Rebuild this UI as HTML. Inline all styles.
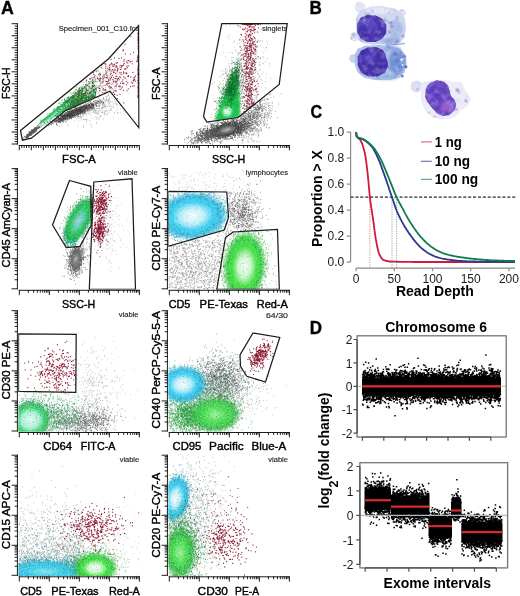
<!DOCTYPE html>
<html lang="en"><head><meta charset="utf-8"><title>Figure</title>
<style>
html,body{margin:0;padding:0;background:#fff;}
body{width:520px;height:596px;overflow:hidden;}
svg{display:block;}
text{font-family:"Liberation Sans",sans-serif;}
.fl text{stroke:#000;stroke-width:0.4px;}
.pl text{stroke:#000;stroke-width:0.35px;}
.an text{stroke:#262626;stroke-width:0.15px;}
.d path{fill:none;stroke-linecap:round;}
</style></head><body>
<svg width="520" height="596" viewBox="0 0 520 596">
<rect width="520" height="596" fill="#fff"/>
<defs><radialGradient id="gG"><stop offset="0" stop-color="#f6fef6" stop-opacity="1"/><stop offset="0.3" stop-color="#c9f7c9" stop-opacity="1"/><stop offset="0.56" stop-color="#3fe03f" stop-opacity="1"/><stop offset="0.8" stop-color="#2acd36" stop-opacity="0.85"/><stop offset="1" stop-color="#2acd36" stop-opacity="0"/></radialGradient><radialGradient id="gC"><stop offset="0" stop-color="#f4fdff" stop-opacity="1"/><stop offset="0.32" stop-color="#c0f0fa" stop-opacity="1"/><stop offset="0.58" stop-color="#36cdf2" stop-opacity="1"/><stop offset="0.8" stop-color="#27bbe2" stop-opacity="0.85"/><stop offset="1" stop-color="#27bbe2" stop-opacity="0"/></radialGradient><radialGradient id="gT"><stop offset="0" stop-color="#a5cfe4" stop-opacity="1"/><stop offset="0.28" stop-color="#62cdb4" stop-opacity="1"/><stop offset="0.58" stop-color="#22c257" stop-opacity="1"/><stop offset="0.82" stop-color="#1cb648" stop-opacity="0.85"/><stop offset="1" stop-color="#1cb648" stop-opacity="0"/></radialGradient><radialGradient id="gK"><stop offset="0" stop-color="#b3b3b3" stop-opacity="1"/><stop offset="0.4" stop-color="#8a8a8a" stop-opacity="0.9"/><stop offset="0.8" stop-color="#6c6c6c" stop-opacity="0.6"/><stop offset="1" stop-color="#6c6c6c" stop-opacity="0"/></radialGradient><radialGradient id="gM"><stop offset="0" stop-color="#e0f9f2" stop-opacity="1"/><stop offset="0.42" stop-color="#a8efd2" stop-opacity="1"/><stop offset="0.63" stop-color="#3fd374" stop-opacity="1"/><stop offset="0.82" stop-color="#25ba54" stop-opacity="0.75"/><stop offset="1" stop-color="#25ba54" stop-opacity="0"/></radialGradient><radialGradient id="gD"><stop offset="0" stop-color="#9af29a" stop-opacity="1"/><stop offset="0.4" stop-color="#4ade50" stop-opacity="1"/><stop offset="0.75" stop-color="#2cc03c" stop-opacity="0.8"/><stop offset="1" stop-color="#2cc03c" stop-opacity="0"/></radialGradient><radialGradient id="gD2"><stop offset="0" stop-color="#2fbf55" stop-opacity="1"/><stop offset="0.6" stop-color="#25ad48" stop-opacity="0.9"/><stop offset="1" stop-color="#25ad48" stop-opacity="0"/></radialGradient><radialGradient id="gG2"><stop offset="0" stop-color="#e2fbe6" stop-opacity="1"/><stop offset="0.22" stop-color="#a9f0b9" stop-opacity="1"/><stop offset="0.5" stop-color="#3fd762" stop-opacity="1"/><stop offset="0.78" stop-color="#27bf4c" stop-opacity="0.85"/><stop offset="1" stop-color="#27bf4c" stop-opacity="0"/></radialGradient><radialGradient id="gP"><stop offset="0" stop-color="#effdf1" stop-opacity="1"/><stop offset="0.45" stop-color="#c4f5cf" stop-opacity="0.95"/><stop offset="1" stop-color="#6fe08f" stop-opacity="0"/></radialGradient><radialGradient id="gC2"><stop offset="0" stop-color="#7fe0f0" stop-opacity="1"/><stop offset="0.5" stop-color="#33c8e6" stop-opacity="1"/><stop offset="0.8" stop-color="#2bc0de" stop-opacity="0.75"/><stop offset="1" stop-color="#2bc0de" stop-opacity="0"/></radialGradient><clipPath id="k1"><polygon points="20.5,130.6 108.6,58.7 138.6,25.5 138.9,127.8 110.0,91.2 65.0,111.0 31.4,138.2 22.4,140.2"/></clipPath><linearGradient id="gW" gradientUnits="userSpaceOnUse" x1="62" y1="100" x2="69.5" y2="109.2"><stop offset="0" stop-color="#148a3e"/><stop offset="0.3" stop-color="#1fb653"/><stop offset="0.55" stop-color="#8fe6b0"/><stop offset="0.8" stop-color="#25b95a"/><stop offset="1" stop-color="#1d9a48"/></linearGradient><clipPath id="c00"><rect x="18.3" y="22.2" width="121.5" height="122.6"/></clipPath><clipPath id="k2"><polygon points="221.8,23.6 287.2,23.6 279.2,84.5 238.0,117.5 206.8,122.0 203.5,116.3"/></clipPath><clipPath id="c10"><rect x="168.3" y="22.2" width="121.5" height="122.6"/></clipPath><clipPath id="k3"><polygon points="69.5,180.5 90.8,186.3 91.3,225.0 80.0,246.3 66.3,247.5 52.5,225.0"/></clipPath><clipPath id="c01"><rect x="18.3" y="167.1" width="121.5" height="122.5"/></clipPath><clipPath id="k4a"><polygon points="168.0,191.3 226.8,192.0 228.5,217.5 224.3,230.0 168.0,246.3"/></clipPath><clipPath id="k4b"><polygon points="225.5,237.5 233.0,232.0 277.5,229.5 279.3,289.3 216.8,289.3"/></clipPath><clipPath id="c11"><rect x="168.3" y="167.1" width="121.5" height="122.5"/></clipPath><clipPath id="c02"><rect x="18.3" y="309.2" width="121.5" height="122.6"/></clipPath><clipPath id="c12"><rect x="168.3" y="309.2" width="121.5" height="122.6"/></clipPath><clipPath id="c03"><rect x="18.3" y="453.7" width="121.5" height="122.4"/></clipPath><clipPath id="c13"><rect x="168.3" y="453.7" width="121.5" height="122.4"/></clipPath><filter id="b1" x="-30%" y="-30%" width="160%" height="160%"><feGaussianBlur stdDeviation="0.75"/></filter><filter id="b2" x="-30%" y="-30%" width="160%" height="160%"><feGaussianBlur stdDeviation="0.65"/></filter><filter id="b3" x="-30%" y="-30%" width="160%" height="160%"><feGaussianBlur stdDeviation="1.6"/></filter><filter id="mot" x="0" y="0" width="100%" height="100%" color-interpolation-filters="sRGB"><feTurbulence type="fractalNoise" baseFrequency="0.16" numOctaves="2" seed="7" result="n"/><feColorMatrix in="n" type="matrix" values="0 0 0 0 0.85  0 0 0 0 0.85  0 0 0 0 1  0.9 0 0 0 -0.38" result="w"/><feComposite in="w" in2="SourceGraphic" operator="in" result="wm"/><feColorMatrix in="n" type="matrix" values="0 0 0 0 0.15  0 0 0 0 0.1  0 0 0 0 0.5  0 -1.3 0 0 0.55" result="k"/><feComposite in="k" in2="SourceGraphic" operator="in" result="km"/><feMerge><feMergeNode in="SourceGraphic"/><feMergeNode in="wm"/><feMergeNode in="km"/></feMerge></filter><filter id="grain" x="0" y="0" width="100%" height="100%" color-interpolation-filters="sRGB"><feTurbulence type="fractalNoise" baseFrequency="0.85" numOctaves="1" seed="3" result="n"/><feColorMatrix in="n" type="matrix" values="0 0 0 0 1  0 0 0 0 1  0 0 0 0 1  1.8 0 0 0 -0.92" result="w"/><feComposite in="w" in2="SourceGraphic" operator="in" result="wm"/><feColorMatrix in="n" type="matrix" values="0 0 0 0 0  0 0 0 0 0.3  0 0 0 0 0.35  0 -2.2 0 0 0.82" result="k"/><feComposite in="k" in2="SourceGraphic" operator="in" result="km"/><feMerge><feMergeNode in="SourceGraphic"/><feMergeNode in="wm"/><feMergeNode in="km"/></feMerge></filter><filter id="tear" x="-20%" y="-20%" width="140%" height="140%"><feGaussianBlur stdDeviation="1.1"/></filter><filter id="wed" x="-10%" y="-10%" width="120%" height="120%"><feGaussianBlur stdDeviation="0.7"/></filter><filter id="soft" x="-5%" y="-5%" width="110%" height="110%"><feGaussianBlur stdDeviation="0.35"/></filter></defs>
<g clip-path="url(#c00)"><g filter="url(#soft)" class="d"><path d="M43.6 128.6h0m2.6-1.8h0m2.7-1.2h0m1-1.1h0m1.3 .2h0m.4-.8h0m.3-1.1h0m.2 .6h0m.3-.4h0m.3-1.7h0m.2 1.6h0m.2-2.3h0m1-.7h0m0 1.5h0m0 1.6h0m.1-1.1h0m.2-1.9h0m.2 .2h0m0 .9h0m.4 0h0m.3-1.5h0m.1 .7h0m0 1.1h0m.3 .4h0m.1-.5h0m0 .4h0m.6-3.3h0m0 1h0m0 5.3h0m.1-4.1h0m0 .5h0m0 2.8h0m.1-.5h0m.1-2.8h0m.1 .8h0m0 .3h0m.4-1.2h0m.2 4.8h0m.1-5.3h0m.1-.1h0m.3-1h0m0 1.7h0m0 1.9h0m.1-4.9h0m0 1.6h0m0 2.3h0m.1-2.8h0m.1 .5h0m0 2h0m.1-3.3h0m0 3.3h0m.1-3h0m0 .3h0m.3-.9h0m0 1h0m0 .2h0m0 2.8h0m0 .3h0m.1-4.5h0m0 2.4h0m0 2.1h0m.1-3.4h0m0 .7h0m.1-.1h0m0 .3h0m0 0h0m0 1.7h0m.1 0h0m0 .4h0m.1-2.6h0m0 .4h0m0 .1h0m0 .8h0m0 1.5h0m0 .2h0m.2-3h0m0 1.2h0m.3-.8h0m0 .3h0m0 1.4h0m.1-2.2h0m0 .2h0m0 3.6h0m.1-4.8h0m0 1.1h0m.1 .5h0m.1 .1h0m0 1.4h0m.1-3.1h0m0 2.8h0m.1-5h0m.1 4.3h0m.1-2.5h0m0 .6h0m.1-2.4h0m0 3.1h0m0 3.6h0m.1-4.9h0m0 1.7h0m0 .4h0m0 .9h0m0 1.2h0m.1-2.4h0m0 .6h0m0 1.1h0m.2-5h0m0 2.6h0m0 1h0m0 .2h0m.1-3.9h0m0 3h0m0 2.9h0m.1-6.2h0m0 .1h0m0 .7h0m0 0h0m.2 2.1h0m.1-2.2h0m0 3.3h0m0 .3h0m.1-3.3h0m0 .2h0m0 3h0m0 .3h0m.1-1.5h0m0 .4h0m0 1.9h0m.2-4.5h0m.1 .2h0m0 1.5h0m0 1.2h0m.1-2.8h0m0 1.6h0m0 2.9h0m.1-3.6h0m0 1.2h0m.1-.7h0m.1-3h0m0 2.1h0m.1-2h0m0 .9h0m0 .5h0m0 1.2h0m0 0h0m0 2.3h0m0 .8h0m.1-4.2h0m0 1.5h0m0 2.2h0m0 .2h0m0 .7h0m.1-2.7h0m0 2.3h0m.1-6.5h0m0 5.1h0m.1-2.7h0m0 .8h0m0 4.9h0m.1-4h0m0 1.7h0m.1-4.9h0m0 .4h0m0 0h0m0 .6h0m0 3.6h0m.1-2h0m0 2.4h0m.1-3.8h0m.1 3.2h0m0 .8h0m.1-3.1h0m0 4.8h0m.1-5.9h0m0 .5h0m0 2.1h0m.1-2.8h0m0 2.3h0m.1 .6h0m0 .9h0m.1-2.9h0m0 1.1h0m0 .4h0m0 .4h0m0 .4h0m0 1h0m.1-4.8h0m0 2.5h0m.1-4.5h0m0 2.1h0m0 .6h0m0 1.1h0m0 1.3h0m.1-3.8h0m0 1.6h0m.1-.5h0m0 .7h0m0 1.1h0m0 2.7h0m.1-4.9h0m0 1.5h0m0 .4h0m0 .4h0m0 .5h0m.1-3h0m.1 .3h0m.1-1.3h0m0 .7h0m0 .1h0m0 1.8h0m0 .8h0m.1-2.2h0m0 1h0m0 .4h0m0 2.2h0m0 .9h0m.1-4h0m0 2.7h0m.1-2.6h0m0 .8h0m0 1.9h0m0 .8h0m.1-3.5h0m.1 1.9h0m0 1.5h0m.1-6.5h0m0 3.7h0m0 .6h0m0 1.3h0m0 1.2h0m.1-6.3h0m0 .9h0m0 2.2h0m.1 1.7h0m0 .6h0m0 2.7h0m.1-7.2h0m0 .9h0m0 1.6h0m.1-.9h0m.1 .4h0m0 .7h0m.1-1.6h0m0 .6h0m0 2.9h0m.1-2.6h0m0 .6h0m0 1.2h0m0 .6h0m0 .7h0m0 2.8h0m.1-7.8h0m.1 3.4h0m.1-3.1h0m0 1.7h0m0 0h0m0 .1h0m0 0h0m.1-1.5h0m0 .5h0m0 .9h0m0 0h0m0 .7h0m0 2h0m.1-3.8h0m0 1h0m0 .9h0m.1-4.7h0m0 1h0m0 2.5h0m0 .1h0m.1 .3h0m0 .2h0m.1-3.9h0m0 4.5h0m.1-1.5h0m0 1h0m.1-1.9h0m0 .3h0m0 4.4h0m.1-4.8h0m0 1.6h0m0 .3h0m0 3.7h0m.1-6h0m0 2.1h0m0 .8h0m.1-2.7h0m0 1.2h0m0 .9h0m.1-2.8h0m0 .6h0m0 .4h0m0 .3h0m0 1.2h0m0 .1h0m0 .4h0m.1-1.4h0m0 .6h0m0 .2h0m0 .5h0m.1-4.8h0m0 3h0m0 2.5h0m0 1.1h0m0 1h0m.1-6.7h0m0 3.3h0m0 .1h0m0 .3h0m0 .8h0m.1-3.5h0m0 1.9h0m0 1.5h0m0 1.5h0m.1-7h0m0 2.6h0m0 .4h0m.1-2.9h0m0 3.1h0m0 .1h0m0 .7h0m0 2.6h0m.1-4h0m0 1.9h0m0 .2h0m.1-1.4h0m0 .4h0m0 .1h0m0 .6h0m0 .2h0m0 0h0m.1-1.5h0m0 1.8h0m.1-4.2h0m0 3.2h0m.1-3.1h0m0 .7h0m0 .9h0m0 1.8h0m.1-1.6h0m0 1h0m.2-1h0m0 1h0m0 3.6h0m0 .5h0m.1-7h0m0 3h0m0 .1h0m0 .6h0m0 .6h0m0 1.5h0m.1-6.4h0m0 1.3h0m0 .8h0m.1-2.7h0m0 1.3h0m0 2.6h0m0 3.2h0m.1-8.6h0m0 3.2h0m0 2.2h0m0 1.7h0m.1-.9h0m0 .7h0m0 1.7h0m.1-2.7h0m0 .9h0m0 1.4h0m.1-5h0m0 3.4h0m0 1.1h0m.1-6.1h0m0 2.3h0m0 .5h0m0 .6h0m0 1.8h0m.1-4.9h0m0 3.2h0m0 2.9h0m.1-5.3h0m0 .9h0m0 .8h0m0 2h0m0 .4h0m0 2h0m.1-4.4h0m0 0h0m0 1.6h0m0 .3h0m0 1.6h0m.1-5.4h0m0 3.3h0m0 .2h0m0 .6h0m.1-1.8h0m0 .1h0m0 .1h0m0 .7h0m0 .2h0m0 1.3h0m0 1.9h0m.1-5.2h0m0 .7h0m0 .5h0m0 .3h0m0 .2h0m0 1.4h0m.1-2h0m0 1.1h0m0 1.9h0m.1-5.7h0m0 4.4h0m.1-2.1h0m0 .7h0m0 .4h0m0 .3h0m0 .2h0m0 1.8h0m.1-3.4h0m.1-1.4h0m0 .5h0m0 1.4h0m0 .4h0m0 .4h0m0 .9h0m0 .5h0m.1-5.7h0m0 0h0m0 .8h0m0 1.2h0m0 .2h0m0 1.3h0m0 .4h0m0 .4h0m0 .6h0m0 .4h0m.1-6.9h0m0 1.1h0m0 1.2h0m0 1.5h0m0 .2h0m0 2h0m.1-1.6h0m0 1h0m0 .2h0m.1-4.2h0m0 1.6h0m0 1.1h0m0 2h0m0 .1h0m0 .8h0m0 .3h0m.1-7.5h0m0 2.9h0m0 1.6h0m0 1.6h0m.1-1.8h0m0 1.5h0m0 .4h0m.1-3.7h0m0 1.3h0m0 2.5h0m0 1.6h0m.1-4.1h0m0 1.3h0m0 3.9h0m.1-6.2h0m0 2h0m0 1h0m0 .8h0m0 1.4h0m0 1.4h0m.1-7.2h0m0 .4h0m0 1.8h0m0 1.1h0m0 .3h0m.1-3.3h0m0 1.4h0m0 .5h0m0 0h0m0 .6h0m0 .2h0m0 .7h0m0 .8h0m.1-2.8h0m0 1h0m0 .2h0m0 .4h0m0 0h0m0 2.7h0m.1-6.4h0m0 3.1h0m0 .3h0m0 .6h0m0 1h0m.1-5.1h0m0 5.1h0m.1-3.9h0m0 2h0m0 .1h0m0 .1h0m0 1.3h0m0 .8h0m.1-6.1h0m0 1.6h0m0 1.3h0m0 0h0m0 1.2h0m.1-3.6h0m0 .5h0m0 .3h0m0 .9h0m0 .4h0m0 .1h0m0 1.2h0m0 .1h0m0 .6h0m0 1h0m.1-3.9h0m0 .5h0m0 .3h0m0 .1h0m0 2.8h0m0 .4h0m.1-5.5h0m0 3.6h0m.1-.2h0m0 .2h0m0 1.1h0m0 0h0m.1-5.3h0m0 .9h0m0 1.5h0m0 1.2h0m.1-2h0m0 2.4h0m0 .4h0m0 .2h0m0 .3h0m0 .3h0m0 1.8h0m.1-6.9h0m0 .1h0m0 1.7h0m0 .1h0m0 .9h0m0 .2h0m0 .7h0m0 .1h0m0 .5h0m.1-2h0m0 .1h0m0 2.3h0m0 .4h0m0 .6h0m.1-5.9h0m0 .3h0m0 1.2h0m0 .6h0m0 .3h0m0 .8h0m0 .8h0m0 .4h0m.1-2h0m0 2.5h0m0 2.8h0m.1-4.5h0m0 1.2h0m0 1.7h0m.1-3.7h0m0 .3h0m0 .8h0m.1-3.1h0m0 1.2h0m0 1.1h0m0 1.7h0m0 .4h0m.1-3.4h0m0 2.2h0m0 1.1h0m0 1.9h0m.1-3.1h0m0 1h0m0 .4h0m.1-5.1h0m0 2.2h0m0 .2h0m0 2.2h0m0 1h0m.1-5.1h0m0 3.5h0m0 .3h0m0 .8h0m.1-1.4h0m0 .4h0m0 0h0m0 .6h0m0 .6h0m.1-4h0m0 .8h0m0 .6h0m0 1.1h0m0 0h0m.1-5.2h0m0 4.6h0m0 2.4h0m0 .4h0m.2-6.1h0m0 1h0m0 1.9h0m0 .1h0m0 .2h0m0 1h0m0 .3h0m0 .9h0m0 0h0m0 1.5h0m.1-4.2h0m0 0h0m0 .3h0m0 .7h0m0 .6h0m.1-1.7h0m.1-1.4h0m0 4.7h0m.1-3h0m0 .6h0m.1-2.2h0m0 2.4h0m0 .9h0m.1-4.7h0m0 1.1h0m0 4.9h0m.1-8h0m0 1.4h0m0 2.3h0m0 1h0m0 .2h0m0 1.6h0m0 .5h0m.1-3.2h0m0 .7h0m0 .6h0m0 .9h0m0 1.3h0m0 .6h0m.1-1.8h0m.1-2.7h0m0 .8h0m0 .9h0m0 1.8h0m0 .7h0m0 2h0m.1-7.5h0m0 .7h0m0 .9h0m0 2.2h0m0 .8h0m0 .7h0m.2-7.4h0m0 1.6h0m0 .3h0m0 .5h0m0 .4h0m0 1h0m0 .1h0m0 .4h0m0 .1h0m0 .1h0m.1-2.2h0m0 1.9h0m0 .3h0m0 .5h0m0 0h0m0 .6h0m0 .7h0m0 .1h0m.1-5.4h0m0 0h0m0 1h0m0 3.2h0m0 1.3h0m.1-3.6h0m0 .6h0m0 1.5h0m0 .1h0m.1-4.3h0m0 .3h0m0 4h0m0 .3h0m.1-3.3h0m0 .3h0m0 2.1h0m0 .5h0m0 0h0m0 .7h0m0 .7h0m0 0h0m0 .7h0m.1-6.3h0m0 .4h0m0 2.1h0m0 1.2h0m.1-3.4h0m0 2.3h0m0 1.4h0m0 .1h0m0 1h0m.2-3h0m0 .3h0m0 2h0m0 .6h0m0 .5h0m.1-3.7h0m0 1.7h0m0 .2h0m0 0h0m0 .4h0m0 2.4h0m.1-5.1h0m0 .6h0m0 .6h0m0 .3h0m0 .4h0m0 0h0m0 1h0m0 3.2h0m.1-6.8h0m0 1.9h0m0 2.3h0m0 1h0m0 1.1h0m.1-4.5h0m0 1.5h0m0 0h0m0 1.8h0m.1-7.4h0m0 4.2h0m0 0h0m0 .1h0m0 .1h0m0 .1h0m0 .3h0m0 1h0m0 1h0m0 .6h0m.1-4.8h0m0 1.5h0m0 .1h0m0 1h0m.1-1.1h0m0 .6h0m0 .2h0m.1-2.2h0m0 1.6h0m.1-1.9h0m0 1.9h0m0 1h0m.1-1.8h0m0 .3h0m0 .8h0m0 .8h0m0 0h0m0 .7h0m0 .7h0m.1-5.7h0m0 2.5h0m0 1.1h0m0 .4h0m0 .2h0m0 1.5h0m0 .1h0m0 2.4h0m.1-8.3h0m0 1.2h0m0 .1h0m0 .3h0m0 .6h0m0 1.8h0m0 1.8h0m.1-4h0m0 2h0m0 .3h0m0 1.1h0m.1 .4h0m0 1.7h0m.1-5.9h0m0 1.6h0m0 .3h0m0 1.4h0m0 .7h0m0 .5h0m0 .3h0m.1-3h0m0 .2h0m0 2.1h0m0 .2h0m.1-3.8h0m0 .3h0m0 .9h0m0 0h0m0 .4h0m0 .1h0m0 .2h0m0 .3h0m0 1.6h0m0 2.8h0m.1-6.8h0m0 .5h0m0 .9h0m0 0h0m0 .6h0m0 0h0m0 .7h0m0 .9h0m0 .1h0m0 .1h0m.1-4h0m0 1.2h0m0 .2h0m0 .6h0m0 2.7h0m0 .5h0m.1-5.9h0m0 .2h0m0 .9h0m0 1.6h0m0 2.9h0m0 .2h0m.1-6.9h0m0 1.2h0m0 1.1h0m0 .1h0m0 .3h0m.1-1.7h0m0 1.9h0m0 .7h0m0 .3h0m0 .1h0m0 .5h0m0 .1h0m0 .6h0m0 .2h0m0 3.7h0m.1-7.1h0m0 2.6h0m0 .2h0m.1-2.3h0m0 .6h0m0 .5h0m0 .1h0m0 .5h0m0 .1h0m0 .4h0m0 1.5h0m.1-3.9h0m0 .8h0m0 .1h0m0 .2h0m.1-1.2h0m0 .7h0m0 .4h0m0 .7h0m0 .8h0m0 1h0m.1-6.3h0m0 4.5h0m0 .1h0m0 .2h0m.1-3h0m0 .9h0m0 0h0m0 .3h0m0 1.8h0m0 1.4h0m0 .1h0m0 .3h0m.1-5.8h0m0 .2h0m0 5.2h0m.1-5.4h0m0 1.9h0m0 .3h0m0 2.8h0m.1-5.4h0m0 .1h0m0 1.1h0m0 .9h0m0 .6h0m0 .1h0m0 .1h0m0 .2h0m0 .7h0m0 .7h0m0 1.2h0m.1-2.8h0m0 .1h0m0 .2h0m0 .7h0m.1-3.5h0m0 .3h0m0 2.5h0m0 2.2h0m0 .2h0m0 .6h0m.1-4.6h0m0 1.9h0m0 1.1h0m.1-4.6h0m0 1.9h0m0 1.4h0m0 5.4h0m.1-8h0m0 2.1h0m0 .1h0m0 1h0m0 .4h0m0 .6h0m.1-2.7h0m0 .1h0m0 .2h0m0 .4h0m0 1.2h0m0 .4h0m0 1h0m0 .3h0m0 1.5h0m.1-8.5h0m0 1h0m0 1.4h0m0 .7h0m0 .7h0m0 .4h0m0 .2h0m0 .3h0m0 .1h0m0 1.1h0m0 .3h0m.1-4.7h0m0 .3h0m0 .2h0m0 1.6h0m0 .1h0m0 .2h0m0 2.3h0m.1-3.9h0m0 .4h0m0 .4h0m0 .1h0m0 2.4h0m0 .8h0m.1-3.1h0m0 .2h0m.1-1.5h0m0 1.6h0m0 .5h0m0 1.5h0m.1-3.6h0m0 .2h0m0 .9h0m0 .6h0m0 1.5h0m0 .2h0m.1-2.4h0m0 .3h0m0 3.9h0m.1-5.3h0m0 .5h0m0 .5h0m0 1.5h0m0 0h0m.1-3.1h0m0 1.5h0m0 .7h0m0 .1h0m0 1.2h0m0 .8h0m.1-2.6h0m0 0h0m0 .9h0m.1-3.4h0m0 3.5h0m0 .3h0m0 .3h0m0 .1h0m0 1h0m.1-5.7h0m0 .6h0m0 4.7h0m0 1.3h0m.1-3.5h0m0 2.6h0m.1-3.6h0m0 2.7h0m0 5.8h0m.1-9.6h0m0 3.2h0m0 .2h0m0 .2h0m0 1h0m.1-3.9h0m0 2.1h0m0 .5h0m0 2h0m.1-5.9h0m0 2.7h0m.1 .7h0m0 .5h0m0 4.1h0m.1-8.1h0m0 .7h0m0 1.3h0m0 .6h0m0 1.7h0m0 1.2h0m.1-4.3h0m0 .9h0m0 .3h0m0 .6h0m0 3.7h0m.1-4.7h0m0 .3h0m0 1.3h0m0 1.4h0m.1-4.5h0m0 1h0m0 1.9h0m0 .1h0m0 2.2h0m.1-5.9h0m0 2.3h0m0 1h0m0 .7h0m0 .6h0m0 1.8h0m.1-4.9h0m0 0h0m0 3.7h0m.1-3.2h0m0 .7h0m0 2.5h0m.1-3.5h0m0 .2h0m0 1.1h0m0 1.7h0m.1-3.5h0m0 .5h0m0 .5h0m0 .3h0m0 1.1h0m0 .2h0m0 .1h0m0 3.6h0m.1-7.3h0m0 .5h0m0 4.8h0m.1-5.1h0m0 .9h0m0 2.7h0m.1-4.4h0m0 3.5h0m0 .4h0m0 .2h0m0 0h0m.1-3.7h0m0 2.8h0m0 1.1h0m.1-2.3h0m0 .7h0m0 .5h0m.1-3.5h0m0 2.1h0m0 .9h0m0 1.9h0m0 1.6h0m.1-5.6h0m0 1.6h0m0 .5h0m.1-.7h0m0 1.2h0m0 .3h0m0 1.9h0m.1-5.2h0m0 1.4h0m0 .2h0m0 .3h0m0 1h0m0 2.2h0m.1-4.3h0m.1-1.7h0m0 0h0m0 .9h0m0 .9h0m0 1h0m.1 .1h0m0 .1h0m0 .7h0m0 .5h0m0 1.6h0m0 1.2h0m0 .4h0m0 .9h0m.1-7h0m0 1.2h0m0 2.1h0m0 .8h0m0 2.2h0m.1-7h0m.1-.3h0m0 1.8h0m0 .5h0m.1 1.7h0m0 .5h0m0 .5h0m.2-1.9h0m0 1.7h0m0 .3h0m0 1.1h0m0 .7h0m.1-4.3h0m0 .5h0m0 .2h0m0 .3h0m.1-1.6h0m0 .2h0m0 3h0m0 3.1h0m.1-5.2h0m.1-2.7h0m0 2.5h0m.1-1.4h0m0 1.6h0m0 .2h0m.1 .8h0m0 .3h0m0 1h0m.1-4.2h0m0 1.5h0m.1-3.2h0m0 .5h0m0 1.5h0m0 .6h0m0 .2h0m.1-.6h0m0 0h0m0 .3h0m0 1.3h0m0 2.5h0m.1-7.4h0m0 3.8h0m0 .4h0m0 2.5h0m0 1.4h0m.1-6.3h0m0 1.3h0m0 1.1h0m.1-2.9h0m0 2.5h0m0 .3h0m.1-.9h0m.1 .2h0m.1-2.3h0m0 3.6h0m.1-3.1h0m.2 .9h0m0 .6h0m0 1h0m0 3h0m.1-6.1h0m0 .5h0m0 1.1h0m0 .9h0m0 .4h0m0 .2h0m.1-1.4h0m0 2.1h0m.1-3.3h0m0 .7h0m0 .5h0m0 2.9h0m0 .6h0m.1-3.9h0m0 1.5h0m.1-1.1h0m0 1.3h0m.1-.2h0m.1 1.7h0m.1-2.7h0m.1-.4h0m0 1.3h0m0 .6h0m0 1.2h0m0 0h0m.1-5.3h0m0 2.3h0m.1 .2h0m0 .3h0m0 1.7h0m.1-1.7h0m0 3.7h0m0 .2h0m.1-7.4h0m0 2.3h0m0 .9h0m0 3.3h0m.1-2.9h0m0 1.3h0m0 .3h0m.1-2.7h0m.2-.9h0m0 1.8h0m.1 .7h0m.1-2.4h0m0 2.1h0m.1-2.7h0m0 4.1h0m0 .9h0m.1-3.4h0m0 .5h0m.1 .2h0m0 1.1h0m.1-6.5h0m0 1.2h0m0 1.8h0m.1 3.2h0m.1-2.3h0m0 1.9h0m0 1.5h0m.1-4.4h0m0 .3h0m0 .1h0m0 .5h0m0 4.8h0m.1-5.2h0m0 1.2h0m0 1.6h0m.1-1.6h0m0 .2h0m0 1.3h0m0 .7h0m.1-.2h0m0 1.9h0m.2-3.6h0m0 .7h0m0 .2h0m.1 .1h0m.1 1.4h0m.1-2.6h0m.1 1.6h0m.1-6.2h0m.1 6.7h0m.1-4.6h0m0 2.4h0m.1 .6h0m.1 .9h0m0 0h0m.1 3.4h0m.1-8.3h0m0 1.7h0m0 2.7h0m.1 1.4h0m.1-4.3h0m0 3.6h0m0 .5h0m0 1.4h0m.1-4h0m0 2.4h0m0 .5h0m.1-8.3h0m0 4.6h0m.1 1.5h0m.1-3.1h0m0 .9h0m0 1.3h0m.1-.9h0m.1 3.6h0m.1-4h0m0 2.1h0m0 1.3h0m.2-1.7h0m0 .4h0m0 1.7h0m.1-3.4h0m.1-1.2h0m0 3.4h0m0 .4h0m0 .2h0m.3-3.9h0m0 1.4h0m.1-.7h0m.1 4h0m.1-2.8h0m0 0h0m.1-.9h0m0 3.8h0m0 1.4h0m.1-4.7h0m.1-.7h0m0 1.2h0m0 .1h0m.1 0h0m.1 2.9h0m.1-6.7h0m0 2.9h0m0 .3h0m0 2.4h0m.1-3.3h0m0 2.1h0m.1-1.5h0m0 .3h0m0 1.7h0m.1 .1h0m.1-5.5h0m.1 4.5h0m.1-.3h0m.9 2.5h0m.1-5.6h0m0 .7h0m.1 1h0m.1-3.4h0m.1 3.9h0m.5-.6h0m.1 .9h0m.3-2.3h0m.1 1.4h0m0 2h0m0 .5h0m.1-.9h0m.3-2.1h0m.2-2.7h0m0 2.3h0m.1-1.3h0m.3 .2h0m.1 1.3h0m.4-2.2h0m.3 5.3h0m.3-3.1h0m.4-1.9h0m0 .3h0m.1 .4h0m.4 3.9h0m.3-5.8h0m.2 2.3h0m.3 1.2h0m.6-3.5h0m0 .8h0m.2 .9h0m0 .2h0m.2 .1h0m.6 .4h0m.3-1.3h0m.5 2.8h0m.8-6.1h0m0 4.4h0m.1 .4h0m.3 .6h0m.1-.4h0m.2-3.7h0m1.5 1.7h0m.7-4h0m.3 2.3h0m2-4.2h0m.4 4.9h0" stroke="#444" stroke-width="1.00" opacity="0.85"/><path d="M58.2 118h0m1.1 8.6h0m1.7-2.3h0m4.5-11.4h0m1.5 12.2h0m.6-6.4h0m.1 1.5h0m.5 5h0m1.8-12.4h0m3.8 1.9h0m.2 0h0m.1 5.9h0m.8-7.6h0m.1 .6h0m.7-1.6h0m.1 2.1h0m.6-.2h0m.6 4.7h0m.4-1h0m.4 8.7h0m.5-14.2h0m.2 8.8h0m.2-8.7h0m.4 0h0m.5 6.2h0m.3-4.7h0m.4 4.1h0m.3 .4h0m1.1 1.6h0m.2-3.3h0m.6-8.2h0m.2 1.9h0m.6 8.8h0m0 6.6h0m0 1.1h0m.1-11.1h0m0 3.9h0m.1 7.9h0m.2-13.4h0m.1-5.6h0m0 7.7h0m.4-8.2h0m.1 11.6h0m.4-11.3h0m.5-3.9h0m0 6.6h0m.2-.3h0m.1 8.8h0m.1-8.6h0m0 .9h0m.2-9.8h0m.2 17.3h0m.2-14.2h0m.2 15.1h0m0 1.5h0m.1-5.9h0m.2-1.9h0m.1-10.5h0m.5 16.3h0m.2-13.3h0m.1 1.8h0m.3 3.7h0m.2 .1h0m0 1.6h0m.1-6.1h0m.1 2h0m0 .2h0m.3-1.3h0m.2-4.2h0m0 2.8h0m0 4.4h0m.4 1.6h0m.4-3.5h0m.1 11.4h0m.2-12.5h0m0 5.1h0m.2-6.3h0m.3 17.1h0m.5-9.9h0m.2 11.1h0m.1-7.3h0m.1-7.7h0m.3-1.4h0m.1 18.6h0m.1-21h0m.4-2.9h0m.2 5.8h0m.1-1.4h0m.1 4.3h0m.4-3.3h0m.2-5.5h0m.1 7.5h0m.2 1.2h0m.1-.6h0m.3 6.9h0m.1-9.1h0m.2-3.7h0m0 3.4h0m.1-5.1h0m0 6.1h0m0 3.5h0m.1-3.5h0m.2-8.3h0m0 6.1h0m.1-.7h0m.2 2h0m.1-3.9h0m0 5.3h0m0 1.9h0m.1-2.4h0m0 6.1h0m.1-13.9h0m0 2.4h0m.1-3.2h0m.2 10.1h0m.3 .2h0m0 .3h0m.1-7.8h0m0 5.6h0m0 3.6h0m.2-9.4h0m.1-.4h0m0 14.1h0m.2-4.8h0m.1-2.4h0m.1-2.4h0m0 15.3h0m.1-1.3h0m.1-3.1h0m.1-10.2h0m0 4.5h0m.1 4.3h0m.3-20.5h0m.1 5h0m0 6.2h0m0 7.2h0m.1-2.4h0m.1-12.5h0m0 5h0m.5 6.7h0m.1-1.6h0m0 2.7h0m0 5.4h0m.1-21.7h0m.1 1h0m.1 1.8h0m0 4.4h0m0 4.1h0m.5 2.7h0m.1-3.1h0m.1 3.1h0m.1 6.1h0m.1-15.3h0m0 4.8h0m.1 .8h0m0 1.5h0m.1 5.2h0m0 4.7h0m.4-14.5h0m0 .9h0m.3-2.1h0m.3 12.5h0m0 .4h0m.4-11.1h0m0 5.3h0m0 5.9h0m.1-4h0m.2-12.7h0m.1 12.8h0m.2-4.7h0m0 1.2h0m.4-.6h0m.1-.2h0m.2-5.6h0m.2-1.8h0m0 3.2h0m0 3.4h0m0 .8h0m0 4.2h0m.2-.3h0m.1-1.3h0m.2-9.2h0m0 4h0m0 .1h0m0 2.3h0m.1-5.1h0m.1-3.9h0m0 5.8h0m0 1.8h0m.1 12.7h0m.1-20.9h0m.3 9.1h0m.3-3.3h0m.1 8.1h0m0 1.5h0m.1-12.1h0m.1 4.9h0m.1-1.3h0m0 9.1h0m.2-2.4h0m.1 1.2h0m.1-19.2h0m0 13.3h0m.1 3.8h0m.1-5h0m.1-1.4h0m0 1.8h0m.1 7.6h0m.1-8h0m.2 .4h0m.1-2.6h0m.2 7.4h0m.1-3h0m.7-7.7h0m.1 9.9h0m0 .3h0m.2-4.1h0m0 3.8h0m.1-9.1h0m0 12.8h0m.1-14.9h0m.1 7.6h0m.2 5.4h0m.2-16.1h0m0 18.7h0m.2-14.3h0m.1 5.2h0m.3-4h0m.1 1.3h0m.1-2.2h0m.5-2.1h0m0 5.5h0m.1-4.6h0m.1 2.8h0m.2-1.1h0m.2-4.1h0m.1 .5h0m0 8.9h0m0 5.9h0m.1-6.9h0m0 4.6h0m.1-6.8h0m.2-11.3h0m.1 17.7h0m.2-5.1h0m.1-2.8h0m.1 7.4h0m.2-16.5h0m0 17.5h0m.1-3.7h0m.8 2.7h0m.1-2.6h0m.1 1.8h0m.1-6.8h0m.3 4.6h0m1-3.1h0m.1-7.2h0m0 11.5h0m.1 9.7h0m.2-12.6h0m.4 1.9h0m0 6.2h0m.1-11.3h0m.4-2h0m.2 13.8h0m.4-9.6h0m.7-1.9h0m.3-.8h0m0 2.1h0m.2 1.4h0m.1-.2h0m.4-.5h0m.3 6.4h0m.1 3.7h0m.3-8.5h0m.1 3.4h0m0 3.8h0m.5 .1h0m2.1-7.4h0m.1 7.6h0m.3-4.1h0m2.9 2.2h0" stroke="#8c8c8c" stroke-width="1.00" opacity="0.60"/><path d="M22.6 138.7h0m.5-.5h0m.4 1.7h0m.4-1.9h0m.5 1.7h0m.2-3.3h0m.4 .4h0m.3 .7h0m.5-.5h0m0 .8h0m.3-1.7h0m.1 .6h0m0 .5h0m.3-.7h0m.1-2.1h0m0 1.1h0m.1 .6h0m.1 .2h0m0 1h0m.1-.6h0m0 .5h0m0 .3h0m0 .4h0m0 .1h0m.1-1.7h0m.1 .2h0m0 .2h0m.1 1h0m.2-1.7h0m.1 1.4h0m.1-2.5h0m0 1.1h0m.1-1.6h0m0 1.8h0m0 1h0m.1-1.2h0m.1-1.5h0m0 1.1h0m0 .6h0m.1-.9h0m0 .7h0m.1-1h0m0 .9h0m.1-1.5h0m0 0h0m0 1.3h0m.1 1.1h0m.1-2.4h0m0 .1h0m0 .2h0m0 1.4h0m0 .1h0m0 1.3h0m.1-3.2h0m0 2.3h0m.1-3.1h0m0 2.2h0m.1-1.4h0m0 .4h0m0 .3h0m0 .1h0m0 .2h0m.1-3.6h0m.2 2.6h0m0 .6h0m.1-.9h0m.1-1h0m.1-.9h0m.1 0h0m0 1.3h0m.1-.3h0m0 .8h0m0 .5h0m.1-1.1h0m0 .5h0m0 1.1h0m0 .5h0m.1-3.4h0m0 1.9h0m0 1.1h0m.1-.9h0m0 .6h0m.1-1.1h0m0 .9h0m0 1.3h0m.1-1.6h0m0 .9h0m.1-1.3h0m0 .9h0m0 .3h0m.1-2.2h0m0 0h0m0 .3h0m.1-1.1h0m0 1.2h0m0 .7h0m.1-1h0m0 .7h0m0 .8h0m.1-1.2h0m0 0h0m0 1.8h0m0 .3h0m.1-3.3h0m0 .7h0m0 2h0m0 .4h0m.1-3.3h0m0 1.3h0m0 .1h0m.1-.4h0m0 2.5h0m.1-3.8h0m0 2h0m0 .6h0m.1-1.2h0m0 .6h0m0 .2h0m0 1.2h0m0 .2h0m.1-5.5h0m0 2.1h0m0 1.5h0m0 .5h0m.1-1.8h0m0 .7h0m0 1.5h0m0 .2h0m0 .8h0m.2-4.5h0m0 1.8h0m0 1.4h0m0 .6h0m.1-.9h0m.1-.8h0m0 .3h0m0 .6h0m0 .6h0m.1-1.9h0m0 .4h0m0 1.6h0m.1-2.5h0m0 2h0m.1-2.1h0m0 .5h0m0 1h0m.1-3h0m0 1.5h0m0 .3h0m0 1.2h0m0 1.2h0m.1-3.9h0m0 0h0m0 .3h0m0 1.7h0m.1-2.3h0m0 .9h0m.1 0h0m0 .5h0m.2 .3h0m0 .4h0m0 .7h0m0 .5h0m.1-3.7h0m.1 .9h0m0 .3h0m0 .6h0m.1 .3h0m.1-1.1h0m0 .6h0m0 .5h0m0 .6h0m.1-2.2h0m0 1.5h0m.1-2.5h0m0 2.2h0m0 1.8h0m.1-2.6h0m0 1.6h0m.1-2.2h0m0 1h0m.1-1.3h0m0 1h0m0 .4h0m0 1.1h0m.1-.6h0m.1-1.9h0m0 .3h0m0 .7h0m0 .8h0m0 .6h0m0 1.1h0m.1-3.3h0m0 .8h0m0 .8h0m.1-.3h0m0 1.2h0m.1-2.5h0m.1-.4h0m.1 1h0m.1-1.8h0m0 2.2h0m.1-1.4h0m0 .4h0m0 2.5h0m.1-3.1h0m0 1.9h0m.1-2.7h0m0 2.4h0m.1-1.1h0m0 .9h0m0 .9h0m.1-2.4h0m0 1.9h0m0 .5h0m.1-3.7h0m0 2.1h0m0 1h0m0 0h0m0 .4h0m0 .7h0m.1-3.8h0m0 1.2h0m.1-1.5h0m0 .9h0m0 .6h0m0 .1h0m0 .1h0m0 .4h0m0 1h0m.1-1h0m0 .1h0m0 .2h0m0 1.4h0m0 .3h0m.1-4h0m0 1.5h0m.2-1.8h0m0 .4h0m0 .9h0m0 .9h0m.1-.1h0m.1-2.3h0m0 .5h0m0 .3h0m0 1.6h0m.2-2.2h0m0 .7h0m.1 2.4h0m.1-2.3h0m0 .1h0m0 .2h0m0 1.9h0m.1-.8h0m.1-2h0m0 .6h0m0 .3h0m0 .8h0m.1-.7h0m0 1.3h0m0 .2h0m.2-1.2h0m.1-1.9h0m0 1.4h0m.1 2.2h0m.2-3.6h0m0 1.2h0m.1-.3h0m.2-1.5h0m0 1h0m.3 .3h0m.1-2.7h0m0 2.3h0m.1 .3h0m.1-2.6h0m0 2.9h0m0 .7h0m.3-2.3h0m.1-.1h0m0 .4h0m.1 .4h0m.1 .5h0m0 .1h0m.2-.6h0m.4-.7h0m.3 .9h0m.1-.6h0m0 .3h0m.2-1h0m.5 1.1h0m.9-3.3h0m.1 1.1h0m.1 1.2h0m2.7-4.1h0m.6 .2h0" stroke="#5a5a5a" stroke-width="1.00" opacity="0.85"/><path d="M35.4 130.5h0m4-2.7h0m.5-1.6h0m.7-6.2h0m.3 .9h0m1.8 4.3h0m.1-5.2h0m.3 1.8h0m.7-2.3h0m.1 4.3h0m.4 1.1h0m.6-4.1h0m0 2.9h0m.4-.1h0m.1-3.1h0m.5-.7h0m.2 2.3h0m.4-2.8h0m.1 5.5h0m.2-2.9h0m.2 2.3h0m.1-10.1h0m.2 5.8h0m.1 2h0m.2 .1h0m.1-2.5h0m.2-3.6h0m.5 7.2h0m.1-1.1h0m.4-5.6h0m.1 3.4h0m.1-6.5h0m.2 5h0m.1 2.9h0m.6-4.4h0m.2 3.4h0m.2-1.3h0m.3 2.6h0m.1-2.3h0m.1 2.6h0m.1-7.2h0m.1-.7h0m0 .4h0m.1 3.2h0m0 1.1h0m.1 3h0m.3-7.3h0m0 1.8h0m.5 .6h0m.1 .6h0m0 1.4h0m.1-6.1h0m0 .3h0m.2-.8h0m0 4h0m0 4.1h0m.2-6.1h0m0 .3h0m0 1.6h0m.1-1.8h0m.2 2.9h0m.1-.7h0m.1-.5h0m.2-1h0m.1-4.9h0m.2 1.2h0m.1 3.6h0m0 1.8h0m.1-6.3h0m.1-1.3h0m.1 5.8h0m0 1h0m.1 .3h0m0 2.2h0m.1-8.7h0m.1 4.4h0m.2 1.5h0m.2-.8h0m.2-.4h0m0 .5h0m.3-1.7h0m0 1.7h0m.1-2.4h0m.2 .1h0m0 .1h0m.3-2.5h0m0 6.2h0m0 .5h0m.2-2.8h0m.2-5.9h0m0 8.6h0m.1-7.2h0m.1 3.7h0m0 3.1h0m.1-7.7h0m0 1.4h0m0 5.2h0m.1 1.9h0m.1-1.3h0m.1-4.6h0m0 .4h0m.1-.2h0m0 2h0m0 .8h0m.3-6.6h0m0 3h0m0 4h0m0 1.3h0m.1-8.1h0m0 5.4h0m.1-1.8h0m.1-3.8h0m0 .9h0m0 5.4h0m.2 1.9h0m.1-5.3h0m.1 1.4h0m0 .9h0m0 .6h0m0 .1h0m.1-4.5h0m0 2.7h0m.1 1.4h0m0 .3h0m0 1.5h0m0 .6h0m0 .6h0m.1-3.8h0m0 2h0m.1-3.2h0m0 2.2h0m0 1.8h0m.1-7.3h0m.1-1.3h0m0 4.2h0m0 1.1h0m0 1.6h0m.1-1h0m0 1h0m0 .9h0m0 .9h0m.3-11.9h0m0 .1h0m0 9.2h0m.2-6h0m0 4h0m.1-1.1h0m0 1.6h0m.2-4.2h0m0 6h0m.3-2.7h0m.1-2.2h0m0 2.5h0m0 .5h0m.1-8h0m0 3.6h0m0 8h0m.1-2.9h0m0 0h0m0 1.9h0m.1-3.7h0m0 .9h0m0 2.7h0m.2-1h0m.1-.7h0m0 .5h0m0 .8h0m.1-5.9h0m0 7.3h0m.1-5.2h0m0 2h0m0 2.1h0m.1-8.5h0m0 4h0m.1-3.8h0m0 1.2h0m0 3.7h0m.1-4.9h0m0 5.8h0m0 0h0m.1-3.6h0m0 .2h0m.1 2.7h0m.1-3.9h0m0 1.8h0m0 1.7h0m.1-5h0m0 3.1h0m0 5.4h0m.1-2.2h0m.1-10.7h0m0 2.3h0m0 3.6h0m0 2.8h0m0 .4h0m0 .9h0m.1-4.5h0m.1 1.8h0m0 .7h0m0 2.6h0m.1-5.1h0m0 3.4h0m.1-1.2h0m0 2.6h0m.1-3.8h0m.1-.2h0m0 2h0m0 .7h0m0 1.4h0m0 .2h0m.1-11h0m0 4.5h0m.1 1.3h0m0 4.5h0m.1-5.2h0m0 1.9h0m0 4h0m.2-5.5h0m0 5.4h0m0 .7h0m.2-6.2h0m.1 2.4h0m.1 1.5h0m.1-6.2h0m0 .2h0m0 5.8h0m.1-2.1h0m0 .4h0m.1-5.1h0m0 6.5h0m.2-3.7h0m0 3.3h0m0 1.9h0m.1-6.2h0m0 2.9h0m.1-1.2h0m0 5.1h0m.1-3.7h0m0 .2h0m.1-2.6h0m.1 2.7h0m.1-.2h0m0 3.2h0m.1-3.4h0m0 2h0m.1-2.8h0m0 1.8h0m0 1.5h0m0 .1h0m.1-8.8h0m0 8.9h0m0 .5h0m.1-11.6h0m.1 4.2h0m0 .2h0m0 2.9h0m.1-4.6h0m0 3.7h0m0 1.9h0m0 .3h0m0 3h0m.1-6.9h0m0 2.6h0m.1-3.5h0m.1-.8h0m0 4.9h0m0 .4h0m0 1.8h0m0 1.3h0m.1-1.9h0m.1 1.6h0m.1-6.5h0m0 5.3h0m0 .8h0m.2-8.6h0m0 9h0m.2-8.4h0m.1-.7h0m0 5.5h0m0 1.6h0m.1 .9h0m0 1.6h0m.1-6.2h0m.1 4.4h0m0 0h0m.1-3.7h0m.1-3.7h0m.1-.8h0m0 7.4h0m.1-5.4h0m0 3.7h0m.1-6.4h0m0 1.9h0m0 1.5h0m0 .3h0m0 .1h0m0 5.2h0m.1-3.4h0m0 4.7h0m.2-2.3h0m.1-8.5h0m0 2.8h0m0 2.6h0m0 4.2h0m.1-5.1h0m0 3.4h0m0 2.2h0m.1-5.8h0m.1 4.8h0m.1-4.6h0m.1-2.2h0m0 7.8h0m0 .2h0m.1-6.3h0m.1-4.2h0m0 3.4h0m.1 1.3h0m0 4.7h0m.1-2.8h0m0 .7h0m.1-3.3h0m0 .1h0m0 3.7h0m0 2.2h0m.1-1.8h0m.1-5.4h0m0 .2h0m0 .5h0m0 .4h0m0 .6h0m0 2.1h0m0 .6h0m.1-2.7h0m.1-3h0m0 2h0m0 .3h0m.1-5.2h0m0 8.5h0m0 1.3h0m0 1.5h0m.1-9.5h0m0 5.8h0m0 .2h0m.1-5h0m0 .3h0m0 5.3h0m.2-5.5h0m0 1.2h0m0 .2h0m.1-1.7h0m.1 4.5h0m.1 1.2h0m0 1.6h0m.1-6.5h0m0 1.7h0m0 .1h0m0 1.1h0m0 .4h0m0 2.3h0m0 .3h0m.1-.7h0m.1-4.3h0m0 1.2h0m0 2.5h0m.1 .3h0m0 .1h0m.1-3.3h0m0 2.2h0m.1-7h0m0 1.5h0m0 3h0m0 2.8h0m.1-7.2h0m0 3.8h0m0 3.2h0m0 1.4h0m.1-3.6h0m0 3.5h0m0 1.3h0m.1-3.5h0m.2 0h0m0 2.8h0m.1-7.2h0m0 1.1h0m0 .3h0m0 .3h0m0 2.2h0m0 2.1h0m0 1.9h0m0 0h0m.1-8.5h0m0 .3h0m0 .7h0m0 1.4h0m0 .6h0m0 1.2h0m.1 0h0m.1-1.6h0m.1-8.6h0m0 14.4h0m.1-8.5h0m0 1.1h0m0 3h0m0 .4h0m0 1.8h0m0 1.7h0m.1-6.4h0m0 .3h0m0 4.4h0m.1-6.7h0m0 6.8h0m0 2.5h0m.1-6.2h0m0 .8h0m0 2h0m0 .7h0m0 .7h0m.1-8.3h0m0 .2h0m0 .8h0m0 4.5h0m0 3.5h0m.1-2.1h0m0 3h0m.1-13.3h0m0 6.7h0m0 .4h0m.1-2.1h0m0 3.2h0m0 1.1h0m.1-6.7h0m0 3.9h0m0 .4h0m0 .9h0m0 2.5h0m0 1.8h0m.1-9h0m0 7.4h0m0 3.1h0m.1-11.2h0m0 2.6h0m0 4.2h0m.1-.1h0m.1 .7h0m.1-6.4h0m0 2.3h0m0 5.4h0m.1-7.8h0m0 5.2h0m0 .7h0m.1-6.2h0m0 2h0m0 1.2h0m0 3.9h0m.1-1h0m0 1.2h0m.1-11.3h0m0 5.1h0m0 1.9h0m0 1.6h0m.1-1.6h0m0 2.5h0m.1-5.4h0m0 .5h0m0 .8h0m0 .9h0m0 .6h0m0 1.5h0m.1-5.3h0m0 5.4h0m0 1.6h0m.1-6.6h0m0 4.8h0m.1 .1h0m.1 1.1h0m.1-4.3h0m.2 .1h0m0 1.2h0m.1-1.8h0m0 2.9h0m0 .2h0m0 3.6h0m.1-6.2h0m0 .7h0m0 1.9h0m0 2.1h0m.1-3.2h0m0 .1h0m0 3.4h0m.1-5.1h0m0 3.2h0m.1-4.3h0m0 5.6h0m0 3.5h0m.1-7.7h0m0 0h0m0 .8h0m0 3.8h0m.1-6.7h0m0 2.1h0m.1-.3h0m0 1.7h0m.1-2.7h0m0 4.7h0m0 .3h0m.3-3.7h0m0 2.2h0m.1-2h0m0 1.5h0m0 .7h0m.1-3.1h0m0 1.2h0m0 1.1h0m0 .3h0m.1-4.6h0m0 5.5h0m0 1.6h0m.1 0h0m.1-4.2h0m0 .3h0m0 .1h0m.1-.7h0m.1-2.7h0m0 2.7h0m0 3h0m.1-8h0m0 2.9h0m0 .7h0m0 0h0m0 1h0m0 1.1h0m0 .8h0m.1-5.1h0m.1 3.9h0m0 2.3h0m0 .1h0m.1 .2h0m0 .1h0m.1-3.9h0m0 .5h0m0 2.2h0m.1-10.9h0m0 9.2h0m0 .2h0m0 1.2h0m0 .8h0m0 1.5h0m.1-1.3h0m0 1.5h0m.1-9.1h0m0 5.7h0m.1-2.7h0m0 2.2h0m0 1.6h0m.1-3.2h0m0 1.4h0m0 3h0m0 4.5h0m.1-11.4h0m0 4.4h0m0 2h0m.1-5.4h0m0 1.6h0m.1-3.6h0m0 3.5h0m0 .4h0m0 1h0m.1-5.5h0m0 5.2h0m.1-4.3h0m0 .9h0m0 2.3h0m0 1.7h0m.1-5.7h0m0 1.6h0m0 .9h0m.1-2.8h0m0 4.4h0m0 1.1h0m0 .2h0m.1 .1h0m0 .4h0m.1-7.4h0m0 .5h0m0 2.9h0m.1 6h0m.1-2.2h0m.1-1h0m0 3.7h0m0 .6h0m0 .1h0m.1-11.7h0m0 1.1h0m0 .5h0m0 3.9h0m.1 1.3h0m.1-5.7h0m0 3.6h0m.1-.3h0m0 5.9h0m.1-8.4h0m0 1.8h0m0 1.7h0m.1-1.3h0m0 3.6h0m0 .3h0m0 3.4h0m0 2.3h0m.1-10.1h0m0 1.8h0m.1-3.6h0m0 3.2h0m0 .7h0m.2-5.1h0m0 2.2h0m0 3.8h0m0 7.5h0m.1-7.8h0m.1-2h0m0 1.7h0m0 .4h0m.1-1.4h0m0 8.5h0m.1-8.1h0m0 0h0m0 3h0m.1-8.2h0m0 1.3h0m0 2.6h0m0 .4h0m.3-2h0m0 3.7h0m0 1.3h0m0 .4h0m0 2.6h0m.1-6.8h0m0 .9h0m0 4.5h0m0 .1h0m.1-5h0m0 .9h0m0 5.2h0m.1-13h0m0 7.3h0m0 1.7h0m0 .9h0m.1-6.6h0m0 4.4h0m0 2.5h0m0 4.2h0m.1-3.6h0m0 .6h0m.1-8.5h0m0 4.1h0m.1 .3h0m0 2.4h0m0 2h0m.1-5.6h0m.1 .2h0m0 1.3h0m.1-3.9h0m0 4.5h0m0 .6h0m0 1.7h0m.2-6.9h0m0 .7h0m0 .5h0m.1-3.4h0m0 6.9h0m0 .9h0m.1-1.7h0m.1-3.6h0m0 .4h0m0 2.2h0m0 1h0m0 .8h0m0 5.7h0m.1-5.5h0m.1-4.6h0m0 6.9h0m.1-8h0m0 1.1h0m0 6.7h0m.1-5.4h0m0 4.9h0m.1-5h0m0 2.4h0m.1-4.7h0m0 .1h0m0 .8h0m.2-2.4h0m0 7.5h0m0 .8h0m.1-11.1h0m0 5.7h0m0 3.8h0m0 1.5h0m.1-7.5h0m0 3h0m0 .7h0m.2-2.6h0m.1-1h0m0 .5h0m0 6.5h0m.1-4.5h0m.1-2.5h0m0 .4h0m0 1.1h0m.1 1.4h0m0 3h0m0 2h0m.1-8h0m0 .1h0m0 5.8h0m.1-1.1h0m0 3.8h0m.1-5.1h0m.1-4.4h0m0 5.2h0m.1-5.8h0m0 .7h0m0 3.5h0m.1-2.8h0m0 4.1h0m0 1.8h0m.1-13.1h0m0 9.6h0m0 .1h0m0 3.1h0m.1-4.8h0m0 2h0m0 7.1h0m.2-8.4h0m0 .7h0m.1-.6h0m0 7.1h0m.2-3.7h0m.2-2.1h0m0 .8h0m0 1.6h0m0 1.5h0m.1-3.8h0m.1 3.3h0m.1-5.6h0m0 3.1h0m0 .2h0m.1-2.8h0m.1 4h0m.1-6.2h0m0 4.9h0m.1-7h0m0 3h0m.1 .7h0m0 4.3h0m.3-4.6h0m0 5.3h0m.1-4.4h0m0 1h0m.2-1.6h0m.1-3.2h0m0 2.1h0m.1 6.5h0m.3-7.7h0m0 1.8h0m.1 2.7h0m.2-4.9h0m0 .4h0m.1-3.4h0m.1 3.9h0m0 .3h0m0 3.5h0m0 .3h0m.1-4.1h0m0 2.7h0m.1 .3h0m.2-8.6h0m.2 12.6h0m.3 2.7h0m.1-12.6h0m0 1.6h0m0 1.1h0m.1-.9h0m0 0h0m.1 1.5h0m.2 .6h0m.4-2.6h0m0 4.4h0m0 1.8h0m.2-3.2h0m0 2.2h0m.1-1.5h0m0 .8h0m.1 .3h0m0 3.7h0m.1-8.5h0m0 3.1h0m.1-5h0m.1 9.5h0m.3-4h0m.1-5.2h0m.2-2.2h0m0 8.1h0m.2-3.5h0m0 .2h0m.2-.2h0m.1-1.2h0m.1-2.6h0m0 3.5h0m0 .7h0m0 .5h0m0 2.1h0m.1-5.6h0m.1 .8h0m0 5.4h0m.1-3.5h0m.1 3.6h0m.5-1.7h0m.1-3.1h0m.2 1.7h0m0 1.8h0m.1-6.9h0m.1 3h0m0 2h0m.1-4.7h0m0 1.6h0m.2-3.6h0m.3-.9h0m0 .9h0m.3 10.4h0m.3-4.6h0m.1-2.2h0m.3 1.6h0m0 1.1h0m.1-3.7h0m.1-1.5h0m.4-2.2h0m.1 2.6h0m.3 1.1h0m.1 7.4h0m.5-8.8h0m.2-5.3h0m.4 8.5h0m.1-5.9h0m.1 1.7h0m.1-2.6h0m.2-3.4h0m0 5.3h0m.8 1h0m.4-4.9h0m2.1-.2h0m1.4 8.7h0m1.6-8h0m.3-1.3h0m.2 1.2h0m.2 3.9h0m.4-5.6h0m4-4.5h0m1.1-2.3h0" stroke="#1f9f4a" stroke-width="1.00" opacity="0.80"/><g clip-path="url(#k1)"><polygon points="37.5,125.5 41,121 92,80 97,88 95.5,97.3 66,110.3" fill="url(#gW)" filter="url(#wed)"/></g><path d="M45.4 119.6h0m2 2.3h0m2.7-5.8h0m0 5h0m4.7-12.8h0m.5 7h0m.6 .3h0m1.2-2h0m.4-3.4h0m0 1.3h0m.2-5h0m.1 2.6h0m1.3 2h0m.4-1.7h0m.3 .1h0m1.3 2.1h0m1.5 .3h0m0 .2h0m.3-2.4h0m.1-7.2h0m.1 3h0m0 .5h0m0 .7h0m.1 .9h0m.1 1.4h0m.5-4.9h0m.4 4.2h0m.1-2.7h0m.2-1.4h0m.2 .9h0m0 .5h0m.2-3.3h0m.3 1.8h0m.1-3.6h0m.2 5h0m0 1.2h0m0 .1h0m.1-3.6h0m0 6.4h0m.4-1.8h0m.3-6.5h0m.1 6.6h0m.2-6.6h0m.2 .5h0m0 .5h0m.2-4.2h0m.1 3.9h0m.1 3.1h0m.1-7.8h0m0 3.6h0m.4 .6h0m.1 2.3h0m.2-6.1h0m0 0h0m.2 5.8h0m.2-4.9h0m0 1.6h0m0 .5h0m0 .7h0m0 3.3h0m.1 4.1h0m.1-11.7h0m0 5h0m.1 2.8h0m0 .7h0m.1-5h0m.2-3.5h0m.1-4.8h0m0 6.8h0m.3 1.7h0m.1-1.1h0m.3 2.1h0m.1-2.4h0m0 3.4h0m.4-6.4h0m.1 2.1h0m0 6.4h0m.2-7h0m0 8.4h0m.1-6.9h0m.3 4.9h0m.2-2.7h0m.1-2.8h0m0 1.7h0m.1-.2h0m0 7.1h0m.2-10h0m.1 .1h0m0 5.2h0m.1-5.6h0m.1-.3h0m0 1.5h0m0 3.5h0m0 1h0m.1 1.5h0m.1-3.2h0m.2-5.6h0m0 3h0m.1-.9h0m0 3.5h0m.2 4.5h0m.1-8.8h0m0 3.8h0m0 1.8h0m.1-3.9h0m0 1.2h0m.1-4.1h0m.1 1.9h0m.1 1.4h0m0 2.4h0m0 1.6h0m0 .3h0m.2-2.7h0m0 6.2h0m.1-13h0m0 4.4h0m0 5h0m.1-3.7h0m0 1.7h0m.3 1.5h0m.1-9.7h0m0 6.6h0m0 2.2h0m.2-5.3h0m0 1.1h0m0 8.5h0m.1-14.3h0m0 2.3h0m.3 5.6h0m0 .6h0m0 2.3h0m0 1.5h0m0 1.5h0m.2-8.9h0m.1-.4h0m0 0h0m0 1.4h0m.3-3.6h0m0 2.1h0m.1 5.7h0m.5-11.2h0m0 7.4h0m0 .4h0m.4 .9h0m.1 .1h0m.1-.3h0m0 1.4h0m.2-11h0m0 11.3h0m.2-1.4h0m0 .4h0m.2-12.5h0m0 6.7h0m0 4.6h0m.2 5.7h0m.6-8.3h0m0 1.2h0m0 1.8h0m0 4.6h0m.1-3.8h0m.3-5.6h0m.1-4.9h0m0 3.5h0m0 3.7h0m0 4.1h0m.1-6.8h0m0 5.3h0m.2-6.8h0m0 .4h0m0 4.8h0m.1-7h0m0 2h0m0 1.2h0m.1-.6h0m0 2.8h0m.1-.4h0m.1-3.6h0m.2 3.2h0m.1-3.7h0m.2-3.3h0m0 12.6h0m.4-5.1h0m.1-8.2h0m.1 2.2h0m0 5.3h0m.2-2.9h0m0 1.2h0m.3-5.8h0m0 11.5h0m.1-8.9h0m.2 .3h0m.2-2.7h0m0 8h0m0 .4h0m.2-3.7h0m0 5.1h0m.1-4.7h0m.1 .8h0m.1-4.8h0m.3 2.3h0m0 7.4h0m.1-7.2h0m.1-9.9h0m0 5.5h0m0 8.1h0m.1-.8h0m.1 .4h0m.1-3.3h0m0 6.3h0m.3-4.9h0m.1-3.1h0m.1 4.2h0m.1-5.2h0m.1 1.2h0m0 1.6h0m0 .8h0m.1 .2h0m0 .1h0m.2-5.7h0m0 8.6h0m.2-2h0m.1-8.3h0m0 8.7h0m.2 3.9h0m.1-9.3h0m.6-.8h0m0 3.9h0m.4 5.4h0m.2-9.3h0m0 7.7h0m.3-1.5h0m.1-6.7h0m.3 5.6h0m.4-1.6h0m.7-5.8h0m.1 6.9h0m.6-.5h0m.3-1.5h0m.4-2.2h0m.2-4.5h0m.1 7.9h0m0 5h0m1.2-10h0m.4-2.1h0m.1-5.8h0m.5 13.9h0m.2 .2h0m1-14.3h0m.3 1.4h0m.3 2.4h0m.9 5.8h0m.9-6.7h0m1.1 2.6h0m1.3 1.2h0" stroke="#137a33" stroke-width="1.00" opacity="0.70"/><path d="M58.2 107h0m.3 4.9h0m1.8-2.5h0m2-2.7h0m1.5 4.5h0m.8-11.6h0m.4 7.2h0m1.1 3.2h0m.1-7.6h0m.4-1.2h0m.5 8h0m.5-6.7h0m.3 3.8h0m1 2h0m.2-1.5h0m.3-4.7h0m.4-.4h0m.7 2.6h0m.3 2.1h0m.1-6.1h0m.6 2h0m.3-1.2h0m.3 .6h0m.1 2.8h0m.3-8.7h0m.3 8.9h0m.2-4.2h0m.2-4.4h0m0 2.1h0m.1-1.1h0m.1 5.3h0m.7-3.9h0m0 2h0m0 6.4h0m.1-1h0m.2-1.1h0m.1-1.6h0m.2-2.9h0m.5 2.7h0m.1 3.4h0m.2-6.9h0m.4-4.1h0m.6 4.3h0m.1 2.1h0m.2-4.9h0m.6 3.3h0m.2-3.8h0m.1 6.7h0m.1-6.7h0m.1 .8h0m0 .3h0m0 4.9h0m.1 1.8h0m.2-2.9h0m0 .3h0m.3-6.4h0m0 5.3h0m.1-10.4h0m.1 10.6h0m.2-7h0m0 .6h0m.1 1.9h0m.2-3.3h0m.1-4.1h0m0 8.7h0m.1-2h0m0 7.8h0m.1-11.6h0m.1 1.8h0m0 2h0m.1-.9h0m.9 4.7h0m0 .2h0m.2-8.9h0m.1 11.8h0m.2-14.9h0m0 5.9h0m.1 5.1h0m.3-3.6h0m.1 1.6h0m.1-2.8h0m0 5.1h0m0 1.3h0m.2-8.1h0m0 8.3h0m.1-3.8h0m.2-6.3h0m.2 7h0m.3-9.2h0m0 9.9h0m.1 1.9h0m.7 .4h0m.1-6.6h0m0 .5h0m.1-1.2h0m.2 2.9h0m.2 .6h0m.3-5.9h0m.2 1.1h0m0 1.8h0m.4 2.4h0m.1-3.7h0m.2-.3h0m.1 7.9h0m.1-6h0m.1-1.3h0m0 3.6h0m0 .2h0m.1-6.6h0m.4 8h0m.4-9.1h0m0 5.9h0m0 5.4h0m.1-9.5h0m.1 10h0m.1-1.9h0m.2-6.2h0m.2-1.6h0m.1 4h0m.2-1.4h0m.5-5.8h0m.3 3.1h0m.1-1.5h0m.1-.5h0m0 3.1h0m.1 5.6h0m.1-9.2h0m0 9.9h0m.3-5.7h0m.6 1.5h0m.6-7.1h0m0 4.6h0m.1 1.6h0m.1-6h0m.3 2.8h0m.3 2.6h0m1.4-8.2h0m.1 4.2h0m.2-4.9h0m.3 3.2h0m.4-3.6h0m.1 6.8h0m0 .4h0m.3-.5h0m.9-3.9h0m.3 3.9h0m2.5-2.5h0m5.8 1.4h0" stroke="#6b3a20" stroke-width="1.10" opacity="0.85"/><path d="M78 85.1h0m.3-.8h0m.7 2.4h0m1.6-4.5h0m0 1.5h0m.3 3.7h0m.1 2.2h0m.7-6.2h0m.8-1.7h0m0 3h0m.6 7.4h0m.1 .4h0m.1-11.6h0m.2 5.6h0m0 12.9h0m.4-12h0m.1 2.4h0m0 2.6h0m.3-1.7h0m.1-.9h0m.3-5.6h0m0 7.3h0m.1-9.8h0m.3 14.8h0m.2-8.8h0m.1-2.4h0m.1 4.5h0m.2-1.7h0m.8 6.2h0m.2-13.6h0m0 13h0m.3-2.3h0m.1 2.8h0m.1-10.1h0m0 .9h0m.1 13.5h0m.1-13.6h0m.1 2.7h0m.1-4.4h0m0 5.9h0m0 6.5h0m.1-9h0m0 .4h0m0 2.3h0m0 2.5h0m.2-10.7h0m0 11.3h0m.2-14.2h0m0 10.5h0m.1-.8h0m.1-2.7h0m.1 1h0m.1 6.8h0m.1-9h0m0 2.7h0m0 1.2h0m.1-2.1h0m.1 4.3h0m0 1.5h0m.2-4.9h0m0 4.7h0m.1-11.4h0m0 15.1h0m.1-2.4h0m.1 3h0m.1-10.5h0m0 5.9h0m.1-2.7h0m.2-3.2h0m0 6.7h0m.1-11.1h0m0 9h0m.3-7.3h0m0 .6h0m0 3.2h0m0 .1h0m.1 1.4h0m.1 1.4h0m0 1.4h0m.1 3.9h0m.1-10.1h0m0 1.9h0m0 .6h0m.1-1.1h0m0 3.8h0m.1-7.2h0m.1 4h0m.1 2.9h0m.2-.8h0m0 6.1h0m0 .2h0m.2-15h0m0 1h0m.1 2.2h0m0 10.8h0m.3 4h0m.1-14.4h0m0 2h0m0 1.6h0m0 .2h0m.1 1.5h0m.2-1.9h0m0 2.5h0m.1-5.1h0m0 7h0m0 1.2h0m.2-7.1h0m.1-3.6h0m.2 8.9h0m.1 6.4h0m.2-13.3h0m0 9.8h0m.2-5h0m.1-13.6h0m0 5.4h0m0 8.1h0m.1-6.3h0m.1-.5h0m0 3h0m.4 2.8h0m.1-2.7h0m.2 1.1h0m0 6h0m.1-7.6h0m0 9.4h0m0 1h0m.1-10.3h0m.1-1.3h0m0 2.9h0m0 2.1h0m.1-3.3h0m.2-2.5h0m.1 3.3h0m.2 4.6h0m.2-2.8h0m0 3.1h0m.1-14.4h0m.1 7.6h0m0 .6h0m.2-.2h0m0 2.7h0m.2-1h0m.2-1.5h0m.9 2.9h0m.7-4.3h0m.1 5.8h0m.4-3.8h0m.1 1.8h0m.4 5.6h0m.2-2.2h0m.1 .1h0m.7-6.9h0m.2 4.2h0m1-4.8h0m2.4 5.6h0" stroke="#fff" stroke-width="1.10" opacity="0.80"/><path d="M87.7 92.2h0m6-13.7h0m0 2.5h0m.2-10.3h0m0 8.5h0m.2 6.7h0m.6-7.3h0m.7 1.1h0m.8 9.7h0m.3 6.7h0m.3-23.3h0m.1 13.5h0m.2-15.3h0m.2-.1h0m.1 22.8h0m.2-11.8h0m.6-3.6h0m.2-8.2h0m.2 10.7h0m0 11.8h0m.2-21h0m0 6.9h0m.3 2.6h0m.1 4.6h0m.1-11.5h0m.3 3.5h0m.6-.4h0m.1 2.1h0m.2-1.4h0m.6 9.6h0m.1-5.2h0m.2-3.5h0m0 4h0m.1 4.1h0m.8 .1h0m.2-4.5h0m0 3.1h0m.2-2.4h0m.1-11.2h0m0 14.6h0m0 .3h0m.1-18.7h0m.2 5.5h0m0 2.6h0m.3 5.9h0m0 3.2h0m0 7.1h0m.2-16.2h0m.6-.8h0m.1 .9h0m.1-1.9h0m.2 3.1h0m.4 2.8h0m.5 7.2h0m.2-9.6h0m.2 3.6h0m.1-12.6h0m.3 6.9h0m0 15.5h0m.1-16.3h0m.1-4.3h0m0 19.2h0m.2-17.9h0m.2 20.3h0m.1-20.5h0m.3 .7h0m.1-2.6h0m.1 5.8h0m.3 15.6h0m.3-24.8h0m0 8.9h0m.2 4h0m.1 6.8h0m0 .2h0m.4-6.4h0m.1-.7h0m.3-8.2h0m0 7.5h0m.1-3.5h0m0 10.6h0m.2-14.9h0m.1 14h0m.1-8.7h0m.1 1.1h0m0 13.2h0m.1-10h0m.5 .1h0m.1-8.4h0m.5 6.6h0m.2-2.2h0m0 1.7h0m.3 9h0m.1-2.7h0m.3-9.1h0m0 7.2h0m0 1.4h0m.2-17.2h0m0 4.8h0m.1-1.9h0m.2 13.2h0m.2 .8h0m.1-4.4h0m.1 2.4h0m0 10.7h0m.4-9.7h0m.2-2h0m.2-7.5h0m.1-7.1h0m0 24.1h0m.2-.2h0m.1-6.7h0m0 10.1h0m.2-12.3h0m.1-.6h0m.1-16.8h0m.1 24.1h0m.1-16.9h0m.3 19.6h0m.1-18.3h0m.6 7.7h0m.1-12.7h0m0 22.9h0m.1-14h0m0 9.7h0m.1 2.2h0m.1-12.1h0m0 .3h0m.3 14.3h0m.4-18h0m.1 2h0m.4 1.7h0m.1 6.8h0m.2-11.3h0m.5 1h0m.1 4.2h0m.2-8h0m1 18.6h0m.6-13.9h0m1.7-4.5h0m1.1 5.6h0m4.2 4.9h0m2.2 13.1h0" stroke="#888" stroke-width="1.00" opacity="0.60"/><path d="M70.7 103.1h0m4.7-10.7h0m1.7 1.9h0m2.1-5.8h0m.3 2.3h0m2.8-.7h0m2.4-2.8h0m.9-2.8h0m.1 4.6h0m.3-8h0m.7-1h0m.1 10.2h0m.8-5.1h0m1.3-3.5h0m0 4.7h0m.6 6.1h0m.2-13.6h0m.1 9.1h0m.5-9h0m.9 15.7h0m.1-6.2h0m.6-11.4h0m.2 20.4h0m.3-17.5h0m0 6.9h0m.1-4.2h0m.1 3h0m.1 11.2h0m.2-13.2h0m.1 7.2h0m.1-18.4h0m.2-.2h0m0 13.9h0m.4-12h0m.1 7.5h0m.2-4.4h0m.1 19.9h0m.3-11.9h0m.2-9.2h0m.2-.3h0m.3 17.2h0m.5 4h0m.6-25.8h0m1.2 7h0m0 .5h0m1.3-4.2h0m0 4.5h0m0 8.9h0m.5-2h0m0 2.4h0m.3-8.1h0m0 14.6h0m.2-3.9h0m.1-17.5h0m0 15h0m.1 1.7h0m.1-8.6h0m0 8.8h0m.1-11.8h0m.1-3.4h0m0 .1h0m0 5h0m.2-5.9h0m.3 9.5h0m.2-5.2h0m.2-13.1h0m.1 2h0m.7-2.8h0m.3 17.4h0m0 10.2h0m.8-13.1h0m.1 10.9h0m.1-9h0m0 7.8h0m.4-10.9h0m.5-14.3h0m0 10.9h0m.4 15.4h0m.2-13.1h0m.1 16.4h0m.1-.5h0m.3-7.6h0m.1 4.2h0m.2-25.5h0m.2 4.1h0m.1 2.8h0m0 20h0m.1-26.7h0m0 2.1h0m0 7.7h0m.1-1h0m0 8.4h0m.4-3.7h0m0 .2h0m.2 3.8h0m0 2.3h0m.3-8.8h0m.2 2.9h0m.2 7h0m.2-16.9h0m0 13.7h0m.2-4.8h0m.1 4.5h0m.1 1.8h0m.7-2.6h0m.1 2.8h0m.1-3.6h0m.1-10.3h0m.3 18.2h0m.2-22.8h0m.2 2.7h0m.2 1.3h0m0 .9h0m0 16.5h0m.1-20.6h0m0 17.1h0m.3-4.8h0m0 1h0m.2-4.8h0m0 13.7h0m.4-23.7h0m.3-4.8h0m0 14h0m.1-2.4h0m.1 16.3h0m.1-24.3h0m.1 14.4h0m.5-13.8h0m.1 25.1h0m.1-19.1h0m.1 5.6h0m.5-10.5h0m.2 1.6h0m0 3.5h0m0 9.8h0m.4-7.7h0m0 5.3h0m0 15h0m.2-10.9h0m.4-8.9h0m.1-6.7h0m.3-1.3h0m.1-6.6h0m.1 36.6h0m.3-25.4h0m0 9.2h0m.1 12.7h0m.1-20.5h0m0 15.7h0m.3-12.6h0m0 8.1h0m.5 1h0m.2-17.1h0m0 .4h0m0 .8h0m0 11.7h0m0 3.4h0m0 9.1h0m.1-27.8h0m0 18.5h0m.3-5.4h0m0 9.6h0m.5-1.7h0m.1-17.3h0m.1 12.4h0m0 15.8h0m.1-24.2h0m0 9.8h0m.1-18h0m0 36h0m.1-28.3h0m.1-.4h0m0 9.1h0m.3-10.4h0m.4 9.8h0m.4 7.8h0m.2-8.2h0m.1-19.5h0m.1 21.2h0m.7-3.2h0m0 9.1h0m.1-12.9h0m.1-5.7h0m0 27.2h0m.1-7.6h0m0 2.7h0m.1-24.1h0m.2 4.4h0m.1 13.5h0m.3-5.4h0m.3-3.2h0m.1-1.8h0m.1-4.9h0m0 20.2h0m.2-30.1h0m.1 8h0m.1 .4h0m.4 14.9h0m.4 5.7h0m.1-3.7h0m.1-17.6h0m.2 14.1h0m.3-30.1h0m0 15.6h0m.1-14.3h0m.1 39.2h0m.1-18.4h0m.1-7.7h0m0 9.4h0m.1 10.2h0m.1-22.5h0m0 11.3h0m0 10.7h0m0 19.7h0m.1-25.9h0m.3-17.3h0m.2 9.2h0m.1-5.6h0m.6-19h0m0 33.7h0m.1 .2h0m.1-24.3h0m.4 19.1h0m.1-4.5h0m0 .9h0m.5 11.9h0m.2-19.4h0m.1 10.9h0m0 12.1h0m.1-11.3h0m.2-7.4h0m.1 24.6h0m.3-23.1h0m.4-4.7h0m0 13.3h0m0 6.5h0m.3-22.1h0m.2-.1h0m.1 16h0m0 12.3h0m.1-23.1h0m.2 9.9h0m.4-15.2h0m1.2 1.6h0m.3-.6h0m.1 25.2h0m.1-32.7h0m.1-17.4h0m0 40.3h0m.4 5.1h0m.7-20.9h0m.4 2.7h0m.2 19.5h0m.3-.5h0m0 3.4h0m.1-13.8h0m.3 8.2h0m.3-28.3h0m.2 28.2h0m.3-2.4h0m.1-.4h0m0 1.7h0m.2 6.4h0m.4-8.5h0m.2 2.6h0m.3 1.4h0m.3-5.4h0m1.2-14.5h0m.9-1.4h0m.3 22.9h0m.1-22.1h0m.1 9.4h0m.2-8.9h0m.4 13.4h0" stroke="#860e28" stroke-width="1.25" opacity="0.90"/><path d="M137.6 57.2h0m0 40.6h0m.1-57.5h0m0 55.4h0m.1-65.4h0m0 18.1h0m0 9h0m0 2.2h0m0 15.2h0m0 5.3h0m0 7h0m.1-54.1h0m0 10.2h0m0 16.8h0m0 6.7h0m0 1.7h0m0 2.4h0m0 6.9h0m0 9.3h0m0 1.3h0m.1-54.6h0m0 .8h0m0 2.8h0m0 2.4h0m0 2.5h0m0 3.2h0m0 10.2h0m0 .9h0m0 .7h0m0 .4h0m0 .8h0m0 11.5h0m0 3.5h0m0 1.2h0m0 3.3h0m0 2.3h0m0 .3h0m0 1.5h0m0 3.3h0m0 2h0m0 6.3h0m0 2.5h0m0 .2h0m.1-59.7h0m0 .2h0m0 .7h0m0 1.6h0m0 7h0m0 1.1h0m0 4.5h0m0 3.3h0m0 10.5h0m0 3.1h0m0 .6h0m0 4.5h0m0 1.2h0m0 0h0m0 14h0m0 1h0m0 .4h0m0 1h0m0 .3h0m0 1.2h0m0 3.8h0m.1-66h0m0 2.2h0m0 1.3h0m0 .7h0m0 3.4h0m0 .6h0m0 16.3h0m0 .4h0m0 1.9h0m0 .7h0m0 .7h0m0 2.2h0m0 1.1h0m0 1.8h0m0 3.5h0m0 2.3h0m0 1.6h0m0 1.5h0m0 7.4h0m0 2.7h0m0 .4h0m0 1.8h0m0 9.5h0m.1-59.3h0m0 2.4h0m0 2.2h0m0 .5h0m0 .4h0m0 3h0m0 3.9h0m0 1.4h0m0 1.2h0m0 12.4h0m0 .2h0m0 3.5h0m0 .4h0m0 2.8h0m0 2.6h0m0 .5h0m0 .6h0m0 3.8h0m0 10.7h0m0 .3h0m.1-53.3h0m0 .4h0m0 .1h0m0 .4h0m0 1.3h0m0 1.2h0m0 7.1h0m0 19.6h0m0 2.4h0m0 2.2h0m0 .3h0m0 8.9h0m0 .6h0m0 2.5h0m0 .3h0m0 7.1h0m0 3.8h0m0 2h0m0 1.2h0m.1-65.4h0m0 2.9h0m0 3.1h0m0 2.5h0m0 5.4h0m0 .2h0m0 .1h0m0 16.9h0m0 1.2h0m0 5.6h0m0 3.8h0m0 .3h0m0 14.7h0m0 1.8h0m0 .6h0m0 1.7h0m0 6.1h0m.1-54.4h0m0 23h0m0 10.1h0m.1-44.7h0m0 25h0m0 38.9h0m.1-11.7h0" stroke="#860e28" stroke-width="1.00" opacity="0.75"/></g><polygon points="20.5,130.6 108.6,58.7 138.6,25.5 138.9,127.8 110.0,91.2 65.0,111.0 31.4,138.2 22.4,140.2" fill="none" stroke="#1c1c1c" stroke-width="1.25"/></g>
<path d="M17.40 23.20V144.50M17.80 144.00h-6.20M17.80 141.59h-3.20M17.80 139.19h-3.20M17.80 136.78h-3.20M17.80 134.38h-3.20M17.80 131.97h-6.20M17.80 129.56h-3.20M17.80 127.16h-3.20M17.80 124.75h-3.20M17.80 122.35h-3.20M17.80 119.94h-6.20M17.80 117.53h-3.20M17.80 115.13h-3.20M17.80 112.72h-3.20M17.80 110.32h-3.20M17.80 107.91h-6.20M17.80 105.50h-3.20M17.80 103.10h-3.20M17.80 100.69h-3.20M17.80 98.29h-3.20M17.80 95.88h-6.20M17.80 93.47h-3.20M17.80 91.07h-3.20M17.80 88.66h-3.20M17.80 86.26h-3.20M17.80 83.85h-6.20M17.80 81.44h-3.20M17.80 79.04h-3.20M17.80 76.63h-3.20M17.80 74.23h-3.20M17.80 71.82h-6.20M17.80 69.41h-3.20M17.80 67.01h-3.20M17.80 64.60h-3.20M17.80 62.20h-3.20M17.80 59.79h-6.20M17.80 57.38h-3.20M17.80 54.98h-3.20M17.80 52.57h-3.20M17.80 50.17h-3.20M17.80 47.76h-6.20M17.80 45.35h-3.20M17.80 42.95h-3.20M17.80 40.54h-3.20M17.80 38.14h-3.20M17.80 35.73h-6.20M17.80 33.32h-3.20M17.80 30.92h-3.20M17.80 28.51h-3.20M17.80 26.11h-3.20M17.80 23.70h-6.20M18.80 145.50H139.90M19.30 145.10v5.20M21.70 145.10v2.80M24.10 145.10v2.80M26.51 145.10v2.80M28.91 145.10v2.80M31.31 145.10v5.20M33.71 145.10v2.80M36.11 145.10v2.80M38.52 145.10v2.80M40.92 145.10v2.80M43.32 145.10v5.20M45.72 145.10v2.80M48.12 145.10v2.80M50.53 145.10v2.80M52.93 145.10v2.80M55.33 145.10v5.20M57.73 145.10v2.80M60.13 145.10v2.80M62.54 145.10v2.80M64.94 145.10v2.80M67.34 145.10v5.20M69.74 145.10v2.80M72.14 145.10v2.80M74.55 145.10v2.80M76.95 145.10v2.80M79.35 145.10v5.20M81.75 145.10v2.80M84.15 145.10v2.80M86.56 145.10v2.80M88.96 145.10v2.80M91.36 145.10v5.20M93.76 145.10v2.80M96.16 145.10v2.80M98.57 145.10v2.80M100.97 145.10v2.80M103.37 145.10v5.20M105.77 145.10v2.80M108.17 145.10v2.80M110.58 145.10v2.80M112.98 145.10v2.80M115.38 145.10v5.20M117.78 145.10v2.80M120.18 145.10v2.80M122.59 145.10v2.80M124.99 145.10v2.80M127.39 145.10v5.20M129.79 145.10v2.80M132.19 145.10v2.80M134.60 145.10v2.80M137.00 145.10v2.80M139.40 145.10v5.20" stroke="#111" stroke-width="0.95" fill="none"/>
<g clip-path="url(#c10)"><g filter="url(#soft)" class="d"><path d="M191.1 132.2h0m.4 2h0m.5-3.2h0m.1 .1h0m.2 2.8h0m.7 9.5h0m.3-.3h0m.1-9.8h0m2.6 7.6h0m.3-6.9h0m0 2.7h0m.2-2.8h0m.1-1.5h0m.2 2.8h0m.1-2.8h0m0 1.2h0m.6-1.4h0m.1 1.7h0m0 1.1h0m.2 .7h0m0 3h0m.3-.9h0m.3-.3h0m.1-3.2h0m.2 2.6h0m.1-1h0m.2-6.2h0m0 8.8h0m.1-9.2h0m0 6h0m.2-2.5h0m0 2.6h0m.2 3.8h0m.2-7.3h0m.1-2.2h0m.2 10.7h0m.3-8.5h0m.1 7.7h0m.2-8.6h0m0 3.2h0m0 .6h0m.1-1.3h0m.1-4.3h0m.1 2.4h0m.1-3.2h0m0 2.1h0m0 5.4h0m.1 5.3h0m.2-5.7h0m.1-3.8h0m0 5h0m0 2.2h0m0 1.8h0m.1-4.4h0m0 6.6h0m.2-6.8h0m0 6.4h0m.1-9.1h0m0 2.2h0m.2 1h0m.1-3.6h0m0 6.4h0m.2-7.4h0m.1 2.9h0m0 7h0m.1-10.8h0m0 2.3h0m0 4.8h0m.2-5.8h0m0 1.4h0m.2-.8h0m0 .6h0m.1-1.2h0m0 .5h0m.1-2.8h0m.2-.3h0m0 3.8h0m0 1.6h0m.1-.2h0m.1-1.3h0m.1-4.8h0m.2 1.7h0m0 2.4h0m0 5.2h0m.1 2.6h0m.1-10.6h0m.2-1.7h0m0 .2h0m.1-2.5h0m0 12.3h0m.1-4.6h0m0 4.9h0m.1-4.5h0m.3-.1h0m0 1.1h0m0 4.3h0m.1-9h0m0 4.8h0m.3-4.2h0m.1 5h0m0 4h0m.1 2.4h0m.1-13.6h0m.1 4.7h0m.2-7.3h0m0 6.5h0m.1 1.2h0m0 1h0m0 2.1h0m.2-5.7h0m0 2.5h0m.1-.9h0m.1-2.5h0m0 .9h0m0 .3h0m0 2.4h0m0 .4h0m0 .5h0m0 2h0m.1-5h0m0 3.4h0m.1 2.7h0m0 4.8h0m.1-9.6h0m0 3.4h0m.1-6.3h0m0 6h0m.1-3.1h0m0 2.6h0m0 4.8h0m.2-8.7h0m.1-2.4h0m0 1.9h0m0 .9h0m0 .4h0m0 1.1h0m0 3.6h0m.1-9.8h0m0 10.7h0m0 4.1h0m.1-14.3h0m0 .2h0m.1 .7h0m0 1.3h0m0 .1h0m0 2.2h0m0 0h0m0 2.7h0m0 1.4h0m.1-11h0m0 2.7h0m0 3.5h0m0 1.6h0m0 .3h0m.1 1.3h0m0 1h0m.1-3.1h0m0 1.1h0m.1 6.7h0m.1-10.2h0m.1 .5h0m0 6.8h0m0 .4h0m0 1.1h0m0 .3h0m.1-4h0m.1-2h0m0 4.1h0m.1-4.6h0m0 8h0m.1-2.6h0m.1-15.8h0m0 14h0m.1-4.7h0m0 .9h0m0 5.2h0m.2-1.7h0m.2-7.8h0m.1 .6h0m0 1.4h0m0 1h0m0 .2h0m0 .1h0m0 3.1h0m0 .7h0m0 6.3h0m.1-11.3h0m0 5.8h0m.1-6.4h0m0 6.2h0m0 0h0m.1-6.9h0m0 3h0m0 3.3h0m0 3.6h0m.1-.6h0m.1-9h0m.2 1.4h0m0 .8h0m.1 3h0m0 1.7h0m.1-11h0m0 4.7h0m0 13h0m.1-20.4h0m0 7.9h0m0 4.1h0m.1-1.4h0m.1-2.5h0m0 1.4h0m.1-3h0m0 1.6h0m0 1h0m0 1.2h0m0 3.5h0m0 .1h0m.1-7.1h0m0 .3h0m.1 13.1h0m.1-16.3h0m0 4.4h0m0 1.8h0m0 .5h0m0 .5h0m0 .6h0m0 1.6h0m0 .1h0m.1 2.1h0m.1-5.1h0m0 .1h0m.1-.6h0m0 4.2h0m.1-13h0m0 .4h0m0 8.2h0m0 .9h0m0 2.5h0m0 2.4h0m.1-12.7h0m0 1.6h0m0 7.1h0m0 .4h0m.1-6.9h0m0 6.8h0m0 .7h0m.1-5.8h0m0 3.5h0m0 3.1h0m0 .9h0m0 2.1h0m0 .9h0m.1-11.7h0m0 4.6h0m.1-3.4h0m0 2.7h0m0 2.1h0m.1-10.4h0m0 1.8h0m0 .8h0m0 3.4h0m0 1.2h0m0 5.2h0m0 1.3h0m.1-13.3h0m0 8.4h0m.1-2.6h0m0 .6h0m.1-3.9h0m0 2.9h0m0 1.2h0m0 .8h0m0 8h0m.1-12.9h0m0 3h0m0 2.5h0m0 0h0m0 .1h0m0 .6h0m0 5.1h0m.1-13.1h0m0 3h0m0 3.3h0m0 2.6h0m.1-4.9h0m0 4.4h0m0 .6h0m0 1.2h0m0 8.8h0m.1-16.4h0m0 2.1h0m0 2.1h0m0 .2h0m0 2.3h0m0 2.8h0m.1-12.7h0m0 5.6h0m0 .1h0m0 .9h0m.1-.6h0m0 1.9h0m0 1.6h0m0 1.6h0m.1-11.9h0m0 6h0m0 1.3h0m0 1.3h0m0 1.1h0m0 1.1h0m0 .2h0m0 1.6h0m0 4.3h0m0 2h0m.1-15.8h0m0 7.2h0m0 1.1h0m.1-4.6h0m0 2.3h0m0 .2h0m0 1h0m.1-3.1h0m0 .1h0m0 .7h0m0 3.2h0m0 2.2h0m.1-4.5h0m0 .6h0m0 .8h0m0 .9h0m0 .9h0m.1-10.6h0m0 4.7h0m0 .5h0m0 2.3h0m0 .7h0m0 .1h0m0 1.2h0m0 1.4h0m0 1.6h0m.1-12.2h0m0 2.3h0m0 3.5h0m0 2.7h0m0 2.2h0m.1-7.8h0m0 4.6h0m.1-6.6h0m0 6.9h0m0 1.5h0m0 .4h0m.1-2.6h0m.1-9h0m0 1.5h0m0 3.6h0m0 0h0m0 3.7h0m0 .8h0m.1-3.9h0m0 1.8h0m0 .8h0m0 5.3h0m.1-8.2h0m0 .4h0m0 3.8h0m0 .1h0m0 .1h0m0 3.8h0m.1-11.1h0m0 2.4h0m0 1.1h0m0 .1h0m0 .9h0m0 2.4h0m0 5.8h0m.1-8.9h0m0 3.5h0m.1-4.9h0m0 1.1h0m0 5.4h0m.1-3.8h0m0 0h0m0 1.1h0m0 1.1h0m0 .2h0m0 .9h0m0 .6h0m0 .4h0m0 0h0m0 5.1h0m.1-13.5h0m0 2.7h0m0 .8h0m0 3.7h0m0 7.2h0m.1-13.2h0m0 2.1h0m0 3.3h0m0 .3h0m.1-6.4h0m0 .1h0m0 2.5h0m0 3.7h0m0 .6h0m0 1.4h0m0 .1h0m.1-5.2h0m0 1h0m0 1.3h0m0 1.9h0m0 3.8h0m.1-13.7h0m0 9.7h0m.1-11.9h0m0 4h0m0 7.6h0m0 0h0m0 .4h0m0 1.3h0m.1-4.9h0m0 3.5h0m.1 1.6h0m.1-11.6h0m0 6.2h0m0 .5h0m0 .2h0m0 6.1h0m.1-11.8h0m0 2.8h0m0 1.5h0m0 1h0m0 3.1h0m0 .5h0m0 .9h0m0 4.5h0m.1-11h0m0 0h0m0 1.8h0m0 .9h0m0 1.6h0m0 4.5h0m.1-6.3h0m0 2.3h0m0 .5h0m0 .3h0m.1-6.2h0m0 1.9h0m0 2.2h0m0 .3h0m0 1.8h0m0 2.9h0m.1-9.9h0m0 .2h0m0 1.7h0m0 4.2h0m0 0h0m0 2.5h0m.1-7.7h0m0 2.4h0m0 4.6h0m.1-10.1h0m0 1.8h0m0 2.6h0m0 1.5h0m0 1.2h0m0 .5h0m0 .6h0m.1-1.2h0m0 3.2h0m0 .7h0m.1-14.6h0m0 6.3h0m0 5.6h0m0 .4h0m0 4h0m.1-8.3h0m0 .9h0m0 2.3h0m0 5.4h0m0 1.2h0m.1-14.3h0m0 2.2h0m0 2.6h0m0 1.2h0m0 2h0m.1-4.7h0m0 2.5h0m0 .1h0m0 .9h0m0 .9h0m.1-7.6h0m0 2.3h0m0 2h0m0 2.6h0m0 .7h0m0 .2h0m0 1.9h0m0 .7h0m0 0h0m0 3.3h0m.1-13.1h0m0 6.4h0m0 1.2h0m.1-2.9h0m.1-5.4h0m0 2.6h0m0 .7h0m0 1.1h0m0 .6h0m0 .1h0m0 1.5h0m.1-5.7h0m0 .8h0m0 3h0m0 1.1h0m0 .1h0m0 3.5h0m0 .1h0m.1-10.5h0m0 2.7h0m0 .4h0m0 4h0m0 5.2h0m.1-8.9h0m0 .8h0m0 2h0m0 1.4h0m0 .1h0m0 8.5h0m.1-18.1h0m0 2h0m0 .9h0m0 4.6h0m0 1.4h0m0 .7h0m0 7h0m.1-13h0m0 1.8h0m0 .1h0m0 1h0m0 .1h0m0 .3h0m0 .5h0m0 .9h0m0 2.2h0m0 1.8h0m0 .3h0m0 .8h0m0 .5h0m.1-10.3h0m0 .7h0m0 1.9h0m.1-4h0m0 2.5h0m0 .9h0m0 .5h0m0 .9h0m0 2.4h0m0 2.4h0m0 .7h0m0 .6h0m0 .2h0m0 1.7h0m.1-9.6h0m0 2.3h0m0 1h0m0 .2h0m0 2.7h0m0 .9h0m0 .3h0m0 .1h0m0 .5h0m0 .5h0m.1-8.9h0m0 .6h0m0 .1h0m0 2.7h0m0 1.3h0m0 .4h0m0 3.7h0m.1-11.1h0m0 1.1h0m0 .7h0m0 .3h0m0 1.7h0m0 .6h0m0 .1h0m0 5.7h0m0 5.8h0m.1-19.9h0m0 5.6h0m0 .3h0m0 1.4h0m0 1.5h0m0 4h0m0 .5h0m0 1.3h0m.1-13.1h0m0 3.6h0m0 .5h0m0 2.9h0m0 1.5h0m0 .2h0m0 3.3h0m.1-13.9h0m0 9.1h0m0 8.3h0m.1-13.9h0m0 3.4h0m0 2.9h0m0 4.9h0m0 2.7h0m.1-9.8h0m0 .7h0m0 1.4h0m0 .1h0m0 3.6h0m0 1h0m0 1.1h0m.1-13.4h0m0 4.4h0m0 2.1h0m0 .9h0m0 1.6h0m0 .9h0m0 1.3h0m0 .5h0m0 2.4h0m.1-8.8h0m0 1.1h0m0 5.2h0m.1-9h0m0 3h0m0 3.4h0m0 .8h0m0 1.5h0m0 2.1h0m0 2.3h0m.1-11.3h0m0 .7h0m0 .5h0m0 1.1h0m0 2.5h0m0 1.6h0m0 .9h0m.1-6.4h0m0 .8h0m.1-2.2h0m0 1.5h0m0 .8h0m0 1h0m0 .5h0m0 .2h0m0 .7h0m0 .5h0m0 5.2h0m.1-10.6h0m0 .7h0m0 5.5h0m0 4.2h0m.1-9.9h0m0 1.2h0m0 .3h0m0 1.7h0m0 .8h0m0 0h0m0 .2h0m0 .3h0m0 4.9h0m.1-10.4h0m0 2.7h0m0 .8h0m.1 0h0m0 .8h0m0 .6h0m0 .4h0m0 1.7h0m0 .2h0m0 1.4h0m0 1.2h0m.1-9.1h0m0 .6h0m0 1h0m0 2.8h0m0 2h0m0 4h0m0 1h0m.1-7.4h0m0 2.8h0m0 .1h0m0 .4h0m0 .7h0m0 3.1h0m.1-6.8h0m0 1.4h0m0 1h0m0 .7h0m.1-9.1h0m0 .6h0m0 3.2h0m0 3.3h0m0 .3h0m0 1.1h0m0 1.6h0m.1-13.4h0m0 8h0m0 .9h0m0 .2h0m0 5.5h0m.1-8.7h0m0 1.4h0m0 1.1h0m0 .6h0m0 .2h0m0 .5h0m0 1.5h0m0 2h0m0 .6h0m.1-8.8h0m0 1.9h0m0 3.4h0m0 2.5h0m0 .7h0m0 .2h0m.1-9.6h0m0 .9h0m0 5.6h0m0 2.3h0m0 1.4h0m0 5.2h0m.1-14.1h0m0 .7h0m0 .9h0m0 .7h0m0 .6h0m0 2.2h0m0 .4h0m0 1.4h0m0 7.2h0m.1-16.1h0m0 .8h0m0 .2h0m0 1.7h0m0 .8h0m0 .4h0m0 .3h0m0 .3h0m0 .9h0m0 .6h0m0 .1h0m0 2.6h0m0 .9h0m.1-8.7h0m0 2.3h0m0 3.7h0m0 .1h0m0 .2h0m0 0h0m0 1.3h0m0 1.9h0m0 2.1h0m0 1.1h0m.1-12.2h0m0 2.9h0m0 .8h0m0 .5h0m0 0h0m0 1h0m0 .2h0m0 .3h0m0 1.8h0m.1-8.9h0m0 2.1h0m0 3.6h0m0 2.8h0m0 4.4h0m0 4.6h0m.1-17.8h0m0 3h0m0 1.4h0m0 .5h0m0 .9h0m0 1.7h0m0 3.8h0m0 1.4h0m.1-15.8h0m0 7.2h0m0 .5h0m0 3.5h0m0 3.3h0m0 .7h0m.1-12.4h0m0 1.9h0m0 2h0m0 .9h0m0 0h0m0 .1h0m0 .5h0m0 .8h0m.1-3.4h0m0 .7h0m0 .5h0m0 2.3h0m0 .5h0m0 .2h0m.1-6.3h0m0 1.2h0m0 2h0m0 .5h0m0 .9h0m0 .6h0m0 4.4h0m0 .2h0m.1-8.5h0m0 1.7h0m0 5.2h0m.1-7h0m0 7.2h0m0 8.5h0m.1-16h0m0 .1h0m0 1.8h0m0 3.1h0m0 1.1h0m0 2.6h0m.1-11.5h0m0 5.1h0m0 .9h0m0 1.3h0m0 .5h0m0 .7h0m0 3h0m.1-12.5h0m0 2.6h0m0 .2h0m0 2.6h0m0 .2h0m0 .9h0m0 0h0m0 .8h0m0 .7h0m0 .2h0m0 .4h0m0 1.1h0m0 .5h0m0 1.4h0m0 .4h0m.1-11.8h0m0 .3h0m0 2h0m0 12.3h0m.1-10.6h0m0 3.4h0m0 2.5h0m0 1.1h0m.1-6.9h0m0 1.2h0m0 3.1h0m0 .8h0m0 2.9h0m0 1.3h0m0 4.5h0m.1-18h0m0 3.1h0m0 .3h0m0 .4h0m0 .4h0m0 .5h0m0 2.2h0m0 1.2h0m0 .4h0m0 .8h0m0 .4h0m0 .3h0m0 1.2h0m0 3.4h0m.1-14.6h0m0 2.6h0m0 2.5h0m0 1.2h0m0 3.3h0m0 1.6h0m0 2.4h0m0 1.1h0m.1-14.7h0m0 3.8h0m0 1.6h0m0 2.4h0m0 4.5h0m0 .4h0m0 0h0m0 5.2h0m.1-14h0m0 2.4h0m0 2h0m0 1.7h0m0 .3h0m0 1.3h0m.1-8h0m0 .1h0m0 3.2h0m0 3.5h0m.1-9.1h0m0 1.6h0m0 1.6h0m0 3.7h0m0 .1h0m0 .3h0m0 1.6h0m0 .1h0m0 .3h0m.1-11.2h0m0 .1h0m0 1.7h0m0 1.5h0m0 .6h0m0 .1h0m0 1.1h0m0 .5h0m0 3.8h0m0 2.7h0m0 1.2h0m.1-10.4h0m0 2.5h0m0 .5h0m0 1.9h0m0 1.3h0m0 5.5h0m0 .2h0m.1-9.2h0m0 .6h0m0 1h0m0 .7h0m0 2.1h0m0 .1h0m0 .9h0m0 1.3h0m0 2.1h0m0 .6h0m.1-9.7h0m0 .5h0m0 .9h0m0 .2h0m0 .8h0m0 .4h0m0 2.3h0m.1-7.8h0m0 4.6h0m0 .1h0m0 .2h0m0 1.7h0m0 .1h0m0 1.5h0m0 3.5h0m0 1.3h0m0 .8h0m.1-9.9h0m0 2h0m0 .3h0m0 1.7h0m0 .2h0m0 .9h0m.1-14h0m0 6.9h0m0 .5h0m0 .3h0m0 1.8h0m0 5.9h0m.1-15.3h0m0 8.1h0m0 1.4h0m0 5.5h0m.1-11.8h0m0 4.7h0m0 .5h0m0 2.2h0m0 1.5h0m0 .4h0m0 1.3h0m0 .2h0m0 2.4h0m.1-15.4h0m0 2.5h0m0 4.9h0m.1-4h0m0 .7h0m0 1.5h0m0 2.1h0m0 .6h0m0 .1h0m0 1.4h0m0 2.1h0m0 1.7h0m.1-10.3h0m0 .3h0m0 1h0m0 4.4h0m0 1.9h0m0 1.2h0m0 1h0m0 1.5h0m0 .4h0m.1-14.3h0m0 6.8h0m0 4.8h0m0 3.5h0m0 .1h0m.1-11.5h0m0 .6h0m0 1h0m0 1.2h0m0 2h0m0 .6h0m0 1.1h0m0 .4h0m0 .4h0m0 3.1h0m.1-10.4h0m0 1.6h0m0 .7h0m0 .7h0m0 4.2h0m0 .2h0m0 .8h0m0 0h0m0 1.5h0m0 3.7h0m.1-12.7h0m0 1.9h0m0 .1h0m0 1.9h0m0 .4h0m0 1.7h0m0 1.7h0m0 .8h0m.1-10.9h0m0 1.2h0m0 3.8h0m0 .2h0m0 1.4h0m0 .3h0m0 1.2h0m0 .7h0m0 .7h0m.1-7.1h0m0 3.1h0m0 2.5h0m0 .6h0m0 2h0m0 1.4h0m0 2.2h0m0 .1h0m.1-16.6h0m0 1.3h0m0 4.8h0m0 .7h0m0 2.5h0m0 .2h0m0 .3h0m0 2.8h0m.1-8.8h0m0 .7h0m0 2.2h0m0 0h0m0 8h0m.1-10.7h0m0 3.9h0m0 .2h0m0 .5h0m0 1.5h0m0 1.5h0m0 .4h0m.1-9.2h0m0 2.6h0m0 .1h0m0 0h0m0 1.2h0m0 .5h0m0 .3h0m0 6.2h0m.1-11.8h0m0 0h0m0 3.6h0m0 .6h0m0 1h0m0 .4h0m0 .7h0m0 1.7h0m0 3.2h0m0 .9h0m0 .4h0m.1-10.1h0m0 .3h0m0 2.5h0m0 1.3h0m0 .6h0m0 2.1h0m0 1h0m0 .1h0m0 1.6h0m0 .1h0m.1-13.1h0m0 2.3h0m0 2.8h0m0 .2h0m0 .6h0m0 3.7h0m0 2.5h0m0 2.2h0m.1-13h0m0 3.8h0m0 2.5h0m0 1h0m0 .8h0m0 1.3h0m0 1h0m0 2.6h0m0 2.6h0m.1-11.3h0m0 2.3h0m0 .5h0m0 .2h0m0 1.6h0m0 .9h0m0 .2h0m0 4.4h0m.1-11.6h0m0 .7h0m0 .4h0m0 0h0m0 1.5h0m0 1.3h0m0 1.5h0m0 .5h0m0 .3h0m0 .7h0m0 .1h0m.1-10h0m0 .1h0m0 1.5h0m0 .5h0m0 2.6h0m0 .1h0m0 3.3h0m0 1.4h0m0 .3h0m0 .2h0m0 .2h0m0 2.8h0m0 0h0m0 .3h0m.1-10.9h0m0 1.7h0m0 1.2h0m0 2.4h0m0 1.5h0m0 .7h0m.1-12.2h0m0 1.7h0m0 .3h0m0 5.9h0m0 .5h0m0 2h0m0 1.1h0m0 1.1h0m0 .9h0m0 2.7h0m.1-14.7h0m0 4.6h0m0 .1h0m0 1.9h0m0 2.8h0m0 1.6h0m0 1.4h0m0 1.8h0m.1-9.1h0m0 .7h0m0 .3h0m0 5.3h0m0 .1h0m0 0h0m.1-11.1h0m0 1.8h0m0 2.2h0m0 3.9h0m0 7.8h0m.1-15.1h0m0 4.1h0m0 1h0m0 1h0m0 .8h0m0 1.7h0m0 2.5h0m0 1h0m0 0h0m0 .1h0m.1-10.2h0m0 2.2h0m0 .8h0m0 1.8h0m0 .1h0m0 .7h0m0 .9h0m0 .6h0m0 .6h0m0 .6h0m0 .3h0m0 1h0m0 1.1h0m.1-11.9h0m0 1.3h0m0 1.1h0m0 1.7h0m0 1.7h0m0 .3h0m0 .9h0m0 3.7h0m0 0h0m0 .2h0m.1-12.8h0m0 2.6h0m0 4.7h0m0 .4h0m0 1.4h0m0 .2h0m0 1.6h0m0 2.3h0m.1-10.5h0m0 .8h0m0 3h0m0 2.4h0m0 0h0m.1-8.6h0m0 4.2h0m0 .4h0m0 .2h0m0 2.7h0m0 .5h0m0 .3h0m0 .2h0m0 .7h0m0 2.2h0m0 5h0m.1-15.2h0m0 0h0m0 3.9h0m0 .9h0m0 .5h0m0 .1h0m0 1h0m0 .5h0m0 2.6h0m0 1.1h0m.1-10.6h0m0 .1h0m0 .3h0m0 1.4h0m0 1.2h0m0 .4h0m0 .4h0m0 1h0m0 2.1h0m0 .4h0m0 .8h0m0 1.9h0m0 3.6h0m.1-15h0m0 1.3h0m0 3.9h0m0 2.3h0m0 .1h0m0 .6h0m0 .5h0m0 .4h0m0 3.5h0m.1-15.7h0m0 6.7h0m0 2.1h0m0 1.1h0m0 .6h0m0 3.7h0m0 1.1h0m0 .3h0m0 .2h0m.1-10.2h0m0 1.7h0m0 4.5h0m0 3h0m0 3.4h0m.1-11.8h0m0 1h0m0 1.9h0m0 .4h0m0 .5h0m0 4.6h0m.1-8.9h0m0 1.2h0m0 .8h0m0 3.6h0m0 .1h0m0 .5h0m0 2.7h0m0 4.6h0m.1-12.9h0m0 3.7h0m0 1.4h0m0 1.5h0m0 .5h0m0 1.7h0m0 .1h0m0 .4h0m0 .3h0m.1-13.7h0m0 4.2h0m0 .2h0m0 3.1h0m0 .1h0m0 2.3h0m0 .1h0m0 1h0m0 .1h0m0 .1h0m.1-7.4h0m0 1.1h0m0 .7h0m0 .7h0m0 .8h0m0 5.2h0m.1-6.9h0m0 .6h0m0 3.1h0m0 2.1h0m.1-11.9h0m0 2.6h0m0 2.7h0m0 .1h0m0 .3h0m0 .4h0m0 .4h0m0 .2h0m0 1.4h0m0 3h0m0 1.7h0m0 2.3h0m0 .1h0m.1-12.5h0m0 0h0m0 1h0m0 1h0m0 3.1h0m0 2.5h0m0 .1h0m0 .4h0m0 .2h0m0 .8h0m0 .3h0m0 1.3h0m0 .3h0m.1-13.9h0m0 3.1h0m0 2.9h0m0 2.2h0m0 1h0m0 .2h0m0 1.1h0m0 .2h0m0 2.8h0m0 .7h0m0 .9h0m0 3.8h0m.1-10.6h0m0 4.6h0m.1-9.5h0m0 .4h0m0 .4h0m0 2.5h0m0 .5h0m0 .8h0m0 .5h0m0 2.2h0m0 1.1h0m0 0h0m.1-10.7h0m0 1.5h0m0 2.4h0m0 1.2h0m0 .2h0m0 .8h0m0 .6h0m0 3h0m0 1.7h0m0 .4h0m0 .3h0m.1-12.2h0m0 1h0m0 1.3h0m0 .3h0m0 .9h0m0 1.4h0m0 .4h0m0 1.2h0m0 1.3h0m0 2.5h0m0 2.1h0m0 1.3h0m0 .1h0m0 .4h0m.1-8.2h0m0 1h0m0 4.6h0m0 .3h0m0 .6h0m0 .1h0m0 .8h0m.1-9.1h0m0 1.2h0m0 .8h0m0 1.3h0m0 .2h0m0 .6h0m0 .7h0m0 1.6h0m0 .4h0m.1-9.6h0m0 .8h0m0 1.3h0m0 1.9h0m0 1h0m0 .6h0m0 1h0m0 3.2h0m0 1.2h0m.1-9.5h0m0 1.5h0m0 1.5h0m0 1h0m0 1.2h0m0 1.4h0m0 4.1h0m.1-16.7h0m0 4.6h0m0 3.7h0m0 3.2h0m0 .8h0m0 2.1h0m0 1.2h0m0 1.9h0m.1-10.4h0m0 .8h0m0 1.3h0m0 5.1h0m0 .7h0m0 1.3h0m0 3.1h0m.1-14.1h0m0 .8h0m0 1.6h0m0 .1h0m0 .2h0m0 .3h0m0 .8h0m0 .1h0m0 3.2h0m0 1.1h0m.1-8.2h0m0 .6h0m0 .4h0m0 .6h0m0 .1h0m0 .3h0m0 2.1h0m0 1.4h0m0 .6h0m0 .2h0m0 8.8h0m.1-16.7h0m0 1.1h0m0 2.3h0m0 2.7h0m0 0h0m0 5.9h0m0 .2h0m0 1h0m.1-12.8h0m0 3.3h0m0 .6h0m0 1.9h0m0 0h0m0 .6h0m0 .1h0m0 .3h0m0 1.3h0m0 0h0m0 1.5h0m0 1.7h0m.1-8.4h0m0 .1h0m0 2.2h0m0 .7h0m0 1h0m0 4.6h0m0 .5h0m.1-10.1h0m.1-2.1h0m0 .1h0m0 4.2h0m0 3.3h0m0 2.3h0m0 .4h0m0 1h0m.1-10h0m0 1.2h0m0 2h0m0 1.1h0m0 1.3h0m0 .1h0m0 1.1h0m0 3.3h0m0 .8h0m.1-12.7h0m0 .7h0m0 1h0m0 1.3h0m0 .8h0m0 4.4h0m0 2.4h0m.1-8.4h0m0 .7h0m0 2.7h0m0 .6h0m0 3.5h0m0 2h0m0 .2h0m0 1h0m.1-8.7h0m0 .1h0m0 1h0m0 0h0m0 3.8h0m0 .1h0m0 1.6h0m.1-11.6h0m0 1.1h0m0 1.1h0m0 4.8h0m0 .4h0m0 3.7h0m0 1.2h0m.1-10.7h0m0 4.9h0m0 0h0m0 .6h0m0 .6h0m0 .7h0m0 .9h0m0 1.1h0m0 .1h0m0 .1h0m0 .1h0m0 1h0m0 .9h0m0 2.2h0m.1-17.8h0m0 3.8h0m0 4.5h0m0 3.3h0m0 .4h0m0 .5h0m.1-8.9h0m0 4h0m0 3.4h0m0 1.2h0m0 7.5h0m.1-11.5h0m0 .5h0m0 3.6h0m0 1.3h0m.1-7.6h0m0 4.6h0m0 0h0m0 1.7h0m0 .7h0m0 1.4h0m0 3.9h0m.1-13.7h0m0 .4h0m0 3.9h0m0 .8h0m0 .6h0m0 .8h0m0 3.9h0m0 .8h0m.1-6.6h0m0 1.6h0m0 .8h0m0 0h0m0 .3h0m0 3.6h0m.1-12.3h0m0 3.3h0m0 .7h0m0 3.9h0m0 1.5h0m0 1.6h0m.1-12.2h0m0 3.8h0m0 2.4h0m0 .4h0m0 2.4h0m0 .6h0m0 2h0m0 1h0m0 5.4h0m.1-12.4h0m0 2h0m0 3.3h0m0 2.7h0m.1-8.9h0m0 1.2h0m0 .4h0m0 1.6h0m0 3.6h0m0 0h0m0 .4h0m0 4.7h0m.1-17.3h0m0 6h0m0 1h0m0 3h0m0 .9h0m0 .3h0m.1-6.7h0m0 1.3h0m0 .6h0m0 2.4h0m0 1.1h0m0 2.3h0m0 6.4h0m.1-19.6h0m0 3.9h0m0 5.6h0m0 .4h0m0 .3h0m0 2.1h0m0 2.2h0m0 2.8h0m.1-9.7h0m0 1.2h0m0 0h0m0 .7h0m0 1.2h0m0 2.2h0m0 1.2h0m.1-10.2h0m0 5h0m0 .5h0m0 .5h0m0 0h0m0 1.4h0m0 1.6h0m0 3.1h0m.1-8.2h0m0 1.3h0m0 2.3h0m0 3.7h0m.1-10.9h0m0 2.7h0m0 .9h0m0 .1h0m0 .6h0m0 1.2h0m0 .8h0m0 .7h0m0 4.1h0m.1-12.5h0m0 3.5h0m0 .5h0m0 2.6h0m0 .2h0m0 1.7h0m0 .1h0m0 2.6h0m.1-7.8h0m0 1.9h0m0 1.6h0m0 1.8h0m0 .6h0m0 2.9h0m0 4.6h0m.1-17.4h0m0 0h0m0 8h0m0 2.7h0m0 .3h0m0 .6h0m.1-7.9h0m0 2.2h0m0 .3h0m0 .2h0m0 .8h0m0 .8h0m0 .4h0m0 1.3h0m0 6.8h0m.1-14.4h0m0 1.3h0m0 3h0m0 .1h0m0 1.3h0m0 1h0m0 2.5h0m.1-12.9h0m0 5.2h0m0 1.9h0m0 1.7h0m0 2.3h0m0 .2h0m0 .4h0m0 .1h0m0 2.5h0m.1-9.7h0m0 .1h0m0 2.4h0m0 .6h0m0 0h0m0 .1h0m0 2.1h0m0 2.3h0m0 2.8h0m0 2.4h0m.1-14.6h0m0 .5h0m0 5.1h0m0 1.9h0m0 2.4h0m0 6.6h0m.1-16.5h0m0 3.5h0m0 4.9h0m0 .5h0m0 .3h0m0 .2h0m.1-8.3h0m0 .6h0m0 2.3h0m0 1.7h0m0 0h0m0 .5h0m0 2.9h0m0 1.1h0m0 .5h0m0 2h0m.1-14h0m0 4.8h0m0 1.1h0m0 1h0m0 .1h0m0 1.3h0m0 5.1h0m.1-10.3h0m0 1.1h0m0 .9h0m0 .5h0m0 .1h0m0 .1h0m0 .2h0m0 1.3h0m0 1.1h0m0 .7h0m0 .2h0m0 3.7h0m.1-13.9h0m0 .2h0m0 5.9h0m0 3.2h0m0 3.7h0m0 6.7h0m.1-18.8h0m0 4.3h0m0 1.9h0m0 2.2h0m0 1.9h0m0 2.4h0m.1-12.9h0m0 2h0m0 3.1h0m0 1.7h0m0 2.6h0m0 3.5h0m0 1.3h0m0 .2h0m0 .1h0m.1-15.4h0m0 5.9h0m0 .5h0m0 .7h0m0 2.1h0m0 1h0m.1-9.5h0m0 3.8h0m0 2.3h0m0 3.5h0m0 1.3h0m0 .6h0m0 .6h0m.1-11.4h0m0 7.2h0m0 2.2h0m.1-11.3h0m0 7.5h0m0 .5h0m0 .2h0m0 4.4h0m0 .2h0m0 .3h0m.1-10.2h0m0 4.5h0m0 1.4h0m0 2.2h0m0 .4h0m0 .2h0m0 3.2h0m0 .7h0m.1-9h0m0 1.8h0m0 .6h0m0 .8h0m0 3h0m0 .6h0m0 2h0m.1-11.5h0m0 3.5h0m.1-4.5h0m0 5.9h0m0 2h0m0 3.6h0m.1-11.2h0m0 1.1h0m0 .4h0m0 .9h0m0 .4h0m0 5.5h0m0 2.4h0m.1-9.8h0m0 .4h0m0 .8h0m0 1.4h0m0 3.3h0m0 1.1h0m.1-7.1h0m0 .9h0m0 3.7h0m0 1.2h0m0 2.2h0m0 .8h0m0 5.3h0m.1-18.2h0m0 2h0m0 3.8h0m0 .6h0m0 3.5h0m0 .7h0m.1-6h0m0 1.7h0m0 3.9h0m0 1.6h0m0 1.8h0m0 .2h0m.1-10.7h0m0 .5h0m0 2.9h0m0 2.6h0m0 .8h0m0 2.8h0m0 3.3h0m.1-13.4h0m0 .8h0m0 2.3h0m0 1.9h0m0 2.2h0m0 3.3h0m0 .4h0m0 2.7h0m0 1.1h0m.1-11.4h0m0 1h0m0 .1h0m0 .4h0m0 .7h0m0 3.9h0m0 0h0m0 1.3h0m0 2.8h0m.1-8.9h0m0 .4h0m0 .5h0m0 5.7h0m.1-9.2h0m0 3.4h0m0 4.5h0m.1-7.7h0m0 4.1h0m.1-4.2h0m0 2.2h0m0 0h0m0 1.4h0m0 1.2h0m0 1h0m0 5.6h0m0 5h0m.1-17.1h0m0 1.9h0m0 3.4h0m0 .9h0m.1-11h0m0 3.6h0m0 .6h0m0 1.9h0m0 2.3h0m0 .8h0m0 1.1h0m0 6.1h0m.1-10h0m0 .3h0m0 .3h0m0 1.6h0m0 .6h0m0 .5h0m0 2.3h0m.1-6.7h0m.1 .3h0m0 .2h0m0 7.2h0m0 .3h0m.1-8.3h0m0 .2h0m0 .7h0m0 1.8h0m0 3.5h0m0 2.6h0m.1-12.4h0m0 1.5h0m0 4.3h0m0 .8h0m0 1.3h0m0 1.5h0m.1-7.4h0m0 3.2h0m0 0h0m0 1.1h0m0 .6h0m0 4.2h0m.1-4.5h0m0 1.6h0m0 1.1h0m0 2h0m.1-5h0m0 .4h0m0 1.9h0m0 4h0m0 .9h0m.1-8.4h0m0 1h0m0 .5h0m0 .1h0m0 4.7h0m0 .7h0m.1-9.8h0m0 1.2h0m0 .1h0m0 2h0m0 1.2h0m0 1h0m0 1h0m.1-7.6h0m0 .8h0m0 6.5h0m0 .9h0m.1-8.5h0m0 4.8h0m0 2.2h0m.1-3.6h0m0 3.3h0m0 6h0m.1-7.7h0m0 2.6h0m0 0h0m0 .6h0m0 3.2h0m0 1.8h0m.1-6.8h0m0 .6h0m0 .2h0m0 .2h0m0 3.1h0m0 .8h0m.1-6.8h0m0 3.9h0m0 5.9h0m.1-9.7h0m0 4h0m0 1h0m0 .3h0m0 1.4h0m0 1.4h0m0 4.6h0m.1-19.2h0m0 5.5h0m0 .8h0m0 2.7h0m0 1.8h0m0 1.3h0m.1-10.1h0m0 1.6h0m0 .2h0m0 .5h0m0 6.1h0m0 .8h0m0 2.7h0m.1-4.4h0m0 1.7h0m0 .8h0m0 .6h0m0 3h0m.1-8.1h0m0 .7h0m0 1.6h0m0 2.7h0m.1-10.9h0m0 1.6h0m0 1.7h0m.1 4.5h0m0 4.3h0m.1-7.6h0m0 1h0m0 1.1h0m.1 3.7h0m0 1h0m.1-8.2h0m0 .2h0m0 .1h0m0 1.8h0m0 .9h0m0 2.7h0m0 .5h0m0 .2h0m0 .3h0m0 5.3h0m.1-9.9h0m0 .7h0m0 .2h0m0 1.5h0m0 1.2h0m0 2.6h0m0 1.3h0m0 .1h0m.1-9.9h0m0 5.4h0m0 .3h0m0 .5h0m0 2.7h0m.1-8.6h0m0 1.7h0m0 .3h0m0 .6h0m0 .7h0m0 .6h0m0 1h0m0 .7h0m0 1.1h0m.1-6.5h0m0 4.3h0m0 1.3h0m0 2h0m0 .3h0m.1-2.9h0m.1-5.5h0m0 8.1h0m.1-11.1h0m0 3h0m0 3.7h0m0 .7h0m0 0h0m0 4.8h0m.1-12.3h0m0 9.8h0m0 .1h0m.1-6.2h0m0 .5h0m0 1.2h0m0 1.3h0m0 .2h0m0 .5h0m0 2.7h0m0 2h0m.1 .5h0m0 4.7h0m.1-10.5h0m0 .1h0m0 1.2h0m0 .3h0m0 5.8h0m.1-13.1h0m0 11.7h0m0 .7h0m.1-11.6h0m0 7.4h0m.1-2h0m0 2.1h0m0 6.2h0m.1-3.9h0m.1-9.3h0m0 .7h0m0 0h0m0 1.9h0m0 6.3h0m.1-8.1h0m0 1.7h0m0 3h0m0 2.2h0m0 2.1h0m0 2h0m.1-7h0m0 6.8h0m.1-11.6h0m0 2.3h0m0 0h0m0 3.3h0m0 1.6h0m0 .4h0m.1-9.9h0m0 2.6h0m0 1.8h0m0 4.5h0m0 .7h0m.1-10.8h0m0 3.3h0m0 7.7h0m0 .4h0m0 1.9h0m.1-8.6h0m0 7h0m0 .7h0m.1-6.7h0m0 .6h0m0 2.3h0m0 .2h0m0 3.4h0m0 2.5h0m.1-17h0m0 5.6h0m0 .6h0m0 3.2h0m0 .7h0m0 .3h0m0 1.2h0m0 .2h0m0 3.6h0m.1-9.5h0m0 3.8h0m0 .2h0m0 1h0m0 .1h0m0 3.2h0m.1-6.2h0m.1-6.5h0m0 4.5h0m0 2.3h0m0 .5h0m0 3.6h0m0 4h0m.1-10.8h0m0 7.6h0m0 2.6h0m0 .8h0m.1-11.9h0m0 13.6h0m.1-11.4h0m0 .7h0m0 3.7h0m0 4.5h0m.1-13.4h0m0 4.7h0m0 2.1h0m0 3.6h0m.1-1.5h0m0 3.9h0m.1-8.8h0m0 5.2h0m0 5.3h0m.1-8.5h0m0 .7h0m0 .8h0m0 .2h0m0 4.1h0m0 4.3h0m.1-13.6h0m0 5.6h0m0 3.1h0m.1-4.2h0m0 3.3h0m0 8h0m.1-8h0m0 .4h0m.1-7.7h0m0 4.5h0m0 .9h0m0 2.8h0m0 0h0m.1-8.8h0m0 1.5h0m.1-1.1h0m0 10.7h0m.1-6.8h0m0 4.2h0m0 .2h0m.1-6.2h0m0 1.6h0m0 1.6h0m0 6.8h0m.2-9.7h0m0 4.6h0m0 3.2h0m.1-7.9h0m0 3.6h0m.1-8.7h0m0 6.2h0m0 2.6h0m0 1.1h0m.1-8.6h0m0 .4h0m0 3.4h0m.1 1.2h0m0 .9h0m0 .7h0m.1-8.2h0m0 4.1h0m0 2.1h0m0 6.4h0m.1-9.3h0m0 7.6h0m.1 .5h0m.1-5.7h0m0 1.1h0m0 2.1h0m.1-3.3h0m0 4.6h0m.1 6.8h0m.1-15.9h0m0 2h0m0 5.6h0m0 3.1h0m0 1.2h0m.1-11.9h0m.1 1.2h0m0 .5h0m0 4.4h0m0 1.2h0m0 2.3h0m.2-11.7h0m0 1.9h0m0 1.4h0m0 3.6h0m0 1.1h0m.1 2.2h0m.1-4.8h0m.1-4.1h0m0 5.1h0m.1-4.7h0m0 1.2h0m0 4.6h0m.1-4.8h0m0 7.4h0m0 1.7h0m0 2.2h0m.1-8.5h0m0 5h0m.1 .1h0m.1-6.8h0m0 1.9h0m0 .5h0m0 5.3h0m0 .5h0m.1-6.9h0m0 4.4h0m.1-.8h0m.1-6.8h0m0 6.5h0m0 .6h0m.1 .2h0m.1-5.8h0m0 5h0m0 6.9h0m.1-10.6h0m.1-.7h0m0 2.2h0m0 .2h0m0 2.6h0m0 4.1h0m.2-6.3h0m.1-3.4h0m.1 3.8h0m0 1.4h0m0 5.8h0m.1-14h0m0 5.5h0m0 4.5h0m.1-10.4h0m0 2.6h0m0 1.7h0m0 .4h0m0 2.1h0m0 5.1h0m.1 3.2h0m0 .9h0m.2-8.7h0m0 3.6h0m.1 3.6h0m.1-4.1h0m.1-3.6h0m0 2.2h0m0 2.3h0m0 2.1h0m.1-4.8h0m.1-1.3h0m.3 1h0m0 2h0m.2-7.2h0m0 2.8h0m0 2.4h0m.1-4.9h0m.1-3.2h0m0 5.7h0m.1 3.4h0m0 6.2h0m.1-11.4h0m0 5h0m.1-4.2h0m.1 7.3h0m.2-3.1h0m0 7.3h0m.2-18h0m0 5.1h0m0 2.1h0m.3 3.2h0m.2-2.8h0m.1 4h0m.3-2.5h0m0 .3h0m.1-5.6h0m0 5.7h0m0 4.4h0m.1-7.7h0m.1-2.1h0m0 5.1h0m.2-8.9h0m.1 6.9h0m.1 3h0m.3 1.5h0m.1-4.7h0m.1-2.8h0m0 5h0m.1 5.7h0m.2-8.5h0m.9 .3h0m0 2.2h0m.1 3.2h0m.2-9.1h0m0 15.4h0m.2-9.8h0m.3-2.1h0m0 8.2h0m.1-11.8h0m.3 5.4h0m.1 3.7h0m.2-6.1h0m.3 5.7h0m.5-5.2h0m.8 1h0m.3-1.5h0m.7 2.1h0m.2-8.5h0m.4 8.9h0m.3-8.1h0m.3 5.3h0m.6 3.6h0m1.4 4.4h0m2.8-10h0m1.9 2.1h0m.7 2.9h0" stroke="#484848" stroke-width="1.00" opacity="0.85"/><path d="M184.4 139.1h0m.1 .8h0m.5 2.4h0m1.3-4.4h0m1 .1h0m.3 6h0m.3-5.5h0m.4 4.1h0m.3-5.1h0m.2-1.1h0m1.1 5h0m.6-3.9h0m0 2.8h0m.3 .7h0m0 3.7h0m.3-5.6h0m0 5.9h0m.1-1.8h0m.2-5.1h0m.1 3.8h0m.1-2.2h0m.1 1.3h0m.3 1.6h0m0 .2h0m.4-2.7h0m.4-.9h0m.1-1.2h0m.6 5.4h0m.1 .9h0m.2-2.3h0m.2-4h0m0 4.6h0m.1-4.9h0m.3 3.6h0m.1-5.7h0m.3 3h0m0 1.9h0m.2-3.6h0m.1 2.1h0m0 4.8h0m.1-5.2h0m.1-1h0m0 2.5h0m.1 .7h0m.3-3.2h0m0 4.5h0m.5-5.4h0m0 .4h0m.3-3.4h0m0 7h0m.3 2.4h0m.1-3h0m0 .5h0m.1-2.1h0m.1 1.8h0m.1 2.5h0m.1-6.7h0m0 3.6h0m0 2.6h0m.1-6.5h0m0 2h0m.2 2h0m.1 1h0m0 .8h0m.2-5.8h0m0 .2h0m0 6.8h0m.2-5.8h0m.1 1.2h0m.1 1.8h0m.1-1.3h0m.1-.2h0m.1 1.4h0m0 1.4h0m0 .5h0m.1-.1h0m.2-2.5h0m0 .1h0m0 .4h0m.1-1.8h0m0 .6h0m.1 1.9h0m.1-.2h0m.1-5.8h0m.3 3h0m.1 .8h0m.1 1.4h0m.1-.9h0m0 .6h0m0 1.4h0m.1-1.4h0m.1 1.5h0m.2-5.7h0m0 1.1h0m0 2.9h0m.3-4.6h0m0 4h0m0 2.5h0m.1-6h0m0 1.7h0m0 2.6h0m0 .7h0m0 1.2h0m.1-6.4h0m.1 .2h0m.2 .7h0m.1-3.1h0m0 3.2h0m0 2.5h0m.1 2.7h0m0 1.4h0m.1-5.4h0m.1 .5h0m.2 2.2h0m.2-1.5h0m.1-1.3h0m.1 6h0m.1-3.4h0m.1-3.1h0m0 1.3h0m0 1.6h0m.1-2.5h0m0 4.6h0m.1-4.1h0m.1-1.8h0m.1 .9h0m.1-.5h0m0 1.5h0m0 .6h0m0 1.5h0m.1-1.8h0m0 .2h0m0 1.7h0m.1-.9h0m.5 1h0m.3-.7h0m0 1.5h0m.2 .8h0m.1-4.1h0m0 .2h0m.1 .6h0m0 2.6h0m.2-7.7h0m0 1.5h0m0 .5h0m0 .1h0m0 0h0m0 2.9h0m.1-5.7h0m0 3.9h0m0 2.2h0m.2-.1h0m.1-3.9h0m.1 5.2h0m0 1.1h0m.1-4.3h0m0 1h0m0 1.1h0m0 1.9h0m.1-3.5h0m0 2.5h0m.1-7.2h0m0 .5h0m0 5h0m.1-3.4h0m0 5.5h0m0 1.4h0m.1-4.9h0m0 .6h0m.1 .2h0m0 .1h0m.1-1.7h0m.1-3.7h0m0 8.4h0m.1-3.3h0m0 1.2h0m.1 1.1h0m.1-4.3h0m0 .3h0m0 2h0m0 1.3h0m.1-3.2h0m0 2.6h0m.2-5.8h0m.1 .8h0m0 5h0m.1-2.2h0m0 .5h0m0 4.7h0m.1-.8h0m.1-1.2h0m.1-2.6h0m.1-4.4h0m.1 1.2h0m0 5.1h0m0 .5h0m0 .9h0m.1-1.6h0m0 .3h0m.1-4.2h0m0 3.8h0m0 1.6h0m.1-5.6h0m0 .9h0m0 5.1h0m.1-6.1h0m0 3.3h0m0 .4h0m.1-.5h0m0 1.8h0m.1-4.4h0m0 2.4h0m.1-2.3h0m.1 7h0m.1-9.3h0m0 3.3h0m0 2.7h0m.1-5h0m.2-.2h0m0 5.2h0m0 2.3h0m.1-5.6h0m0 .5h0m0 3.6h0m0 .2h0m.1 .9h0m.2-4.9h0m0 .5h0m0 1.1h0m0 .4h0m.1 2.4h0m.1-5.4h0m0 .5h0m0 1h0m0 1h0m0 .2h0m.1 2.8h0m.1-2.1h0m.1-1.6h0m.2 1.7h0m.1-2.8h0m0 7.3h0m.2-8.5h0m0 3.6h0m.2-2.4h0m0 1h0m0 .8h0m.1-1.2h0m0 2.6h0m0 2.2h0m.1-6.8h0m0 3.9h0m.3-3.5h0m.1 1.8h0m.1-.5h0m.1-1.5h0m.1 2.1h0m.5-1.7h0m.1 4.3h0m0 .4h0m0 .2h0m.1-5.6h0m0 2.1h0m0 1.5h0m.1-1.9h0m.1-3.4h0m0 7.4h0m.1-8.5h0m.1 3.2h0m.1 .7h0m.4-.9h0m.2 1.4h0m.3-2.8h0m0 .3h0m0 5.3h0m.2-3.1h0m.1-.5h0m.1-2.4h0m0 2.9h0m.3 2.1h0m.1-4.8h0m.1 3.4h0m.1-3.4h0m.1 1.7h0m.1-1.5h0m0 3h0m.1 1h0m.1-5.2h0m0 2.2h0m0 2.1h0m.2-5.8h0m0 4h0m0 1.2h0m.1-1.2h0m0 .1h0m.4-1h0m0 4.2h0m0 .4h0m.1 .8h0m.3-1.6h0m.1 0h0m.1-3.6h0m.2-2.5h0m0 1.6h0m.1 2.4h0m0 3.7h0m.1-2.4h0m.1-2.5h0m.1 .3h0m.1 .9h0m0 .2h0m.1-1.8h0m0 3.1h0m.1-2.8h0m.7-3.9h0m.4 2h0m0 1.3h0m.1-1.5h0m.1 4.4h0m.3-2.5h0m0 1.2h0m.5-.2h0m.1-.8h0m.1-.7h0m.1 .8h0m.4-1.8h0m.2 2.8h0m.7-1.4h0m.1 2.1h0m.1-4.9h0m.1 1.7h0m.4-3.1h0m.5 6.3h0m.6-5.7h0m.5 5h0m.8-3.5h0m.7 .2h0m.7 2.2h0m.5-5.8h0m.1 4h0m1.3-3.9h0m.6 5.2h0m.8-3.8h0m.2 1.1h0m.4 1.6h0m1.7-1.9h0" stroke="#606060" stroke-width="1.00" opacity="0.70"/><path d="M225.8 134.3h0m1.9-13.6h0m3.2-2.2h0m1.3 9.2h0m1.1 6.8h0m1.2-11.9h0m.2-1.7h0m.4-2.7h0m0 7.5h0m.1 8.4h0m0 2.6h0m.1-15.1h0m0 15.5h0m.6-17.7h0m.6 .7h0m.2 8.6h0m.1-.2h0m.7-9.6h0m.1 5.6h0m.4 7.1h0m.2 12.7h0m.1-8.9h0m.2-10.4h0m.1 11.4h0m.1-19.3h0m.5-.4h0m.3 6.1h0m.4-3.2h0m.1 3h0m.3-1.4h0m0 1.9h0m.4-.2h0m0 2h0m0 2h0m.1-10.5h0m0 .6h0m0 11.1h0m.1-3.4h0m.1 3.1h0m.2-9.4h0m.1 6.2h0m.3-9.1h0m0 2.1h0m0 1.1h0m0 2h0m.2-3.9h0m0 18.2h0m.3-18.9h0m0 5.7h0m.1-3.2h0m0 21h0m.1-23.4h0m0 24.3h0m0 .1h0m.1-26.2h0m0 12.6h0m.1-7.2h0m.1-.7h0m0 24.1h0m.2-26.3h0m.2 23.9h0m.1-26.9h0m0 22.8h0m.1-22.1h0m0 17.5h0m.1-17.9h0m0 .9h0m0 7.8h0m.1-9.7h0m0 5.4h0m0 20.2h0m.2-23.6h0m0 3.8h0m.1-3.1h0m0 2.4h0m0 2.6h0m.1-5h0m0 .1h0m.1 6.6h0m.1-2.3h0m0 3.3h0m.1-4.3h0m0 5.5h0m.1-9.2h0m0 11.3h0m.1-2.6h0m0 2.2h0m.1 10.9h0m.1-23.9h0m0 3.5h0m0 9.4h0m0 4.1h0m.2-17.9h0m.1 .3h0m0 3.8h0m0 4.3h0m0 8.1h0m0 6.3h0m.1-16.1h0m.1-7.3h0m0 .3h0m0 6.1h0m.1-6.3h0m0 8.8h0m.1-7.2h0m0 3.4h0m0 4.4h0m0 5.2h0m.1-10.8h0m0 8.7h0m0 3.8h0m.1 3h0m.1-14h0m0 2.1h0m0 10.9h0m.2-18.8h0m0 3.3h0m0 3.2h0m.1 .1h0m0 5.3h0m.1-10h0m0 .2h0m0 15.3h0m.1-10.3h0m0 19.1h0m.1-23.9h0m.1 1.5h0m.2-4.4h0m0 .6h0m.1 7.7h0m0 2.9h0m0 2h0m.2-10.5h0m0 4.9h0m0 4.7h0m0 13.2h0m.1-21.3h0m.1 1.9h0m0 8.4h0m.1-8.9h0m0 6.4h0m.1-11.8h0m0 8.1h0m0 .3h0m.1-5.6h0m.1-.2h0m0 13.9h0m.1-4.6h0m0 .4h0m0 1.1h0m.1 6.6h0m.1-7.3h0m.1 4.7h0m0 3.9h0m.1-8.8h0m0 2.6h0m0 .5h0m0 0h0m0 15.1h0m.1-26.9h0m0 .8h0m0 14.3h0m.1-13.2h0m0 2.1h0m0 20.1h0m.2-26.4h0m0 9.3h0m.1-10h0m0 15.6h0m.1-15.1h0m0 5.4h0m0 5.2h0m.1-9h0m0 6.5h0m0 1.9h0m0 .3h0m.1-9.9h0m0 1.4h0m0 .9h0m0 1.1h0m0 .6h0m0 6.4h0m0 2.6h0m.1-14.4h0m0 10.8h0m0 2.6h0m0 .5h0m0 11.5h0m.1-26.9h0m0 5.6h0m0 9.8h0m0 4.2h0m.1-9.9h0m0 22.1h0m.1-23.9h0m0 5.2h0m0 5h0m.1-14.4h0m0 3.5h0m0 9.4h0m.1-7.4h0m.1-2.2h0m0 13.9h0m.2-17.7h0m0 .3h0m0 10.5h0m.1 1.1h0m0 .3h0m0 .2h0m0 9.7h0m.1-20h0m0 12.6h0m.1-11.9h0m0 .5h0m0 .4h0m0 17h0m.1-23.3h0m0 4.5h0m.1-6.9h0m0 .2h0m0 .4h0m0 9.3h0m0 1.1h0m0 .5h0m0 12.3h0m.1-21.4h0m0 2.2h0m0 4.2h0m0 1.6h0m0 4.9h0m0 5.5h0m0 9.7h0m.1-25h0m0 3.9h0m0 .4h0m0 .8h0m0 10.1h0m.1-21.1h0m0 7.6h0m.1-7h0m0 6.4h0m0 .6h0m0 1h0m0 14.9h0m.1-17.2h0m0 11.3h0m0 2.9h0m.1-10.4h0m0 2.5h0m.1-6h0m.1 4h0m0 1.2h0m0 4h0m0 .1h0m0 4h0m.1-15.4h0m0 9.3h0m0 2.6h0m0 7.4h0m.1-12.1h0m.1-10.9h0m0 11.9h0m.1-2.6h0m.1 9h0m0 .8h0m.1-15h0m0 1.8h0m0 11.1h0m0 5.3h0m0 3.8h0m.1-23.5h0m0 .5h0m0 18.5h0m0 9.8h0m.1-27.8h0m0 7.1h0m0 2.3h0m0 2.6h0m.1-7.9h0m.1-5h0m0 1.2h0m0 7.7h0m0 8.8h0m0 8.6h0m.1-13.2h0m.1-13.8h0m0 2.2h0m0 2.1h0m0 1.9h0m0 7.7h0m0 4.6h0m.1-7.1h0m.1-4.3h0m.1 4.6h0m0 7.1h0m.1-13.9h0m0 4.7h0m0 19.8h0m.1-23.5h0m0 4.9h0m0 8.3h0m.1-16.7h0m0 4.2h0m0 4.9h0m.1 3.6h0m.1-9.6h0m0 .1h0m.1-4.8h0m0 6.3h0m0 1h0m0 16.1h0m.1-27.9h0m0 6.9h0m0 8.1h0m0 2.5h0m.1-5.5h0m0 11.4h0m.1-19.2h0m0 3.2h0m0 3.7h0m.1-.6h0m0 17.3h0m0 7h0m.1-28.8h0m0 20.4h0m.1-17.6h0m0 .4h0m.1-5.8h0m0 4.9h0m0 3.1h0m0 10.4h0m.1-21h0m0 5.6h0m0 1h0m0 .6h0m0 0h0m0 1.3h0m0 8.4h0m.1-15.7h0m0 19.9h0m.1-.5h0m.1-12.1h0m0 4.9h0m.1 10.4h0m.1-24.4h0m0 10.7h0m0 2.9h0m0 6h0m.1-17.3h0m0 4.3h0m0 4.8h0m0 2.4h0m0 6.1h0m0 6.1h0m.1-16.6h0m0 1.1h0m0 10.6h0m.1-11.6h0m0 4.4h0m0 20h0m.1-35.8h0m0 2.1h0m0 7.3h0m0 3.9h0m.1-7.6h0m0 1.2h0m0 3.2h0m.1-2.8h0m0 14.2h0m.1-22h0m0 7.5h0m0 1.5h0m0 .2h0m.1-.1h0m0 15.9h0m.1-20.4h0m0 4.3h0m0 2.3h0m0 6.3h0m0 6.6h0m.1-21.2h0m0 4h0m.1-7.7h0m0 13.7h0m0 9.4h0m.1-22h0m0 7.9h0m0 7.3h0m0 7.1h0m.1-19.2h0m0 .4h0m0 .9h0m0 7.8h0m0 .7h0m0 3.2h0m.1-17.1h0m0 9.9h0m0 9.3h0m.1-15.1h0m0 1.3h0m0 .8h0m0 20.3h0m.1-8.4h0m.2-14.7h0m0 12.5h0m0 2.4h0m0 11.8h0m.1-27.9h0m0 3.6h0m0 2.8h0m0 18.3h0m.1-10.8h0m0 2.9h0m.2-18.1h0m0 4.4h0m0 12.7h0m.1-7.3h0m0 3.6h0m.1-1.7h0m0 2.2h0m.1-9.4h0m0 1.7h0m0 7.9h0m0 10.3h0m0 12.1h0m.1-32.9h0m0 4.2h0m0 3.2h0m0 .8h0m.1-6.7h0m0 2.4h0m0 2.1h0m0 14h0m0 2.2h0m.2-22.9h0m0 15.7h0m.1-17.9h0m0 1.9h0m0 2.5h0m0 2.6h0m0 .8h0m0 3h0m0 1h0m0 .4h0m0 5h0m0 8.2h0m.1-24.3h0m0 2.3h0m0 1.1h0m0 2.1h0m0 10.9h0m.1-18h0m0 14.4h0m0 9.2h0m.1-23.3h0m0 9.8h0m.1-5.2h0m0 .1h0m0 6.2h0m0 8.3h0m.1-6.6h0m0 7.5h0m.1-18.8h0m0 8h0m0 18h0m.1-11.8h0m.1-8.2h0m0 6.5h0m.1-7.5h0m0 1.2h0m0 1.7h0m0 1.5h0m.1-8.9h0m0 10.4h0m0 7h0m0 7.8h0m0 4.6h0m.1-21.2h0m0 14.5h0m.1-22.1h0m0 5.4h0m.1-7.6h0m0 .7h0m0 2.2h0m.1-1.6h0m0 14.2h0m0 14.1h0m.1-26.6h0m0 .9h0m0 .7h0m0 3.7h0m0 2.8h0m0 1.6h0m0 7.8h0m0 7.6h0m0 1.1h0m.2-27.3h0m0 1.2h0m0 3.5h0m0 11.7h0m0 6.7h0m.1-21.4h0m0 14.6h0m.1-20.1h0m0 5h0m0 32.4h0m.1-34.4h0m.1 1.5h0m0 .7h0m.1-6.7h0m0 4.8h0m0 1.5h0m0 7.3h0m0 8.8h0m.1-13.1h0m.1-3.1h0m0 7.3h0m.1-14.5h0m0 .7h0m0 18.3h0m.1-20.2h0m0 3.9h0m0 8.7h0m0 2.5h0m.1-12.1h0m0 8.9h0m.1-10.8h0m0 13.4h0m.1-6.1h0m0 12.9h0m.1-16.9h0m0 3.2h0m0 6.8h0m0 5.2h0m.1-18.6h0m0 4.1h0m0 1.6h0m0 .1h0m0 9.1h0m0 4.8h0m.1-6h0m0 7h0m0 5.7h0m.2-25.3h0m0 4.5h0m0 1h0m0 7.8h0m.1-11.8h0m0 19.1h0m.1-18.7h0m0 .8h0m0 .8h0m0 12.2h0m0 5.4h0m.1-23.7h0m0 31.2h0m.1-16.6h0m.1-13.5h0m0 29.6h0m.1-17h0m0 8.9h0m0 6.6h0m0 .2h0m.1-20.5h0m.1 7h0m.1-15.5h0m0 6.6h0m0 10.4h0m.1-9.1h0m0 9.9h0m.1-11.4h0m0 3.5h0m0 .9h0m.1-.2h0m.1-4h0m.3-2.6h0m.1 4h0m.1-2.2h0m0 11.4h0m.1-17.3h0m0 5.5h0m0 4.2h0m0 .1h0m0 5.4h0m.1-6.1h0m.1 2.1h0m.1 .4h0m.1 1.7h0m.3-3.4h0m0 11.1h0m.2-12.5h0m.2-1.7h0m0 18.5h0m.2-2h0m.1-20h0m0 14h0m0 .6h0m.1-17.5h0m.1-1.4h0m.1 7.5h0m0 9.8h0m0 3.8h0m.1-21.2h0m0 15.7h0m.1 2h0m.1-20.1h0m0 16.7h0m0 2.6h0m.1-7h0m0 10.8h0m.1-12.2h0m.1 10.2h0m0 7.1h0m.1-19.2h0m0 17.5h0m.1-19.5h0m.1 10.5h0m0 2.9h0m.4-7.5h0m0 2.6h0m0 2.1h0m.1-13.3h0m.2 6.4h0m0 7.5h0m0 7.1h0m.4-17.8h0m0 22.5h0m.1-16.3h0m.1-2.5h0m.2-8.7h0m.1 25.1h0m0 3.3h0m.1-12.5h0m.1-12.3h0m0 14h0m.1 1.7h0m.2-5.9h0m.3 1.6h0m0 6.2h0m.2-21h0m.1-.1h0m0 14.1h0m0 10.7h0m.1-7.4h0m.1-17.8h0m0 6.7h0m.3 2.9h0m.3-2.3h0m0 9.1h0m.1-11.4h0m.1 10.7h0m.1-19.7h0m0 15.9h0m.1-7.8h0m0 12.2h0m0 2.7h0m0 10.2h0m.2-22.4h0m0 6.6h0m.1 15.4h0m.1-18.1h0m.4 3.8h0m.2-18.6h0m.1 17.3h0m.1-1.3h0m.2 7.3h0m.1-10.5h0m.3-13.6h0m.1 11.6h0m.1-7.8h0m.5 16h0m0 2.7h0m.4-5.8h0m.1-1.8h0m.1-6.5h0m.1 .9h0m.5 2.9h0m1.1-9.2h0m1.5 14.4h0m2.3 6.1h0m1.2-13.5h0m2.2-9.8h0" stroke="#5c5c5c" stroke-width="1.00" opacity="0.65"/><ellipse cx="227.0" cy="129.8" rx="10.0" ry="4.5" transform="rotate(-14 227.0 129.8)" fill="url(#gK)" filter="url(#grain)"/><path d="M218.3 86.7h0m1.1-9.8h0m1.3-22h0m.5 22.3h0m0 14.4h0m0 2.9h0m.6 5h0m.1-24.6h0m.1 18.6h0m.6-4.6h0m.5-43.4h0m.1 28.7h0m.1 12.4h0m.1 1.5h0m.1 6h0m.2-41.2h0m.8 25.5h0m.7-21.5h0m.1 28h0m.1 17.9h0m.1-21h0m.2-56.2h0m.5 50.8h0m.1 16.2h0m.4-10.7h0m1-21.9h0m.1-23.2h0m.1 15.9h0m0 35.7h0m.2-4.9h0m0 3.2h0m.3-6.3h0m.2 8.6h0m.2-13.1h0m.5-37.1h0m.1 33.1h0m.3-.4h0m.1-46.6h0m0 10.1h0m.2 42.4h0m.4-.3h0m.3 11.2h0m.4-35.8h0m0 43.2h0m0 14.5h0m.2-1h0m0 3.8h0m.5-3.9h0m.1-44.4h0m.5 19.1h0m.2-14.1h0m0 19.5h0m.1-19.2h0m0 7.4h0m0 3.1h0m.1-8h0m.1 26h0m.1-28.8h0m.2 30.8h0m.2-18.4h0m.1 11.4h0m.1-18.2h0m0 1.1h0m.6-6.3h0m.2-22.9h0m.2-6.2h0m.1 43.5h0m.1-3.3h0m.1 10h0m.3-27.6h0m0 20.7h0m.1 25.6h0m.3-8.8h0m0 8.5h0m.3-24.2h0m.1-18h0m.1-9h0m.1 22.2h0m.2 24.5h0m.2-36.6h0m.1 14.1h0m.1-16.5h0m.1 13.8h0m.1-12.4h0m.1 11.9h0m.1 5.4h0m.2-.6h0m.3-40.7h0m.1 15.8h0m.1 47.7h0m0 7.8h0m.1-56.8h0m.2 22.1h0m0 23.1h0m.1-49.4h0m.1 18.3h0m.1-8.6h0m.2-2.9h0m0 22.8h0m.1 2.5h0m.2 22.4h0m.1-18.6h0m0 2.4h0m.1-30.5h0m.1 13h0m0 29.5h0m.1-4.2h0m.1-30.8h0m0 41.1h0m.1-47.7h0m0 2.2h0m.1-21.4h0m.1 14.9h0m.1 32.3h0m0 16.5h0m.1-53.7h0m0 62.3h0m.1-63.4h0m0 .6h0m.1-.4h0m0 13.4h0m.2 3.8h0m.1-.4h0m.1-31.5h0m0 29.6h0m.1 10.5h0m.1-30.2h0m.2 40.3h0m.1-6.2h0m.1-21.9h0m0 13.4h0m.2-24.7h0m0 6.4h0m.2-.2h0m.1-5.6h0m0 22.7h0m.1-8.9h0m.4 30.9h0m.3-19.2h0m.2-37.9h0m0 16.6h0m0 17.3h0m.1 15.3h0m0 1.4h0m.2-31.6h0m.1-5.7h0m.2 29.3h0m.2-12.7h0m.2 8.6h0m.1-14.6h0m.1 12.3h0m.1 2.3h0m.1 30.5h0m.3-33.4h0m.1-22.8h0m.1 8.7h0m.2 13.4h0m.3-15h0m.1 44.4h0m0 5.2h0m.1-76.4h0m.1 65.5h0m.1-14.8h0m.1-34h0m.4 21.6h0m0 9.7h0m.1-3.2h0m.2 8.6h0m0 10.5h0m.2-47h0m0 47.7h0m.1 14h0m.9-65.5h0m.2 19.1h0m0 11.2h0m.5-2.2h0m.1 14.5h0m.3-7.3h0m.1 .8h0m0 4.1h0m.1-26.9h0m0 20.1h0m0 5.6h0m0 7h0m.2-11.2h0m.1 17.9h0m.1-3.4h0m0 15.2h0m.1-58.3h0m.1 22.9h0m.2-3.5h0m.2 25.3h0m.1 12.6h0m.2-70.8h0m.1 23.1h0m.1-16.8h0m0 38.1h0m.1-22.7h0m.1 19h0m0 22.9h0m.3 5.3h0m.1-7.9h0m.1 8h0m.5-10.9h0m.1 5.6h0m.2-38.8h0m.2 3.6h0m.3-30h0m.1 18.3h0m0 42.2h0m.1-22.1h0m0 1.3h0m.3 23.7h0m.7-49.1h0m.2 23.4h0m.2 1h0m.5-11.6h0m.3-1.3h0m.1 4.1h0m0 16.8h0m.3-28h0m0 37.7h0m0 5.4h0m0 2.1h0m.1-48.4h0m0 9.6h0m.1-12.3h0m.6-15.2h0m.2 15.6h0m.2 50.4h0m.2-4.7h0m.2-45.5h0m0 4.1h0m0 35.8h0m.1-7.2h0m.3-27.5h0m.4 21.8h0m.1 5.7h0m0 15.9h0m.2 5.1h0m.1-22.3h0m0 2.3h0m.2-22.1h0m.4 34.8h0m.3-16.3h0m.3 9.2h0m.4-16.2h0m.5-29.4h0m0 27.8h0m.2-23.2h0m.1 24.2h0m.2-40.4h0m.7 44.4h0m.3 13h0m.1-57.7h0m1 61.7h0m.2-34.4h0m.2 15.6h0m.1-19.8h0m2.5-1.5h0m.4 36.9h0m.3-40.3h0m0 30.4h0m.1-3.5h0m.4-32.9h0m.7 2.3h0m1.9 19.3h0m.1 29.1h0m.3-27.2h0m.4 14.9h0m1-2.3h0" stroke="#858585" stroke-width="1.00" opacity="0.55"/><path d="M211.2 117.2h0m.5-3.1h0m.8-29.7h0m1.1 15h0m.5-16.9h0m0 37.6h0m.9-3.4h0m.3-15.4h0m.5 7.8h0m.3-8.6h0m.3 11.5h0m.6-3.1h0m.2-.7h0m.4-22h0m.3 11.7h0m0 17.7h0m.2-13.9h0m.2 9.3h0m.3-8.2h0m.3 7.2h0m.2-4h0m.3-6.9h0m.1-13.9h0m0 2.8h0m.1 .7h0m.1-7h0m0 18.6h0m.2 3.4h0m.1-10.8h0m.2 10.2h0m.2 2.7h0m.1-21.9h0m.4 14.9h0m.1-28.1h0m.1 17.2h0m0 14h0m.1-8.2h0m0 5.4h0m.1 16.7h0m.1-8.7h0m.2 5.6h0m0 3.1h0m.2-31.7h0m0 24.9h0m0 8.7h0m.2-2.6h0m.2-18.4h0m0 7.2h0m.2-13.8h0m0 1.4h0m0 17h0m.1-14.5h0m0 16.7h0m.3-13.9h0m0 15.7h0m.1-14.7h0m.2-17.1h0m0 29.8h0m.1-35.9h0m0 29.6h0m0 1.4h0m0 1.5h0m0 5.1h0m0 3.9h0m.2-32.6h0m0 5.3h0m0 21.8h0m.1-6h0m.1-10.2h0m.1 18.8h0m.1-15.1h0m0 6.3h0m.1-33.1h0m0 27.2h0m0 9.4h0m.1-6.4h0m.1-23.2h0m0 26.4h0m.2-15.6h0m0 12.6h0m0 .7h0m.1-12.2h0m0 7.2h0m.1-4.5h0m.1 1.7h0m0 13.3h0m.3-12.5h0m0 13.7h0m.1-18.8h0m.1-17.3h0m0 16.1h0m.2 27.7h0m.1-22.8h0m0 10.6h0m.1-35.8h0m0 .3h0m0 25.3h0m.1-9.7h0m0 4.6h0m0 3.4h0m0 6.8h0m0 13.4h0m0 4.3h0m.1-4.3h0m0 3.8h0m.1-13.8h0m.1-7.5h0m0 3.8h0m0 5.1h0m.1-32.4h0m0 12.6h0m0 5.9h0m0 16.1h0m0 .2h0m0 3.3h0m.1-37.9h0m.1 21.6h0m.1 1.4h0m.1-11.8h0m0 11.5h0m.1 3.5h0m.1 11.8h0m.1-17.9h0m0 .8h0m0 18.5h0m.1-11.8h0m.1-24.4h0m0 2.9h0m.1-4.4h0m.2 4.4h0m0 2h0m0 24.4h0m.1-34.5h0m0 21h0m0 .3h0m0 10.4h0m0 7.8h0m.1-19.8h0m0 .5h0m0 6.8h0m0 15.6h0m.1-32.9h0m0 3.5h0m.1-7.8h0m0 .2h0m.1 .6h0m0 6.2h0m0 21.3h0m.1-27h0m0 14.3h0m0 11.9h0m0 .3h0m0 12.3h0m.1-17.3h0m0 11.6h0m.1-27.8h0m0 17.3h0m.1 .8h0m.1-12.4h0m0 2h0m0 4.9h0m0 6.1h0m.1-23.4h0m0 4.4h0m0 2.5h0m0 8.2h0m.1-13.3h0m.1-.1h0m0 3.9h0m0 8.6h0m0 9.4h0m0 .5h0m.1-37.6h0m0 27.6h0m0 1.7h0m.1 24.3h0m.1-19.2h0m0 5.8h0m0 13.3h0m.1-38h0m0 7.4h0m0 2.3h0m0 4.1h0m0 5.9h0m.1-22.4h0m0 15.3h0m.1-4.6h0m0 1.5h0m0 .2h0m0 26.3h0m.1-26.7h0m0 25.8h0m0 3.8h0m.1-34.6h0m0 10.5h0m0 2.5h0m0 4.6h0m.1-22.7h0m0 4.1h0m0 17.6h0m0 4.8h0m0 2.8h0m.1-5.9h0m.1-33.1h0m0 1.8h0m0 22.6h0m0 2.6h0m0 15.1h0m.1-22.7h0m0 .5h0m0 3.9h0m0 10.3h0m.1-21.9h0m0 5h0m0 19.4h0m.1-22h0m0 9.6h0m0 2.1h0m0 6.5h0m.1-14.2h0m0 21.8h0m.1-7h0m.1-12.4h0m.1-19.5h0m0 7.3h0m0 13.3h0m0 1.7h0m.1-13h0m0 7.8h0m0 6.4h0m0 2.1h0m0 1.8h0m0 1.2h0m0 .1h0m.1-6.9h0m0 8.2h0m0 7.7h0m0 4.8h0m.1-17.7h0m0 1.6h0m0 19.1h0m.1-43.7h0m.1-2.7h0m0 12h0m0 14.9h0m0 7.2h0m.1-6.5h0m0 3.9h0m0 .4h0m0 1.9h0m.1-9.5h0m0 3.2h0m.1-33.8h0m0 19.6h0m0 15.8h0m.1-15h0m.1-12.4h0m0 4.1h0m0 11.5h0m0 8.7h0m0 19h0m.1-28.9h0m0 4.1h0m.1 4.9h0m.1-25.3h0m0 2.6h0m0 1.8h0m0 10.9h0m0 .3h0m0 1.9h0m0 5.6h0m0 9.8h0m.1-21h0m0 11.7h0m0 2.7h0m0 13.2h0m.1-13.2h0m.1-37.8h0m0 20.8h0m0 10.2h0m0 7.9h0m0 2.1h0m0 2.1h0m0 .5h0m.1-20.2h0m0 9.2h0m0 1.7h0m0 3.4h0m0 18.7h0m.1-30h0m0 9.1h0m0 1.6h0m0 2.6h0m.1-18.4h0m0 5.4h0m0 3h0m0 6h0m0 10.3h0m.1-13h0m0 3.6h0m0 .1h0m.1-32.7h0m0 13.8h0m0 10.4h0m0 2.1h0m0 8.6h0m0 1.2h0m.1-27.1h0m0 19.9h0m0 1.2h0m0 .7h0m0 14.5h0m0 3.2h0m.1-21.1h0m.1 1.4h0m0 8.6h0m.1-16.2h0m0 .1h0m.1-8.5h0m0 10.3h0m0 14.5h0m0 1.3h0m0 1.3h0m.1-23.7h0m0 16h0m0 4.6h0m0 9.9h0m.1-24.3h0m.1-27h0m0 25.2h0m0 2.5h0m0 7.1h0m.1-.1h0m0 5.7h0m0 5h0m.1-16.3h0m.1-8.9h0m0 23.7h0m.1-21.9h0m.1-10.5h0m0 8.1h0m0 28.2h0m0 5.2h0m.1-38.3h0m0 17.6h0m.1 10h0m.1-27.5h0m0 2.9h0m0 9h0m0 3.8h0m.1-12.5h0m0 5.9h0m0 13.2h0m0 7.3h0m0 6.8h0m.1-40.7h0m0 5.9h0m0 8h0m0 6h0m.1 3.2h0m0 21.3h0m.1-25.3h0m0 19.5h0m.1-37.9h0m0 15.9h0m0 .3h0m0 5h0m0 3.8h0m0 6.2h0m.1-19.8h0m0 .7h0m0 9.5h0m0 1.5h0m0 .6h0m0 1.5h0m0 5.6h0m0 5.7h0m.1-26.7h0m0 5.6h0m0 12.8h0m.1-15h0m0 18h0m0 7.3h0m.1-28.1h0m0 23.8h0m.1-26.7h0m0 7.2h0m0 14.1h0m0 14.5h0m.1-29.7h0m.3-2.1h0m0 3.9h0m0 15.1h0m0 5.7h0m.1-13.6h0m0 1.5h0m.1-9h0m0 1.3h0m0 1.7h0m0 2h0m.1-8.9h0m0 9.7h0m.1-27.2h0m0 7.5h0m0 21.3h0m0 2.3h0m.1-5.6h0m0 5.5h0m.1-19.3h0m0 2h0m0 6.5h0m0 13.5h0m0 1.7h0m0 1.4h0m.1-38.5h0m0 24.8h0m0 8.6h0m0 7.6h0m0 12.3h0m.1-45.9h0m0 9.9h0m0 1.4h0m0 1.7h0m.1-7.2h0m0 15.6h0m0 7.7h0m.1-16.5h0m0 3.9h0m0 15.3h0m0 5h0m.1 1h0m.1-46.9h0m0 11h0m0 14.1h0m0 18h0m.1-23.7h0m0 1.9h0m0 16.5h0m0 4h0m.1-11.5h0m0 15.8h0m.1-20.3h0m0 1.3h0m0 3.2h0m.1 5.4h0m.1-19.6h0m0 6.4h0m0 4.4h0m0 8.3h0m.1-14.9h0m0 37h0m.1-39.8h0m0 9.4h0m.1-24.8h0m0 19.8h0m0 1.9h0m.1 4.5h0m0 4.1h0m0 1.7h0m0 1.5h0m0 9.3h0m0 1.7h0m.1-42.2h0m0 19.8h0m0 .9h0m0 2.2h0m0 19h0m.1-25.3h0m0 13h0m.1-9.4h0m0 1.8h0m0 3.9h0m0 12.3h0m.1-46.6h0m0 30.5h0m0 1.8h0m0 5.8h0m.1-15.7h0m0 9.4h0m0 4.9h0m0 1.3h0m.1-21.9h0m.1 37.2h0m.2-7.1h0m.1-20h0m0 13.3h0m.1-22.1h0m0 11.8h0m0 7.4h0m.1-11.8h0m0 1.7h0m0 5.1h0m0 12.2h0m.1-26h0m0 30.6h0m.1-32.3h0m0 .3h0m0 6.9h0m.1-11h0m0 20.9h0m.1-23.4h0m0 25.8h0m.1-23.1h0m.1 25.6h0m.1-10.8h0m0 1.4h0m0 9.1h0m0 .9h0m.1-22.3h0m0 15h0m0 9.1h0m.1-28.7h0m0 37.5h0m.1-20.6h0m0 0h0m0 11.5h0m.2-10.7h0m.2-20h0m0 22.9h0m.1-4.5h0m.1 8.7h0m.1-3.5h0m.1 11.9h0m0 1.4h0m.3-38.5h0m0 31.5h0m.2 4.2h0m.2-16.1h0m.1-7.4h0m0 4.6h0m0 5.9h0m0 .8h0m.1-28.1h0m0 10.5h0m0 7.6h0m.1-10.8h0m0 10.3h0m0 17h0m.1-16.7h0m0 17.1h0m.1-18.5h0m0 10.7h0m0 10.8h0m.1 4.6h0m.2-31.8h0m0 .8h0m0 7.4h0m.1 6.9h0m.1-34.3h0m0 30.1h0m0 11.1h0m.1-8.5h0m.2 .2h0m.1-12.3h0m.3-2.4h0m0 20.3h0m.4-28.7h0m.1 17.7h0m.1-.9h0m0 2.9h0m.1-6.8h0m0 10.7h0m.5 17.7h0m.2-19.1h0m0 1.7h0m.2 7.1h0m.3-17.2h0m.4-11.3h0m.2 13.3h0m.9 26.9h0m.5-20.8h0m1.1 7.5h0m0 15.5h0m.2-40.2h0m.2 8.1h0m1.4 1.1h0m.6 7.6h0m.2-6.5h0m1.1 9.7h0m4.3-15.9h0" stroke="#555" stroke-width="1.00" opacity="0.55"/><path d="M209.5 121.3h0m4.8-11.9h0m.2-7.9h0m.7 14.1h0m.3-2.1h0m.1-12.2h0m.5 16.8h0m.3-15.3h0m.1 6h0m.1 9.1h0m.2-11.5h0m.1 5.5h0m.2-7.7h0m.3 9.8h0m.4-3.6h0m.1-7.3h0m.2-2h0m0 13.3h0m0 2.4h0m.2 1h0m.1-28.6h0m0 21h0m.1-22.7h0m.1 12.9h0m.2 4.9h0m0 11.6h0m0 3h0m.2-13.5h0m.1 13.3h0m.1-21.9h0m0 9h0m.2-9.5h0m0 4.1h0m0 1.1h0m0 3.2h0m0 .7h0m0 12.1h0m.1-6.9h0m0 .1h0m0 8.2h0m.1-10.4h0m0 2.2h0m0 7.7h0m.1-18.4h0m0 4.2h0m0 .4h0m0 .2h0m.1 .7h0m.1-1.4h0m0 2.9h0m0 3.8h0m0 .4h0m.1-14.1h0m0 9.6h0m.1-16.5h0m0 14.6h0m0 6.9h0m.1-12.1h0m0 3h0m0 13.5h0m.1-10.4h0m.1 7.6h0m.1-8h0m0 2h0m0 5.7h0m.1-23h0m0 11.6h0m0 16.9h0m.1-12.1h0m.1 .6h0m0 10h0m.1-8.7h0m0 4.6h0m.1-12h0m0 2.8h0m0 1.1h0m.1-7.1h0m0 .1h0m0 2.5h0m0 4h0m0 8.2h0m0 5.5h0m0 .2h0m.1-22.1h0m0 9.6h0m0 7.3h0m.1-6.2h0m0 3.6h0m0 2.2h0m.1-9.6h0m0 2h0m0 .2h0m0 4.6h0m.1-13.5h0m0 3.6h0m0 1.3h0m0 3.6h0m.1-13.6h0m0 6.8h0m0 7.8h0m0 4.3h0m0 3.7h0m0 1.3h0m.1-18.2h0m0 .5h0m0 5.9h0m0 7.6h0m0 1.4h0m0 3h0m.1-11.5h0m0 1.4h0m0 6.3h0m0 5.1h0m.1-19.7h0m0 7.9h0m.1-18.4h0m0 22.6h0m.1-7.1h0m0 16.5h0m.1-17.6h0m0 .1h0m0 .9h0m0 8.4h0m0 1.5h0m0 2.4h0m0 2h0m.1-20.5h0m0 11.1h0m0 4.8h0m.1-6.5h0m0 12.3h0m.1-21.3h0m0 9.2h0m0 4.2h0m0 4.3h0m.1-25.7h0m0 5.3h0m0 8.7h0m0 .6h0m0 5.2h0m0 7.8h0m.1-21.8h0m0 5.3h0m0 .8h0m0 3.2h0m0 5.5h0m.1-11.4h0m0 6h0m0 4.9h0m0 8h0m0 2.1h0m.1-25.7h0m0 5h0m0 2.4h0m0 1.7h0m0 3.6h0m0 7.8h0m0 3.9h0m.1-22.8h0m0 8.6h0m0 4.5h0m0 .2h0m0 .3h0m.1-11.4h0m0 3.2h0m0 .2h0m0 1h0m0 4.6h0m0 2.6h0m0 1.3h0m0 1.8h0m.1-20h0m0 11.2h0m0 .7h0m0 2.6h0m0 9.1h0m0 .8h0m0 1.5h0m0 0h0m0 .2h0m0 .6h0m.1-29.2h0m0 23h0m.1-6.6h0m0 6.1h0m.1-18.6h0m0 7.3h0m0 8h0m0 .9h0m0 5.8h0m.1-27.2h0m0 10h0m0 9h0m0 1.1h0m0 1.2h0m0 .9h0m.1-24.5h0m0 6.4h0m0 5.4h0m0 1.6h0m0 4.3h0m0 4.8h0m0 2h0m0 5.6h0m.1-21.3h0m0 8.3h0m0 .9h0m0 2h0m0 4.7h0m0 .4h0m0 4h0m.1-22.5h0m0 22.7h0m.1-16.6h0m0 4.5h0m0 2.3h0m0 3.5h0m0 1.9h0m0 2h0m0 2.8h0m.1-18.4h0m0 1.3h0m0 4.1h0m0 6.3h0m0 .1h0m0 1.9h0m0 1.4h0m.1-16.1h0m0 10.3h0m0 2.4h0m0 6.6h0m.1-22.9h0m0 6.7h0m0 1.4h0m0 1.9h0m0 .9h0m0 .7h0m0 4.2h0m0 4.7h0m0 .4h0m0 4.9h0m.1-26.7h0m0 2.2h0m0 9.3h0m0 1.3h0m0 2.9h0m0 .3h0m0 6.7h0m0 .8h0m0 3h0m0 .2h0m.1-25.9h0m0 4.7h0m0 2.9h0m0 1.1h0m0 2.8h0m0 2h0m0 3.1h0m0 .2h0m0 7.4h0m0 .2h0m.1-23.7h0m0 3h0m0 10.1h0m0 3h0m0 4.1h0m.1-17.3h0m0 8.9h0m0 .4h0m0 1.4h0m0 4.7h0m0 1.1h0m.1-23.2h0m0 3.5h0m0 11.7h0m0 1.8h0m0 .4h0m0 2h0m0 1.3h0m.1-9.4h0m0 .7h0m0 2.5h0m0 1.1h0m0 1.7h0m0 .6h0m0 .5h0m0 0h0m0 .5h0m0 2.8h0m0 7.2h0m.1-22.2h0m0 3.5h0m0 1.6h0m0 .6h0m0 .4h0m0 1.6h0m0 2.8h0m0 10.4h0m.1-30.9h0m0 8.2h0m0 .3h0m0 6.8h0m0 1.1h0m0 8.4h0m0 2.9h0m0 .5h0m0 1.5h0m0 .8h0m0 2.3h0m.1-16.1h0m0 3.1h0m0 0h0m0 .6h0m0 1.8h0m0 6.5h0m0 1.4h0m.1-17.2h0m0 .6h0m0 6.9h0m0 .2h0m0 2.8h0m0 1.3h0m.1-21h0m0 .1h0m0 7h0m0 6.2h0m0 .5h0m0 .1h0m0 2.8h0m0 1h0m0 1.2h0m0 4.4h0m0 1.2h0m.1-27.7h0m0 18h0m0 3.9h0m0 .2h0m0 3.3h0m0 .4h0m0 .4h0m0 1.5h0m.1-16.6h0m0 3.8h0m0 2.5h0m0 .1h0m0 .3h0m0 6.4h0m0 1h0m0 .8h0m.1-22.9h0m0 11.4h0m0 .6h0m0 5.2h0m.1-14h0m0 5.4h0m0 .7h0m0 2.1h0m0 .1h0m0 5.5h0m0 4.7h0m0 .8h0m0 .2h0m.1-20.8h0m0 8.3h0m0 1h0m0 3.1h0m0 3.9h0m0 6.9h0m0 1.3h0m.1-24.2h0m0 4.9h0m0 4.2h0m0 12.4h0m.1-24.1h0m0 1.8h0m0 4.3h0m0 2.6h0m0 1.5h0m0 .4h0m0 1.9h0m0 1.2h0m0 .5h0m0 .1h0m0 .4h0m0 .2h0m0 1.1h0m0 6.9h0m.1-16.6h0m0 10.3h0m0 .8h0m0 2h0m0 1.3h0m0 1.5h0m0 .5h0m.1-30.4h0m0 13.6h0m0 .6h0m0 2.9h0m0 5h0m0 3.1h0m0 .2h0m0 1.2h0m0 .2h0m0 3.8h0m.1-18.8h0m0 10h0m0 2h0m0 .2h0m0 1.5h0m0 1.4h0m0 1.6h0m0 .5h0m0 1.1h0m.1-14.4h0m0 2.1h0m0 1.8h0m0 9.9h0m0 1.4h0m0 .1h0m0 2.3h0m0 1.8h0m.1-21.3h0m0 .6h0m0 .3h0m0 6.2h0m0 1.9h0m0 .6h0m0 3.5h0m0 2.4h0m0 2.5h0m0 4.6h0m.1-31.4h0m0 9.8h0m0 5.3h0m0 2.8h0m0 .9h0m0 4.9h0m0 1.4h0m0 6h0m0 1.4h0m.1-19.3h0m0 5.7h0m.1-15.9h0m0 5h0m0 6.5h0m0 4.6h0m0 1.7h0m0 .1h0m0 1.8h0m0 7.8h0m.1-23.7h0m0 6.7h0m0 6.1h0m0 1.8h0m0 2.9h0m0 7.9h0m.1-39.2h0m0 4.8h0m0 6.4h0m0 11.2h0m0 1.5h0m0 .7h0m0 .5h0m.1-11.3h0m0 8.3h0m0 1.2h0m0 1h0m0 1.7h0m0 2.3h0m.1-24.6h0m0 13.7h0m0 4h0m0 0h0m0 .1h0m0 .7h0m0 2.2h0m0 1.6h0m0 2.5h0m0 .1h0m0 4.7h0m.1-32h0m0 19.2h0m0 2.2h0m0 1.2h0m0 1.9h0m0 1.4h0m0 5.1h0m0 .8h0m0 2.8h0m.1-22.8h0m0 7.8h0m0 5.7h0m0 .7h0m0 .9h0m0 2.8h0m0 0h0m0 1.1h0m.1-23h0m0 2.9h0m0 .3h0m0 10.2h0m0 2.8h0m0 .5h0m0 2.5h0m0 2h0m.1-25.6h0m0 5.7h0m0 1.9h0m0 7.5h0m0 3.1h0m0 1h0m0 1.2h0m0 .7h0m0 1.8h0m0 .5h0m.1-21.2h0m0 4h0m0 4.5h0m0 1.6h0m0 .4h0m0 1.4h0m0 14.2h0m0 3.5h0m0 2.7h0m.1-33h0m0 6.4h0m0 5.6h0m0 5.2h0m0 2.4h0m.1-16.2h0m0 9.9h0m0 .9h0m0 .1h0m0 3.4h0m0 1.3h0m0 .8h0m0 4.6h0m0 .1h0m0 .6h0m.1-17.9h0m0 .6h0m0 5.9h0m0 1.2h0m0 2.2h0m0 1.9h0m0 4.1h0m0 1.5h0m0 .8h0m.1-16.5h0m0 .5h0m0 1.3h0m0 5.5h0m0 4h0m0 1.4h0m0 .4h0m0 8.3h0m.1-14.9h0m0 4.5h0m0 1.5h0m0 .2h0m0 .4h0m0 6.1h0m0 .4h0m0 3.2h0m.1-21.6h0m0 1.7h0m0 2.3h0m0 9h0m.1-19h0m0 3h0m0 2.7h0m0 5.7h0m0 3.4h0m0 9.3h0m0 2.2h0m0 0h0m.1-29.6h0m0 6.8h0m0 1.1h0m0 .4h0m0 3.3h0m0 .4h0m0 2.8h0m0 .8h0m0 .4h0m0 .2h0m0 .7h0m0 1.4h0m0 3.6h0m0 4.4h0m0 1.7h0m.1-34.3h0m0 6.9h0m0 3.9h0m0 .3h0m0 .4h0m0 1.2h0m0 5.5h0m0 .9h0m0 1.2h0m0 .5h0m0 1.7h0m0 5.9h0m0 5.9h0m.1-24.6h0m0 6.8h0m0 3.6h0m0 1.9h0m0 .3h0m0 1.9h0m0 .8h0m0 .7h0m0 .1h0m0 12.3h0m.1-23.6h0m0 6.1h0m0 4.9h0m0 5.5h0m.1-21.6h0m0 1h0m0 5.5h0m0 .9h0m0 8.9h0m0 .9h0m0 .3h0m0 .6h0m.1-25h0m0 9.1h0m0 11.1h0m0 2.1h0m0 2.3h0m0 .9h0m0 8.7h0m.1-33.1h0m0 .9h0m0 5.4h0m0 2.7h0m0 1.5h0m0 .2h0m0 1.3h0m0 1.9h0m0 1.3h0m0 4.1h0m0 1h0m0 .1h0m0 1.9h0m.1-13.3h0m0 9.9h0m0 .1h0m0 1.7h0m0 .1h0m0 0h0m0 3.5h0m0 1.1h0m.1-26.8h0m0 .7h0m0 4.7h0m0 7.3h0m0 0h0m0 2.5h0m0 .5h0m0 1h0m0 2.6h0m0 .3h0m0 1.1h0m0 .1h0m0 2.4h0m0 .4h0m0 1.8h0m0 7.8h0m.1-27.5h0m0 8.2h0m0 3.9h0m0 1.5h0m0 3.4h0m0 .2h0m0 3.5h0m0 3.8h0m.1-24.6h0m0 2h0m0 9h0m0 2.9h0m0 .8h0m0 4.2h0m0 .5h0m0 2.2h0m0 5.6h0m.1-24.6h0m0 6.3h0m0 1.8h0m0 .4h0m0 5h0m0 5h0m.1-27.8h0m0 5.9h0m0 14.9h0m0 1.8h0m0 .3h0m0 1.4h0m0 1.2h0m0 .3h0m0 .4h0m0 .5h0m0 4.9h0m.1-19h0m0 3.9h0m0 3.5h0m0 .5h0m0 .6h0m0 11.9h0m0 .4h0m.1-16h0m0 9.2h0m0 6.1h0m.1-17.8h0m0 .7h0m0 .3h0m0 1.9h0m0 2.7h0m0 2.9h0m0 .2h0m0 .5h0m0 .1h0m0 .3h0m0 2.6h0m0 5.9h0m.1-26.1h0m0 7.3h0m0 5.6h0m0 0h0m0 2.3h0m0 2.6h0m0 5.1h0m0 0h0m0 2.2h0m0 2.6h0m.1-30.2h0m0 16.2h0m0 .8h0m0 2.2h0m0 1.2h0m0 .4h0m0 .2h0m0 .1h0m0 2.6h0m0 4.2h0m.1-18h0m0 5.5h0m0 6.5h0m.1-22.8h0m0 3h0m0 1.2h0m0 9.6h0m0 3.4h0m0 1.3h0m0 7.2h0m0 .4h0m0 6.2h0m.1-36.2h0m0 16.3h0m0 .5h0m0 1.2h0m0 1.7h0m0 1.5h0m0 .5h0m0 3.6h0m.1-21.1h0m0 3.6h0m0 8.4h0m0 5.6h0m0 .7h0m0 .3h0m0 3.5h0m0 .9h0m0 .5h0m0 1.6h0m.1-21.8h0m0 6.2h0m0 .9h0m0 1.7h0m0 .6h0m0 .2h0m0 .7h0m0 5.3h0m0 .6h0m0 3.9h0m.1-24.9h0m0 19h0m0 .5h0m0 1.9h0m0 1.6h0m0 1.7h0m.1-24.1h0m0 .4h0m0 2.2h0m0 3h0m0 2.2h0m0 .3h0m0 7.2h0m0 7.4h0m0 2.7h0m0 6.3h0m.1-26.9h0m0 1.7h0m0 1.2h0m0 3.4h0m0 1.2h0m0 .4h0m0 3.4h0m0 7.1h0m.1-15.9h0m0 4.8h0m0 9.7h0m0 2.1h0m.1-18h0m0 6.5h0m0 3.5h0m0 .1h0m0 1.2h0m0 3.8h0m.1-19.5h0m0 11.9h0m0 2.2h0m0 2h0m0 .8h0m0 5.9h0m0 4h0m.1-29.6h0m0 8.9h0m0 3.9h0m0 3.2h0m0 2h0m0 0h0m0 4.6h0m0 2.7h0m0 .4h0m0 .8h0m0 2.9h0m.1-27.4h0m0 3.8h0m0 2h0m0 5.3h0m0 1.9h0m0 .2h0m0 2.3h0m0 2.5h0m.1-26.4h0m0 13.8h0m0 1.6h0m0 5.2h0m0 1.5h0m0 1.9h0m0 .3h0m0 .4h0m0 .8h0m0 .9h0m0 1.8h0m0 .1h0m0 .1h0m0 2.2h0m0 2h0m0 .1h0m0 4.9h0m.1-33.2h0m0 1.3h0m0 9.6h0m0 2h0m0 6.9h0m0 .5h0m0 4.5h0m0 1.7h0m0 5.6h0m.1-27.9h0m0 1.4h0m0 1.9h0m0 12.5h0m0 1.9h0m0 .1h0m0 .6h0m0 1.6h0m0 6h0m.1-22.5h0m0 1.7h0m0 7.4h0m0 .3h0m0 0h0m0 .4h0m0 4.2h0m0 2.8h0m0 .4h0m0 7.2h0m0 .5h0m.1-32.3h0m0 6.2h0m0 5h0m0 3.7h0m0 10.8h0m0 7h0m.1-30.7h0m0 7.4h0m0 2.8h0m0 10.6h0m0 .5h0m0 .1h0m0 1.1h0m0 .1h0m0 .3h0m0 2.7h0m0 1.5h0m0 5.5h0m.1-34.8h0m0 17.6h0m0 4.7h0m0 .4h0m0 2.5h0m0 .6h0m0 3.7h0m.1-35.6h0m0 12.2h0m0 4.4h0m0 1.4h0m0 3.2h0m0 2.4h0m0 1.7h0m0 5.2h0m0 .9h0m0 .3h0m0 2.9h0m0 4.6h0m.1-29h0m0 2.5h0m0 11.5h0m0 2.7h0m0 1.4h0m0 12h0m.1-34.2h0m0 10.6h0m0 .6h0m0 .1h0m0 3.6h0m0 2h0m0 6.5h0m0 12.4h0m.1-28h0m0 2.1h0m0 5.6h0m0 2.7h0m0 0h0m0 1.3h0m0 1.6h0m0 5.8h0m0 2.9h0m.1-19.7h0m0 3.2h0m0 .2h0m0 .2h0m0 4.5h0m0 .7h0m0 5.3h0m.1-18.7h0m0 4.3h0m0 8.2h0m0 3.4h0m0 1.3h0m0 .4h0m.1-22.7h0m0 3.8h0m0 4.3h0m0 .3h0m0 .9h0m0 3.4h0m0 2.6h0m0 2.8h0m0 2.6h0m0 1.5h0m0 4.4h0m.1-19h0m0 1h0m0 1h0m0 .5h0m0 1.4h0m0 6.7h0m0 .1h0m0 5.8h0m0 6.4h0m.1-30.4h0m0 8.4h0m0 1.3h0m0 1.5h0m0 2.5h0m0 .9h0m0 1.2h0m0 1.8h0m0 3.8h0m.1-12h0m0 3.7h0m0 3.9h0m0 2h0m0 10.9h0m.1-22.7h0m0 2h0m0 2.9h0m0 0h0m0 1.6h0m0 5.3h0m0 3.7h0m.1-15.5h0m0 .5h0m0 12.5h0m.1-8.8h0m0 5.8h0m0 8.9h0m.1-12.5h0m0 1.5h0m0 5.4h0m0 4.4h0m0 3.9h0m0 .5h0m0 2.7h0m.1-24.8h0m0 8h0m0 .4h0m0 .9h0m0 7.5h0m.1-23.1h0m0 8.5h0m0 2.7h0m0 .1h0m0 6.3h0m0 12.1h0m.1-20.7h0m0 7.9h0m0 7.6h0m0 1.3h0m.1-19.9h0m0 3.7h0m0 1.1h0m0 2.6h0m0 1.9h0m0 .8h0m0 1.6h0m0 9.3h0m0 4h0m.1-36.8h0m0 19.3h0m0 5.2h0m0 1.9h0m0 2.3h0m.1-15.8h0m0 9.4h0m0 1.2h0m0 1.5h0m0 1h0m0 4.7h0m0 .5h0m0 2.3h0m.1-20.8h0m0 0h0m0 1.1h0m0 3h0m0 1.9h0m0 2h0m.1 0h0m0 5.6h0m0 .9h0m.1-11.2h0m0 2.8h0m0 3.8h0m0 1.5h0m0 1h0m0 .4h0m.1-20.8h0m0 6.6h0m0 3.9h0m0 1.9h0m0 6.5h0m0 1.5h0m0 6.8h0m.1-10.2h0m0 7.1h0m.1-18.8h0m0 4.4h0m0 20.1h0m.1-24h0m0 6.6h0m0 2.9h0m0 13.3h0m0 3.1h0m.2-27.3h0m.1-2.2h0m0 3.8h0m0 2h0m0 6.3h0m0 10.6h0m0 3.9h0m.1-23.9h0m0 3.8h0m0 5.6h0m0 4.1h0m0 2h0m0 .3h0m.1-10.2h0m0 2.8h0m0 9.4h0m0 6.9h0m0 1.2h0m.1-14.9h0m0 9.8h0m0 2.3h0m.1-13.5h0m0 8.2h0m0 1.5h0m.1-19.5h0m0 8.9h0m0 10.6h0m.1-22.4h0m0 2h0m0 4.4h0m0 1.4h0m0 1.8h0m0 4.7h0m0 5.7h0m0 8.3h0m.1-23h0m0 2.7h0m0 4h0m0 4.7h0m.2-11.5h0m0 9.8h0m0 .6h0m0 2.7h0m.1-16.1h0m0 2.7h0m0 .3h0m0 28.2h0m.1-33.4h0m0 14.3h0m0 4.3h0m0 8h0m.1-13.7h0m0 9.9h0m0 8.8h0m.1-29.5h0m0 7.2h0m0 24.9h0m.1-54.4h0m0 18.7h0m0 4.7h0m0 6.8h0m0 2.3h0m0 3h0m0 2.6h0m0 2.4h0m0 3.5h0m.1-22.3h0m0 3.4h0m0 .5h0m.1 24.3h0m.1-13.5h0m0 1h0m0 1.4h0m0 6.9h0m.1-21.1h0m.1-12.2h0m0 12.2h0m0 17.6h0m.1-28h0m.1 8.8h0m0 2.8h0m.1 12.9h0m.1-12.7h0m.1 1.2h0m0 10.6h0m0 1.2h0m0 4.4h0m.1-14.4h0m.1 7.5h0m0 2.3h0m.1-11.2h0m.1-2.8h0m0 4.6h0m.1 7h0m0 5.9h0m.1-14h0m.1 11.7h0m.1-17.6h0m0 8.3h0m.1-16.8h0m0 5.8h0m0 6.8h0m0 3.7h0m0 17.8h0m.1-27.3h0m0 13.9h0m0 .2h0m.2-25.5h0m.1 21h0m.1-8.9h0m0 12.8h0m.1-3.8h0m.2 3h0m0 16.6h0m.1-48.3h0m0 28.9h0m0 .8h0m0 17.3h0m.1-8.8h0m.1-14.4h0m0 18.1h0m.5-26.1h0m.1 23.3h0m.1-9.3h0m0 3.4h0m.3 14.1h0m.1-30.9h0m0 10h0m.2 12.8h0m.7-36.6h0m.3 10.3h0m.2 13.4h0m0 6.7h0m.1-12.5h0m0 13.4h0m.4-9.1h0m.1 7.4h0m.2-9.5h0m.7 10.6h0m.7 8.2h0m2.6-18.6h0" stroke="#1f9f4a" stroke-width="1.00" opacity="0.85"/><path d="M222.7 101.5h0m.2-11.6h0m.7-1.4h0m.4 12.6h0m.1-3.4h0m.3 .4h0m.2-10.6h0m.3 15.3h0m.1 .2h0m.1-2h0m.1-2.5h0m.1-8.1h0m.1 9.1h0m.1 3.6h0m.3-29h0m0 17h0m0 .3h0m.1 5.1h0m0 .3h0m.1-11.5h0m0 6.7h0m0 .5h0m0 16.7h0m.1-17.3h0m0 .2h0m.1-8.2h0m0 9h0m0 9.4h0m0 1.1h0m.1-17.2h0m0 9.7h0m.2-7.8h0m0 2.4h0m.2-5.2h0m0 3.8h0m.1-.4h0m0 10.9h0m0 1.8h0m.1-6.3h0m0 2.1h0m.1-5.5h0m.1-1h0m0 2.2h0m0 1h0m0 2.7h0m0 .8h0m0 2h0m0 2.4h0m.1-11.7h0m0 6h0m0 7.4h0m.2-16.1h0m0 5.3h0m0 4.7h0m0 1.2h0m0 4.7h0m.1-11h0m0 2.7h0m0 .6h0m.1-8.1h0m0 3.5h0m0 10.4h0m.1-11.6h0m0 2.3h0m0 8.3h0m0 5h0m.1-17.7h0m0 1.8h0m0 .8h0m0 11h0m0 9.9h0m.1-25.3h0m0 9.1h0m0 2.1h0m0 9.6h0m.1-13.3h0m0 .6h0m0 1h0m0 9.1h0m0 8.6h0m.1-23.4h0m0 16.1h0m.1-20h0m0 .1h0m0 5.8h0m0 4.8h0m0 .5h0m0 1.6h0m.1-14.3h0m0 2.7h0m0 .3h0m0 3.1h0m0 .4h0m0 5.6h0m0 .5h0m.1-17.1h0m0 8.4h0m0 7.3h0m0 .5h0m.1-13.9h0m0 1.9h0m0 8.2h0m0 2.1h0m0 2h0m0 1h0m0 6.3h0m.1-17.8h0m0 0h0m.1 7.1h0m0 1.8h0m.1-20.3h0m0 12.7h0m0 .3h0m0 1.8h0m0 8.8h0m0 7.9h0m.1-31.2h0m0 9.1h0m0 4.6h0m0 3.2h0m0 8.3h0m.1-19.5h0m0 8.5h0m0 3.4h0m0 7.3h0m0 .1h0m0 6.2h0m.1-15.5h0m0 3.9h0m0 .2h0m0 .1h0m0 3.7h0m0 4.9h0m0 .6h0m.1-21.3h0m0 .6h0m0 7.8h0m0 .7h0m0 .5h0m0 .5h0m0 2.4h0m0 5.4h0m0 .2h0m.1-24h0m0 13.9h0m0 9.3h0m.1-15.7h0m0 5.7h0m0 10h0m0 1.3h0m0 4.6h0m.1-38.5h0m0 19.9h0m0 3.6h0m0 2.4h0m0 1.1h0m0 3.5h0m0 1.9h0m0 4.4h0m0 1.1h0m.1-26.4h0m0 6h0m0 4.3h0m0 1.8h0m0 1.5h0m0 .7h0m0 3.1h0m0 3.4h0m0 .3h0m0 .5h0m0 4.8h0m.1-20.9h0m0 2.6h0m0 .3h0m0 1.3h0m0 12.4h0m0 2.7h0m0 .3h0m0 2.7h0m.1-29.7h0m0 2.1h0m0 3.1h0m0 1.4h0m0 2.1h0m0 .6h0m0 .2h0m0 3h0m0 .5h0m0 2.8h0m0 .5h0m0 3h0m0 .3h0m0 2.5h0m0 2h0m0 1.4h0m.1-23.8h0m0 8.1h0m0 1.2h0m0 3.8h0m0 4h0m0 1.9h0m0 4.7h0m.1-17.8h0m0 1.8h0m0 1.5h0m0 2.8h0m0 1.4h0m0 .3h0m0 .8h0m0 1h0m.1-18.4h0m0 2.6h0m0 1.5h0m0 .4h0m0 7.2h0m0 .7h0m0 1.3h0m0 .1h0m0 2.9h0m0 .4h0m0 3.3h0m0 3.8h0m0 7.8h0m.1-23h0m0 1.5h0m0 3.4h0m0 5.7h0m0 3.3h0m0 .6h0m0 10.3h0m.1-25.5h0m0 12h0m0 1.6h0m.1-19.4h0m0 1.1h0m0 3.9h0m0 3.1h0m0 3h0m0 .9h0m0 2.3h0m0 1.8h0m0 2.8h0m.1-19.5h0m0 .7h0m0 6.8h0m0 .1h0m0 1.2h0m0 4.1h0m0 1h0m0 2.1h0m0 1.1h0m0 6.5h0m.1-25.3h0m0 9.2h0m0 .2h0m0 .6h0m0 .1h0m0 2.2h0m0 2.9h0m0 1.4h0m0 2.3h0m0 10h0m.1-29.9h0m0 7.2h0m0 1.8h0m0 .3h0m0 2.6h0m0 .1h0m0 3.6h0m0 .6h0m0 5.1h0m0 1.7h0m0 1.1h0m.1-20.3h0m0 7.9h0m0 1.3h0m0 2.2h0m0 .1h0m0 5.4h0m0 2.2h0m.1-19h0m0 1.8h0m0 10.8h0m0 .8h0m0 0h0m0 .4h0m0 5.9h0m0 7.4h0m.1-30.3h0m0 2.8h0m0 4.8h0m0 .4h0m0 5.2h0m0 .3h0m0 .4h0m0 .1h0m0 1.7h0m0 2.4h0m0 6.2h0m.1-23.8h0m0 8.8h0m0 2h0m0 2h0m0 2.2h0m0 1.9h0m0 2h0m0 4h0m0 3.2h0m0 1.1h0m.1-27.8h0m0 3.7h0m0 .7h0m0 5.7h0m0 4h0m0 1.9h0m0 .5h0m0 .6h0m0 .8h0m0 .7h0m0 .7h0m0 5.5h0m0 .2h0m.1-23.1h0m0 .9h0m0 4.9h0m0 9.3h0m0 1.1h0m0 .6h0m0 4.1h0m.1-10.7h0m0 .8h0m0 .3h0m0 1.4h0m0 6.7h0m.1-25.7h0m0 4.5h0m0 6.6h0m0 2.3h0m0 2.4h0m0 6.2h0m0 3.7h0m.1-9.4h0m0 1.9h0m0 1.7h0m0 1.1h0m0 .1h0m0 .8h0m0 1.2h0m0 5h0m.1-24.5h0m0 5.7h0m0 2.7h0m0 6.8h0m0 1h0m0 1h0m0 1.1h0m0 .3h0m0 1.2h0m0 .5h0m0 .4h0m0 1.4h0m0 2.4h0m0 1.2h0m0 .1h0m.1-24.5h0m0 3.9h0m0 2.6h0m0 3.4h0m0 .4h0m0 .4h0m0 1.1h0m0 4.9h0m0 11.7h0m0 8.2h0m.1-34.2h0m0 1.2h0m0 .4h0m0 2.9h0m0 0h0m0 1.4h0m0 .4h0m0 2.8h0m0 1.7h0m0 2.6h0m0 2.2h0m0 7.3h0m0 1.1h0m.1-41.7h0m0 3.2h0m0 8.7h0m0 9.1h0m0 3.2h0m0 1.6h0m0 .4h0m0 2h0m0 1.4h0m0 1.5h0m0 2.2h0m0 .4h0m0 3.3h0m0 2.4h0m0 .5h0m.1-28.5h0m0 2.6h0m0 1.7h0m0 2.8h0m0 3.2h0m0 .6h0m0 .8h0m0 1.1h0m0 .1h0m0 .1h0m0 2.1h0m0 .9h0m0 1.6h0m0 .8h0m0 .8h0m0 4.1h0m0 0h0m0 .1h0m0 .1h0m.1-27.1h0m0 10.6h0m0 3.1h0m0 .8h0m0 4h0m0 4h0m0 .8h0m0 .5h0m0 .1h0m0 .6h0m0 .6h0m0 3.9h0m0 .7h0m0 1.6h0m0 5.9h0m.1-33.6h0m0 8h0m0 .7h0m0 .9h0m0 3.5h0m0 .1h0m0 .3h0m0 .6h0m0 1.3h0m0 .5h0m0 .7h0m0 .7h0m0 2.9h0m0 .3h0m0 3.9h0m.1-21.7h0m0 5.4h0m0 1.9h0m0 1.8h0m0 .1h0m0 5.3h0m0 1.9h0m0 1.8h0m0 .5h0m0 .9h0m0 .1h0m0 .6h0m0 2.1h0m.1-20.1h0m0 1.4h0m0 4.1h0m0 .8h0m0 1.3h0m0 3.3h0m0 1.5h0m0 .1h0m0 3.4h0m0 .8h0m0 3.7h0m0 .5h0m.1-29.8h0m0 1.9h0m0 9.8h0m0 1.3h0m0 .3h0m0 5.4h0m0 3.8h0m0 1.2h0m0 4.1h0m0 1.4h0m0 .3h0m0 1.2h0m0 1.8h0m.1-24.3h0m0 1h0m0 4.4h0m0 1h0m0 5.6h0m0 0h0m0 3h0m0 3.2h0m0 .9h0m0 3.1h0m.1-21.6h0m0 .7h0m0 3.5h0m0 3h0m0 .7h0m0 .3h0m0 5.2h0m0 0h0m0 1.3h0m0 1.9h0m0 2.4h0m.1-20.6h0m0 4.4h0m0 3.9h0m0 2.4h0m0 .1h0m0 .5h0m0 .5h0m0 .3h0m0 5.6h0m0 2.3h0m0 .3h0m0 2.1h0m.1-21.2h0m0 2.5h0m0 .4h0m0 1.5h0m0 1.4h0m0 1.7h0m0 4.5h0m0 .1h0m0 2.3h0m0 1.8h0m0 1.9h0m0 .9h0m.1-23.1h0m0 1.9h0m0 2.3h0m0 2.9h0m0 .6h0m0 3h0m0 3.2h0m0 9.3h0m0 3.1h0m.1-25.7h0m0 5.5h0m0 .9h0m0 1.9h0m0 .4h0m0 1h0m0 1.9h0m0 .9h0m.1-8.1h0m0 4.3h0m0 1.2h0m0 2.3h0m0 4.9h0m0 .2h0m0 .3h0m0 1.1h0m0 3.3h0m0 .6h0m.1-19.8h0m0 4.7h0m0 2.7h0m0 .4h0m0 .4h0m0 .2h0m0 1.8h0m0 1.2h0m0 1.4h0m0 .9h0m0 3.5h0m0 3.9h0m0 1.8h0m.1-24.6h0m0 6.2h0m0 1.9h0m0 2.4h0m0 .8h0m0 3.5h0m0 .1h0m0 .2h0m0 1h0m0 5.7h0m.1-27h0m0 6.4h0m0 2.2h0m0 8.5h0m.1-9.7h0m0 2.7h0m0 .3h0m0 2.6h0m0 3.6h0m0 .7h0m0 .7h0m0 2.1h0m0 2.6h0m0 1.1h0m0 .7h0m.1-30.6h0m0 16.1h0m0 2.7h0m0 .3h0m0 3.6h0m0 .3h0m0 .2h0m0 3.6h0m.1-26.7h0m0 11.2h0m0 3h0m0 4h0m0 5.2h0m0 2.2h0m0 1.5h0m0 1.6h0m.1-13.6h0m0 2.9h0m0 .1h0m0 4.7h0m0 .3h0m0 1.2h0m0 .2h0m0 5.1h0m0 4.7h0m.1-24.2h0m0 4.4h0m0 .8h0m0 1.4h0m0 3.3h0m0 .8h0m0 1h0m0 .7h0m.1-5.3h0m0 2h0m0 .5h0m0 .3h0m0 1.4h0m0 5.1h0m0 6.6h0m0 4.7h0m.1-27.7h0m0 4.5h0m0 .4h0m0 1.9h0m0 2.6h0m0 2.1h0m0 1.1h0m0 .3h0m0 .3h0m0 5.2h0m0 2.6h0m0 1.3h0m.1-22.5h0m0 6.2h0m0 0h0m0 3h0m0 3h0m0 .8h0m0 1.4h0m0 .9h0m0 3.7h0m.1-23.4h0m0 2.2h0m.1 8.1h0m0 6.6h0m0 3.2h0m0 8.3h0m0 2.3h0m0 1.3h0m.1-35.3h0m0 3.3h0m0 3.6h0m0 1.6h0m0 6.8h0m0 .5h0m0 1.5h0m0 4.9h0m0 .3h0m0 .1h0m.1-9.6h0m0 1.9h0m0 3.2h0m0 .4h0m0 1.1h0m0 .5h0m.1-7.6h0m0 7.3h0m0 3.4h0m0 1.5h0m0 5.4h0m.1-23.1h0m0 3.1h0m0 5.6h0m0 .6h0m0 2h0m0 .7h0m.1-16.3h0m0 5.1h0m0 1.4h0m0 2.2h0m0 1.3h0m0 .7h0m0 .7h0m0 3.9h0m0 5.3h0m.1-10.3h0m0 1.7h0m0 11.8h0m.1-20.6h0m0 1.6h0m0 5.3h0m0 .3h0m0 4.6h0m.1-16.2h0m0 10.2h0m0 1.7h0m0 2.7h0m0 2h0m0 .5h0m0 .1h0m0 6.1h0m.1-18.7h0m0 4.9h0m0 1.2h0m0 1.1h0m0 5.8h0m0 .3h0m0 4.5h0m0 5.8h0m.1-20.5h0m0 3.6h0m0 2.4h0m0 2h0m0 1.1h0m0 .2h0m0 .4h0m.1-1.9h0m0 5.7h0m0 .2h0m0 16.1h0m.1-36.5h0m0 1h0m0 4.9h0m0 0h0m0 4.4h0m0 2.2h0m0 3.5h0m0 1.3h0m0 1.2h0m0 1.5h0m.1-23h0m0 9.2h0m0 2h0m0 .2h0m0 4.1h0m0 .1h0m0 .7h0m0 1.4h0m0 3.8h0m0 1h0m0 1.6h0m0 1.3h0m0 .8h0m.1-20h0m0 .3h0m0 .3h0m0 2.2h0m0 3.1h0m0 .8h0m0 1.9h0m0 .6h0m0 18.4h0m.1-28.1h0m0 3.1h0m0 .5h0m0 .7h0m0 4.7h0m0 1.8h0m0 1.4h0m0 1.6h0m0 1h0m.1-15.1h0m0 8.8h0m0 .3h0m0 2.5h0m0 1.6h0m0 1.2h0m0 1.7h0m0 9.6h0m.1-27.9h0m0 5.5h0m0 0h0m0 5.4h0m0 3.2h0m0 1.9h0m0 1.4h0m0 1.4h0m.1-24h0m0 11.4h0m0 2.6h0m0 1.7h0m0 2.6h0m0 .6h0m.1-10.9h0m0 1.1h0m0 12.7h0m0 1h0m0 .7h0m0 1.2h0m.1-22.3h0m0 3.4h0m0 4.9h0m0 1.4h0m0 1.5h0m0 3h0m0 4.1h0m0 1.7h0m0 .2h0m0 3.1h0m.1-13h0m0 .3h0m0 5.1h0m0 6.4h0m0 4.3h0m0 .3h0m0 2.4h0m.1-24.3h0m0 2.5h0m0 4.1h0m0 2.4h0m0 5.8h0m.1-14.1h0m0 5.9h0m0 1.2h0m0 2.3h0m0 4h0m0 4.1h0m.1-11h0m0 4.4h0m.1-10.4h0m0 1.1h0m0 4.7h0m0 4.1h0m0 4.2h0m.1-16h0m0 7.8h0m0 0h0m0 5.4h0m0 11.6h0m.1-26.7h0m0 4.5h0m0 1.7h0m.1-8.7h0m0 17.4h0m0 1.8h0m0 3.1h0m.1-20.9h0m0 1.9h0m0 5.1h0m0 3.2h0m.1-7.2h0m0 25.4h0m.1-17h0m0 1.3h0m0 1.8h0m.1-8.6h0m0 9.2h0m.1-17.4h0m0 12.6h0m0 3.7h0m0 2.8h0m.2-12.1h0m0 .1h0m0 2h0m0 1.9h0m0 3.6h0m0 2.4h0m0 .3h0m.1-11.6h0m.1 6.9h0m0 1h0m0 1.2h0m.1-19.2h0m0 9.9h0m0 8.6h0m.3 .1h0m.1 4.7h0m.1-.3h0m.1-12.4h0m0 6.5h0m.1-12.2h0m0 12.2h0m.2-5.6h0m.3-2.9h0m.3 10.2h0m.1-11.3h0m0 19.1h0m.1-25.1h0m0 19.8h0m1-16.3h0" stroke="#137a33" stroke-width="1.00" opacity="0.85"/><g clip-path="url(#k2)"><polygon points="214.5,121 239.6,117.6 240.2,106 238.8,93 236.8,82 235,73 232.3,81 228,92 222,104 216.5,115" fill="#1fc450" filter="url(#tear)"/></g><g clip-path="url(#k2)"><ellipse cx="227.3" cy="111.3" rx="6.5" ry="7.5" transform="rotate(20 227.3 111.3)" fill="url(#gP)" filter="url(#grain)"/></g><path d="M223.3 90.7h0m1.1 7.6h0m.6 3h0m.2 1.7h0m.1-7.7h0m.1-6.6h0m0 16.3h0m.1 3.1h0m.2-13.7h0m0 .1h0m.2 4.9h0m.1-5.3h0m.1 10.4h0m0 .8h0m.1-22.5h0m.2 14.6h0m.1-10.1h0m0 2.2h0m0 2.7h0m0 22.4h0m.1-24.6h0m0 5.1h0m0 .4h0m0 12.9h0m.1-22.8h0m.2 9h0m0 12.6h0m.1-19h0m0 3.6h0m.1 15.2h0m.1-27.3h0m0 13.8h0m0 10.5h0m.3-12.9h0m.1-9.4h0m0 6.6h0m0 14.2h0m0 3.5h0m.1-10h0m.1 6.1h0m0 3.3h0m.1-1h0m.1-8.5h0m0 1.5h0m0 2.2h0m.1-11.7h0m0 11h0m.1-18.7h0m0 12.2h0m0 1.9h0m.1-2.6h0m0 .4h0m0 3.4h0m0 4.1h0m.1-5.2h0m0 4h0m0 3.2h0m.1-20.3h0m0 3.4h0m0 10.6h0m.1-7.6h0m0 1.9h0m0 2.5h0m0 8.8h0m.1-10.7h0m0 3h0m.1-4.2h0m0 4.7h0m0 7.7h0m.1-10.4h0m0 4.9h0m.1-10.7h0m0 4.3h0m0 5h0m0 4h0m0 7.2h0m.1-22.9h0m0 4.8h0m0 .2h0m0 4.1h0m0 .3h0m.1-9.6h0m.1 5h0m0 2.5h0m0 .1h0m0 2.5h0m0 8.7h0m.1-17.9h0m0 5.9h0m0 4h0m0 2h0m0 6.6h0m.1-22.6h0m0 2.2h0m0 8.2h0m0 .9h0m0 .7h0m0 18.7h0m.1-23.1h0m0 3.1h0m0 2.5h0m0 2.5h0m.1-3.3h0m0 8.2h0m0 .4h0m.1-17.8h0m0 2h0m0 6.1h0m0 8.2h0m0 6.3h0m.1-25.4h0m0 2.8h0m0 .8h0m0 4.8h0m0 1.7h0m0 .6h0m0 5.5h0m0 6.4h0m.1-8.7h0m0 5.8h0m.1-12.7h0m0 2.4h0m0 1.5h0m0 1h0m0 3.4h0m0 11.9h0m.1-19.6h0m.1 4.3h0m0 2.4h0m.1-13.6h0m0 12.9h0m0 2.1h0m0 4h0m.1-8.5h0m0 .2h0m.1 2.3h0m0 2.9h0m.1-10.7h0m0 3.3h0m0 .6h0m0 1.1h0m0 .1h0m0 .3h0m0 2.3h0m0 .1h0m0 .3h0m0 12.2h0m0 1.3h0m.1-23.1h0m0 3.3h0m0 .5h0m0 .3h0m0 0h0m0 1.1h0m0 1.4h0m0 6.8h0m0 1.3h0m.1-19.8h0m0 20.5h0m.1-24.7h0m0 10.8h0m0 5.3h0m0 1.6h0m0 1.3h0m0 6h0m0 1.2h0m0 .8h0m.1-15.4h0m0 .4h0m0 .4h0m0 .5h0m0 1.9h0m0 1.1h0m0 1.9h0m0 11.2h0m0 2.1h0m.1-20.5h0m0 2.7h0m0 2h0m0 .6h0m0 .4h0m0 .8h0m.1-.4h0m0 .1h0m0 .9h0m0 1.1h0m0 5h0m0 2.3h0m0 3.8h0m.1-27.1h0m0 9.4h0m0 .3h0m0 7.1h0m0 2.9h0m0 .4h0m.1-17.9h0m0 4.9h0m0 3.8h0m0 .7h0m0 .3h0m0 .7h0m0 4.9h0m0 .5h0m0 3.3h0m0 0h0m0 3.2h0m0 1.4h0m.1-13h0m0 4.8h0m0 4.6h0m0 .1h0m0 7.4h0m.1-27.8h0m0 4.7h0m0 .4h0m0 .5h0m0 2.7h0m0 1.3h0m0 .6h0m0 .7h0m0 2.4h0m0 1.6h0m0 4.6h0m.1-14.3h0m0 4.3h0m0 0h0m.1-1.8h0m0 .2h0m0 .1h0m0 .1h0m0 3.2h0m0 .5h0m0 .3h0m0 1.1h0m.1-19.7h0m0 3.1h0m0 8.9h0m0 1.7h0m0 1h0m0 8.7h0m.1-15h0m0 2.9h0m0 .7h0m0 2.8h0m0 2.4h0m0 4.7h0m.1-17.2h0m0 4.5h0m0 3.9h0m0 3.9h0m0 7.8h0m.1-24.3h0m0 2.2h0m0 13.7h0m0 5h0m0 4.9h0m.1-17.5h0m0 1.5h0m0 0h0m0 12.6h0m.1-20h0m0 13.7h0m0 2.2h0m0 11.5h0m.1-30.6h0m0 4.4h0m0 .5h0m0 2.2h0m0 3.7h0m0 .6h0m0 5h0m0 .5h0m0 10.6h0m.1-20.9h0m0 5.7h0m0 3.5h0m.1-3.6h0m0 1.7h0m0 5.7h0m0 3.8h0m.1-14.4h0m0 1.4h0m0 1.7h0m0 .6h0m0 8.7h0m0 .5h0m0 .3h0m.1-15.3h0m0 4.8h0m0 4.2h0m0 4.9h0m0 1.2h0m0 4.1h0m.1-18.1h0m0 .6h0m0 5.1h0m0 1.2h0m0 .8h0m0 .6h0m.1-11.3h0m0 1.6h0m0 16.3h0m.1-11.4h0m0 4.3h0m0 7.7h0m0 2.1h0m.1-18.6h0m0 20.6h0m.1-23.3h0m0 17.2h0m.1-16.8h0m0 4h0m0 .6h0m0 .4h0m0 .2h0m0 .5h0m0 5.6h0m0 1.2h0m0 3.4h0m0 1.5h0m0 2.7h0m.1-20.9h0m0 9.5h0m0 9.2h0m.1-14.4h0m0 8.6h0m0 6.8h0m0 .5h0m0 .5h0m.1-19.2h0m0 8h0m0 .7h0m0 4.3h0m0 7.1h0m.1-11.8h0m0 .7h0m.1-13.8h0m0 4.1h0m0 1.6h0m0 4.8h0m0 4.5h0m0 .7h0m0 3.9h0m0 11.2h0m.1-18.1h0m0 3.5h0m0 3.2h0m.1-6.6h0m0 .1h0m0 6.1h0m.1-18.6h0m0 6.6h0m0 1.7h0m0 2.9h0m0 .4h0m0 2.2h0m0 5.5h0m0 0h0m.1-30.2h0m0 22.7h0m0 2.9h0m0 2.7h0m.1-16.1h0m0 3.5h0m0 .9h0m0 2h0m0 .1h0m0 .8h0m0 3.6h0m0 5.2h0m0 .9h0m0 .8h0m0 2h0m.1-17.6h0m0 3.5h0m0 4.2h0m0 .3h0m0 .3h0m0 6.6h0m0 .3h0m0 2.5h0m.1-8.2h0m.1-3.2h0m0 2.3h0m0 1.9h0m.1-9.2h0m0 4.9h0m0 6h0m0 1.3h0m0 4.9h0m0 6.6h0m.1-16.6h0m0 4h0m0 2.2h0m.1-22.3h0m0 8.8h0m0 16.4h0m.1-23.6h0m0 4.6h0m0 13.9h0m.1 2.5h0m0 2.1h0m.1-17.3h0m0 8.3h0m0 3.6h0m0 1.4h0m.1-14.2h0m0 5.8h0m0 4.6h0m.1-9h0m0 10.6h0m0 3.4h0m.1-11.2h0m0 1.1h0m.1-.8h0m0 7.1h0m0 5.9h0m.1-12h0m0 6.3h0m.1-5.9h0m0 3.2h0m0 .2h0m0 5.8h0m.1-12.2h0m0 .5h0m0 .6h0m0 3.9h0m0 1h0m0 12.2h0m.2-25.7h0m0 3.4h0m0 6.1h0m0 7.5h0m0 2.4h0m0 15h0m.1-28.5h0m0 3.6h0m.1-4.5h0m0 1.7h0m0 4h0m.1-8.7h0m0 11.4h0m0 10.6h0m.1-24.6h0m0 .2h0m0 12.7h0m0 9.1h0m.1-16.1h0m0 1.8h0m0 4.3h0m.1-8.4h0m0 5.9h0m.1 2.3h0m0 12.8h0m.1-17.8h0m0 11h0m.1-13.4h0m0 3.8h0m0 14.6h0m.1-21.2h0m.1 6.3h0m0 1.5h0m0 1.7h0m0 7h0m.1-21.9h0m0 19.2h0m.1-23.8h0m0 21.2h0m0 1.2h0m0 .5h0m.1-24.8h0m0 19.6h0m0 .5h0m0 7.5h0m.1-24.3h0m0 11.4h0m.1 10.4h0m.1-8.4h0m0 7.6h0m0 2.9h0m.2-13.3h0m0 9h0m.2-8h0m0 5.4h0m0 2.9h0m.1-5.5h0m.1-12.3h0m.1-4.7h0m.1 8.1h0m0 .6h0m.1 2.7h0m.3 8.8h0m.2-13.8h0m0 7h0m0 11h0m.1-10.5h0m.5 7h0m1.4-11.3h0m.8-1.2h0m.2 1.8h0" stroke="#126a2c" stroke-width="1.00" opacity="0.70"/><path d="M238.1 25.7h0m.9 47.4h0m.7-33.3h0m.4 6.7h0m0 .3h0m.1-19.9h0m.3 46.2h0m.3-38.8h0m.1 16h0m.2 8.8h0m.3-24.2h0m.5 20.5h0m.2-15.6h0m0 30.4h0m.4 31.1h0m.1-26.5h0m.2-45.7h0m0 53.3h0m0 25.8h0m.2-79.3h0m.1 51.9h0m.1-51h0m0 24.6h0m0 3.8h0m.1 38.6h0m.1-39.7h0m0 35.9h0m.1-51.5h0m.1 30.4h0m.1-12.5h0m.1-19.4h0m0 45.4h0m0 20.1h0m.1-60.3h0m.1 24.3h0m0 16.9h0m0 10.3h0m0 14.8h0m.2-61.7h0m0 53.2h0m.1-37.7h0m0 .9h0m.1 31.3h0m.1 6.8h0m.1-74.9h0m0 79.8h0m.1-19.6h0m.1-33.2h0m0 10h0m.1-13h0m0 20.1h0m.1-28.1h0m0 3.2h0m0 11.7h0m0 3.2h0m0 19.6h0m.1-46.2h0m.1 5.8h0m.1-9.2h0m0 35.4h0m.1-29.7h0m0 14.7h0m0 32.1h0m.1-38.8h0m0 4.1h0m0 2h0m.1-25.4h0m0 46.1h0m0 13.1h0m.1-9.2h0m.1-24.6h0m0 21h0m0 7.2h0m0 9.4h0m0 4.5h0m.1-58.1h0m0 14.3h0m0 4.4h0m0 7.2h0m.1 12.9h0m.1-44.3h0m0 32.9h0m0 23.3h0m0 13.4h0m0 4.4h0m0 2.8h0m.1-57.3h0m0 3.4h0m0 16.6h0m0 1.3h0m0 6.7h0m0 7.7h0m0 1.3h0m0 20.7h0m0 0h0m.1-73.8h0m0 14.9h0m0 1.5h0m0 8.6h0m.1 4.8h0m0 3.8h0m0 38.2h0m.1-58.3h0m0 19h0m0 38h0m.1-60.4h0m0 14.2h0m.1-20.7h0m0 22.7h0m0 2.1h0m0 2.7h0m0 23.2h0m0 2.1h0m0 3.8h0m0 5.3h0m.1-60.3h0m0 7.5h0m0 18.7h0m0 6.6h0m0 3.6h0m0 13h0m0 13.6h0m.1-68.6h0m0 18.4h0m0 9.1h0m0 5.5h0m0 16.7h0m0 21.1h0m0 1.2h0m.1-49.1h0m0 11.8h0m0 10.2h0m.1-54h0m0 36.1h0m0 7h0m0 12.7h0m0 5h0m0 .3h0m.1-39.1h0m0 3.3h0m0 16.6h0m.1-36.8h0m0 42.4h0m0 23h0m.1-67.4h0m0 14.8h0m0 6.2h0m0 51.3h0m0 1h0m.1-70.4h0m0 18.4h0m0 6.9h0m.1-6.7h0m0 1.7h0m0 14.5h0m0 21.5h0m0 1.5h0m0 .5h0m0 19.2h0m.1-66.7h0m0 3.3h0m0 11.1h0m0 11h0m0 22.4h0m0 5.5h0m0 2.7h0m0 8.6h0m.1-63.6h0m0 13h0m0 2h0m0 9.8h0m0 3.7h0m0 16.6h0m0 10.1h0m.1-56.8h0m0 6.7h0m0 50.5h0m.1-38h0m0 25.1h0m0 2h0m0 .3h0m0 11.1h0m0 3.6h0m.1-66.9h0m0 18.1h0m0 19.3h0m0 2.8h0m0 7.1h0m0 25h0m.1-13.4h0m0 8.7h0m.1-78.9h0m0 11.9h0m0 13.9h0m0 5.3h0m0 3.8h0m0 18.1h0m0 8h0m.1-20.5h0m0 2.9h0m0 28.1h0m0 6.6h0m.1-67.7h0m0 49.2h0m0 1.2h0m0 14.1h0m.1-64.8h0m0 1.6h0m0 37.9h0m0 19.1h0m.1-40.2h0m0 1.4h0m.1-24.7h0m0 10.8h0m0 5.2h0m0 11.7h0m0 9.9h0m0 39.7h0m.1-12.1h0m0 0h0m0 1.5h0m.1-40.5h0m0 26.6h0m0 8.9h0m0 .1h0m.1-65.8h0m0 1.1h0m0 7.9h0m0 4.5h0m0 1.2h0m0 19.2h0m0 16.4h0m0 13.2h0m0 4.8h0m.1-44h0m0 12.3h0m0 13h0m0 12.2h0m0 3.2h0m0 10h0m.1-25.5h0m0 .8h0m0 28.1h0m.1-42h0m0 26.9h0m0 1.2h0m0 5h0m.1-61.5h0m0 9.6h0m0 27.2h0m0 18.5h0m0 10.8h0m.1-75.9h0m0 22.4h0m0 12.6h0m0 14.7h0m0 15.5h0m0 14.2h0m.1-58.7h0m0 27h0m0 6.1h0m0 25.9h0m.1-58.3h0m0 4.4h0m0 20.3h0m0 27.2h0m.1-52h0m0 35.3h0m0 5.2h0m0 13.8h0m0 5.9h0m.1-79.2h0m0 2.9h0m0 9.3h0m0 8.7h0m0 1.2h0m0 29.4h0m0 10.3h0m0 18.1h0m.1-52.6h0m0 26.9h0m.1-49.4h0m0 5.7h0m0 3.1h0m0 17.7h0m0 13.5h0m0 12.5h0m.1-41h0m0 9.5h0m0 3.6h0m0 .7h0m0 12.6h0m0 22.3h0m0 7h0m.1-73.7h0m0 6.1h0m0 4h0m.1 10.2h0m0 7.8h0m0 5.3h0m0 1.7h0m0 8.7h0m0 20.7h0m.1-65.3h0m0 5.4h0m0 7.6h0m0 5.8h0m0 24.7h0m0 27.6h0m0 11.6h0m.1-60.4h0m0 25.5h0m0 6h0m0 17.1h0m.1-54.3h0m0 13.5h0m0 8.7h0m0 14.4h0m0 1.1h0m0 6.1h0m.1-58.4h0m0 6.6h0m0 40.6h0m0 17h0m.1-36.8h0m0 11.9h0m0 13.5h0m0 16.9h0m0 2.9h0m.1-63.9h0m0 9.4h0m0 3.4h0m0 9.8h0m0 29.9h0m0 1.1h0m0 5.2h0m0 3.2h0m.1-58.5h0m0 1.9h0m0 10.1h0m0 4.9h0m0 0h0m0 7.8h0m0 21.7h0m0 14.2h0m0 3.9h0m.1-53.8h0m0 22.7h0m0 12.1h0m0 .5h0m0 7.5h0m0 5.1h0m0 3.9h0m0 2.6h0m.1-73.7h0m0 15.6h0m0 5.9h0m0 17.1h0m0 9.2h0m.1-24.6h0m0 16.2h0m0 21.1h0m0 1.6h0m.1-42h0m0 1.5h0m0 22.9h0m0 19.6h0m0 7.4h0m.1-54.5h0m0 34.1h0m0 13.8h0m.1-64.5h0m0 31.3h0m0 3h0m0 .6h0m0 36.6h0m.1-73.9h0m0 11.4h0m0 26.5h0m0 6.4h0m0 2.2h0m.1-30.8h0m0 26h0m0 9.8h0m0 22.9h0m0 3.2h0m0 .6h0m.1-75.1h0m0 37.6h0m0 19.2h0m.1-60.7h0m0 37.9h0m0 5.2h0m.1-.4h0m.1-6h0m0 2.6h0m0 15.3h0m0 1.1h0m0 1.4h0m0 .1h0m.1-50.7h0m0 61.1h0m0 9.9h0m.1-62.7h0m0 .7h0m0 56.9h0m0 3.9h0m.1-64.2h0m0 3.8h0m0 8.3h0m.1 8.7h0m0 39.7h0m.1-60.8h0m0 14.9h0m0 4.8h0m0 23.8h0m.1-15.8h0m0 22.6h0m.1-45.4h0m0 14.7h0m0 15.3h0m.1-30.2h0m0 18.6h0m.1 1.6h0m0 26.3h0m0 14.8h0m.1-60h0m0 2.9h0m0 5.9h0m0 48.9h0m.1-71.9h0m0 11.4h0m0 61.7h0m.1-72.9h0m0 5.8h0m.2-7.4h0m0 19.3h0m.1-20.9h0m0 25.3h0m0 7.4h0m0 16.5h0m0 3.1h0m.1-53.3h0m0 76.4h0m.2-42.9h0m0 1.3h0m0 8.5h0m0 10.2h0m.1 1.2h0m0 19.9h0m.1-51.5h0m.2-19.7h0m0 2.8h0m0 4.9h0m0 4h0m0 3.3h0m.1 6h0m0 35.5h0m.1-57.5h0m0 33.6h0m0 2.7h0m.2-26.7h0m0 15.7h0m0 7.7h0m0 2.2h0m0 6h0m0 19.5h0m.2-27.3h0m.2-17.7h0m0 4.7h0m0 1.4h0m0 16.8h0m.1-42h0m0 3.9h0m.2 40h0m0 16.1h0m.1 4.2h0m.1-31.5h0m0 30.3h0m.1-42h0m.2 34.9h0m.5 7.3h0m.3 2.6h0m.2-49.8h0m.1 .6h0m.4-10.1h0m0 62.5h0m.3-37.8h0m0 26.9h0m.5-55.9h0m1.8-3.2h0m0 33.5h0" stroke="#860e28" stroke-width="1.20" opacity="0.90"/><path d="M232.7 53.1h0m.8-10.9h0m1.6 55.4h0m.7-47.4h0m.2 14h0m.4-12.4h0m1.5 44.6h0m.2-31.1h0m.1 39.2h0m.1-51.4h0m.4 .5h0m.2 38.8h0m0 9.2h0m.1 4.8h0m.3-22.1h0m.4-20.9h0m.2 16.4h0m.2-20.6h0m.3-3.1h0m.2 29.7h0m.5-20.3h0m.1-2.6h0m.2 26.8h0m.2-23.3h0m0 17.4h0m.1 20.8h0m.1 8.7h0m.1-53.1h0m.4 43.3h0m.2-13.7h0m.1-.8h0m.2-9.7h0m.5-12.9h0m.2-6.8h0m0 3.7h0m0 43.8h0m.1-29h0m0 30.3h0m.2-55.2h0m.1-9.9h0m.6 12.5h0m0 20.3h0m.1-28.4h0m0 27.8h0m0 17.5h0m.1 1.3h0m.4-42.4h0m.1 31.3h0m.2-13h0m.1-27.5h0m0 13.2h0m.1 9.3h0m.1-2.3h0m0 34.1h0m0 3.5h0m.1-27.7h0m0 26.6h0m.1-27.4h0m.1-15.6h0m.1 13h0m0 4h0m.1-7h0m0 28.2h0m.1-38.9h0m.1 25.1h0m.1-31.8h0m0 2.2h0m.2-3.8h0m0 4h0m0 37h0m0 4.8h0m.1-44.6h0m0 43.4h0m.1-44.3h0m0 45.8h0m.1-20.7h0m0 10.8h0m.1 5.5h0m0 20.9h0m.2-29.9h0m0 16.7h0m.1-10.1h0m.1 12h0m0 8.9h0m.1-17h0m.1-43.3h0m.3 3.5h0m0 6.9h0m0 23h0m.1-8h0m0 15.6h0m.1 18.3h0m0 1.3h0m.1-43.5h0m0 20.2h0m.1-22.5h0m0 1h0m0 9.1h0m.1 36.1h0m.1-32.3h0m.3-11.7h0m0 9.6h0m.2 9h0m0 7.2h0m.2 2.6h0m.1-52.4h0m.2 29.9h0m0 37.2h0m.1-9.7h0m0 9.8h0m.1-27h0m.1-20.9h0m0 38.8h0m.1-15.5h0m0 4.4h0m.2-7h0m.1-39.4h0m0 15.4h0m0 4h0m0 4.3h0m0 4.2h0m0 22.7h0m.1 4.3h0m0 10.7h0m.1-19.9h0m0 11.4h0m.2-7.6h0m.1-17h0m0 19.1h0m.1-43.1h0m0 7.5h0m.2-1.4h0m.1 4.1h0m0 18h0m.1-14.8h0m0 3.5h0m0 36.6h0m.1-58.1h0m.1 22.5h0m.1-11.1h0m.2-15.8h0m0 40.8h0m.1 23.1h0m.1-11.7h0m0 1.9h0m.2-54.4h0m0 4.9h0m0 43.5h0m.1-25.8h0m0 8.2h0m0 5.2h0m0 8.9h0m.1-32.2h0m0 23.7h0m0 24.4h0m.2-41.9h0m0 0h0m.3-13.2h0m.1-5.5h0m0 26.5h0m.1-7.9h0m0 8h0m.1-18h0m0 41.1h0m.1-18.4h0m.1-30h0m.2 10.8h0m0 38.6h0m.1-12.2h0m0 12.6h0m.1-38.3h0m0 7.5h0m0 9.1h0m.1-20.9h0m0 24.4h0m.1-6.7h0m0 27.8h0m0 1.2h0m.2-35.1h0m0 18.2h0m0 2.4h0m.1-.2h0m.1-13h0m.1-3.3h0m.3-3.7h0m.3-19.4h0m.1 4.9h0m0 56.8h0m.1-57.2h0m0 7.1h0m.1-6.1h0m.1 25.3h0m.1-32.1h0m.1 8.6h0m0 7.8h0m0 21.2h0m0 11.4h0m.1-16.4h0m.2 22.9h0m.1-3h0m.1-33.7h0m0 39.3h0m.1-43.3h0m0 34.6h0m.3-43.5h0m0 50.2h0m.1-34h0m.1-11.9h0m.2 21h0m.2 28.7h0m.1-18.9h0m.1-34.8h0m0 26.8h0m.3-26.1h0m.4 9.7h0m0 29.9h0m.3-12.4h0m.3-33.8h0m.1 51.5h0m0 2.5h0m.4-28.9h0m.2 11.2h0m.3-14.4h0m0 13.7h0m.2-35h0m.1 23.5h0m.2 14.5h0m1.3 1h0m.9-39h0m0 42.1h0m.7-19.7h0m.7-5.3h0m1.8 23.6h0m.1-19.9h0m.5-13.9h0m1.5 10.8h0" stroke="#666" stroke-width="1.00" opacity="0.60"/><path d="M242.1 23.9h0m0 .1h0m.4 0h0m.1-.1h0m.1 .7h0m.8-.5h0m.4 .1h0m.1-.2h0m.2 0h0m.1 .6h0m.1-.9h0m0 .8h0m.2-.2h0m.3-.8h0m0 .5h0m.1 .4h0m.3-.6h0m.1 0h0m0 .2h0m0 .5h0m0 0h0m.4 .1h0m.1-.4h0m.1-.7h0m0 .4h0m0 .2h0m0 .3h0m.1-.6h0m.4-.2h0m.1 .7h0m.3-.6h0m.1 .5h0m.1-.3h0m0 .5h0m.1-.4h0m.1 .1h0m0 .4h0m.1 .2h0m.1 0h0m.4-.4h0m.2-.5h0m.1 .2h0m.3 .2h0m.1 0h0m0 .2h0m.4-.6h0m.1 .3h0m.3 .3h0m.4-.5h0m0 .2h0m.3-.4h0m.6 .6h0m.2-.2h0m.1-.2h0m0 .7h0m.2-.6h0m.1-.1h0m0 .5h0m.2-.2h0m.4 .6h0m.2-.7h0m.3-.1h0m.1 .5h0m.6-.2h0m.5-.4h0m.7 .3h0m.3-.2h0m.5 .4h0m0 .6h0m.8-.9h0m1.2 .1h0m.6-.2h0m0 .4h0m.1 .1h0m.1-.2h0m.1 .1h0m.1-.2h0m.1 .7h0m.3-1.5h0m.2 .9h0" stroke="#860e28" stroke-width="1.00" opacity="0.80"/></g><polygon points="221.8,23.6 287.2,23.6 279.2,84.5 238.0,117.5 206.8,122.0 203.5,116.3" fill="none" stroke="#1c1c1c" stroke-width="1.25"/></g>
<path d="M167.40 23.20V144.50M167.80 144.00h-6.20M167.80 141.59h-3.20M167.80 139.19h-3.20M167.80 136.78h-3.20M167.80 134.38h-3.20M167.80 131.97h-6.20M167.80 129.56h-3.20M167.80 127.16h-3.20M167.80 124.75h-3.20M167.80 122.35h-3.20M167.80 119.94h-6.20M167.80 117.53h-3.20M167.80 115.13h-3.20M167.80 112.72h-3.20M167.80 110.32h-3.20M167.80 107.91h-6.20M167.80 105.50h-3.20M167.80 103.10h-3.20M167.80 100.69h-3.20M167.80 98.29h-3.20M167.80 95.88h-6.20M167.80 93.47h-3.20M167.80 91.07h-3.20M167.80 88.66h-3.20M167.80 86.26h-3.20M167.80 83.85h-6.20M167.80 81.44h-3.20M167.80 79.04h-3.20M167.80 76.63h-3.20M167.80 74.23h-3.20M167.80 71.82h-6.20M167.80 69.41h-3.20M167.80 67.01h-3.20M167.80 64.60h-3.20M167.80 62.20h-3.20M167.80 59.79h-6.20M167.80 57.38h-3.20M167.80 54.98h-3.20M167.80 52.57h-3.20M167.80 50.17h-3.20M167.80 47.76h-6.20M167.80 45.35h-3.20M167.80 42.95h-3.20M167.80 40.54h-3.20M167.80 38.14h-3.20M167.80 35.73h-6.20M167.80 33.32h-3.20M167.80 30.92h-3.20M167.80 28.51h-3.20M167.80 26.11h-3.20M167.80 23.70h-6.20M168.80 145.50H289.90M169.30 145.10v5.20M178.34 145.10v2.80M183.63 145.10v2.80M187.38 145.10v2.80M190.29 145.10v2.80M192.66 145.10v2.80M194.67 145.10v2.80M196.42 145.10v2.80M197.95 145.10v2.80M199.32 145.10v5.20M208.36 145.10v2.80M213.65 145.10v2.80M217.40 145.10v2.80M220.31 145.10v2.80M222.69 145.10v2.80M224.70 145.10v2.80M226.44 145.10v2.80M227.98 145.10v2.80M229.35 145.10v5.20M238.39 145.10v2.80M243.68 145.10v2.80M247.43 145.10v2.80M250.34 145.10v2.80M252.71 145.10v2.80M254.72 145.10v2.80M256.47 145.10v2.80M258.00 145.10v2.80M259.38 145.10v5.20M268.41 145.10v2.80M273.70 145.10v2.80M277.45 145.10v2.80M280.36 145.10v2.80M282.74 145.10v2.80M284.75 145.10v2.80M286.49 145.10v2.80M288.03 145.10v2.80M289.40 145.10v5.20" stroke="#111" stroke-width="0.95" fill="none"/>
<g clip-path="url(#c01)"><g filter="url(#soft)" class="d"><path d="M62.9 276.3h0m.9-20.5h0m.7 12.2h0m.1 8.1h0m.4-19.8h0m.2 9.6h0m.8-16h0m.2 18.1h0m.1-3.2h0m.2-12.5h0m.1 7.6h0m0 1h0m.2 2.3h0m.5-9.6h0m.2 15.8h0m.1-16.6h0m0 3.2h0m.1-1.7h0m0 7.1h0m.2-1.8h0m.2 6.1h0m0 8.1h0m.1-10h0m0 5h0m0 3.8h0m.2-6.7h0m0 1.3h0m.2-11.3h0m0 .9h0m0 5.8h0m.2-2h0m.1 5.6h0m0 3.4h0m.1-10h0m.1-2.9h0m0 2.9h0m0 2.5h0m0 1h0m.1-6.8h0m0 9.9h0m.1-14.2h0m0 4.7h0m0 4.3h0m.1 4.1h0m.1-5.8h0m0 1.8h0m.1-2.8h0m.1-.9h0m.1-10.1h0m0 16.4h0m0 .1h0m0 14.9h0m.1-21.2h0m0 7.1h0m0 5.9h0m0 4.6h0m.1-13.9h0m0 4.1h0m.1-9.9h0m0 11.6h0m0 2.4h0m.1-20h0m0 1.7h0m0 7.9h0m0 4.5h0m.1-10.7h0m0 1.8h0m0 1.3h0m0 1h0m0 .1h0m0 11.9h0m0 10.2h0m.1-19.3h0m0 3.2h0m0 2.2h0m0 1.4h0m.1-10.7h0m0 7.6h0m0 .2h0m.1-13.6h0m0 6.5h0m0 4.9h0m0 1h0m.1-6.5h0m0 0h0m0 .7h0m0 5.6h0m0 .4h0m0 4.4h0m0 .4h0m0 3.3h0m.1-.9h0m0 .8h0m.1-17.8h0m0 14.8h0m0 6.9h0m.1-21.6h0m0 .1h0m0 2.7h0m.1-2.6h0m0 2.4h0m0 3.2h0m0 1.4h0m0 3h0m0 1.9h0m0 3.9h0m.1-13.7h0m0 3.3h0m0 .7h0m0 3.8h0m.1-11.6h0m0 3.9h0m0 6.9h0m0 11.2h0m.1-22.1h0m0 5.6h0m0 1.8h0m0 3.4h0m0 2.1h0m0 .3h0m0 8.5h0m.1-21.7h0m0 3.5h0m0 1.7h0m0 2.2h0m0 .7h0m0 4.9h0m0 .1h0m0 .8h0m.1-6.8h0m0 .3h0m0 2.1h0m0 0h0m0 3.7h0m0 7.3h0m.1-15.1h0m0 .2h0m0 1.4h0m0 1.3h0m0 10.3h0m0 9.4h0m.1-28.1h0m0 7.5h0m0 2.1h0m0 .2h0m0 1h0m0 2.5h0m0 .7h0m.1-9.8h0m0 .5h0m0 .2h0m0 3.2h0m0 .1h0m0 .7h0m0 11.7h0m0 .3h0m.1-21.5h0m0 19.3h0m.1-17.3h0m0 2.8h0m0 .9h0m0 .3h0m0 3.5h0m0 .1h0m0 .8h0m0 4.7h0m0 .4h0m0 .5h0m.1-9h0m0 .2h0m0 .7h0m0 .6h0m0 1.4h0m0 .9h0m0 14.5h0m.1-15.8h0m0 .6h0m0 .2h0m0 .1h0m0 2.1h0m0 2.1h0m0 .4h0m0 1.5h0m0 1.1h0m.1-8.7h0m0 3.1h0m0 1.8h0m0 1.6h0m0 .7h0m0 2h0m0 1.3h0m.1-20.4h0m0 3h0m0 1.8h0m0 7.4h0m0 3.9h0m0 1.4h0m.1-7h0m0 1h0m0 5.2h0m.1-17.2h0m0 3.4h0m0 2.1h0m0 8.2h0m0 3.3h0m0 1.9h0m.1-14.8h0m0 2.5h0m0 .2h0m0 1.1h0m0 .7h0m0 0h0m0 .8h0m.1-8.6h0m0 1.3h0m0 1.1h0m0 2.6h0m0 2.6h0m0 1.6h0m0 3.3h0m0 3.9h0m.1-15h0m0 4.9h0m0 1.3h0m0 4.8h0m0 .2h0m0 1.5h0m0 9.6h0m.1-25.1h0m0 8.5h0m0 2.1h0m0 4.9h0m0 4.7h0m.1-17.5h0m0 1.7h0m0 .6h0m0 .4h0m0 1h0m0 3.1h0m0 2.4h0m0 2.3h0m0 2h0m0 .3h0m0 10.5h0m.1-20.1h0m0 1.1h0m0 1.7h0m0 3.9h0m0 1.1h0m0 2.7h0m.1-15.6h0m0 1.6h0m0 1.8h0m0 3.1h0m0 1h0m0 .1h0m0 2.2h0m0 2.4h0m0 2.8h0m0 .4h0m0 4.6h0m.1-18.3h0m0 3.6h0m0 1.1h0m0 .3h0m0 .3h0m0 1.8h0m0 2.2h0m0 6.9h0m.1-21.3h0m0 11.8h0m0 .7h0m0 1.2h0m0 2.6h0m0 3.4h0m0 3.4h0m0 .9h0m.1-16.2h0m0 .1h0m0 3h0m0 1.3h0m0 3.6h0m0 .2h0m0 3.1h0m0 .3h0m0 .8h0m0 2h0m0 .1h0m0 3.4h0m0 .8h0m0 4.2h0m.1-23.7h0m0 3h0m0 .2h0m0 3.3h0m0 1h0m0 2.9h0m0 1.9h0m0 5.8h0m.1-19.2h0m0 3.1h0m0 2.4h0m0 1h0m0 .6h0m0 .8h0m0 4.7h0m0 1.3h0m0 5.6h0m.1-25.1h0m0 2.7h0m0 1.5h0m0 6.8h0m0 1.5h0m0 .2h0m0 2h0m0 .7h0m0 .7h0m0 .6h0m0 .3h0m0 1.5h0m0 .6h0m0 .3h0m0 .3h0m.1-15h0m0 1.8h0m0 5h0m0 2.8h0m0 6.8h0m0 .7h0m0 1h0m.1-22.8h0m0 5.6h0m0 .4h0m0 4.4h0m0 1.6h0m0 4h0m0 .4h0m0 1.1h0m0 1.2h0m0 1.9h0m0 2.5h0m0 10.2h0m.1-22.4h0m0 1.4h0m0 4.3h0m0 .3h0m0 2.1h0m0 1.9h0m0 1.1h0m0 .4h0m.1-20.1h0m0 .9h0m0 5.2h0m0 2.4h0m0 1h0m0 3h0m0 .2h0m0 .3h0m0 1.3h0m0 .3h0m0 1.9h0m0 3.7h0m.1-16.3h0m0 .2h0m0 3.5h0m0 .8h0m0 .2h0m0 .4h0m0 2.3h0m0 .1h0m0 .7h0m0 1.8h0m0 .8h0m0 2.1h0m0 .7h0m0 .4h0m.1-18.3h0m0 3.4h0m0 .8h0m0 1.4h0m0 1.2h0m0 1.8h0m0 .3h0m0 .7h0m0 1.1h0m0 2.9h0m0 2.6h0m0 .7h0m0 2.2h0m0 1.1h0m0 .4h0m.1-21.2h0m0 4.1h0m0 4.3h0m0 1.4h0m0 0h0m0 .1h0m0 .1h0m0 1.8h0m0 2.7h0m0 2.2h0m0 1.6h0m.1-19.6h0m0 .4h0m0 5.4h0m0 2.1h0m0 1.5h0m0 .8h0m0 1.1h0m0 .7h0m0 .2h0m0 1.4h0m0 8.4h0m.1-19.4h0m0 .6h0m0 1h0m0 .5h0m0 0h0m0 2.2h0m0 2h0m0 1.9h0m0 .5h0m0 1.3h0m0 4.3h0m0 .6h0m0 2.5h0m0 2.1h0m0 2.7h0m.1-23.7h0m0 3.1h0m0 .9h0m0 .5h0m0 4.5h0m0 .4h0m0 3.2h0m0 3.6h0m0 .8h0m0 .8h0m0 10.4h0m.1-23.6h0m0 1.3h0m0 .5h0m0 2.3h0m0 .7h0m0 1.8h0m0 .6h0m0 .2h0m0 .7h0m0 .1h0m0 1.4h0m0 .5h0m0 3.2h0m0 4.5h0m0 .9h0m.1-23.5h0m0 .8h0m0 1.5h0m0 5.4h0m0 1.9h0m0 .6h0m0 .8h0m0 2.3h0m0 .4h0m0 1.1h0m0 1.3h0m0 .6h0m.1-15.2h0m0 1.2h0m0 4.2h0m0 1.2h0m0 .8h0m0 3.8h0m0 .7h0m0 .4h0m0 4.5h0m0 1.1h0m0 3.6h0m.1-19.3h0m0 4.1h0m0 .6h0m0 .5h0m0 2.1h0m0 .9h0m0 2.4h0m0 .3h0m0 .9h0m0 1.6h0m0 2.5h0m0 2h0m0 3.1h0m.1-24.5h0m0 4.4h0m0 .1h0m0 0h0m0 3.1h0m0 7.8h0m0 1.4h0m0 .3h0m0 1.8h0m0 .8h0m0 1.3h0m0 3.9h0m0 2h0m.1-24.7h0m0 4.2h0m0 2h0m0 .3h0m0 1.1h0m0 1h0m0 1h0m0 .3h0m0 2.6h0m0 3h0m0 .2h0m0 7.2h0m.1-25.2h0m0 7.9h0m0 2.1h0m0 0h0m0 .5h0m0 .4h0m0 .2h0m0 .8h0m0 .1h0m0 1.3h0m0 1.1h0m0 1.6h0m0 4.1h0m0 5.7h0m0 10h0m.1-31.6h0m0 2.7h0m0 .5h0m0 1.7h0m0 2.5h0m0 5.8h0m0 .6h0m0 2h0m0 3.1h0m.1-23.5h0m0 2.1h0m0 4h0m0 0h0m0 2.2h0m0 2.4h0m0 1.5h0m0 .3h0m0 .4h0m0 0h0m0 1.3h0m0 1.4h0m0 .3h0m0 1.4h0m0 4.9h0m.1-19.1h0m0 .2h0m0 .8h0m0 .3h0m0 2.1h0m0 .3h0m0 .2h0m0 2.8h0m0 1.2h0m0 3.9h0m0 1.1h0m0 4.9h0m.1-17h0m0 3.4h0m0 1.5h0m0 .3h0m0 1.2h0m0 .7h0m0 1.7h0m0 4.6h0m0 6.6h0m.1-21.9h0m0 1.9h0m0 3.2h0m0 .6h0m0 2.5h0m0 .1h0m0 .2h0m0 5.7h0m0 3.8h0m0 3.4h0m.1-21.7h0m0 3.2h0m0 1.5h0m0 1.3h0m0 .2h0m0 .2h0m0 .2h0m0 0h0m0 .6h0m0 1h0m0 3h0m0 1.8h0m0 3.3h0m0 .9h0m0 .6h0m0 .1h0m0 7.4h0m.1-27.8h0m0 4.3h0m0 1.7h0m0 1.5h0m0 1.7h0m0 .1h0m0 .6h0m0 .8h0m0 .1h0m0 .3h0m0 .2h0m0 1.2h0m0 .6h0m0 .7h0m0 1.3h0m0 3.5h0m0 2.2h0m0 .2h0m0 2.6h0m0 5.2h0m.1-29h0m0 3.6h0m0 .8h0m0 1.7h0m0 4h0m0 1h0m0 1.5h0m0 2.4h0m0 .6h0m0 6.6h0m.1-19.5h0m0 .7h0m0 .6h0m0 1.3h0m0 .5h0m0 2.3h0m0 .9h0m0 1.5h0m0 .3h0m0 .7h0m0 .9h0m0 1.3h0m0 1.1h0m0 .6h0m0 2.2h0m0 .8h0m0 1h0m0 1.9h0m.1-21.2h0m0 1.2h0m0 3.6h0m0 3h0m0 1.1h0m0 .1h0m0 2.2h0m0 1h0m0 1h0m0 .6h0m0 .4h0m0 1.6h0m0 2.1h0m0 1h0m0 5.4h0m.1-23.5h0m0 4.7h0m0 2.6h0m0 .8h0m0 5h0m0 .5h0m0 .1h0m0 2.4h0m0 .8h0m0 1h0m0 .9h0m0 .2h0m.1-16.5h0m0 3.8h0m0 .9h0m0 1.7h0m0 .4h0m0 1.3h0m0 4.1h0m0 2h0m0 3.7h0m.1-17.9h0m0 3.6h0m0 5.3h0m0 1.6h0m0 15.7h0m.1-23.7h0m0 3.2h0m0 .8h0m0 2.2h0m0 3h0m0 1.4h0m0 1.4h0m0 2.2h0m0 6.7h0m.1-23.2h0m0 1.4h0m0 3.9h0m0 1.2h0m0 2.4h0m0 1.7h0m0 8.7h0m0 5.1h0m.1-27h0m0 1.6h0m0 2.2h0m0 1h0m0 1.9h0m0 0h0m0 .6h0m0 .7h0m0 3.1h0m0 4.6h0m0 0h0m0 0h0m0 2h0m0 5.3h0m0 3.4h0m.1-24.3h0m0 2.7h0m0 0h0m0 2.8h0m0 .5h0m0 .7h0m0 4.9h0m0 .3h0m0 1.7h0m0 2.6h0m0 4.7h0m.1-23.4h0m0 5.2h0m0 2.9h0m0 1.3h0m0 8.6h0m0 1.9h0m0 2.2h0m.1-20.7h0m0 4.6h0m0 1.6h0m0 5.3h0m0 1.5h0m0 2.7h0m0 .2h0m0 .1h0m0 3.2h0m.1-14.8h0m0 3.1h0m0 .9h0m0 2.1h0m0 .1h0m0 7.1h0m0 1.3h0m.1-17.3h0m0 .2h0m0 .6h0m0 4h0m0 1.1h0m0 6.8h0m0 2.9h0m0 1h0m.1-11.1h0m0 2.6h0m0 .5h0m0 2.3h0m0 3.7h0m0 3.7h0m0 8.7h0m.1-29.5h0m0 4.1h0m0 3.9h0m0 .3h0m0 .1h0m0 1.1h0m0 .5h0m0 2.6h0m0 .9h0m.1-12h0m0 0h0m0 2.6h0m0 1h0m0 .8h0m0 .4h0m0 4.5h0m0 4.2h0m0 1.8h0m0 3.8h0m.1-15.7h0m0 3.4h0m0 .2h0m0 .7h0m0 .3h0m0 2.5h0m0 4.2h0m.1-11h0m0 .6h0m0 8.5h0m0 1.1h0m0 10.4h0m.1-22.1h0m0 1.5h0m0 1.6h0m0 2.1h0m0 1.7h0m0 8h0m.1-18.9h0m0 .6h0m0 4.1h0m0 3.5h0m0 1h0m0 1.8h0m0 2.6h0m0 .9h0m0 2.4h0m0 .5h0m0 .3h0m0 1.6h0m0 1.1h0m0 2.4h0m.1-22.1h0m0 4h0m0 1.7h0m0 1.6h0m0 2.6h0m0 1.5h0m0 .4h0m0 .2h0m0 7h0m0 2.4h0m.1-19.4h0m0 1h0m0 .3h0m0 .6h0m0 2.9h0m0 0h0m0 .9h0m0 .7h0m0 2.2h0m0 .9h0m0 1.3h0m0 .1h0m0 .2h0m0 1h0m.1-14.8h0m0 10.2h0m0 .9h0m0 1h0m0 8.5h0m.1-19.2h0m0 1.5h0m0 .9h0m0 .5h0m0 2.4h0m0 .7h0m0 1.3h0m0 .1h0m0 2.1h0m0 2.9h0m0 2.4h0m.1-10.9h0m0 4h0m0 1.2h0m0 .8h0m0 10.2h0m0 2.8h0m.1-24.3h0m0 1.2h0m0 1.7h0m0 1h0m0 5h0m0 2.9h0m0 7h0m0 2.6h0m0 .9h0m.1-13.9h0m0 .1h0m0 1.7h0m0 1.1h0m0 .2h0m0 2.4h0m0 1.9h0m0 2.8h0m0 7.9h0m.1-20.3h0m0 1.1h0m0 6.9h0m0 1.8h0m.1-15.1h0m0 1.8h0m0 1.6h0m0 3.9h0m0 3.4h0m0 1.9h0m0 3h0m0 1.7h0m0 .6h0m.1-16.9h0m0 4.2h0m0 6.4h0m0 1.1h0m0 2.5h0m0 4.1h0m.1-17.5h0m0 2.8h0m0 .7h0m0 1.3h0m0 .1h0m0 .3h0m0 .3h0m0 8.3h0m0 1.7h0m0 1.5h0m.1-9.8h0m0 0h0m0 7.7h0m0 4.2h0m0 2.3h0m0 1.9h0m.1-14.2h0m0 9h0m.1-21.9h0m0 4.7h0m0 1.8h0m0 .4h0m0 2.8h0m0 .8h0m0 .3h0m0 2.7h0m0 3h0m0 4.9h0m0 4h0m.1-14.8h0m0 2.7h0m0 5.2h0m.1-7.5h0m0 .4h0m0 1.2h0m0 .1h0m0 3.1h0m0 1.5h0m0 .8h0m0 .5h0m.1-12.1h0m0 8.4h0m0 3.7h0m.1-15.3h0m0 1.8h0m0 4.1h0m0 5.3h0m0 .4h0m.1-10.5h0m0 1h0m0 1.7h0m0 1.3h0m0 5.2h0m.1-6.5h0m0 3.8h0m0 .9h0m0 .3h0m0 .4h0m0 4.1h0m.1-16.2h0m0 8.9h0m0 .4h0m0 3h0m.1-5.8h0m0 5.4h0m0 1.3h0m0 .2h0m0 .6h0m0 4h0m.1-4.9h0m0 3.5h0m0 .4h0m.1-16.3h0m0 2.5h0m0 1.1h0m0 7.8h0m0 5.6h0m0 .6h0m.1-13.2h0m0 13.5h0m.1-15.8h0m0 5.9h0m0 1.6h0m0 .6h0m0 .9h0m0 .7h0m0 .4h0m0 4.6h0m0 .3h0m0 5.6h0m.1-16.9h0m0 .3h0m0 2.6h0m0 1.2h0m0 1.3h0m0 8.6h0m.1-12.2h0m0 5.2h0m.1-16.2h0m0 6.5h0m0 8.5h0m0 2.4h0m0 .5h0m0 2.6h0m.1-9.7h0m0 5.8h0m.1-8.6h0m0 4.9h0m0 1.8h0m.1-1.2h0m0 4.5h0m.1-13.9h0m0 10.9h0m0 3.4h0m.1-11.7h0m0 3.4h0m0 1h0m0 4.6h0m0 .7h0m0 2.5h0m.1-14.7h0m0 21.2h0m.1-20.6h0m0 4.6h0m.1-3.8h0m0 1.6h0m0 6.5h0m0 13.6h0m.2-28h0m.1 7.2h0m0 1.1h0m0 5.7h0m0 14.7h0m.2-23.4h0m0 5.4h0m0 4.6h0m.1-6.2h0m.1-.7h0m.1-6.4h0m0 11.3h0m0 2.7h0m.1-10h0m0 6.4h0m.1-10h0m0 13.5h0m.2-8.5h0m0 12.7h0m.1-21.7h0m0 16.3h0m0 1.8h0m.1-2.5h0m.1-.5h0m0 2.3h0m.1-10.8h0m0 7.5h0m.1 1.6h0m0 9.6h0m.1-14h0m.1-4.5h0m.1 3.4h0m0 5.2h0m.5-6.5h0m.6 5.7h0m.2 .5h0m0 11.9h0m.3-19.7h0m1.9 6.3h0m2-.1h0" stroke="#606060" stroke-width="1.00" opacity="0.85"/><ellipse cx="75.8" cy="259.5" rx="5.0" ry="9.0" transform="rotate(8 75.8 259.5)" fill="url(#gK)" filter="url(#grain)"/><path d="M59.3 238.9h0m8.5 10.4h0m.1 22h0m1.9-5.1h0m.1-13.3h0m0 1.1h0m2.4 20.4h0m.2-11.6h0m.3-5.1h0m.2 .5h0m1.8 5.7h0m0 4.7h0m.4-6.1h0m1.3-7.3h0m.4-1.2h0m.3 7.3h0m.2-10.8h0m.4 3.9h0m.1 12.3h0m.5-17.7h0m.2 12.3h0m.6-6.5h0m.1 23.2h0m.1-19.5h0m.2-11.2h0m.2 .7h0m0 20.6h0m.2-14h0m.1 15.1h0m.4-6.1h0m.4-2.2h0m.4-10.8h0m.2 21.4h0m.1 1.8h0m.2-26.3h0m0 3.2h0m0 14.1h0m.2-9.9h0m.8 2.7h0m.2-16.9h0m.1 2.3h0m.1 10.6h0m.1 5.1h0m.1-3.9h0m.3-7.7h0m.1 16.3h0m0 .3h0m1.1-6.5h0m.3-12.5h0m.1 7.4h0m.3-15.6h0m0 30.7h0m.4-7.8h0m.2-21.2h0m0 3.9h0m0 15.3h0m.1-7.5h0m.1-11.4h0m.3 5.3h0m.1 4.4h0m.1-12.6h0m0 34.5h0m.1-30.4h0m.1 29.6h0m.2-19.5h0m.1 5.3h0m.1-15.6h0m.1 19.9h0m.1-16.9h0m0 13.6h0m.1-18.5h0m0 24.4h0m.5-15.6h0m.3-14.5h0m.1 23.9h0m.2-21.9h0m0 29.3h0m.1-6h0m.2-18.6h0m.1 5.5h0m.1 20.7h0m.3-21.3h0m0 3h0m0 1.2h0m.1 1.2h0m.1 5.8h0m.2-5.8h0m.2-20.9h0m.2 20.5h0m.1 8.4h0m.5-25.9h0m.2-2.9h0m0 10.3h0m.1-6.4h0" stroke="#777" stroke-width="1.00" opacity="0.60"/><path d="M88.6 210.2h0m.4-7h0m.1 3.3h0m.1-4.9h0m0 1h0m0 11h0m.1-8.8h0m0 1.6h0m.7-9.9h0m0 4.6h0m0 11.2h0m.1-9h0m0 1h0m.1-7.2h0m0 5.4h0m.1 2.4h0m0 1.2h0m0 2.1h0m.1-7.7h0m0 2.7h0m0 3h0m0 9.7h0m.1-16.7h0m0 0h0m0 7.2h0m0 1.5h0m0 2.1h0m0 1.2h0m0 .7h0m.1-9h0m0 5.7h0m0 4.7h0m.1-4.4h0m0 2.2h0m.1-15.9h0m0 7.1h0m0 .2h0m0 .7h0m0 1.2h0m0 .2h0m0 2.8h0m0 2.5h0m0 .9h0m.1-10.3h0m0 3.4h0m0 .7h0m0 .5h0m0 .3h0m0 1.9h0m0 7.2h0m.1-8.7h0m0 1.4h0m0 .7h0m0 3.4h0m.1-16h0m0 4.5h0m0 .2h0m0 4.3h0m0 0h0m.1-1.2h0m0 7.9h0m.1-10.7h0m0 6.8h0m.1-6.5h0m0 2.9h0m.1-5.3h0m0 4.2h0m0 8.5h0m.1-7.6h0m0 2.3h0m0 2h0m.1-10.6h0m0 4.7h0m0 1.5h0m0 1.2h0m0 0h0m0 1.5h0m0 6.7h0m.1-11.5h0m0 .3h0m0 1h0m.1-7.6h0m0 9h0m0 3.2h0m.1-9.2h0m0 3.5h0m0 1h0m0 .7h0m0 4.4h0m.1-13.3h0m0 3.6h0m0 1.1h0m.1 4.3h0m0 .2h0m0 3.9h0m0 .7h0m.1-2.6h0m.1-4.2h0m0 4.2h0m0 .2h0m.1-6.6h0m0 6.4h0m0 .4h0m.1-3.7h0m0 1.9h0m0 3.6h0m0 2.4h0m.2-10.6h0m0 7.4h0m.2-6.4h0" stroke="#2a3a30" stroke-width="1.00" opacity="0.80"/><path d="M59.6 228.6h0m.7-.9h0m1.6-4.3h0m1.2 6.6h0m.3 2h0m.1 4.5h0m.2-7.3h0m.1-8.5h0m.2 18h0m.1-8.3h0m.1 5.3h0m0 4.6h0m.1-.4h0m.1-22.7h0m.4 10.7h0m.1 4.7h0m0 3.8h0m.2 8.3h0m.1-26.7h0m.4 8h0m0 3.1h0m.1-7h0m0 15.7h0m0 6.4h0m.6-5.1h0m.1-20.3h0m.1 9.8h0m.1 2h0m.2-12.4h0m0 10.3h0m.1-5.8h0m0 9.7h0m.1-12.1h0m.1 6h0m0 11.9h0m.1-17.3h0m0 5h0m0 10.6h0m.1 6.3h0m.2-15.6h0m0 18.1h0m.1-33.4h0m0 13h0m0 4.4h0m0 1.7h0m0 9.4h0m.1-9.2h0m.1-23.4h0m0 25h0m.1-14.9h0m0 8.2h0m0 10.5h0m0 1.5h0m.3-7.6h0m.2 7.5h0m.2-21.1h0m0 20.4h0m0 2.6h0m.1-6.1h0m0 .8h0m0 7.8h0m.2-3.6h0m.2-24.4h0m0 17.7h0m0 2.3h0m.1-12.4h0m0 10.9h0m0 4.6h0m0 2.4h0m.1-7.9h0m.1-.2h0m0 3.2h0m.1-17.1h0m0 .6h0m0 8.3h0m0 2.8h0m0 1.8h0m0 1.9h0m.2-24h0m0 13.3h0m0 2.6h0m.1 11.4h0m.1-25.5h0m.2 17.4h0m.1-7.4h0m0 11.1h0m.1-4h0m0 2.6h0m0 6.5h0m.1-28h0m0 15.7h0m0 7h0m0 5.6h0m0 7.3h0m.1-37.4h0m0 10.2h0m0 14.4h0m0 2h0m0 .7h0m.1-1.5h0m.1-27.1h0m0 5.7h0m0 1.7h0m0 7.8h0m.1-7.6h0m0 14.6h0m0 6.4h0m.1-18.2h0m0 .4h0m0 10.8h0m0 15.3h0m.1-22h0m0 16.6h0m0 1.8h0m.1-6.7h0m0 1.5h0m0 1.9h0m.1-17.3h0m0 2.7h0m0 2.4h0m0 8.9h0m0 4h0m.1-24h0m0 14.6h0m0 3.8h0m0 3.1h0m0 5.4h0m.1-25.4h0m0 9.1h0m0 .9h0m0 3.2h0m.1 2.4h0m0 6.7h0m0 1h0m.1-19.9h0m0 12.2h0m.1 3.1h0m.1-7.7h0m0 3.2h0m0 3.1h0m0 1.6h0m.1-16h0m0 15.7h0m.1-13.8h0m0 2.8h0m0 5.5h0m.1-12.8h0m0 7.5h0m0 1.4h0m0 1h0m0 7.7h0m.1-9.4h0m0 5h0m0 3.1h0m.1-9.4h0m0 2.2h0m0 2.6h0m0 3.5h0m.1-9h0m0 4h0m0 2.2h0m0 17.7h0m.1-17.8h0m0 10.8h0m.1 1.4h0m.1-16.1h0m0 5.2h0m0 1.7h0m0 10.6h0m.1-23.3h0m0 11.4h0m0 4h0m0 2.4h0m.1-20.4h0m0 7.1h0m0 2.6h0m0 .8h0m0 .1h0m0 10.5h0m.1-19h0m0 5.6h0m0 6.2h0m.1-12.8h0m0 2.7h0m0 .2h0m0 1h0m.1-14.1h0m0 11.3h0m0 14.1h0m.1-21.8h0m0 .9h0m.1 7.2h0m.1-5.5h0m0 13.3h0m.1 4.2h0m0 1.8h0m0 1.2h0m0 4.1h0m.1-20.8h0m0 5.9h0m0 5.4h0m0 7.1h0m0 10.9h0m.1-32.5h0m0 15.8h0m0 13.6h0m0 .1h0m.1-23.1h0m0 .2h0m0 7.3h0m0 2.2h0m0 6.4h0m.1-18.2h0m0 12h0m0 3.4h0m0 3.4h0m.1-27.6h0m0 10.1h0m0 8.4h0m.1-5.5h0m0 9h0m0 1.4h0m0 7.2h0m0 2.2h0m.1-19.4h0m0 8.3h0m0 12.2h0m.1-25.2h0m0 5.3h0m0 .5h0m0 2.1h0m0 4.9h0m.1-26.1h0m0 8.9h0m0 4.4h0m0 10.3h0m0 1.8h0m0 .2h0m0 .7h0m0 4.1h0m0 2.4h0m0 4.5h0m.1-19.2h0m0 11.7h0m.1-12.1h0m0 1.1h0m0 24h0m.1-32.7h0m0 1.9h0m0 3.7h0m0 4.5h0m0 8.8h0m0 5.4h0m.1-32.5h0m0 6.9h0m.1-3h0m0 20.3h0m0 2.1h0m.1-10.5h0m0 9.8h0m.1-20.6h0m0 4.7h0m0 .3h0m0 1h0m0 6.8h0m0 16.3h0m.1-20.8h0m0 1.9h0m.1 3.1h0m0 5.5h0m0 14.5h0m0 1h0m.1-19.2h0m.1-14.3h0m0 3.8h0m0 6.6h0m0 8.8h0m0 6.7h0m0 7.2h0m.1-22.2h0m0 .5h0m0 3.9h0m.1-13.1h0m0 4.5h0m0 5.9h0m0 4.1h0m0 6.5h0m0 2.8h0m.1-31.5h0m0 11.2h0m0 3.3h0m0 1.6h0m0 3.8h0m0 4.3h0m0 1.3h0m0 5.5h0m.1-22.7h0m0 14.9h0m.1-17.4h0m0 .3h0m0 3.1h0m0 2.9h0m0 4.7h0m0 6.5h0m0 7.1h0m.1-33.9h0m0 5.3h0m0 3.4h0m0 1.7h0m0 6.4h0m0 .1h0m0 6.7h0m0 3h0m.1-9.3h0m0 2h0m0 3.5h0m0 2.5h0m0 0h0m0 3.6h0m0 2.7h0m0 4h0m.1-17.7h0m0 1.8h0m0 1h0m0 .3h0m0 7h0m0 .8h0m0 3.6h0m0 .8h0m0 4.6h0m.1-22.4h0m0 7.1h0m0 .3h0m0 4.7h0m0 5.7h0m0 2.4h0m.1-36.3h0m0 23.3h0m0 3.9h0m0 10.6h0m0 1.9h0m.1-38.4h0m0 12.4h0m0 7.9h0m0 .1h0m0 1h0m.1-5h0m0 .8h0m0 1.4h0m0 2.6h0m0 .7h0m0 5.5h0m.1-35.7h0m0 12.1h0m0 9.2h0m0 2.6h0m0 1.9h0m0 4.6h0m0 2.9h0m0 5.2h0m0 4.2h0m0 3.1h0m.1-24h0m0 3.5h0m0 12.3h0m0 .3h0m0 6.6h0m.1-27.6h0m0 10.5h0m0 0h0m0 5.7h0m0 .1h0m0 5.9h0m.1-22.2h0m0 1h0m0 3.5h0m0 2.1h0m0 2.5h0m0 3.5h0m0 7.4h0m0 .8h0m0 .7h0m0 1.1h0m.1-22.2h0m0 4.7h0m0 3.7h0m0 6.1h0m0 2.5h0m.1-7.9h0m0 5.1h0m0 .3h0m.1 4.4h0m0 1.1h0m0 2.8h0m.1-20.3h0m0 .8h0m0 1.8h0m0 9.9h0m.1-19.1h0m0 11h0m0 .9h0m0 .6h0m0 4.9h0m0 .5h0m.1-10.3h0m0 7.9h0m0 10.1h0m.1-15.8h0m0 .5h0m0 .4h0m0 3.5h0m0 .1h0m0 1.6h0m0 3.8h0m0 5.5h0m.1-15.9h0m0 6.2h0m0 .6h0m0 3.1h0m0 7.5h0m0 1.7h0m.1-20.3h0m0 8.1h0m0 1.4h0m0 7.1h0m.1-15.7h0m0 1h0m0 2.5h0m0 .6h0m0 1.7h0m0 4.3h0m0 3h0m0 1.1h0m0 .3h0m.1-15.2h0m0 .2h0m0 4.6h0m0 14h0m.1-17.5h0m0 .9h0m0 8.1h0m0 4.2h0m.1-30.8h0m0 12.6h0m0 8.6h0m0 .5h0m0 .7h0m0 .6h0m0 9.7h0m.1-17.2h0m0 3h0m0 15.7h0m0 5.3h0m0 3h0m.1-36.9h0m0 12.2h0m0 .7h0m.1-14.7h0m0 11.5h0m0 1.3h0m0 8.5h0m0 3.3h0m.1-8.2h0m0 .5h0m0 8.2h0m0 .6h0m.1-5h0m0 .1h0m0 1.2h0m0 4.5h0m0 .1h0m.1-17h0m0 .2h0m0 4h0m0 5.3h0m.1-20.2h0m0 19.9h0m0 9.5h0m0 .2h0m.1-16.5h0m0 5.8h0m0 .3h0m0 4h0m0 7h0m.1-11.6h0m.1-1.2h0m0 3.4h0m.1-15.1h0m0 5h0m0 .3h0m0 9.1h0m0 1.4h0m0 2.8h0m0 4.9h0m0 1.6h0m.1-30.4h0m0 7.6h0m0 5.1h0m0 .1h0m0 19.3h0m.1-28.9h0m0 3.4h0m0 2.3h0m0 1.8h0m0 3.6h0m0 .5h0m0 .8h0m0 1.8h0m0 1.7h0m0 6.6h0m0 17.6h0m.1-35.2h0m0 2.5h0m0 2.3h0m0 2.5h0m0 4h0m0 .7h0m0 2.6h0m0 1.1h0m0 .9h0m.1 2.1h0m.1-20.7h0m0 2h0m0 .9h0m0 5.5h0m0 9.5h0m0 .8h0m0 3.8h0m.1-23.1h0m0 8.3h0m0 1.9h0m0 5.2h0m0 2.6h0m0 1.7h0m0 3.9h0m.1-27.6h0m0 1.3h0m0 12.9h0m0 5.8h0m0 2.5h0m.1-27.6h0m0 2.1h0m0 14.4h0m0 7h0m0 2.4h0m.1-8.9h0m0 4.7h0m0 .7h0m.1-21.2h0m0 10.6h0m0 5.8h0m0 9.1h0m.1-30.1h0m0 9.9h0m0 12.4h0m.1-12.8h0m0 4.4h0m0 .8h0m0 2h0m0 5.1h0m0 1.3h0m.1-8.1h0m0 3.3h0m0 5.8h0m0 3.7h0m0 .7h0m0 .7h0m0 2.1h0m0 3.8h0m.1-42.5h0m0 1.1h0m0 10.3h0m0 10.3h0m0 13.5h0m0 3.4h0m.1-7.8h0m0 3.1h0m.1-18.7h0m0 6.4h0m0 1.5h0m0 2.9h0m0 1.9h0m0 2h0m0 .3h0m0 1.5h0m0 4.3h0m0 .5h0m0 .8h0m.1-22.7h0m0 2h0m0 4.5h0m0 .4h0m0 5.3h0m0 3.1h0m0 1h0m0 11.4h0m.1-13.4h0m0 4h0m0 .1h0m0 10h0m.1-26.6h0m0 5.9h0m0 8.4h0m0 .6h0m0 1.2h0m0 0h0m0 1.3h0m.1-3h0m0 .5h0m0 6.5h0m.1-17.9h0m0 1.7h0m0 2h0m0 2h0m0 6.8h0m0 .2h0m0 1h0m0 12.2h0m.1-32.5h0m0 3.7h0m0 6.5h0m0 2h0m0 4.4h0m0 .2h0m0 2.1h0m0 1.3h0m0 2.6h0m0 12.4h0m.1-25.6h0m0 4.7h0m0 2.5h0m0 1.7h0m0 2.5h0m0 2.8h0m.1-16.1h0m0 .9h0m0 5.7h0m0 .9h0m0 1.1h0m0 13.7h0m0 .3h0m.1-23.8h0m0 5.1h0m0 .5h0m0 5.8h0m0 3.1h0m0 .2h0m0 1h0m0 .1h0m.1-19.3h0m0 8h0m0 7.5h0m0 3.2h0m0 3.6h0m.1-2.5h0m.1-22.4h0m0 5.2h0m0 2.9h0m0 .3h0m0 3.7h0m0 10.1h0m0 9.8h0m.1-16.8h0m0 8.9h0m0 3.1h0m0 .6h0m.1-24.5h0m0 11.8h0m.1-2.7h0m0 6.1h0m0 2.9h0m0 2.3h0m.1-29.3h0m0 8.7h0m0 14.1h0m0 4.4h0m.1-16.6h0m0 1.4h0m0 10.5h0m0 3.3h0m0 1.9h0m0 3.9h0m0 2.2h0m.1-34.3h0m0 8.9h0m0 10.5h0m.1-14.2h0m0 3.8h0m0 5.7h0m0 3.4h0m0 .5h0m0 12.8h0m0 .6h0m.1-13.7h0m.1-22.5h0m0 17.9h0m0 9.1h0m0 4.3h0m0 1.3h0m.1-22.1h0m0 15.4h0m0 4.6h0m0 2.4h0m0 5.5h0m.1-23h0m0 .8h0m0 .1h0m0 1.6h0m0 2.1h0m0 7.3h0m0 2.4h0m0 1.4h0m.1-11.8h0m0 7.6h0m0 1.7h0m0 1.8h0m.1-6h0m.1-13.2h0m0 11.6h0m0 .6h0m0 7.6h0m0 1.5h0m0 9.7h0m.1-4.7h0m0 1.7h0m.1-21.5h0m0 3.2h0m0 1.7h0m0 1.3h0m0 8.8h0m0 1.9h0m.1-6h0m.1-12.1h0m0 4.6h0m0 6.7h0m0 3.9h0m0 1.3h0m.1-23.2h0m0 12.3h0m0 8.4h0m.1-3.9h0m0 2.8h0m0 6.2h0m0 6.4h0m.2-25.6h0m0 10.4h0m.1-11.1h0m0 .5h0m0 3.2h0m0 .3h0m0 9.9h0m0 7.4h0m.1-23h0m0 .2h0m0 1.3h0m.1 4.7h0m0 2.7h0m0 7.1h0m0 .3h0m.1-.3h0m0 8.9h0m.1-29.9h0m0 13.9h0m0 3h0m0 4.4h0m.1-7.8h0m0 14.8h0m.1-15.7h0m0 4.1h0m0 2.8h0m.3 1.6h0m0 4.2h0m0 1h0m.1-19.1h0m0 .4h0m0 3.9h0m0 2h0m0 1.2h0m0 3.2h0m0 .8h0m0 5h0m.1-27.3h0m0 7.7h0m0 14.9h0m0 .4h0m0 11.3h0m.1-34.7h0m0 0h0m0 5.3h0m0 .2h0m0 15.1h0m0 10.9h0m.1-19.3h0m0 7.6h0m0 1.1h0m.1-15.6h0m0 1.5h0m0 3.6h0m0 1.3h0m0 1.2h0m0 8.9h0m0 1.4h0m.1-30.8h0m0 12.5h0m0 9.5h0m0 1.4h0m0 1.6h0m0 .1h0m0 1.2h0m0 5.2h0m0 1.7h0m0 9.4h0m.1-27.3h0m0 9.3h0m0 19.9h0m.1-25h0m0 4.1h0m0 3.7h0m0 0h0m0 2.3h0m.1-13.6h0m0 2h0m0 5.5h0m0 3.1h0m0 .4h0m.1-3.4h0m0 4.4h0m.1-12.9h0m0 2h0m.1-14.2h0m0 14.6h0m0 15.1h0m.2-19.4h0m0 9.5h0m.1-10.3h0m0 7h0m0 2.6h0m0 .3h0m0 7h0m.1-18.1h0m0 14.8h0m.2-13.6h0m0 12.5h0m0 4.3h0m0 1.9h0m.1-14.5h0m0 1.8h0m0 6h0m0 9.8h0m.1-26.1h0m0 20.1h0m0 1.2h0m.1-12.3h0m.1 4.3h0m0 1.7h0m.1-9.1h0m0 14.8h0m0 1.2h0m.1-8h0m.1 6h0m0 9.6h0m0 1.2h0m.1-22.5h0m0 5.8h0m.1-5.3h0m0 9.4h0m0 4.3h0m.1-12.8h0m0 8.9h0m.1-1.5h0m0 5.4h0m.2-9.3h0m0 5.3h0m.1-3.5h0m.1-10.5h0m0 16.1h0m.1-7.8h0m0 3h0m0 1.2h0m0 5.2h0m0 9h0m.1-37.2h0m0 17.2h0m0 .5h0m0 1.6h0m0 1.2h0m0 .7h0m.1 2.5h0m0 1.9h0m0 1.8h0m0 2h0m.1-18.3h0m0 7.3h0m.1-10.6h0m0 4.4h0m0 1h0m0 3.6h0m0 13.1h0m.1-21h0m0 1.1h0m.1 3.8h0m0 3.7h0m0 7.7h0m.1-23.3h0m0 22.9h0m.1-5.1h0m.1-1.2h0m0 2.9h0m0 2.5h0m.1-4.8h0m0 1.8h0m.2 3.1h0m0 8h0m.2-22.7h0m0 9.7h0m.1-8.5h0m0 9.3h0m0 12.3h0m.1-33.1h0m0 16.3h0m0 14h0m.1-5.3h0m.1-17.8h0m.1 6.7h0m0 10.1h0m.1-2.2h0" stroke="#1f9f4a" stroke-width="1.00" opacity="0.80"/><path d="M62.5 233.3h0m.9 .6h0m.1 3.4h0m.2 2.5h0m.3-3h0m.3-5h0m0 .4h0m0 6.1h0m.3-.7h0m.1-3.2h0m.1 9.3h0m.2-9.9h0m0 6.4h0m.3-6.7h0m.1-4.4h0m0 2.8h0m.2 8.2h0m.2-5.2h0m.1-4.2h0m0 11.4h0m.1-1h0m.1-6.5h0m0 8.8h0m.1-1.5h0m.2-6.2h0m0 7.1h0m.1-10.3h0m.1-2.9h0m.2 11.6h0m.1-7.8h0m0 .7h0m.1 .8h0m0 8.7h0m.1-14h0m0 7h0m.2 4.7h0m0 1.1h0m.1 .2h0m.1-7.9h0m0 2.3h0m0 5.3h0m.1-3.8h0m.1 1.5h0m0 1.8h0m0 2.3h0m.1-12.9h0m0 12.9h0m0 2.3h0m.1-18.2h0m.1 12.7h0m.1-6.9h0m0 7.9h0m0 1.1h0m.1-13.3h0m0 3.4h0m0 4.6h0m0 7.7h0m.1-14.7h0m.1-1.5h0m0 2.5h0m0 3.4h0m0 2.8h0m.1 .9h0m0 3.9h0m.1-15.2h0m0 2.6h0m0 1.8h0m0 7.4h0m.1-1.4h0m0 3.3h0m.2-9.3h0m0 5.6h0m.1 3h0m.1-7.1h0m0 3.9h0m0 2.9h0m0 1.4h0m.1-7.3h0m0 .6h0m.1-.4h0m0 7.7h0m.1-10.5h0m0 9h0m.1-9.1h0m0 9.9h0m.1-13.2h0m0 8h0m0 1.1h0m0 .2h0m0 1.3h0m.1-7.3h0m0 4.2h0m0 .3h0m.1-4h0m0 3.8h0m0 2.9h0m.1-5.1h0m0 .5h0m0 4.1h0m0 1.3h0m.1-4.8h0m0 1.6h0m0 3.3h0m0 .1h0m.1-.4h0m.1-7h0m0 9.4h0m0 .7h0m.1-11.3h0m0 1h0m0 3.6h0m0 4.8h0m.1-6.7h0m0 .1h0m0 3h0m0 6.5h0m.1-11.9h0m0 3.4h0m0 1h0m.1-3.9h0m0 0h0m0 3.8h0m0 3h0m.1-7.5h0m0 3.1h0m.1-2.3h0m0 1.5h0m.1-7.7h0m0 5.9h0m0 14.5h0m.1-10.9h0m0 3.7h0m0 .1h0m.1-8h0m0 2h0m.1-4.4h0m0 10.6h0m0 .8h0m0 1.8h0m.1-4.5h0m0 2h0m0 3h0m.1 2.9h0m.1-14.1h0m0 4.6h0m0 3.9h0m.1-7.6h0m0 4.9h0m0 .6h0m.2-8.4h0m0 12.8h0m.1-13h0m0 8.9h0m0 .4h0m0 .4h0m0 1.7h0m.1-10.6h0m0 6.3h0m0 .6h0m.1-.7h0m0 2h0m.1-11.6h0m0 8.1h0m0 2.8h0m0 7.9h0m.1-14h0m0 2.4h0m0 .9h0m0 3.1h0m.1-2.3h0m0 5.2h0m.1-9.9h0m0 .7h0m0 1.7h0m0 0h0m.1 5h0m0 4.9h0m.1-11.3h0m0 5.9h0m.1 0h0m0 3.8h0m0 3.8h0m.1-14.3h0m.1-4.2h0m0 1.6h0m0 5.3h0m0 8h0m0 2.1h0m.1-14.3h0m0 6.4h0m0 5.4h0m.1-7.7h0m0 1.4h0m.1 .8h0m0 2.5h0m.1-1.5h0m.1-9.6h0m0 6.8h0m0 .7h0m0 .9h0m0 5.3h0m.1-11.9h0m0 4.3h0m0 1.5h0m0 .2h0m0 .7h0m0 1.1h0m0 .2h0m.1-4.9h0m0 6h0m.1-8.8h0m0 9.3h0m0 1.9h0m.1-9.3h0m0 1.5h0m0 1h0m0 12.4h0m.1-3.1h0m.1-11.7h0m0 7.4h0m.1-4.2h0m.1 .2h0m0 10.7h0m.1-14.9h0m0 5.3h0m0 1.5h0m0 1h0m0 2.4h0m0 2.6h0m.1-8h0m0 1.1h0m0 .5h0m0 .1h0m.1-20.3h0m0 20.8h0m0 4.9h0m.1-4.3h0m.1-9.6h0m0 1.5h0m0 7h0m0 .5h0m0 4.7h0m.1-3.4h0m0 1.8h0m.1-8h0m0 6.7h0m.1-12.8h0m0 1.6h0m0 3.5h0m0 .9h0m.1 8.4h0m.1-11.6h0m0 .2h0m0 1.4h0m0 4.6h0m0 5.8h0m.1-12.6h0m0 9.2h0m0 .6h0m0 5.2h0m0 2.1h0m.1-22.2h0m0 5.7h0m0 12.1h0m0 3.2h0m.1-17h0m0 7.4h0m0 3.1h0m0 7.1h0m.1-15.3h0m0 1h0m0 2.7h0m.1-6.1h0m0 7.4h0m.1-7h0m0 10.4h0m0 1h0m0 1.2h0m.1-6.4h0m.1-.2h0m.2-4.1h0m0 8.9h0m.1-8.4h0m.1-5.9h0m0 7.2h0m0 .2h0m0 5.7h0m.1-3.3h0m0 3.8h0m0 .3h0m0 3.8h0m.1-11.1h0m.1-5.2h0m0 8.3h0m0 3.9h0m0 .2h0m0 2.8h0m.1-7.4h0m0 2.1h0m.1-4.7h0m0 5.2h0m.1-.8h0m.1-6.7h0m.1 4h0m0 4.2h0m.1 4.2h0m.1-16h0m0 9.4h0m0 1.2h0m.1-5.6h0m0 8.8h0m.1-8.7h0m.1 14.5h0m.1-14.4h0m0 .7h0m.1-2.4h0m0 10.3h0m.1-2.9h0m.1-3.2h0m.1 5.6h0m.3-4.4h0m.5-11h0m0 13.7h0m.2-9.8h0m.1 2.9h0m.2 6.7h0m.1-2.4h0m0 1.3h0m.1-3.4h0m0 4.4h0m.1-4.7h0m.5-1.1h0m.3 0h0m.1-3.9h0m.4 2.7h0m.1 2.5h0m.1-.3h0m.1-8.1h0m.1 2h0m0 16.5h0m1.2-21.3h0m.4 14.8h0" stroke="#16a3ad" stroke-width="1.00" opacity="0.80"/><g clip-path="url(#k3)"><ellipse cx="78.8" cy="220.8" rx="11.5" ry="26.0" transform="rotate(27 78.8 220.8)" fill="url(#gT)" filter="url(#grain)"/></g><path d="M62.1 233.2h0m.5 2.8h0m.3 2.4h0m.4-10.8h0m.2 4.4h0m.2 4.1h0m.1-10.1h0m.3 12.4h0m.1-9h0m.2 8.9h0m.1-3.6h0m.2-3.7h0m0 3.1h0m0 1.1h0m.2 8.7h0m.1-16.6h0m.1 15.3h0m.1-14.6h0m0 12.3h0m0 .1h0m.1-16.3h0m0 15h0m0 6.5h0m.1-13.8h0m.3-12h0m.3 6h0m0 5.4h0m.1 10.8h0m.1 2.9h0m.4-2.4h0m0 1.2h0m.1-16.7h0m0 5.4h0m0 3.1h0m.1-13.1h0m0 15.5h0m0 8.4h0m.2-21.3h0m0 11.2h0m.2-2.1h0m0 .2h0m.1-18.5h0m0 6.4h0m0 13.7h0m0 .2h0m.3-10h0m.1-3.2h0m0 4.2h0m0 9.5h0m0 1.4h0m0 .7h0m.1-22.3h0m0 .5h0m0 18.9h0m0 2.6h0m0 8.5h0m.1-21.6h0m0 6.8h0m0 6.1h0m0 7.5h0m.1 .7h0m.1-25.2h0m.4-7.8h0m.2 32.8h0m.1-11.1h0m.1-18.1h0m.1 20.8h0m.6-17.5h0m.7-8h0m.1 2.7h0m.1 27.9h0m0 2.9h0m.1-3h0m.1-1.1h0m.2 2.8h0m.3-1.4h0m.2-26.1h0m.7 26.3h0m.2-4.9h0m.3-32.1h0m0 33.5h0m.1-32.4h0m0 1.6h0m.2 2.2h0m.1-1.3h0m.1-3.3h0m0 37.6h0m0 .2h0m0 .4h0m.4-35.6h0m.2 1.3h0m0 31.4h0m.2-36.7h0m.1 33.7h0m0 5.2h0m.2-3.3h0m.1-2h0m.6 4.5h0m.5-37.5h0m.1 31.6h0m.3 3.6h0m.4-35.9h0m.2-.3h0m0 2.3h0m0 36.9h0m1.1-39.3h0m.3 32.9h0m0 1.1h0m.1-33.7h0m0 1.7h0m.1-1.3h0m.2-2.7h0m.1 1.3h0m0 1.3h0m.4-3.6h0m.3-2.1h0m0 3.1h0m.9 36h0m.4-5.8h0m.4-33.4h0m.1-1.5h0m.1 37.5h0m.2-2.7h0m.6 3.6h0m0 1.5h0m.2-37.8h0m.1 5h0m.1-7h0m0 1h0m0 33.7h0m.1-27.8h0m0 27.4h0m.2 1.5h0m0 3.2h0m.2-36.4h0m0 36.6h0m.4-2.6h0m.1-32.9h0m.1-3.5h0m.1 2h0m0 35h0m.3 1.7h0m.2-32.7h0m.1 28.7h0m.2-2.8h0m.1 3.4h0m.4-.6h0m.4-33h0m.4 27.3h0m.2-.6h0m.1-23.9h0m.1-3.8h0m.3 3.5h0m.5 21.2h0m.2-26.4h0m0 25.9h0m.4-27.2h0m.1 30.5h0m0 4.5h0m.1-32.5h0m0 25.2h0m0 4.2h0m.1 1.5h0m.1-30.5h0m0 26.1h0m.1-.9h0m.1-27.4h0m.2 24.3h0m.1-16.4h0m.1-8.4h0m.2 8.5h0m.1-5.1h0m0 29.7h0m.2-30.6h0m0 2.8h0m.1 22.5h0m.1-.5h0m.1-2.6h0m.1 7.4h0m.2-6.2h0m.4-22.5h0m.1 22.6h0m.1-14.7h0m0 18h0m.3-8.9h0m.1-5.7h0m.2 5.5h0m.3-17.5h0m.2 16.6h0m.1 9h0" stroke="#178a4a" stroke-width="1.00" opacity="0.50"/><path d="M92.8 205.9h0m.2 1.3h0m0 0h0m.5-9.7h0m.4 14.9h0m.1-8.6h0m.4-4.3h0m0 6.1h0m.2-5.1h0m0 1.2h0m0 8.2h0m.2-8.4h0m.6 2h0m.1 5.2h0m.1-6.8h0m.3-5.7h0m0 9.7h0m.1-4.4h0m.1-.1h0m0 12.6h0m.1-5.2h0m.1-19.2h0m0 22.5h0m.2-15.7h0m0 11.4h0m.1-7.1h0m0 10.4h0m.1-6h0m0 2.2h0m0 .5h0m0 5h0m.1-20.3h0m0 10.3h0m.2-6.9h0m0 10h0m0 5.8h0m.1-20.1h0m0 11.5h0m.2-3.9h0m0 .4h0m.1-1h0m0 3.6h0m.2-10.9h0m0 10.5h0m0 7.8h0m0 1h0m.1 3.2h0m.2-4.7h0m0 1.6h0m.1-4.6h0m0 2.8h0m0 1h0m0 1.7h0m.1-2.3h0m.1-.5h0m.1-19h0m0 3.8h0m.1 7.3h0m0 1.4h0m0 6.1h0m.1-10.9h0m0 3.2h0m.1 .9h0m0 1.9h0m0 5.1h0m0 2.2h0m0 3.5h0m.1-10h0m.2 9.7h0m.1-14.9h0m0 7.7h0m.2-8.3h0m0 1.1h0m0 8.2h0m.1-8.6h0m0 5.3h0m0 2.1h0m0 6.9h0m.1-13.6h0m0 1.6h0m0 3.6h0m.1-6.2h0m0 2.4h0m0 .4h0m.1-5.6h0m0 16.7h0m.1-13.6h0m0 8.2h0m0 2.5h0m0 4.1h0m.1-21.4h0m0 15.5h0m0 10.7h0m.1-20.6h0m.1 1.6h0m0 6.7h0m0 4.3h0m.1-13.1h0m0 9.8h0m.1-12.9h0m0 12.9h0m.1-11.8h0m0 4.2h0m0 7.2h0m.2-4.5h0m0 5.1h0m0 5.1h0m0 .3h0m0 2.3h0m.1-16h0m0 .3h0m0 7h0m.1-14.2h0m0 11h0m0 3.5h0m0 2.9h0m.1-8.6h0m0 8.2h0m0 .5h0m.1-24.3h0m.1 13.9h0m0 1h0m0 5.3h0m.1 .5h0m0 8.5h0m.1-17h0m0 1.4h0m0 2.8h0m0 .6h0m0 4.8h0m.1-17.6h0m0 9.2h0m0 2.8h0m.1 2.5h0m.1-9.6h0m0 23h0m.1-18.1h0m.1-2.3h0m0 .4h0m0 5.1h0m.1-1.8h0m.1 .4h0m0 .1h0m0 3h0m0 1.2h0m0 3.7h0m.1-7.6h0m.1-8.5h0m0 13.6h0m0 2.4h0m.1-4.9h0m0 2.8h0m.1-14.2h0m.1 2.3h0m0 13.2h0m0 .2h0m0 9h0m.1-.7h0m.1-18.7h0m0 .9h0m0 3.5h0m.2-7h0m0 1.4h0m0 6.4h0m0 4.5h0m.1-7.6h0m0 .3h0m0 16.4h0m.1-23.9h0m0 1.8h0m.1-2.8h0m0 8.1h0m0 8.4h0m.1-11.3h0m0 3.8h0m0 8.4h0m0 1.7h0m.2-11.4h0m0 .6h0m.1 13.1h0m.1-8.8h0m0 .6h0m.1-13.9h0m0 3.2h0m0 9.9h0m.1-1.3h0m0 5.3h0m.1-8.4h0m0 2.3h0m.1-.5h0m0 1.4h0m0 6h0m.1-7.9h0m0 1.3h0m0 .7h0m0 1h0m0 4.5h0m.1 .7h0m.1-1.2h0m.1-9.1h0m0 1.9h0m0 1.7h0m0 4.6h0m.1-14.3h0m0 2.5h0m0 4.6h0m0 .5h0m0 12.2h0m.1-6.4h0m.5-6.1h0m0 9.3h0m.1-8.9h0m.1-8.8h0m.1 12.2h0m.3-7.5h0m0 8h0m0 6.8h0m.1-12h0m0 4h0m.1-8.8h0m0 8.2h0m0 5.5h0m.1-10.8h0m0 5h0m.1-2.6h0m.1-1.3h0m0 6.2h0m.2-12.6h0m0 14h0m0 2.6h0m.2-17.1h0m0 14.2h0m.3-3.7h0m0 4h0m0 3.1h0m.6-3.2h0m.3-7.7h0m.4 5.8h0m.2-10.4h0m.2 1.6h0m0 1.6h0m.7 3h0m.1-14.5h0m.5 7.7h0m.3 18.1h0m.8-11.1h0m.5-4.2h0" stroke="#860e28" stroke-width="1.20" opacity="0.95"/><path d="M92.3 237.4h0m.4-4h0m.3 1.1h0m.3 1.6h0m.3-1.6h0m.1-1.3h0m.1 2.2h0m0 1.4h0m.2-6.4h0m.1 .6h0m0 .7h0m0 7.7h0m.3-14h0m0 6.2h0m0 10h0m.1-12.3h0m.1 11.6h0m.1-17.9h0m0 12.5h0m.1-7.5h0m0 4.1h0m.2-10.1h0m0 2.7h0m.2 .9h0m.1 7.5h0m.1-4.5h0m0 7.7h0m.1-10.3h0m.1-1.6h0m.1 12.4h0m.1-3.2h0m.1-5.7h0m0 .1h0m.2 3.2h0m0 5h0m.2 .5h0m.2-1.5h0m.1-7.3h0m.1 1.2h0m0 2h0m.1 4.1h0m.1-2.6h0m0 6h0m.1-3.4h0m.2-4.6h0m0 6.4h0m.1-12.2h0m.2 6.1h0m.1-1.6h0m0 2.6h0m.1 0h0m0 1.6h0m.1-5.4h0m0 10.1h0m.1-11.6h0m0 4.5h0m0 .1h0m0 .8h0m0 6.1h0m0 2.1h0m.1-13.1h0m0 1.1h0m0 8.6h0m.1-14.9h0m.1 2h0m0 1h0m0 .2h0m0 2.1h0m.1-3.2h0m0 3.8h0m0 1.9h0m0 2h0m0 2.3h0m.1-4.3h0m0 .9h0m0 7.6h0m.1-16.8h0m0 5.9h0m0 5.1h0m.1-3.8h0m0 12.6h0m.1-15.8h0m0 4.5h0m.1 3.8h0m0 2.4h0m0 3.1h0m.1-12.2h0m.1 1h0m0 1.3h0m0 2.7h0m0 1h0m.1-14.8h0m0 12.5h0m0 4.5h0m0 1.3h0m.1-15.5h0m0 6.7h0m0 2.4h0m0 2.2h0m.1 2.9h0m0 1h0m.1-7.6h0m0 2.7h0m0 4.4h0m.1-15.4h0m0 6.4h0m0 9.6h0m.1-17.7h0m0 13.5h0m0 3.1h0m0 1.8h0m.1-9.5h0m0 2h0m0 .1h0m0 5.4h0m0 2.9h0m.1-9.5h0m0 3.5h0m.1-3h0m0 4.8h0m0 4.5h0m0 .2h0m.1-5.7h0m0 0h0m.1-9.2h0m0 4.8h0m0 .7h0m.1-7.3h0m0 6.2h0m0 1.2h0m0 5h0m0 0h0m0 13.3h0m.1-22.3h0m0 .7h0m0 3h0m0 10.5h0m.1-18.1h0m0 7.3h0m0 15.7h0m0 2h0m.1-23.3h0m0 3.3h0m0 1.7h0m0 4.3h0m0 11.8h0m.1-23.3h0m0 8.5h0m0 .9h0m.1-5.9h0m0 5.5h0m0 .3h0m0 2.3h0m.1-3.9h0m.1-.4h0m0 3.1h0m0 2.5h0m.1-14.7h0m0 9.1h0m0 7h0m.1-10.6h0m0 8.7h0m.1-5.9h0m0 12h0m.1-18.6h0m0 1.7h0m0 9.4h0m0 .2h0m0 7.4h0m.2-17h0m.1 5.8h0m0 1.6h0m0 1.8h0m.1-4.5h0m0 5.1h0m.1-6.7h0m0 3.2h0m0 3.5h0m.2-.6h0m0 1h0m0 3.7h0m.1-9.7h0m0 .8h0m0 1.7h0m.1 1.1h0m.1-6.9h0m0 9.7h0m0 1.7h0m0 1h0m0 6.4h0m.1-6.1h0m0 .7h0m0 3.4h0m0 .6h0m.1-16.5h0m0 9.7h0m0 2.2h0m.1 .8h0m0 3.7h0m.1-13.5h0m.1 8h0m.2-14.9h0m0 3.8h0m0 9.8h0m0 .6h0m.2-2.6h0m0 .8h0m0 4.8h0m0 1h0m.1-13.7h0m0 9.5h0m.2-9.9h0m0 8.7h0m0 .7h0m.1 3.3h0m.1-14.9h0m0 5.6h0m0 .3h0m0 .3h0m0 3h0m.1-4.4h0m0 1.9h0m.1-15.9h0m0 16.5h0m.2-1.7h0m.1-7.5h0m0 15.9h0m.4-7.5h0m.1 1.1h0m0 1.3h0m.1-9.9h0m.1 13h0m.2-2.8h0m.1-7.1h0m.2-.1h0m.3 2.7h0m0 .7h0m.3-.5h0m.2 4.1h0m1.2 1.3h0m.4-.7h0m.2-8.3h0m.1 5.7h0m0 .7h0m0 11.6h0m.6-10.7h0" stroke="#860e28" stroke-width="1.20" opacity="0.95"/><path d="M92.9 219.1h0m1 20.5h0m.1-4.8h0m.1-5.4h0m.4-19.1h0m.1 .8h0m.2 24.5h0m.1-9.8h0m0 14h0m.4-50.2h0m0 28.1h0m0 9.9h0m.2-5h0m.3 .5h0m0 .6h0m.6 5.3h0m.2-12.5h0m0 15.7h0m.1-33.3h0m0 4.9h0m0 48.9h0m.2-20.6h0m.3-19.6h0m.1-.5h0m.1 10.1h0m.3 28.1h0m.1-30h0m0 .3h0m0 2.4h0m.2-12.4h0m0 19.6h0m.1-23.3h0m0 21.6h0m0 2.4h0m.1 .7h0m0 7.2h0m.1-36.1h0m0 2.5h0m.1-1.1h0m0 22.2h0m.2-20.1h0m0 18.5h0m.1 .5h0m0 3.7h0m.1 11.1h0m.1-31.1h0m0 9.9h0m0 8h0m0 10.7h0m.1-18.2h0m0 5.7h0m.1-16h0m.3 15.3h0m0 17.5h0m.4-19.8h0m0 34.9h0m.1-47.3h0m.1 33.5h0m.1-3.7h0m.2-20.2h0m0 17.9h0m0 4.1h0m.1-32.8h0m.2-12.7h0m0 9.4h0m.1 16.2h0m.1-5.1h0m0 6.4h0m.1 8.9h0m0 9.4h0m0 2.7h0m.1-41.7h0m0 8.8h0m.3 32.2h0m.2-24h0m.2 10.4h0m.2 21.3h0m.1-32.9h0m.2 10.2h0m.1-15.5h0m0 1.1h0m0 3.6h0m.4 14.7h0m.2 .1h0m.3-18.8h0m0 4.1h0m0 8.9h0m.2-28.4h0m.1-3.3h0m0 34.2h0m.1-2.5h0m.2-13h0m0 11.6h0m.1-17.5h0m.1 11.4h0m.7-22.6h0m0 21.4h0m0 18.8h0m.1-12.4h0m.2-29.9h0m0 15.5h0m.1-9.6h0m.1-8.4h0m0 14.3h0m0 20.8h0m.1-23.2h0m.1 7.4h0m.4-26.3h0m.1 7.5h0m.2 23.5h0m0 2.8h0m.3 21.8h0m.1-36h0m.3 8.6h0m.5-4.5h0m.1 17.7h0m.9-14.1h0m2.2 6.1h0" stroke="#860e28" stroke-width="1.10" opacity="0.80"/><path d="M93.4 218.8h0m.2-8.4h0m.3 26.3h0m.7 12.8h0m.5-3.1h0m0 17.2h0m.1-58.1h0m.6 13.6h0m0 2.1h0m.4-5.6h0m.2-2.8h0m.4 7.7h0m.2 14.6h0m0 17h0m0 .8h0m.5-53.3h0m.3 36.1h0m.2 .2h0m.4-13.9h0m.1-4.8h0m0 26.8h0m.1-.9h0m0 .2h0m0 2.3h0m.1-33.6h0m.2 4.5h0m0 15.1h0m0 14.2h0m.3-28.5h0m0 .6h0m.2 31.3h0m.1-41.2h0m0 24.5h0m.3-29.8h0m.1 49.7h0m.1-44.2h0m.1-2.4h0m0 17.7h0m0 15.1h0m.3-41.1h0m.3-1.5h0m.3 58.1h0m.1-40.1h0m.2 32.6h0m.2-55.3h0m0 13.9h0m.1 21.5h0m0 12h0m.1 6.8h0m.1-46.4h0m.3 18.5h0m0 8.4h0m.3-36.5h0m0 42.3h0m.1-37.5h0m0 44.3h0m.1 9.8h0m.3-37.5h0m.3 29.5h0m.3-8.9h0m0 9.9h0m.1-58.8h0m.2 25.3h0m0 10.7h0m0 19.5h0m.1-21.7h0m.1 16.9h0m.1-2.7h0m.2-48.7h0m.2 54.2h0m.1-31.2h0m0 24.6h0m.1-42.4h0m.1 28.8h0m.1-6.3h0m.1 2.8h0m0 3.9h0m.1 15.7h0m.2 15.8h0m.2-35.4h0m0 26.5h0m.1 1.4h0m.4 16.7h0m.2-24.4h0m0 1.9h0m.2-26.2h0m.1 1.2h0m.1 4.1h0m.1 19.6h0m0 2h0m0 14.1h0m0 9.2h0m.1-26h0m.1 12.8h0m.1-.7h0m.2-33.7h0m0 34.3h0m.1-1.9h0m.1-3.1h0m0 1.7h0m.1-28.3h0m.2 21.1h0m0 .4h0m.1 13.8h0m.1-18.8h0m.1-14.3h0m0 19.5h0m.1-10.8h0m.1-37.2h0m.1 26.1h0m0 6.4h0m0 42.6h0m.1-45.2h0m.1 24.4h0m.3 1h0m.1-30.7h0m.1-10h0m.2 22.2h0m.2-6.1h0m0 42h0m.1-45.1h0m0 19.6h0m.1-8.3h0m0 1.1h0m.1 33.4h0m.3-28.6h0m0 11h0m0 5.5h0m.1-46.8h0m0 67.5h0m.1-38.2h0m0 7.9h0m.1-30.7h0m0 38.5h0m.2-20.8h0m.1-36.9h0m0 2.8h0m.1 46.8h0m0 24.2h0m.1-65.1h0m0 33.2h0m.2-25.3h0m0 18.7h0m.1-20.7h0m0 62.7h0m0 5.1h0m.3-17.5h0m.1-25.7h0m0 6h0m.1 28.5h0m.1-29.2h0m.1-9.6h0m.1 1.2h0m.1 25.7h0m.1-11.7h0m.2-29h0m.1 25.8h0m0 9.8h0m.3 4.8h0m.1-30.7h0m.1-8.5h0m0 37h0m.1-33.8h0m.2 1.4h0m.3-18.2h0m0 43.2h0m.3-7.9h0m.1 7.6h0m.2-29.3h0m0 15.1h0m.5 14.5h0m.1-9.5h0m.4-9.2h0m.2 19.5h0m0 8.6h0m.7-41.8h0m.1 4.8h0m.3-15.3h0m0 8.3h0m.3 48h0m.6-37.7h0m.5 17.8h0m.3-29.1h0m.2 18.9h0m.3-40h0m0 31.5h0m.7 3.6h0m.1-4.3h0m0 52.5h0m.2-30.7h0m.1-9.8h0m.9 12.3h0m.3 1.5h0m0 6.6h0m.4-42.8h0m1.2 21.6h0m1 17.9h0m.3-13.9h0m2.5 17.4h0m1.5-28.1h0m.3 11.5h0m4.1-1.7h0" stroke="#999" stroke-width="1.00" opacity="0.50"/></g><polygon points="69.5,180.5 90.8,186.3 91.3,225.0 80.0,246.3 66.3,247.5 52.5,225.0" fill="none" stroke="#1c1c1c" stroke-width="1.25"/><polygon points="93.8,182.0 132.0,178.8 135.5,289.3 89.3,289.3" fill="none" stroke="#1c1c1c" stroke-width="1.25"/></g>
<path d="M17.40 168.10V289.30M17.80 288.80h-6.20M17.80 279.75h-3.20M17.80 274.46h-3.20M17.80 270.71h-3.20M17.80 267.80h-3.20M17.80 265.42h-3.20M17.80 263.40h-3.20M17.80 261.66h-3.20M17.80 260.13h-3.20M17.80 258.75h-6.20M17.80 249.70h-3.20M17.80 244.41h-3.20M17.80 240.66h-3.20M17.80 237.75h-3.20M17.80 235.37h-3.20M17.80 233.35h-3.20M17.80 231.61h-3.20M17.80 230.08h-3.20M17.80 228.70h-6.20M17.80 219.65h-3.20M17.80 214.36h-3.20M17.80 210.61h-3.20M17.80 207.70h-3.20M17.80 205.32h-3.20M17.80 203.30h-3.20M17.80 201.56h-3.20M17.80 200.03h-3.20M17.80 198.65h-6.20M17.80 189.60h-3.20M17.80 184.31h-3.20M17.80 180.56h-3.20M17.80 177.65h-3.20M17.80 175.27h-3.20M17.80 173.25h-3.20M17.80 171.51h-3.20M17.80 169.98h-3.20M17.80 168.60h-6.20M18.80 290.30H139.90M19.30 289.90v5.20M28.34 289.90v2.80M33.63 289.90v2.80M37.38 289.90v2.80M40.29 289.90v2.80M42.66 289.90v2.80M44.67 289.90v2.80M46.42 289.90v2.80M47.95 289.90v2.80M49.33 289.90v5.20M58.36 289.90v2.80M63.65 289.90v2.80M67.40 289.90v2.80M70.31 289.90v2.80M72.69 289.90v2.80M74.70 289.90v2.80M76.44 289.90v2.80M77.98 289.90v2.80M79.35 289.90v5.20M88.39 289.90v2.80M93.68 289.90v2.80M97.43 289.90v2.80M100.34 289.90v2.80M102.71 289.90v2.80M104.72 289.90v2.80M106.47 289.90v2.80M108.00 289.90v2.80M109.38 289.90v5.20M118.41 289.90v2.80M123.70 289.90v2.80M127.45 289.90v2.80M130.36 289.90v2.80M132.74 289.90v2.80M134.75 289.90v2.80M136.49 289.90v2.80M138.03 289.90v2.80M139.40 289.90v5.20" stroke="#111" stroke-width="0.95" fill="none"/>
<g clip-path="url(#c11)"><g filter="url(#soft)" class="d"><path d="M168.5 248h0m0 30h0m0 9.4h0m.1-38h0m.1 17.9h0m.1 11h0m.1 2.9h0m.2-11.5h0m0 14.2h0m.2-30.2h0m.2 33.8h0m.1-36.7h0m0 9.2h0m0 .1h0m0 5.2h0m0 11.4h0m0 3.3h0m.1-31h0m0 9.1h0m.1 26.4h0m0 .5h0m.1-8.4h0m0 .4h0m0 9.8h0m.1-23h0m0 7.3h0m.1-24.7h0m0 23.7h0m0 .3h0m0 1.5h0m0 1.6h0m.2-22.3h0m.1-1.4h0m.1 4.4h0m0 15h0m0 13.9h0m.1-31.8h0m.3 9.1h0m0 26.3h0m.1-18.2h0m.2-15h0m0 13.5h0m.1-19.7h0m0 38.6h0m.1-35.7h0m0 13.7h0m0 8.6h0m.1-20.6h0m.1 20.7h0m.1-15.6h0m0 26.4h0m.1-36.8h0m0 2.7h0m0 19.5h0m0 12.9h0m.1-13h0m0 10.3h0m.1-10.6h0m0 8.2h0m0 .9h0m.1-16h0m0 22.4h0m.1-26h0m0 18.8h0m0 .5h0m.1-3h0m.1-1.3h0m.2-3.6h0m.1 7.7h0m0 10.4h0m.1-41.6h0m0 11.5h0m.1-3.1h0m0 4h0m0 28.6h0m.2-14.7h0m0 3.2h0m.1-18h0m0 9.5h0m0 6.4h0m.2-26.7h0m0 2h0m0 3.7h0m0 9.8h0m0 9.1h0m.1-23.5h0m.1 3h0m0 20.6h0m0 6.3h0m.2-22.5h0m0 27.9h0m.1-9.9h0m.1-21.2h0m0 2h0m0 12.7h0m0 9.9h0m0 1.5h0m0 11.5h0m.1-32.3h0m.1 4h0m0 3.1h0m.2-17.8h0m0 12.9h0m.2-6.7h0m0 .8h0m0 5.6h0m0 11.4h0m0 17.2h0m.1-18.3h0m0 6.7h0m.1-23h0m.2-3.7h0m0 12.1h0m0 .9h0m0 3.9h0m0 14.7h0m0 6.9h0m.2-31h0m0 27.1h0m.2-11.3h0m0 12.5h0m0 2.3h0m.1-41.9h0m0 30h0m.1-18.5h0m0 11h0m0 5.5h0m.1-8.7h0m.1-9.7h0m0 22.1h0m.1-23.8h0m0 14.3h0m0 13.4h0m0 8.3h0m.2-36.4h0m0 6.3h0m0 1h0m0 .8h0m0 26.9h0m.1-31.6h0m0 9.3h0m0 21.8h0m.1-35.6h0m0 5h0m0 .9h0m0 13.7h0m.1-4.6h0m0 3.7h0m.2-22.8h0m0 8.7h0m0 21.9h0m0 6.1h0m0 1.7h0m.1-6.9h0m.1-1.5h0m.1-9.2h0m0 11.3h0m.1-33.2h0m0 1.3h0m0 .9h0m.1 21.4h0m0 12.3h0m.2-33.7h0m0 2.8h0m.1 9h0m0 22.4h0m.1-6.6h0m.1-22.8h0m0 4.5h0m0 19.7h0m.1-25.9h0m0 .3h0m0 16.6h0m0 4.2h0m.1 8.3h0m.1-34.6h0m0 20.4h0m0 .7h0m0 5.4h0m0 8.8h0m.1-28.4h0m0 30.8h0m.1-26.9h0m0 3.8h0m0 2h0m0 15.9h0m0 3.6h0m.2-16.8h0m0 22.3h0m.1-26.4h0m.2-1.5h0m.2 17.8h0m.2-16.5h0m0 .8h0m0 25.9h0m.1-36.2h0m0 20.1h0m.1-22.4h0m0 26.8h0m0 6.3h0m.1-37.1h0m0 18.3h0m0 18.5h0m.1-22.2h0m.2-15.2h0m.1 14.5h0m0 8.6h0m0 20.5h0m.1-42.5h0m0 2.3h0m0 13.3h0m0 10.6h0m0 5.5h0m0 3.3h0m0 6.3h0m.1-1.7h0m.1-31h0m0 4.2h0m.1 14.3h0m0 4.3h0m.1-8.7h0m.1 19.1h0m.1-22.3h0m.4 16h0m0 4.4h0m.1-29h0m0 4.8h0m0 12h0m0 7.8h0m0 2.4h0m.1-41.6h0m0 20.7h0m0 1.1h0m0 16.1h0m.1-24.3h0m0 30.8h0m.1-27.9h0m0 18.4h0m0 4.9h0m.1-38.7h0m0 20.5h0m.1-20.2h0m.1 25.8h0m.1-26.9h0m0 38.1h0m0 5.9h0m.1-24.7h0m0 1.5h0m0 1.5h0m.1-19.6h0m0 10.5h0m0 6.8h0m0 1h0m0 8.1h0m0 15.8h0m.1-14.6h0m.1-26.1h0m0 17.2h0m0 .9h0m.1-23h0m0 45.5h0m.2-21h0m.1-11.8h0m0 17.7h0m.1-9.3h0m0 11.8h0m0 3.9h0m.1-24.2h0m0 29.2h0m.1-38.7h0m0 12h0m0 4h0m0 13.5h0m.1-1.7h0m0 3.7h0m0 12h0m.1-40h0m0 1h0m0 4.8h0m0 12.4h0m0 6.5h0m.2-19h0m0 21.1h0m.1-27.3h0m0 20.6h0m0 3.9h0m.1-18.4h0m0 20.1h0m0 12.7h0m.1-38.9h0m.1 26.8h0m.1-27.8h0m0 41.8h0m.1-38.9h0m0 16h0m.1-8.2h0m0 10.7h0m.1-12.2h0m0 20.2h0m.1-32.3h0m0 8.6h0m0 25.8h0m.2-22.3h0m.1-4.8h0m0 31.4h0m0 5.1h0m.1-40.4h0m0 20h0m.1-19.9h0m0 3.3h0m0 8.7h0m0 7.8h0m0 17.9h0m.1-19.8h0m0 10.3h0m.1-32.7h0m0 .6h0m.1 29.8h0m.1-32.3h0m.1 8.1h0m.1 .7h0m0 23.3h0m0 6.2h0m.1-25.6h0m0 25.7h0m.1-.6h0m0 4.5h0m.1-39.7h0m0 8.3h0m.1-4.2h0m0 3.3h0m0 18.7h0m.1-10.1h0m.1-16.9h0m0 13h0m0 15.3h0m.1-19.3h0m0 10.6h0m0 21.1h0m0 5.6h0m.1-29.7h0m0 18h0m0 8.5h0m.1-30.7h0m.1-11.6h0m0 12.6h0m0 11.8h0m0 3.9h0m0 14h0m.2-16.4h0m0 4.3h0m0 8.9h0m.1-29.9h0m0 .8h0m0 7.5h0m0 14.2h0m0 2.6h0m0 3.1h0m.1-36.8h0m0 44.7h0m.1-30.4h0m0 2.8h0m0 2.7h0m.1-19.2h0m0 14h0m.2-10.1h0m0 8.6h0m0 1.3h0m0 3.1h0m0 11.6h0m0 .6h0m.1-30h0m0 13.5h0m0 5.9h0m0 4.6h0m0 3.7h0m0 2.8h0m0 4.8h0m0 .3h0m0 5.6h0m.1-29.4h0m0 6.7h0m0 12.7h0m.2-26.8h0m.2 17.3h0m0 16.6h0m.1-29.7h0m0 6.6h0m0 2.4h0m0 2.7h0m.1 1.5h0m.1-18.5h0m0 13.9h0m.1 5.8h0m0 4h0m.2-6.7h0m0 13.2h0m0 9.6h0m0 2.2h0m.1-23.1h0m.1-25h0m0 5.8h0m0 39.1h0m.1-15.3h0m.1-19.3h0m.1 9h0m.1 5.9h0m0 9.9h0m.1-6h0m0 6.7h0m.1-21.1h0m0 20.3h0m.1-27.7h0m0 7.7h0m0 20.9h0m.1 4.6h0m.2-15.9h0m0 2.2h0m0 5.1h0m0 16.1h0m.1-24.5h0m.1-1.8h0m0 12h0m.1-32h0m0 2.2h0m0 15.2h0m.2-16.1h0m0 2.5h0m0 4.1h0m0 15.4h0m0 16.2h0m0 .6h0m.1-18.2h0m0 14.9h0m0 .9h0m.1-36.7h0m0 3.6h0m0 26.8h0m0 10.8h0m.1-18.4h0m0 3.9h0m.1 15h0m.1-45.3h0m0 17.7h0m0 13h0m0 .5h0m0 15.7h0m.1-41.6h0m0 21.9h0m.1 4.2h0m.2-9.8h0m0 1.2h0m0 14.1h0m0 2.3h0m0 4.7h0m.1-11.1h0m.1-18.8h0m.1 17.6h0m.2-14h0m0 6.2h0m0 6.6h0m0 6h0m.1-9.8h0m.1-23.1h0m.1 8.3h0m0 16.1h0m0 3.7h0m0 8h0m.1-19h0m0 21.3h0m.1-42.6h0m0 10h0m0 16.9h0m0 2h0m0 1.2h0m.1-20.3h0m0 1.3h0m0 28.2h0m0 8h0m.1-41.3h0m0 11.2h0m0 14.5h0m.1 2.6h0m0 14.6h0m.1-48.6h0m0 18.6h0m.1-14h0m0 17.9h0m0 13.3h0m.1-31.7h0m0 32.1h0m.1 1.7h0m.1-36.8h0m0 33.6h0m0 1.2h0m0 4.6h0m0 3.7h0m.1-26.9h0m0 7.3h0m.1-11.2h0m0 15.6h0m.1-23.7h0m0 6.3h0m0 19.6h0m.1-15.5h0m.1-10.1h0m0 7.4h0m0 1.6h0m0 1.6h0m0 18.8h0m.1-7.3h0m0 4.2h0m0 3.2h0m.2-9h0m.1-2h0m0 8.3h0m0 10.6h0m0 5.2h0m.1-49.1h0m0 3.5h0m0 13.6h0m.1-10.2h0m0 26.3h0m0 15h0m.1-42.3h0m0 28.2h0m.1-33.9h0m0 14.3h0m0 4.5h0m.1-17.4h0m0 36.8h0m0 .1h0m0 9.3h0m.1-8.3h0m.1-.9h0m.1 2.3h0m.1-5.6h0m.1 14.2h0m.1-37.4h0m0 11.9h0m0 15.9h0m0 3.7h0m.1-32.7h0m0 31.4h0m0 1.9h0m0 2.6h0m.1-35.2h0m.2 2.5h0m0 18.6h0m0 3.1h0m.2-33.4h0m0 .7h0m0 24.2h0m0 3.2h0m0 3h0m.1-31.6h0m0 1.2h0m0 20.1h0m0 4.1h0m.1-26.4h0m0 33.5h0m0 11.9h0m.1-45.5h0m0 5.6h0m0 9.6h0m0 1.9h0m.1 3.3h0m0 11.2h0m.1 .5h0m.1-12.9h0m.1-1.3h0m0 9.3h0m0 3.7h0m0 2.2h0m.1-22.7h0m0 16.9h0m.1-14h0m0 3.9h0m.2-1.8h0m0 25.6h0m.1-41.5h0m0 40.1h0m0 3h0m.1-22.3h0m0 11.3h0m.1-3.5h0m.1-23.5h0m0 14h0m0 23.4h0m.2-15.1h0m0 10.8h0m.1-30h0m0 12.8h0m0 3.5h0m.3-7.5h0m0 7h0m.1-23.4h0m0 8.4h0m0 20.1h0m0 6.7h0m0 2.6h0m.1-16.4h0m.1-21.7h0m.1 5.6h0m0 19.4h0m0 3.9h0m0 18.5h0m.1-8.6h0m0 7.6h0m.1-40.4h0m0 .9h0m0 2.2h0m0 22.2h0m.1-9.6h0m0 1.4h0m0 12.5h0m.1-34.6h0m0 1.5h0m0 39.5h0m.1-40.9h0m0 .7h0m0 23.8h0m.1-9.6h0m.1-3.8h0m0 37.4h0m.1-2.1h0m.1-33.5h0m0 11h0m0 11.6h0m.1-30.1h0m0 11.6h0m0 3.2h0m0 4.4h0m.1-7.5h0m0 1.5h0m0 14.7h0m0 7.9h0m.1-31.2h0m0 38.2h0m.1-45h0m0 19.9h0m0 3.3h0m0 1.4h0m0 4.8h0m0 5.4h0m.1-23.2h0m0 1.4h0m0 8.7h0m.1-14.9h0m0 19.9h0m0 1.6h0m0 1h0m0 13.8h0m.1-23.3h0m0 2.9h0m0 13.5h0m.1-40.5h0m0 4.1h0m0 .1h0m0 11.8h0m0 18.1h0m.1-33.7h0m.1 17h0m0 5.2h0m.2-17.5h0m0 4.5h0m0 39.8h0m.1-14.6h0m0 2.2h0m.1-27.5h0m0 9.2h0m0 5.1h0m.1-14.2h0m0 4.8h0m0 14.9h0m0 18.4h0m.1-24.3h0m0 1.2h0m0 22h0m.1-17.2h0m.1-17.1h0m0 2h0m0 9h0m.1-9.9h0m0 10.4h0m.2-15h0m0 12h0m.2-4.8h0m0 16.7h0m0 7.8h0m.1-12.3h0m0 4.1h0m0 8.4h0m.1-36.9h0m.1 14.6h0m0 10.1h0m.1 7.2h0m0 2.7h0m0 2.5h0m0 5.8h0m.1-43.2h0m.1 29.8h0m0 13.3h0m.1-33.8h0m0 10.3h0m0 14.3h0m0 4.8h0m.1-28.2h0m0 13.1h0m0 6.2h0m.1 13.9h0m.1-32.1h0m0 7.5h0m.1-1.1h0m0 3.3h0m0 1.5h0m0 .7h0m.1 3.3h0m.1-23.9h0m0 23.4h0m.2-.2h0m.1-4.3h0m0 5.4h0m.1-32.4h0m0 20.6h0m0 23.5h0m.1-32h0m.1-13.7h0m0 30.9h0m.1 8.9h0m.1-2h0m.2 5.8h0m.1-21.7h0m0 5h0m0 17.2h0m0 7.7h0m.1-35h0m.1-12.7h0m0 6.2h0m0 4.1h0m0 10.8h0m0 10h0m.1 11.7h0m.2-37.2h0m.1 34.3h0m0 4.2h0m.1-23.5h0m.1 .9h0m.1-8.1h0m.1 28h0m.1-16.6h0m0 14.5h0m0 5.7h0m.1-31.4h0m0 4.5h0m0 18.4h0m0 3.8h0m0 7.3h0m.2-25.4h0m.1-22.4h0m0 13.4h0m.1 1.9h0m0 3.5h0m0 12.4h0m0 13.9h0m0 3.2h0m.1-25.4h0m0 8h0m0 1.6h0m.1-23.6h0m0 21.4h0m0 4.8h0m0 5.5h0m0 1.8h0m.1-19.1h0m.1 7.4h0m.1-14.2h0m0 7.8h0m0 10.8h0m0 7.9h0m.1-41.5h0m0 31.5h0m0 6.1h0m.1-17.9h0m.1-10.5h0m0 6.6h0m0 .2h0m0 13.2h0m.1-23.3h0m0 39.4h0m.1-45h0m0 16.6h0m0 7.2h0m.1-19.2h0m.1-6.6h0m0 24.3h0m0 11.6h0m0 12.7h0m.1-46.9h0m0 3.6h0m0 22.5h0m0 1.6h0m.2-22.5h0m0 14.2h0m0 0h0m.1 13.5h0m.1-33.1h0m0 29.5h0m0 2.7h0m.1-1.7h0m0 8h0m.2-13.3h0m0 2.2h0m.1-24.7h0m0 22.7h0m.2-1.6h0m.1-7.7h0m0 18.9h0m0 11.5h0m.1-8.8h0m.1 8.7h0m.1-35.6h0m.1-7h0m0 25.6h0m0 3.7h0m0 1h0m0 13.6h0m.1-47.6h0m0 26h0m0 16.5h0m0 3.8h0m.1-31h0m0 25.4h0m.1-41.6h0m0 10.2h0m0 20.2h0m0 7.7h0m.1-16h0m0 6.9h0m.1-.1h0m0 6.8h0m.1-39.7h0m0 18.3h0m0 24.3h0m.1-32.5h0m0 19h0m0 15.4h0m.1-13.8h0m.1-8.9h0m.1-8.3h0m.1-5.2h0m.1 42.4h0m.1-24.5h0m0 10.6h0m0 10.1h0m0 3.4h0m.1-18.8h0m0 11.3h0m0 4.5h0m.1-20h0m.1-23h0m0 31.2h0m.1 12.4h0m.1-38.1h0m0 35h0m.1-35.1h0m0 8.5h0m0 5.7h0m0 26.6h0m.1-1.8h0m.1-42.7h0m0 11.5h0m0 10.9h0m0 1.3h0m.1-10.2h0m0 8h0m0 8.1h0m0 1.2h0m0 8.7h0m0 .1h0m.1-34.9h0m0 12.8h0m0 17.5h0m.2-5.7h0m.1 9.4h0m.2-18.9h0m0 9.9h0m0 6.7h0m.1-41.8h0m.1 39.9h0m.2-32.3h0m0 29.4h0m.1-28.8h0m.1 33.5h0m0 8.3h0m.1-20.8h0m0 6.2h0m0 7.9h0m0 .3h0m.1-27.8h0m0 2.5h0m0 12.2h0m.1-2.7h0m0 10.5h0m.1-19.7h0m.1 5.9h0m.1-19.7h0m0 7h0m0 6.7h0m0 15.3h0m.1-17.6h0m.1 18.8h0m.1 8.3h0m.1-32.7h0m0 27.8h0m0 1.7h0m.1-12.7h0m0 4.7h0m0 6.6h0m.1-26.4h0m0 14.6h0m.1-23.7h0m0 1.3h0m0 .9h0m0 14h0m.1-13.8h0m0 15.9h0m0 28.1h0m.1-39.7h0m.1-.2h0m0 8.5h0m0 16.2h0m0 3.3h0m.1-7.3h0m.1-25.2h0m0 1.2h0m0 11.1h0m0 14.8h0m0 18.7h0m.1-40.7h0m0 22.3h0m.1-11.1h0m.2-4.5h0m0 27.8h0m.1-39.8h0m0 8.6h0m0 31.1h0m.1-42.1h0m0 22h0m0 6.7h0m0 16.1h0m0 1.8h0m0 .9h0m.1-23.2h0m0 14.9h0m.1-34.1h0m.2 35.4h0m.1-11.5h0m.1-22.1h0m0 22.6h0m.1-1.1h0m0 11.2h0m.1-6h0m0 5.8h0m0 6h0m.1-18.5h0m.1-26.5h0m0 27.4h0m0 8h0m.1-30.2h0m0 1.7h0m.1 13.1h0m0 1h0m0 1.3h0m0 14.9h0m0 4.4h0m.1-40h0m0 2.9h0m0 33.2h0m.2-13.5h0m.1-7.1h0m0 7.6h0m0 3.3h0m.1-11.7h0m0 18.3h0m0 5h0m.1-41.3h0m0 21.3h0m0 .2h0m0 8.8h0m.2-17.7h0m0 29.7h0m0 3.5h0m.1-33.6h0m0 22.1h0m.1-6.1h0m.1-20.2h0m0 9.3h0m.2 3h0m0 11.9h0m.2-3.2h0m0 9.2h0m.1-25.4h0m0 25.3h0m.1-14.4h0m0 19.7h0m.1-18.1h0m0 4h0m.1 20.2h0m.1-14.3h0m.3-24.3h0m0 38.8h0m.1-46.5h0m0 4.1h0m0 16.6h0m0 .6h0m0 7.1h0m0 4.6h0m0 4.6h0m.1-44.1h0m0 5.2h0m.1 15.9h0m0 21.4h0m.1 11.1h0m.2-8.9h0m.1 2.8h0m.2-37h0m0 14.3h0m0 22.7h0m.1-21.4h0m0 4.2h0m0 .1h0m.2-29.1h0m0 5.3h0m0 27.8h0m.2-25.6h0m0 18h0m.1-22.6h0m0 19.7h0m0 6.7h0m.1-25.9h0m0 13.8h0m.1-20.5h0m0 27.3h0m0 13.9h0m.1-24.3h0m0 39h0m.2-46.2h0m0 8.3h0m0 4.8h0m.1-6.1h0m.1-6.4h0m0 12.4h0m.1-11.9h0m.2 2.6h0m0 15.4h0m.1-.9h0m0 .7h0m.1-9.9h0m.1 9.1h0m.1-19h0m.1 10.3h0m0 4.9h0m0 5.4h0m.2-14.9h0m.1 1.8h0m0 13.9h0m.1-22.5h0m0 2.9h0m.1 13.1h0m.3-8.9h0m0 5.5h0m0 7.5h0m.1-13.5h0m.1-7.6h0m0 10.6h0m0 6.9h0m.2-22.3h0m0 14.5h0m0 8.5h0m.1-3.8h0m.1 2h0m.3-2.4h0m.1-8.4h0m0 12.9h0m.3-4h0m.1-1.7h0m.1 3.7h0m.3-3.7h0m.2-7.1h0m.1 3h0m.2-12.5h0m0 11.1h0m.2-1.5h0m.3-2.7h0m1.7-9.3h0" stroke="#707070" stroke-width="1.00" opacity="0.60"/><path d="M217.9 235.8h0m1.8-3.1h0m.7 12.6h0m1.8-1.9h0m1.4-11.3h0m.5-40.1h0m1.3 36.1h0m.3-38.2h0m.1 43.4h0m.2-1.2h0m.2-6.9h0m0 8.8h0m0 1.1h0m.5-3.5h0m.1-8.2h0m.4 .2h0m.3 5.6h0m.2 1.5h0m.1-32h0m.1 7.2h0m.1-1.5h0m.2 6.9h0m.1-6.7h0m0 .8h0m0 7.4h0m0 15h0m.1-29.4h0m0 15.5h0m.1 18.2h0m0 1.4h0m.3-40.2h0m.1 31.5h0m.1 .5h0m.3-16.5h0m.1-9.2h0m.1-6.5h0m0 2.6h0m0 15h0m0 11h0m.1-19.1h0m.1 3.6h0m0 2.3h0m0 1.5h0m.1-5h0m0 2.9h0m.1 4.5h0m.1-4h0m0 8.6h0m.1-13h0m.1 16.4h0m.1-24.5h0m0 11.1h0m.1-14.7h0m0 18.9h0m0 13.9h0m0 5.6h0m.1-19.3h0m0 2.4h0m0 2.9h0m0 3.3h0m0 1.6h0m.1-9.6h0m0 7.5h0m.2 3h0m.1-16.3h0m.1 8.6h0m.1-21h0m0 8.7h0m0 11h0m0 8.4h0m0 8.2h0m.1-37.3h0m0 15.7h0m0 6.1h0m.2-11.1h0m0 8.6h0m0 6.9h0m.1 2.2h0m.2-18.6h0m0 6.8h0m.1-15.7h0m0 10.5h0m0 11.5h0m.1-1.8h0m.1 2.1h0m.1 15.5h0m.1-25.5h0m0 7h0m0 .7h0m0 9.2h0m.1-17.7h0m0 14.3h0m0 5h0m.1-16.2h0m0 14.8h0m.1-20.6h0m0 2h0m.2-5.7h0m0 2.7h0m0 6.6h0m0 3.3h0m0 4.5h0m.1-7.3h0m0 7.6h0m0 6.7h0m.1-20h0m0 7h0m0 13.4h0m.1-13.2h0m0 5.4h0m.1-6.3h0m0 10.1h0m.1-18.1h0m.1 12.7h0m0 7.3h0m.1 3.5h0m.1-21h0m0 4.3h0m0 2.9h0m.2 3.7h0m0 1.8h0m.1-35.7h0m0 28.7h0m0 10.2h0m0 6.9h0m.1-27h0m0 2h0m0 6.8h0m0 8.3h0m0 15.1h0m.1-39.6h0m.2 16.6h0m0 2.6h0m0 1.8h0m0 2.4h0m0 5.4h0m0 1.3h0m.1-13.7h0m0 .7h0m0 2.3h0m0 5.9h0m0 2.2h0m0 2.3h0m0 2.9h0m.1-27.8h0m0 14.2h0m0 8.3h0m.1-11h0m.1-7.5h0m0 10.9h0m0 7h0m0 4.6h0m.1-25.2h0m.1 29.4h0m.1-26.7h0m0 4.4h0m0 1h0m0 3.5h0m.1-11.9h0m0 13.1h0m.1-10.4h0m0 10.5h0m0 2.6h0m0 4.7h0m.1-16.6h0m0 8.3h0m0 17.4h0m.1-11.3h0m0 2.3h0m.1-22.5h0m0 8.4h0m.1 .8h0m.1-11.5h0m0 12.7h0m0 13.4h0m0 3.5h0m.1-28.1h0m0 0h0m0 28.2h0m.1-17.7h0m.1-10.8h0m.2 10.9h0m0 9.3h0m0 10.8h0m.1-16.1h0m.1-5.8h0m0 8.7h0m0 6.7h0m.3-1.8h0m0 9h0m.1-47.7h0m.1 23.6h0m0 23.2h0m0 2.4h0m.1-24.2h0m0 17.3h0m.1-8h0m0 4.2h0m0 1.3h0m0 3.2h0m.1-15.6h0m0 .8h0m.1-4.4h0m0 4.5h0m0 14.7h0m.1-18.5h0m0 7h0m0 6.7h0m.1-14.5h0m0 8.7h0m0 16.1h0m.1-18.6h0m0 12.5h0m0 7.9h0m.1-36.5h0m0 23.5h0m.1-22.4h0m0 11.7h0m.1-2.2h0m0 2.1h0m.1 7.2h0m0 8.6h0m.1-21.7h0m0 11.9h0m0 .7h0m0 13.5h0m.1-28.5h0m0 8.6h0m0 19.6h0m.1-25.3h0m0 3.3h0m0 9.1h0m0 5.5h0m0 1.8h0m0 4.2h0m.1-11.7h0m0 1.2h0m0 .8h0m0 5.4h0m0 7.4h0m.1-17.4h0m0 2.7h0m0 6.1h0m0 7.1h0m0 .4h0m0 5.4h0m.1-29.9h0m0 13.4h0m0 8.7h0m.1-24.4h0m0 27.9h0m0 .1h0m.1-20.4h0m0 5.7h0m0 .2h0m0 1.5h0m0 12.1h0m.1 .7h0m.1-19.8h0m0 1.8h0m0 2.1h0m0 4.6h0m.1-11.4h0m0 12.1h0m0 7.3h0m.1-10.1h0m0 3.9h0m0 10.4h0m.1-32.6h0m0 5.2h0m0 16.7h0m0 6.3h0m.1-9.4h0m0 6.4h0m.1-24.7h0m0 11.1h0m0 18.6h0m.1-47.3h0m0 21.8h0m0 13.6h0m.1-26.3h0m0 8.9h0m0 22.9h0m.1-14.8h0m0 3.7h0m.1-6.1h0m0 2.6h0m0 1.4h0m0 11.4h0m.1-23.7h0m0 7h0m0 16.8h0m0 .5h0m0 .7h0m.1-18.4h0m.1 0h0m0 8.8h0m0 6.9h0m0 .9h0m0 3.5h0m0 .1h0m.1-9.9h0m0 4.6h0m0 5.2h0m.1-27.5h0m0 20.7h0m0 1.7h0m0 .5h0m.1-22.5h0m0 18.8h0m0 6.2h0m.1-11h0m0 6.8h0m0 .6h0m.2 9.9h0m0 6h0m.1-15.3h0m.1-21.9h0m0 4.3h0m0 7.9h0m0 4.7h0m.1 14.6h0m0 5.1h0m.1-7.9h0m.1-20.7h0m0 10.9h0m0 4.5h0m0 9.8h0m.1-9.2h0m0 10.5h0m.1-28.3h0m0 15.5h0m.1-5.5h0m0 1.5h0m0 11.1h0m.1-5.9h0m0 9h0m0 5.8h0m.1-19.3h0m0 .2h0m0 1.6h0m0 2.5h0m0 1.1h0m.1-1.7h0m0 2.6h0m.1-27h0m.1 10.8h0m0 2.7h0m0 16h0m0 5.8h0m.1-18.8h0m0 8.6h0m0 1.9h0m0 6.3h0m.1-24.9h0m0 12.9h0m0 1.5h0m0 5.9h0m.1-23h0m0 9.4h0m0 9.8h0m.1-8.5h0m0 2.8h0m0 2.5h0m0 2h0m0 2.5h0m.1-9.3h0m0 6.8h0m0 4.9h0m0 3.9h0m.1-15.3h0m0 3.4h0m0 2.7h0m0 .4h0m0 7.4h0m0 3.3h0m.1-36.2h0m0 26.3h0m0 3.8h0m.1-14.6h0m0 4.4h0m0 .8h0m0 4.4h0m0 3.2h0m0 6.9h0m.1-30h0m0 8.5h0m0 2.4h0m0 7.9h0m0 4.5h0m0 9.5h0m.1-23.5h0m0 4h0m0 4.4h0m0 8.2h0m0 6.5h0m.1-26.5h0m0 6.1h0m0 4.9h0m0 .3h0m0 .4h0m.1-41h0m0 48.6h0m0 .6h0m0 4.7h0m.1-30.3h0m0 6.7h0m0 7.5h0m.1-15.6h0m0 14.3h0m0 6.9h0m0 .8h0m.1-5.6h0m0 15.1h0m.1-18.7h0m0 10h0m0 .1h0m0 1.7h0m.1-12.7h0m0 4.8h0m0 19.6h0m.1-30.6h0m0 17.5h0m0 7.5h0m.1-30.6h0m0 8.8h0m0 7.1h0m0 3.5h0m0 2.3h0m0 5.5h0m0 4.5h0m.1-8.4h0m0 1.7h0m0 3.9h0m.1-22.6h0m0 26h0m0 5.1h0m0 .4h0m.1-26.7h0m.1 3.7h0m0 .7h0m0 6.8h0m0 12.5h0m.1-28.5h0m0 9.6h0m0 .5h0m.1-12.4h0m0 5.4h0m0 8.5h0m0 .8h0m0 3.1h0m.1-23.6h0m0 9.4h0m0 6.5h0m0 0h0m0 .7h0m0 6.9h0m0 6.1h0m.2-23.2h0m0 18.9h0m0 3.9h0m.2-17.4h0m0 7.9h0m0 1.4h0m0 .2h0m0 2.2h0m0 3.4h0m0 .5h0m0 .2h0m.1-17.9h0m0 3.9h0m0 2.2h0m.1-10.8h0m0 2.9h0m0 19.7h0m.1-17.8h0m0 13.3h0m0 15h0m0 .2h0m0 .2h0m.1-21.2h0m0 .2h0m0 1.1h0m0 15.2h0m0 1.2h0m0 3.9h0m.1-25h0m0 13.7h0m.1-3.9h0m0 6.2h0m0 4.6h0m.1-20.4h0m0 2.7h0m0 1.2h0m0 4.2h0m.1-.9h0m.1-11.9h0m0 6.3h0m0 16.2h0m.1-19.1h0m0 4.6h0m0 20.2h0m.1-35.1h0m0 10.6h0m0 16.3h0m.1-9.8h0m0 1.7h0m.1-18.3h0m0 9.4h0m0 5.6h0m0 13.9h0m.1-21.2h0m0 9.5h0m0 3.5h0m.1-7.2h0m0 13.2h0m0 2.3h0m0 3.4h0m.1-29.9h0m0 5.6h0m0 9.2h0m.1-7.4h0m0 16.8h0m0 5.9h0m.1-29.4h0m0 20h0m0 6.4h0m.1-26.4h0m0 3h0m0 6.3h0m0 2.6h0m0 9.2h0m.1-25.4h0m0 .8h0m0 13.2h0m.1-3.3h0m0 19.7h0m.1-34h0m0 14.1h0m.1-1.3h0m0 13.5h0m0 4h0m0 10.3h0m.1-46.1h0m0 31.9h0m0 6.4h0m0 .9h0m0 3.8h0m.1-12.9h0m0 16.2h0m.1-29.6h0m0 16.2h0m.1 2.4h0m.1 4.1h0m0 1.5h0m.1-12.8h0m0 2.8h0m.1-5.8h0m0 15.8h0m.1-30.7h0m0 15.7h0m0 6h0m.1-24.4h0m0 14.6h0m0 19.5h0m0 1.6h0m.1-20h0m0 6.6h0m0 6.6h0m.1-10.7h0m0 11.4h0m.1-35.6h0m0 11.1h0m0 10h0m0 2.8h0m0 5.2h0m0 1.9h0m.1-6.2h0m0 1.8h0m.1-8.7h0m0 10.3h0m.1-3.6h0m0 9.5h0m.1-23.5h0m0 2.2h0m0 28.2h0m0 2.6h0m.1-30.1h0m0 12.9h0m0 6.4h0m.1-25.5h0m0 25.5h0m.1-30h0m0 18.3h0m0 1.2h0m0 10.1h0m0 8.1h0m.1-16.1h0m0 6.2h0m0 11.4h0m.1-22.5h0m0 10h0m.1-23.8h0m0 7.1h0m0 11.3h0m0 4.7h0m.1-12.8h0m0 22.6h0m0 1.8h0m.1-33.1h0m0 1.6h0m0 22.7h0m0 11.6h0m.1-45h0m0 19.1h0m0 17.6h0m0 4.9h0m.1-26.1h0m0 21.8h0m.1-2.8h0m.2-4.7h0m0 1.6h0m0 9.2h0m.1-27h0m0 1.7h0m0 14.7h0m0 11.9h0m.1-10.8h0m.1-1.3h0m0 5.4h0m0 .4h0m0 6.7h0m.4-16.6h0m0 7.4h0m0 2.8h0m.1-9.5h0m0 4.1h0m0 8h0m0 1.1h0m.2-13.3h0m.1-8.4h0m0 5.1h0m.1 2.9h0m.1-17.7h0m0 20.8h0m.1-22.1h0m0 11h0m0 22.8h0m.1-11.5h0m0 12.2h0m.1-29.6h0m.1-2.5h0m0 26h0m0 8.1h0m0 2h0m.1-34.5h0m0 21.3h0m0 .2h0m0 3.2h0m0 7.1h0m0 3.5h0m.1-23.6h0m0 4.9h0m.1 7.1h0m.1 1.2h0m0 1.7h0m.1-7.3h0m.1 10.1h0m.1-9.1h0m0 4h0m.1-7.3h0m0 11.9h0m.1-20.8h0m0 5.9h0m0 4.5h0m0 1.4h0m.1-13.6h0m0 15h0m.1-16.5h0m0 17.7h0m0 1.9h0m.1-1.7h0m.2-18.3h0m0 3.4h0m0 17.4h0m.1 1.9h0m.2-21.8h0m.1 19.6h0m0 1.2h0m.1-27.1h0m0 31.1h0m.2-11.6h0m.1 15.1h0m.2-32.3h0m0 4.1h0m.1 2.8h0m.2-1.3h0m.1 11.1h0m0 4.1h0m.2-12.2h0m0 17.2h0m.1-9.9h0m0 17.4h0m.2-16.2h0m0 17.2h0m.1-26.6h0m.2-1.6h0m0 8.6h0m0 1.8h0m.1 9.3h0m.1-24.4h0m.1 19.8h0m.2 9.9h0m.2-11.2h0m.1 .6h0m.1-32.4h0m0 33.8h0m.1-19.4h0m0 13h0m0 9.8h0m.2-12.1h0m.1-7.1h0m.3 5.2h0m.2 3.4h0m.1-26.6h0m0 38.2h0m0 5.5h0m.3-30.2h0m0 14h0m0 4.1h0m.2-2.5h0m.1-15.7h0m0 15.3h0m.3 9.1h0m.2-12.4h0m.1-.6h0m.1 18h0m.1-27.2h0m0 3.1h0m.1 4.1h0m0 20.7h0m.4-16.4h0m.5-4.5h0m.4-25.9h0m.2 43.1h0m.1-21.2h0m.1-10.6h0m.3 19.5h0m.1-12.3h0m0 18.9h0m.2 9.5h0m.6-18.2h0m.1 16.4h0m.5-8.5h0m.3-1.5h0m.5-7.4h0m3.1 6.7h0m2 4h0m1.7-10.8h0" stroke="#5c5c5c" stroke-width="1.00" opacity="0.70"/><path d="M168.8 174.2h0m.3 .1h0m.1-1.6h0m2.7 3.3h0m.5 .9h0m.9 10.9h0m.4-5.3h0m.9-6h0m1 7.6h0m2.7 5h0m.6-.4h0m.1-8.3h0m0 2.1h0m.2 5.5h0m.2-.3h0m0 3.3h0m.4-9.1h0m.2 .9h0m1.5-8.2h0m.4 16.1h0m.1-12.5h0m.2 8.8h0m.7 .8h0m.2-8.1h0m.1 10.2h0m.3-14h0m.8 2h0m.6 9h0m0 3.4h0m.1-15.5h0m.6 15.9h0m.3-9.7h0m.2-5.5h0m.3 8.9h0m.3 3h0m.2 2.1h0m.3-1.8h0m.1-4.5h0m0 6h0m.5-2.1h0m1.7-1.7h0m.2-8.8h0m.4 10.7h0m.2-5h0m.3-2h0m1-4.4h0m.2 12.3h0m.3-.9h0m.4 4.1h0m0 .2h0m.7-11.8h0m.4 9h0m.2-8.1h0m0 8.4h0m.1-16.2h0m.5 8.6h0m.6-2.8h0m.4 5.5h0m.2 .8h0m1.8-12.7h0m.8 8.1h0m.2 4.5h0m1.2-10.1h0m.3 14.8h0m.6-17h0m1.7 2.5h0m0 13.7h0m1.1-6.7h0m0 9.2h0m.1-13.2h0m.4-3.9h0m.5 9.6h0m.9 2.3h0m.2 2.8h0m.4-14.3h0m.1 10.1h0m.2-11.9h0m0 1.6h0m.2 6.9h0m.7 4.1h0m.1 3.4h0m1.2-1.8h0m1-10.8h0m.2-3.4h0m0 11.7h0m.2 2h0m1.1-5.6h0m0 7.2h0m2.8-19.1h0m0 18.6h0m.4-4.1h0m.2-6.6h0m.8 1.7h0m.2 11.6h0m.1-7.2h0m.2-8.6h0m.3 14.6h0m.7-3h0m1.2-2.4h0m2.7 6.1h0m2-13.1h0m.4 10.1h0m.2 .4h0m.6-11.5h0m.1 .9h0m.3 14.2h0m.4-7.2h0m.2 3.1h0m1.3-6h0m.6-6.7h0m.7 .6h0m.6 18.1h0m1.2-16.5h0m.5 15.8h0m.1-14.9h0m.2 20.5h0m.2-14h0m.3 9.9h0m.4 .3h0m.8-15.8h0m1.2 11.1h0m0 4.8h0m.2 5h0m.2-21.2h0m0 21.3h0m.7-12.8h0m1.3 13h0m1.5-9.1h0m.9 3.8h0m1.6 .6h0m1.3-14.7h0m.1 13.4h0m2.5-14h0m.4 2.5h0m.2 19.3h0m2-9.8h0m.1-5.1h0m.4 9h0m1.5-4.9h0m.7 1.4h0m.4-7.2h0m1.6-1.2h0m2.1 19.1h0m2.1-10.8h0m.5 3.8h0m.9-14.4h0" stroke="#999" stroke-width="1.00" opacity="0.50"/><path d="M168.4 228.9h0m.3-15.6h0m0 1.4h0m0 15.3h0m.1-17.7h0m0 12.6h0m0 7.7h0m.1-21.6h0m.2 3.6h0m0 4.1h0m.1-5.8h0m.2 14.1h0m0 2.8h0m0 5.9h0m.1-33.6h0m0 33.3h0m.2-21h0m0 11.1h0m.1-.6h0m.2-29.9h0m0 22.5h0m0 11.3h0m.2-27.9h0m0 10.8h0m0 2.9h0m0 14.8h0m.2-34.3h0m0 37.4h0m.1-15.2h0m.1-3.1h0m.1 16.6h0m.2-26h0m0 7.3h0m0 18.6h0m.1-23.8h0m0 3.9h0m.1 2h0m0 7.4h0m0 9.1h0m.1-6.8h0m0 6.7h0m.1 2.2h0m.1-19.3h0m0 3.8h0m.1-12.5h0m0 2.5h0m0 29.3h0m.1-4.6h0m.1-22.6h0m.2 .2h0m0 19.6h0m.1-24h0m0 5.4h0m0 29.1h0m.1-13.3h0m0 9.7h0m.1-28.5h0m0 32.2h0m.2-28.4h0m0 13.1h0m.1-7.4h0m.1-9.8h0m0 10.8h0m0 13.5h0m.1-28.5h0m0 1h0m0 41.6h0m.2-43.3h0m.1 3.9h0m0 3.6h0m0 18.9h0m.1-22.9h0m0 1.8h0m0 22.2h0m.1-12.8h0m.2 9.6h0m.1-29.5h0m0 12.9h0m0 12.9h0m.1-24.3h0m0 28.4h0m.1-30.4h0m0 8.1h0m.1-6.3h0m0 18.6h0m0 4.6h0m0 1.5h0m0 3.2h0m0 .5h0m.2-22h0m0 3.4h0m0 3.9h0m0 15.6h0m.1-22.9h0m0 3.5h0m0 19.3h0m.1-20.6h0m0 16.3h0m.1-20.6h0m0 20.4h0m.1-9.5h0m0 17.5h0m.1-38h0m.1 26.6h0m0 .1h0m0 2.2h0m0 8.7h0m.1-5.5h0m.1-26.1h0m0 6.6h0m0 8.5h0m0 7.2h0m.1-15h0m0 16.6h0m0 1.3h0m.1 14.3h0m.1-30.9h0m0 5.8h0m0 13.2h0m.1-15.1h0m.1-9.6h0m0 20.2h0m0 6.8h0m.1-29.2h0m0 7.5h0m0 3.1h0m0 1.7h0m0 29.7h0m.1-27.4h0m.1 8.1h0m.1-13.6h0m0 17.5h0m.1-13.7h0m.1-12.3h0m.1 5.7h0m0 15h0m0 .2h0m0 4.6h0m0 12.7h0m.1-31.6h0m0 31.6h0m.1-34.4h0m.1-.1h0m.1 23.6h0m0 10.5h0m.1-35.3h0m0 9.8h0m.1-4.2h0m0 17.4h0m.1-4.4h0m.1-14.6h0m0 12.3h0m0 13.5h0m0 5.4h0m.1-29.6h0m0 6.8h0m.3 1.7h0m0 5.5h0m.1-12.3h0m0 1.1h0m.2-6.6h0m0 23.7h0m0 3.7h0m.1-30.1h0m0 7.3h0m0 32.6h0m.1-18.1h0m0 10h0m0 4.1h0m.1-32.5h0m.1 10.6h0m0 2.6h0m0 .5h0m0 .5h0m0 21.3h0m.1-46.3h0m0 12.7h0m0 3.2h0m.1 .6h0m0 11.1h0m.1-9.4h0m0 3.1h0m0 .2h0m0 11.3h0m.1-16.2h0m0 22.5h0m.1-22.4h0m0 .7h0m0 7.9h0m.1 9.7h0m.1-32.7h0m0 22.1h0m.1-9h0m0 20.9h0m.1-23.5h0m0 7.1h0m0 13.3h0m0 1.8h0m.1-2.5h0m0 6.7h0m.1-26.4h0m0 .5h0m.1 8.5h0m0 4h0m.1-.6h0m0 4.8h0m0 18.2h0m.1-29.4h0m.1-16.9h0m0 5.3h0m0 10.3h0m0 12.8h0m0 11.1h0m0 2.4h0m.1-38.6h0m0 9.1h0m.1 14.7h0m0 .5h0m.3-15.5h0m0 1.6h0m0 19.6h0m.1-26.8h0m0 8.7h0m0 2.5h0m0 18.9h0m.1-31.5h0m0 5.7h0m0 7.8h0m.1-13.1h0m0 10.8h0m0 8.7h0m0 5.1h0m0 7.1h0m0 3.9h0m.1-18h0m0 4.4h0m.1-3h0m.1-20.7h0m0 3.3h0m0 26h0m.1-25h0m0 6.8h0m.1-1.3h0m0 1.3h0m.1-12.9h0m0 22.8h0m.1-7.9h0m0 9.7h0m0 2h0m0 3.2h0m.1-20.5h0m0 18.5h0m0 1.5h0m.1-19.6h0m0 6.3h0m0 7.5h0m.1 3.7h0m.1-27.9h0m0 17.7h0m.1-14.2h0m.1 6.2h0m0 9.5h0m.2-6.1h0m0 16.6h0m0 4.2h0m0 10.9h0m.1-44h0m0 9.8h0m.1-6.5h0m.1-.3h0m0 40.9h0m.2-33.1h0m.1-2.2h0m0 4.9h0m0 9.9h0m0 2.5h0m0 3.2h0m0 5.2h0m.1-17.4h0m0 4.7h0m0 .7h0m0 5h0m.1-13.3h0m.1 3.9h0m0 1.7h0m0 2.1h0m0 4.2h0m0 1.3h0m.1-10.7h0m.2-9.3h0m0 7.2h0m0 8h0m0 13.8h0m.1-35.5h0m0 28.9h0m.1-22.3h0m0 9.9h0m0 5.9h0m0 15.1h0m.1-28.1h0m0 7.4h0m0 2h0m.1 3.2h0m.1-18.4h0m0 1.2h0m.1-3.9h0m0 18.7h0m.1-21.2h0m0 3h0m0 15.1h0m0 4.2h0m.1-23.9h0m0 13h0m0 20.4h0m0 2.6h0m.2-10h0m0 12.6h0m.1-18.5h0m0 6.6h0m0 8.6h0m.2 .9h0m0 .9h0m.2-30.5h0m0 15.7h0m0 .7h0m.2 11.3h0m0 3.6h0m.1-34.3h0m0 8.3h0m0 5.4h0m.1-17.4h0m0 17h0m0 14.3h0m0 3.4h0m0 3.1h0m.1-14.4h0m0 3.4h0m0 2h0m0 13.4h0m.1-34.3h0m.1 10.9h0m.1-10.9h0m0 5.6h0m0 6.2h0m0 4h0m.3-21.8h0m0 23.7h0m0 .6h0m0 9.9h0m0 1.9h0m.1-25.7h0m0 4.5h0m.1 9.4h0m.1-12.6h0m0 0h0m0 6.4h0m.1-5.5h0m0 3.1h0m0 7.7h0m0 1.5h0m.1 15.7h0m.1-14.9h0m0 15.4h0m.1-30.1h0m.1 15.3h0m0 11.9h0m.1-18.1h0m.1 9.4h0m0 7.6h0m.1-2.1h0m0 2.4h0m.1-38.2h0m0 20.7h0m0 10.5h0m.1-13.5h0m0 3.5h0m0 2.1h0m.1-.5h0m0 .3h0m0 .3h0m0 3h0m0 1.2h0m.1-17.7h0m0 17.3h0m0 .5h0m0 5.3h0m0 3.2h0m.1-26.3h0m0 8.4h0m0 8.3h0m0 5.5h0m0 2h0m0 9.9h0m.1-23.5h0m.2-16.9h0m0 25.7h0m.1 13.5h0m.1-37h0m0 1.1h0m.1-8.3h0m0 4.7h0m0 31.3h0m.1-22.8h0m.1 6.9h0m0 5.8h0m0 2.4h0m0 6.6h0m.1-2.5h0m.1-14.2h0m0 3.6h0m.1-8.5h0m0 5.5h0m0 8h0m.1-28.3h0m0 22h0m0 3.6h0m0 14.4h0m0 3.8h0m.1-42.4h0m0 26.2h0m0 5.6h0m0 8.2h0m.1-22.2h0m.1-6.6h0m0 7.7h0m0 7.1h0m0 3.5h0m.1-32h0m0 30.9h0m.1-9.1h0m.1 10.5h0m0 4.4h0m0 .1h0m0 4.9h0m.1-38.6h0m0 9.4h0m0 19.9h0m.2-.2h0m0 8.8h0m.1-23.8h0m0 6.5h0m0 2h0m0 19.6h0m.1-22.9h0m0 18.9h0m0 .5h0m.1-28.3h0m0 .7h0m0 1.7h0m0 24.9h0m.1-31.6h0m.1 10.3h0m0 2.3h0m0 3.9h0m0 16.5h0m.1-40h0m0 7.7h0m0 16h0m0 3.5h0m0 8.5h0m.1-11.1h0m0 12.2h0m.1-9.4h0m0 12.3h0m.1-19.9h0m0 3.8h0m.1-17.8h0m0 7.1h0m0 24.2h0m.1-10.2h0m.1-4.7h0m0 19.1h0m.1-32.4h0m0 15.1h0m.1-10.2h0m0 15.9h0m.1-16.5h0m0 32.5h0m.1-20.1h0m.1-15.3h0m0 14.5h0m0 .5h0m0 6.9h0m.1-23.1h0m0 10.1h0m.1-7.6h0m0 3.8h0m0 20.3h0m0 7.9h0m.1-19.3h0m0 14.4h0m.1-23.3h0m.1 6h0m0 1.5h0m.1-9.2h0m0 .4h0m0 .9h0m0 21.1h0m.1-30.8h0m0 33.9h0m.1-23.9h0m0 7h0m.1-21.2h0m0 14.1h0m0 4.9h0m0 2h0m0 6.7h0m.1 .6h0m.2-23.3h0m.1 22.7h0m.1-29.2h0m0 4.9h0m0 3.2h0m0 30.3h0m.1-27.4h0m0 11.1h0m0 10.8h0m0 6h0m.1-35.1h0m0 22.2h0m0 1.4h0m0 14.3h0m.2-14.3h0m0 8.6h0m.1-31.4h0m0 1.1h0m0 9.1h0m0 28.8h0m.1-34.2h0m0 12.5h0m0 5.1h0m.1-20.9h0m0 4.8h0m0 11.5h0m.1-7.3h0m0 4.1h0m0 12h0m.1-20.8h0m0 15.7h0m.1-21.2h0m0 7h0m0 5.6h0m.1-8.1h0m0 3.2h0m0 14.6h0m.1-7.7h0m0 20.7h0m.1-29.2h0m0 24.3h0m0 2.1h0m.2-38h0m0 23h0m0 4.6h0m0 3h0m.1-7.8h0m0 12.4h0m0 5.1h0m0 .8h0m.1-12.6h0m0 1.7h0m0 2.3h0m.1-27.9h0m0 30.3h0m0 3.7h0m.1-26h0m0 2.9h0m0 8.7h0m0 4.6h0m0 11.7h0m0 1.4h0m.1-24.9h0m0 6.1h0m0 9.2h0m.1-18.5h0m0 12.5h0m.2-8.4h0m0 .3h0m0 8.3h0m0 .2h0m.1-18.7h0m0 13h0m0 7.2h0m0 5.7h0m.1-23.5h0m0 6.9h0m0 4.6h0m.1-7.4h0m0 13.5h0m0 6.2h0m0 3.7h0m0 5.6h0m.1-26.1h0m.1-9.6h0m.1 24.9h0m0 1.5h0m0 4.1h0m0 1.2h0m.1-40.2h0m0 10.2h0m0 26.3h0m.1-12.7h0m0 9.1h0m0 1.6h0m0 5.2h0m0 2.7h0m.1-14.2h0m.1-14h0m0 3.4h0m0 12.2h0m0 12.2h0m.1-37h0m0 1.7h0m0 1.3h0m.1 17.3h0m0 1.3h0m0 8.6h0m0 .2h0m0 10.3h0m.2-24.7h0m0 14h0m.1-5.7h0m.1-17.9h0m0 11.8h0m0 21.4h0m.1-12.5h0m0 4.4h0m.1-33.4h0m0 18.5h0m0 2.4h0m0 5.6h0m0 9.8h0m.1-21h0m0 2.5h0m.1 5.7h0m0 5.6h0m0 10.1h0m.1-33.4h0m0 .2h0m0 1.4h0m0 26.5h0m.1-27.6h0m0 5.7h0m0 17.9h0m.1-10.6h0m0 7.1h0m.1-14h0m0 4.7h0m0 5.3h0m.1-12.8h0m0 4h0m0 27.4h0m.2-39.7h0m.1 15.4h0m0 3.5h0m0 6h0m.1-15.1h0m0 2.1h0m.1 1.8h0m0 6h0m0 13.8h0m.1-8.2h0m0 4.7h0m.1-20.9h0m.1-9.7h0m0 6.1h0m0 24.3h0m0 6.2h0m0 1.7h0m0 2.2h0m.1-34.4h0m0 13.9h0m.1-14.7h0m0 3.7h0m0 25.5h0m.1-21.4h0m0 9.7h0m.1-4.2h0m0 14.3h0m.1-13.4h0m0 5.5h0m0 3.4h0m.1-20.7h0m0 19.8h0m0 5.3h0m0 0h0m0 1.8h0m.2-27.4h0m0 12.7h0m0 .5h0m.1-11.6h0m0 25.1h0m.2-18.5h0m0 4.6h0m0 2.4h0m.1-13.6h0m.3 15.6h0m0 7.2h0m.1-6.3h0m.1-21.6h0m0 4.7h0m0 .3h0m0 4.1h0m0 .4h0m0 6.5h0m.1-10.2h0m0 4.9h0m.1-3h0m.1-9.5h0m0 18.6h0m0 15.3h0m.1-8.9h0m0 13.1h0m.1-41.5h0m0 36.9h0m.1-14.8h0m0 16.5h0m.1-2.1h0m.1-26.9h0m0 12.8h0m.1-18.8h0m.1 8.4h0m0 1.1h0m0 8.4h0m0 3.9h0m.3 5.8h0m.1-13.9h0m0 8.1h0m.1-26.8h0m0 31h0m0 1.9h0m.1-21.4h0m0 7.6h0m.1-10.2h0m0 4.4h0m0 3h0m0 16.2h0m.1-31.2h0m0 10.6h0m0 10.2h0m0 5.3h0m0 2.1h0m0 .9h0m.1-10.8h0m0 2.3h0m.1-20.7h0m0 5.8h0m0 10.5h0m.2-13.8h0m0 1.6h0m0 7.1h0m0 1.6h0m0 .9h0m0 13.7h0m0 .1h0m0 .4h0m.1 6h0m.1-7.8h0m0 9.4h0m.3-21.5h0m0 11.6h0m.1-16h0m.1-1h0m.1-3.6h0m0 16.6h0m0 .4h0m0 2.1h0m0 1.7h0m.1-15.1h0m0 17.1h0m0 4.5h0m0 2h0m.1-34.8h0m.1 7.1h0m0 1.4h0m0 4.7h0m.1 11.5h0m0 1.1h0m0 3.5h0m0 8.3h0m.1-21.6h0m0 1.2h0m0 1.1h0m.1-11.6h0m0 10.3h0m0 6h0m0 1.6h0m0 10.2h0m0 2.4h0m.1-19.2h0m0 5.4h0m.1-19.5h0m.1-3.2h0m0 19.6h0m.2-3.8h0m0 2.9h0m0 10.2h0m0 .4h0m0 2.8h0m0 7.2h0m.1-26.5h0m0 6.2h0m0 7.6h0m0 1.8h0m.1-22h0m0 32.9h0m.1-12.5h0m.1-3.1h0m.1-.5h0m.1-5.5h0m0 2.2h0m0 1.1h0m.1-1.6h0m.1-.2h0m.1-17.7h0m0 15.9h0m0 6.1h0m.3-9.3h0m0 2.7h0m0 6.9h0m0 8.5h0m.1-28h0m0 13h0m.1-6.5h0m0 21.8h0m0 5.7h0m.1-12.1h0m0 .5h0m.1-24.1h0m0 10.6h0m0 14.4h0m.1-20.5h0m0 12.2h0m0 12.3h0m.1-20.5h0m0 15.1h0m.1 2.5h0m.1-13.5h0m0 6.6h0m0 17.2h0m.2-33.4h0m0 28.1h0m.1-20.4h0m.1-1.9h0m0 4.9h0m0 15.3h0m.1-25.3h0m.1 4.5h0m.1-2.7h0m.1 .1h0m0 10.1h0m0 4.9h0m.1 5.2h0m.1-9h0m.1 10.4h0m.1-28.5h0m.2 18.6h0m0 2.6h0m0 4.6h0m0 .8h0m0 9.9h0m.1-24.6h0m0 4.3h0m.1 7.3h0m0 8.4h0m.1-5.6h0m0 4.5h0m.1-10.6h0m.1-20.6h0m0 .1h0m0 .2h0m0 11.7h0m0 2.7h0m0 5.9h0m.1-6.4h0m.1 8.3h0m.1-9.3h0m0 16.1h0m.1-23.8h0m0 22.7h0m0 .6h0m.1-3.9h0m.1-15.6h0m.2-.8h0m.1-3.2h0m0 17.4h0m0 7.7h0m.1 7.9h0m.1-27.6h0m0 6.4h0m0 2.5h0m.1-12.6h0m.1 11.1h0m0 3.9h0m.1-20.4h0m0 6.6h0m.1 6.1h0m.1-1.4h0m0 3.9h0m0 14.9h0m.2-33.7h0m0 24.1h0m.2-12.7h0m0 14.1h0m.1-21h0m0 29.2h0m.1-34.9h0m.1 23.3h0m.1 13h0m.2-6.5h0m0 11h0m.1-20.9h0m0 3.2h0m0 13h0m.4-20.4h0m.1-13.9h0m0 21h0m.1-18.3h0m0 27.4h0m0 5.6h0m.1-23.9h0m0 5.8h0m0 9.2h0m0 9.1h0m.1-34.8h0m0 38.1h0m.1-19.2h0m.1-5.7h0m.1-9.8h0m0 20h0m.1-10.4h0m0 15.3h0m.1-25.8h0m0 8.5h0m0 16.9h0m.1-16.4h0m0 9.8h0m0 2.4h0m0 6.2h0m0 .9h0m.2-29.4h0m.1 14.6h0m.1-2.7h0m0 7.6h0m0 5h0m.1-18.7h0m0 8.9h0m.2-9.1h0m0 1.8h0m0 4.1h0m.2 7.7h0m.2-10.7h0m0 2.5h0m0 16.1h0m.1 1.2h0m.3-6.4h0m0 11.7h0m.1-8h0m0 2.9h0m0 3.2h0m.1-32.3h0m0 24.7h0m.1-5.8h0m.1 6.3h0m.1-14.6h0m0 8.2h0m0 .9h0m0 9.4h0m.1-28.6h0m.2-4.1h0m0 9.7h0m0 12.6h0m0 10h0m.1-2.3h0m.3-29h0m0 17.5h0m.1-3.4h0m0 24.7h0m.1-35.7h0m0 11h0m0 11.9h0m0 9.4h0m.1-26.2h0m0 3.1h0m0 20h0m.1-21.1h0m.2-9.8h0m.1 25h0m0 12.9h0m.1-28.6h0m.1 4.2h0m0 5.6h0m0 8.3h0m.1-8.5h0m0 1.9h0m.1-10.9h0m0 .5h0m.3-10h0m0 8.4h0m.1 11.3h0m0 1h0m0 3.3h0m.4 9.1h0m.3-14h0m.4-3.6h0m0 7.1h0m0 2h0m0 1.1h0m0 4.8h0m.4-22.2h0m0 4.6h0m.2 14.3h0m.2-.7h0m.2-3.7h0m.1-19.5h0m0 31.6h0m.1-26.2h0m0 .4h0m0 22.4h0m0 1.8h0m.1-17.2h0m0 0h0m.2 .8h0m0 8.4h0m.1-19.8h0m.1 6.7h0m0 2.4h0m0 4.7h0m0 8.8h0m.1-16.1h0m0 22.6h0m.1-29.3h0m0 8.1h0m.1 15.8h0m.2-3.1h0m.1-14.3h0m0 6.5h0m0 10.4h0m.2-12.7h0m.1-1.1h0m0 7.1h0m0 1.9h0m.1 3.5h0m.1-10.9h0m0 8.3h0m0 4.2h0m.3 1.1h0m0 .8h0m.1-13.8h0m.1-8.4h0m0 3.9h0m0 11.7h0m0 7.4h0m.1-8.3h0m0 2.8h0m.1-24.4h0m0 14h0m.1-3.5h0m0 6h0m.1-10.3h0m0 27.2h0m.1-9.3h0m.3-26.2h0m0 4.6h0m0 28.9h0m.2-11.1h0m.1-12.5h0m0 23.3h0m.4-22.6h0m.2 6.5h0m0 9.6h0m.3-10.8h0m.2 .7h0m.1-15.5h0m.1 19.3h0m.2-6.1h0m0 13.8h0m.1-9.1h0m.3-6.5h0m0 3.7h0m0 10.3h0m.1-15h0m.1-6.7h0m0 8.8h0m0 11.2h0m.2-11h0m.1-1.4h0m0 7.9h0m0 5.3h0m.1-10.2h0m.1-6.5h0m.1 2.4h0m.1-9h0m.1 23.2h0m.1-17.9h0m0 8.7h0m.3 9.6h0m.1-14.7h0m.1 .3h0m.7 13h0m.2-6.3h0m.2-.5h0m.4-11.6h0m.4-2.1h0m0 3.3h0m0 .6h0m0 7.5h0m.2 5.7h0m.2 .4h0m.3-1.2h0" stroke="#1f9fc0" stroke-width="1.00" opacity="0.65"/><g clip-path="url(#k4a)"><ellipse cx="192.5" cy="216.0" rx="36.0" ry="24.5" transform="rotate(-5 192.5 216.0)" fill="url(#gC)" filter="url(#grain)"/></g><path d="M168.4 197.2h0m.1 16.3h0m.2-11.4h0m0 5.4h0m.1 21.3h0m0 .3h0m.3-30.7h0m0 33.8h0m.1-24.8h0m0 22.6h0m.3 3h0m.2-8.8h0m.2-14h0m.2-10.7h0m.6 2.5h0m.2 34.1h0m.1-40.8h0m0 .6h0m.6 39.1h0m.2-36.6h0m0 28.3h0m0 6.5h0m.3-32.5h0m.4 6.3h0m0 .1h0m.2 27.3h0m.2-30.1h0m.1-7.6h0m.3-2.2h0m0 9.7h0m0 32.4h0m.2-6.6h0m.1-28.9h0m.1 33.6h0m.2-35.7h0m.2 3.4h0m0 32.1h0m0 4.7h0m.1 .3h0m.1-5.7h0m.1-29.5h0m.2 33h0m0 .8h0m.1-1.1h0m.1-38.2h0m.3 34.5h0m.1 7.2h0m.2-11.6h0m.4-32h0m0 43.4h0m.5-37.5h0m.1 33.6h0m.1-2.4h0m.2 1h0m.2-1.9h0m.1-31.2h0m0 34.6h0m.6 4.6h0m.3-39h0m.1-8.3h0m0 40.3h0m.1-40.6h0m.5 9.2h0m.1 33.7h0m.1-38.8h0m0 2.5h0m0 .3h0m0 36h0m.2-38.7h0m.2-3h0m.5 36.3h0m.3 2.6h0m.1-32.5h0m.1 37.8h0m.1 2.5h0m.2-7.6h0m.1 .4h0m.4 6.8h0m.3-6.3h0m0 1.5h0m.5-37.1h0m.2-3.3h0m0 4.6h0m.3-6.7h0m0 41h0m.8-.3h0m0 5.1h0m.3-41h0m.2 .7h0m.3 35.2h0m.4-39.8h0m.2-.7h0m.3-.7h0m.4-.3h0m.1 5.9h0m0 37.6h0m.1-41.8h0m.3 1.8h0m.3-3.6h0m.5 4h0m.1 42.5h0m.2-47.4h0m0 2.2h0m0 2.4h0m.1 38.8h0m.2-42.1h0m0 3.1h0m0 41.6h0m.2 .1h0m.1-3.9h0m.3-.4h0m0 1.5h0m.4-40.6h0m0 39.3h0m.6-37.5h0m.1 .2h0m.1-.3h0m.9 1.7h0m.2-5.6h0m.2-.6h0m.1 45.9h0m.2-42.1h0m.1 2.3h0m.4 37.2h0m.8 1.6h0m.2 .5h0m.7-42.4h0m.7 .2h0m0 43.8h0m.1-46.7h0m0 44.9h0m.1-40.6h0m.3 39.7h0m.7-38.7h0m.3-3h0m.4 41.3h0m.4-39.4h0m.3-.5h0m0 2.8h0m0 38.2h0m.3-44.9h0m0 44.7h0m1-2h0m.5-38.6h0m.1 40.4h0m.2-.1h0m.5-39.7h0m.1 37.7h0m.2-35.9h0m.2 34.2h0m.6-35.3h0m.1-5.6h0m.1 4.8h0m0 .9h0m.3 2.1h0m.2-5.5h0m.3 37.9h0m.1-35.7h0m.1-1.7h0m.1-1.9h0m.5 .9h0m.1 2.4h0m0 37.6h0m.2-36.3h0m.2-1h0m.2 .3h0m.1-2.5h0m.1 37h0m.2-37h0m.6 37.6h0m.2 4.3h0m.1-41.9h0m0 4.2h0m.2-3.5h0m0 39.7h0m.3-40.6h0m.1 2.9h0m.1 36.2h0m.1 2h0m.1-1.2h0m.1-.5h0m.3-36.6h0m.4 2.8h0m.1-.2h0m.2-4.7h0m0 1.4h0m.3-4.1h0m.4 7.9h0m.2-7.7h0m.1 38.7h0m.1-31h0m0 30h0m.1-34.1h0m.3-.4h0m.3 3.3h0m.5 30.7h0m.3-35.1h0m0 5.8h0m.1 30.3h0m.1-35.1h0m.1 7h0m.1-7.9h0m0 36.2h0m.1-38.6h0m.3 2.7h0m0 2.7h0m.2-1.6h0m.1 36.9h0m.3-5.1h0m.2-32.9h0m0 32.8h0m.5-29.1h0m0 4.5h0m.7-9.7h0m0 40h0m.1-40.5h0m.1 35.4h0m.1 5.2h0m.2-40.9h0m.3 33.5h0m.9-25.2h0m.1-8.2h0m.3 11.2h0m0 28.3h0m0 .6h0m.1-39.5h0m0 32h0m.2-23.5h0m.1-7.6h0m0 31.2h0m.1-27.8h0m0 6.6h0m.2-9.7h0m.1 7.3h0m0 22.1h0m.1 1h0m.1-24.3h0m.3-4.8h0m.3 29.7h0m0 2.8h0m.4-30.7h0m.1 2.3h0m.4 5.1h0m.2 26.8h0m.3-37.1h0m0 29.1h0m.1 4.9h0m0 3.1h0m.1-32.6h0m.1-1.5h0m.2 11.8h0m0 21.2h0m.1-26.4h0m.1 .7h0m.1 18.8h0m.1 5.8h0m.2-1.5h0m.1-29.2h0m0 14.6h0m0 18.3h0m.1-35.7h0m0 18.6h0m.2 16.6h0m.1-33h0m0 8.3h0m0 7.9h0m.1-5.6h0m0 .3h0m.3 1.2h0m0 7.2h0m.1-12.8h0m0 8.8h0m.1-4.4h0m.2-13.8h0m0 16.6h0m0 17.2h0m.3-14.2h0m.2 16.4h0m.1-34.3h0m.1 30.2h0m.1-23h0m.1-7h0m.1 31.1h0m.3-23.7h0m.1 24.5h0m.1-30.4h0m0 4.1h0m0 1.3h0m.3 1.3h0m0 1.4h0m.1 4.9h0m0 5.2h0m0 10.4h0m.2-29.1h0m0 24.5h0m.1-15.1h0m0 11h0m0 3.4h0m.2-5.3h0m.1-.9h0m.2 7.5h0m.1-20.5h0m0 .1h0m0 3.9h0m.1-2.4h0m.1-.3h0m0 22.3h0m0 4.1h0m.2-13.1h0m.1 2.2h0m.1-8.2h0m0 10.4h0m0 .4h0m0 4.8h0m.2-23.4h0m.2 .2h0m.1-1.6h0m.3-2.2h0m.1 10.1h0m.1 7.2h0m.3 12.6h0m.3-20.4h0m.1 5.1h0m.2-14.6h0m0 11h0m.2 3.9h0m0 12.6h0m.2-25.3h0m.1 6.8h0m0 20.8h0m.1-2.9h0m.1-16h0m.1 8.2h0m.1-6.1h0m.1-6.6h0m.2 16.7h0m.1-22.3h0m.4 25.8h0m.1-22.8h0m.1 15.5h0m.3 5.2h0m.1-23.3h0m0 16.6h0m.1-11.6h0m.2 5h0m.3 1.8h0m.1 .4h0m.1-.8h0m.2 .8h0m.1-9.6h0m.4 1.1h0m0 .9h0m.3 11.2h0m.2-5.3h0m0 5.2h0m0 .3h0" stroke="#17809c" stroke-width="1.00" opacity="0.50"/><path d="M219 285.1h0m1.6-15.8h0m.4 2.2h0m.4 8.9h0m.5-4.7h0m.3-17h0m0 11.9h0m.3 8.5h0m.4-21.2h0m.2 9h0m.2 5.2h0m.1 5.6h0m0 3.4h0m0 4.4h0m.1-23.2h0m0 11.2h0m.1-16.5h0m.1 8.4h0m.1 1.2h0m.1-7.6h0m.1-10.9h0m0 14.2h0m.1 21.2h0m.1 3.2h0m0 1.4h0m.1-16.3h0m.3-5.2h0m0 9.2h0m.2-29.9h0m0 5.9h0m.1-1.4h0m0 14.8h0m.1-22.6h0m0 38.9h0m0 .8h0m.1-7.5h0m.1-21.5h0m.1 10.2h0m.1 5.4h0m0 11h0m.1-14.9h0m.1 1.2h0m0 8.9h0m.1 1.4h0m.2-20.7h0m.1 8.9h0m.1-14.1h0m0 3.1h0m.1-10.2h0m0 11.1h0m0 24.6h0m.1-8.5h0m.2-13.5h0m0 2.7h0m.2-21.6h0m0 24.6h0m.3-5.9h0m.1 4.7h0m.1 8.3h0m.2 3.7h0m0 15.1h0m.1-13h0m.1-30.5h0m.1 31h0m0 1.9h0m.1-31.8h0m.1-1.8h0m.2 16.2h0m0 4.1h0m.1 1.6h0m.2 7.3h0m.1-24.6h0m.1 6.4h0m.1 1.8h0m0 4.9h0m0 3.2h0m0 18.2h0m.3-19.6h0m0 13.1h0m.2-12.4h0m.1-2.5h0m0 6.1h0m.1 .5h0m.1 2.1h0m.1-9.6h0m.2-2.7h0m0 18.9h0m.1-4h0m.1-31.3h0m.1 13.3h0m0 29.6h0m0 2.6h0m.1-3.3h0m.1-20.9h0m0 1h0m0 5.1h0m0 13.9h0m.1-33h0m0 2.4h0m0 20.3h0m0 5.1h0m.1-18h0m0 11.1h0m0 15.3h0m.3-24.2h0m0 .1h0m0 15h0m.2-18.6h0m0 6.2h0m0 6h0m0 12.2h0m.1-23.8h0m.1 14.8h0m.1 12.6h0m.1-31.1h0m.1 8.8h0m.1 2.4h0m0 .8h0m0 2.3h0m0 3.4h0m.1-22.7h0m0 .3h0m0 34h0m.1-26h0m0 15.1h0m.1-29.6h0m0 18.9h0m.1-6.4h0m0 17.6h0m0 8.9h0m.1-15h0m0 0h0m0 12.3h0m0 1.9h0m.1-42.3h0m0 12.7h0m0 11.1h0m0 8.8h0m.2-24.4h0m.1-7.1h0m0 39.6h0m0 5.3h0m.1-16h0m0 .5h0m0 2.4h0m0 1.7h0m.1-29.9h0m0 13h0m0 7.7h0m0 17.5h0m.1-35.2h0m0 23.7h0m0 3.8h0m0 9.8h0m.1-44.9h0m0 6.3h0m0 5.2h0m0 8h0m0 3.5h0m0 18.1h0m.1-3.2h0m.1-20.7h0m0 .2h0m0 17.3h0m0 8.6h0m.1-43.2h0m0 8.4h0m0 12.6h0m0 22h0m.1-49.1h0m0 10.2h0m0 12.2h0m0 24.8h0m.1-45.4h0m0 14.1h0m0 2.2h0m0 16.9h0m.1-18.3h0m0 7.2h0m.1 5.4h0m0 9.7h0m.1-.9h0m.1-25.9h0m0 9.8h0m0 12.2h0m.2-21.1h0m0 12.3h0m0 5.6h0m0 .4h0m0 14.8h0m.1-30.1h0m.1 7h0m0 14.8h0m0 1.5h0m0 8.5h0m.1-25.5h0m0 9.2h0m0 6.5h0m.1-18.9h0m0 18.9h0m.1-3.7h0m0 6.8h0m.1-22.5h0m0 28h0m.1-35.2h0m0 33.6h0m.1-16.8h0m0 3.6h0m.1-12.4h0m0 10.1h0m0 2.4h0m0 20.9h0m.1-52.9h0m.1-.1h0m0 26.3h0m.1-21.1h0m0 1.7h0m0 12.3h0m0 7.1h0m0 10.1h0m.1-33.2h0m0 36.6h0m0 5.4h0m.1-22.9h0m.1-9h0m0 13.2h0m0 1.8h0m0 9.6h0m.1-35.3h0m0 2.3h0m0 1.7h0m0 2.5h0m.1 3.1h0m0 17.4h0m0 6.4h0m0 8.7h0m.1-19.9h0m0 11.9h0m0 4.3h0m.1-26.1h0m0 4.6h0m0 20.6h0m.1 .7h0m0 6.2h0m.1-34.7h0m0 12.7h0m0 .3h0m0 3.7h0m0 .5h0m.1-20.7h0m0 5.7h0m.1 27.9h0m.1-37.4h0m0 5.3h0m0 13.4h0m0 2.1h0m.1-10.2h0m0 2.8h0m0 9.2h0m0 .5h0m0 6.4h0m.1-32.4h0m0 30.8h0m0 16.8h0m.1-39h0m0 2.9h0m0 1.9h0m0 11.3h0m.1-13.3h0m0 16.2h0m0 3.9h0m.1-35.9h0m0 9.6h0m0 39.4h0m.1-33.7h0m0 10.9h0m0 4h0m.1-18.2h0m0 5.7h0m0 1.7h0m.1-14.6h0m0 24.4h0m0 5.5h0m0 13.2h0m.1-15.7h0m.1 1.3h0m.1-16.6h0m0 9.9h0m0 15.5h0m.2-2.8h0m0 1.9h0m0 1.2h0m0 12.2h0m.1-42.8h0m0 9.4h0m0 1.3h0m0 5.4h0m0 13.8h0m0 9.8h0m.1-10.5h0m0 2.7h0m.1-35.8h0m0 .3h0m0 15.1h0m.1 18.3h0m0 9h0m.1-21.2h0m0 2.4h0m0 8.6h0m.1-13.3h0m0 5.7h0m0 1.3h0m0 1h0m0 1.2h0m0 8.6h0m.1-27h0m0 15.7h0m0 .9h0m0 2.1h0m.1-33.6h0m0 4.9h0m0 9.9h0m0 7.4h0m0 2.8h0m0 2.1h0m0 4.3h0m0 18.8h0m.1-53.4h0m0 2.4h0m0 23.4h0m0 8h0m0 8.2h0m.1-25.7h0m0 17.6h0m0 1.9h0m0 2h0m0 .8h0m.1-14.4h0m0 12.7h0m0 2.6h0m0 8.6h0m0 1.6h0m.1-39h0m0 .9h0m0 6.6h0m0 3h0m0 18.8h0m.1-30.9h0m0 14.6h0m.1-11h0m0 8.5h0m.1-3.1h0m0 26.1h0m.1-19.6h0m0 4.8h0m0 10.4h0m0 4.2h0m0 3.2h0m.1-31.5h0m0 0h0m0 30.2h0m.1-41.9h0m0 6.9h0m0 2.7h0m0 14.7h0m0 6.6h0m0 6.4h0m0 4.3h0m0 2h0m0 1.1h0m.1-42.4h0m0 .4h0m0 12.3h0m0 22.7h0m.1-29.2h0m0 14.6h0m0 14.2h0m0 2h0m.1-27.2h0m0 .5h0m0 13.2h0m0 14.5h0m0 .4h0m.2-34.8h0m0 19.2h0m0 .9h0m.1-25.7h0m0 24.1h0m0 13.2h0m0 .4h0m.1-42.2h0m0 13.7h0m.1 23.6h0m0 3.4h0m0 3.6h0m0 4.3h0m.1-40.3h0m0 6.9h0m0 8.3h0m0 19.8h0m0 9.8h0m.1-43.3h0m0 32.5h0m0 1.9h0m0 7.9h0m.1-26.5h0m0 10.6h0m0 1.4h0m0 9.5h0m.1-31.2h0m0 2h0m0 6.4h0m0 31.8h0m.1-37.9h0m0 20.7h0m0 .1h0m0 1.6h0m0 2.9h0m.1-18.2h0m0 20.4h0m0 7.6h0m.1-43.7h0m0 31.2h0m0 14.3h0m.1-9.7h0m0 4.5h0m.1-37.1h0m0 25.1h0m0 9.1h0m.1-14.8h0m0 .1h0m0 2.7h0m0 8.3h0m.1-39.4h0m0 16.2h0m0 5.1h0m0 1.8h0m0 4.8h0m0 6.2h0m0 1.7h0m0 4.6h0m0 1.7h0m.1-36.4h0m0 11h0m0 12.3h0m0 7.3h0m.1-9.4h0m0 11.5h0m0 1.4h0m0 4.3h0m0 4.5h0m.1-22.6h0m0 1.9h0m0 6.4h0m0 2h0m0 5.4h0m.1-22h0m0 14.8h0m0 8.4h0m.1-29h0m0 22.1h0m.1-25.6h0m0 32h0m0 6.9h0m.1-47.9h0m0 .8h0m0 4.7h0m0 8.5h0m0 12.8h0m.1-14.3h0m0 5.7h0m0 3.3h0m0 2.8h0m.1-24.2h0m0 22.9h0m0 9.5h0m0 11.1h0m.1-32.3h0m0 19.7h0m.1-11.7h0m0 2.4h0m0 4.8h0m0 4.8h0m0 2.2h0m0 9.9h0m0 .4h0m.1-18.6h0m0 1.7h0m0 17.3h0m.1-24.9h0m0 1.3h0m0 2.3h0m0 1.5h0m0 3.4h0m.1-7.2h0m0 1h0m0 12.7h0m.1-23.1h0m.1-12.1h0m0 20.2h0m0 13.3h0m0 4.3h0m0 2.2h0m.1-34.1h0m0 2.9h0m0 16h0m0 4.2h0m.1-17.7h0m0 6.1h0m0 3.9h0m0 14.2h0m0 3.1h0m.1-24.4h0m0 1.2h0m0 8.7h0m0 14.7h0m0 1.6h0m0 3.2h0m.1-32.1h0m0 2.6h0m0 14.6h0m.1-12.5h0m.1 8.9h0m0 .2h0m.1 2.6h0m.1 9.6h0m0 14.1h0m0 0h0m.1-48.2h0m0 4.2h0m0 2.2h0m0 29.3h0m0 13.6h0m.1-56.5h0m0 22.7h0m0 7.1h0m0 7.4h0m0 2.8h0m.1-21.2h0m0 12.2h0m0 14.9h0m.1-44.5h0m0 16.6h0m0 10.1h0m0 8.1h0m0 1.7h0m0 .3h0m0 .8h0m0 1.8h0m.1-38h0m.2 27h0m0 24h0m.1-32.6h0m0 10.1h0m0 6.2h0m0 7.6h0m0 9h0m.1-34.6h0m0 1.3h0m0 2.6h0m0 .7h0m0 2.7h0m0 2.3h0m0 14.8h0m0 8.5h0m.1-43.1h0m0 1.9h0m.1 14.6h0m0 9.5h0m.1-11.7h0m0 1h0m0 4.8h0m0 1.3h0m0 4.6h0m0 12.9h0m0 1.8h0m.1-46.8h0m0 42.1h0m0 7.7h0m.1-32.9h0m0 36.2h0m.1-26.4h0m0 7.6h0m0 3.3h0m.1-19.8h0m0 1.6h0m0 2.3h0m0 19.8h0m0 1.2h0m0 7.7h0m0 .8h0m.1-41.4h0m0 3.2h0m0 23.9h0m.1-40.6h0m0 44.2h0m.1-28.5h0m0 16h0m0 5.7h0m0 7.9h0m0 9.8h0m.1-37.4h0m0 7.2h0m0 13.1h0m.1-26.5h0m0 12h0m0 23h0m.1-32.6h0m0 9.3h0m0 3.6h0m0 6.1h0m0 12.4h0m.1-9.1h0m0 7.2h0m.1-28.3h0m0 7.4h0m0 5h0m0 7.2h0m.1-18.9h0m.1-.2h0m.1-1.2h0m0 12.4h0m0 25h0m.1-25.2h0m0 2.5h0m0 3.2h0m.1-15.3h0m.1 3.4h0m0 23.6h0m0 6.7h0m.1-36.4h0m0 7.3h0m0 4.7h0m0 9.7h0m0 10.4h0m.1-21.5h0m0 .5h0m0 14.1h0m0 6.4h0m.1-31.8h0m.1-3.1h0m0 19.2h0m0 3.2h0m0 5.1h0m.1-28.1h0m0 36.7h0m.1-32.5h0m0 .7h0m0 28.8h0m.1-26h0m0 18.7h0m.1 17.4h0m.1-29h0m0 2.4h0m0 2.5h0m0 3.4h0m0 16.8h0m.1-33.1h0m0 13.7h0m0 2.9h0m0 10.2h0m0 .1h0m0 2.5h0m.1-25.6h0m0 2.7h0m0 1.3h0m0 11h0m.1-20.8h0m0 16.2h0m0 11.2h0m0 1.1h0m.1-25.9h0m0 20.6h0m0 .5h0m0 5.5h0m.1-12.3h0m0 2.4h0m0 5.8h0m.1-32.7h0m0 7.6h0m0 5.1h0m0 14.1h0m0 .7h0m0 18.7h0m0 0h0m.1-52.6h0m.1 8.4h0m0 11.8h0m0 2.1h0m0 4.6h0m0 9.3h0m.1-24h0m0 6.5h0m0 11.6h0m0 22.1h0m.1-48.3h0m0 18.5h0m0 3.8h0m0 7.9h0m0 .2h0m0 1.5h0m0 5h0m0 4.9h0m0 4.4h0m.1-23.6h0m0 3.1h0m.1-21.8h0m.1 11h0m0 12.5h0m0 8.6h0m0 1.1h0m0 6.9h0m.1-38.6h0m0 35.8h0m0 3.1h0m.1-47.9h0m0 21.5h0m0 4.5h0m0 5h0m0 3.4h0m0 5.3h0m.1-20.9h0m.1-15.8h0m0 9.9h0m0 9.6h0m0 .8h0m0 4.1h0m0 8.7h0m0 .8h0m0 12.9h0m.1-48.2h0m0 33.7h0m0 7.4h0m.1-30.8h0m0 24.5h0m0 5.7h0m.1-42.1h0m0 33.2h0m0 9.8h0m0 .2h0m0 .4h0m0 .9h0m.1-17.8h0m0 10.8h0m0 12.3h0m.1-35h0m0 1.2h0m0 7.3h0m0 6.4h0m.1-6.8h0m0 1.2h0m0 5.1h0m0 3.1h0m.1-17.7h0m0 8.1h0m0 7.6h0m0 13.1h0m0 7.2h0m.1-29.5h0m.1-10.7h0m0 3.4h0m.1 10h0m0 11.8h0m0 15.2h0m.1-37.3h0m.1 4.9h0m0 20.4h0m0 11.9h0m.1-47.8h0m0 10.6h0m0 11.3h0m.1-18.8h0m0 32.5h0m.1-34.1h0m0 3h0m0 4.1h0m0 5h0m0 .1h0m0 9.4h0m0 8h0m.1-24.5h0m0 34.9h0m.1-17.8h0m0 13.7h0m0 1.6h0m.1-29.8h0m0 2.4h0m0 19.7h0m0 6.5h0m0 9.9h0m.1-36.4h0m0 2.1h0m0 16.3h0m0 19.7h0m.1-40h0m0 2.6h0m0 18h0m0 14.2h0m.1-7.3h0m0 8.2h0m0 2.9h0m.1-2.2h0m0 2.7h0m0 .4h0m.1-40h0m0 7.2h0m0 18.8h0m0 .5h0m.1-31.4h0m0 14.1h0m0 3.4h0m0 8.2h0m.1-14.9h0m0 2.5h0m.1-7h0m0 2.5h0m0 9.3h0m0 16.4h0m0 2.7h0m.1-26.8h0m0 16.8h0m.1-23.2h0m0 23h0m0 3.9h0m0 3.1h0m.1-20.1h0m0 15.1h0m0 16.8h0m.1-26.2h0m0 2.8h0m.1-23.8h0m0 .4h0m0 4.7h0m.1 .3h0m0 9.8h0m0 10.4h0m0 5.2h0m0 4.2h0m0 10.1h0m.1-18.4h0m0 11.8h0m0 2.9h0m.1-21h0m0 3.6h0m0 1h0m.1-7.6h0m0 15.5h0m.1-22.5h0m0 12.1h0m0 16.5h0m0 .8h0m.1-23.9h0m.3 .5h0m0 4.2h0m0 7.6h0m.1-11h0m.1-9h0m0 4.8h0m0 26.4h0m0 5.1h0m0 1h0m.1-11h0m0 6.5h0m.1-3.7h0m.1-29.7h0m0 10.1h0m.1 14.9h0m0 5.7h0m0 .6h0m0 .8h0m0 4.8h0m.1-38.1h0m0 1.6h0m0 10.4h0m0 6.5h0m0 19.3h0m.1-48.7h0m0 17.8h0m0 2.6h0m0 6.4h0m0 16.3h0m0 6.1h0m0 2.8h0m.1-53.7h0m0 19.1h0m0 26.9h0m0 6.6h0m0 1.9h0m.1-26.6h0m0 9.1h0m.1 3.6h0m0 2.4h0m0 4.3h0m0 4.5h0m.1-43.9h0m0 9.1h0m.1-14.9h0m0 7.7h0m0 26.8h0m.1-4.7h0m.1-11.7h0m0 11.6h0m.1-4.2h0m0 7.6h0m0 .1h0m.1-5.5h0m.2-15.2h0m0 13.3h0m0 7.4h0m.1-20.9h0m0 9.6h0m0 13.6h0m0 3h0m0 10.4h0m.1-48.3h0m0 9.5h0m0 4.8h0m0 11.1h0m0 1.2h0m0 2.3h0m0 7.2h0m.1-17h0m0 12.2h0m0 10.9h0m.1-32.7h0m0 6.1h0m0 30.4h0m.1-34.1h0m.1 20.5h0m0 .9h0m.1-20.8h0m0 20.7h0m.1-7.5h0m0 19.9h0m.1-50.6h0m0 20.5h0m0 3.7h0m0 29.2h0m.1-29h0m0 8.7h0m.1-22.4h0m0 2.9h0m0 9.4h0m0 11.4h0m0 0h0m0 11.9h0m.1-21.6h0m.1 9.4h0m0 8.1h0m.1-8h0m0 7.9h0m.1-37.6h0m0 8.6h0m0 4.1h0m.1 38.2h0m.1-34.1h0m0 21.4h0m0 .7h0m.2-30.8h0m0 30.3h0m.1-36.5h0m0 15.9h0m0 18.9h0m0 13.6h0m.1-22.8h0m0 5.5h0m.1-21.2h0m0 10.2h0m0 17.4h0m.1-23.6h0m0 3.8h0m0 8.4h0m.1-1.9h0m0 11.3h0m.1 1.6h0m0 2.7h0m.1-20.8h0m0 2.6h0m.1-14.5h0m0 20.6h0m0 16.6h0m.1-21.9h0m.1 .7h0m0 27.1h0m.1-53.8h0m0 12.2h0m0 19.6h0m.2-10.6h0m0 .3h0m.1-8.2h0m0 6h0m0 16.1h0m.1-5.6h0m0 6.4h0m0 1.7h0m.1-38.2h0m0 1.3h0m0 38h0m0 5.8h0m.1-45.4h0m0 6.1h0m0 14.3h0m0 2.3h0m0 2.5h0m0 4.2h0m0 7.5h0m0 2.1h0m.1-17h0m.1-20.6h0m0 7.5h0m0 44.6h0m.1-37.1h0m.2 17.6h0m.1-20.4h0m0 8.3h0m0 24.3h0m.1-17.4h0m.1 2.4h0m.1 21.3h0m.1-46.8h0m0 14.2h0m0 22.4h0m0 4.9h0m.2-9.2h0m.1 1h0m.1-3.9h0m.1-21.2h0m0 15.7h0m0 15.9h0m.2-5.4h0m.1-35.5h0m0 20.4h0m0 2.8h0m.2-10.4h0m0 13.9h0m0 5.8h0m0 13.1h0m.1-28.4h0m0 23.3h0m.1-14h0m.1-19.6h0m0 1.8h0m.1 2h0m.1-16.4h0m0 17.3h0m0 15.4h0m0 20.6h0m.1-19.6h0m.1 1.7h0m0 5.3h0m.1 15.2h0m.1-44.8h0m0 20.4h0m0 2.6h0m.1 5.5h0m0 13.4h0m.1-26.6h0m.1-3.2h0m.2-20.2h0m.3 1.3h0m0 37.6h0m.1 10.5h0m0 3h0m.1-51.9h0m0 8.3h0m.1 10h0m.1-3.6h0m0 2.5h0m0 22.7h0m.2-20.5h0m0 17.8h0m.1-11h0m0 5.2h0m0 6.7h0m.1-9.7h0m0 5.9h0m.3-20.4h0m0 2h0m.1 3.2h0m.5-13.4h0m.4 22.1h0m.4-3.3h0m.1 8.8h0m.1-18.4h0m.1 13.1h0m0 12.4h0m.1-11.3h0m0 9.9h0m.1-9.7h0m.2 19.6h0m.3 1.1h0m.3-19.8h0m.1-18h0m.1 20.3h0m.3-6.3h0m.1-30.3h0m0 32.7h0m.1 23.2h0m.3-26.7h0m.1-16.4h0m.6-12.6h0m.4 17.9h0m0 5.7h0m.2-9.2h0m.1 27.3h0m.3-20.5h0m0 30.8h0m1.7-49.2h0m.1 10.4h0m.7 9.5h0m.2-2h0m.1 28h0m.5-41.5h0m.3 30h0m.5 4.4h0m.4 1.3h0m.7-9h0m1.4 10.1h0m.1 5.7h0m.3-15.4h0m.2 18.3h0m.3 4.5h0" stroke="#22b02a" stroke-width="1.00" opacity="0.65"/><g clip-path="url(#k4b)"><ellipse cx="244.5" cy="266.5" rx="21.5" ry="36.0" transform="rotate(4 244.5 266.5)" fill="url(#gG)" filter="url(#grain)"/></g><path d="M220.7 272.6h0m.2-5.3h0m.2 5.9h0m.1-8.2h0m.2 1.3h0m0 5.3h0m.1-4.8h0m.1 1.9h0m.2 7.7h0m.1 0h0m.1-12.1h0m0 8h0m.3 7.8h0m0 3.1h0m.1-5h0m.1-21.3h0m0 19.1h0m.2-14.8h0m.1-4.9h0m.3 27.6h0m.1 1.9h0m.1-20.2h0m.1 2h0m0 6.6h0m.1-10.4h0m0 2.8h0m.1-.7h0m.3-5.6h0m0 5.6h0m.2 10h0m.1-16.8h0m0 18.3h0m.1-14.7h0m0 3.9h0m0 2.2h0m.1-8.7h0m0 10.2h0m0 8.6h0m.1-22.7h0m0 10.9h0m.1-17.1h0m.2 24.8h0m0 1.5h0m.1-11.4h0m0 16.2h0m0 1.3h0m.1 6.5h0m.4-32.6h0m.1-7h0m0 1.1h0m0 16.3h0m.1 19.2h0m.1-28.4h0m.1 7.9h0m0 16.3h0m.2-1.1h0m.2-18.5h0m0 15.6h0m.1-15.8h0m.2 21.1h0m.1 6.1h0m.1-15.6h0m.1-5.2h0m.1-23.6h0m.1-1.1h0m0 5.7h0m0 29.4h0m.1-27.7h0m0 22.3h0m.1-24h0m0 25.1h0m.1 10.6h0m.2-41h0m0 4.8h0m.1 37.6h0m.2-29.7h0m.1 7.1h0m.1-17.3h0m0 33.3h0m.1-25.6h0m0 1.2h0m0 21.1h0m0 6.8h0m0 2.8h0m0 .1h0m0 1.5h0m.1-25.3h0m.1-19.9h0m0 45.5h0m.1-37h0m0 22.8h0m.1-26h0m0 8.7h0m.1-9.9h0m.4 14.3h0m0 2.2h0m0 15.6h0m0 4.2h0m.1-11h0m.1-26.4h0m0 24.7h0m.2 3.5h0m.1-21.4h0m0 8.7h0m.1-2h0m.1-19.6h0m.1 20.5h0m.1-.5h0m.1-5.6h0m.2 4.4h0m.1 20.9h0m.1-32.4h0m.2 7.1h0m.1-5.9h0m0 8.3h0m.2-18h0m0 .9h0m0 5.1h0m.2 7.7h0m.1 .2h0m.2-8.8h0m0 1.3h0m.2-10.1h0m0 14.8h0m.1-3.5h0m.1-2.8h0m.2-1.1h0m0 1.6h0m.3 43.5h0m.1-45h0m.2 42.2h0m.1 2.4h0m.1-.1h0m.1-50.4h0m.2-2.4h0m0 52.9h0m.2-48.5h0m.1-3.7h0m.3 6.1h0m.1-8.4h0m.3 7.4h0m.1-4.2h0m1.1-1.5h0m0 8.2h0m.2-8.4h0m.5 4.8h0m.5 1.5h0m.2 .5h0m.2 .3h0m.2-5.8h0m.4 1.1h0m.1 6.6h0m.2-5.6h0m.3 3.9h0m.2-7.1h0m.4 2.1h0m.1-4h0m.1 1.1h0m.5 9h0m.9-4.6h0m.6 1.5h0m.5-1.8h0m.1 1.7h0m.8-1.7h0m0 1.4h0m.1-1.5h0m.3-4.1h0m0 3.4h0m0 2.8h0m.1-6.6h0m.4 2.7h0m.3 5.1h0m1.2-2.3h0m.5-1.2h0m0 4h0m1.7-1.3h0m.4-6.2h0m.5 3.3h0m.4-.9h0m.2-3.8h0m0 .5h0m0 8.6h0m.6-1.3h0m.4 1.6h0m.6-7.1h0m1 2.8h0m.2-3.3h0m0 55.4h0m.5-54.6h0m.7 6.6h0m.2-1.1h0m.2 48.6h0m.3-54.9h0m.5-.6h0m.1 7.4h0m.3-8.7h0m0 12.7h0m.1 40.8h0m.3 3h0m.1-46.6h0m0 47.6h0m.1-44.6h0m0 .8h0m.1-9.4h0m0 7.5h0m.2-5.9h0m.1-6.8h0m0 10.5h0m.4-8.5h0m0 14.3h0m0 40.9h0m.2-48.3h0m.1 8.1h0m.2 35.1h0m.2-36.8h0m.2 35.9h0m.1-.4h0m0 3h0m.1-46.5h0m.2 9.4h0m.1 35.6h0m0 1.6h0m.1-42.8h0m0 1.6h0m.1-6.6h0m.1 44h0m.6 8.2h0m.1-46.7h0m.4-4.9h0m.1 .8h0m0 41.9h0m.1-30.4h0m.2-17.6h0m0 8.1h0m0 11.2h0m.2-19.2h0m.1 11.4h0m0 35h0m0 9.4h0m.3-37.2h0m0 34.3h0m.1-31.1h0m.1-16.4h0m.1 34.2h0m.1-11.8h0m0 28.1h0m.2-34.6h0m.2-12.3h0m0 9.4h0m0 21.7h0m0 5h0m.3-28.1h0m0 22.5h0m.1 13.6h0m.1-43.3h0m0 27.9h0m0 11.7h0m.2-30.4h0m0 7.2h0m0 6.1h0m.1-14.5h0m0 7.3h0m.2-18.4h0m0 10.5h0m0 22.1h0m.2-25h0m.1-10.3h0m0 2.4h0m0 25.4h0m0 6.5h0m0 6.8h0m0 7.6h0m.2 1.9h0m.1-26.4h0m.1 26.9h0m.1-13.1h0m.2 5.9h0m.3-36.1h0m0 41.7h0m.1-46.7h0m0 29.3h0m0 16h0m.2-31.1h0m0 35.8h0m.1-18.4h0m0 4.1h0m.1-35h0m.1 24.9h0m0 8.9h0m.4-11.4h0m.1-3.4h0m.1 3.7h0m.1-20.3h0m0 2.8h0m.1 16.3h0m.1 18.8h0m.1-20.4h0m.1-17.3h0m0 25h0m.2 6.7h0m.1-2.9h0m0 .7h0m.1-30.7h0m0 14.1h0m.1 9.6h0m0 8.7h0m0 2.5h0m.2-17.4h0m0 22.4h0m.1 1.9h0m.2-24.4h0m.1 12.7h0m.1-26.8h0m0 31.5h0m.1-32.3h0m0 3.9h0m0 14.7h0m.1-5h0m.1 20.3h0m.1-13.3h0m.1-9.6h0m0 26.1h0m.1-28.2h0m0 22.3h0m0 1.5h0m.1-7.1h0m0 3.1h0m.1-19.7h0m.1 1.6h0m.1-5h0m0 13.9h0m.2 13.8h0m.2-8.2h0m.2-8.6h0m0 2.6h0m0 4.9h0m0 3.5h0m.1-11.1h0m.2 4.2h0m.2-11h0m.2 3h0m0 1.9h0m.1-5.7h0m0 3.1h0m0 15.1h0m.1-2.1h0m.1-7.8h0m.3 5.8h0m.1 1.6h0m.4-4.3h0" stroke="#1c8a26" stroke-width="1.00" opacity="0.50"/></g><polygon points="168.0,191.3 226.8,192.0 228.5,217.5 224.3,230.0 168.0,246.3" fill="none" stroke="#1c1c1c" stroke-width="1.25"/><polygon points="225.5,237.5 233.0,232.0 277.5,229.5 279.3,289.3 216.8,289.3" fill="none" stroke="#1c1c1c" stroke-width="1.25"/></g>
<path d="M167.40 168.10V289.30M167.80 288.80h-6.20M167.80 279.75h-3.20M167.80 274.46h-3.20M167.80 270.71h-3.20M167.80 267.80h-3.20M167.80 265.42h-3.20M167.80 263.40h-3.20M167.80 261.66h-3.20M167.80 260.13h-3.20M167.80 258.75h-6.20M167.80 249.70h-3.20M167.80 244.41h-3.20M167.80 240.66h-3.20M167.80 237.75h-3.20M167.80 235.37h-3.20M167.80 233.35h-3.20M167.80 231.61h-3.20M167.80 230.08h-3.20M167.80 228.70h-6.20M167.80 219.65h-3.20M167.80 214.36h-3.20M167.80 210.61h-3.20M167.80 207.70h-3.20M167.80 205.32h-3.20M167.80 203.30h-3.20M167.80 201.56h-3.20M167.80 200.03h-3.20M167.80 198.65h-6.20M167.80 189.60h-3.20M167.80 184.31h-3.20M167.80 180.56h-3.20M167.80 177.65h-3.20M167.80 175.27h-3.20M167.80 173.25h-3.20M167.80 171.51h-3.20M167.80 169.98h-3.20M167.80 168.60h-6.20M168.80 290.30H289.90M169.30 289.90v5.20M178.34 289.90v2.80M183.63 289.90v2.80M187.38 289.90v2.80M190.29 289.90v2.80M192.66 289.90v2.80M194.67 289.90v2.80M196.42 289.90v2.80M197.95 289.90v2.80M199.32 289.90v5.20M208.36 289.90v2.80M213.65 289.90v2.80M217.40 289.90v2.80M220.31 289.90v2.80M222.69 289.90v2.80M224.70 289.90v2.80M226.44 289.90v2.80M227.98 289.90v2.80M229.35 289.90v5.20M238.39 289.90v2.80M243.68 289.90v2.80M247.43 289.90v2.80M250.34 289.90v2.80M252.71 289.90v2.80M254.72 289.90v2.80M256.47 289.90v2.80M258.00 289.90v2.80M259.38 289.90v5.20M268.41 289.90v2.80M273.70 289.90v2.80M277.45 289.90v2.80M280.36 289.90v2.80M282.74 289.90v2.80M284.75 289.90v2.80M286.49 289.90v2.80M288.03 289.90v2.80M289.40 289.90v5.20" stroke="#111" stroke-width="0.95" fill="none"/>
<g clip-path="url(#c02)"><g filter="url(#soft)" class="d"><path d="M54.5 420.4h0m1.4 2.7h0m.3 3.2h0m.3-13.8h0m.3 15.6h0m.2-1.3h0m.4-6h0m1.5 .7h0m.3-10.2h0m0 9.6h0m.1 7.4h0m.1-8.5h0m1.2-6.3h0m0 10.8h0m.1-7.3h0m.1 10.2h0m0 .7h0m.3-5.4h0m.4-9.2h0m.3 16.2h0m.3-19.3h0m0 18.7h0m.2-10.4h0m.1 4.9h0m.1 1.5h0m.3 5h0m.3-11.7h0m.2 4.9h0m.1 5.3h0m.4-10.1h0m.3-2.4h0m.4 12.7h0m.2-9.1h0m0 1.8h0m.2 2.7h0m.3-3.3h0m.5-9.7h0m.1 4.9h0m.3 12.4h0m.3-16.8h0m0 8.9h0m0 5.4h0m0 2.1h0m.3-5h0m0 6.7h0m.1-14.2h0m0 12.4h0m.1-3.7h0m.1 5h0m.1-7.3h0m.1-8.2h0m.2-5.3h0m0 20.2h0m.1-3h0m.2-10.3h0m0 8.5h0m.2-5h0m.2-4.2h0m.5 6h0m0 2.7h0m.5-8.4h0m0 3.6h0m.2 2.7h0m0 4.6h0m0 3.6h0m.1-18.2h0m0 4.2h0m0 3.4h0m.2 4.4h0m.2 3.9h0m.3 3.3h0m.1-8.3h0m.1 1.4h0m0 2.5h0m.2-7.3h0m.3 3.2h0m.4-.7h0m0 5.8h0m0 3.2h0m.1-9.8h0m0 1h0m.1-2h0m.1-3.9h0m.1 7.1h0m.1-4.2h0m.1 9.3h0m.1-2.3h0m.1-4.7h0m0 .3h0m0 6.1h0m.1-8.2h0m0 7.6h0m.1-5.9h0m.2 3h0m.1-1.5h0m.1-2.8h0m.2-12.7h0m0 7.2h0m0 8.8h0m0 2.2h0m0 4.9h0m.2-4.2h0m.1-4.2h0m0 2h0m.1-8.5h0m0 2.9h0m.2 8.7h0m.1-6.2h0m.3-1.5h0m.1-7.3h0m.1 11h0m.2-13.7h0m0 1.8h0m0 .5h0m0 7.3h0m.1 4.2h0m.1-.1h0m0 3.1h0m.2-5.4h0m0 3.4h0m0 7.4h0m.1-21.3h0m.1 7.9h0m0 2.4h0m.2 1.2h0m0 3.5h0m0 .3h0m.1-9.3h0m0 3.1h0m0 2.9h0m.1-7.2h0m0 14.6h0m.1-6h0m.1-11.7h0m0 11.7h0m.2 0h0m0 4.2h0m0 4.5h0m.1-3.6h0m0 2.5h0m.1-.4h0m.2-6.8h0m0 2.6h0m.1-19.3h0m0 9.5h0m0 2.8h0m.1-8.6h0m.1 8.3h0m0 1.2h0m.2-3h0m0 1.1h0m0 .9h0m.1 12.3h0m.1-7.8h0m.1-14.2h0m.1 11.6h0m0 2h0m.1-15h0m0 16.4h0m0 5.1h0m.1 1h0m.2-12.9h0m0 5.5h0m0 9h0m.1-18.9h0m.1-1.8h0m0 12.1h0m0 2.5h0m.1-1.5h0m0 .4h0m0 4.1h0m.2 2.1h0m.1-17.6h0m0 14.9h0m0 .1h0m.2-5.1h0m.1-3.3h0m0 .2h0m0 6.3h0m.1 3.1h0m.2-8.6h0m0 .5h0m0 2.5h0m.1-8.3h0m.1 9.7h0m.1-.4h0m.1-11.3h0m0 5h0m0 3.2h0m0 1.5h0m0 .5h0m.1-7.1h0m0 13.7h0m.2-11.1h0m0 6.3h0m0 .2h0m0 3.3h0m0 1.6h0m.1-11.8h0m0 9.1h0m.2-17.4h0m.1 7.2h0m.1 .9h0m0 8.7h0m0 3.2h0m.2-17.4h0m0 11.4h0m.1-7.7h0m0 4.1h0m0 2.9h0m.1-5.7h0m0 2.9h0m.2-7.5h0m0 12.4h0m.1-4.3h0m.1 .1h0m.1-5.8h0m0 6.3h0m0 2h0m0 4.5h0m.1-.3h0m.1-11.9h0m0 6.1h0m0 .4h0m.1-1.9h0m0 4.7h0m0 2.9h0m0 1.2h0m.1-10.5h0m.1-3.9h0m0 .7h0m0 .5h0m0 11.9h0m.1-16.5h0m.1 1.4h0m.2 3.3h0m0 4.7h0m0 5.5h0m0 .8h0m.1-19.1h0m0 17.2h0m0 1.4h0m.1-11.4h0m0 1.1h0m.1-3.7h0m0 4.8h0m.1-7h0m0 14.3h0m.3-2.7h0m0 1.6h0m.1-.4h0m0 1.4h0m.1-14.6h0m0 3.2h0m0 6.5h0m0 8.7h0m.3-14.2h0m0 .3h0m0 5.8h0m0 1.5h0m0 5.4h0m.1-18.9h0m.1-1.4h0m0 22.3h0m0 .6h0m.1-11.8h0m.1-7.3h0m0 11.4h0m.1-14.6h0m0 9.5h0m.1-4.3h0m0 14.7h0m.2-9.7h0m0 5.3h0m.1-19.1h0m0 15.9h0m0 7h0m.1-18.1h0m0 10.2h0m0 1.2h0m.1-3.6h0m.1 14.4h0m.1-3.7h0m.1-13.8h0m0 0h0m0 11.8h0m0 1.3h0m.1-5.7h0m.1-6.2h0m0 5.4h0m0 2.7h0m0 .3h0m.1-6.4h0m0 .5h0m.1 1.6h0m0 2h0m.1-5.4h0m0 5.1h0m0 1h0m.1-21.5h0m0 24.1h0m0 4.1h0m.1-25.7h0m0 16.5h0m0 3.3h0m0 2.4h0m.1-8.1h0m.1-2.9h0m0 .3h0m0 8h0m0 .5h0m0 2.6h0m.1-19h0m0 6.2h0m0 6.8h0m0 5.4h0m.1-8.2h0m0 .8h0m0 13.5h0m.1-13.4h0m0 3.2h0m0 .6h0m0 1h0m0 2.3h0m0 3.3h0m0 3.6h0m.1-32.6h0m0 16.8h0m0 6.9h0m.2-1.1h0m0 2.4h0m0 2.1h0m.1-4h0m0 5.9h0m0 3.6h0m.1-11.6h0m0 10.7h0m.1-14.5h0m.1-2.3h0m0 5.8h0m0 10.7h0m.1-14.2h0m0 7h0m0 6.7h0m.1-6.8h0m0 1.4h0m0 1.4h0m.1-7.5h0m0 3.3h0m.1-3.4h0m0 4.7h0m0 2.6h0m0 1.9h0m.1-30.6h0m0 24.2h0m0 6.7h0m0 3.9h0m.1-22.8h0m0 10.5h0m.1 10.5h0m.1-13.6h0m0 7.9h0m0 6.8h0m.1-7.9h0m0 .4h0m0 5.3h0m.2-7.4h0m0 4h0m.1 .8h0m.2-5.3h0m0 3.7h0m.2-13.2h0m0 5.7h0m0 5.9h0m.2-18.6h0m.1 9.4h0m0 7h0m.1 8.4h0m.1-21h0m0 6.9h0m0 4.8h0m.1-3.3h0m0 5.3h0m.2-17.7h0m0 8.2h0m0 12.7h0m.1-15.4h0m0 13.9h0m.1-4.5h0m0 1h0m0 3.6h0m0 1.5h0m0 .3h0m.1-15.7h0m.1 9.7h0m.1-13.1h0m0 4.7h0m0 10.4h0m.1-7.5h0m0 6.4h0m.1-5.4h0m0 1.5h0m.1 4.3h0m.1-14.2h0m0 6.4h0m0 12.4h0m.1-3h0m0 2h0m.1-16.9h0m0 18h0m.1-10.2h0m0 13.5h0m.1-15.1h0m.2 2.9h0m.1 4.2h0m.1-2h0m0 6.7h0m.1-10.7h0m0 6.1h0m0 9.7h0m.1-17.9h0m0 7.3h0m0 2.8h0m0 7.4h0m.1-13h0m0 2.3h0m.1 8h0m0 .5h0m.1-8.3h0m0 .9h0m.1 2.7h0m.1-9.5h0m.1 11.7h0m0 1.9h0m0 1.4h0m.1-21.9h0m0 12.2h0m0 8.5h0m.1 2.9h0m.2-19.6h0m.1 20.5h0m.1-15.2h0m0 4.4h0m0 2.5h0m0 7.1h0m.1-26.3h0m0 14.3h0m0 2.9h0m.2-4.6h0m.1 5.6h0m.1-7.1h0m0 7.3h0m.1-5.5h0m.1-12.3h0m0 18h0m.1-8.5h0m0 8.8h0m.1-8h0m0 1.2h0m0 3.8h0m0 .1h0m.1-.9h0m0 7h0m0 .7h0m.1-11.3h0m.1-3h0m0 8.2h0m0 6.5h0m.1-8.7h0m.1-2.5h0m0 15.8h0m.1-18.9h0m0 4.5h0m.1 .8h0m.1-12.1h0m0 13h0m0 2.4h0m.2-4.6h0m0 2.3h0m0 .3h0m0 1.9h0m.1-5.6h0m0 1.8h0m0 7.1h0m.1-4.7h0m0 2.9h0m.1-7.8h0m0 8.8h0m0 1.6h0m.1-1.7h0m.1-9.3h0m0 1.1h0m.2 12h0m0 .1h0m.2-17.1h0m0 5.8h0m0 .1h0m.1-.5h0m0 0h0m0 7.3h0m.1-5h0m0 1.5h0m.1-1.3h0m.1-4.3h0m0 7.7h0m.1-.6h0m0 5.9h0m0 4.2h0m.1-18.4h0m0 3h0m0 6.4h0m0 .3h0m.2-14.6h0m0 16h0m.1-4.2h0m.1 6h0m.1-7.6h0m0 1h0m0 5.5h0m.1 .1h0m.1-23.8h0m0 11.3h0m0 5.5h0m0 1.9h0m.1-2h0m0 8.2h0m0 2.7h0m.1-7.9h0m0 3.9h0m.1-7.6h0m0 8.9h0m0 2.1h0m.1-11.9h0m.1-11.5h0m0 9.6h0m0 1.8h0m0 2.6h0m.1 1.3h0m.1-20.1h0m0 19.9h0m0 9.4h0m.1-.4h0m.1-18.6h0m0 9.3h0m0 3.4h0m.1-1.4h0m.1-5.5h0m0 0h0m0 1h0m0 2.8h0m.1-12h0m0 13.2h0m0 5.5h0m.1-3.7h0m.1 1.2h0m.1-4h0m0 5.6h0m.1-4.2h0m0 9.1h0m.2-11.3h0m0 6.3h0m.1-10.8h0m0 6.6h0m0 3h0m0 0h0m0 2.4h0m.1-24.7h0m0 13.4h0m0 2.8h0m.1-9h0m0 10.5h0m0 3.4h0m0 6.9h0m.1-21.8h0m.1 13.7h0m0 3.9h0m0 2h0m.3-19.7h0m0 8.6h0m0 8.4h0m.2-6h0m.1 .4h0m0 2.8h0m0 .3h0m.1-4.3h0m.1 5.9h0m.3-4.2h0m.1-8.7h0m.2 1.3h0m0 5.5h0m0 6.6h0m0 3.1h0m.1-14.9h0m0 3.6h0m0 3.9h0m.2-7h0m0 3.2h0m0 1.4h0m0 5.7h0m.3-8.3h0m.1 3.1h0m.1 10.3h0m.1-11.1h0m0 8.6h0m.1-16.8h0m.1 7.6h0m.1 .3h0m0 5.5h0m0 1.5h0m.2-.7h0m0 5.6h0m.1-5.3h0m.2-5.9h0m.1 4.4h0m.2 .5h0m.1-16.4h0m0 17.9h0m0 3.5h0m0 .6h0m.1-9.3h0m0 .7h0m0 10.5h0m.1-13.9h0m.1-2.8h0m.1-.7h0m0 6.6h0m.1-10.8h0m0 11.9h0m0 3.9h0m.1-6.7h0m0 3.3h0m.3 1.9h0m0 7.1h0m.2-17.7h0m0 5.9h0m0 5.4h0m.1-9.5h0m0 12.9h0m.2-17.1h0m0 .5h0m.1 7.2h0m.1 4.3h0m.1-7.1h0m0 5.2h0m0 4.9h0m.1 2.9h0m.1-9.7h0m0 2.8h0m0 1.4h0m0 .4h0m0 .9h0m0 1.8h0m.1-7.5h0m.1-6.7h0m0 3.2h0m.1 2h0m0 4.6h0m0 3.9h0m.2-12h0m.1 1.9h0m0 10.4h0m.1-14.3h0m.1 13.7h0m.1-10.5h0m0 3.9h0m0 0h0m.1-8.9h0m0 8.5h0m.2-10h0m0 12.8h0m.3 6.8h0m0 3.3h0m.1-21.5h0m.2 9h0m0 11.7h0m.2-1.8h0m.1-8.8h0m.1-6.5h0m0 6.3h0m0 10h0m.2-13.8h0m0 1.4h0m.1-.2h0m.1-1h0m.1 2.4h0m0 13.8h0m.3-14.9h0m0 5.3h0m.1 5.2h0m0 2h0m.1-9.6h0m0 10.3h0m.1-20h0m0 8.6h0m0 5.5h0m.3-3.7h0m.2-6.8h0m.2 11.2h0m.1-14.5h0m0 21h0m.1-10.7h0m0 3.7h0m.1 4.6h0m.4-8h0m0 2.9h0m0 .3h0m.1-16.3h0m.1 11.2h0m.4-.6h0m0 2h0m.2-.2h0m.1-3.5h0m0 .3h0m.1 1h0m0 2.2h0m0 3h0m.4 3.4h0m.4-11.5h0m.4-21.9h0m0 23h0m.2-.9h0m.1 9.5h0m1-12.8h0m.1 8.5h0m.1-1.3h0m.1-6.4h0m.7 6.8h0m.2-10.8h0m.6 12.4h0m.1 7.6h0m.7-8h0m.1 1.5h0m.2-4.7h0m0 1.7h0m.2-2.3h0m.3-1.4h0m.1 10.4h0m.7 3.7h0m1-8.9h0m.3-5.4h0m.3-2.7h0m.4-8.1h0m2.7 11.4h0m1.3 .2h0m.5-7.4h0m.6 11.4h0m2.3-9.6h0m.3 6.7h0" stroke="#5c5c5c" stroke-width="1.00" opacity="0.70"/><path d="M53.5 397h0m13.8 9.9h0m5.4-3.8h0m.1-5.3h0m.4-1.9h0m.7 8.2h0m.2-2.6h0m0 1.4h0m.1-7.9h0m.6 16.3h0m1.5-26h0m.1-3.1h0m.2 25.8h0m0 9.6h0m.6-42.3h0m0 4.4h0m.1 3.1h0m0 31.7h0m.3-17.4h0m.3-3.9h0m.2-29.4h0m.1 26.2h0m0 18.5h0m.1-32.5h0m.3 39.9h0m.2-15.4h0m.2-36.4h0m.4 42.5h0m0 5.5h0m.1-30.6h0m.6 3.6h0m0 2.8h0m0 27.2h0m.3-49.7h0m.2-8.5h0m.4 21h0m.6-13.7h0m.2 58.8h0m.2-41.6h0m0 18h0m.4-7.9h0m.1 14.9h0m.2-61.1h0m0 31.8h0m.4 18.9h0m.1-11.5h0m.2 8.6h0m.2-10.1h0m.3-10.3h0m.2 46.8h0m.1-38.2h0m.3 10.4h0m.1-31.4h0m.1 18.7h0m0 16.4h0m.1-30.9h0m0 35.9h0m.2-57.6h0m0 45.2h0m.1 11.3h0m0 17.2h0m.3-36h0m.1 20.8h0m.3 3.2h0m0 24.4h0m.3-47h0m0 11.6h0m0 2.8h0m.1-5.7h0m.1 .5h0m0 17.1h0m.2-38.5h0m.1 2.5h0m.1 58.3h0m.3-66.3h0m0 3.3h0m0 16h0m.1-25.3h0m.1 29.1h0m.1-13.3h0m0 6.8h0m.1-29.6h0m0 60.3h0m.3-36.1h0m.3 3.1h0m.1 42.6h0m.1-40.4h0m0 4.3h0m.2 44h0m.1-62.1h0m0 4.5h0m0 10.3h0m.2 29.9h0m.3-45.8h0m0 26h0m0 2.7h0m.1-14.8h0m.1-15h0m0 34.4h0m.1-20.8h0m0 29.2h0m.2-42.2h0m0 18.2h0m0 6.9h0m.3-11.1h0m0 13h0m0 11h0m.1 1.8h0m.1-52.4h0m.1 30.5h0m.2-3.3h0m.1-10.2h0m0 12.5h0m0 35.6h0m.3-69h0m0 25.8h0m0 2.2h0m0 49h0m.1-35.8h0m.1 10.9h0m.4-47.9h0m.1 28.9h0m.1-1.5h0m.1 4.6h0m.1-7.6h0m0 13.3h0m0 2.5h0m.2-7.2h0m.1-14h0m.1-25h0m.2 2.7h0m0 54.3h0m.1-12.8h0m.1-39.5h0m0 26.7h0m0 7.1h0m.1-1.8h0m0 14.1h0m.2-15.4h0m0 13.5h0m.1-23.2h0m0 10.7h0m0 22.3h0m.1 1.9h0m.1-23.3h0m.1-2.1h0m.2-4.9h0m.1 2.9h0m.1 21.7h0m.1-15.8h0m.1 19.1h0m.1-14.1h0m0 23.4h0m.2-62.8h0m0 26.8h0m0 25.4h0m.1-50.3h0m0 10.8h0m.2 48.3h0m.1-14.3h0m0 5.3h0m.1-18.3h0m.1-3.1h0m.1 36.2h0m.1 2.8h0m.2-83.6h0m0 28.6h0m0 36.4h0m.4-3.2h0m.2-26h0m.2 8.5h0m.2 3.9h0m.1-34.5h0m.1 43.2h0m0 4.4h0m0 20.1h0m.1-12.2h0m.2-47.9h0m0 20.5h0m0 23.3h0m.1 1.6h0m.1-26.9h0m.1-19.7h0m0 39.1h0m.2 14.1h0m.1-11.5h0m.1 7.2h0m.1-40h0m.1 1.3h0m0 22.5h0m0 3.8h0m0 25.8h0m.3-24.9h0m.1 27.4h0m.3-37.1h0m.1-28.5h0m0 29.3h0m.2-23.9h0m.1 22.1h0m0 13.8h0m.1-24.4h0m0 8.5h0m.1-.9h0m.1 24.3h0m.2-42.4h0m0 43.6h0m.1-24.9h0m0 16.2h0m0 4.1h0m.1 10.4h0m.2-13.7h0m.2-23.9h0m0 22.6h0m.1-15.4h0m0 9.6h0m.2 2.5h0m.1-23.3h0m.2 22.6h0m.2-15h0m.1-2.7h0m0 24.5h0m.1 3.2h0m.1 5.3h0m.2-32.9h0m.3-5.9h0m0 9.8h0m0 50h0m.1-36.1h0m.2-11.7h0m0 33.5h0m.1-39.8h0m0 1.7h0m.1-31.9h0m.2 13.8h0m.1 23.8h0m.1 28.5h0m.3-34.7h0m.1 5.2h0m.1 21.6h0m.4-15.8h0m0 19.6h0m0 17.2h0m.1-38.7h0m.1 26.6h0m.1-62.6h0m.3 57.5h0m.1-20.5h0m.1 22.4h0m.4-34h0m0 9.9h0m0 12h0m.1-41.9h0m.1 .6h0m.1 63.1h0m.1-72h0m.1 28.7h0m0 45.4h0m.2-34.8h0m.1 5.9h0m.1 5.1h0m.1 .1h0m.2-18.5h0m.3 16.9h0m.6-17.7h0m.1-9.1h0m0 16.1h0m.2 .6h0m.2-15.8h0m.1 27.6h0m0 2.7h0m.1-3.3h0m0 3.1h0m0 18.6h0m.2-60.1h0m0 43.9h0m.2-16.5h0m0 20h0m.2 1.1h0m.1-1.1h0m.3 12.1h0m.5 4.1h0m.2-16.3h0m0 19.4h0m1-23.9h0m.3 10.4h0m.6-29.7h0m.4 12.5h0m.3-31.9h0m0 17.4h0m.4-26.9h0m.3 39h0m.1-11.1h0m.1 6.9h0m.1-7.3h0m1.6-39.8h0m.1 49.5h0m.2-20.1h0m.2 11.5h0m.2-11.5h0m.2 6.4h0m.2-16.9h0m.2 21.1h0m.2-34.1h0m.1 46.4h0m1.1 4.3h0m.4-21.8h0m0 2.1h0m0 17.4h0m.2-18.4h0m.4 14.9h0m0 6.7h0m.2-41.8h0m.2 47.8h0m.1-11.7h0m.8 17.4h0m.4-31.9h0m.3 2h0m.7 28.5h0m.1 4.8h0m.1-26.6h0m1.2-9h0m.7 6.6h0m.7 5.1h0m1.4-19.4h0m.9 23.4h0m5.2 .8h0m3.1-24.8h0m1.3 48.3h0m2.2-27.4h0" stroke="#9a9a9a" stroke-width="1.00" opacity="0.60"/><path d="M40.7 417.2h0m.6-6.8h0m1.4 11.3h0m1.2 2.5h0m1.3 2.1h0m.4-6.2h0m.1 3.1h0m.6-11.3h0m0 1.8h0m.9 9.4h0m.5-14.5h0m.1 4.5h0m.3 1.8h0m.4-2.4h0m.8-9.8h0m.1 16.2h0m0 1.9h0m.6 5.5h0m.1-9.1h0m.2 10.7h0m.1-12h0m.2-4.1h0m.1 2.6h0m.2-2.5h0m.4 10h0m.5-7.9h0m.1 3.4h0m.2-5.2h0m.3 6.3h0m0 5.6h0m.3-16.4h0m.1 9.3h0m.1-1.8h0m.1-.7h0m.2-6.9h0m0 2.8h0m0 12.7h0m.2-14h0m0 12.1h0m0 6h0m0 2.4h0m.1-13.5h0m0 6.2h0m.1-7.2h0m.1 7.9h0m.1-4.5h0m0 7h0m.1-12.5h0m0 11.8h0m.2-14.2h0m0 5.8h0m0 9.5h0m.2-13.8h0m.2 5.8h0m0 8.8h0m.1-14.4h0m0 .8h0m0 8.3h0m0 .5h0m.1 .6h0m.1-2.1h0m.1-5.5h0m.3 5.8h0m.1-11.4h0m.3 1.8h0m0 10.2h0m.1-9.5h0m0 2.4h0m0 4.6h0m.1 9.1h0m.1-6.1h0m.3-.4h0m.1-1.3h0m.1-11.1h0m0 4.4h0m.1-2h0m0 12h0m.2-6.4h0m.1 .1h0m.1 3.2h0m0 6.2h0m.1-10.2h0m0 1.9h0m.1-3.5h0m0 2.6h0m0 10.7h0m.1-10.4h0m.2 9.6h0m.1-9.8h0m.1-2.9h0m0 4.3h0m.1-17.3h0m0 21.3h0m0 1.2h0m.2-11.6h0m.1 2.5h0m0 7.2h0m0 1.4h0m.1-8.4h0m.1-7.8h0m0 17h0m0 6.8h0m.1-16.7h0m.3-5.9h0m0 9.4h0m0 .8h0m0 2.5h0m.1-6.9h0m0 6.7h0m0 2.7h0m0 .9h0m0 1.3h0m.1-4.5h0m0 6.2h0m.1-19.6h0m0 .9h0m0 13.6h0m.1-6.1h0m0 6.6h0m0 1.2h0m.2-10.5h0m0 7.7h0m.1-.9h0m0 1.9h0m.1 6.8h0m.1-12.4h0m0 3.4h0m.1 0h0m.3-14.9h0m0 14.8h0m.1-6.6h0m0 9.4h0m.1-13.1h0m0 .9h0m.1 9h0m0 4.6h0m.1-3.3h0m.1 7.8h0m.1-19h0m0 2.2h0m0 5.2h0m0 6.3h0m.1 2.5h0m.2-7.8h0m0 4.1h0m.2-11.4h0m0 14.7h0m.2-10.6h0m0 7.4h0m0 1.3h0m.1-11.6h0m.1 1.9h0m0 4.9h0m.1-6.1h0m0 5.4h0m0 3.2h0m.1-14.3h0m0 17h0m.1-2.8h0m.1-3.5h0m0 3.1h0m.1-12.9h0m0 3.6h0m0 10.9h0m.1-12.5h0m0 7.3h0m.2 1.3h0m0 5.6h0m.1-19.4h0m0 1.7h0m.1 14.2h0m.1 1.5h0m.1-7.5h0m0 4.7h0m.1 4.7h0m.1-.5h0m.1-19.7h0m0 12.6h0m0 1.8h0m0 5.2h0m.1-5.9h0m.2 1.7h0m.1 11.4h0m.1-15.3h0m0 3.9h0m0 1.9h0m0 .5h0m.1-8.3h0m.2 11h0m0 7.3h0m.1-13.7h0m.2-6.8h0m0 5.5h0m.1-3.7h0m0 10.5h0m.1-.8h0m.1-21.6h0m0 23.9h0m.1-14.3h0m0 8.4h0m.1 2.4h0m.1 .3h0m.2-12.2h0m0 11h0m.1-1.6h0m0 8h0m.1-12.6h0m0 5.2h0m.1-7.9h0m.1 3.9h0m0 4.3h0m.2-7.8h0m0 10.6h0m.1-1.5h0m0 1.1h0m.1 2.3h0m.1-7.1h0m0 2.9h0m.1-.2h0m0 3.6h0m.1-2.3h0m0 2.1h0m0 1.6h0m.3-7h0m0 3.3h0m.3-7.4h0m0 14.9h0m.1-16.4h0m0 4.7h0m.1 .2h0m0 5.5h0m.1-1.1h0m0 3.5h0m0 .3h0m0 .7h0m.2-11.2h0m0 3.8h0m0 8.6h0m0 .9h0m.1-8.1h0m0 1.7h0m0 5.1h0m.1-18.7h0m0 16.4h0m.1-15h0m.1-4.4h0m0 6.6h0m.3 6.8h0m0 2.7h0m.1-7h0m0 3.7h0m0 4.3h0m.1-2.7h0m0 6h0m.2-8.6h0m0 2.5h0m.1-14.3h0m0 17.9h0m.1 1h0m.1-14.2h0m.1 .3h0m.1 7.8h0m0 3.7h0m.1-4h0m.1-.3h0m0 9.1h0m.2-7.5h0m.2-1.7h0m0 2.9h0m.1-6.3h0m0 9.5h0m.2-6.9h0m0 5.6h0m.1 .8h0m0 1.1h0m.1-12.9h0m0 4.2h0m0 5.8h0m0 5.6h0m.1-25.7h0m.1 23.1h0m.2 2.9h0m.3-10.5h0m.1 6.2h0m0 .4h0m.1 .4h0m.2 3.4h0m.1-16.9h0m.2 9h0m.4-12.6h0m.1 11h0m.1 0h0m0 .4h0m.3 4h0m.3-8.9h0m0 8.2h0m.1 3.2h0m.2-12h0m0 18.6h0m.4-20.9h0m.1 .7h0m0 10.7h0m.2-9.6h0m0 18h0m.2-18.7h0m0 13.5h0m.1-8.9h0m.2 .4h0m.1 .2h0m0 5.9h0m.3 5.8h0m.1 2h0m.1-15.4h0m0 1.1h0m0 9.2h0m.3-4.7h0m.1-16.6h0m.2 23.5h0m.1-12.1h0m.1 1.6h0m.3-6.2h0m0 3.4h0m.2 .1h0m.1 8.2h0m.1-11.1h0m.2-.8h0m.2 4.9h0m.3-3.7h0m.3 1.3h0m.8 9.7h0m.4-13.4h0m.2 7.1h0m.1-4h0m.1 10h0m.5-2.6h0m.5-7.3h0m.6 5.6h0m.6-5.8h0m0 15h0m.4-7h0" stroke="#4f7f62" stroke-width="1.00" opacity="0.65"/><path d="M18.4 421.3h0m.2-5.1h0m0 3.3h0m.1-14.9h0m0 16.3h0m0 1.3h0m.1-1.9h0m.2-13.9h0m0 8.3h0m0 6.4h0m0 4.4h0m.1-19.2h0m.1 2.5h0m.2-13.6h0m.1 34.7h0m.1-3.9h0m.1-24.2h0m.1 20.3h0m.1-3.3h0m.2-4.3h0m0 15.2h0m.1-18.9h0m.1 .6h0m0 2.8h0m0 .5h0m.1-2.3h0m.2 10.1h0m.1-12.8h0m0 13.1h0m0 1.3h0m.2-14h0m.5-11.3h0m0 32.1h0m.1-18.7h0m.1-10.6h0m.1 3.1h0m.1-3.5h0m0 3.5h0m0 25.3h0m.3-20.5h0m0 3.2h0m0 4.1h0m.1-6.5h0m0 6.1h0m0 4.5h0m.1-6h0m0 1h0m.1-8.8h0m.2-8.5h0m0 5h0m0 19.9h0m0 2.3h0m.1 0h0m.1-1.2h0m.1 4.2h0m.1-24.5h0m.1-3.4h0m0 5.2h0m.1 4.2h0m.1-6.1h0m0 15.2h0m.1-11.9h0m0 8.4h0m0 4.9h0m0 2.1h0m.1-5.1h0m.1 7.9h0m0 3.6h0m.2-20.9h0m.1-7.5h0m.1-2.5h0m0 18.6h0m.1-8.6h0m0 10.6h0m0 12h0m.2-35.9h0m.2 14.7h0m0 3.2h0m0 6h0m.1-16.7h0m.1-9.6h0m0 15.4h0m0 22.3h0m.1-22.2h0m0 15.6h0m.1-13.3h0m0 19.5h0m.1-20.1h0m0 20.2h0m.1-17.1h0m.2-9.6h0m0 2.5h0m.1 18.1h0m.2-13.9h0m0 4.2h0m.1-6.7h0m0 2.8h0m.1-14.1h0m0 13.7h0m0 .3h0m.1-6.6h0m0 21.7h0m0 .2h0m.1-30.2h0m0 20h0m.2-14.9h0m.1 6.7h0m.3 14.7h0m0 .4h0m.1-9.1h0m.3-11.7h0m.1 29.1h0m.1-8.2h0m.2-12h0m0 3h0m0 4.4h0m0 3.6h0m.1-2.1h0m0 1.7h0m.1-11.3h0m0 15.3h0m.1-23.4h0m0 2.3h0m0 .4h0m0 2.4h0m0 6.5h0m0 7.6h0m.1-19.4h0m.1-2.8h0m0 12.8h0m0 13.6h0m.1-32.5h0m.1 19.9h0m0 13.1h0m0 2.9h0m.1-26.6h0m0 1.6h0m0 6.5h0m0 2h0m.1-4.4h0m.2-1.9h0m0 15.2h0m.2-11.5h0m0 .1h0m0 1.1h0m0 6.1h0m0 5.3h0m.1 2.1h0m0 1.3h0m.1-18.6h0m0 4.9h0m0 .8h0m0 1.8h0m0 3.3h0m.2-4.8h0m.1 6h0m.1-13.1h0m0 10.4h0m0 1.7h0m.1-14.6h0m0 7.4h0m.2 16.2h0m.1-15.6h0m0 11.3h0m.1-17.4h0m0 5.8h0m.1-1.4h0m0 7.5h0m.1-18.8h0m0 .4h0m0 25.4h0m.1-21.8h0m0 .2h0m0 1.8h0m0 7.6h0m0 1.8h0m0 .7h0m0 3.2h0m0 7.2h0m.1 5.6h0m.2-30.2h0m0 12h0m0 7.3h0m0 3.3h0m.1-9h0m0 1.1h0m.2-13.1h0m0 19.7h0m0 10.3h0m.1-27.1h0m0 9.7h0m.1 5.4h0m.2-13.9h0m0 8.1h0m.1 .8h0m.1-11.7h0m0 .8h0m.1 4.7h0m.1 0h0m.1 11.5h0m.1-21.5h0m.1 20h0m.1-11h0m0 10.3h0m0 6.4h0m.1-13.8h0m.1-13.9h0m0 14.7h0m0 6.2h0m0 3.4h0m.1-18h0m0 17.3h0m.1-19.9h0m0 12h0m.1-.8h0m.1-7h0m0 3.8h0m.1 1.1h0m0 18h0m.1-30.8h0m0 4.2h0m0 1.2h0m0 9h0m0 3.1h0m0 3.3h0m0 1.8h0m.1-15.5h0m0 2.2h0m.1 16h0m0 3.2h0m.1-22.9h0m0 .5h0m0 24.3h0m.1-13.4h0m0 .4h0m.1-11.7h0m0 5.6h0m0 4.4h0m0 .6h0m0 4.7h0m.1-17.8h0m0 2.2h0m0 5.5h0m.1 10h0m0 9.9h0m.1-26.1h0m0 7.7h0m0 2.6h0m0 10.6h0m.1-23.1h0m0 18.1h0m0 1.7h0m0 .1h0m.1-25.5h0m0 10.9h0m0 4.1h0m0 5.7h0m0 6.3h0m.2-26h0m0 20.3h0m.1-18.6h0m0 6h0m0 2.5h0m.1-6.1h0m0 .8h0m0 4.3h0m0 5h0m0 12.1h0m.1-5.5h0m0 14.7h0m.1-14h0m.1-10.5h0m0 10.2h0m0 3.1h0m0 .5h0m.1-12.2h0m0 10.2h0m.1-4.5h0m0 2h0m0 8.6h0m.1-9.8h0m0 6.9h0m0 3.7h0m.1-11.6h0m0 12.9h0m0 0h0m.1-17.5h0m0 5.8h0m0 12h0m0 2.4h0m.1-14h0m.1-6.8h0m0 15.6h0m0 3.4h0m.1-27.1h0m0 10h0m0 11.7h0m0 4.2h0m.2-28.8h0m0 19.4h0m.2 3.1h0m0 3.5h0m0 8.2h0m.1-29.4h0m0 8.6h0m.2-3.2h0m0 8.4h0m0 8.4h0m0 5.8h0m.1-22.2h0m0 .4h0m0 11.8h0m.1-6.8h0m.1-18.5h0m0 32.1h0m.1-13.5h0m.1-5.1h0m0 .3h0m0 8.1h0m.1 7.7h0m.1-10.5h0m.1-10.6h0m.1-3.1h0m0 13.1h0m0 .5h0m0 6h0m.1-11.9h0m.1-.5h0m0 6.6h0m0 13.5h0m.1-10.8h0m0 5.7h0m.1-7.9h0m0 16.4h0m.1-21.6h0m0 2.6h0m0 2.2h0m0 8.3h0m.1-17.3h0m0 3.6h0m0 5.3h0m.1-7.8h0m0 .4h0m0 15.8h0m.1-18.4h0m0 18.8h0m0 4.1h0m0 2.9h0m0 1h0m.1-20.7h0m0 3.7h0m0 2.4h0m0 7.4h0m.2 .3h0m.1-19.6h0m.1 21.3h0m0 3.4h0m.1-16.8h0m0 3.8h0m0 6.7h0m.1-24.8h0m0 1.6h0m.1 17.6h0m0 0h0m0 6.2h0m.1-26h0m0 19.5h0m0 4.9h0m0 6.3h0m.1-35h0m0 12.8h0m0 11.1h0m0 1.6h0m0 5.8h0m.2 7.2h0m0 1.4h0m.1-28.4h0m0 16.4h0m0 4.5h0m.1-22.5h0m0 2.2h0m0 2.7h0m0 5.6h0m0 4.6h0m0 3.7h0m.1-4.1h0m0 4.1h0m.2-17h0m.1 17.2h0m0 .6h0m.1-13.9h0m0 14.7h0m.1-21.5h0m0 .3h0m.1 3h0m0 3.1h0m.1-14h0m.2 8.7h0m0 4.5h0m0 6.1h0m0 3.7h0m.1-24.1h0m0 19.9h0m.1-6.4h0m0 3.5h0m0 1.9h0m0 15.5h0m.2-22.3h0m0 11.2h0m.1-18.1h0m0 19.1h0m0 11.5h0m.1-24.2h0m0 6.1h0m0 8.5h0m0 8.7h0m.1-20h0m0 4.1h0m.1-12h0m.1 3.5h0m0 6.5h0m0 10.9h0m.1-11.6h0m0 5.6h0m0 2h0m.1-5h0m.1 4.1h0m0 10.5h0m.1-17.9h0m0 5.2h0m.1-18.9h0m0 4.8h0m0 18.5h0m0 8.9h0m.1-23.6h0m0 8h0m0 6.6h0m.1-20.9h0m0 8.4h0m0 .4h0m0 18.4h0m0 3.2h0m0 3.3h0m.2-27.3h0m0 3.4h0m0 15.9h0m0 4.7h0m.1 1.1h0m.1-35.7h0m.1 15.8h0m0 7.9h0m0 15.4h0m.1-20.6h0m.1-1.9h0m0 11.7h0m.1-9.8h0m.1-9.6h0m0 5.1h0m.2-5.7h0m0 1.3h0m0 5.5h0m0 .4h0m0 1.7h0m0 .2h0m0 2.5h0m0 6.8h0m.2-10.6h0m0 21.3h0m.1-20h0m0 3h0m0 3.9h0m.1-7h0m0 18.8h0m.1-6.2h0m.2-26.6h0m0 7.9h0m0 19.6h0m.1-15.8h0m0 15.2h0m.1-15.7h0m0 6.9h0m.1 3.1h0m.1-5.9h0m0 5.9h0m0 7.9h0m.1-25.5h0m.1-3.8h0m0 23h0m.1-19h0m0 4.9h0m0 21.3h0m0 5.4h0m.1-12.4h0m.1-.9h0m.1 3h0m0 3h0m.1 2.1h0m.1-24.9h0m0 10.3h0m.1-5.8h0m0 10h0m0 14h0m.1-24.5h0m0 5.1h0m0 9.1h0m0 2h0m.1-25h0m0 10h0m.1 24.4h0m.1-17.9h0m.1 1h0m0 .3h0m0 2.5h0m0 1.8h0m.1-20.9h0m0 8.5h0m0 7.3h0m.2-6.5h0m0 7.7h0m0 1.8h0m.2-21.1h0m0 20.1h0m0 1.2h0m0 .5h0m0 3.3h0m0 1.1h0m.1-8.6h0m.2-1.6h0m.1-15.5h0m0 .5h0m0 10.4h0m0 10.2h0m.1-4.3h0m.1-.6h0m0 19.8h0m.1-27.2h0m0 1.3h0m0 21.1h0m.1-30.5h0m0 19.5h0m.1-8.7h0m0 9.2h0m.1-11.1h0m0 6h0m.1 .4h0m0 .9h0m0 .1h0m0 2.4h0m0 1.1h0m0 3.1h0m0 .3h0m0 5.5h0m.1-7.5h0m0 11.4h0m.1-13.4h0m0 6.9h0m.1-6.7h0m0 .4h0m.1-2.5h0m0 11.5h0m.1 2.7h0m.1-12.1h0m.1-9.2h0m0 3h0m0 .7h0m0 2.6h0m0 3.5h0m0 4.5h0m.1 4.8h0m.1-19.6h0m0 4.6h0m0 1.2h0m.1-9.5h0m0 6.4h0m0 3.2h0m0 19.7h0m.1-30.5h0m0 10.7h0m.1 14.2h0m.1-19.4h0m0 3.1h0m.1-9.6h0m0 24.4h0m0 6.7h0m.3-.7h0m.1-29.7h0m0 11.2h0m0 5.8h0m.2-19.4h0m0 15.5h0m0 1.6h0m0 3.4h0m.1-5.7h0m0 1.7h0m0 3.4h0m0 .4h0m.1-19.6h0m0 10.8h0m0 4.9h0m.1-15.1h0m0 8h0m0 1.8h0m0 9.4h0m.1-8.4h0m0 15.1h0m.1-.6h0m.1-6.2h0m0 1.7h0m.1-13.2h0m.1 9.7h0m0 7.9h0m.1-20.2h0m0 1.7h0m0 5.2h0m0 11.4h0m.1-23.5h0m0 7.1h0m0 23.8h0m.1-22.5h0m0 10.5h0m.1-23.8h0m0 17.5h0m0 1.8h0m.1-8.1h0m0 .3h0m0 10.8h0m.1-8.9h0m0 2h0m0 13h0m.1-5.8h0m0 1.2h0m.1-23.1h0m.2 1.2h0m.1 0h0m0 27.2h0m.1-11.2h0m0 13.6h0m0 .7h0m.1-32.2h0m0 15.8h0m0 19.2h0m.1-16.9h0m0 2.7h0m0 9.6h0m0 3.9h0m.1-26.5h0m0 7.1h0m0 7.9h0m.1-14.5h0m0 16.1h0m.1-5.9h0m0 .7h0m0 5.5h0m0 8.8h0m.2-17.4h0m0 .4h0m0 1.8h0m0 8.7h0m0 2.9h0m.1-19.9h0m0 6.2h0m0 1.2h0m.1-3.6h0m0 3.2h0m.1 4.3h0m0 5.5h0m.1-27.8h0m0 14.6h0m.1-2.7h0m0 15h0m0 8.1h0m.1-6.3h0m.1-14.2h0m0 9.3h0m0 13.4h0m.1-16.5h0m0 13.3h0m.1-20.3h0m0 8.5h0m.1 10h0m.1-27h0m0 7.3h0m0 10h0m.1-10.1h0m.1 21h0m.1-14.9h0m.2-6.3h0m0 9.4h0m0 17.2h0m.1-35.4h0m0 3.3h0m0 5.5h0m0 2.1h0m0 4.4h0m.1 1.7h0m0 2.8h0m.1-6.9h0m.1-11.1h0m0 18.2h0m0 6.9h0m.1-30.5h0m0 18.4h0m0 12.4h0m.1 3.6h0m.1-19.3h0m0 1h0m0 3.7h0m0 12.9h0m0 .3h0m.1-18.5h0m0 4.6h0m0 13.1h0m0 3.7h0m.1-12.5h0m0 .8h0m.1-2.7h0m0 13.8h0m.1-7.5h0m.1-16.3h0m0 4.5h0m0 8.8h0m.1-16.2h0m0 3.7h0m.1 10.8h0m0 1.4h0m0 5.6h0m.1-16.8h0m0 11.2h0m0 6.1h0m.1-16.3h0m0 6.4h0m.1-9.7h0m.1 1.5h0m.1 21.9h0m.2 1.5h0m.1-19.3h0m0 12.5h0m.1-17.5h0m0 8h0m0 .3h0m.2 4.1h0m.1 10.8h0m.1-6.5h0m.1 4h0m.1-.1h0m.1-11.6h0m0 9.2h0m0 .9h0m0 3.6h0m.1-15.4h0m0 3h0m.1-1.6h0m0 8.6h0m0 2.5h0m.1-20.1h0m0 7h0m0 2.2h0m0 11h0m.1-21.1h0m0 5.6h0m0 12.4h0m0 2.1h0m0 7.1h0m.1-5.2h0m.1-19.6h0m.2 18.2h0m.2-27.1h0m0 10.1h0m0 .7h0m0 3.1h0m0 4h0m0 12.3h0m.1-16.6h0m.1-10.5h0m0 15.8h0m0 .3h0m.1 2.8h0m.1-10.6h0m0 18.7h0m.1-31.4h0m0 7.9h0m.1 7.5h0m0 .3h0m0 17.1h0m.1-28.9h0m0 15.5h0m0 .9h0m.1-8h0m0 13.8h0m.1-9.8h0m0 .2h0m0 3.3h0m0 1.8h0m.1 2.4h0m.1-21h0m0 18h0m.1 11h0m.1-5.7h0m0 1.1h0m.1-11.4h0m0 15.4h0m0 4.3h0m.1-23.6h0m0 7.6h0m.2-16.1h0m0 5h0m0 12h0m0 6.7h0m.1-18.7h0m0 5.4h0m0 .7h0m.1-18h0m0 18.4h0m.1-5.6h0m.1-6.1h0m0 15.7h0m.1-18h0m0 27.9h0m.1-12h0m0 7.8h0m0 2.9h0m.1-.9h0m.1-17h0m0 11.4h0m.2-2h0m.1 4.7h0m.1-21.2h0m0 22.7h0m.1-1h0m0 10.6h0m.1-30.3h0m.2 21.3h0m.1-16.2h0m.3-5.4h0m.1 15.6h0m.1-5.3h0m0 1.7h0m.1-1.4h0m0 8.4h0m.1-11h0m.1 3.3h0m0 12.3h0m.2-24.6h0m0 3.6h0m0 9.6h0m0 8.4h0m.1-22.5h0m0 4.3h0m0 13.6h0m.1-6.7h0m.1-16.4h0m.1 35.3h0m.1-14.5h0m.1-3.5h0m0 2.3h0m.1-12h0m0 13.5h0m.1-3h0m.1-5.7h0m0 9.4h0m.1-9h0m.2-4.1h0m.3 15h0m.2-4.1h0m.1 10.6h0m.2-17.9h0m0 20.5h0m.1-25.4h0m0 17.3h0m.1-4.2h0m0 10.9h0m.1 1.7h0m.2-3.3h0m.1-14h0m0 12.3h0m0 .1h0m0 6.2h0m.1-34.1h0m0 15.2h0m.1 0h0m.1-2.7h0m0 1.6h0m0 9.7h0m0 9h0m.4-6.5h0m.1-11.5h0m0 8.4h0m.2 6.9h0m0 3.1h0m.2-4.4h0m0 3.8h0m.1-26.4h0m0 12.1h0m.2-18.1h0m.1 26.3h0m.1-15.6h0m0 6.3h0m0 17.7h0m.1-18.4h0m.1 7.2h0m0 4.7h0m.2-3.2h0m0 12.1h0m.1-36.4h0m0 22.2h0m.2-11.6h0m.2-4.5h0m0 2.8h0m0 11.5h0m.1-3.5h0m0 .9h0m.3 11.5h0m.1-20.3h0m0 4h0m.2 4.4h0m.1-6.4h0m0 4.8h0m0 9.5h0m.1-12.4h0m.1-2.5h0m0 8.5h0m.2-6.8h0m.4-11.3h0m.1 12.7h0m.1 12.8h0m.3-27.8h0m0 29.5h0m.2-29.3h0m.1 10.9h0m0 2.3h0m0 21.9h0m.2-25.6h0m0 5.9h0m.1 1.2h0m0 5.9h0m0 4h0m.6-7.5h0m.1 12h0m0 .2h0m0 4.8h0m.1-20.2h0m.6 9.1h0m0 4.1h0m.1-23.2h0m0 8.4h0m0 7.9h0m.1 4h0m.1-5.4h0m.2-1.9h0m.2 9.1h0m0 5h0m.1-23.9h0m.1 16h0m0 13.1h0m.2-21.2h0m.4-5.7h0m.1 10.6h0m0 4.7h0m.1-6h0m.1-5.7h0m0 2.3h0m.1-3h0m.4 8.5h0m.1-6.4h0m.1 .2h0m0 8.5h0m.3 4.8h0m.1-18.8h0m.1 11.5h0m.1-7.1h0m.2-4.3h0m0 10.6h0m.1-.5h0m0 3.4h0m.4-13.4h0m0 10.9h0m0 2.8h0m.1-20h0m.1 6.3h0m0 10.9h0m.5-15.4h0m0 17.1h0m.2 4h0m.3-3.5h0m.1-1h0m0 3.7h0m.1-19.4h0m.1 27.5h0m.2-14.4h0m.2-2.2h0m0 1.4h0m.2-9.4h0m.5 16.8h0m.1-25.1h0m0 24.2h0m.1-3.9h0m0 6h0m.1-1.7h0m0 8.4h0m.1-16h0m0 .7h0m0 11.6h0m.1-5.8h0m0 .2h0m.6-18.5h0m0 22h0m.1 1.9h0m.2-16.3h0m.1-11.4h0m.1 1h0m.4 26.6h0m.4 6.4h0m.1-17.1h0m.1-4.1h0m.2-4.3h0m0 14.7h0m.4-2.1h0m.3-5.5h0m.8-.7h0m.3-4.4h0m.1-8h0m0 2.9h0m.4 25.6h0m.1-.7h0m.6-8.9h0m.3-11.8h0m.3 19.9h0m.6 2.5h0m.3-15.5h0m.5-1.7h0m.1-15.3h0m0 18.7h0m1.1-15.7h0m.8 24.6h0m.5-20.8h0m.3-6.7h0m0 24.4h0m1.3-19.4h0m1.7 5.7h0m1.1-11.7h0m.6 22.8h0m.8-2.7h0m1.9-1.6h0m1.2-6.1h0m.5 5.8h0m.4-2.9h0m.3-7.4h0m2.8 14.1h0m2.1-16.3h0" stroke="#279a54" stroke-width="1.00" opacity="0.65"/><ellipse cx="30.5" cy="420.0" rx="21.0" ry="19.5" transform="rotate(0 30.5 420.0)" fill="url(#gM)" filter="url(#grain)"/><path d="M18.5 405.6h0m.5 2.2h0m.3-5.5h0m.1 5.7h0m.3-5.5h0m.2 4.8h0m.5-2.2h0m.1 2.8h0m.2-8.1h0m.6 7.8h0m.2 24h0m.1-26.2h0m.5 2.7h0m.2-3h0m.2-4.1h0m.2 5.1h0m.5-7.1h0m.1 4.2h0m.2-3.3h0m.2 6h0m.9-3h0m.2 1.2h0m.4-.4h0m.1-1.5h0m.2 3.5h0m.4-5.5h0m0 3.3h0m.1-1.3h0m.1-3.8h0m0 4.5h0m.5-2.1h0m.3 .8h0m.1 .2h0m.5-2.7h0m.5 2.5h0m0 1h0m.3-2.4h0m.4 1.2h0m.7-.1h0m.2 1.5h0m.3 .9h0m.4-4h0m0 1.7h0m.6 1.8h0m.5-3.2h0m.4 2.8h0m.6-.8h0m1-1.4h0m0 3.6h0m.3-3.2h0m.2 4.3h0m.6-6.4h0m.3 2.6h0m1 3.7h0m.4-5.1h0m.4 7.3h0m.3-4.1h0m.1 1.4h0m.1 .6h0m.3-4.8h0m.6 .8h0m.2 3.5h0m.5-4.9h0m.8 4.5h0m0 2.2h0m.3-.8h0m2.1-1.3h0m.4-1.1h0m.5 2.6h0m.1 3.4h0m.1-8h0m.3 6.3h0m0 22.9h0m.5 .3h0m.3-18.9h0m.3 17.5h0m.1-15.8h0m.2-9.1h0m.9-.6h0m0 19.1h0m0 2.3h0m.3 2.6h0m.1-22.5h0m0 24.2h0m0 1.2h0m.1-12.9h0m0 8.3h0m.1-21.6h0m0 22.3h0m.2-1.8h0m.2-5.4h0m0 1.5h0m.2-15.8h0m0 2.8h0m.2-.2h0m.1 8.9h0m.1-12.4h0m0 2.8h0m.2 15.5h0m0 5.3h0m.1-8.7h0m.1-14.2h0m0 9.4h0m.1 7.4h0m.1 9.8h0m.4-22.7h0m.4 10.6h0m.5 12.2h0m.4-21.8h0m.1 19.7h0m0 .8h0m.2-1.2h0m.4 .9h0m.4-22.7h0m.1 7.5h0m.2 9h0m.1-.9h0m.1-10.5h0m.2-2.1h0m.1 5.2h0m.1 1.1h0m0 13.1h0m.1-17.4h0m0 18.5h0m.1-19.6h0m0 5.6h0m0 4.1h0m.4 6.3h0m.1-4.8h0m0 6.9h0m.1 0h0m.1-3.2h0m.1-.1h0m1.1-14.3h0m0 5.7h0m.3-1h0m.2 6h0m.1-3.2h0m.8-.1h0" stroke="#1b7f42" stroke-width="1.00" opacity="0.55"/><path d="M24.7 363h0m.5 6.8h0m2.6 17.9h0m.2-8.9h0m.6-16.9h0m2.2 13.3h0m.1-5.4h0m1.8-7h0m1.7 25.2h0m.3-20.9h0m1 9h0m0 14.7h0m1.4-24.4h0m.7 6.5h0m.7-11h0m.4 13.2h0m.6 4.5h0m.4-7.8h0m.2 3h0m.1-10.3h0m0 8.3h0m.4 4.2h0m.1-20.1h0m.1 17.1h0m.2-11.1h0m0 20.7h0m.3-10.4h0m.2-1.5h0m.1 1h0m.1-7.7h0m.4 9.1h0m.2 12h0m.1-19.1h0m.1 8.6h0m.2-4.4h0m0 4h0m1.5-19.7h0m.1 32.3h0m.3-13.2h0m.1-1.2h0m.1 9.9h0m.2-32.6h0m0 29.3h0m.2-10.8h0m.2 7.3h0m0 .5h0m.1-5.7h0m.6-6.2h0m.2-6h0m.1 10.9h0m0 17.2h0m.1-25.2h0m0 19.8h0m.2-11.6h0m.1-8.8h0m.1 7.7h0m.1 18.2h0m.2-11.5h0m0 6.2h0m0 .4h0m.1-24.3h0m.2 11.5h0m.1-1.5h0m0 5.8h0m.2-13h0m0 7h0m.2-19h0m0 25.4h0m.1-26.5h0m0 34.7h0m.4-28.1h0m0 19h0m.1-12.5h0m.2 10h0m.1 7.3h0m.1-12.8h0m0 15.4h0m.1-10.8h0m0 11.4h0m.1-23.8h0m.1 3.8h0m0 2.1h0m0 .9h0m0 5.5h0m0 20.1h0m.2-35.8h0m0 2.3h0m0 6.1h0m0 9.9h0m.2 14.6h0m.2-12.9h0m0 9.3h0m.3-27.3h0m0 13.8h0m.3-6.3h0m.2-7.3h0m.1 13.5h0m.1 5.4h0m.1-21.8h0m.2 13.2h0m.3-1.7h0m0 1.6h0m.1 .2h0m.2 3.5h0m.1-15.2h0m.3 22.6h0m.2-26.9h0m0 20.6h0m.1-11.5h0m0 6.1h0m.1-11.3h0m0 9.4h0m0 7.2h0m.2-6h0m.2-8.3h0m0 7.7h0m0 9.9h0m0 7.8h0m.1-9h0m.2-9h0m.1 6.3h0m.1-9h0m.1-.6h0m.1 24.1h0m.2-33.3h0m0 15.8h0m.1 .4h0m.3-.7h0m0 8.8h0m.2-3.1h0m0 14.2h0m.1-14.9h0m.2 6.3h0m.1-.6h0m0 6.6h0m.2-12.4h0m0 15.6h0m.1-9h0m.5 4.8h0m.3-8h0m.2-16.3h0m0 9.2h0m0 1.6h0m.1-15.8h0m0 12.3h0m0 13.8h0m.1-10.7h0m0 8.5h0m0 1h0m0 6.8h0m.1-8.9h0m0 3h0m0 7.7h0m.3 2.1h0m.5-7.9h0m0 5.9h0m.2-43.3h0m0 22h0m.1-6.7h0m.1 15.4h0m.1-16.3h0m.1 8.6h0m.1-.8h0m0 5.9h0m.2 11.5h0m.1-24h0m.1 17.4h0m0 4.2h0m.1 5.6h0m.2-14.7h0m0 17h0m.1-19.1h0m0 14.6h0m.1-3.6h0m.1-7h0m.1-1.6h0m0 3.6h0m.1-8h0m.1-10.3h0m.1 26.7h0m.1-16.2h0m0 5.2h0m.1-8.6h0m0 8.5h0m.1-14.9h0m.1-9.5h0m0 18h0m.2-2.5h0m0 10.1h0m0 3.4h0m0 5.8h0m.3-17.3h0m.2 11.6h0m.1-7.6h0m.1-1h0m.2 13.8h0m.2-10.4h0m0 5.9h0m.1-24.1h0m0 36h0m.1-27.3h0m0 1.3h0m0 5h0m.3-3.7h0m.1-10.5h0m.1 17.3h0m.1 8.1h0m.1-24.2h0m.2 11h0m.1-14.8h0m0 10.5h0m.3-13.2h0m0 13.7h0m0 21.2h0m.1-18.5h0m.1 4.9h0m0 2.6h0m.1-11.2h0m.2-4.8h0m.1 12.4h0m0 .1h0m.1-21.2h0m0 3.4h0m0 13h0m0 10.5h0m.2 14.5h0m.5-27.5h0m0 11.5h0m.1 0h0m.1-9.6h0m.3-8.9h0m0 7.8h0m.1 8.3h0m.2-12.4h0m.1 5.9h0m.1 22.9h0m.2-46.9h0m0 47.7h0m.3-23.5h0m0 16h0m.2-8h0m.1 8.8h0m.3-24.1h0m.1 13.2h0m.1-5.7h0m.2-10.6h0m.1 16.9h0m.2-32.1h0m.1 32.7h0m0 2h0m.1-7h0m.1-16.1h0m.1 15.4h0m.1-1h0m.1 11.9h0m.1 3.7h0m0 5.1h0m.2-27.5h0m.2 1h0m.1 22.9h0m.1-31.4h0m.2 4.6h0m0 27.9h0m.1-21.8h0m.1 2.5h0m.1 10.6h0m.6-4.9h0m0 4.1h0m.2 .4h0m.6-16.1h0m.1 25.2h0m.2-28.6h0m0 16.7h0m.4-2.1h0m.4 6.8h0m.2-10.6h0m.2-6.1h0m0 11.4h0m.2 .8h0m.1-9.1h0m.2 10.1h0m1-14.2h0m.1 .5h0m.1 7.3h0m.1 2.4h0m.2-5.2h0m.1 7.6h0m.1 6.8h0m.4-14.7h0m.2 5.6h0m0 5h0m.2-1.4h0m.5 10.3h0m.1-9.8h0m.2-15.4h0m0 8.2h0m.5 10.4h0" stroke="#860e28" stroke-width="1.25" opacity="0.95"/></g><polygon points="18.5,333.8 76.2,334.4 75.8,392.4 18.5,391.3" fill="none" stroke="#1c1c1c" stroke-width="1.25"/></g>
<path d="M17.40 310.20V431.50M17.80 431.00h-6.20M17.80 421.95h-3.20M17.80 416.65h-3.20M17.80 412.89h-3.20M17.80 409.98h-3.20M17.80 407.60h-3.20M17.80 405.58h-3.20M17.80 403.84h-3.20M17.80 402.30h-3.20M17.80 400.93h-6.20M17.80 391.87h-3.20M17.80 386.58h-3.20M17.80 382.82h-3.20M17.80 379.90h-3.20M17.80 377.52h-3.20M17.80 375.51h-3.20M17.80 373.76h-3.20M17.80 372.23h-3.20M17.80 370.85h-6.20M17.80 361.80h-3.20M17.80 356.50h-3.20M17.80 352.74h-3.20M17.80 349.83h-3.20M17.80 347.45h-3.20M17.80 345.43h-3.20M17.80 343.69h-3.20M17.80 342.15h-3.20M17.80 340.77h-6.20M17.80 331.72h-3.20M17.80 326.43h-3.20M17.80 322.67h-3.20M17.80 319.75h-3.20M17.80 317.37h-3.20M17.80 315.36h-3.20M17.80 313.61h-3.20M17.80 312.08h-3.20M17.80 310.70h-6.20M18.80 432.50H139.90M19.30 432.10v5.20M28.34 432.10v2.80M33.63 432.10v2.80M37.38 432.10v2.80M40.29 432.10v2.80M42.66 432.10v2.80M44.67 432.10v2.80M46.42 432.10v2.80M47.95 432.10v2.80M49.33 432.10v5.20M58.36 432.10v2.80M63.65 432.10v2.80M67.40 432.10v2.80M70.31 432.10v2.80M72.69 432.10v2.80M74.70 432.10v2.80M76.44 432.10v2.80M77.98 432.10v2.80M79.35 432.10v5.20M88.39 432.10v2.80M93.68 432.10v2.80M97.43 432.10v2.80M100.34 432.10v2.80M102.71 432.10v2.80M104.72 432.10v2.80M106.47 432.10v2.80M108.00 432.10v2.80M109.38 432.10v5.20M118.41 432.10v2.80M123.70 432.10v2.80M127.45 432.10v2.80M130.36 432.10v2.80M132.74 432.10v2.80M134.75 432.10v2.80M136.49 432.10v2.80M138.03 432.10v2.80M139.40 432.10v5.20" stroke="#111" stroke-width="0.95" fill="none"/>
<g clip-path="url(#c12)"><g filter="url(#soft)" class="d"><path d="M172.4 395.3h0m6.2-2.6h0m4.2-18.8h0m1.6-9.2h0m.1 22.9h0m.8-4.7h0m0 1.9h0m0 2.4h0m.1-5h0m.5-4.9h0m.4-1h0m.2-5.6h0m.3 6.5h0m.5 .8h0m.5 1.4h0m.9 36.3h0m.1-37.5h0m.2 32.1h0m.6-20.2h0m0 3.1h0m.1-33h0m.1-2.2h0m0 25.1h0m.4 5.6h0m.4-22h0m.5 6.8h0m.1 7.3h0m.2 5.2h0m0 .6h0m.2-7.3h0m.2 20.1h0m.1-15.8h0m.2-16.1h0m.1 29.7h0m.3-36.3h0m.1 15.1h0m.3 11.9h0m.1-.9h0m.2-6.3h0m.2 7.6h0m.2-12.8h0m.2-5h0m0 27.8h0m.1 7h0m.5-13.6h0m.2-20h0m0 8.5h0m.1-2h0m0 27.6h0m.2-27.2h0m.2-10h0m.1-.5h0m0 18.2h0m.4-12.4h0m0 .3h0m0 19.5h0m.1 4.8h0m.1-11h0m.1 11h0m.4-13.3h0m.1-8h0m.2-1.7h0m0 20h0m.2-21.5h0m.1-.6h0m.4-13.7h0m0 2.2h0m0 39.4h0m.1-21.1h0m.1-18.6h0m.1 3.3h0m0 32.2h0m.1-21.6h0m.1-1.6h0m0 10.8h0m0 4.4h0m0 5.4h0m0 .6h0m.1-9.9h0m.2-17.5h0m.1-6.7h0m0 8.5h0m0 3.6h0m.1 .4h0m.2 14.9h0m0 2.2h0m.2-16h0m.3 19.8h0m.1-15.3h0m.2 .4h0m0 .9h0m0 14.5h0m.1-30.3h0m0 32.6h0m.1-33.8h0m0 10.3h0m.2 18.2h0m.1-.6h0m.1-33.7h0m0 19h0m.1-7.8h0m0 10.8h0m.2-1.6h0m0 4.7h0m.2 4.2h0m.1-21.4h0m0 7h0m0 9.1h0m0 8.1h0m.1-23h0m.1 2.5h0m0 27.6h0m.1-18.9h0m0 4.4h0m.1 6.1h0m.1-21.7h0m.1-2.5h0m0 1.4h0m0 15.8h0m0 16.4h0m.1-20.3h0m0 11.2h0m.1-29.7h0m0 22.9h0m.1-8.2h0m.2-5.3h0m.1 7.3h0m0 .9h0m.1 7.4h0m0 .1h0m.2-7.5h0m.1-8.8h0m.1-1.4h0m.1-7.7h0m0 11.5h0m0 22.2h0m.1-19.7h0m0 9.4h0m.1-10.3h0m.1 5.6h0m0 13.8h0m.2-30.3h0m0 20.2h0m0 18.2h0m.1-16.4h0m0 8.1h0m0 15.9h0m.1-37.1h0m.2 16.3h0m.1-26.5h0m.1 .7h0m0 10.9h0m0 .1h0m.1 8.1h0m0 7.7h0m.1-29.3h0m0 16.9h0m0 16.7h0m.1-12.2h0m.1-14.3h0m0 7.4h0m0 .4h0m0 15.3h0m.1-8.8h0m.1-16.2h0m0 32.7h0m.1-20.3h0m0 .8h0m0 9.5h0m.1-5.6h0m0 .1h0m0 12.1h0m.1-8.1h0m0 16.4h0m.1-27.8h0m0 26.9h0m.1-15.1h0m0 0h0m.1-37.9h0m.1 29.4h0m0 2h0m.1 3.1h0m.1-18.8h0m0 5.2h0m0 5.3h0m0 6.1h0m0 6.4h0m0 7.4h0m.1-27.1h0m0 1.1h0m0 18.7h0m0 5.2h0m.1-9.8h0m.2-9.3h0m0 17.1h0m.1-21.1h0m0 15.2h0m0 2h0m.1-18h0m.1 5.1h0m0 11.7h0m.1-38.6h0m0 38.4h0m0 5.1h0m.1 4.6h0m.1-12.7h0m0 3.3h0m0 7.2h0m0 1.7h0m0 4.8h0m.1-30.2h0m.1 20.2h0m0 6.2h0m.1-25.4h0m0 7.1h0m0 5.1h0m.1-15.3h0m.1 8.7h0m0 14.4h0m0 .9h0m0 11.5h0m.1-34.8h0m0 28.6h0m.1-20.5h0m0 11h0m0 4.6h0m0 2.5h0m.1-44h0m0 7.6h0m0 8.2h0m0 3.3h0m0 8.7h0m0 8.7h0m.1-15.2h0m0 7.4h0m0 12.3h0m.1-19.1h0m0 7.9h0m0 7.7h0m0 3.6h0m0 12h0m0 17.2h0m.1-54.5h0m0 3.1h0m0 25.4h0m.1-17h0m0 1.2h0m0 9.4h0m0 15.6h0m.1-37h0m0 21.5h0m0 5.1h0m.1-27.5h0m0 27.4h0m.1-33.5h0m0 4h0m0 18.1h0m0 3.6h0m0 18.3h0m.1-26.5h0m0 17.8h0m.1-19.6h0m0 5.5h0m0 5.8h0m0 5.7h0m.1-31.8h0m0 4.1h0m0 7.5h0m0 13.7h0m.1-19.4h0m0 7.2h0m0 7h0m0 .5h0m0 9h0m.1-2.7h0m0 29.9h0m.1-17.2h0m.1-28.5h0m0 9.9h0m0 .9h0m0 .3h0m0 .9h0m0 7.6h0m0 2.3h0m0 5.7h0m.1-40.4h0m0 2.3h0m0 8.6h0m0 5.7h0m0 3.6h0m.1-12.3h0m0 9.6h0m0 2.1h0m.1-7.2h0m0 5.5h0m0 8.8h0m.2-18.7h0m0 2.5h0m0 33.6h0m.1-39h0m0 13.8h0m0 .7h0m0 1h0m0 3.9h0m0 6.8h0m0 2.4h0m.1-8.4h0m0 .3h0m0 1.2h0m0 6h0m0 4.3h0m0 3.4h0m.1-35.9h0m0 14.6h0m0 9.5h0m.1-4h0m0 9.1h0m.1-27.9h0m0 1h0m0 32.6h0m.1-38.9h0m0 18.5h0m0 8.2h0m0 .1h0m0 4.7h0m.1-15.2h0m.2 1.5h0m.1-23.1h0m0 9.8h0m0 14.8h0m0 2.8h0m0 1.5h0m0 11.6h0m.2-16h0m0 6.5h0m0 9.1h0m.1-25.1h0m0 3.1h0m.1 8.5h0m0 .2h0m0 10.2h0m0 2.6h0m0 1.3h0m.1-28.9h0m0 2.9h0m0 14.2h0m0 .4h0m0 6.2h0m.1-13.9h0m.1-1.6h0m0 9.9h0m.1 .7h0m0 6.3h0m0 8.8h0m.1-34.4h0m0 21.9h0m0 4.4h0m0 2.2h0m0 1.6h0m.1-17.5h0m0 8.7h0m.1-12.6h0m0 .9h0m0 .9h0m0 .1h0m0 .3h0m0 5.4h0m0 8.6h0m0 13.8h0m.1-29.4h0m0 1.2h0m0 21.6h0m.1-14.9h0m0 3.1h0m0 2.8h0m.1-14.9h0m0 1.3h0m0 7.3h0m0 7.2h0m0 2.1h0m.1-27.4h0m0 9.7h0m0 2h0m0 3.3h0m.1-8.3h0m0 1.4h0m0 14.6h0m.1-25.1h0m0 37.1h0m.1-21.1h0m.1 5.5h0m0 1.1h0m0 21h0m.1-52.5h0m0 24.4h0m0 1.7h0m0 3.8h0m0 11.5h0m.1-30.2h0m0 14.6h0m0 .7h0m0 2.3h0m0 11.7h0m.1-21.8h0m0 .6h0m0 7.2h0m0 6.2h0m0 5.3h0m0 13.3h0m.1-43.3h0m0 4.2h0m0 5.2h0m0 3.2h0m0 5.1h0m.2-13.1h0m0 9.6h0m0 5h0m0 3h0m0 .7h0m0 2.6h0m0 16.8h0m.1-39h0m0 12.8h0m0 5.1h0m0 3.4h0m0 7.4h0m.1-13.6h0m0 1h0m0 16.8h0m0 .6h0m.1-30.3h0m0 4.1h0m0 11h0m0 3.2h0m0 2.2h0m0 13.6h0m.1-50.7h0m0 16.9h0m0 6h0m0 3.8h0m0 4.1h0m.1-23.4h0m0 4.2h0m0 13.3h0m.1 3.1h0m0 1.3h0m0 18.3h0m0 1.8h0m.1-25.3h0m0 7.7h0m0 7.7h0m0 11.9h0m.1-46.8h0m0 18.5h0m0 9.9h0m0 1.2h0m0 4.6h0m.1-9.6h0m0 .5h0m.1 16.6h0m.1-35.8h0m0 8.4h0m0 20h0m0 1.6h0m.1-23.5h0m0 7.3h0m0 1.1h0m0 2.6h0m.1 9.3h0m0 3.2h0m0 3.8h0m.1-40.1h0m0 7.2h0m0 15.2h0m0 1.4h0m0 11.2h0m.1-22.5h0m0 11.3h0m0 5.8h0m0 2.4h0m.1-18.6h0m0 3.5h0m0 9.9h0m0 1.2h0m0 6.9h0m0 1.6h0m0 3.1h0m0 9.7h0m.1-36.6h0m0 9h0m0 .6h0m0 2.6h0m0 16.2h0m.1-21.6h0m0 16.7h0m0 .6h0m0 29.1h0m.1-43.1h0m0 .5h0m0 10.3h0m0 5.4h0m.1-15.8h0m0 5.2h0m0 14.9h0m0 5.6h0m.1-25.5h0m0 25.6h0m.1-45.1h0m0 3.3h0m0 8.2h0m0 6.2h0m0 4.8h0m.1-3.2h0m0 14.2h0m.1-28.5h0m0 8.8h0m0 18h0m0 .2h0m0 16.2h0m.1-28.2h0m0 11.1h0m0 2.4h0m0 .1h0m0 5h0m0 10.9h0m.1-50.1h0m0 19.4h0m0 2.1h0m0 .7h0m.1-11.2h0m0 6.3h0m0 2.9h0m0 3.4h0m0 9.4h0m0 8.5h0m.1-35h0m0 12.5h0m0 .7h0m0 3h0m0 5.9h0m0 6h0m0 7.6h0m.1-35.8h0m0 .4h0m0 2.5h0m0 16.9h0m0 10.1h0m.1-26.8h0m0 5.3h0m0 4.7h0m0 10h0m.1-9.3h0m0 1h0m0 1.8h0m0 5.6h0m0 4.6h0m0 3.2h0m.1-37.4h0m0 10.9h0m0 5.8h0m0 3.8h0m0 2.4h0m0 1.8h0m.1-8.4h0m0 8.3h0m0 9.6h0m0 5.2h0m.1-45h0m0 19.7h0m0 .7h0m0 9.9h0m0 4.8h0m.1-12.6h0m0 11h0m0 1.5h0m0 8.8h0m.1-38.1h0m0 21.4h0m0 1.9h0m0 11.6h0m.1-15.8h0m.1-17.7h0m0 31h0m0 1.3h0m0 .8h0m.1-11.9h0m0 2h0m0 3.6h0m.1-14.3h0m0 5.3h0m0 2h0m0 4.9h0m0 .7h0m.1-39.8h0m0 8.9h0m0 13.4h0m0 5.6h0m0 1.3h0m0 4.2h0m0 1.2h0m0 3.8h0m0 3h0m0 2.3h0m0 6.8h0m.1-14.3h0m.1-7.9h0m0 2.3h0m0 4.3h0m0 4.4h0m.1-16.9h0m0 2.7h0m0 11.5h0m0 .2h0m0 3.4h0m0 .9h0m0 19.1h0m.1-68.5h0m0 33.5h0m0 7.1h0m0 11.6h0m0 4h0m0 3.7h0m0 10.4h0m.1-13.7h0m0 11.6h0m.1-39.4h0m0 8.5h0m0 1.7h0m0 .4h0m0 4.6h0m.1-27.5h0m.1 17.5h0m0 19.4h0m.1-22.7h0m0 13.2h0m.1-3.1h0m0 .4h0m0 3.8h0m0 1.1h0m0 7h0m0 1.6h0m0 13.2h0m0 12.4h0m.1-34.9h0m0 10.8h0m0 2.9h0m.1-23h0m0 .4h0m0 6.3h0m.1-11.1h0m0 11.5h0m0 .8h0m0 1.1h0m0 6.1h0m0 23.2h0m.1-39h0m0 19.3h0m0 8.8h0m.1-29.6h0m0 1.8h0m0 1.9h0m0 12.5h0m0 22.6h0m.1-41.6h0m0 7.2h0m0 21.8h0m.1-6.5h0m.1 2.7h0m0 11.9h0m.1-55.7h0m0 17.3h0m0 4.9h0m0 2.1h0m.1-4.3h0m0 0h0m0 2.7h0m0 .5h0m0 15.7h0m.1-22.1h0m0 15.3h0m0 5h0m0 3.4h0m0 5h0m0 3.1h0m.1-31.5h0m0 4.1h0m0 15.4h0m0 8.5h0m0 8.4h0m0 9.3h0m.1-52.1h0m0 12.4h0m0 .9h0m0 6.2h0m0 4.7h0m0 9.4h0m0 5.9h0m.1-19h0m0 2h0m0 3.6h0m0 .8h0m0 .3h0m0 6.8h0m0 5.4h0m.1-6.8h0m.1-22.6h0m0 1.4h0m0 15.8h0m0 8.9h0m0 4.9h0m0 .1h0m.1-28.8h0m0 .4h0m0 8.6h0m0 3.7h0m.1-14.2h0m0 18.6h0m0 1.2h0m.1-23h0m0 5.1h0m0 3.3h0m0 14h0m.1-.8h0m0 5.7h0m0 4h0m.1-31.9h0m0 2.7h0m0 .6h0m0 9.6h0m0 .8h0m0 .2h0m0 6.1h0m.1-8.3h0m0 3.4h0m.2-23.9h0m0 8h0m0 4.4h0m0 1.7h0m0 .3h0m0 7h0m0 1h0m0 4.3h0m0 3.1h0m0 7.3h0m0 11.7h0m.1-37.9h0m0 3h0m0 25.8h0m0 3h0m0 11.4h0m.1-37.8h0m0 2.1h0m0 .9h0m0 12.5h0m0 7.8h0m0 .2h0m.1-43.2h0m0 3.3h0m0 17.5h0m0 1.2h0m0 2.4h0m0 .2h0m0 6.5h0m0 8.5h0m0 8.1h0m.1-40.9h0m0 22.6h0m0 11.4h0m0 2.2h0m.1-44.2h0m0 16.5h0m0 5.6h0m0 .5h0m0 2.2h0m0 10.4h0m0 2.4h0m0 1.8h0m0 9.2h0m.1-18.5h0m0 4h0m0 10h0m0 2.6h0m.1-37.5h0m0 12h0m0 4.3h0m0 .2h0m0 3.9h0m0 6.6h0m0 .1h0m0 3.6h0m0 .6h0m0 3.5h0m0 8.2h0m.1-33h0m0 .3h0m0 5.7h0m0 7.7h0m0 5.6h0m0 8h0m.1-33.9h0m0 11.1h0m0 5h0m0 2.4h0m0 17.5h0m.1-33.8h0m0 1.7h0m0 23.8h0m0 3.6h0m.1-35.8h0m0 3.1h0m0 4.4h0m0 6.2h0m0 5.9h0m0 3.8h0m0 6.5h0m.1-15.5h0m0 9.3h0m0 .3h0m0 13h0m.1-45h0m0 14.2h0m0 10.9h0m0 .1h0m0 4.3h0m0 12.6h0m0 4.3h0m.1-16.6h0m0 12.3h0m0 1h0m.1-35.1h0m0 23.7h0m0 1.9h0m0 2.4h0m.1-22.6h0m0 22.9h0m0 4.4h0m.1-27.2h0m0 2.4h0m0 2.7h0m0 14.8h0m0 14.1h0m.1-40.6h0m0 14.2h0m0 .3h0m0 6.2h0m0 3.2h0m0 3.9h0m0 .3h0m0 .6h0m0 2.1h0m0 3.1h0m0 1.8h0m.1-33.5h0m0 16.1h0m.1-5.8h0m0 6.5h0m0 1.2h0m0 1.2h0m0 2.3h0m.1-18.6h0m0 7.6h0m0 .1h0m0 3.1h0m0 .5h0m0 19.4h0m0 1h0m0 8.4h0m.1-58.1h0m0 27h0m0 3.8h0m0 1.1h0m0 4.1h0m0 5.1h0m.1-27.3h0m0 43.1h0m.1-25.5h0m0 4.9h0m0 9.5h0m.1-21.3h0m0 7h0m.1-16h0m0 2.6h0m0 19.2h0m.1-5.2h0m0 18.8h0m.1-34.5h0m0 8.7h0m0 22.4h0m0 5.3h0m.1-45.4h0m0 13.3h0m0 16.6h0m0 2.3h0m0 4.2h0m0 10.9h0m.1-27.7h0m0 10.4h0m0 4h0m0 40.1h0m.1-59.7h0m0 16.4h0m0 7.6h0m.1-21.7h0m0 1.9h0m0 13.9h0m0 12.1h0m.1-20.1h0m0 17.3h0m0 7.7h0m.1-38.9h0m0 1.7h0m0 3.4h0m0 .2h0m0 1.2h0m0 .7h0m0 5.1h0m0 .1h0m0 14.2h0m.1-20.5h0m0 .5h0m0 2.1h0m0 7.7h0m0 9.7h0m.1-28.6h0m0 12.8h0m.1 2.6h0m0 6.6h0m0 4.1h0m0 9.9h0m0 5h0m.1-38.5h0m0 7.1h0m0 5.6h0m0 16h0m.1-34.2h0m0 1.4h0m0 9.3h0m0 14h0m0 8.2h0m0 2.4h0m.1-32.4h0m0 10h0m0 4.9h0m0 3.3h0m0 .4h0m0 7.7h0m.1-11.9h0m0 1.2h0m0 16.4h0m0 8.9h0m.1-30.7h0m0 7.7h0m0 2.9h0m0 6.9h0m0 2.6h0m0 2.2h0m.1-17.6h0m0 12.3h0m0 .2h0m0 15.4h0m.2-34.7h0m0 2.1h0m0 10.8h0m0 15h0m.1-36.7h0m0 2.8h0m0 6.8h0m0 4.2h0m0 4.5h0m0 14.4h0m.1-28h0m0 9.7h0m0 3.2h0m0 1.8h0m.1-13h0m0 12.7h0m0 .5h0m0 11.7h0m0 .4h0m0 .1h0m0 6.3h0m.1-15.8h0m0 13.7h0m.1-25.2h0m0 3.7h0m0 5h0m0 1.6h0m0 7.9h0m.1-22.5h0m0 7.7h0m0 4.7h0m0 .5h0m0 3.6h0m0 13.6h0m.1-34.2h0m0 3.6h0m0 11.4h0m0 7.7h0m0 .9h0m0 11.4h0m.1-49.3h0m0 9.5h0m0 32h0m0 1h0m0 16.7h0m.1-41.3h0m0 2.8h0m0 .4h0m0 15.3h0m0 6h0m0 9.5h0m0 5h0m0 3.7h0m.1-45.4h0m0 7.3h0m0 4.6h0m0 8.2h0m0 2.4h0m0 6h0m.1-26.9h0m0 13.7h0m.1-7.5h0m0 5.2h0m0 11.1h0m0 4.3h0m0 10.2h0m.1-20.2h0m0 18.3h0m.1-18.7h0m0 7.4h0m.1-23h0m0 9.7h0m0 3.1h0m0 .8h0m0 2.3h0m0 2.2h0m0 0h0m0 2h0m0 3.2h0m0 1h0m0 8.9h0m.1-26.6h0m0 3.1h0m0 3.2h0m0 .9h0m0 5.4h0m0 .6h0m.1-9.1h0m0 15.1h0m.1-14.7h0m0 12.5h0m.1-27.4h0m0 11.7h0m0 10h0m0 19.4h0m.1-32h0m0 2.9h0m0 1.1h0m0 1.3h0m.1-4.5h0m0 3.4h0m0 .2h0m0 1.1h0m0 4.8h0m0 2.4h0m0 3.6h0m0 9.7h0m.1-11.8h0m0 5.2h0m0 2.2h0m.1-26h0m0 9.4h0m.1-24.8h0m0 44h0m0 5.4h0m.1-28.8h0m0 4.3h0m0 7.1h0m0 4.9h0m0 .7h0m.1-18.7h0m0 10.3h0m0 3.1h0m0 13.4h0m0 .1h0m.1-18.1h0m0 .7h0m.1-17.7h0m.1 16.9h0m0 1.1h0m0 2.5h0m0 5.9h0m.1-8.9h0m0 3.5h0m0 6.5h0m.1-14.1h0m0 2.7h0m0 2h0m0 .9h0m0 6.8h0m0 9.8h0m.1-10.3h0m0 8.7h0m.1-33.7h0m0 5.8h0m0 8.5h0m0 7h0m.1-18.2h0m0 16.3h0m0 7.5h0m0 1.1h0m0 14h0m.1-29.4h0m0 2.8h0m0 4.7h0m.1 4.9h0m0 2.3h0m.1-15.2h0m0 8.6h0m0 8.2h0m.1-34.1h0m0 14.3h0m0 10.4h0m0 1.4h0m0 1h0m0 2.8h0m0 4.2h0m0 .5h0m0 2.7h0m0 .2h0m.1-19.6h0m0 1.5h0m0 1.6h0m0 6.4h0m0 11.9h0m0 2.9h0m.1-13.5h0m0 0h0m0 16h0m.1-23.2h0m0 4.4h0m.1-18.6h0m0 7.6h0m0 4.5h0m0 10.5h0m0 2.7h0m.1-8.7h0m0 3.7h0m0 7.8h0m.1-24.3h0m0 .7h0m0 8.5h0m0 .4h0m0 14.7h0m0 17.7h0m.1-21.9h0m.1-21.3h0m0 7.4h0m0 2.5h0m.1 .4h0m0 3.9h0m.1-14.3h0m0 1.1h0m0 9.6h0m0 9.9h0m.1-22.2h0m0 20.2h0m0 .5h0m0 .2h0m0 8.5h0m0 2.2h0m.1-26.3h0m0 7.3h0m0 14.3h0m0 14.6h0m.1-48.4h0m0 5.5h0m0 3.7h0m0 1.1h0m0 2.7h0m0 .2h0m0 2.6h0m.1-.3h0m0 35.8h0m.1-27.9h0m0 8.7h0m.1-16.9h0m0 1.9h0m0 6.1h0m0 .1h0m0 10.1h0m.1-20.2h0m0 .9h0m0 2.1h0m0 17h0m.1-9.7h0m0 .6h0m0 2.9h0m.1 8.3h0m.1-19h0m0 1.1h0m0 7.4h0m0 1.1h0m0 1.7h0m0 4h0m0 20.6h0m.1-47.9h0m0 15.8h0m0 3.4h0m0 3h0m.1-21.1h0m0 10.3h0m0 1.1h0m.1-16.6h0m0 10.8h0m0 9.5h0m0 32.5h0m.1-48.8h0m0 1h0m0 15.3h0m.1-6.3h0m0 22.6h0m.1-32.1h0m0 13.8h0m0 16.9h0m.1-37.5h0m0 23.3h0m0 13.8h0m0 1.6h0m0 2h0m.1-34.7h0m0 8.2h0m0 3.8h0m0 9.7h0m.1-16.6h0m0 9.5h0m0 35h0m.1-44.1h0m0 7.4h0m0 13.4h0m0 .8h0m.1-19.9h0m0 14.2h0m0 1.8h0m0 14.3h0m.1-29.7h0m0 4.1h0m0 16.2h0m0 13.8h0m.1-47.4h0m0 5.9h0m0 4.2h0m0 .5h0m0 29.2h0m0 6.7h0m.1-29.7h0m0 3.6h0m0 6.2h0m0 1.4h0m.1-5.7h0m0 1.7h0m0 .3h0m0 6.8h0m0 3.1h0m.1-23.3h0m0 16.7h0m0 11.7h0m.1-25.5h0m0 2.4h0m0 8.5h0m0 4h0m.1-18.6h0m.1 35.5h0m0 .8h0m.1-33.3h0m0 7.8h0m.1-11.7h0m0 4.7h0m0 8.3h0m.1-26.1h0m0 9.8h0m0 30.7h0m.1-34.2h0m0 20.6h0m0 2.8h0m0 2.8h0m0 .3h0m0 1.5h0m0 2.2h0m0 17.4h0m.1-29.1h0m0 13.4h0m.1-30.1h0m0 3.8h0m0 33.6h0m.1-38.3h0m0 .2h0m0 11.8h0m0 8.1h0m0 11.4h0m.1-15.3h0m0 5.1h0m0 14.8h0m.1-11.9h0m0 8.7h0m.1-20.9h0m0 .5h0m0 .1h0m0 6.6h0m0 2.3h0m0 5.9h0m0 7.9h0m0 13.1h0m.1-44.7h0m0 18.4h0m0 4.2h0m0 3.7h0m.1-15.3h0m0 7h0m0 4.3h0m0 7.2h0m.1-12.5h0m0 .2h0m.1-20h0m0 21.7h0m0 1.1h0m.1-11.6h0m0 4.8h0m0 .1h0m0 5.4h0m0 4h0m.1-17.8h0m0 29.1h0m.1-39.2h0m0 5.6h0m0 6.3h0m0 4.9h0m0 1.2h0m0 8.4h0m0 20.3h0m.1-36.1h0m0 11h0m0 .2h0m.1-10.5h0m.1 6.5h0m0 1h0m0 14.1h0m.1-35.8h0m.1 42.3h0m.1-34.5h0m0 3.7h0m0 29h0m.1-31.6h0m0 1.9h0m0 13.8h0m0 13.9h0m.1-15.5h0m0 6.2h0m.1-11.3h0m0 6.3h0m0 4.9h0m.1-22.2h0m0 6.6h0m0 7h0m0 5.1h0m0 2.6h0m0 18.2h0m.1-15.4h0m.1-6.3h0m0 .5h0m0 12.3h0m.1-19.7h0m.1 17.5h0m0 10.1h0m.1-38.9h0m0 6.9h0m0 7.8h0m0 1.1h0m0 3.2h0m0 2.8h0m.1-.5h0m0 5.2h0m.1-13.7h0m0 17.1h0m.1-8.4h0m0 16.9h0m.2-25.3h0m0 5.4h0m0 4.8h0m.1-14.7h0m0 6.9h0m0 9.8h0m0 7h0m.1-28.4h0m0 13h0m0 15h0m.1-39.3h0m0 26.8h0m0 1.8h0m0 18.3h0m0 5.1h0m0 1.1h0m.1-43.9h0m0 6.5h0m.1 0h0m0 15.7h0m0 3.1h0m0 .8h0m.1-4.2h0m0 .1h0m0 4.8h0m.1-8h0m0 .2h0m0 .7h0m0 9.6h0m.1-18.1h0m0 15.9h0m.2-7.7h0m0 6.4h0m.1 3.4h0m.1-23.6h0m.1-4.6h0m0 1h0m0 24.6h0m.1-29.6h0m0 18.2h0m0 7.8h0m.1-11.5h0m.1-17.6h0m0 22.3h0m0 8.7h0m.1-16.9h0m0 11.6h0m0 2.8h0m0 4.7h0m.1-29h0m0 7.3h0m0 .7h0m0 17.3h0m.1-6.5h0m.1-9.6h0m0 .5h0m0 14h0m.1-30.8h0m.1 15.2h0m0 14h0m.1-14h0m0 17.9h0m.1-14.3h0m0 3.4h0m0 2.3h0m.1-5.6h0m.1 25.3h0m.1-27.7h0m0 15.8h0m.1-9.5h0m0 26.2h0m.1-28.9h0m0 6.2h0m.1-9.7h0m0 13.2h0m.1-7.7h0m0 6.1h0m0 2.8h0m0 5.8h0m.1-30.5h0m0 3.1h0m.1 7.5h0m0 21.3h0m.1-26.4h0m0 3h0m.1 .5h0m0 22.2h0m.1-5.3h0m0 18.3h0m.2-29.8h0m0 6h0m0 4.1h0m.2-17.4h0m0 3.8h0m0 10h0m0 5.6h0m.1-22.8h0m0 29.2h0m.1-25.7h0m.1 .4h0m0 22h0m0 15.7h0m.1-48.9h0m0 16.2h0m0 4.1h0m0 13.1h0m0 12.3h0m.1-18.1h0m.1-9h0m0 3.1h0m.2 1.6h0m.1-6h0m.2 12.2h0m0 12h0m.3-27.9h0m0 3.1h0m.1 16h0m.1-19.2h0m.1-2.1h0m0 12h0m0 9h0m.3-11.1h0m.1 11.2h0m0 7.7h0m.1-18.1h0m0 12.5h0m.1-9.8h0m0 17h0m.2-23.2h0m0 2.1h0m.1 10.7h0m.1-11.4h0m0 11.2h0m.2-12.7h0m.1 10.1h0m.1 13.3h0m.1-.3h0m.1-12.6h0m.1-4.2h0m.1 7.8h0m.1-2.8h0m0 9.4h0m.1-10.5h0m0 15.6h0m.3-24.1h0m.1-1.4h0m0 11.8h0m.2-8.5h0m0 1h0m.1 22.5h0m.4-28.2h0m.1 7.7h0m.1-1.7h0m.1 7.7h0m.4-7.2h0m.2 12.4h0m.2-3.5h0m.3-8.4h0m.3 5.6h0m.1 .3h0m.2 6.9h0m.5-15.6h0m.2 10.5h0m.3-8.4h0m0 14.7h0m.1-7.9h0m0 3.3h0m.1-2.9h0m0 15.4h0m.2-20.9h0m.3-5.9h0m.1 5.6h0m.5 .8h0m.3-1.8h0m.3 1.5h0m.3 4.2h0m.2-.1h0m.4 7.4h0m1.5-9.1h0m.8 1.6h0m1.3-5.5h0m4.5 16.1h0m.5-9h0m.5 12.1h0m4.4-17h0m.2 2.9h0m2.7 2.8h0m2.6-13.2h0" stroke="#445252" stroke-width="1.00" opacity="0.60"/><path d="M168.4 403.9h0m.6-29.2h0m0 13.2h0m1-.2h0m0 3.7h0m.4 12.7h0m.8-31.8h0m.4 26.5h0m1-8.5h0m.8 8.1h0m.2-6.8h0m.3 3.1h0m.2 8.1h0m.1-17.6h0m.5 17.7h0m0 17.7h0m.4-41.2h0m.2 25.5h0m.1-30.9h0m0 16.6h0m0 3.8h0m.2-23.2h0m.1 40.2h0m.3-20.6h0m.3 9.9h0m0 1.6h0m.2-21.3h0m0 26.4h0m.1-16.6h0m.4-7.8h0m.1 30.9h0m.1-31.5h0m.3 18.4h0m.1-1h0m.2-1.2h0m.1-7.8h0m.1-14.3h0m0 17.5h0m0 15.5h0m.5-22.5h0m.1 22h0m.1-3.1h0m.3 3.3h0m.1-29.2h0m0 13.7h0m.2 6.2h0m.4-14.5h0m.1 16.5h0m.1-10.8h0m0 15.5h0m.1-21.9h0m.2 9.3h0m0 7.5h0m.2-17.9h0m.1 1.6h0m.5 15.9h0m.1-4h0m.1-4h0m.1-22h0m0 3h0m0 10.5h0m.1 10.2h0m.2-11h0m0 19.3h0m0 28.1h0m.1-44.4h0m0 15.2h0m.1-10.3h0m0 13.3h0m0 3.9h0m.1-8.5h0m.3-18.4h0m0 1.9h0m.2 19.5h0m.5-16.5h0m.1 24.7h0m.2-21.5h0m0 .6h0m.4-22.4h0m.1 21.8h0m0 1.4h0m.1 6h0m.2-5.2h0m0 13.7h0m.1-3.8h0m.1-8.2h0m.3 9.5h0m0 11.8h0m.1-34.4h0m.2-2.7h0m0 10.3h0m.3 16.8h0m.2-8.8h0m0 2.1h0m0 .2h0m0 3.8h0m.3-16.9h0m0 14.7h0m.1-15.6h0m0 10.8h0m0 2.9h0m.1-5.8h0m.1-10.2h0m0 2.3h0m.2-8.6h0m0 29.5h0m.1-26.9h0m0 13h0m0 4.2h0m.2 12.2h0m.1-17.8h0m.1 .4h0m.1 15.7h0m.1-29.1h0m0 12h0m.1 8.9h0m0 7.7h0m.1-.1h0m0 3.8h0m.1-33.5h0m0 8.7h0m.1 27h0m.1-37.4h0m.1 25.6h0m.1-16.8h0m0 13.9h0m.1-17.8h0m.2 18.8h0m0 13h0m.1-16.9h0m.1-2.1h0m0 6.5h0m0 15.2h0m.1-28.2h0m0 3.4h0m0 22h0m.1-27.6h0m0 13.6h0m0 1h0m.3-17.9h0m0 22.5h0m.3-9.5h0m.1-11.1h0m0 11.5h0m.1-1.3h0m.1 6.5h0m0 3.2h0m0 2h0m.1-.5h0m.1-18h0m0 .6h0m0 4.7h0m0 3.4h0m0 3.2h0m.1-15.7h0m0 20.6h0m.1-28h0m0 10.2h0m.2 23.8h0m.1-25.1h0m0 9.1h0m0 7.4h0m.2-3.6h0m.1-17.9h0m0 16.7h0m0 16h0m.1-9.5h0m.1-7h0m0 6.4h0m.1-19.9h0m0 28.2h0m.1-31h0m0 9.8h0m0 6h0m.1 10.1h0m.3-23.3h0m0 18.3h0m.1-10.6h0m.1 3.6h0m.1-9.5h0m.2 3.6h0m0 13.1h0m.2 15.4h0m.2-9.6h0m.1 1.2h0m.1-18.4h0m.2 3.8h0m.2-7h0m0 6.5h0m.3-1.7h0m0 9.1h0m.1-9.2h0m0 1.5h0m0 8.9h0m.1 2.5h0m0 10.9h0m.1-38.9h0m0 22.4h0m.1-17.2h0m0 2.7h0m0 1.7h0m.2-7.6h0m0 12.3h0m0 1.8h0m.3 4.8h0m0 2.8h0m0 6.7h0m0 6.5h0m.1-29.5h0m.1 4.2h0m.2-2.6h0m0 2.9h0m0 5.9h0m0 1.6h0m.1-1.1h0m.1-8.3h0m0 11.2h0m0 2.8h0m0 7.2h0m0 7h0m.1-9.1h0m0 5.1h0m.1-30.3h0m.1 18.1h0m.1 .5h0m0 8.4h0m.3-14.9h0m0 14.4h0m.3-11.8h0m0 4.3h0m0 0h0m.1-1.3h0m.1-8.2h0m.2-1.4h0m0 3.8h0m.1-8.7h0m0 33.7h0m.1-28.7h0m.1 16.3h0m.1-4.9h0m.1-23.4h0m0 34.2h0m.1-29.2h0m.1-7.2h0m0 4.1h0m0 3.1h0m0 9.6h0m.1 16.1h0m.1-22.9h0m.2 29.2h0m0 15.7h0m.1-25.3h0m.1-17.1h0m0 11.9h0m.1-22.6h0m0 1h0m.1 7.9h0m.2-1h0m0 10.1h0m0 1.6h0m.1-6.6h0m.1-.2h0m0 6.4h0m.1-5.8h0m0 13.2h0m.1-16.4h0m0 23h0m.2-.4h0m.1-29.5h0m0 21.6h0m.3 8.6h0m0 9h0m.1-15.3h0m0 13.2h0m.2-28.7h0m0 4.6h0m.1 18.6h0m.2-18.9h0m.1 9.1h0m0 4.1h0m0 4.5h0m.1-20h0m0 11.7h0m.1-17.7h0m.1-10h0m.1 29.4h0m.2-17h0m0 6.5h0m.2-13.7h0m0 21.1h0m.1-7.9h0m0 4.7h0m0 3.8h0m0 1.6h0m.2-11.6h0m.1-1.9h0m.1 4.7h0m0 18.3h0m.1-10.9h0m0 9.9h0m.1-7.8h0m0 3.9h0m.1-15.1h0m0 1.9h0m0 1.6h0m0 11.3h0m.1-7.7h0m0 9.4h0m.1-33.3h0m0 27.3h0m0 4.1h0m.2-10h0m.1-15.7h0m0 8.7h0m0 1.6h0m.2 .2h0m.1-28.1h0m0 41.8h0m0 1.2h0m.2-28.2h0m0 3.2h0m.2 10.5h0m0 .1h0m0 .9h0m0 1.5h0m0 1.2h0m.1 5.7h0m0 19.4h0m.2-28.6h0m0 5.8h0m.1-17.3h0m0 4.7h0m.2 22.4h0m.1-13.1h0m0 13.1h0m.2-31.6h0m0 16.7h0m0 3.6h0m.1 8h0m0 7.1h0m.1-15.4h0m.1-15h0m0 21.9h0m0 7.7h0m.1-14.5h0m0 1.9h0m.1-12.7h0m0 6.6h0m0 12.6h0m.1 8.7h0m.3-22.9h0m0 14.7h0m.1-15h0m0 5.6h0m.1 10h0m.1-14h0m.1-12.6h0m0 14.8h0m0 2h0m.1 13.5h0m.1-20.7h0m0 13.3h0m0 11.9h0m.2-17.5h0m0 18.2h0m0 1.4h0m.1 8.5h0m.2-43.5h0m.2 2.7h0m0 6.6h0m0 17.2h0m.3-8.5h0m0 6.7h0m0 5.6h0m.1-13.5h0m.2-7.6h0m.2 10.3h0m.1-17.6h0m0 3.3h0m.2 6.2h0m0 6.6h0m0 8h0m.1-11h0m.2 6.6h0m.3 4.3h0m0 .2h0m.1-12.6h0m0 8h0m.1-18.3h0m0 13.9h0m.3-6.1h0m0 15.1h0m0 3.8h0m.1-13.9h0m0 5.7h0m.1-18.7h0m0 10.8h0m.2-3.7h0m.1 21.1h0m.1-25.8h0m.1 7.6h0m0 20.4h0m.1-34.6h0m.1 17.7h0m0 2.4h0m0 19h0m.1-24.6h0m0 15h0m.2-1.7h0m.1-11.5h0m.1 5.8h0m.2-5.9h0m.1-6h0m.3 16.9h0m.1-17.1h0m0 15.3h0m.1-4.9h0m0 2.5h0m0 3.9h0m0 19.3h0m.1-35.9h0m0 15h0m0 2.3h0m.1-12.2h0m0 11.9h0m.2-26.1h0m.2 3h0m0 8.8h0m.1-.5h0m0 4.1h0m0 1.8h0m.1-5.9h0m0 3h0m0 12.8h0m.1-19.1h0m.1 23h0m.1-24.3h0m0 6.7h0m.1 10.5h0m.1-28.4h0m0 15.2h0m.1 1.5h0m0 13.4h0m.2-10.2h0m0 11.5h0m.1-16.9h0m.1 19.7h0m.1-24.2h0m0 15.2h0m0 15.1h0m.1-23.9h0m0 17.7h0m.2-20.8h0m0 8.1h0m0 11.5h0m0 9.6h0m.1-32.4h0m0 1h0m.1 .1h0m0 9.8h0m.1-9.8h0m0 3.1h0m0 6.6h0m0 1h0m0 13.1h0m.2-41.4h0m.1 21.5h0m0 21.8h0m0 .3h0m.2-8.3h0m.1-21.6h0m0 .7h0m.1-1.2h0m0 1.2h0m0 1.4h0m0 1.7h0m.1 8.5h0m.1 5.9h0m.1-4.4h0m0 .5h0m.1-9.7h0m.2 6.7h0m0 21.1h0m.1-24.4h0m0 3.2h0m.1 3.3h0m.1-12.1h0m0 .8h0m0 8.3h0m.1-10.9h0m0 6.5h0m.1 3.7h0m0 .9h0m.1-11.1h0m0 1.8h0m.1 4.3h0m.1 3.6h0m.2-11.5h0m0 19.8h0m.1-1h0m.1-3.5h0m.2 28.9h0m.1-34.8h0m0 14.2h0m.1 2.2h0m.1-7.6h0m.1-10.1h0m.1 .1h0m0 25.4h0m.3-23.8h0m.1 12.4h0m.2-32.2h0m.1 46.1h0m.1-12.3h0m.1-17.3h0m.1-1h0m.1 22.7h0m.1-18h0m0 15h0m.2-18.3h0m0 2.1h0m0 11.6h0m.1-3.4h0m.2 4.3h0m.1-30.3h0m0 8.7h0m.1 1.1h0m0 4.2h0m0 8.6h0m.1-12.4h0m0 16.8h0m.3-21.5h0m0 11.1h0m0 13.1h0m.2-4.9h0m.1-4.5h0m.1-7.5h0m0 3.7h0m0 5.4h0m0 3.3h0m.2-.5h0m0 11.9h0m.2-9.7h0m.1-11.3h0m0 10.3h0m0 4.8h0m.1-11.3h0m0 2.9h0m.1-24.9h0m.1 26.6h0m.1-18.3h0m0 21.5h0m.2 3.5h0m.2-21.6h0m.1-15.7h0m0 30.5h0m.1-10.3h0m0 2.3h0m0 7h0m0 10h0m0 4h0m.1-21.8h0m0 .2h0m.1-15.9h0m0 23.6h0m.1-5.4h0m0 8.2h0m.1 9.9h0m0 3.9h0m.3-11.5h0m.2-5.9h0m0 1.7h0m0 .6h0m0 1.2h0m.1 9.1h0m0 1.8h0m.1-28.7h0m0 21.3h0m.1 .4h0m0 .8h0m0 8h0m0 2.7h0m.1-22.2h0m.1 25.3h0m.2-38.6h0m0 1.3h0m.1 30.4h0m.1-1.9h0m.1-.5h0m.1-22.8h0m.1-2.1h0m0 .9h0m.1-4.5h0m0 19.4h0m0 15.4h0m.1-23.3h0m.1 4.6h0m0 2.5h0m.2 1.5h0m.1-13.7h0m.4 11.5h0m.1 3.7h0m.5-21.9h0m0 13.4h0m0 12.9h0m.1-20.4h0m0 7.4h0m0 23.1h0m.3-34.1h0m0 1.2h0m0 4.9h0m.2 14.3h0m.1 4h0m.1-21.7h0m.2 8.3h0m0 .6h0m.1-15.9h0m0 18.7h0m.1-8.7h0m.1 2.9h0m.1 15.3h0m.1-5.2h0m.2-16.2h0m.2-5.3h0m.1 20h0m.1 10.6h0m.1-20.8h0m0 12h0m.2 2.8h0m.1-18.7h0m.1 5.6h0m0 5.5h0m0 8.1h0m0 4.4h0m.1-14.9h0m.1-18h0m0 6.2h0m0 5.4h0m0 11.9h0m0 11.1h0m.1-11.3h0m.1 2.1h0m.1-19.5h0m0 37.7h0m.1-25h0m.1-14.1h0m.1 40.3h0m.1-31h0m0 8.5h0m.2-10.5h0m.1 8.7h0m0 4.1h0m.1-12.5h0m0 10.9h0m.1-7h0m0 .8h0m0 14h0m.1-15.5h0m.1-1.5h0m.1-11.7h0m0 2.2h0m.1 15.2h0m0 6h0m.2-17.7h0m0 0h0m0 3.3h0m0 13.6h0m.1 .1h0m.1 3.3h0m.1-.2h0m0 11.8h0m.3-32.6h0m.1 19.4h0m.2 15.6h0m.2-26.4h0m.1 2.6h0m.1 2.8h0m.4-15h0m.1-7.1h0m.1 16h0m0 5h0m.1 19h0m.1-31.3h0m.1 7.3h0m0 4.3h0m0 1.1h0m.1-22.2h0m.1 24.5h0m0 5.9h0m.2-28.8h0m0 21.3h0m.3 10.9h0m.1-12.6h0m.1-1.5h0m.1 10.9h0m.2 1.5h0m.2-28.9h0m0 21.1h0m0 2.2h0m.1-1.2h0m.1 1.3h0m.1-5.1h0m.3 10.9h0m.3-14h0m0 14.3h0m.4-13h0m.2 3.3h0m0 5.9h0m.3 4.7h0m.1-35.2h0m.2 16.8h0m.1 11.1h0m.2 2.2h0m.1-19.2h0m0 32.9h0m.3-9.1h0m.1-25.2h0m0 8.7h0m.2 7.8h0m0 6.4h0m.1 2.3h0m.2-3.9h0m.6 1.4h0m.2-10.8h0m.2-4.3h0m.4 14.3h0m.1-13h0m.3-8.9h0m.6 17.6h0m.1-1.5h0m.1 8.7h0m.1-6.5h0m0 9.2h0m.2-13.7h0m.1-3.6h0m.1 11.9h0m.3 4.8h0m.1-5.2h0m.1-17.8h0m0 18.4h0m.3-10.3h0m.1 5.5h0m.2-1.4h0m.1 21.6h0m.4-18.7h0m.2-1.8h0m.2-.5h0m.3-13.4h0m0 22.5h0m.2-27h0m0 36.7h0m.2-39h0m0 28.3h0m.3-3.4h0m.4-29.9h0m1.1 18.2h0m.7 12.2h0m.7-3.1h0m.8 9.9h0m.4-12.6h0m.7-13.2h0m.1-.4h0m1.4 7.6h0m.5-2.9h0m.4 14.4h0m.2 6.2h0m.3-3.4h0m.1-19.6h0m1.4 3h0m.1 17.3h0m1 19.7h0m.3-25h0m.3-18.6h0m2.2 2.6h0m2.2 4.3h0m.8 13.9h0m.4-16.4h0m2.4 17.6h0m8.1-9.6h0" stroke="#3f8a62" stroke-width="1.00" opacity="0.60"/><path d="M185.7 386.8h0m1.1 41.9h0m1.6-17.6h0m3.1-12.1h0m3.1 30.9h0m1-28.8h0m1.9 5.1h0m.4-11.7h0m.3 6.2h0m1.2-25.3h0m1.2 24.7h0m2.2 7.1h0m.3-19.2h0m.2 29.6h0m.1-17.3h0m.3 11.5h0m.3-4.2h0m2 4.4h0m.4 3.4h0m.1-41.3h0m0 21.8h0m.5-.2h0m.4 34h0m.2-33.6h0m.4-1.1h0m.7-10.3h0m.6 1.7h0m0 3.8h0m.6 7.1h0m.3 24.1h0m.2-54.8h0m.2 31.4h0m.3-28h0m.1-3h0m0 7.8h0m.1-3.8h0m.1 27h0m0 31.5h0m.7-22.7h0m.5-3.9h0m.4 2.5h0m.1-21.9h0m0 4.8h0m.4 3.7h0m.8 .8h0m.7 5.3h0m.3-19.3h0m.6 44.2h0m.1-73.5h0m.6 61.4h0m.1-19.6h0m.2-3.4h0m.1-7.2h0m.2 15.3h0m.3-13.7h0m.4 17.7h0m.4-12.9h0m.1 18.7h0m.1-20h0m.5 11.7h0m.4 .8h0m.2-17.9h0m.2-19.8h0m.1 39.4h0m.2 26.1h0m.2-40.3h0m.1 23.1h0m.5-23.4h0m.3 .3h0m.1 39.1h0m.1-17h0m.2-10h0m.2-9.9h0m.1 1.8h0m.1 6.5h0m.6 3.4h0m.6-34.6h0m.7 11.8h0m.2-3h0m0 10.1h0m0 3.3h0m.1 4.7h0m.1-17.3h0m.1 25.2h0m.3 11.1h0m.1-17.8h0m0 2.3h0m.5 5.6h0m0 6.2h0m.4-11.5h0m.5-3.2h0m.1 3.1h0m.1 8.7h0m.2-6h0m.1 24.3h0m.2-39.3h0m.4-6h0m.1-2.5h0m0 12.4h0m0 26.6h0m.2-61.7h0m.2 36.5h0m.1 20.9h0m.1-31.8h0m.1 23.9h0m.2 8h0m.1-7.7h0m.3-9.8h0m.2 24h0m.1-20.7h0m.1 3.4h0m.2 8.7h0m.3-23.2h0m.1 6h0m.1-28.2h0m.1 47.8h0m.1-3h0m0 10h0m.2-52.4h0m0 59.9h0m.7-45.1h0m0 36.1h0m.2-28.9h0m0 43.7h0m.2-41.9h0m0 20.3h0m1-4.7h0m.1 .3h0m.1-15.7h0m.1 41.4h0m.1-35.1h0m0 12.3h0m.2 11.7h0m.1-25.4h0m.3-26.2h0m0 30.6h0m.1 20h0m.1-14.2h0m.2 11.1h0m.2 12.7h0m.2-49.6h0m0 2.9h0m0 23.5h0m.1-21.9h0m.1 12.2h0m.1-9.6h0m.1 3.9h0m.1-35.6h0m.2-13.6h0m0 38.2h0m0 21.7h0m.1-14.6h0m.3-9.8h0m.1 42.5h0m.1-38.3h0m.2 23.1h0m.4 17.4h0m.2-56h0m0 30.5h0m.1-14.5h0m.2 18.2h0m.1 10.2h0m.1-24.6h0m.3 13.9h0m.1 5.3h0m0 8h0m.1-25.4h0m.1 2.7h0m.2-3.6h0m.3 8.3h0m.2 25h0m0 1.4h0m.1-25.5h0m.1-6.2h0m.2 .6h0m0 24.8h0m.3-23.3h0m.2 14.2h0m.1-10.6h0m.1-37.6h0m.5 39h0m.1 8.5h0m0 4.1h0m.4-34.8h0m0 16.6h0m0 12.2h0m.2-38h0m.7 22.3h0m0 4.1h0m0 10.7h0m.1 3.6h0m.2-15.1h0m.2-5.6h0m.1 19.8h0m.1-4.5h0m.1-22.5h0m0 34.5h0m.3 7.2h0m.2-.3h0m.1-30.4h0m.7 7.4h0m.1-.7h0m.2 9.2h0m0 9.2h0m.1-12h0m.4-19.3h0m.4-5h0m.1 9.9h0m.3 21.3h0m.2-19.1h0m.1 28.1h0m.5-33.9h0m.7 20.3h0m.1 4.6h0m.6-28h0m.1 15.1h0m.2-2.1h0m.1-3h0m0 11.1h0m.7-7.1h0m.1 .9h0m.5-15.5h0m.2-1.6h0m.2 2.1h0m1.1 20h0m0 12.8h0m.1-2.8h0m.3-16.4h0m.1 27.9h0m1.3-16.5h0m0 .7h0m.1 23.3h0m.3-28.1h0m.1-9h0m.2 17.2h0m.1 14.1h0m.1-36.5h0m0 25.3h0m.2-10.1h0m.7-18.5h0m.7 7.1h0m1.1 14.1h0m.7-16.7h0m.1 9.5h0m0 5.3h0m0 7.3h0m.4-9.6h0m.6 9.9h0m.5-3.7h0m.7-2.5h0m1.6-16.5h0m.2 2.2h0m.4 2.8h0m.6 14.5h0m.3-18.3h0m1.2 23.5h0m.8-22.1h0m.2 11.4h0m1.2-18.4h0m.7 1.4h0m.2 1.7h0m.4 22.7h0m.2-7.6h0m0 9.2h0m.9-21.5h0m.3 19.6h0m.5-22.3h0m1.8 8.6h0m1.6-5.9h0m1 27h0m1.6-19.9h0m0 12.5h0m2.4-.1h0m9.8-21.9h0" stroke="#7a8a8a" stroke-width="1.00" opacity="0.50"/><path d="M168.5 410.4h0m0 12.3h0m0 .1h0m.1-10.3h0m0 13.1h0m.1-8.3h0m.1-12h0m0 2.3h0m0 12.9h0m.1-17.5h0m0 21.1h0m.1-18.6h0m0 12.1h0m.1-10.9h0m0 6.3h0m0 6.3h0m.1-6.6h0m0 2.7h0m.1 1.9h0m0 4.3h0m0 .2h0m.2-21.9h0m0 10.8h0m0 10.6h0m.1-8.3h0m0 5.3h0m.3-6.9h0m0 6.2h0m.1-12.7h0m0 9.6h0m0 1.2h0m0 5.8h0m0 4.2h0m.1-11.1h0m0 7.9h0m.1-14.8h0m0 2.6h0m0 7.5h0m0 4.9h0m0 2.5h0m.1-11.9h0m0 13h0m.1 2.1h0m.3-27.1h0m0 25.5h0m.1-21.9h0m0 3.8h0m0 20.3h0m.1-20.3h0m0 3.5h0m0 10.9h0m.1-16.9h0m0 8h0m.1-13.4h0m0 3.6h0m.1-7.5h0m0 12.3h0m0 7.9h0m0 1.4h0m0 4.8h0m.1-11.2h0m0 9h0m0 2.9h0m0 .8h0m.1-20.9h0m0 6.9h0m0 2.7h0m.1 13.8h0m.1-10.2h0m0 9.1h0m.1-4.6h0m.1 3.9h0m.1-25.6h0m0 4.7h0m0 6.2h0m0 3.1h0m0 8.1h0m0 3.3h0m.1-12h0m0 .1h0m0 1.1h0m0 5.6h0m.1-16.6h0m0 5.8h0m0 .7h0m.1-4.2h0m0 5.1h0m.1-7.1h0m0 14.5h0m.2 2.8h0m.1-5h0m0 12.4h0m.1-13.5h0m.1-17.7h0m0 23.1h0m.1-18.8h0m0 6.8h0m0 4.9h0m0 4h0m0 2.9h0m0 9.4h0m.1 .4h0m0 1.4h0m0 .2h0m.1-14.8h0m0 9.6h0m.1-13.2h0m0 5.8h0m0 5.7h0m.1-11h0m.1-2.7h0m0 2.6h0m0 5.8h0m0 2.5h0m0 1.6h0m0 4.9h0m.1-4.7h0m.1-21.5h0m0 16.1h0m0 2.3h0m.1-20.4h0m0 12.8h0m0 1.5h0m.1-11.5h0m.1-10.7h0m0 27.3h0m.1 5h0m.2-1.8h0m0 7.7h0m.1-11.5h0m0 12.2h0m.1-20.8h0m0 3.3h0m0 6.4h0m.1 10.1h0m.1-20.8h0m0 7.8h0m.1-12.9h0m0 15.4h0m0 2.1h0m.1-1.1h0m0 3.4h0m.1-9.3h0m0 2.2h0m0 .1h0m.1-28.5h0m0 18.1h0m0 6.5h0m0 9.8h0m.1-5h0m.1-10h0m0 10.7h0m.2-9.6h0m0 14.5h0m.1-4.4h0m.1-8.8h0m0 4.3h0m0 .3h0m0 8.3h0m.1-7.9h0m0 5.9h0m.1-17.7h0m0 15h0m0 3.8h0m0 4h0m.1-12.9h0m0 3.7h0m0 3h0m0 2.5h0m0 3h0m.1-28.6h0m0 1.5h0m0 7.5h0m0 22.3h0m.1-14h0m0 1.9h0m0 .6h0m0 1.3h0m0 6.2h0m0 .9h0m.1-14.2h0m0 .1h0m0 4.9h0m0 .7h0m0 14h0m.1-5.9h0m0 3.5h0m.2-26.4h0m0 2.4h0m0 12.8h0m0 3.6h0m.1-24.3h0m0 8.8h0m0 7.8h0m0 4.5h0m.1-20.9h0m0 23h0m.1 6.3h0m0 2.8h0m.1-27.9h0m0 18.8h0m0 5.5h0m.1-8.3h0m0 1.1h0m0 1.8h0m.1-23.5h0m0 20.7h0m0 7h0m.1-11.8h0m0 1.1h0m0 2.3h0m0 9.6h0m.1-13h0m0 7.5h0m.1-14h0m0 .9h0m0 2.5h0m0 .9h0m0 4.8h0m0 3h0m.1-9.2h0m0 2.5h0m0 1.5h0m0 4.9h0m.1-22h0m0 4.1h0m0 .4h0m0 7.4h0m0 2.4h0m0 11.6h0m.1-22.8h0m0 7.3h0m0 12.3h0m0 1.5h0m0 2.7h0m0 4.4h0m.1-5.7h0m.1-7.2h0m0 2.7h0m0 5.6h0m0 5.8h0m.1-18.6h0m0 2.1h0m0 4.2h0m0 8.8h0m.1-15.1h0m0 9.2h0m.1-10.3h0m0 1h0m0 3.1h0m0 2.9h0m0 2.2h0m.1-11h0m0 2.8h0m0 5.6h0m0 8h0m.1-13.7h0m0 1.4h0m0 .6h0m0 7.9h0m0 2h0m0 1.4h0m.1-15.5h0m0 2.6h0m.1 4.6h0m0 .8h0m0 .4h0m0 .8h0m0 4.1h0m0 5.7h0m.2-15.1h0m0 2.9h0m0 .8h0m0 .3h0m0 1.7h0m.1 7.2h0m.1-20.2h0m0 15.1h0m0 9.9h0m.1-22.9h0m0 2.4h0m0 14.3h0m0 8.5h0m.1-24.8h0m0 1h0m0 6.4h0m0 4h0m0 7.5h0m.1-21.1h0m0 .8h0m0 6.1h0m0 6.7h0m0 5.7h0m0 4.5h0m.1-28.3h0m0 9.4h0m0 11.7h0m0 6.4h0m.1-19.7h0m0 19.1h0m.1-20.3h0m0 6.4h0m0 5.2h0m0 3.5h0m0 .3h0m.1-7h0m0 6.4h0m0 5.2h0m.2-27.7h0m0 14.1h0m0 4.8h0m0 9h0m0 .6h0m.1-20.7h0m0 3.4h0m0 11.6h0m.2-12.1h0m0 4.4h0m0 2.1h0m0 12.1h0m.1-21.9h0m0 3.9h0m0 .5h0m0 17h0m.1-15.7h0m0 2.1h0m0 .3h0m0 2.2h0m0 2.9h0m0 4.6h0m0 1.1h0m.1-15.8h0m0 7.3h0m.1-.2h0m0 6.9h0m0 8.1h0m.1-8.5h0m0 6.7h0m.1-27.9h0m0 2.8h0m0 .8h0m0 2.5h0m0 2.5h0m0 .9h0m0 .2h0m0 1.1h0m0 12.3h0m0 3.5h0m0 1.9h0m.1-25.4h0m0 .7h0m0 10.6h0m0 .9h0m0 6.8h0m0 .4h0m0 2.3h0m.1-29.3h0m0 10.6h0m0 6h0m0 12.9h0m.1-27.2h0m0 8.4h0m0 7.6h0m0 4.3h0m0 5.7h0m.1-19.9h0m0 .5h0m0 3h0m0 1h0m0 11.3h0m.1-6.3h0m0 1.8h0m0 3.4h0m0 1.6h0m0 1.4h0m.1-8.7h0m0 2.9h0m0 5.3h0m.1-15.2h0m0 2.1h0m0 2.1h0m0 5.2h0m0 5.9h0m0 2.1h0m0 1.3h0m0 .3h0m0 1.8h0m0 .7h0m.1-21.2h0m0 6.2h0m.1-10.9h0m0 2.4h0m0 8.1h0m0 8.9h0m0 .4h0m.1-12.5h0m0 5.7h0m0 .2h0m0 4.5h0m.1-16.4h0m0 4h0m0 5.3h0m0 .3h0m0 .5h0m0 .8h0m0 1.6h0m0 6.5h0m.1-12.2h0m0 4.2h0m0 .7h0m0 1.4h0m.1-8.4h0m0 9.6h0m0 9.5h0m.1-16.2h0m0 .9h0m0 .6h0m0 3.2h0m0 3.3h0m.1-11h0m0 4.9h0m0 .4h0m0 .9h0m0 2.3h0m0 1.5h0m0 10.7h0m.1-18.7h0m0 .7h0m0 5.9h0m0 1.3h0m0 4.3h0m0 8.7h0m.1-27.5h0m0 5.2h0m0 9.4h0m0 6.2h0m0 6.1h0m.1-27.6h0m0 0h0m0 6.1h0m0 1h0m0 3.5h0m0 1.8h0m0 3.1h0m0 4.6h0m0 .8h0m.1-25.1h0m0 9h0m0 6.6h0m0 4.1h0m.1-15.1h0m0 6h0m0 12.1h0m0 9.6h0m.1-31.3h0m0 5.5h0m0 12.6h0m0 1.8h0m0 2.6h0m.1-15.1h0m0 2.3h0m0 .6h0m0 .7h0m0 6.1h0m0 .3h0m0 3.8h0m0 3.8h0m.1-28.2h0m0 13.3h0m0 7.2h0m0 1.8h0m0 9.8h0m.1-17.2h0m.1 3.1h0m0 2.9h0m0 8.7h0m.1-15.7h0m0 6.2h0m0 3.7h0m.1-11.4h0m0 .5h0m0 0h0m0 .5h0m0 6.7h0m0 12.9h0m.1-22.1h0m0 .4h0m0 2.2h0m0 0h0m0 4.3h0m0 13.1h0m.1-32.6h0m0 6.9h0m0 10.6h0m0 .9h0m0 .4h0m0 11.6h0m0 0h0m0 1.1h0m.1-32.1h0m0 11.3h0m0 .8h0m0 5h0m0 .3h0m0 8.9h0m0 1.3h0m0 .5h0m.1-16.3h0m.1 2.7h0m0 7.2h0m0 8.1h0m0 1.8h0m0 5.6h0m.1-30.5h0m0 11h0m0 4.4h0m0 2h0m0 .4h0m0 1.5h0m0 1.9h0m.1-29.6h0m0 17.9h0m0 1.1h0m0 1.5h0m0 5.6h0m0 .3h0m.1-16.2h0m0 7.5h0m0 5.1h0m0 7.5h0m0 3.8h0m0 .1h0m.1-15.9h0m0 .6h0m0 .8h0m0 3h0m0 .1h0m0 12.8h0m.1-27h0m0 2.8h0m0 2.4h0m0 .6h0m0 3h0m0 1.5h0m0 2.6h0m0 1.1h0m0 6.5h0m0 .9h0m0 .4h0m0 2h0m.1-14.1h0m0 3.3h0m0 2.1h0m0 8.2h0m0 2.1h0m.1-23.4h0m0 5.3h0m0 .9h0m0 4.9h0m0 2h0m0 9.5h0m0 3.4h0m.1-30.1h0m0 1.6h0m0 2.2h0m0 6.8h0m0 1.7h0m0 9.7h0m0 .2h0m0 2.9h0m0 5h0m.1-4.6h0m.1-17.3h0m0 12.3h0m0 7.2h0m.1-19.7h0m0 1.5h0m0 11.3h0m0 4.3h0m0 1.1h0m.1-26.6h0m0 2.4h0m0 9.3h0m0 7.8h0m.1-9.6h0m0 5.9h0m0 .8h0m0 7.3h0m.1-18.9h0m0 2.5h0m0 1.6h0m0 1.1h0m0 6.5h0m0 11.7h0m.1-19.3h0m0 1.4h0m0 1.5h0m0 .4h0m0 2.9h0m0 .6h0m0 3h0m0 .4h0m0 5.1h0m0 .7h0m.1-20.7h0m0 4.9h0m0 1.8h0m0 3.4h0m0 4.6h0m0 1.5h0m0 5.5h0m.1-5.7h0m0 .6h0m0 5h0m.1-20.9h0m0 .5h0m0 14h0m0 12.7h0m.1-33.2h0m0 8.9h0m0 .1h0m0 4.9h0m0 4.5h0m0 1.2h0m0 13.5h0m.1-46.4h0m0 16.5h0m0 7h0m0 5.3h0m0 5.1h0m.1-9h0m0 9.9h0m0 1.8h0m.1-12.6h0m0 .6h0m0 3.9h0m0 15.8h0m0 .6h0m0 .2h0m.1-17.5h0m0 .4h0m0 12.3h0m.1-15.9h0m0 1.2h0m0 4.9h0m0 3.7h0m0 .7h0m0 4.7h0m.1-22.8h0m0 7.9h0m0 .6h0m0 4.4h0m0 1.1h0m0 .3h0m0 0h0m0 1.5h0m0 2.7h0m0 9.2h0m.1-17.6h0m0 .9h0m0 6.9h0m.1-15.2h0m0 6.4h0m0 2.6h0m0 4.8h0m0 3.8h0m0 2h0m.1-9.1h0m0 4.3h0m0 4.4h0m0 .6h0m0 4.3h0m0 3.1h0m.1-23.2h0m0 3.6h0m0 7.5h0m0 2.5h0m0 .1h0m0 9.1h0m.1-33.4h0m0 7.3h0m0 10.5h0m0 3.9h0m0 5.4h0m0 .7h0m0 1.2h0m.1-26.9h0m0 18.6h0m0 2.2h0m0 1.9h0m.1-18h0m0 9.5h0m0 2.6h0m0 4.3h0m.1-16.6h0m0 5.9h0m0 8.9h0m0 2h0m.1-15.9h0m0 4.2h0m0 1.1h0m0 .4h0m0 14.7h0m.1-32.3h0m0 11.2h0m0 5.7h0m0 2.5h0m0 1h0m0 1.4h0m0 1.2h0m0 8.5h0m.1-23.2h0m0 7.2h0m0 6.1h0m0 3.4h0m0 .1h0m0 .8h0m0 3.2h0m0 .6h0m0 3.1h0m0 .3h0m.1-12.9h0m0 .5h0m0 2.2h0m0 .4h0m0 4.9h0m0 1.4h0m.1-16.3h0m0 1.5h0m0 6.1h0m0 1.4h0m0 2.4h0m0 3.5h0m0 2.4h0m0 1.3h0m0 1.3h0m.1-21.1h0m0 0h0m0 3.2h0m0 3.8h0m0 .1h0m0 9.3h0m0 1.4h0m0 .1h0m.1-14.7h0m0 .7h0m0 4.3h0m0 .2h0m0 .4h0m0 8.8h0m0 4h0m.1-5.8h0m0 .7h0m0 .3h0m0 4.2h0m.1-18.5h0m0 .4h0m0 8.4h0m.1-16.1h0m0 9.5h0m0 4.1h0m0 4.9h0m0 2.8h0m.1-16.1h0m0 11.2h0m0 1.3h0m.1-21h0m0 21h0m0 2h0m0 9.5h0m.1-36h0m0 12.7h0m0 13.4h0m.1-13.4h0m0 14.1h0m0 2.2h0m0 .3h0m.1-11.3h0m0 10h0m0 3.6h0m0 4.6h0m.1-19.6h0m0 5.3h0m0 9.1h0m0 .6h0m0 2.2h0m.1-28.2h0m0 16.2h0m0 3.2h0m0 4.9h0m.1-13.4h0m0 2.2h0m0 .7h0m0 12.6h0m0 4.6h0m.1-25.1h0m0 1.5h0m0 4.2h0m0 1.4h0m0 1.3h0m0 6.9h0m.1-16.3h0m0 7h0m0 4.4h0m0 3.5h0m0 3.1h0m0 8.8h0m.1-23.1h0m0 4.7h0m0 1.4h0m0 4.5h0m0 2.1h0m0 .8h0m.1-14h0m0 4.7h0m0 .4h0m0 .3h0m0 3.3h0m0 3.4h0m.1-6.1h0m0 1.2h0m0 .2h0m0 4.4h0m0 4.8h0m.1-10.2h0m.1-9.2h0m0 6.5h0m0 6.2h0m0 2.1h0m0 9.3h0m.1-35.1h0m0 13.3h0m0 5.1h0m0 .1h0m0 2.5h0m0 3.1h0m0 13.6h0m.1-21.1h0m0 2.3h0m0 6.6h0m0 3h0m0 1.8h0m0 .7h0m.1-17.7h0m0 2h0m0 5.8h0m0 3.6h0m0 13.3h0m.1-16.1h0m0 .2h0m0 3.5h0m.1-7.4h0m0 3.6h0m0 3.3h0m0 .3h0m0 .4h0m0 3.3h0m.1-15.9h0m0 2.5h0m0 9.1h0m0 1.8h0m0 2.8h0m0 1h0m0 .3h0m.1-13.4h0m0 4.9h0m0 1.4h0m0 8h0m0 3.1h0m.1-20.2h0m0 9.6h0m.1-15.5h0m0 9.6h0m0 1.8h0m0 1.8h0m0 .1h0m0 4.3h0m0 6h0m.1-22.8h0m0 4.7h0m0 4.3h0m0 4h0m0 3.3h0m.1-13.2h0m0 3.7h0m0 16.6h0m0 .2h0m0 3.3h0m.1-26.2h0m0 4.4h0m0 4.9h0m0 12h0m.1-25.6h0m0 7.9h0m0 3.1h0m0 1.8h0m0 1.1h0m0 8.1h0m0 .3h0m.1-11.5h0m0 1.4h0m0 4.9h0m0 3.8h0m0 4.3h0m.1-30.2h0m0 5.1h0m0 5h0m0 11.7h0m0 .4h0m0 0h0m0 .7h0m0 1.6h0m.1-11.1h0m0 2.2h0m0 2.6h0m0 6.4h0m0 3.2h0m0 2.7h0m.1-14h0m0 4.5h0m0 2h0m0 1.9h0m.1-10.6h0m0 9h0m0 5h0m0 2.6h0m0 4.7h0m.1-20.2h0m0 2.3h0m0 .5h0m0 .4h0m0 13h0m.1-20.3h0m0 4.7h0m0 4.2h0m0 16.9h0m.1-24.1h0m.1 13.3h0m0 2.8h0m0 3.4h0m.1-21.4h0m0 7.4h0m0 1.2h0m0 8.2h0m0 2.2h0m0 .1h0m.1-18.3h0m0 10.2h0m0 .5h0m.1-5.8h0m0 1.3h0m0 2.1h0m0 1h0m0 1.7h0m0 9.1h0m0 2.9h0m.1-21.2h0m0 .4h0m0 12.9h0m.1-9.9h0m0 4.3h0m0 .1h0m0 8.3h0m0 1.1h0m.1-9.5h0m0 .4h0m0 .1h0m0 3.9h0m0 1.7h0m0 .1h0m.1-9.2h0m0 .3h0m0 6.3h0m.1-9.2h0m0 2.9h0m0 4.7h0m0 10.1h0m.1-13.7h0m0 12.4h0m.1-10.8h0m0 3.6h0m0 3.8h0m0 5.8h0m.1-29h0m0 9.3h0m0 5.5h0m0 .2h0m0 3.4h0m0 1.7h0m.1-17h0m0 12h0m0 12.2h0m.1-21.1h0m0 4.2h0m0 6.4h0m.1-16.6h0m0 14.3h0m0 9.7h0m.1-16.5h0m0 4.7h0m0 4.7h0m0 .2h0m0 .4h0m0 .5h0m.1-12h0m0 4.4h0m0 10.2h0m0 7h0m.1-22.6h0m0 2.6h0m0 2.6h0m0 7h0m0 5.7h0m.1-22.1h0m0 14h0m0 1.6h0m0 2.2h0m0 2.4h0m0 .5h0m.1-17h0m0 5.5h0m0 .9h0m0 3h0m0 .2h0m0 3.6h0m0 8h0m.1-8.1h0m0 6.3h0m.1-20.1h0m0 2.6h0m0 .2h0m0 1.8h0m0 3.6h0m.1-10.8h0m0 14.9h0m.1-10.5h0m0 7.5h0m0 .1h0m0 1.6h0m0 .9h0m0 13.1h0m.1-14.6h0m0 .5h0m0 2.9h0m0 3.8h0m0 2.2h0m0 .7h0m.1-11.9h0m0 6.8h0m.1 8.2h0m.1-22.5h0m0 16.8h0m.1-7.3h0m0 2.4h0m0 3.9h0m.1-5h0m0 0h0m.1-20.9h0m0 21.1h0m0 9.4h0m.1-18.4h0m0 5.4h0m0 .7h0m0 4h0m0 10.7h0m.1-8.1h0m.1-7.1h0m0 .3h0m.1-16.5h0m0 .5h0m0 10.9h0m0 7.7h0m0 3.7h0m0 3.5h0m0 8.4h0m.1-16.3h0m0 .5h0m0 1.7h0m0 3.1h0m0 7.4h0m.1-6.3h0m0 3.1h0m0 .7h0m.1-18.1h0m0 5.9h0m0 9.9h0m0 7.8h0m.1-17.5h0m0 8.4h0m0 4.5h0m0 2.8h0m.1-24.5h0m0 11.9h0m0 3.1h0m0 2.8h0m0 2.9h0m.1-14.5h0m0 .8h0m.1-9.3h0m0 2.7h0m0 17.4h0m0 1.7h0m0 6.9h0m.1-20.5h0m0 5.2h0m0 5.4h0m0 3.9h0m.1-12.2h0m0 3.7h0m0 1.9h0m0 6.1h0m0 .8h0m.1-26.2h0m0 16.2h0m0 2.2h0m0 3.2h0m0 4.1h0m.1-20.1h0m0 8h0m0 16.5h0m.1-30.9h0m0 16.2h0m0 3.1h0m0 1.5h0m0 1h0m.1 9.9h0m.1-17.7h0m0 4.7h0m.1-8.3h0m0 5.6h0m0 .4h0m0 5.1h0m0 8.8h0m.1-13.6h0m0 6.1h0m0 10h0m.1-32.4h0m0 22.3h0m0 4.4h0m.1-31h0m0 23h0m0 .4h0m.1-2.8h0m.1-2.6h0m0 5.3h0m.2-9.3h0m0 8.7h0m0 .9h0m.1-15.4h0m0 2.6h0m.1 4.8h0m0 .2h0m.1-.6h0m0 2.9h0m0 4.9h0m0 4.1h0m0 2.9h0m.1-6.6h0m0 5.7h0m.1-17.6h0m.1-9.9h0m0 3.7h0m0 13.2h0m0 1.4h0m0 8.9h0m0 1h0m0 7.3h0m.1-19.5h0m0 2.6h0m.1-9.3h0m0 1.8h0m0 4.2h0m0 6h0m0 1.2h0m0 4.4h0m0 5.2h0m.1-25h0m.1 2.7h0m0 17.4h0m.1-5.6h0m0 9.5h0m.1-12.1h0m0 1.2h0m0 11.1h0m.1-13h0m.1 9.3h0m.1-27.3h0m0 12.8h0m0 10.7h0m0 6h0m.1-9h0m.1 8.2h0m.1-4.6h0m.1-2.6h0m0 6h0m0 2.2h0m0 2.8h0m.1-21.4h0m0 .3h0m0 4.1h0m.1 12.8h0m.1-25.3h0m0 16.9h0m0 .9h0m0 2.7h0m0 3.6h0m0 .5h0m0 2.1h0m.1-23.9h0m0 9.2h0m.1-5.2h0m0 23.8h0m0 1h0m.1-19.9h0m0 9.5h0m0 5.2h0m.2-10.3h0m.1-7.4h0m0 3.1h0m0 10.4h0m0 9h0m.1-10.1h0m.1-18.3h0m0 .9h0m0 1.4h0m0 6.6h0m.1 5.7h0m0 4.8h0m.1-12.5h0m0 1.6h0m0 3.9h0m0 4h0m.1 4.2h0m0 3.9h0m.1-24.6h0m0 14.9h0m.1-7.8h0m0 5.4h0m0 4.3h0m0 .3h0m0 2.9h0m.1-12.5h0m0 9.4h0m.1-3.6h0m0 .9h0m0 .9h0m.1 5.5h0m.1-21.1h0m0 21.6h0m.1-15.1h0m0 11.6h0m0 .5h0m.1-11.3h0m0 5.5h0m0 .9h0m0 3.4h0m.2-5.4h0m0 5.1h0m0 1h0m.1-5.1h0m0 15.4h0m.1-20.9h0m0 15.1h0m.1-14.7h0m0 2.9h0m.1 14.1h0m.1-24.3h0m0 5.9h0m0 17.5h0m0 4.7h0m.1-18.5h0m0 3.1h0m0 1.3h0m0 2.7h0m.1 8.4h0m0 2.6h0m.1-29.5h0m0 24.8h0m0 2.7h0m.1-14.3h0m.1-10.1h0m0 19.6h0m.1-1.9h0m0 6.6h0m0 2.1h0m.2-33h0m0 10.3h0m0 21.9h0m.3-5.8h0m.1-12.7h0m.2 2h0m.3-19.4h0m0 25.7h0m0 3.1h0m0 9.4h0m.2-14.8h0m.2-10.5h0m0 6.9h0m0 3.8h0m.1-3.1h0m.1 4.5h0m0 5.6h0m0 2.1h0m.1-12.3h0m0 8.7h0m0 4.8h0m.1-26.4h0m.1 2h0m.1 9.8h0m.1-5.4h0m.1 .4h0m.3 13.1h0m0 2.2h0m.1-12.4h0m0 14.4h0m0 .9h0m.1-8.5h0m.2-6.2h0m.4 13.9h0m.1 .1h0m.2-13h0m0 18.1h0m.2-16.5h0m0 11.3h0m.2-7.1h0m0 2.8h0m.2-5.6h0m.1-2.5h0m.1 3.9h0m0 7.2h0m0 4.6h0m.2-3.5h0m.1-14.4h0m0 9.8h0m.4-14.1h0m0 8h0m.2 9.6h0m.1-3.1h0m.3-16h0m0 6.2h0m.3-2h0m0 9h0m.1-.6h0m.2-9.7h0m0 14.4h0m.1-13.2h0m0 10.7h0m0 7.3h0m.5-16.5h0m.9-5.4h0m0 9.8h0m.4 5.5h0m.1-7.2h0m.6 17.6h0m0 2h0m.4-26.1h0m.1 21.9h0m1-18.3h0m.1 13.5h0m.6-10.2h0m2.7 8.2h0m.3-10.2h0m1.5 9.1h0m.9-4.5h0m1.8 12h0m9.2-20.3h0" stroke="#259a3c" stroke-width="1.00" opacity="0.70"/><path d="M176.3 422.9h0m1.2-13.5h0m.2 7.1h0m2.4-7.9h0m1.2-3.7h0m.1-4.1h0m2-1.4h0m.4 4.2h0m0 19.1h0m1.2-14.5h0m1 13.6h0m.4-2.7h0m0 1.5h0m.5-11.7h0m.2-1.5h0m.8 5h0m.8 10.4h0m.2 1.3h0m.3-2.8h0m.2 9.6h0m.7-22.7h0m.2-1.9h0m.1 9.1h0m.1-11.2h0m.1 2.5h0m.3 23.2h0m.4-6.9h0m.1-10.9h0m.2-7.4h0m.1 13.2h0m.4-17.2h0m0 1.4h0m.2 5.9h0m.1-4.2h0m0 16.6h0m.1 5h0m.3-12.4h0m.1-5.5h0m.4 4.3h0m0 9h0m.6 1.4h0m.2-19h0m0 9.2h0m.4-5.3h0m0 3.3h0m.1 6.4h0m.1-12.8h0m0 6.2h0m0 6.8h0m0 4.3h0m.1-9.5h0m.1-21h0m0 5.9h0m0 28.1h0m.2-10h0m0 4.5h0m.3-25.7h0m0 19.5h0m.2 4.5h0m0 6.6h0m.1-14.9h0m.2-11h0m0 4.2h0m.2 16.8h0m.2-15.1h0m0 9.8h0m.8-8.8h0m0 8h0m.1-13.4h0m0 15.3h0m.1-1.7h0m.1-1.2h0m.1-6.7h0m.1-.3h0m0 7.2h0m.1 8.6h0m0 8.9h0m.1-7.8h0m.1-13.8h0m.1 14.9h0m.1-6.5h0m.3 1.7h0m.1-5.7h0m.1 2h0m0 4.9h0m.1-15.3h0m.2 4h0m0 8.2h0m0 2.8h0m.1-19.4h0m0 13.9h0m0 3.3h0m0 6.6h0m.1 4.6h0m.1-19h0m.1 5.2h0m0 15.7h0m.1-31.9h0m.1 14.2h0m.1-8.6h0m0 16h0m.6-4.2h0m.2-1.8h0m0 .5h0m.1-9.5h0m0 9.3h0m.1 3.7h0m.1-7h0m0 6.7h0m.1-4.9h0m.1-9.1h0m0 4.3h0m.2 .4h0m0 9.5h0m.1-14.4h0m0 .9h0m0 2.3h0m0 6.9h0m0 15.5h0m.1-22.5h0m0 7.9h0m.1-5.8h0m.1-3.7h0m0 3.4h0m.1 8.2h0m0 2.3h0m.1-9.3h0m.2 1h0m.2 3.5h0m0 3.5h0m0 1.4h0m.1 4h0m.3-6.9h0m0 1.7h0m0 4.9h0m.1-23.6h0m0 19.1h0m.1-9.9h0m0 5.5h0m0 10.7h0m.1-12.8h0m0 7.5h0m.1-10.7h0m.2 4.1h0m0 9.9h0m.1-11.5h0m.1-13.7h0m0 21.8h0m.1-2.1h0m0 4.6h0m.1-10.5h0m0 7.1h0m0 1.1h0m.1 2.2h0m0 4.8h0m.1-17.3h0m0 11.8h0m0 .8h0m.1-12.9h0m.1 1.1h0m0 .2h0m.1-17.5h0m0 16.1h0m0 1.5h0m0 7.7h0m0 1.3h0m.1-9.5h0m0 10.5h0m.1-7.7h0m0 5.4h0m.1-8.2h0m0 8.5h0m0 10.4h0m.1-25.6h0m0 4.4h0m0 2.2h0m0 2.2h0m0 12.7h0m0 4.3h0m.1-6.6h0m.1-25.7h0m0 12.5h0m0 5.3h0m0 8.6h0m.1-12.2h0m0 8.7h0m0 .2h0m.1-15.6h0m0 5.9h0m.1-16.1h0m0 12.2h0m.1 17.7h0m0 2.9h0m.1-14.5h0m.1-16.8h0m0 12.1h0m.1 13.1h0m.2-13.7h0m0 11h0m0 .9h0m.1-14.6h0m0 7.5h0m.1 .5h0m0 2.5h0m.1-18.8h0m0 6.1h0m0 10h0m0 13.2h0m.1-16.3h0m0 4h0m.1-4.8h0m0 5h0m.1 7.6h0m.1-20.4h0m0 17.7h0m.1-3h0m.2-.8h0m0 3.2h0m.1-1.7h0m.1-3.4h0m0 1.5h0m0 1h0m0 10.8h0m.1-22.7h0m0 28.6h0m.1-34.4h0m0 17.9h0m0 4.1h0m.1-27.9h0m0 20.3h0m0 5h0m0 6.3h0m.1-3h0m.1-12.7h0m0 9.4h0m.1-2.3h0m0 2.4h0m0 .3h0m0 1.4h0m0 2.9h0m0 3.4h0m.1-2.5h0m.1-14h0m0 4.6h0m0 6.3h0m0 5.5h0m.1-18.8h0m0 6.8h0m0 .1h0m0 7.9h0m0 2.3h0m0 8.1h0m.1-12.6h0m.1-7.1h0m0 15.7h0m0 3.5h0m.1-29.1h0m0 14.9h0m0 5h0m0 2.9h0m0 .7h0m0 5.2h0m0 2.1h0m0 .1h0m.1-22.6h0m0 7.5h0m.1-21.5h0m0 11.9h0m0 8h0m.1-22h0m0 9.9h0m0 7.6h0m0 3h0m0 3.4h0m0 3.7h0m.1-11.6h0m0 3.9h0m0 3.1h0m.1-1.5h0m.1-7.5h0m0 3.2h0m0 .3h0m.1-.6h0m0 6.8h0m0 1h0m.1-12.8h0m0 7.9h0m.1 8h0m0 6.2h0m.1-19.7h0m0 10.1h0m.1-17.7h0m0 11.6h0m.1-14.4h0m0 18.2h0m.2-6.3h0m.1-5h0m0 4.1h0m.1-1.5h0m.1-6.4h0m0 3.4h0m0 2.6h0m0 8.5h0m0 .6h0m.1-9.2h0m0 11h0m0 7.7h0m.1-16.4h0m0 12.7h0m0 8h0m.1-24.9h0m0 1.6h0m.1 3.1h0m0 10.4h0m.1-9.2h0m0 3.3h0m0 2.2h0m0 .1h0m.1-15.5h0m0 12.8h0m0 3.6h0m0 2.3h0m0 4.5h0m0 8h0m.1-22.8h0m0 11.6h0m0 .3h0m.1-9.1h0m0 4.8h0m.1-7.4h0m0 1h0m0 8.6h0m.1-14.4h0m.1-3.9h0m0 4.3h0m0 2.7h0m0 7.6h0m0 12.8h0m.1-27h0m0 7.6h0m0 15h0m.1-.5h0m0 5.8h0m0 0h0m.1-8.1h0m.1-16.8h0m0 7.6h0m0 2h0m0 2.5h0m0 5.8h0m.1-24.5h0m0 3.7h0m.1 13.6h0m0 1.4h0m0 6.6h0m0 5.6h0m.1-23h0m0 2.5h0m0 21.7h0m.1-27.2h0m0 11h0m.1-1.5h0m0 2.1h0m0 3.3h0m0 3h0m.2 2.2h0m.1-19.2h0m0 7.3h0m.1-16.1h0m0 12.6h0m0 3.5h0m0 3.7h0m0 3.4h0m.1-3.7h0m0 3.9h0m0 6.1h0m.1-15.8h0m0 11h0m.1-9h0m0 2.9h0m0 11.6h0m.1-12h0m0 1.4h0m.1-1.8h0m0 1.1h0m.1-1h0m0 6.7h0m.1-24.7h0m0 12.5h0m0 10.2h0m.1 .5h0m0 5.1h0m0 6.2h0m.1-32.5h0m0 10h0m0 3.2h0m0 .3h0m0 5.6h0m0 3.4h0m.1-4h0m0 7.7h0m0 .2h0m0 1.2h0m.1-30.8h0m0 13.7h0m0 6.2h0m0 6.8h0m.1-16.7h0m0 14.6h0m0 4.2h0m0 1.9h0m.1-20h0m0 8.3h0m.1-5.7h0m0 7.9h0m0 .9h0m0 11.5h0m.1-13.2h0m.1-8.7h0m.1 12.1h0m.1 2.2h0m0 4.8h0m.1-23.6h0m0 14.4h0m0 15.1h0m.1-25.6h0m0 2.1h0m.1 0h0m0 15h0m0 1.4h0m.1-16.9h0m.1-1.1h0m0 3.8h0m0 21h0m.1-17.9h0m0 7.6h0m.1-11.3h0m0 1.1h0m0 9h0m.1-7.9h0m0 8h0m.1-10.4h0m.1 3.1h0m0 3.6h0m0 2.9h0m.1-9h0m0 5.9h0m0 3.7h0m0 10.7h0m.1-13.8h0m0 3.9h0m0 3.4h0m.1-9.8h0m0 9.7h0m.1-10.7h0m0 .6h0m0 8.9h0m0 11.3h0m.1-31h0m0 8.1h0m0 4h0m.1-7.6h0m0 6.2h0m0 19.9h0m.2-43.1h0m0 19.8h0m0 3.8h0m0 14.6h0m.1-28.1h0m0 16.5h0m0 13.5h0m.1-18.8h0m0 15.5h0m.1-11.5h0m0 10.4h0m.1-16.8h0m.2 2.2h0m0 3.1h0m0 8.3h0m0 2.8h0m0 .4h0m.1-26.5h0m0 3.5h0m0 5.8h0m0 1.8h0m0 12.3h0m.1-10.5h0m0 6.1h0m.1 4.4h0m.1-14.6h0m0 4.5h0m0 15.5h0m.1-19.1h0m0 6.5h0m0 7h0m0 1.5h0m.1-13.8h0m0 6.5h0m0 .4h0m0 5.3h0m0 5.1h0m.1-31.2h0m0 28.2h0m.1-2h0m.1-11.1h0m.1 .7h0m0 3.2h0m.1 1.2h0m0 4.6h0m.1-14.4h0m0 6.6h0m.2-5.4h0m0 8.3h0m.1-3.1h0m0 2.7h0m0 .1h0m0 .2h0m.1-2.1h0m0 2.6h0m0 11.5h0m.3-22h0m0 11.1h0m0 5.6h0m.1-10.8h0m0 17.7h0m.1-18.7h0m0 8.3h0m0 7.6h0m.1-13.1h0m0 1.5h0m0 .8h0m0 .1h0m0 7.2h0m0 1.5h0m.1-3.8h0m.1-6.9h0m.1-11.4h0m0 5.3h0m0 1.7h0m0 4.8h0m.1 .6h0m.1-9.9h0m0 6.6h0m0 .5h0m0 4h0m0 15.4h0m.1-33.4h0m.1 14.3h0m0 .7h0m0 .7h0m0 1.3h0m0 5.9h0m.2-16.5h0m0 7.8h0m0 .5h0m0 13.1h0m0 .1h0m0 2.9h0m.1-16h0m0 9.5h0m.1-16.4h0m0 1.9h0m0 4.8h0m0 15.7h0m0 0h0m.1-28.7h0m0 13.3h0m0 4.5h0m.1-1.1h0m0 14.8h0m.1-24.8h0m0 3.8h0m0 8.7h0m.1-1h0m.1-7.4h0m0 .3h0m0 .8h0m.1-2.9h0m0 10.4h0m0 5.2h0m.1-24.1h0m0 17.6h0m.1-14.5h0m.1-.1h0m.1 6.9h0m0 3.4h0m.1-8.5h0m0 13.9h0m0 4.4h0m.1-14.5h0m.1-10.1h0m0 16.7h0m0 3.1h0m0 0h0m.1-19.4h0m0 5.2h0m0 8.1h0m0 .5h0m0 5.5h0m0 1.5h0m.1-21.1h0m0 18.4h0m0 3.2h0m.1-11.3h0m0 5h0m0 1.9h0m0 4.1h0m0 3h0m0 3.3h0m0 1.8h0m.1-17.3h0m.1-6.4h0m0 11h0m0 5.2h0m.1-21h0m0 19.7h0m.1-1.5h0m0 .5h0m.1-3h0m0 .1h0m0 10.1h0m.1-.3h0m0 4.6h0m.1-38.4h0m0 23.5h0m.1-9.2h0m0 6.5h0m0 6.6h0m0 2.3h0m0 .4h0m0 6.3h0m.1-11.9h0m0 .7h0m.1 9.4h0m0 .8h0m.1-16.6h0m0 2h0m0 .6h0m0 3.2h0m0 0h0m0 1.1h0m.1-4.1h0m0 14.5h0m.1-17.7h0m0 5.5h0m0 10.3h0m.1 4.7h0m.1-23.9h0m.1 22h0m.1-16.5h0m0 4.5h0m.1-7h0m0 7.3h0m0 5.3h0m0 5.8h0m.2-13.9h0m0 1.7h0m.1 6.1h0m0 5.8h0m.1-16.9h0m0 2.2h0m.1-6.3h0m0 8.4h0m.1-12.1h0m0 4.8h0m0 8.4h0m.2-15.4h0m0 12.9h0m0 5.7h0m.1 2.3h0m0 0h0m.1 5.4h0m0 2.6h0m.1-11.6h0m0 .5h0m.1-15.4h0m0 8.2h0m0 11.4h0m.1-10.5h0m0 7.8h0m.1-22h0m0 4.2h0m0 18.3h0m0 .6h0m.1 1.8h0m0 3.2h0m0 1.9h0m.1-9.4h0m.1 6.1h0m0 1.1h0m.1-14.3h0m0 9.8h0m0 2.1h0m0 3.7h0m.1-25.5h0m0 12.4h0m0 .3h0m0 11.6h0m0 6.8h0m.1-20.2h0m0 1.1h0m0 8h0m.1-15.2h0m.2 2.9h0m0 .7h0m0 2.7h0m0 3.9h0m.1-7h0m0 15.6h0m.1-24.8h0m0 11.4h0m0 17.8h0m.1-18.3h0m.1-1h0m0 .9h0m.1 12.2h0m.1 1.2h0m.2-18.5h0m0 10.3h0m.1-10h0m0 6.4h0m0 2.1h0m0 .3h0m0 5.8h0m.1-14.9h0m0 10.9h0m0 10h0m.1-13.2h0m.1 9.3h0m0 6.4h0m.1-7.3h0m0 1h0m0 3.8h0m.1-28.7h0m0 4.5h0m0 12.9h0m0 9.1h0m.1 .4h0m0 1.9h0m.2-19.9h0m0 5.3h0m0 4.3h0m0 2.7h0m0 8.7h0m.1-15.5h0m0 13.7h0m.1-12.4h0m0 6.6h0m0 4.6h0m.1-15.9h0m0 1.8h0m0 3.1h0m0 11.7h0m.1-13.7h0m0 6.6h0m.1-1.6h0m0 .2h0m0 4.7h0m.1-1.8h0m0 3.2h0m.1-26.7h0m0 16.8h0m0 10.7h0m.1-10.5h0m0 11.5h0m.1-18.5h0m0 1.4h0m.1 4h0m0 .2h0m0 10.4h0m.1-9.5h0m0 9.8h0m0 5.8h0m.2-17.7h0m0 14.7h0m.1-6.3h0m0 13.7h0m.2-7.9h0m.1 .3h0m.1-8.2h0m.1 3h0m.1 4.1h0m.1-12h0m0 6.2h0m.1-1h0m.1-5.6h0m.1-1.9h0m.1 3.2h0m0 10h0m.2-15.9h0m.3-5.2h0m0 13.2h0m0 8.1h0m.1-17.5h0m.1 20.6h0m.1-11.9h0m.1-3.4h0m0 10.5h0m.1 6.3h0m.2-24.4h0m0 5.5h0m.4 7.3h0m0 15.3h0m.1-27.8h0m.3 4.4h0m0 4.1h0m0 6.7h0m0 8.5h0m.1-27.3h0m0 12.2h0m.1-1.1h0m.1-6.6h0m0 13.5h0m.2-11.1h0m0 14.7h0m.1 1.4h0m.1-.9h0m.1 2.9h0m0 .8h0m.2-19.4h0m0 14.8h0m0 4.1h0m.2-9.7h0m0 3.8h0m0 9.4h0m.2-35.9h0m0 4.8h0m0 29.2h0m.1-16.5h0m.1-1.4h0m0 7.9h0m.2-12.6h0m.2 1.1h0m.4 24.6h0m.1-25.2h0m0 .2h0m0 8.1h0m.2-16.4h0m.1 8.4h0m0 14.3h0m.1-14.3h0m0 6.9h0m.1 2.7h0m0 .3h0m.1-4.8h0m0 9.3h0m.2-12.2h0m0 2h0m0 .7h0m0 4.2h0m.2 .3h0m.2-7.1h0m0 16h0m.5-8.8h0m1.1-8.2h0m0 8.6h0m.2-13.9h0m.4 11.7h0m.1-.4h0m.2 1.8h0m.2-7.9h0m0 23.1h0m.2-15.6h0m.1 1.1h0m.2-10.7h0m.3 7.3h0m1.3 5.8h0m.4-7.5h0m0 1.8h0m.2-.8h0m.3 3.4h0m.5-7.4h0m.1 6.4h0m.3-8.1h0m.1 14.4h0m.4-10.3h0m0 21.6h0m.5-33.5h0m.8 14.8h0m2.4 7.9h0m2.4 8.4h0m.5-21.7h0m3.1 16.4h0m2.4-8.1h0" stroke="#22a838" stroke-width="1.00" opacity="0.70"/><ellipse cx="215.0" cy="414.5" rx="26.0" ry="18.5" transform="rotate(0 215.0 414.5)" fill="url(#gD)" filter="url(#grain)"/><path d="M168.4 386h0m.1 .3h0m.1-.1h0m.2-1.5h0m.1-14h0m0 18.4h0m.1-13h0m.1-7.2h0m0 20.1h0m.1-1.9h0m.1 2.4h0m.1-9.7h0m.1-18h0m.1 25h0m.1 4.2h0m0 10.3h0m.1-6.1h0m.1-15.6h0m.2 1.5h0m.1-6.8h0m0 5.1h0m0 14.4h0m.1-7.8h0m.1-14.5h0m0 9.5h0m0 5.3h0m0 1.7h0m.1 10h0m.2-7h0m0 13.2h0m.1-36h0m0 18.3h0m0 .7h0m.1-1h0m0 5.8h0m.1-15.8h0m.1 11.6h0m.1-4h0m0 17.6h0m.1-13.6h0m.2 7.4h0m.1-10.2h0m.1-14.1h0m0 7.6h0m0 8.4h0m.1 26h0m.1-14.6h0m.1-12.5h0m.1-16.3h0m.1 23.4h0m.1-15.4h0m0 10.4h0m.1 10.3h0m.2-7.6h0m.2-5.3h0m.1-2.6h0m.1 12.4h0m.1-14.6h0m0 12.3h0m.1-20.9h0m0 .5h0m0 2.8h0m0 12.5h0m0 .2h0m.1-19.7h0m0 11h0m0 10.9h0m0 2.9h0m.1-6.7h0m0 12.1h0m.2-23.4h0m.1 1.8h0m0 12.8h0m.1 5.6h0m.1-5.3h0m.1-14.9h0m0 6.8h0m.1-14.8h0m0 2.1h0m0 10.5h0m.1-2.5h0m0 1.3h0m.2 27.3h0m.1-20.7h0m0 3.7h0m.1-8.8h0m.1-12.9h0m0 20.3h0m.2-15.2h0m0 5.8h0m0 5.8h0m0 3.4h0m.1-26.5h0m0 12.2h0m0 10.4h0m0 7h0m.1-3h0m.1-1.7h0m0 4.8h0m.1-8.6h0m0 .2h0m.1-.7h0m0 6.9h0m0 .8h0m0 8.9h0m0 1.7h0m.1-25h0m0 9.1h0m0 8.5h0m.1-10.5h0m0 3.4h0m0 2.3h0m.1-6.3h0m.1-2h0m0 4.8h0m0 5h0m0 4.5h0m.1-6h0m0 .4h0m0 16.6h0m.1-13.9h0m0 2.5h0m.1-7.4h0m0 .5h0m0 6.8h0m.1-21.9h0m0 16.7h0m0 7.8h0m.1-19.4h0m.1 1.5h0m0 18.8h0m.1-5h0m.1-2.3h0m.1-16h0m0 .7h0m0 10.7h0m0 .4h0m.1-12.9h0m0 16.1h0m.1-1.3h0m0 4.2h0m.1-18.6h0m0 .9h0m0 15.3h0m0 2.1h0m0 5.4h0m.2-12.2h0m0 3.5h0m0 5.5h0m.1-2.7h0m0 10.5h0m0 .6h0m0 .7h0m.1-29.5h0m.1 5.8h0m0 10h0m0 .8h0m0 9h0m.1-1.3h0m.1-23.6h0m.1 21.3h0m0 6.4h0m.1-17.5h0m.1-2.6h0m0 5.6h0m0 2.1h0m0 2.1h0m.1-3.1h0m.1-5.3h0m0 8.4h0m.1-17.1h0m.1 9.2h0m0 4.9h0m.1-9.5h0m0 19.1h0m.1-22.9h0m0 3.6h0m0 10.8h0m0 7h0m.1-22.2h0m0 1.9h0m0 3.2h0m0 6.7h0m0 3.8h0m.1-3.7h0m0 5.7h0m0 .6h0m.1-26.6h0m0 21.9h0m.1-11.9h0m0 11.6h0m.1 5.6h0m.1-9.2h0m.1-3.3h0m0 9.1h0m0 4h0m.1-22.5h0m0 6.8h0m0 11.1h0m.1-9.8h0m0 3.2h0m0 11.8h0m0 2.5h0m.1-14h0m0 2.9h0m0 1.2h0m0 4.1h0m.1-23h0m0 14.9h0m.1 5.8h0m0 1.1h0m.1-7h0m0 3.1h0m0 .1h0m0 .9h0m.1-15.2h0m0 4h0m0 3.3h0m0 5.3h0m0 4h0m0 .6h0m.1-8.5h0m0 5.3h0m0 15h0m.1-27.5h0m0 1.6h0m0 9.7h0m0 9.9h0m.1-6.6h0m0 .2h0m0 3.7h0m.1-18.6h0m0 2.5h0m0 6.9h0m.1 15.4h0m.1-6.1h0m0 3.4h0m0 4.2h0m.1-14.7h0m0 2.1h0m0 2.1h0m0 2.6h0m0 3.9h0m0 7.2h0m.1-38.8h0m0 25.6h0m0 5.8h0m0 .3h0m0 2.9h0m0 .8h0m.1-28.6h0m.1 5.5h0m0 3.5h0m0 3.2h0m0 .9h0m0 9.8h0m.1-18.8h0m0 8.8h0m.1-9.8h0m0 23h0m.1-17.9h0m0 3.6h0m0 14.8h0m.1-21.2h0m0 5.8h0m0 9.3h0m0 4.6h0m0 6.5h0m.1 5.7h0m.1-41h0m0 23.4h0m.1-20h0m.1 13.5h0m0 9.2h0m.1-13h0m0 .9h0m0 2.8h0m.1-10.6h0m0 27.6h0m.1-29.5h0m0 9.8h0m0 8.5h0m0 .8h0m0 3.3h0m.1-12.2h0m0 14.4h0m0 2.6h0m.1-28.4h0m.1 8.8h0m0 .7h0m0 3.6h0m0 1.5h0m0 17.3h0m0 0h0m.1-34.2h0m0 13.7h0m0 18.5h0m0 4.8h0m.1-26.1h0m0 2.5h0m0 8.5h0m0 20h0m.1-24.9h0m.1 0h0m.1-2.2h0m0 1.1h0m0 20.9h0m.1-32h0m0 4.1h0m.1 8.4h0m.2-2h0m0 7.3h0m0 6.3h0m0 6.7h0m.1-16.8h0m.1 7.5h0m.1-19.6h0m0 .5h0m.1-1.8h0m0 8.3h0m0 7.5h0m0 14.5h0m.1-31.9h0m0 6.3h0m.1 7h0m.1-6.4h0m.1 4.5h0m.1-10.3h0m.1 5.1h0m0 8h0m0 .8h0m0 16.8h0m.1-29.8h0m0 7.8h0m0 1.8h0m0 12.8h0m0 .3h0m.1-3.2h0m.1-5.1h0m0 3.6h0m0 6.8h0m.1-28.1h0m0 7.1h0m0 7.3h0m0 .8h0m0 6.9h0m0 9.9h0m.2-23.8h0m0 2h0m0 1.6h0m0 13.5h0m.1-11h0m0 12.7h0m.1-14.3h0m.1-1.2h0m0 2.9h0m0 9.6h0m.1-17.9h0m0 6.4h0m0 6.1h0m0 3.8h0m.1-17.5h0m.1 7.6h0m0 16.5h0m.1-17.4h0m0 7.6h0m0 4.9h0m0 1.1h0m.2-26.9h0m0 13.5h0m0 3.6h0m0 4.1h0m.2-8.9h0m0 2.1h0m.1-10.1h0m0 14.3h0m0 4.7h0m.1-5.8h0m0 12.5h0m.1-25h0m0 5.1h0m0 5.5h0m.1-6h0m0 2.4h0m0 7.4h0m0 .1h0m0 6.1h0m.3-16.2h0m0 19.3h0m0 .4h0m.1-24.3h0m0 6.5h0m0 21.2h0m.1-14.5h0m0 1.9h0m.1-25.7h0m0 10.5h0m0 7.5h0m0 3.9h0m0 25.5h0m.1-36.8h0m0 3.7h0m0 3.1h0m0 8.3h0m0 .1h0m.1 4.5h0m0 1.4h0m.1-23.6h0m0 7h0m0 7.5h0m.1-15.9h0m0 14.2h0m0 16h0m.1-23.6h0m0 4.3h0m0 6.2h0m0 7.3h0m0 .2h0m0 .6h0m0 .7h0m.1-30h0m0 4.2h0m0 11.3h0m.1-12h0m0 3.2h0m0 9.7h0m.2-10.3h0m0 12.6h0m.1 .1h0m0 4.3h0m0 .6h0m0 2.1h0m.1-14.4h0m0 11.3h0m.1-9.4h0m0 15.6h0m0 3.2h0m.2-23.6h0m0 15.5h0m.1 1.4h0m0 1.1h0m0 1.7h0m.1-20h0m0 2.3h0m0 2.4h0m0 3.3h0m0 11.3h0m0 1.3h0m.1-15h0m.1 6.1h0m0 2.8h0m.1-12.6h0m.3 4.9h0m0 5.3h0m0 1.7h0m.3 5h0m.1-19.9h0m0 .3h0m.1 14.4h0m0 1h0m.2 1.8h0m.1 6.8h0m.1 .9h0m.2-13.4h0m0 5.1h0m.2-13.5h0m0 21.7h0m.2-24.8h0m0 8.7h0m.1 3.7h0m0 4.2h0m.2-12.5h0m0 4.7h0m0 5.1h0m0 1.1h0m0 6.2h0m0 4.3h0m.1-27.6h0m0 9h0m0 7.9h0m0 6.4h0m.4-24.4h0m0 13.2h0m.1 18.5h0m0 1.2h0m.2-16.3h0m0 10.3h0m0 2.4h0m.1-20h0m0 12.4h0m.1 5.8h0m.1-11h0m.1-.7h0m0 1.2h0m.3 2.9h0m0 1.9h0m0 .3h0m.1-11.8h0m.1 3.3h0m.1-4.6h0m0 2.7h0m.2 4.8h0m0 4.3h0m0 2.6h0m.1-7.3h0m0 4.4h0m.2 9.7h0m.1-21.2h0m.1 9.4h0m.3 19.2h0m.1-21.1h0m0 9.8h0m.3-15.9h0m0 3.9h0m.2 1.8h0m.1-7.1h0m0 3.4h0m.3-4.7h0m0 9.6h0m0 3.4h0m.1-11.6h0m.1-3.2h0m0 10.9h0m0 1.8h0m.1-11.3h0m.1 14.6h0m0 5.4h0m.1-10.5h0m.1 11.3h0m.1-26.1h0m.3 10.9h0m.4 1.4h0m.1 19.8h0m.3-15.6h0m.1-16.4h0m0 1.7h0m.2 14.5h0m.1 6.5h0m0 7.1h0m.2-32.9h0m0 22.6h0m.1-8.4h0m.2 14.3h0m.1-.1h0m.3-16.9h0m.2 12.7h0m.1 7.8h0m.1-27.7h0m0 9.1h0m0 12.8h0m.1-31.9h0m0 37.6h0m.4-24.4h0m.4 10.6h0m.1-11.7h0m.1 25.7h0m.2-15.2h0m.2-12.8h0m0 8.5h0m.3 4.6h0m0 8.8h0m.1-17.9h0m0 13h0m0 .4h0m.1 4.3h0m.1-32.1h0m.3 2.6h0m.2 17.6h0m.2 7h0m.4-2.7h0m.1 6.3h0m.2-3.5h0m.1 1.3h0m.2 .8h0m1.1 3.4h0m1.1-8.6h0m.1-1.4h0m.5 4.7h0m.1-1.5h0m.3-5.3h0m.5-6.3h0m.3-2.5h0m.6 3.8h0m.5 9.7h0m1.2 6.7h0m0 1.5h0m.8-19.9h0m2.4 15.1h0m.4-2.6h0m.7 3.3h0m1.1-2.5h0" stroke="#1f9fc0" stroke-width="1.00" opacity="0.60"/><ellipse cx="183.0" cy="384.5" rx="24.0" ry="19.0" transform="rotate(-5 183.0 384.5)" fill="url(#gC)" filter="url(#grain)"/><path d="M168.9 392.8h0m0 .1h0m.3 5.2h0m.1-30.9h0m0 .8h0m.2 5.8h0m.2 24.2h0m.1-29.4h0m0 5.2h0m.2 24.1h0m.1-27.4h0m0 30.1h0m.1-7.1h0m.1-24.7h0m.5 3.1h0m.1-1.1h0m.4 30h0m.4-32.6h0m.5 33.9h0m.3-35.1h0m.5 5.2h0m.4-4.7h0m0 32.8h0m.2 2.8h0m.1-37.7h0m.1 31.1h0m.6-30.6h0m0 .1h0m.2 1.8h0m0 30.3h0m.1 5.3h0m.4-5.4h0m.3-25.1h0m.1-3.2h0m.1-2.3h0m0 33.5h0m.2-35.6h0m.2 34.5h0m.1 1h0m.1 3h0m1.1-1.9h0m.2-2.4h0m.2-28.2h0m.4-.4h0m.5-2.5h0m0 30h0m.3 3h0m.1-2.8h0m.3 2.7h0m.2-2.1h0m.3 1h0m.1-33h0m.3-1.7h0m.1 36.9h0m.2-3.8h0m.2-30.9h0m.1 30.2h0m.5-29.8h0m0 29.6h0m.2-30.8h0m.1 37.6h0m.1-34.5h0m.8-1.3h0m.2-.7h0m1.2 29.7h0m0 3.9h0m.2 1.1h0m.2-37.8h0m0 1.5h0m.5 32.8h0m.1-32.5h0m0 30.6h0m1.6-26h0m.2 28.8h0m.1 4.7h0m.3-1.3h0m.2-37.2h0m.1 33.7h0m.1-32.1h0m0 33.8h0m.6-35.2h0m.1-1.9h0m.8 32.9h0m.7-28h0m0 31h0m.2-29h0m.8-3.7h0m.1 .3h0m0 3h0m.3-3.2h0m0 30.7h0m.5 4h0m.1-37h0m.4 31.3h0m.1-31.2h0m.4 5.6h0m.3-5.3h0m.1 5.1h0m.1 25.6h0m.3 5h0m.2-36.1h0m.3 3.9h0m.1 4.6h0m.2-5.8h0m.1 6.1h0m.1-5.3h0m.2 3h0m.1 .9h0m.2-4.9h0m.3 28.9h0m.1-26.2h0m.4 .6h0m.1-4.8h0m0 26.4h0m.1-24.4h0m.9 23.6h0m0 .5h0m.2 1.2h0m.8-25h0m0 5.7h0m0 16.4h0m.3-23.7h0m0 5h0m.1 .6h0m0 21h0m.1-22.5h0m.1 2.5h0m.2-4.4h0m0 .7h0m0 20.7h0m.4-21.4h0m0 4.2h0m0 22.3h0m.2-6.9h0m.1-1h0m.1 7.6h0m.1-19.4h0m0 1h0m0 2.6h0m.1 19.6h0m.1-22.6h0m0 10.8h0m.1-5h0m.2 5.9h0m0 5.4h0m.1-16.5h0m.1 10.9h0m.1-9.4h0m0 16.6h0m0 1.7h0m.1-1.6h0m.3-16.3h0m.1 .7h0m.1 19.2h0m.1-18.6h0m.1-5.8h0m.1 12.2h0m.1 11.9h0m.1-4.3h0m.1-4.3h0m.1-16.5h0m.2 5.7h0m.1-5.1h0m0 14.4h0m.2-5.1h0m.1 9.5h0m.1-12.2h0m0 1.5h0m0 5h0m.1-10.8h0m.1 21.2h0m.1-6.1h0m.1 .3h0m.1-.4h0m.1-9h0m.1 13h0m.4-22.9h0m.1 2.5h0m0 1.8h0m0 17.1h0m.1-21.8h0m.3 9h0m.2 10.7h0m.1-10.6h0m.2 2h0m0 1h0m.4 5h0m.4-14.8h0m0 7.6h0m.3 6.2h0m.1-10.5h0m.1 3.1h0m.1 8.2h0m.1-4.9h0m0 3.6h0m.4-7.9h0m.1 9.2h0m.1-.4h0m0 1.2h0m.3-16.5h0m0 20h0m.1-16.1h0m.4 2.3h0m.2 4.7h0m1.1-8h0m.5 8h0m.7 2h0m.1-5.2h0" stroke="#17809c" stroke-width="1.00" opacity="0.50"/><path d="M184.3 413.5h0m.1 2.7h0m.2-4.6h0m.6-3.3h0m.1-.2h0m.1 8.2h0m.8-6.3h0m.2 2.8h0m.7 1.5h0m.2 5.7h0m.1-14.4h0m.1 1.6h0m.1 9.8h0m.7-13.4h0m0 15.4h0m.1-11.1h0m0 13.5h0m.4-10.4h0m.1-3.4h0m0 3.9h0m.1 13.6h0m.1-17.5h0m.7-1.6h0m.1 16.8h0m.1-21h0m0 .6h0m.1 13.2h0m.1-8.1h0m.4 5.6h0m.1 6.6h0m.2-7.5h0m.1-3.6h0m0 12.6h0m.1 .8h0m0 5.2h0m.1-23.5h0m0 7h0m.4 8.3h0m.2 7.6h0m.1-19.6h0m.2-1.6h0m0 3.6h0m0 11.6h0m.7 1h0m0 4.3h0m.1 0h0m.2-5.8h0m.1-19.8h0m0 28.5h0m.4-16h0m.1-9.6h0m.1 12h0m.1-4.9h0m0 12.7h0m.3-18.9h0m.1-5h0m.2 5.2h0m.2 2.3h0m.1 21.4h0m.1-25.3h0m0 17.4h0m0 3.6h0m.4-2.4h0m0 6.5h0m.1-24.3h0m0 18.1h0m0 6.8h0m.2-22.2h0m.4-4.4h0m.1 21.2h0m.2-23.9h0m.1 6.4h0m0 21.5h0m.4-2.3h0m0 1.8h0m.3-1.1h0m.5-26.6h0m0 26.3h0m.5 5.7h0m.3-4.5h0m.3 3.5h0m.1-28.1h0m.1-4.6h0m0 8.2h0m.1-9.7h0m0 7.5h0m.1-7.3h0m0 5.1h0m.1 28.3h0m.3-26.8h0m0 21.2h0m0 3.6h0m0 1.6h0m.2-1.3h0m.1-31.9h0m0 2.6h0m0 3.4h0m.4 25.1h0m.3-23.8h0m0 22h0m.1-26.2h0m0 29.1h0m.4-1.8h0m.1-28.8h0m.1 2.6h0m0 29.4h0m.3-31.4h0m.1 31.1h0m.4-33.6h0m0 32.8h0m.2-29.6h0m.1-2.2h0m.2 32.9h0m.4-2.7h0m.8-28.5h0m.1 1.7h0m0 28.1h0m.3-28.6h0m.2 30.6h0m0 1.3h0m.1-32h0m.1-1h0m0 27.8h0m.4-26h0m.2-2.6h0m.7-2.7h0m.2-.7h0m0 33.1h0m.2-28.4h0m.1 1.7h0m.2-2.1h0m.2 28.7h0m.2 1.7h0m.5-33.1h0m.2 33.9h0m.4 1.8h0m.5-36.4h0m0 33.2h0m.1 2h0m.1-.7h0m.2-36.1h0m.2 35.9h0m.9-31.7h0m.2 31.4h0m.1-33.2h0m.1 35.2h0m.1-.2h0m.1-33.2h0m.2 1.5h0m.1 30.1h0m.2 .7h0m1.5-33.9h0m.7 1.5h0m0 2.4h0m.2-.1h0m.3-2.5h0m.5 32h0m0 .9h0m.5-31.8h0m.1-5.2h0m.2 6h0m.4-1.2h0m.2-4.4h0m.3 5.3h0m.2 32.8h0m.3-38h0m.2 34.6h0m.2-33.4h0m.3 2h0m.1 31h0m0 .1h0m0 3h0m.1-2.5h0m.1-.4h0m.4-31.5h0m.3 4.1h0m.4-2.7h0m0 33.8h0m.1-32.5h0m.4-5.4h0m.3 5h0m0 .7h0m.2 29.7h0m.1-32.3h0m.1 4h0m0 29.4h0m.2-35.3h0m.2 33.7h0m.1-33.2h0m.1 34.7h0m.4-33.3h0m0 34.3h0m.1 .6h0m.3-2.1h0m.1-36h0m.1 2h0m.1-.3h0m.2 1.3h0m.7 30.9h0m.1-33.2h0m.1 1.2h0m0 .4h0m0 4.3h0m.3-5.9h0m.5 1.4h0m.1 3.8h0m.1 1.2h0m.2 .4h0m.2-4.6h0m0 34.3h0m.4-31.6h0m.3-3.5h0m.2 6.5h0m0 26.6h0m.4-31.7h0m0 32.8h0m.3-2.5h0m.1 0h0m.3-25.3h0m.6 22.2h0m.2-28.5h0m.1 2.2h0m.2 .3h0m0 3.5h0m.1-3.5h0m.1 31.3h0m.4-33.5h0m0 29.6h0m.1-26.2h0m.1 2.2h0m0 .3h0m.2-3.2h0m0 25.4h0m0 6.6h0m.1-28.3h0m.1-4.9h0m0 1.2h0m.9-2h0m0 6.9h0m.2-.2h0m0 23h0m.2-20.8h0m.1 19.4h0m.1-26.2h0m.1 .3h0m.2 6.6h0m.4 .6h0m0 15.6h0m.2-21.3h0m.1 24.1h0m.3-21.7h0m.2 17.4h0m.3-16.9h0m0 .8h0m.1 2.6h0m0 18.5h0m.5-17.5h0m0 19.5h0m.2-4.9h0m.1 1.4h0m.1-5.3h0m0 3.2h0m.1-18.1h0m.1 6.8h0m.1-12.4h0m.1 8.2h0m0 21.4h0m.2-7.1h0m.1-13.5h0m.2-7.6h0m.2 11.1h0m.1-9.4h0m.1 10.3h0m.2-6.9h0m.4 12.9h0m0 6.5h0m.1-20.2h0m0 .7h0m.3 18.1h0m.1-18.5h0m.1 3.7h0m.1-3.2h0m.2 7.8h0m.1 2.4h0m0 9.9h0m.3-3.2h0m.1 5.9h0m.1-15.9h0m.1 1.6h0m.2 .2h0m0 5.7h0m.1-3.9h0m.2 7h0m.3-14.1h0m0 1.5h0m.3 8.9h0m.1-6.1h0m0 3h0m0 1.3h0m.1-6h0m0 6.4h0m.3-5.2h0m0 14.9h0m.6-20.8h0m0 13.6h0m0 .9h0m.3-7.4h0m.2-3h0m.7 10h0m0 5h0m.1-11.1h0m.2-3.6h0m.3-4.7h0m.1 6.7h0m0 6.2h0m.5-13.7h0m.8 8.2h0m.1 4.4h0m.2-3.7h0m.2 5h0m.3-7.7h0m.2-.4h0m.2-.9h0m.2 9.3h0" stroke="#1c7a2a" stroke-width="1.00" opacity="0.50"/><path d="M245.7 371.8h0m2.1-12.3h0m1-1.8h0m.1 0h0m.4 1.4h0m.3-9.3h0m.5 9.4h0m.1-1.6h0m.2 4.6h0m.1-10h0m0 8h0m0 10.7h0m.2-7h0m.4-11h0m0 7.7h0m.3 5.1h0m.1-4.2h0m.1 5h0m.1-4h0m0 .3h0m0 1.7h0m0 4.5h0m.1-7.7h0m.2-5.5h0m.2 7.4h0m.1-10.7h0m.2 11.1h0m0 .1h0m.1-.9h0m.2-6.9h0m0 8.2h0m.1-6.3h0m0 10.1h0m.3-11.4h0m.2 18h0m.2-12h0m0 0h0m.1-13.8h0m0 9.3h0m0 6.3h0m.3-4.1h0m.1-.8h0m0 1.4h0m.1 3.3h0m0 6.3h0m.3-15.2h0m0 5.2h0m0 2.3h0m.1-3.6h0m.2-1.5h0m0 8.1h0m.1-3.8h0m.1-3h0m.1-4.1h0m0 1h0m0 7.5h0m.1-2.5h0m0 4.3h0m.2-2h0m.2-6h0m.1-1.6h0m.1 7.7h0m.1-7.1h0m0 3.7h0m0 3.2h0m.1-9.3h0m0 17.4h0m.1-21.4h0m0 5h0m0 1h0m.1 .9h0m.1-7.7h0m0 5.1h0m0 2h0m.1 3h0m0 8.1h0m.1-19.3h0m0 7.2h0m0 4.1h0m.2-7.9h0m0 1.6h0m0 1.8h0m0 4.3h0m.1-7.5h0m0 9h0m0 2h0m.1-8.5h0m0 1h0m0 8.6h0m.1-8.5h0m0 2.1h0m0 6.8h0m.1-7h0m0 3.8h0m.1-5.5h0m0 .8h0m0 1.9h0m0 1.1h0m0 .4h0m0 5h0m.1-17.5h0m.1 10.9h0m.1 1.6h0m0 1.5h0m0 2.2h0m0 .2h0m0 2.6h0m.1-14.3h0m0 5.5h0m0 2.9h0m.1-3.1h0m0 .8h0m0 2.6h0m.1-3.9h0m.1 .8h0m0 .8h0m0 1.3h0m.2-8.7h0m0 4.2h0m0 8.2h0m.1-9.8h0m0 4h0m.1-5.9h0m0 9.4h0m.1-8.7h0m0 1.7h0m0 4.5h0m.1-7.7h0m0 4.7h0m.2-4.9h0m0 1.9h0m0 8.5h0m0 10.7h0m.1-16.1h0m0 4.6h0m.1-3.9h0m.1-5.7h0m.2 1.7h0m0 9.4h0m.1 4.5h0m.1-6.3h0m0 1h0m0 5.2h0m.1-6.7h0m.1-11.7h0m0 6.8h0m0 4.3h0m.1-8.9h0m0 3.6h0m.1-2.7h0m0 10h0m.2-7.9h0m0 7.5h0m.1 1.8h0m.1-6.8h0m.1-10.2h0m0 1.2h0m0 3.9h0m0 .8h0m0 3.8h0m0 .8h0m.1-2.7h0m0 .6h0m0 3.4h0m.1-1.8h0m0 .3h0m.1-3.3h0m0 3.9h0m.1 3.3h0m0 4.2h0m0 4.6h0m.1-20.9h0m0 16.8h0m.1-13.1h0m0 2h0m0 2.6h0m.1-6.2h0m0 1.9h0m0 5.5h0m.1 .5h0m.1-5.2h0m0 .5h0m0 .6h0m0 10h0m.2-4.4h0m.2-6.7h0m.3 2.9h0m.1 5.4h0m.1-9.4h0m0 .2h0m0 3h0m0 2h0m0 3.4h0m0 .2h0m0 4.1h0m.1-15.8h0m0 6.6h0m0 1.5h0m.1-4.3h0m0 8.6h0m0 .6h0m.1-4h0m0 2.7h0m0 0h0m0 1.1h0m0 6.7h0m0 1.7h0m.1-13.7h0m.1-4.9h0m0 1.3h0m0 5.3h0m.1-17.9h0m0 12.8h0m0 3.3h0m0 9.1h0m.1-9h0m.1 5h0m.1-6.9h0m.1-2.7h0m0 2.6h0m0 1.7h0m0 7.3h0m0 .5h0m.1-10.4h0m.1-6.8h0m0 6.4h0m.1 13.5h0m.1-19.7h0m.1 11.3h0m.2-13.5h0m0 2.7h0m0 11.9h0m0 1.2h0m0 7.3h0m.1-21.4h0m0 5.9h0m.2-12.1h0m0 12.1h0m0 .5h0m0 4.2h0m.1-.1h0m0 .4h0m.1-8.3h0m0 8.9h0m.2-12.2h0m0 3.4h0m.1-4.2h0m0 12.9h0m.1-11.4h0m.1 7.7h0m.1-1.6h0m0 1.8h0m0 .9h0m.1-6.4h0m0 3.9h0m.1-4.9h0m0 7.3h0m.2-6.3h0m.1 2.8h0m0 6.2h0m.1-6.3h0m0 1.2h0m0 4.1h0m.1-2h0m0 1h0m.2-4.6h0m.4 7.6h0m.3-6.2h0m0 1.6h0m.1-5.9h0m.1 8h0m.2-3h0m0 3.8h0m.2-15.3h0m.2 11.4h0m.2-7.3h0m0 9.5h0m.3-7.7h0m0 12.7h0m.1-13.6h0m0 3.1h0m0 1.8h0m.3-4.4h0m0 .8h0m.1-.4h0m0 3h0m.1-5.9h0m.1 .7h0m.3 .7h0m.3 4.8h0m.4-2.9h0m.3 1.4h0m.4-2.3h0m.1 5.7h0m.3-.5h0m.1 3.9h0m1.6-12.7h0m.2-1.5h0m.2 15.5h0m.2-3.2h0" stroke="#860e28" stroke-width="1.20" opacity="0.95"/></g><polygon points="253.0,333.0 279.8,337.5 265.5,382.0 246.8,376.3 240.5,366.3 240.0,355.0" fill="none" stroke="#1c1c1c" stroke-width="1.25"/></g>
<path d="M167.40 310.20V431.50M167.80 431.00h-6.20M167.80 421.95h-3.20M167.80 416.65h-3.20M167.80 412.89h-3.20M167.80 409.98h-3.20M167.80 407.60h-3.20M167.80 405.58h-3.20M167.80 403.84h-3.20M167.80 402.30h-3.20M167.80 400.93h-6.20M167.80 391.87h-3.20M167.80 386.58h-3.20M167.80 382.82h-3.20M167.80 379.90h-3.20M167.80 377.52h-3.20M167.80 375.51h-3.20M167.80 373.76h-3.20M167.80 372.23h-3.20M167.80 370.85h-6.20M167.80 361.80h-3.20M167.80 356.50h-3.20M167.80 352.74h-3.20M167.80 349.83h-3.20M167.80 347.45h-3.20M167.80 345.43h-3.20M167.80 343.69h-3.20M167.80 342.15h-3.20M167.80 340.77h-6.20M167.80 331.72h-3.20M167.80 326.43h-3.20M167.80 322.67h-3.20M167.80 319.75h-3.20M167.80 317.37h-3.20M167.80 315.36h-3.20M167.80 313.61h-3.20M167.80 312.08h-3.20M167.80 310.70h-6.20M168.80 432.50H289.90M169.30 432.10v5.20M178.34 432.10v2.80M183.63 432.10v2.80M187.38 432.10v2.80M190.29 432.10v2.80M192.66 432.10v2.80M194.67 432.10v2.80M196.42 432.10v2.80M197.95 432.10v2.80M199.32 432.10v5.20M208.36 432.10v2.80M213.65 432.10v2.80M217.40 432.10v2.80M220.31 432.10v2.80M222.69 432.10v2.80M224.70 432.10v2.80M226.44 432.10v2.80M227.98 432.10v2.80M229.35 432.10v5.20M238.39 432.10v2.80M243.68 432.10v2.80M247.43 432.10v2.80M250.34 432.10v2.80M252.71 432.10v2.80M254.72 432.10v2.80M256.47 432.10v2.80M258.00 432.10v2.80M259.38 432.10v5.20M268.41 432.10v2.80M273.70 432.10v2.80M277.45 432.10v2.80M280.36 432.10v2.80M282.74 432.10v2.80M284.75 432.10v2.80M286.49 432.10v2.80M288.03 432.10v2.80M289.40 432.10v5.20" stroke="#111" stroke-width="0.95" fill="none"/>
<g clip-path="url(#c03)"><g filter="url(#soft)" class="d"><path d="M19 551.1h0m0 24.1h0m.1-42.7h0m0 32.5h0m0 8.8h0m.1-49.7h0m0 15.6h0m0 10.2h0m0 1.6h0m0 13h0m.1-19.3h0m0 25.4h0m0 3.5h0m.1-20.5h0m0 9.7h0m0 1.7h0m.1-41h0m0 10.5h0m.2-9.5h0m0 45.7h0m.1-38.8h0m0 26.6h0m0 .6h0m0 11.4h0m.1-33.6h0m0 22.1h0m.1-13.2h0m0 17.3h0m0 4.9h0m0 2.3h0m.1-52h0m0 40.4h0m0 16.3h0m.1-66.4h0m0 13.3h0m0 20.5h0m.2-76.9h0m0 45.7h0m0 19.1h0m0 26h0m0 2.2h0m0 5.6h0m0 8.7h0m.2-55.2h0m0 29.7h0m0 18.4h0m0 1.8h0m.1 7.6h0m0 .7h0m.1-55.9h0m0 30.1h0m0 6.7h0m0 19.3h0m.1-73.3h0m0 25.6h0m0 42h0m.1-1.1h0m0 3.1h0m.1-21.2h0m.1 2.7h0m.1-23.9h0m.1 41h0m0 4.4h0m0 .5h0m.1-18h0m0 6.3h0m.1-56.4h0m0 27.9h0m0 15.6h0m0 1.1h0m0 2.1h0m.1-23.6h0m0 1.5h0m0 39.9h0m.2-44.8h0m0 19.4h0m0 8.7h0m0 6.4h0m0 4h0m0 5.2h0m.1 3.6h0m.1-24.6h0m.1-11.3h0m0 10.1h0m0 12.9h0m0 5.9h0m0 7.3h0m.1-32.9h0m0 2.8h0m0 14.9h0m.1 15.8h0m.1-32.9h0m0 10.9h0m0 17.5h0m.1-84.1h0m0 58.4h0m0 16.7h0m0 4.1h0m.1-21.6h0m0 22.1h0m.1-13.6h0m0 9.9h0m0 3h0m0 6.7h0m.1-47.4h0m.1-13.6h0m0 5.5h0m.1 22.4h0m0 17.5h0m0 4.6h0m0 2.4h0m.1-50.4h0m0 6.4h0m0 24.4h0m0 19.4h0m0 7.4h0m.1-19.9h0m.1 19h0m0 1.1h0m0 .5h0m.1-30.3h0m0 4.3h0m0 28h0m.1-48.1h0m.1 25.6h0m0 16.6h0m0 6.6h0m.2-14.5h0m.1-22.5h0m0 2.8h0m0 9.5h0m0 5.3h0m0 1.8h0m0 6.7h0m.1-18.3h0m0 1.6h0m0 9.8h0m0 3.5h0m0 1.1h0m0 2.5h0m0 9.5h0m.1-58.8h0m.1 27.6h0m0 22.2h0m0 3.6h0m.1-9.9h0m0 7.8h0m.1-19.7h0m.1-15.5h0m0 9.7h0m.1-4h0m0 16.9h0m0 3.5h0m0 .7h0m0 4.1h0m.1-52.3h0m0 24h0m0 34h0m.1-47.4h0m0 33.9h0m0 3.2h0m0 8.8h0m.1-21.1h0m0 15.8h0m0 12.6h0m.1-50.3h0m0 29.9h0m0 10.2h0m0 9.9h0m.1-27.5h0m0 23.5h0m.1-25.3h0m0 13.3h0m0 5h0m0 14h0m.1-20.3h0m0 4.8h0m0 4.9h0m0 4.4h0m.1-11.3h0m0 6.4h0m.1-37.4h0m0 2.5h0m0 35.5h0m0 3.3h0m0 3.9h0m.1-36.8h0m0 33.9h0m.1-71.4h0m0 22.3h0m0 9.6h0m.1 24.9h0m0 2.8h0m0 4.7h0m0 5.1h0m.1-30.2h0m0 31.7h0m0 3.4h0m.1-34.6h0m0 3.4h0m0 .6h0m0 23.1h0m0 8.4h0m.1-28.5h0m0 10.9h0m0 7.8h0m0 1.4h0m.1-36.7h0m0 22.9h0m0 15.9h0m0 2.3h0m.1-22h0m0 10.2h0m0 8.9h0m.1-42.8h0m0 43.6h0m0 .6h0m.1-29.8h0m0 9.4h0m0 11.5h0m0 12.1h0m.1-42.4h0m0 27.9h0m.1 12h0m.1-6.5h0m0 7.9h0m.1-73.1h0m0 27.3h0m0 1.6h0m0 20.2h0m0 4.1h0m0 17.1h0m0 7.6h0m.1-35.6h0m0 26.4h0m.2-32.7h0m0 28.4h0m0 9.9h0m.1-19.2h0m0 5.4h0m0 4.4h0m.1-8.1h0m.1-1.5h0m0 1.4h0m.1-43.8h0m0 30.4h0m0 9.3h0m0 1.8h0m0 8.7h0m0 2.6h0m0 .4h0m.1-14.1h0m0 9.1h0m0 2.5h0m.1 .9h0m0 2.1h0m.1-32.9h0m0 24.9h0m0 4.2h0m.1-32.1h0m0 33.4h0m0 12.3h0m.2-68.2h0m0 25.2h0m0 10.9h0m0 25.9h0m.1 6.2h0m.2-32.6h0m0 15.7h0m.1 3.9h0m.1-8.1h0m0 7.2h0m0 14.9h0m.1-76.5h0m0 37.7h0m0 .1h0m0 17.8h0m0 10.6h0m.1-29h0m0 .9h0m0 14.4h0m0 18h0m.2-39.5h0m0 19.6h0m0 1.1h0m0 4.6h0m0 18.4h0m.1-12.2h0m0 3.9h0m.1-23.4h0m0 19.1h0m.1 14.5h0m.1-20.6h0m0 21.4h0m.2-8.2h0m0 6.9h0m.1-17.2h0m0 12.3h0m.1-25.2h0m0 18.4h0m0 13.7h0m.1-63h0m0 7.2h0m0 32.5h0m0 10.1h0m0 .1h0m.1-72.1h0m0 64.7h0m0 7.8h0m.2-20.1h0m0 15.6h0m.1-27.8h0m0 31.2h0m0 6.1h0m0 1.1h0m.1-56.8h0m0 26.2h0m0 9.5h0m.1-52h0m0 56.7h0m0 6.6h0m.1-21.9h0m0 14.2h0m0 14.8h0m0 2h0m.1-58h0m0 15.1h0m0 29.7h0m0 2.1h0m0 .9h0m0 3.2h0m0 5.5h0m.1-7.9h0m0 .9h0m.2-47h0m0 9.4h0m0 47.2h0m0 .6h0m0 3.4h0m.1-45.8h0m0 16.1h0m0 30.4h0m0 .1h0m.1-40.1h0m0 19.6h0m.2 13.8h0m.1-14.9h0m0 14h0m.1-13.1h0m0 11.8h0m0 3.6h0m.1-21.1h0m0 1.9h0m0 11.7h0m0 9.3h0m.1-93.3h0m0 51.6h0m0 26.9h0m.1-7.7h0m0 .3h0m0 11.6h0m0 1.2h0m0 7.6h0m0 4.3h0m0 .4h0m0 .2h0m.1-61.6h0m0 15.6h0m0 14.9h0m0 11.3h0m.1-25.2h0m0 5.8h0m0 30h0m0 .4h0m0 3.6h0m.2-44.9h0m0 10.4h0m0 40h0m.1-35.4h0m0 16.7h0m.1-27.2h0m.1-33.8h0m0 63.3h0m0 1.4h0m.1-5.2h0m.1-6.3h0m0 15.1h0m0 4.6h0m0 2.5h0m.1-24.7h0m.1 12.7h0m0 12.6h0m0 .6h0m.1-24.6h0m.1-8.9h0m0 8.5h0m0 11.2h0m.1 10.1h0m.1-5.7h0m0 13.9h0m.1-73h0m0 38.7h0m0 10.2h0m0 6.7h0m0 15.1h0m.1-35.2h0m0 20.8h0m0 12.3h0m.1-36.9h0m0 25.5h0m0 10.3h0m.1-20h0m.1-36.8h0m0 27.3h0m0 2h0m0 18.1h0m0 6.5h0m.1-53.5h0m0 9.5h0m0 46.6h0m0 1.2h0m.1-18.9h0m0 4.1h0m0 6.6h0m0 3h0m.1-4.7h0m.1-74h0m0 45.3h0m0 19h0m0 3.9h0m0 3.7h0m.1-26.8h0m0 18h0m0 1.1h0m0 19.8h0m.2-54h0m0 49.8h0m0 .1h0m0 5.7h0m.1-15h0m0 2.6h0m0 14.8h0m.2-37.8h0m0 22.4h0m0 5.2h0m.1-10.6h0m0 .4h0m0 14.9h0m.1-15.8h0m0 2.9h0m0 13.8h0m0 4.7h0m.2-56h0m0 22.3h0m0 14.1h0m0 1h0m0 10.5h0m0 .9h0m.1-45.6h0m0 17.7h0m0 4.3h0m.1-9.5h0m.1 .1h0m0 32.2h0m.1-10.4h0m0 16h0m0 .3h0m0 1.5h0m.1-9.3h0m0 .3h0m0 10h0m.1-40.4h0m0 31h0m.1-43.4h0m0 7.4h0m0 13.9h0m.1-26.6h0m.1 40.3h0m0 2.1h0m.1 2.3h0m0 8.7h0m.1-75.1h0m0 39.9h0m0 1.1h0m0 7.2h0m0 2.4h0m.1-17.2h0m0 9.8h0m0 14.5h0m.1-61.8h0m0 48h0m0 2.8h0m0 1.4h0m0 .8h0m0 6.8h0m.1-12.8h0m0 .5h0m.1 13.2h0m.1-9h0m0 2.4h0m0 6.6h0m0 12h0m.1-31.7h0m0 3.4h0m.1 21.5h0m0 2.5h0m0 9.2h0m.1-11.8h0m.1-21.9h0m0 10.4h0m0 5h0m0 1.8h0m0 15.8h0m.1-58.2h0m0 34.6h0m0 23h0m.1-48h0m0 5.9h0m0 9.8h0m0 18.9h0m0 20.1h0m.1-42h0m0 31h0m.1-10.6h0m0 15.4h0m.1-15.9h0m0 4.4h0m.1 7.4h0m.1-20.2h0m0 12h0m.2-16.8h0m0 20.5h0m0 7.2h0m.1-8.2h0m0 8.7h0m0 6.9h0m.1-7.9h0m0 1h0m0 2.3h0m0 4h0m.1-48.6h0m0 26.2h0m0 6.1h0m.1-22.5h0m0 17.2h0m0 21h0m.1-31.8h0m0 23.7h0m.1-33h0m0 16.1h0m.1-11.3h0m0 18.6h0m0 12.7h0m0 4.2h0m0 .2h0m.1-24.7h0m0 5.2h0m0 10.1h0m.1-92.5h0m0 49.4h0m0 43.4h0m0 6.5h0m0 1.2h0m.1-9.9h0m0 2.2h0m0 4.8h0m.1-8.3h0m0 2.3h0m0 1.7h0m.3-30.7h0m0 18.2h0m0 7.7h0m0 6.9h0m.1-23.3h0m0 8.9h0m0 7.6h0m.1-38.2h0m0 6.8h0m0 31.1h0m0 14.4h0m.2-13.5h0m.1-18.6h0m0 30.1h0m.1-14.9h0m0 17.5h0m.1-22.3h0m0 16.3h0m.1-6.2h0m0 8.4h0m0 .6h0m.1-9.1h0m0 1.5h0m0 7h0m0 1.8h0m.1-18.1h0m0 13.3h0m0 .8h0m.1 2.9h0m.1-42.2h0m0 4.7h0m0 18.9h0m0 4.8h0m.1-61.4h0m0 60.8h0m0 2h0m.1 .5h0m0 3.1h0m.1-45.2h0m0 9.5h0m0 15.6h0m0 20.9h0m.1-30.3h0m0 14.4h0m0 6.7h0m0 4.4h0m0 13.4h0m.1-27.7h0m0 27.5h0m.1-59.8h0m0 50.7h0m.2-38.1h0m0 22.9h0m.1-4.6h0m0 2h0m0 25.5h0m.1-55.6h0m0 31.6h0m0 11.4h0m.1 12.5h0m0 3.6h0m.1-55.3h0m0 24.9h0m0 5.5h0m0 8.5h0m.1-10.2h0m.1-19.2h0m0 25.6h0m0 12.7h0m0 5.5h0m0 3.8h0m0 .1h0m.1-58.4h0m0 30.6h0m0 23.5h0m.1-69.3h0m0 50.9h0m.1-49h0m0 37.5h0m0 17.1h0m0 .6h0m0 5.7h0m.1-15.2h0m.1-20.3h0m0 22.2h0m.1 11.3h0m0 7.2h0m.1-.5h0m0 2.1h0m.1-51h0m0 28.4h0m0 4.4h0m0 12.7h0m0 7.4h0m.1-12.7h0m0 5.4h0m0 1.4h0m.1-25.1h0m0 6.5h0m0 13.5h0m0 8.8h0m.1-19h0m0 4.6h0m0 7.5h0m0 6.7h0m.1-59.6h0m.1 1.1h0m0 28.5h0m0 19.7h0m0 13.3h0m0 1.3h0m.1-5.6h0m.1-52.3h0m0 38.7h0m0 7.3h0m.1-15.8h0m.1-27.8h0m0 19.5h0m.1 7.4h0m0 13.2h0m.1-4.6h0m.1-35h0m0 19.3h0m0 5.6h0m0 28.5h0m.1-30.1h0m0 7.4h0m0 3.4h0m.1-15.6h0m0 7.5h0m0 10.9h0m0 9.9h0m.1-4.1h0m0 6.3h0m.1-22.9h0m0 5h0m0 1h0m0 3.7h0m.2-7.2h0m.1 14.5h0m0 8.6h0m.1-31.9h0m0 3h0m0 29.6h0m0 2.3h0m.1-62.5h0m.1 21.8h0m0 8.6h0m0 14.2h0m0 7.1h0m0 .8h0m0 8.1h0m.1-67.7h0m0 27.8h0m0 26.6h0m.1-13.6h0m0 15.4h0m0 .6h0m0 2.9h0m0 0h0m0 5.3h0m.1-15.6h0m0 5.8h0m0 .6h0m0 1.7h0m0 5.5h0m0 1.8h0m.1-42.4h0m0 9.8h0m0 29.3h0m.1-42.8h0m0 33h0m0 11.6h0m.2-29.5h0m0 4.7h0m0 1.1h0m0 .9h0m0 26.4h0m.1-6h0m0 5.9h0m.1-34.3h0m0 8.4h0m0 17.4h0m0 .2h0m0 6.2h0m0 5.6h0m.2-30.6h0m0 2.6h0m0 16.5h0m.1-31.5h0m0 26.5h0m0 11.5h0m.1-16.9h0m0 18h0m.1-33.2h0m0 19.4h0m0 .7h0m0 .5h0m0 16.3h0m.1-76.3h0m0 49.5h0m0 1h0m0 19.3h0m0 6h0m.1-24.8h0m.1-15.6h0m.2-25.5h0m0 8.4h0m.1 4.2h0m0 8.2h0m0 21.6h0m0 5.6h0m0 3.7h0m0 10.7h0m.1-50.8h0m0 31.5h0m0 11.8h0m0 .8h0m.1-69h0m0 32.1h0m0 37.2h0m0 .2h0m0 5.5h0m.1-3.8h0m.1-53.2h0m0 24.4h0m0 16.9h0m0 12.8h0m.2-20.8h0m0 7.6h0m0 12.8h0m.1-35.3h0m0 8.6h0m0 9.6h0m0 11.8h0m0 .8h0m0 0h0m0 11.9h0m.1-43.8h0m0 5.1h0m0 2.7h0m0 8.3h0m0 10.7h0m0 7.6h0m0 1h0m0 7.1h0m.1-6h0m.1-39h0m0 24.6h0m0 10.7h0m0 8.4h0m.1-37.9h0m0 32.1h0m.1-38.5h0m0 22.5h0m0 11.3h0m0 11.1h0m.1-19.4h0m0 10.1h0m.1-8.5h0m0 17.7h0m.1-61.7h0m0 19.2h0m0 40.5h0m.1-48.4h0m0 8.5h0m0 10.8h0m0 8.7h0m0 7h0m.1-38.1h0m0 30.1h0m0 11.1h0m0 6.3h0m0 .2h0m.1-27.1h0m.1-20.4h0m0 54.6h0m.1-42.6h0m0 4.6h0m0 20.7h0m.1-24.3h0m0 21.7h0m0 12h0m0 2.7h0m0 4.6h0m.1-40.3h0m0 21.5h0m0 16.5h0m0 2.8h0m.1-30.9h0m0 26.6h0m.1-41h0m0 13h0m0 22h0m0 5.8h0m0 1.5h0m0 1.8h0m.1-33.7h0m0 2.9h0m0 4.4h0m0 11.5h0m0 11.8h0m.1-57.9h0m0 14.3h0m0 34.2h0m0 5.8h0m0 5.2h0m0 3.2h0m.1-8.7h0m.1-13.4h0m0 1.6h0m.1-45.9h0m0 20.9h0m0 20.4h0m.1-12.9h0m.1 27.1h0m.1-57h0m0 24.1h0m0 22.5h0m0 7.1h0m0 15.4h0m.1-36.6h0m0 18.6h0m.1-28h0m0 26.5h0m0 8h0m.1-52.1h0m0 33.9h0m.1-6.6h0m0 16.1h0m0 2.8h0m0 2.8h0m0 11.8h0m.1-24.9h0m.1-51.1h0m0 40h0m0 14.5h0m0 18.3h0m0 .2h0m0 5.9h0m.1-95.7h0m0 20.4h0m0 19.6h0m0 18.5h0m0 13.4h0m0 11.7h0m0 .6h0m0 3.5h0m.1-8.9h0m.1-15.7h0m0 14.1h0m0 7.1h0m0 11h0m.2-24.7h0m0 5.5h0m.1-11.7h0m0 21.9h0m.1-29.7h0m.1 7.3h0m0 1.7h0m0 4h0m0 2.2h0m.1-20.4h0m0 39.5h0m.1-8h0m0 2.7h0m0 1.8h0m0 0h0m.1 3h0m0 1.6h0m0 1.8h0m.1-32.9h0m0 16.8h0m0 15.8h0m0 2.1h0m.1-39.9h0m0 33.1h0m0 2h0m0 4.7h0m.1-29.2h0m0 3.4h0m.1-26.1h0m0 7.4h0m0 17.5h0m0 13.4h0m0 4.2h0m0 1.3h0m0 5.5h0m.2-15.2h0m0 14.1h0m.1-33h0m0 19.8h0m0 3.4h0m0 2.1h0m.1-26.9h0m0 25.6h0m.1-14h0m0 13.5h0m0 13.1h0m.1-44h0m0 23.4h0m0 13.9h0m0 .2h0m0 5.6h0m.1-40.2h0m0 3.7h0m0 24.3h0m0 6.1h0m.1-41.5h0m0 3.6h0m0 9h0m0 22.5h0m0 9.9h0m0 3h0m.1-47.1h0m0 14.5h0m0 9.4h0m0 11.1h0m.1-24.7h0m0 11.5h0m.1 2.1h0m0 12.6h0m.1-36.3h0m0 2.3h0m0 8.3h0m0 6.7h0m0 3.7h0m.3-4.2h0m0 16.2h0m0 .9h0m0 2.1h0m0 1.6h0m.1-61.1h0m0 38.6h0m0 7.6h0m0 4.8h0m0 7.8h0m.1-38.7h0m0 24.4h0m0 14.9h0m0 .1h0m.1-7.1h0m0 16.5h0m.1-60.8h0m0 59.8h0m0 1.9h0m.1-4.8h0m.1-17.7h0m0 6.7h0m0 10h0m0 4.5h0m0 2.1h0m.1-17h0m0 12.9h0m0 4.6h0m.1-51.6h0m0 7.4h0m0 19.3h0m0 22.7h0m.1-22.1h0m0 .4h0m0 17.5h0m.1-39.1h0m0 8.6h0m.1-17.6h0m0 28.7h0m0 4h0m0 16.8h0m0 3.4h0m.1-3.2h0m.1-83.5h0m0 57.7h0m0 24.8h0m0 .5h0m0 4.3h0m0 .3h0m.1-59.4h0m0 1.9h0m0 3.2h0m0 17.7h0m0 3.8h0m0 25.6h0m.1-64.6h0m0 33.8h0m.1 17.2h0m0 3.5h0m0 6h0m0 8.2h0m.1-25.2h0m0 3.1h0m0 15h0m.1-.7h0m.1-59.9h0m0 6.5h0m0 36.7h0m0 17.8h0m.1-10.3h0m0 8.4h0m.1-39.7h0m0 33.5h0m0 7.5h0m.1-36.7h0m0 25.8h0m0 3.7h0m.1-15.8h0m0 9h0m0 1.4h0m0 4.7h0m0 2.2h0m0 7.3h0m0 .5h0m0 2.3h0m.1-25.8h0m0 2.3h0m0 25.8h0m.1-28.7h0m0 20h0m.1-42h0m.1 38.9h0m0 6.7h0m.1-2.2h0m.1-27.8h0m.1 7.9h0m0 2.8h0m0 15.4h0m0 12.3h0m.1-24.5h0m0 23h0m.1-22.7h0m0 .9h0m0 6.6h0m0 1.2h0m0 4.8h0m.1 5h0m0 2.5h0m0 4.1h0m.1-47.7h0m0 32.6h0m.1-49.2h0m0 41.3h0m0 .7h0m0 9.2h0m.2-12.4h0m0 12h0m.1-8.7h0m0 16.1h0m.1-27.6h0m0 1.8h0m0 27.3h0m.1-53h0m0 4.8h0m0 7.9h0m.1 8.6h0m0 15.1h0m0 18h0m.1-.9h0m.1-41.2h0m0 21.8h0m0 4.2h0m.2 1.2h0m0 6.2h0m.1 11.7h0m.1-40.6h0m.1-15.5h0m0 43.4h0m0 10.6h0m.1-8.7h0m0 10.1h0m.2-30.6h0m0 7.4h0m.1-7.1h0m0 23.4h0m.1-44.6h0m0 32.5h0m0 1.8h0m0 2.7h0m0 11.9h0m.1-33.9h0m0 12.3h0m0 14.3h0m0 7.7h0m.1-26.9h0m0 2.3h0m0 5.1h0m.1 17.9h0m.1-32.4h0m0 26.1h0m0 4.6h0m0 5.3h0m.1-61.9h0m0 12h0m0 45.4h0m.1-32.5h0m0 11.3h0m0 20.8h0m.1-11.8h0m0 3.5h0m0 2.5h0m.1-43.4h0m0 54.1h0m.1-.3h0m.1-41.2h0m0 29.8h0m0 7.3h0m.1-25.5h0m0 9h0m0 6h0m0 1.9h0m0 4h0m.1-18.3h0m0 15.8h0m0 4.2h0m0 7.9h0m.1-63.7h0m0 21.3h0m0 26.7h0m.1 5.4h0m.1-27h0m0 1.4h0m0 5h0m0 4.9h0m0 4.5h0m.1-3h0m0 15h0m0 4.6h0m.1-36.4h0m0 3.1h0m0 12.2h0m0 25.3h0m.1-8h0m0 7.2h0m.1-8.1h0m.1-5.6h0m.1-10.3h0m0 14.5h0m.1-37.3h0m0 42.5h0m.1-28.9h0m0 24h0m0 3.1h0m.1-47.8h0m0 25.1h0m0 16.4h0m0 5.1h0m.1-99.8h0m0 66.1h0m0 39h0m0 1.6h0m.1-29.8h0m0 .7h0m.1 6.1h0m0 16h0m.1-29.1h0m0 4.2h0m0 18.7h0m0 14.1h0m.1-68.4h0m0 27.9h0m0 37.9h0m.1-39.3h0m0 14.8h0m0 28.3h0m.1-14.8h0m0 11.4h0m.1-29h0m0 4.4h0m0 7.6h0m0 6.2h0m.1-24.3h0m0 6.9h0m0 3.1h0m0 18.5h0m0 3.6h0m.1-27.2h0m0 9.6h0m0 8.9h0m0 15.3h0m.1-42h0m0 29.6h0m0 2.3h0m.1-21h0m0 30.2h0m.1-5.4h0m.1-38h0m0 26.9h0m0 13.6h0m.1-34.7h0m0 9.2h0m0 .1h0m0 12.1h0m.1 6.5h0m.1-33.6h0m0 15.4h0m0 .9h0m0 1.4h0m.1-24.9h0m0 22.2h0m0 12.4h0m0 .2h0m0 14.6h0m.1-24.5h0m0 19.1h0m.1-.5h0m.1-57.5h0m0 60.9h0m0 1.4h0m.1-60.7h0m0 45.2h0m0 12.2h0m.1-37.4h0m.1-4h0m0 4.6h0m0 18.7h0m.1-58h0m0 53.9h0m0 4h0m0 14.7h0m0 5.5h0m.1-25.1h0m.1-28.8h0m0 27h0m0 12.2h0m0 4.3h0m0 8.5h0m0 1.9h0m.1-13.2h0m0 9h0m0 2.7h0m.1-32.1h0m0 2.2h0m0 10h0m0 19.2h0m.1 5.3h0m.1-71.7h0m0 35.8h0m0 1.5h0m0 12.5h0m.1-8.9h0m0 8h0m0 16.9h0m0 3.9h0m.1-36.3h0m0 13.2h0m.1-42.5h0m0 19.8h0m0 46.7h0m.1-36.8h0m0 32.6h0m0 2.1h0m.1-16.7h0m0 1h0m0 2.3h0m0 15.7h0m0 0h0m.1-63.9h0m0 22h0m0 13.5h0m0 1.1h0m0 25.9h0m.1-55.5h0m.1 50.5h0m0 7h0m.1-19.2h0m0 6h0m0 14.4h0m.1-17.8h0m0 7.2h0m0 6.3h0m0 3.8h0m.1-36.1h0m0 2.4h0m0 29.9h0m.1-76.1h0m0 51.5h0m0 14.8h0m0 .6h0m0 .5h0m0 11.4h0m0 2h0m.1-24.6h0m.1-54.3h0m0 50.4h0m0 8.5h0m0 1.2h0m0 3.3h0m0 8.1h0m.2-63.1h0m0 33.2h0m0 10.8h0m0 14.2h0m0 1.2h0m0 3.4h0m.1-15.6h0m0 17.2h0m.1-60h0m0 36.8h0m0 24.1h0m.1-36.7h0m0 8.4h0m0 23.2h0m.1-12.1h0m0 2.5h0m0 5.3h0m0 2.3h0m0 2.9h0m0 1.2h0m.1-19.7h0m0 12.2h0m.1-23.8h0m0 4.3h0m0 31.5h0m.1-21.6h0m0 5.6h0m0 5.1h0m0 8.5h0m.1-81.1h0m0 28h0m0 45.2h0m0 4.9h0m.1-24.5h0m0 11.5h0m0 3.9h0m.1-48.2h0m0 26.6h0m0 12.6h0m0 5.3h0m0 13.2h0m0 7.7h0m.1-25.7h0m0 8.2h0m0 2.6h0m.1-14.5h0m0 6.8h0m0 11.6h0m.1-22h0m0 10.9h0m0 13.8h0m0 .2h0m.1 1.7h0m.1-30.3h0m0 11.5h0m0 1.8h0m0 4.7h0m0 10.1h0m.1-3.1h0m0 6.1h0m0 1.6h0m0 2.2h0m.1-39.4h0m0 14.3h0m0 1.6h0m0 12.3h0m0 4.7h0m0 .2h0m.1-37.3h0m0 21.2h0m0 17.6h0m0 1h0m.1-4.5h0m.1-3.1h0m0 8.9h0m.1-41.7h0m0 6.1h0m.1-10h0m0 18.4h0m0 12.6h0m0 10.4h0m.1-28.8h0m.1-29.9h0m0 36.6h0m0 12.3h0m0 2.3h0m0 6.3h0m0 4.1h0m0 .2h0m.1-24.2h0m0 24.9h0m0 2h0m.2-26.2h0m0 17.2h0m0 9.4h0m.1-38h0m0 4.3h0m0 28.7h0m.1 2.8h0m.1-34.8h0m0 .5h0m0 19.5h0m0 9.8h0m.1-49.7h0m0 16.7h0m0 38.5h0m.1-45.1h0m0 12.3h0m0 9.2h0m0 5.1h0m0 4.1h0m0 16.9h0m.1-32h0m.1 2.9h0m0 2h0m0 11.8h0m.1-33.7h0m0 15.3h0m0 7.3h0m0 15.5h0m0 5.8h0m.1-.9h0m.1-21.6h0m0 5.4h0m.1-10.4h0m0 1.1h0m0 11.1h0m0 8.2h0m0 13.4h0m.1-.7h0m.1-46.5h0m0 8.6h0m0 9.5h0m0 9.1h0m0 1.2h0m0 18.9h0m.1-23.5h0m0 23.9h0m.1-33.6h0m0 23.5h0m0 10.8h0m.1-45.9h0m0 26.3h0m0 .2h0m0 .6h0m0 13.2h0m0 5.6h0m.1-13.9h0m0 14.2h0m.1-17h0m0 .3h0m0 0h0m0 12.3h0m0 .4h0m.1-39.4h0m0 24h0m0 2.8h0m0 11.8h0m.1-10.2h0m.1-29.5h0m0 8.8h0m0 8.3h0m0 1.8h0m0 3.8h0m0 7.3h0m0 1.7h0m.1-31.1h0m0 33.9h0m.1-28.8h0m0 22.8h0m.1-46.7h0m0 32.9h0m0 2.7h0m0 13.6h0m0 11.1h0m.1-46.3h0m0 28.3h0m0 6h0m.1-20.4h0m0 14.8h0m.1-30.5h0m0 46.9h0m.1-22.6h0m0 7.5h0m0 13.1h0m.1-42.1h0m0 22.6h0m0 15.6h0m0 9.7h0m.1-35.6h0m0 7.6h0m0 4h0m0 13.1h0m.1-3.8h0m0 6.4h0m.1-5.6h0m.1-17.1h0m0 4.5h0m0 13.3h0m0 8.9h0m.1-34.5h0m0 17.7h0m0 1.9h0m0 11.1h0m0 2.9h0m0 3.7h0m.1-37.8h0m0 3.4h0m.1-18.2h0m0 .2h0m0 35.3h0m.1-.4h0m0 5.7h0m.1-9.7h0m.1-28.1h0m0 41h0m0 7h0m.1-13.3h0m.1-5.5h0m0 .9h0m0 10.3h0m0 2.7h0m.1-22.2h0m0 .8h0m0 .9h0m0 10.6h0m0 4.4h0m0 4.7h0m.1-61.5h0m0 50.1h0m0 17.5h0m.1-60.6h0m0 .4h0m0 22.5h0m0 7.4h0m0 9.7h0m0 3.6h0m0 1.7h0m0 6.3h0m0 7.6h0m.1-23.1h0m0 3.5h0m0 14.7h0m0 7.7h0m.1-51.1h0m0 19.3h0m0 13.5h0m0 3.9h0m0 2.7h0m0 5.5h0m.1-34.8h0m0 13.8h0m0 2.7h0m0 11.4h0m.1-15.6h0m.1-3.8h0m0 3.3h0m0 13.1h0m0 6.3h0m.1-50.9h0m0 13.1h0m0 2.9h0m0 45.3h0m.1-50.2h0m0 12.4h0m0 16.5h0m.1-42.3h0m0 16.3h0m0 32.9h0m0 4.5h0m.1-28.7h0m0 13.7h0m0 5.7h0m0 .6h0m0 17.1h0m.1-23.7h0m.1 7.5h0m0 11.5h0m.1-49.7h0m0 12.7h0m0 25.2h0m.1 .7h0m0 8.6h0m.1-7.5h0m.1-12h0m0 13.3h0m0 13h0m0 .3h0m.1-25.9h0m0 9.7h0m0 6.8h0m0 9.6h0m.1-30h0m0 8h0m.1-34.3h0m0 18h0m0 28.1h0m0 11.3h0m0 .7h0m.1-19.5h0m0 10.4h0m0 1.4h0m.1-57.3h0m0 19.7h0m0 15.7h0m.1-4.4h0m0 .5h0m0 5.8h0m0 6.3h0m0 5.8h0m0 1.5h0m.1-15.2h0m0 3.7h0m0 2.5h0m0 11.1h0m0 9.9h0m.2-87.6h0m0 47.7h0m0 16.5h0m0 7.3h0m0 3.8h0m0 10.2h0m.1-49.8h0m.1 12.7h0m.1-8.9h0m0 12h0m0 .5h0m0 13.3h0m0 14.7h0m.1-10.5h0m0 14.1h0m.1-20.7h0m0 6.6h0m0 13.9h0m.1-63.8h0m0 54.7h0m0 6.2h0m.1-29.4h0m0 18.3h0m0 2.6h0m0 .3h0m0 9.5h0m0 5.7h0m.1-57.8h0m0 9.8h0m0 43.8h0m.1-16.4h0m0 9.3h0m0 1.1h0m0 4.7h0m.1-63.5h0m0 33.9h0m0 10.2h0m0 5.8h0m0 5.5h0m.1-24.7h0m0 28.7h0m.1-35.4h0m0 14.2h0m.1 20h0m0 1.7h0m0 1.1h0m.1-2.8h0m0 1.1h0m0 .8h0m0 5h0m0 3h0m.1-28.2h0m0 3.6h0m0 15.5h0m.1-36.6h0m.1 21.4h0m0 16.3h0m.1-50.6h0m0 5.8h0m0 20.7h0m0 4.4h0m0 10.9h0m0 17.8h0m.1-34.2h0m0 22.9h0m0 3.6h0m0 9.1h0m.1-30.9h0m0 7.8h0m0 7.5h0m0 11.6h0m.1-56.9h0m0 34.6h0m0 21.1h0m0 .2h0m.1-17.3h0m.1-27.6h0m0 19h0m.2-34.7h0m0 22.8h0m0 11.6h0m0 10.9h0m0 11h0m.1 .8h0m.1-23.3h0m0 16.7h0m0 4.5h0m0 9.6h0m.1-30h0m0 4.9h0m0 .7h0m0 10.7h0m0 4.9h0m0 2h0m0 3.4h0m.1-27.2h0m0 7.1h0m0 1.7h0m0 21.3h0m.1 1.2h0m.1-14.5h0m0 7.3h0m.1-4.8h0m0 8.5h0m.1-46.2h0m0 27.2h0m0 15.3h0m0 8.1h0m.1-23h0m0 1.5h0m0 5.9h0m0 .1h0m0 .2h0m.1-18.9h0m0 10.4h0m0 18.3h0m.1-55.1h0m0 35.2h0m0 24.8h0m.1-28.9h0m.1 2.3h0m0 6.2h0m0 1.4h0m0 8.4h0m0 2.7h0m.1-31.5h0m0 18.4h0m0 7h0m0 12.1h0m.1-2.9h0m0 .7h0m.1-18.9h0m0 9.5h0m.1-40h0m0 34.3h0m0 13.6h0m0 .7h0m.1-36.3h0m.1-12.5h0m.1-19.3h0m0 31.3h0m0 28h0m0 4.9h0m.1-33.9h0m0 6.6h0m0 19.7h0m0 4.6h0m0 2.5h0m0 9.3h0m.1-35h0m0 17.3h0m0 5.6h0m0 7.4h0m0 2.5h0m.1-51.2h0m0 39.6h0m.1-35.1h0m0 3.5h0m0 10.5h0m0 7.2h0m0 17.7h0m.1-29.8h0m0 21.5h0m0 2.9h0m0 15.4h0m.1-54.9h0m0 7.9h0m0 15.1h0m0 19.7h0m.2 5.4h0m0 3.9h0m.1-18h0m0 15.5h0m0 1.4h0m.1-59.5h0m0 19.5h0m0 28.1h0m.1-39.6h0m0 21.8h0m.1 26h0m.1-29.9h0m.1-3.9h0m.1-16.7h0m0 53.2h0m.1-57.8h0m0 44.4h0m0 11.3h0m0 1.1h0m.1 5.3h0m.1-8h0m.1 1.2h0m0 6.8h0m.1-51.8h0m0 31h0m0 13.8h0m.2-41.2h0m0 21.2h0m0 17.5h0m0 7.6h0m.1-27.3h0m0 29.6h0m.1-55.4h0m0 6.5h0m0 17.8h0m0 3.4h0m.1 6.4h0m0 1h0m0 2.9h0m0 14.4h0m.1-10.4h0m.1 5.7h0m0 6.6h0m.1-20.7h0m0 18.2h0m.1-5.4h0m.1-12.8h0m0 10.2h0m.1-15.3h0m0 .1h0m0 8.4h0m.1-29.3h0m0 44.5h0m0 2h0m.1-28h0m0 .6h0m0 23.5h0m.1-42.6h0m0 29.5h0m0 2.8h0" stroke="#587878" stroke-width="1.00" opacity="0.55"/><path d="M63.8 554.8h0m6.3-24.8h0m3.8-5.6h0m3.8 8.3h0m.5 6.4h0m1.9-31.2h0m0 25.4h0m.3 11.3h0m1.4 17.8h0m.9-34.1h0m.5 7.9h0m1.3-3.1h0m.1 10.1h0m.2-24.3h0m.5 22.8h0m.1-15.5h0m.6 22.2h0m0 3h0m.2-32.2h0m0 13.2h0m1.1 4.4h0m1 9.6h0m.2-17.1h0m.1-3.6h0m.4 7.4h0m.4 4.6h0m.1 31.6h0m.1-21h0m.3 4.7h0m.1-15.6h0m.2-10.8h0m.2-10.5h0m.1 7h0m0 53h0m.1-47.1h0m1.2 7.4h0m.7-21.5h0m.5 3.4h0m0 22.1h0m0 .3h0m1.9 1.4h0m.2 6.9h0m.1-.2h0m.2-22.5h0m.2-15.8h0m.6-7.7h0m.1 34.8h0m.1-8.3h0m.5 8.2h0m.2-23.5h0m0 20.7h0m.1 11.3h0m.1 8.3h0m.2-17.9h0m1.2 13.5h0m.2-40.5h0m.1 27.3h0m.7-.1h0m.1-12.9h0m1 25.1h0m.3-12.7h0m.3 12.1h0m0 13.5h0m.2-31.2h0m0 14.9h0m.2 16.1h0m.6-25.8h0m.1-7h0m.2 2.5h0m.5 16.5h0m.1 8.3h0m.1-23.2h0m0 5.6h0m.1-15h0m.5 13.1h0m.3 7.6h0m0 12.5h0m.2-47.6h0m.7 11.3h0m0 18.6h0m.1-31.2h0m.4 23.4h0m.3-28h0m0 20.4h0m0 19.7h0m.4-11.4h0m.3-3.7h0m.1 5.9h0m.1-9.2h0m.1 11.8h0m.3 21.8h0m.4-45.3h0m0 11.3h0m1.1 27.9h0m.1-11.1h0m0 2.4h0m0 14.1h0m.3-41.1h0m0 19.5h0m.1-21.7h0m.5 38.9h0m0 8.4h0m0 .4h0m.2-20.7h0m.3 .9h0m.1-8.1h0m1-4.8h0m.6-4.4h0m.1 11h0m.4 30.1h0m.4-34.4h0m.1 4.3h0m0 22h0m.2-53.1h0m0 36.6h0m.3 27.1h0m.2-16.4h0m.1 20.5h0m.3-39.7h0m.3 2.4h0m.2 .7h0m.1 21.8h0m0 2.4h0m.4-31.8h0m0 18.1h0m.1-24.8h0m0 39h0m.2-24.6h0m.3-8.9h0m.9-19.9h0m.1 53.9h0m.3-46.6h0m.2 38.7h0m.1-46.4h0m.1 18.6h0m.3 7.9h0m.2-3.4h0m.8-22.2h0m0 26.8h0m.2 2.4h0m.2-9.7h0m0 5.5h0m.1-1.7h0m.3-24h0m.2-.6h0m.3 53.2h0m.1-9.3h0m.4-12.2h0m.3-26.4h0m.3 42h0m.1 3.6h0m.4-23.7h0m0 30.2h0m.2-9.8h0m.2-29.6h0m0 30.5h0m.2-22.9h0m.1-15.5h0m0 49.9h0m.1-2.6h0m.7-27.6h0m.2 8.1h0m0 .5h0m.1 4.6h0m.2-15.6h0m.2 7.2h0m.7 20.9h0m.3-21.7h0m.3-33.4h0m.3 27.2h0m.2 .2h0m.4-7h0m.4 6.8h0m.3 26.8h0m.1-23.6h0m0 .4h0m0 14.2h0m.4 15.1h0m.3-7h0m.1-40.6h0m.1 5.9h0m.2 33.4h0m.1-20.2h0m.1-33.9h0m.8 61.8h0m.5-42h0m1.2 22h0m.4-21.2h0m.1-2.7h0m.7 24.2h0m1.1 6.7h0m1.1-6.5h0m.3-5.6h0m.4-27.3h0m0 29.9h0m.7-50.1h0m1.3 54.2h0m1.3 15.1h0m0 11.6h0m.3-37.6h0m.5 6.2h0m.4 9.4h0" stroke="#a5a5a5" stroke-width="1.00" opacity="0.50"/><path d="M18.5 563.9h0m.2 5.5h0m.1-.7h0m.2-7.6h0m0 3.3h0m.1-8.1h0m.3 7.6h0m0 1.9h0m.1 .6h0m0 6.5h0m.1-6.2h0m.4-6.5h0m.2 3.8h0m0 4.8h0m0 1.3h0m0 1.2h0m.3-11.6h0m.2 6.9h0m.1-2h0m.3 5.6h0m0 1.3h0m.1-4h0m0 2.5h0m.1-3.1h0m.3-.7h0m.1 2.4h0m.3-10.2h0m.2 13.9h0m.1-6.9h0m.1-4.6h0m.1 2h0m.4-2.5h0m0 7.1h0m.1 2.1h0m.1-4.2h0m.2 1.4h0m0 2.7h0m.1-6.3h0m.1-10.3h0m.2 17.4h0m.2-3h0m.1-5.8h0m0 3h0m.1-7.8h0m0 2.1h0m0 10.5h0m.1-7.1h0m.1 10.2h0m0 3.2h0m.2 .3h0m.1-10.3h0m0 1.4h0m.1 .7h0m.1-.1h0m.2-.9h0m0 2h0m.1 6.8h0m.2-3.9h0m.2-7.8h0m.1-3.1h0m0 5.7h0m.3-8.7h0m.1 6.4h0m.1-4.2h0m.2-2.9h0m.2 1.9h0m.3 5.7h0m.1 .7h0m0 3.5h0m.3-8.6h0m.1 1.1h0m.3 4.9h0m.1-14.5h0m0 11.5h0m0 1.2h0m0 8.4h0m.3-12.6h0m.1 5.1h0m.1-1h0m.1-4.7h0m0 2.4h0m.1-3.5h0m.1 4.1h0m0 2.6h0m.1-1.2h0m.4-4.3h0m0 6.7h0m0 .2h0m0 5h0m.2-14.4h0m0 5.7h0m.1 3.1h0m.2-8.3h0m0 6.4h0m0 1.6h0m0 .8h0m0 1.2h0m.1-7.3h0m0 5h0m0 1.1h0m0 2.5h0m0 4.2h0m.2-8.9h0m.1-2.7h0m0 1.9h0m0 5.2h0m.1-4.3h0m0 3.7h0m.2-8.2h0m0 5.7h0m.2-.2h0m0 .8h0m0 .4h0m.1 9.1h0m.3-9.3h0m.2 5.3h0m.1-7.2h0m.1 9.5h0m.3-10.5h0m.1-2.2h0m0 5h0m.1-6.2h0m0 5.2h0m0 3.2h0m.1 1.7h0m.2-14h0m0 .2h0m0 5.4h0m.2 7.4h0m.1-9h0m0 3.7h0m0 1.8h0m0 3.9h0m.2-3.2h0m0 1.7h0m.2-1.8h0m.1-10.6h0m.3 20.5h0m.1-13.6h0m.1-1.4h0m0 8.4h0m.1-6.7h0m.1-1h0m0 3.5h0m.5-6.4h0m0 1.6h0m0 1.5h0m0 6.7h0m.1-7.9h0m.1 2.3h0m.1-3.8h0m0 4.9h0m.1 2.6h0m0 2.4h0m.2-9.7h0m0 2.2h0m.1 .3h0m0 2.6h0m0 1.1h0m.1-4.4h0m.1-2.5h0m.3 11.1h0m0 3.3h0m.2-12.7h0m0 11.9h0m0 .3h0m.1-8.2h0m.1 1.5h0m0 3.1h0m0 2.5h0m.2-4.6h0m.1-5.2h0m0 2.3h0m.1 1.9h0m.1 1.4h0m0 1.8h0m.1-8.5h0m0 1.3h0m0 .7h0m0 2.8h0m.2-7.6h0m0 1.6h0m0 1.5h0m.1 8h0m0 .4h0m0 5.5h0m.2-19.3h0m0 5.6h0m.1-3.4h0m.1 9h0m.1-4.4h0m0 6.6h0m.1-15.7h0m0 4.2h0m0 9.1h0m0 2.2h0m0 .2h0m.2-1.3h0m.1-1h0m0 4.3h0m0 2.1h0m.1-10.1h0m0 1.4h0m0 1.8h0m0 .3h0m0 1.6h0m.1 2.4h0m.1 3.4h0m.1-4.8h0m0 2.4h0m.1-.5h0m.1-5.4h0m.1-5.7h0m0 11.5h0m.1-8.9h0m.1 .2h0m0 8.8h0m.1-8.3h0m0 9.7h0m0 2.5h0m.1-10.3h0m0 4.6h0m0 1.7h0m0 .1h0m0 3.7h0m.1-14.7h0m.1 9.1h0m.1-9.2h0m0 .5h0m0 .6h0m0 .5h0m0 9.8h0m.2-11.6h0m0 .3h0m0 5.4h0m0 6.9h0m.2-10.2h0m.1 4.4h0m0 .7h0m0 .5h0m.1-6.8h0m0 8.4h0m0 1.4h0m.1-9.6h0m.1 1.2h0m0 6.3h0m.1-15h0m0 11.5h0m0 2h0m.1-2.4h0m0 3.5h0m.1-5.7h0m0 .4h0m.1-1.2h0m0 2.7h0m0 2h0m0 4.4h0m.2-8.6h0m0 .6h0m0 1.9h0m0 6.5h0m.2-16.3h0m0 8.5h0m.3-4.5h0m0 14.3h0m.1-8.1h0m0 2.1h0m.1 2.7h0m0 1.8h0m.1-12.5h0m0 6.4h0m.1-.3h0m.1-.1h0m0 .3h0m.1 1.9h0m0 4.3h0m.1 1h0m.1-5.6h0m0 .5h0m.1-13.7h0m0 2.7h0m0 9.7h0m.1-6.9h0m0 8.4h0m.1-7.5h0m0 4h0m0 .3h0m0 3.5h0m0 1.6h0m0 .8h0m.1-6h0m0 3h0m.1 1.8h0m.2-1.4h0m0 2h0m.1-1.2h0m.1-3.7h0m0 .3h0m0 2.2h0m0 1.2h0m0 .3h0m.1-5.9h0m0 4.6h0m0 3.1h0m.2-7.4h0m.1-4.1h0m0 3.8h0m.1 7.6h0m.1-5.3h0m0 1.4h0m.1-4.6h0m.1-4.6h0m0 13.7h0m.2-7.3h0m.1 1.2h0m0 2h0m0 3.1h0m.1-.6h0m.1-15.3h0m0 14.7h0m.1-6.8h0m0 4h0m.1-7.4h0m0 12.2h0m.1 .5h0m.2 1.3h0m0 1.5h0m.1-5.1h0m.1 1.6h0m.1-10.7h0m0 7.7h0m0 2.2h0m.3-13.7h0m0 .5h0m.1 5.1h0m0 3.5h0m0 2.3h0m.1 2.9h0m.3-2.9h0m.2-2.6h0m0 3.9h0m.1-4.9h0m0 6.5h0m.1-9.4h0m.2 1.6h0m.1 6.7h0m.1-11.5h0m0 17.2h0m.1-16.8h0m.1-2.5h0m0 2.7h0m0 3.5h0m0 6.1h0m0 1.3h0m.2-.7h0m.1-3.5h0m.2-5.9h0m.1 4.8h0m0 2.1h0m.1-6.8h0m0 5.8h0m0 1h0m0 4.1h0m.1-5h0m0 3.3h0m.1-3.5h0m0 5.1h0m.1-4h0m0 2.2h0m.2 3.1h0m.1-10.8h0m0 1.8h0m0 6.9h0m0 1h0m.2-5.3h0m0 2.7h0m.1-9.4h0m0 4.2h0m0 3.6h0m0 .9h0m0 1.1h0m.1-12.3h0m0 3.7h0m0 .1h0m0 9h0m0 2.3h0m.1-11.6h0m.1 1.9h0m0 2.5h0m0 2.5h0m0 2.5h0m.1-6h0m.1-1.8h0m0 1.1h0m0 .2h0m0 4.4h0m0 4h0m0 1.3h0m.1-9.1h0m0 6.7h0m.1-.4h0m.1-12.2h0m.3 8.5h0m.1 2.8h0m.1 2h0m.1-2.2h0m0 .1h0m.1-5.7h0m0 6h0m.1-3.9h0m0 1.4h0m0 1h0m0 7.8h0m.1-18.6h0m0 3.9h0m0 1.6h0m0 1.5h0m0 6.5h0m.1-9.6h0m0 1.7h0m0 2.6h0m.1-7.9h0m0 15.5h0m.1-8.1h0m0 11.1h0m.1-8.2h0m0 7.7h0m.1 .7h0m.1-10.4h0m.1-4.7h0m0 3.6h0m0 1.3h0m0 3h0m.2-5h0m0 7.8h0m.1 .4h0m.2 1.9h0m.1-4h0m.1-4.9h0m.1 7.4h0m0 .7h0m.1-8.2h0m0 2.1h0m0 2h0m.1-3.7h0m0 5.7h0m0 1.9h0m.1-7.4h0m0 5.9h0m.2-1.1h0m0 1.2h0m.1-8.3h0m.2 1.8h0m0 .8h0m.1-4.6h0m0 1.9h0m0 1.2h0m.1 1h0m0 1.8h0m0 7.9h0m.1-11.7h0m.1 3.1h0m0 2.7h0m.1-3.7h0m0 3.3h0m.1-3.1h0m.1-1.8h0m0 8h0m0 .1h0m.2-10.4h0m0 3.4h0m0 1.2h0m.2 4.9h0m.1 4.4h0m.2-11.5h0m0 2.2h0m0 2.7h0m.1-9.1h0m0 6.1h0m0 .4h0m.2 1.8h0m.1-3.9h0m.2-4.7h0m0 7.1h0m0 3.9h0m.1-9.7h0m0 .9h0m.1-.5h0m0 .3h0m0 6.4h0m0 2.2h0m0 2.1h0m0 2.1h0m.1-7.7h0m.1-8.8h0m0 7.9h0m0 3.9h0m.1-3.1h0m.2-2.7h0m0 1.6h0m.2-1.5h0m0 3.8h0m.3-12h0m.2 13.8h0m0 .7h0m0 5.8h0m.3-2h0m.1-8.3h0m.2-.5h0m.2 2.9h0m0 2.7h0m0 .8h0m.1-4h0m.1 6.3h0m.1-18.3h0m0 10.1h0m0 2.6h0m.1-5.4h0m0 5.1h0m.1-5.8h0m0 5.9h0m.2-14.6h0m0 5.8h0m0 5.1h0m0 8.4h0m.2-11.9h0m0 5.6h0m.1-.3h0m.1-11h0m0 8h0m0 4.9h0m0 .1h0m.1-7.6h0m0 2.8h0m.1 3.1h0m0 8h0m.1-14.4h0m.2 3h0m.1 3.3h0m0 5h0m0 1.6h0m.3-5.1h0m0 2.3h0m.1-8.3h0m0 3.4h0m0 3.6h0m0 1.4h0m.1-4.8h0m.1-1.9h0m.1 .1h0m0 2h0m0 5h0m0 1.9h0m.1-5.5h0m0 1.1h0m.2-6.9h0m0 3.2h0m0 .7h0m0 3.5h0m.1-3.7h0m.1 2.9h0m0 .3h0m0 1.6h0m.1-10.9h0m0 7h0m0 4.1h0m0 .8h0m0 1.4h0m.3-12.1h0m0 7.2h0m.1 2.6h0m0 2.1h0m.1-.8h0m.1-2.9h0m.2-1.2h0m0 .7h0m0 8.1h0m.1-10h0m.1-1.8h0m.1 2.1h0m0 1.9h0m0 3.4h0m.1-8.9h0m.1-.7h0m.1 4.2h0m.1 3.1h0m0 .7h0m0 1.2h0m.2-9.8h0m0 3.1h0m.1 1.5h0m0 2.2h0m0 2.4h0m.1-7.5h0m0 1.3h0m.1 3.1h0m.1-9.7h0m0 5.6h0m0 10.8h0m.1-1.8h0m.1-10.1h0m0 7h0m.1 4.8h0m.1-9.6h0m.1-2.8h0m0 .8h0m0 14h0m.2-12.8h0m0 5.7h0m.2-7h0m.1 5.6h0m.1-1h0m0 1.4h0m.1-13.2h0m0 10.8h0m.1-6.2h0m.1 3.9h0m0 .5h0m.1-.2h0m0 4.6h0m0 2.2h0m.1-5.6h0m.1 6h0m.1-13.9h0m.2 7.3h0m0 11.4h0m.1-10.2h0m0 1.2h0m.1-.2h0m0 5.3h0m.3-6.8h0m0 .7h0m.3-.8h0m.1-4.2h0m0 8.4h0m.1 .3h0m.1-3.5h0m.1-6.4h0m0 5.5h0m0 8.9h0m.1-14h0m0 2.3h0m0 .4h0m0 2.8h0m.1-.2h0m0 7.3h0m.1-10.9h0m.2 9.7h0m0 2.1h0m.1-14.2h0m0 9.1h0m.1 .9h0m.1 4.6h0m.3-4.1h0m.2-9.6h0m0 9.5h0m.1-8.3h0m.1 12.5h0m.1-18.8h0m0 5.5h0m.1 3.1h0m0 4.5h0m.1-7h0m0 4h0m0 2.9h0m.1-4.7h0m.2 3.3h0m0 8.2h0m.2-14.1h0m0 6h0m.1-.5h0m.1 3.5h0m.1-11.5h0m0 10.2h0m.1-9.4h0m0 3.7h0m.2-4.3h0m.1 9.1h0m.1-1.9h0m.2-5.5h0m.1 11.7h0m.2-13.7h0m0 11.4h0m.1-10.4h0m0 3.7h0m.2 7.8h0m.1-7.4h0m0 8.5h0m.1-8.5h0m.1 1h0m.1 7.7h0m.1-10.9h0m.1-4h0m.3-.3h0m0 7h0m0 3.1h0m.1-2h0m.1 4.3h0m.1 3.8h0m.2-4.2h0m.1 1.2h0m.1-8h0m0 8.6h0m0 2.2h0m.1-12.1h0m.3-.8h0m.2 1.4h0m.2 3.3h0m0 3.3h0m.1-6.5h0m.1 3.5h0m.1 4.8h0m.2-13h0m0 12.7h0m.1-9.6h0m0 12.6h0m.1-1.3h0m.3 .5h0m0 2.4h0m.1-2.9h0m0 .7h0m.1-5.2h0m0 .1h0m.2-2.9h0m0 1.8h0m.1-.9h0m.1 5.9h0m.1-8.2h0m.4 5.3h0m0 6h0m.1-7.6h0m.1-2.4h0m.3 8.2h0m.1-7.7h0m.1 6.4h0m.2-3.6h0m0 4.8h0m0 4.1h0m.1-15.1h0m0 1.8h0m.3 4h0m.2-2.8h0m.1-7.1h0m.1 11.2h0m0 .7h0m.1-8.9h0m0 1.5h0m0 4.4h0m.1-4.4h0m.3 13.8h0m.1-8.2h0m.1-2.1h0m.1-4.6h0m.1 4.2h0m.1-1.9h0m.2-2h0m.2 8.7h0m.4-4.7h0m.1-4.2h0m.1 8.4h0m0 3.5h0m.2-13.3h0m0 12.1h0m.4-7.5h0m.1-.9h0m.1 3.5h0m.3-1.1h0m.5-5h0m.1-4h0m0 13.6h0m.2-5.5h0m.6 6.6h0m.2-2.1h0m.1-4.3h0m0 2.3h0m.2 8.8h0m.5-10.4h0m.3 4.7h0m.1-13.2h0m1.1 1.6h0m.3 11.8h0m.1-6.5h0m.1 4.3h0m.6 3.7h0m.7-10.3h0m.2-3.2h0m.2 10.1h0m.5-.2h0m1.1-4.8h0m.1-1.5h0m.2 4.5h0m.3 5h0m.1-10.2h0m.2-.2h0m.5 13.3h0m1.2-9.4h0m.1-6.2h0m2.2 7.5h0m1.8 .3h0m3.1-2.6h0m1.3 3.6h0m5.2-1.8h0m4.7-.4h0" stroke="#1f93b0" stroke-width="1.00" opacity="0.65"/><ellipse cx="45.0" cy="571.5" rx="40.0" ry="11.5" transform="rotate(0 45.0 571.5)" fill="url(#gC2)" filter="url(#grain)"/><path d="M18.7 566.4h0m.3-5h0m.3 14.1h0m.2-11.2h0m.2-.9h0m0 9.8h0m0 1.8h0m.4-9.2h0m.1-4.6h0m.4 3.9h0m.1-5h0m.3 15h0m.6-14.7h0m1.5-.9h0m.7 5h0m1.3-1.1h0m.3-2.9h0m.8 1.2h0m.6 .1h0m.7 0h0m1.4 .3h0m2.2-2h0m.9-1.1h0m0 1.7h0m.6-.6h0m0 2.4h0m.4-1.8h0m1.8-.9h0m.5-.5h0m1.6 1.1h0m.2 2h0m1.4-1.6h0m2.7 1.5h0m1.5-2.8h0m.9 2.4h0m1.7-2.5h0m.2 1.9h0m.7-1.4h0m0 1.3h0m.1-1.8h0m.1-.9h0m.6 2.5h0m.2-.9h0m.3 2.3h0m.9-2h0m.3-.6h0m.3 1.7h0m1.1-3.1h0m.1 1.4h0m.2-1.6h0m2.3 1.5h0m.3-.1h0m1.5 2.9h0m1.7 .1h0m.8-.1h0m2.2-1.5h0m2.8 2.5h0m.6-2.3h0m0 2.4h0m1.2-3.4h0m0 1.7h0m.2 .1h0m.6 1.5h0m.7 .6h0m.6-4.9h0m.1 5.3h0m.2 .6h0m.5-2.3h0m1-.3h0m0 3.2h0m1.3-2.6h0m.3-3.4h0m.1 4.6h0m1.6 2.6h0m0 8.4h0m.2-9.4h0m.3-3.7h0m0 2.1h0m.8-1.2h0m.1 8.2h0m.4-9.3h0m.8 2.6h0m1.1 8.4h0m.6-10.1h0m0 7.5h0m0 1.5h0m.1-6h0m.5 2.5h0m.1-6.9h0m0 4.5h0m.2-2.8h0m.1 3.9h0m.2 9.1h0m.1-3.8h0m.4-3.5h0m.3 6.9h0m.3-9.5h0m.1-4.5h0m.2 7.7h0m.3 0h0m.1 .1h0m.4-3.3h0m.8 4.2h0m.2-6.6h0m1 11.5h0m.6-5.4h0m.1-4.6h0m.2-1.1h0m.7 1.7h0m.3 6.2h0m.4-2.8h0m.5 6.5h0m.1-4.1h0m.2 3.1h0m.2-8.2h0m0 6.8h0m.4-6.3h0m.2 8h0m.7-9.9h0m.4 4.8h0m.5 3.5h0m.6-7.1h0m.2 4.4h0m.1-3.5h0m.1 3h0m.2-.3h0m.1 2.7h0m1.5-3.2h0" stroke="#17809c" stroke-width="1.00" opacity="0.50"/><path d="M63.3 573.4h0m1.1-3.5h0m.2-13.1h0m1.2 6h0m0 1.5h0m.1 1.7h0m.2-1.5h0m.9-1.8h0m.1 2.8h0m.3 3.1h0m.4-.9h0m.4-6.4h0m0 .9h0m.6 .7h0m.9-9.9h0m.6 17.4h0m.6-9h0m.1-1.7h0m.2 1.8h0m.1 9.5h0m.5-6h0m.4 9.6h0m.7-6.7h0m.3-15.7h0m.1 20.9h0m0 2.1h0m.2-18h0m.3 16.3h0m.3-4.6h0m.3-6.8h0m.1-.8h0m0 1.9h0m.3-4.6h0m0 4.3h0m0 5.1h0m.2-2.9h0m.1 2.3h0m.6-9.4h0m.4 9.5h0m.5 6.2h0m.2-7.8h0m.1-7.5h0m0 17.3h0m.1-28.2h0m0 25.5h0m.1-5.9h0m0 3.1h0m.4-2.5h0m.3 1.6h0m.1-11.2h0m0 9.2h0m.1-12.1h0m.1-3.3h0m0 4.3h0m0 4.5h0m.1-6h0m0 5.6h0m.1-8h0m.7 5.8h0m0 7h0m.2 .8h0m0 4.4h0m.1-20.8h0m.2 9.5h0m.5-1.5h0m.2 1.5h0m0 4.1h0m0 3.9h0m0 2.3h0m.1-26.4h0m0 9.8h0m.1 17.6h0m.3-2.3h0m.2 .2h0m.2-3.4h0m.5 2.4h0m.1-12.9h0m0 3.4h0m0 4.3h0m.1 3h0m.1-9.8h0m0 6.3h0m0 .1h0m0 1.4h0m.1 3.7h0m.3-3.6h0m0 11.1h0m.1-24.3h0m.1 9.8h0m0 1.9h0m.1-.1h0m0 1.1h0m0 2.6h0m0 1.8h0m0 .1h0m0 4.2h0m.1 .5h0m.3-8.4h0m.1-2.8h0m.2-4.1h0m0 7.8h0m0 8.2h0m.2-32.7h0m0 35.4h0m.2-24.4h0m.1 8.7h0m.1 0h0m0 6.9h0m.2-16.3h0m.2 6.6h0m0 10.8h0m.1-1.3h0m0 1.9h0m.1-12.2h0m0 6.8h0m.2-6.8h0m0 1.3h0m0 13.4h0m.1-11.7h0m0 5.2h0m0 7.6h0m.1-21.9h0m.1 9.7h0m.1 8.5h0m.1-6.2h0m.1-8.4h0m0 5.3h0m.1-3h0m0 2.2h0m.3-3.3h0m0 5.6h0m0 8.5h0m0 2.5h0m.1-6.1h0m.1 8.7h0m.1-16.4h0m0 17.4h0m0 1h0m.1-4.4h0m.1-9.4h0m0 4.9h0m.1-2.5h0m.1-.6h0m0 8h0m0 .3h0m.2-1.2h0m.1-18.5h0m.1 3.9h0m0 5.4h0m0 .4h0m.1-.4h0m0 1h0m0 12.2h0m.1-13.8h0m0 5.8h0m0 9.3h0m.1-28h0m0 11h0m0 3h0m0 .6h0m.1-4.5h0m.1 1.2h0m.1-1.7h0m0 7h0m0 7.2h0m.1-16.3h0m.1 9.8h0m0 1.6h0m.1-8.7h0m.1-6.1h0m0 4.3h0m0 9.5h0m0 2h0m0 .8h0m.1-16h0m0 6.4h0m0 2.9h0m0 4h0m.1-14.6h0m0 9.2h0m.1-1.8h0m0 6.6h0m.1 4h0m.1-13.8h0m.1 1.2h0m0 10.3h0m.1-12h0m0 .9h0m0 3.3h0m0 4.7h0m.1-5.4h0m.1-11.9h0m.1 12.4h0m.1-3.2h0m0 10.6h0m.1-2.1h0m.1-5.1h0m.1-6.9h0m0 10.8h0m.1-6.9h0m0 15.4h0m0 .5h0m0 3.4h0m.1-19.6h0m.1 7.9h0m.1-12.9h0m0 3.7h0m0 5h0m.1-.3h0m.1 10.8h0m0 4h0m.1-12.6h0m0 1.6h0m0 1h0m0 6.9h0m.1-13h0m0 2.3h0m0 3.4h0m.1-8.4h0m.1 12.6h0m0 2.5h0m0 2.3h0m.1-6.4h0m0 8h0m.1-14.3h0m0 1.8h0m0 5.8h0m0 5.3h0m.1-5.2h0m.1-16.5h0m0 13.3h0m0 .6h0m.1-18.4h0m0 8.3h0m0 2.3h0m0 15.2h0m.1-17.8h0m0 4.3h0m0 1.3h0m0 9.5h0m0 2.2h0m.1-13.4h0m.1 6.5h0m0 6.7h0m.1-4.5h0m.1-7.8h0m0 12.3h0m.1-20.1h0m0 2.2h0m0 5.1h0m0 10.1h0m.1-7.5h0m0 2h0m0 7.1h0m.1-6h0m0 6.8h0m.1-3.8h0m.1-7.2h0m.1-2.1h0m.1-1.3h0m0 11h0m.1-11.1h0m0 2.8h0m0 2.3h0m0 4.7h0m0 5.3h0m.1-13.1h0m0 8.2h0m0 .9h0m0 4.9h0m.1-15.4h0m0 3h0m0 13.2h0m.1-16.8h0m0 2.7h0m0 3.3h0m0 2.8h0m.1-1h0m0 1.3h0m0 1.1h0m.1-13.7h0m0 15.2h0m0 1.8h0m.1-12.6h0m0 1.6h0m.2-12h0m0 6.2h0m0 .3h0m0 4h0m0 1.4h0m0 7.9h0m.1-14.6h0m0 6.3h0m0 1.3h0m.1 .5h0m.1 12h0m.1-4.7h0m.1-9.9h0m0 .4h0m0 6.2h0m.1-12.3h0m0 7.4h0m0 .2h0m0 8.7h0m0 4.3h0m.1-27.5h0m0 7h0m0 3.9h0m0 4.7h0m.1-12.2h0m.1 3.1h0m0 2h0m0 6.2h0m0 1.5h0m0 2.9h0m.1-24.8h0m0 16.8h0m0 5.2h0m0 .6h0m.1-6.3h0m.1-7h0m0 19.8h0m.1-15.7h0m0 10.4h0m0 .6h0m.1-19.2h0m0 8.1h0m.1 14.5h0m0 3.2h0m.1-10.8h0m0 .3h0m0 1.5h0m0 7.1h0m.1-23.5h0m0 18.2h0m0 4.3h0m0 2.4h0m.1-20.7h0m.1 6.2h0m0 1.2h0m0 5.4h0m.1-3h0m.1-1.1h0m0 4.3h0m.1 12.7h0m.1-10.5h0m.1-5.6h0m0 7.3h0m.1-17.4h0m0 13.1h0m.2-.1h0m0 10.5h0m.1-25.8h0m0 .7h0m.1 2.2h0m0 1.1h0m0 11.7h0m0 1.3h0m0 .2h0m0 3.5h0m.1-18.4h0m0 10.2h0m0 14.5h0m.1-.6h0m.1-18.8h0m0 18.8h0m0 1.7h0m.1-18.3h0m0 16.5h0m.1-12.4h0m0 7.7h0m.1-.2h0m.1-4.4h0m0 .2h0m.1-4.4h0m0 8.6h0m0 .2h0m0 3.6h0m.1-2.2h0m.1-10.5h0m0 5.5h0m0 .7h0m0 1.9h0m0 .1h0m0 .5h0m.1-12.5h0m0 2.7h0m0 6.6h0m0 10.3h0m.1-21.7h0m0 16.5h0m.1-14.2h0m0 14.7h0m.1-24.7h0m0 4.9h0m0 1.6h0m0 .6h0m0 13.9h0m0 2.3h0m.1-10.1h0m0 5.5h0m0 9.4h0m.1-19.1h0m0 10.8h0m0 5.4h0m.1-14.4h0m0 12.7h0m.2-31.2h0m0 16.5h0m.1-12.5h0m.1 15.7h0m.1-4.6h0m0 10.2h0m0 12.5h0m.1-10.8h0m.1-2.4h0m0 2.9h0m.1-10.3h0m0 15.5h0m.1-18.5h0m0 11.6h0m.1-11h0m0 7.1h0m0 2.5h0m0 6.7h0m.1-3.3h0m0 9.5h0m.1-24.1h0m0 .4h0m0 15h0m0 8.5h0m.2-24.4h0m0 .9h0m0 15h0m0 3.7h0m.1-12h0m0 13.6h0m.1-19.4h0m0 .4h0m0 1.8h0m0 1.4h0m.1 7h0m0 10.1h0m.1-22.7h0m0 9.4h0m0 7.5h0m.1-6.3h0m.2-3.7h0m0 5h0m.1-.4h0m0 4.5h0m0 4.4h0m.1-18.3h0m0 12.6h0m0 5.4h0m.1-10.5h0m0 2h0m.1-12.5h0m.1 5.8h0m0 14.4h0m.1-20.1h0m0 4.9h0m0 8.7h0m0 6.3h0m.2-3.6h0m0 .4h0m.1 1h0m0 1.7h0m.1-3.8h0m0 3.7h0m.1-12.5h0m0 16.6h0m.1-30.2h0m0 2.9h0m0 22.4h0m.1-4.3h0m0 .8h0m0 7h0m.1-5.2h0m.1-10.4h0m.1 .5h0m0 5.4h0m0 4h0m.1-6.8h0m0 7.4h0m0 .1h0m.1-13.7h0m0 8.3h0m0 13.2h0m0 .1h0m.1-26.8h0m0 17h0m.2-14.5h0m0 8.1h0m0 4.4h0m.1-16.1h0m0 11.3h0m.1 16.5h0m.1-19.7h0m.2 1.2h0m0 15.5h0m0 3.2h0m.1-16.6h0m0 4.3h0m0 1.4h0m0 1.2h0m0 1.3h0m0 6.2h0m0 1.2h0m0 .1h0m.1-8.4h0m0 10.4h0m.1-10.6h0m0 2.4h0m.1-2.8h0m0 9h0m0 1.5h0m.1-6.7h0m0 1.2h0m.1-16.2h0m.1 7.7h0m0 1.4h0m0 6.9h0m.2-21.6h0m.1-8.8h0m.1 32.6h0m0 .1h0m.1-24.3h0m0 7.2h0m0 9h0m0 1.6h0m.1 9.1h0m.1-2.3h0m.1-14.2h0m0 4.3h0m0 .6h0m0 7.5h0m.1-28.8h0m0 29.3h0m.1-13.6h0m0 .5h0m0 5.7h0m0 2.4h0m.1-11.5h0m0 18.5h0m.1-4.4h0m.1-9.9h0m0 14.8h0m.1-17.4h0m0 13.9h0m0 .3h0m.1-12.5h0m0 9.2h0m.1-6.2h0m.1-6.4h0m0 5.5h0m.1-9h0m.2 10.6h0m.1 5h0m.1-22.8h0m0 15.7h0m0 7.5h0m.2-16h0m0 10h0m0 3.6h0m.1-11.3h0m0 3.9h0m0 7.9h0m.1-15.6h0m0 5.9h0m0 10h0m0 .6h0m0 1.1h0m.1-15.6h0m0 9.1h0m0 6.7h0m0 1.3h0m.1-10.5h0m.1-8.3h0m0 19.1h0m0 2h0m.1-24.7h0m0 10.2h0m0 14.7h0m.1-12.4h0m.1 8.3h0m.2-21.2h0m0 15.5h0m.2-2.7h0m0 5h0m0 3.1h0m.1-4.8h0m0 13.2h0m.1-9.5h0m.1-1.7h0m.2-15.7h0m0 2.3h0m0 15.2h0m.1 .6h0m0 1.1h0m.1-3.8h0m.1 6.5h0m.1 2.2h0m.1-19.7h0m0 6.5h0m.1 10.6h0m.1-8.2h0m.1-8h0m0 14.3h0m.1-15.1h0m0 10.9h0m0 11.6h0m.1-13.9h0m.1-7h0m.1 8h0m.1-2.5h0m.1 4.7h0m.1-24.1h0m0 13.7h0m.1 3.1h0m0 5.1h0m.1 12.1h0m.2-12.6h0m.1-10.4h0m0 14h0m.1-15.6h0m0 10h0m.2-.7h0m0 7.9h0m.2-13.8h0m0 16.2h0m.2-13.6h0m.2 5.9h0m0 9.4h0m.1-21.9h0m0 13.8h0m0 9h0m.2-18.1h0m0 21h0m.3-21.7h0m0 10.1h0m.2 4h0m.1-4h0m.1-.5h0m.1-8.4h0m0 13h0m.1 .1h0m.1 6.3h0m.2-14.9h0m0 1.5h0m.2 5.1h0m0 2h0m.1 7.9h0m.1-8.7h0m.1-3h0m.1-7h0m0 2.9h0m0 5.4h0m0 9.3h0m.1-13.4h0m0 6.8h0m.1-9.7h0m0 4.5h0m.2-.1h0m.7-2.5h0m0 7h0m.3-2.6h0m0 5.8h0m.3-2.4h0m.1 3.2h0m.1-13.7h0m0 9.8h0m.1-4.6h0m.2 1h0m0 5.8h0m.1-12.3h0m0 17h0m.3-14.7h0m.1-6.3h0m.1 .8h0m.1 7h0m0 13h0m.4-17.8h0m0 7.9h0m.1-8.5h0m0 12.6h0m.4-3.9h0m0 .6h0m.1 5h0m0 4.7h0m.2-15.4h0m.2 6.8h0m0 7.4h0m.4-23.4h0m.6 6.8h0m.2 10.3h0m.6-10.4h0m1.3 13.4h0m0 4h0m.2-16.1h0m1.3-6.5h0m.1 6.1h0m.2 10.3h0m.1-2.1h0m2.3 1.8h0m.2-9.2h0m.9 1.4h0m.4-6.4h0m.4 17.4h0m.1 1.2h0m.2-8.6h0m.2 3.8h0m3-4.5h0m.2-3h0m9.3-.6h0" stroke="#22a82e" stroke-width="1.00" opacity="0.65"/><ellipse cx="95.0" cy="568.0" rx="22.0" ry="15.0" transform="rotate(0 95.0 568.0)" fill="url(#gG)" filter="url(#grain)"/><path d="M71 568.8h0m1.3 4.2h0m.2-11.3h0m.1 8.1h0m.1-2.2h0m.4-3.7h0m.2-3.6h0m0 6.9h0m.4-1.2h0m.2-2.7h0m.3 8.4h0m.1-8.3h0m0 7.8h0m.3-1.9h0m.1-10.4h0m0 11.7h0m.5-1h0m0 3.9h0m.1-.7h0m.4-1.9h0m.1-10.7h0m.1-3.7h0m.1 19.2h0m.1-18.6h0m.6 4.5h0m.3-2.3h0m.6-1.9h0m0 4.3h0m0 1.9h0m0 2.4h0m.2-7.5h0m0 8.1h0m.3-7.9h0m0 1.2h0m.1 3.5h0m.1 1.4h0m.6 4h0m.2-12.7h0m0 15.2h0m.1 3.6h0m.3-10.1h0m.2-3.8h0m.1 12.6h0m.5-18.1h0m.3 17.7h0m0 3h0m.2-19.5h0m.7 3.1h0m.1 1.4h0m0 12.6h0m.1-19.4h0m.2 2h0m1 3.2h0m0 16h0m.3-1.6h0m.7-15.4h0m.1-3.5h0m.3-.2h0m.2-2.9h0m.1 2h0m0 4.4h0m.3-.1h0m.6-6h0m.2-.1h0m.9 2h0m.7-3.2h0m.7 3.2h0m1.6-.2h0m.3-.5h0m.5-.6h0m.2 .7h0m.1-.1h0m.6 .4h0m.8-.4h0m.4-.4h0m.9 .4h0m.3-2.7h0m0 5.1h0m.2 .1h0m1.3-5.2h0m0 3.7h0m.2-3.5h0m.4 3.1h0m.8-3.9h0m.2 2.1h0m1.5 .9h0m.6 3.2h0m.8-2.5h0m.7-2.4h0m2.6 .5h0m.4 2.5h0m.1 1.9h0m.8-.5h0m.3-2.8h0m0 5.3h0m.3-5.3h0m.3 22.6h0m.8-18.7h0m1.3 18.9h0m.4-19.4h0m0 3.4h0m.7-3.5h0m.3 1.8h0m.1-4.3h0m.4 .3h0m.4 .4h0m.5-.5h0m.2 22.1h0m.3-19.5h0m.1-2.2h0m.2 7.9h0m0 7h0m.5-14.8h0m0 1.9h0m.1 18.6h0m.1-8.5h0m.2 1.8h0m.1-9.1h0m.6-.5h0m.5 4h0m.2-2h0m.4 7.3h0m.2-9.3h0m0 16.7h0m.4-6.6h0m.1-5.1h0m.1 .1h0m.3 5.8h0m.4 2.3h0m.1-4.1h0m.1-6.9h0m0 7.3h0m.2-9.7h0m.5 7.6h0m0 5.3h0m.5-2.3h0m.3 2.8h0m.3 2.3h0m.1-13.9h0m.2 3.7h0m.1-3.1h0m.2 8.1h0m.1-8.5h0m0 1.1h0m.1 3.3h0m0 1.4h0m1.2 2.8h0m.2 .8h0m.3-2.1h0" stroke="#1c8a26" stroke-width="1.00" opacity="0.50"/><path d="M47.8 525.8h0m5.1-1.5h0m4.5-12.8h0m.4 33.3h0m1 1.4h0m1.9-12.9h0m.4-6.8h0m.2-11.9h0m.8-.1h0m.8 4.5h0m0 29.7h0m.2-19.7h0m1.3-4.8h0m0 1h0m.2 13.7h0m.3-14.9h0m.4 1.1h0m.6-11h0m.6 22.2h0m.8-12.4h0m.2 9.8h0m2.1-17.1h0m.5-3.3h0m.3 .7h0m.2 25.5h0m.2-16.9h0m.2 4.4h0m.3-15.4h0m.3 13.2h0m.3-6.2h0m.1 9h0m1.1 6.6h0m.3-8.5h0m.1 4.9h0m.1-5.8h0m1.1-16h0m0 5.5h0m.1 12.1h0m.2-13.8h0m0 12.2h0m0 19.1h0m.5-12.4h0m.5-11h0m.1 1.7h0m.1 7.3h0m.1 6.6h0m.5-9.6h0m.2 2.6h0m.1-4.4h0m.1 4h0m.1-.8h0m.3 1.2h0m.5-18.4h0m0 14.1h0m.1 1.7h0m.2-5.9h0m.1-2.5h0m0 23.7h0m.3-27.4h0m.1 15h0m.2 6.2h0m.1-10.5h0m0 12.8h0m.2-14.7h0m0 6.6h0m.1-.4h0m.2-2.6h0m.2-3.4h0m0 5.9h0m.6-1.1h0m0 4.2h0m.1 2.3h0m.2-11.1h0m.2-3.9h0m0 26.1h0m.1-9.4h0m.2-23.3h0m.3 18.7h0m.1-14h0m0 18.6h0m.2-18.5h0m0 7.1h0m.1 4.8h0m.3 .9h0m.1-14.5h0m.1-3.7h0m0 7.3h0m0 2.2h0m.2-3.5h0m0 13.2h0m.1-15h0m0 23.9h0m.1 .4h0m.2-31.2h0m.1 25.3h0m.2-1.9h0m0 18.2h0m.2-16.3h0m.3-13.8h0m.5-1.3h0m.1 15.2h0m.1-1.5h0m.1 5.3h0m.2-12.6h0m0 12.1h0m.3-20.7h0m.3 6.9h0m.1-1.7h0m.1-15.6h0m.1 13.4h0m.1-1h0m.1 12.6h0m0 3.6h0m.1-8.9h0m.1 11.6h0m.1-11.7h0m.3 9.9h0m.1-12.3h0m.1 2.7h0m.2 9.4h0m.1-22.8h0m.1 1h0m0 15.3h0m.1-3.7h0m0 3.1h0m.2-10.8h0m0 5.2h0m.1-3.9h0m.1 18.1h0m.1-19h0m0 20.4h0m.1-11.3h0m0 3.4h0m.2-20.3h0m0 13.3h0m0 14.3h0m.1-12.4h0m0 5.1h0m0 6.2h0m.1-20.9h0m.3-.7h0m0 6.2h0m0 .7h0m.1 10.7h0m0 5.8h0m.1-24.5h0m0 11.2h0m.1-6.9h0m0 5.1h0m0 10.1h0m.2-.9h0m.2-11h0m0 6.6h0m0 10.3h0m.3-32.9h0m0 18.9h0m.2 5.1h0m.1-17.9h0m.1 14h0m0 9.8h0m.1 .5h0m0 4.4h0m.1-26.3h0m0 1h0m0 5.3h0m0 1.3h0m.2-1.5h0m.6 4.2h0m.1 23.2h0m.1-36.4h0m0 6h0m.1 14.8h0m.1-2.7h0m.2 .9h0m.1-14.4h0m0 5.7h0m0 21.3h0m.1-11.2h0m0 2.1h0m.1-31.4h0m0 17.1h0m.2-3.2h0m.1-2.1h0m0 20.7h0m.1-22h0m0 10.3h0m.1 .6h0m.1 17.1h0m.1-1.9h0m.2-5.5h0m.1-9.9h0m.3 21h0m.1-21h0m.1-8.8h0m.1-6.2h0m0 12.2h0m0 14.6h0m0 3.8h0m.2-14.4h0m.1-4.1h0m0 .2h0m.1 12.5h0m.1-12.3h0m0 15.1h0m.2-15.9h0m.1 7.8h0m.1-6.4h0m0 1.6h0m0 3.1h0m.1-6.9h0m.1 5.9h0m0 13.6h0m.2-26.9h0m0 5.1h0m.1 12.6h0m.1 15.5h0m.1-23.5h0m0 6.9h0m.1-10.4h0m0 18.6h0m0 6.9h0m.1-21.5h0m.2-1.2h0m.1-1.9h0m.1 30.7h0m.1-13h0m.3-21.6h0m.1 6.7h0m.1-1.9h0m.5-15.3h0m0 15.1h0m0 11.7h0m0 1.2h0m.1 4.3h0m.1-15.8h0m.1-3.9h0m0 13h0m.1-13h0m0 4.7h0m.2 7.5h0m.1-1.8h0m.2-11h0m0 6.9h0m.1 8.9h0m.1-3.4h0m0 3h0m0 1.9h0m.1 2h0m.3-6.6h0m.2 5.2h0m0 4.5h0m.1-7h0m.3-18.8h0m0 3.1h0m0 19.1h0m0 5.7h0m.1-2.5h0m.3-17.9h0m.1-10.9h0m.1 7.2h0m.2 22.3h0m.1 10.5h0m.1-28.8h0m0 9.4h0m.3-13.4h0m.1 31.1h0m.1-23.5h0m.2 1.1h0m0 3.8h0m.1 1.8h0m.1-6.3h0m0 4.7h0m.1-11.4h0m0 3.5h0m0 7.6h0m0 8.6h0m.2-23.2h0m.1 13h0m0 3.1h0m.2-17.7h0m0 8.5h0m0 1.3h0m0 2.9h0m.2 2h0m.1-15.5h0m0 18.7h0m0 3.4h0m.1-4.7h0m.1-3.8h0m.2 8.8h0m.5-9.1h0m.1-6.1h0m0 1.7h0m0 15.8h0m0 4.5h0m.1-13.6h0m0 9h0m.1-18h0m0 5h0m.1 2.1h0m.1-1.6h0m1.1-16.2h0m0 14.9h0m.1 10.4h0m.2-26.6h0m0 4.2h0m.7 12.9h0m.2-2.6h0m.3 12.2h0m.2-4.2h0m.2-12h0m.1 2.1h0m0 2h0m.5 3.5h0m.2-9.8h0m.1 5.9h0m0 14.1h0m.1-12.6h0m.2 6.5h0m.2-1.9h0m.1-8.5h0m.4-.8h0m0 20.5h0m.2-19.1h0m.4-11.9h0m0 7h0m.2-3.9h0m.3 17.4h0m0 4.1h0m.4-18.3h0m.1 2.5h0m.2 6.1h0m.4-4.2h0m.7 10.2h0m.2-6.2h0m.4-2.8h0m0 13.8h0m.1-4.4h0m.3-2.4h0m0 .3h0m.5-7.4h0m.2-11.1h0m0 6.5h0m.1-3.8h0m.1 21.9h0m.3 15.5h0m.1 4.8h0m.1-34.1h0m.3 10.6h0m0 9.5h0m.4-10.1h0m0 3.9h0m.2-12.5h0m.8 17.5h0m.3-10.9h0m.1-13.6h0m.1 2.2h0m.1 13.3h0m.6-1.9h0m.3-1.3h0m.1-6h0m.5 8.4h0m.3-5.6h0m0 5h0m1-.6h0m.4 15h0m.9-24.1h0m.7-3.3h0m0 18.9h0m1.4-9.3h0m.5-6.7h0m.8 7.3h0m1 2.8h0m.3-31.5h0m.2 36.1h0m1.1-12.7h0m4.8 2.1h0m1.9 3.2h0m.2-3.3h0m6.1-9.9h0" stroke="#860e28" stroke-width="1.25" opacity="0.95"/></g></g>
<path d="M17.40 454.70V575.80M17.80 575.30h-6.20M17.80 566.26h-3.20M17.80 560.97h-3.20M17.80 557.22h-3.20M17.80 554.31h-3.20M17.80 551.94h-3.20M17.80 549.93h-3.20M17.80 548.18h-3.20M17.80 546.65h-3.20M17.80 545.27h-6.20M17.80 536.24h-3.20M17.80 530.95h-3.20M17.80 527.20h-3.20M17.80 524.29h-3.20M17.80 521.91h-3.20M17.80 519.90h-3.20M17.80 518.16h-3.20M17.80 516.62h-3.20M17.80 515.25h-6.20M17.80 506.21h-3.20M17.80 500.92h-3.20M17.80 497.17h-3.20M17.80 494.26h-3.20M17.80 491.89h-3.20M17.80 489.88h-3.20M17.80 488.13h-3.20M17.80 486.60h-3.20M17.80 485.22h-6.20M17.80 476.19h-3.20M17.80 470.90h-3.20M17.80 467.15h-3.20M17.80 464.24h-3.20M17.80 461.86h-3.20M17.80 459.85h-3.20M17.80 458.11h-3.20M17.80 456.57h-3.20M17.80 455.20h-6.20M18.80 576.80H139.90M19.30 576.40v5.20M28.34 576.40v2.80M33.63 576.40v2.80M37.38 576.40v2.80M40.29 576.40v2.80M42.66 576.40v2.80M44.67 576.40v2.80M46.42 576.40v2.80M47.95 576.40v2.80M49.33 576.40v5.20M58.36 576.40v2.80M63.65 576.40v2.80M67.40 576.40v2.80M70.31 576.40v2.80M72.69 576.40v2.80M74.70 576.40v2.80M76.44 576.40v2.80M77.98 576.40v2.80M79.35 576.40v5.20M88.39 576.40v2.80M93.68 576.40v2.80M97.43 576.40v2.80M100.34 576.40v2.80M102.71 576.40v2.80M104.72 576.40v2.80M106.47 576.40v2.80M108.00 576.40v2.80M109.38 576.40v5.20M118.41 576.40v2.80M123.70 576.40v2.80M127.45 576.40v2.80M130.36 576.40v2.80M132.74 576.40v2.80M134.75 576.40v2.80M136.49 576.40v2.80M138.03 576.40v2.80M139.40 576.40v5.20" stroke="#111" stroke-width="0.95" fill="none"/>
<g clip-path="url(#c13)"><g filter="url(#soft)" class="d"><path d="M168.5 529.3h0m.4-65.3h0m.1 11h0m.1 40h0m.1 35.1h0m.1-39h0m.3 12.7h0m.1 18.8h0m.1 16.7h0m.4-47.4h0m0 5.3h0m.6-19.7h0m.1 35.8h0m.1-26.9h0m0 59.7h0m.1-61h0m.1-.2h0m.1-8.4h0m.2-18h0m0 59.8h0m0 12.3h0m.1-49.1h0m0 25.6h0m.1 48.5h0m.1-15.6h0m0 6.5h0m.1-62.4h0m0 36.5h0m.2 4.5h0m.1-43.9h0m0 48.9h0m.1-34.2h0m.2-29.4h0m0 38.9h0m0 13h0m.1-21h0m0 4.8h0m.2-11.4h0m0 32.9h0m.1-33h0m0 26.1h0m.1-19.1h0m.1-52h0m0 75.9h0m.1-67.7h0m.1 61.6h0m.1 12.9h0m.1-81.6h0m0 57.8h0m0 19.2h0m.1-5.4h0m.1-59.2h0m0 .9h0m0 31.4h0m0 1.1h0m0 6.2h0m.1 5.8h0m.1-35.9h0m0 23.4h0m0 47.5h0m.1-50.9h0m0 3.7h0m.1 6.7h0m.1-6h0m0 11.5h0m.1 13.8h0m0 17.9h0m.1-32.8h0m.3 6.2h0m0 35.3h0m.1-51.2h0m.1-3.6h0m0 19h0m.1 22.1h0m.1-5.1h0m.1-61.3h0m.1 23.4h0m.1 36.1h0m.1-31.5h0m0 16.4h0m.1-34h0m0 45.4h0m.3-35.4h0m0 5h0m0 39.2h0m.1-17.6h0m0 42.3h0m.3-103.1h0m.1 22.1h0m0 28.4h0m0 6.7h0m.2-37.5h0m0 5.1h0m0 9h0m0 8.1h0m.1 10.1h0m.2-34.6h0m0 23.3h0m0 38.9h0m.1-67h0m0 12.5h0m0 37.6h0m0 5.6h0m0 21.4h0m.2-52.7h0m.1-33.8h0m0 13.9h0m0 71.8h0m.3-58.3h0m.1 7.9h0m0 31.7h0m.1-13.6h0m.1 27.3h0m.1-65.3h0m0 60.1h0m.1-71.2h0m0 65.1h0m.1-59.9h0m.1-7.4h0m0 32.9h0m0 15.3h0m0 33.3h0m.1-103h0m0 70.6h0m.1-25.1h0m0 21h0m0 12.1h0m0 31.5h0m.1-82.1h0m0 31.9h0m0 5.4h0m.1-16.6h0m0 53.4h0m.1-46.2h0m0 36.7h0m.1-30.7h0m0 31.9h0m.1-84.1h0m.1 74h0m.1-60.6h0m0 46.6h0m0 18.8h0m0 32.6h0m.1-54.6h0m0 5.3h0m0 9.7h0m.1-10.7h0m0 33.3h0m.1-70.8h0m0 12.5h0m0 45.7h0m.1-2.7h0m.2-47.4h0m0 .5h0m.2-2.5h0m0 19.7h0m.1-23.4h0m0 10h0m0 4.4h0m.1-22h0m0 57.2h0m.1-18.3h0m.2-21.7h0m0 54h0m.1-89.8h0m.1-9.7h0m0 40.9h0m0 24.6h0m.2 .9h0m0 22.4h0m.1-26.3h0m0 11.8h0m0 16.2h0m.1 16h0m.1-5.3h0m0 .5h0m.1-66.8h0m0 31.6h0m0 1.6h0m.1-20.6h0m0 13.1h0m0 32.8h0m.2-36.5h0m0 10.3h0m0 8.6h0m0 .3h0m.1 10.6h0m0 23.9h0m.1-37.4h0m0 29.6h0m.1-92.5h0m0 18.9h0m.1 25h0m0 20.2h0m0 .7h0m0 27.7h0m.1-76h0m0 39.3h0m0 13.5h0m.1-58.8h0m0 21.3h0m0 23.3h0m0 4.2h0m.1-37.9h0m0 34.5h0m0 1.4h0m0 17.9h0m0 23.6h0m.1-84.4h0m0 8h0m0 17.8h0m0 10.6h0m0 12.5h0m.1-16.3h0m0 26.2h0m0 17.6h0m.1-97.1h0m0 51.4h0m0 61.2h0m.1-53h0m0 8.6h0m0 29.9h0m.1-55.6h0m0 15.8h0m0 37.2h0m.1-97.5h0m0 36h0m0 11.2h0m0 45.6h0m.1-60.7h0m0 58.5h0m.1-61.7h0m0 33.3h0m0 2.2h0m.1-28.2h0m0 6.3h0m0 33.9h0m0 2.9h0m0 11.6h0m.1-78.4h0m0 45.4h0m0 5.4h0m.1-26.1h0m0 7.6h0m0 2.1h0m0 .5h0m0 22.5h0m0 25.2h0m.1-27.5h0m0 21h0m0 3h0m.1-55h0m0 56h0m.1-77.2h0m0 59.5h0m.1-31.9h0m0 29.3h0m0 6.3h0m.1-33.2h0m0 2h0m0 41.3h0m.1-44.1h0m0 39.9h0m.1-18h0m0 2.9h0m.1 20.5h0m0 4.3h0m.1-61.6h0m0 15.5h0m0 8h0m0 34.6h0m.2-56.4h0m.2 6.2h0m0 36.4h0m.1-44.6h0m0 1.8h0m0 6.5h0m0 6h0m0 14.6h0m.2 45.6h0m.1-65.9h0m0 22.2h0m0 26.4h0m.1-4.6h0m0 8.5h0m0 1.4h0m0 2.9h0m.1-54.3h0m.1 8h0m0 2.2h0m0 2h0m.1-36h0m.1 20.6h0m0 28.8h0m.1-9.4h0m0 2.4h0m0 3h0m.1-11.8h0m0 8.6h0m0 2.8h0m.1 8.8h0m0 9.1h0m.1-11.3h0m0 36.2h0m.1-76.8h0m0 24.5h0m0 10.9h0m0 4.1h0m0 5.2h0m0 16.9h0m.1-47h0m0 .9h0m0 50.6h0m.1-80.1h0m0 46.2h0m0 2.8h0m0 14.6h0m0 8.4h0m0 12.7h0m.1-99.9h0m0 53.5h0m0 .4h0m0 34.3h0m.1-61.3h0m0 31.8h0m0 24h0m0 3.9h0m.1-56.1h0m0 81.7h0m.1-76h0m0 9h0m0 41.5h0m.2-53.2h0m0 38.8h0m0 8.1h0m.1-54.6h0m.1 18.2h0m0 7.5h0m.1-46.2h0m0 36h0m0 27.7h0m.1 9.4h0m.1-81.2h0m0 51.3h0m.1-17.6h0m0 16.9h0m0 17.8h0m0 37.5h0m.1-26.6h0m0 15.3h0m0 2.6h0m.1-61.3h0m0 33.4h0m0 29.5h0m.1-72.6h0m0 9.8h0m0 11.7h0m0 2.6h0m0 44h0m.1-85.7h0m0 100.8h0m.1-97.2h0m0 30h0m0 16.4h0m.1-10.8h0m0 3.2h0m.1 40.3h0m0 16.7h0m.1-98h0m0 8.2h0m0 21h0m0 30h0m.1-62.7h0m.1 28.5h0m0 26.9h0m.1 4.8h0m0 4.5h0m.1 28.8h0m0 7.9h0m.1-75.3h0m0 9.1h0m0 1h0m0 12.6h0m0 13.2h0m0 9.6h0m.2-35.2h0m0 6.1h0m0 19.5h0m.1-18.1h0m0 20.2h0m0 30.5h0m0 6.8h0m.1-70.7h0m0 13.5h0m0 5h0m0 15.3h0m.1 6h0m0 10.8h0m.1-34.6h0m0 5.2h0m0 37.6h0m.1-38.9h0m0 9.6h0m.1-13.9h0m.1-1.8h0m0 29.7h0m0 23.2h0m0 9.3h0m.1-79.6h0m0 5.3h0m0 14.4h0m0 32.1h0m.1-30.7h0m0 22.8h0m.1-68.2h0m0 43.3h0m0 64.8h0m.1-104.6h0m0 35.1h0m0 23.9h0m0 8.2h0m0 8.1h0m.1-11.8h0m0 .1h0m.1-58.6h0m0 45.8h0m0 17.5h0m.1-65.8h0m0 52.4h0m0 4.9h0m0 3.1h0m.1-14h0m0 5.2h0m.1 5h0m0 1.7h0m0 40.3h0m.1-93.2h0m0 67h0m0 2.4h0m0 9.6h0m.1-70.5h0m0 21.5h0m0 25h0m0 2.2h0m0 11.3h0m0 10.5h0m0 13.2h0m.1-40.3h0m.1-36.4h0m0 44.1h0m.1-68.8h0m0 8.4h0m0 14.6h0m0 24.3h0m0 4.8h0m.1-49.8h0m0 18.3h0m0 27.8h0m.1 10.3h0m.1-16.2h0m0 6.3h0m.1-50.1h0m0 65.6h0m0 .8h0m0 1.5h0m0 1h0m.1-44.1h0m0 12.7h0m0 24.5h0m.2-34.6h0m.1-10.4h0m0 38.6h0m0 24.1h0m.1-43.6h0m0 20h0m0 .8h0m.1-52.6h0m0 62h0m0 12.9h0m.1-44.6h0m0 2.9h0m0 16.6h0m0 21.3h0m0 11.5h0m.2-64h0m0 9h0m0 31.4h0m0 7.6h0m0 35.7h0m.2-80.9h0m0 31.8h0m0 25.1h0m0 19.5h0m.1-26.3h0m.1-65.2h0m0 29.2h0m0 59.7h0m.1 1.4h0m0 2.7h0m.1-80.4h0m0 29.9h0m0 25.7h0m.2-71.7h0m0 6.9h0m0 29h0m0 55.7h0m.1-89.4h0m0 13h0m0 18.1h0m.1-15.1h0m0 7.8h0m.1-4h0m0 .4h0m0 3.8h0m0 21.6h0m.1-24h0m0 69h0m0 0h0m.1-4.2h0m0 14.5h0m.1-99.2h0m0 .1h0m0 27.9h0m0 14.7h0m0 18.5h0m.1-28.5h0m0 8.4h0m0 12.5h0m0 24.7h0m.1-53.8h0m0 43.1h0m.1-6.9h0m.2-42.3h0m0 35.3h0m0 3.2h0m.1-53.5h0m.1 35.4h0m0 6.6h0m.1-37.6h0m0 12.3h0m0 44.5h0m0 24.1h0m.1-75.4h0m.1 1.4h0m0 70.8h0m.1-92.9h0m0 46.1h0m0 1.2h0m.1-21.6h0m0 6.3h0m0 19.8h0m0 14.3h0m0 25.3h0m.1-62h0m0 19.8h0m0 4.9h0m0 10.8h0m.1-53.3h0m.1-5.4h0m0 27.8h0m0 20.2h0m0 32.5h0m.2-63.5h0m0 62.5h0m.1-68.1h0m0 59.5h0m.1-39.5h0m0 7.3h0m0 1.4h0m0 5.8h0m0 14.7h0m.1-37.8h0m0 69.5h0m.1-49.8h0m0 12.3h0m0 10.9h0m.1-65.9h0m0 39.2h0m0 14.6h0m.1-24.8h0m0 31h0m.1-29.8h0m0 7.9h0m0 2.5h0m0 16.3h0m.1-21h0m0 12.3h0m.1-49.7h0m0 13.6h0m0 56.7h0m.1-71h0m0 24.8h0m0 24.8h0m.2-60.5h0m0 97.5h0m.2-69.8h0m0 9.6h0m0 8.9h0m0 5.6h0m.1-24.1h0m0 1.9h0m.1 9.7h0m0 55.5h0m0 17.1h0m.1-91.8h0m0 15.1h0m0 26h0m.1-34.4h0m0 38.5h0m0 1.2h0m0 41.1h0m.1-81.3h0m0 19.7h0m.1-12.7h0m0 22.6h0m0 38.9h0m0 3.5h0m.1-61.8h0m0 32.2h0m.1-50.9h0m0 50.5h0m0 1.7h0m0 7.5h0m.1-48.7h0m0 18h0m0 7.4h0m0 .3h0m0 14.8h0m0 9.3h0m.1-44.4h0m.1-16.1h0m0 8.8h0m0 8.5h0m0 13.9h0m.1 16.8h0m0 3.5h0m0 22.6h0m.1-96.8h0m0 50.3h0m0 9h0m0 42.9h0m.1-53.9h0m0 4.8h0m.1-32.1h0m0 19.5h0m0 14.8h0m0 6.1h0m0 21.9h0m0 7.2h0m.1-47.2h0m0 45.6h0m.1 5.8h0m0 1.3h0m0 21.7h0m.1-75.2h0m0 37.2h0m.1-53.6h0m0 10.7h0m0 29.1h0m0 14.3h0m0 19.9h0m.1-43.3h0m0 22.4h0m0 10.2h0m.1-36.4h0m0 10.7h0m.1 43.3h0m.1-103h0m0 80.1h0m.1-78.5h0m0 22h0m0 64.8h0m.1-66h0m0 7.9h0m0 4.3h0m0 2.1h0m0 10.6h0m.1-46.7h0m0 4.9h0m0 33.3h0m0 12.6h0m0 4h0m0 15.6h0m0 17.8h0m.1-22h0m0 7.1h0m0 1.9h0m.1-49.4h0m0 29.4h0m0 6.2h0m.3-33.6h0m0 67.2h0m.1-76.4h0m0 19.6h0m0 7.3h0m0 0h0m0 4.8h0m0 21.9h0m0 29.4h0m.1-28h0m.1 27.4h0m.1-82.4h0m0 16.8h0m0 18h0m0 7.4h0m0 1.4h0m0 27.8h0m.2-62.8h0m0 47h0m0 16.2h0m.1-40h0m0 48.7h0m.1-60.4h0m0 6.6h0m.1 14.5h0m0 6.2h0m.1-15h0m0 8.5h0m0 3.3h0m.1-26.6h0m0 5.5h0m0 24.8h0m.1-59.3h0m0 105.3h0m.1-75.2h0m0 9.4h0m0 6.7h0m0 4.7h0m.1-31.5h0m0 29.4h0m.1-18.4h0m0 75.6h0m.1-49.5h0m0 11h0m0 21.3h0m.1-57.2h0m0 43.8h0m0 9.6h0m.1 12.9h0m.1-71.5h0m0 30.8h0m0 15.1h0m0 5.2h0m.1-36.8h0m0 8.2h0m.1-22.6h0m0 10.6h0m0 28.1h0m0 29.6h0m.1-87.1h0m0 13.9h0m0 4.7h0m0 15.1h0m.1-19.6h0m0 28.4h0m.2-14.6h0m.1-1.6h0m.1-2h0m.1 73.2h0m.1-71.8h0m0 16.7h0m0 7.8h0m.1-32.3h0m0 52.4h0m0 12h0m.2-87.4h0m0 31.5h0m0 18.3h0m0 .8h0m.1-48.6h0m.1 27.3h0m0 40.6h0m0 17.3h0m.1-102.2h0m0 24.9h0m.1-1.8h0m0 13.9h0m0 12h0m0 8.1h0m0 3.8h0m.1-13.4h0m0 30.8h0m0 17.6h0m0 1.6h0m0 .3h0m.1-41.7h0m0 7.3h0m.1 10.3h0m0 28.5h0m.1-23.7h0m0 2.5h0m.1-45.4h0m0 7.4h0m0 8.3h0m0 29h0m.1-26.9h0m.1-49.9h0m0 68.6h0m.2-20.5h0m0 11.5h0m0 48.2h0m.1-13.7h0m.1-45.3h0m.2 3.7h0m0 16.9h0m0 11.5h0m.1-54.6h0m0 21.9h0m0 32.6h0m.1-28.5h0m0 58.7h0m.1-66.7h0m0 45.6h0m.1-27.3h0m.1-42.8h0m0 67.9h0m.1-58.2h0m0 15h0m0 9.2h0m0 31.1h0m0 .1h0m.1-48.8h0m0 30h0m0 .7h0m.1-43.3h0m0 38.2h0m.1 19.6h0m0 2.5h0m.2-56.5h0m.1-19.7h0m0 27.7h0m0 80.2h0m.1-76.9h0m0 18.5h0m0 6.1h0m0 4h0m.1-1.8h0m.1 9.5h0m.1-26.4h0m.1 3.2h0m0 31h0m0 19.1h0m.1-44h0m0 .1h0m.1 1.4h0m0 10.9h0m.1-27.4h0m0 33.9h0m0 12.4h0m0 4.6h0m.1-49.1h0m0 10.5h0m.1-7.9h0m.1-17.1h0m0 26.6h0m.1-22.3h0m0 10.9h0m0 44.6h0m.1-42.8h0m0 44.9h0m.1-62.5h0m.1-4h0m0 11.3h0m0 2.9h0m0 17.5h0m.1-8.2h0m.1-6.6h0m0 15.5h0m0 19.4h0m0 2.1h0m0 23.8h0m.1-52.6h0m0 29.5h0m.1-36.5h0m0 16.9h0m0 5.2h0m0 19.7h0m.1-13.3h0m0 6.5h0m.1-6.2h0m.2-12.7h0m.1 1.1h0m0 17.2h0m.1-49.8h0m0 53.5h0m.2-78.8h0m0 12.6h0m0 27.6h0m0 14.5h0m.2-35.3h0m.1 3.7h0m0 19.2h0m0 15.4h0m0 21.4h0m0 6h0m.2-67.1h0m0 34h0m0 1.6h0m.1-13.6h0m0 18.8h0m.2-31h0m0 14.9h0m0 26h0m0 .6h0m.1-57h0m0 16.3h0m0 46.7h0m.1 8.7h0m.1 2.5h0m.1 18.8h0m.1-96.7h0m0 5.3h0m0 61.5h0m.1-38.3h0m.2-6.1h0m0 15.3h0m.1-18.9h0m0 51.9h0m0 4h0m0 5.7h0m0 6h0m.2-76.9h0m.2-10.7h0m0 58h0m0 30.6h0m.2-78.2h0m0 58h0m.1-42.3h0m0 20.3h0m0 15h0m0 37.5h0m.1-95.4h0m0 22.4h0m.2 71.3h0m.1-12.4h0m.1-54h0m.1-6.9h0m0 24.1h0m.1-14.7h0m0 28h0m.1-18.4h0m.1-.2h0m.1-2.5h0m.2-9.7h0m.1-30.9h0m0 6.2h0m0 20.3h0m0 64.9h0m.1-103.6h0m0 39.2h0m0 24.5h0m.1-48.4h0m.1 4.5h0m0 11.8h0m0 39.6h0m0 28.1h0m.1-40.8h0m.1-25.2h0m.1 .5h0m0 37.9h0m.1-8.9h0m0 2h0m0 35.5h0m.1-36.8h0m0 21.2h0m.1-69h0m0 21.3h0m.3 61.1h0m.1-28.7h0m0 25.6h0m.2-38.5h0m.1 21.1h0m.2-73.6h0m0 42.9h0m.1 29.9h0m.1-60.3h0m0 57.3h0m.3-18h0m0 34.5h0m.2-70.4h0m0 61.8h0m.1-45.2h0m0 25h0m.1-6.7h0m.1-26.8h0m0 24h0m.1-.8h0m0 26h0m.1-62h0m0 21h0m0 9.5h0m0 21.5h0m.1-59.5h0m.1 16.7h0m.5 45.7h0m.2 38.2h0m.2-50h0m.1-1.5h0m.1 38.2h0m.3 8.5h0m.2-76.9h0m0 13.1h0m0 18.5h0m.2 9.7h0m.3-30h0m0 20.7h0m0 20.5h0m.1-20.6h0m.2 19.7h0m.1-4.9h0m.1-58.2h0m0 70.3h0m.4-1.6h0m.1-35.9h0m0 50.6h0m.1-48.4h0m0 23.8h0m0 30.6h0m.1-25.9h0m0 17.2h0m.1-53h0m0 67.7h0m.1-42h0m.2 .6h0m0 .9h0m0 13.8h0m.3-12.1h0m.2 15.9h0m.2-29.2h0m0 38.9h0m0 5.7h0m.1-64.8h0m0 54.7h0m.4-36.7h0m.2-7.4h0m.1-35.1h0m0 33.3h0m.1 44.3h0m.1-19h0m.6 9.6h0m.2-54.4h0m.3 5.1h0m0 30.6h0m.1-11.7h0m.1 16.9h0m.4 26.6h0m.2-48.4h0m.2 29.9h0m.6-10.3h0m.2 9.9h0m.1-77.6h0m0 43.1h0m.1 31.5h0m.2-16.7h0m0 35.9h0m0 8.3h0m.4-26.5h0m.5-8.2h0m.2-22.1h0m.1 52.5h0m.2-63.9h0m.2 23.7h0m.6 34.8h0m.1-47.1h0m1 36.7h0m.6-23h0m.1-37.8h0m0 45.8h0m.8-61.1h0m1.1 52.9h0m.4-3.2h0m.6-.7h0m.9 35.6h0m1.1-2.8h0m.3-8.1h0m1-69.1h0m.6 52h0m.6-1.5h0m.2-17.5h0m2.1 27h0m.9-4.3h0m.8-25.8h0" stroke="#587878" stroke-width="1.00" opacity="0.50"/><path d="M168.5 500.7h0m.1 15.5h0m.1-18.5h0m.1-4.7h0m0 4.4h0m0 13h0m.1-25.2h0m0 1.4h0m.1-5.1h0m.1 7.5h0m.1 6.6h0m0 3.8h0m0 8.1h0m.1-18.6h0m0 6.2h0m.1 4.1h0m0 10.5h0m0 8.5h0m.1-26.3h0m.1 14.4h0m0 3.9h0m.1-22.9h0m0 10.1h0m0 3.1h0m.1-4.2h0m.1 .9h0m0 8.9h0m0 0h0m.1 .1h0m.1-2.8h0m.2-19.9h0m0 14h0m0 .5h0m.2-.6h0m0 5.2h0m0 21.5h0m.1-15.1h0m0 1.5h0m0 4.8h0m0 5.9h0m.1-30.5h0m0 .3h0m0 2.1h0m0 14.5h0m.1-32.4h0m0 17.2h0m.1 5h0m0 1.6h0m0 6.7h0m0 5.1h0m.1-17.5h0m0 12h0m0 3.6h0m.1-19.4h0m0 31.1h0m.1-23.4h0m0 7.1h0m0 13.1h0m.1-16.8h0m.1-8.6h0m0 6.1h0m0 16.9h0m0 3.8h0m.2-33.2h0m0 7.6h0m0 20.5h0m.1-25h0m0 10.3h0m0 .7h0m0 2.2h0m.1-8.1h0m.2 .7h0m.1 1.8h0m0 4.5h0m0 4.8h0m0 5.8h0m.1-6.8h0m0 11.8h0m.1-26.3h0m0 17.7h0m0 10.1h0m.1-2.6h0m.1-36.2h0m0 26h0m0 0h0m0 5.8h0m0 6.5h0m.1-32.6h0m0 4.1h0m0 .1h0m0 25.7h0m0 .6h0m.1-24.2h0m0 18.6h0m0 2.8h0m.1-33.8h0m0 24.3h0m0 1.9h0m0 24.6h0m.1-27.8h0m0 12.2h0m.1-17.6h0m.1-2.5h0m0 2.1h0m0 10h0m0 4.1h0m.1-15.2h0m0 11.3h0m.1-1.9h0m.1-17.6h0m0 2.5h0m0 15.8h0m0 3.8h0m.1-26.7h0m0 30.9h0m.1-32.6h0m0 6.8h0m0 9.6h0m0 6.3h0m.1-26.2h0m0 11.9h0m0 12.2h0m0 4.4h0m0 1.7h0m.1-33.6h0m0 23.4h0m0 3.3h0m0 3.7h0m0 6.1h0m.1-11.5h0m0 9.6h0m.1-32h0m0 8.4h0m0 11.1h0m0 4.6h0m0 2.3h0m0 1.5h0m.1-16.6h0m0 2.5h0m0 19.4h0m.1-19.8h0m0 15.3h0m.1-6.9h0m0 .5h0m0 9.3h0m.1-1.4h0m0 1.3h0m.1-22.3h0m0 9.2h0m0 1.5h0m.1-7.9h0m0 2.3h0m0 9h0m0 1h0m0 6.7h0m.1-19h0m0 17.9h0m.1-9.3h0m.1-6.2h0m0 4.2h0m0 6.6h0m.1-21.1h0m.1 13h0m0 1.1h0m.1-14.5h0m.1-10.1h0m0 22h0m.1 18.6h0m.1-21.9h0m0 15.3h0m.1-5.4h0m0 7.5h0m.1-31.1h0m0 27.1h0m0 4.7h0m.1-28.9h0m0 13.5h0m0 6.4h0m0 2.2h0m0 .6h0m0 2.3h0m0 1.5h0m.1-11.6h0m0 32.8h0m.1-42.5h0m0 27h0m.1-15.5h0m0 3.8h0m0 19.4h0m.1-24.6h0m0 4.3h0m0 .8h0m0 4h0m0 2.1h0m0 .8h0m.1-17.1h0m0 27.9h0m0 9h0m.1-37.7h0m0 17.3h0m.1-19.7h0m0 13.9h0m0 2.9h0m.1-9.8h0m.1-3.4h0m0 4.6h0m0 2.4h0m0 .4h0m0 1.5h0m0 5h0m0 .6h0m0 5.6h0m.1-23.5h0m0 13.2h0m.1-8.5h0m0 4.5h0m0 .8h0m0 3.7h0m0 10.6h0m.1-22h0m0 7.2h0m0 2.1h0m0 1.5h0m0 1h0m0 2.9h0m.1-6.4h0m0 5.1h0m0 10h0m0 2.2h0m0 17.9h0m.1-37.8h0m0 12.4h0m0 1.5h0m.1-20.2h0m0 4.1h0m0 5.9h0m0 .6h0m0 7.3h0m0 5.2h0m.1-23.2h0m0 9.2h0m0 3.8h0m.1 1h0m0 1.7h0m.1-17h0m0 6h0m0 4h0m0 .7h0m0 10.2h0m0 4h0m.1-19.4h0m0 6h0m0 5h0m.1-8.1h0m0 7.9h0m.1-16.6h0m0 5.2h0m0 .1h0m0 2.8h0m0 6.4h0m.1-7.6h0m0 2.6h0m0 3.9h0m0 15h0m.1-30.7h0m0 5h0m0 4.2h0m0 6.1h0m0 .1h0m0 .6h0m0 1.3h0m0 6.9h0m.1-12.4h0m.1 31.6h0m.1-34.2h0m0 .9h0m0 9.5h0m0 1.5h0m.1-13.1h0m0 1.9h0m0 3.1h0m0 3.9h0m.1-23h0m0 17.4h0m0 20.6h0m.1-35.3h0m0 2h0m0 2.1h0m0 .5h0m0 4.7h0m0 .1h0m0 16.9h0m.1 7.2h0m.1-26.1h0m0 8.6h0m0 12.7h0m0 12.1h0m.1-42.3h0m0 25h0m.1-18.1h0m.1 9.8h0m0 11.9h0m.1-20h0m0 11.1h0m0 4.9h0m0 3.4h0m.1-28.7h0m0 6.2h0m0 11.1h0m0 2.3h0m.1-21.2h0m0 20.5h0m0 .1h0m0 4.9h0m.1-25.5h0m0 3.7h0m0 17.6h0m0 5.7h0m.1-25h0m0 5h0m0 27.9h0m.1-44.6h0m0 41.2h0m.1-8.2h0m0 5.9h0m0 9.3h0m.1-42.1h0m0 18.8h0m0 12.3h0m.1-18.7h0m0 25h0m.1-15.3h0m0 1.4h0m0 1.3h0m0 6.8h0m0 6.8h0m.1-11.1h0m.1-14.8h0m0 15h0m0 18.7h0m.1-30h0m0 3.5h0m0 9.7h0m0 13.4h0m.1-24.2h0m.1 10.7h0m0 1.8h0m.1-.3h0m0 6.7h0m.3-17.8h0m0 2.8h0m.2 .1h0m0 11.7h0m.1-29.3h0m0 11.6h0m0 14.7h0m.1-11.1h0m0 3.1h0m0 2.9h0m0 1.5h0m0 4.3h0m.1-21.9h0m.1-6.9h0m.1 14.1h0m0 15h0m0 4h0m.1-3.8h0m.1-17.4h0m0 6.3h0m0 1.3h0m0 3.1h0m0 9.2h0m0 10.2h0m.1-1.6h0m.1-45.5h0m0 1.7h0m0 13.8h0m0 16.6h0m0 .4h0m0 20.5h0m.1-43.2h0m0 10.4h0m0 2.1h0m0 7.3h0m0 12.6h0m.1-31.8h0m0 26.8h0m.1-23.1h0m.1 .6h0m0 1.8h0m0 10.5h0m0 1.6h0m0 5.7h0m0 2.9h0m.1-3.6h0m0 1.8h0m0 1h0m0 3h0m.1-16h0m0 10.9h0m.2-21.6h0m0 10.5h0m.1-6h0m0 .2h0m0 6.1h0m0 1h0m0 8.5h0m.1-26.9h0m0 14.4h0m0 6h0m0 11.1h0m.1-12.5h0m0 15.8h0m.1-28.6h0m0 42.6h0m.1-32.4h0m0 1.3h0m0 5.8h0m0 5.2h0m.1 21.5h0m.1-26.8h0m0 3.3h0m.1-2.5h0m.1-4h0m.1-2.7h0m0 1.4h0m0 9.5h0m0 2.7h0m.3-3.5h0m0 12h0m.1-27.8h0m0 1.9h0m0 4.6h0m0 11.9h0m0 12.4h0m.1-25.9h0m0 7.9h0m.1-4.2h0m.1-8h0m0 13.2h0m.1-12.3h0m0 5.7h0m0 9h0m0 .2h0m0 6.5h0m.1-22.7h0m.2 5.2h0m0 8.7h0m0 2.1h0m.1-17.6h0m0 22.2h0m.2-8.7h0m0 15.8h0m.1-22.2h0m0 2.6h0m.1-21.6h0m0 30.4h0m0 5.2h0m.2-27.1h0m0 1.9h0m0 10.8h0m0 .6h0m0 7.7h0m.2-20.1h0m0 3.8h0m0 17.9h0m.2-20.8h0m.1 8.9h0m0 2.9h0m.1-.8h0m.1-9.7h0m0 2h0m0 18h0m.1-24.2h0m0 22.7h0m.1-15.9h0m0 7.5h0m.1 7.5h0m.1-22.2h0m0 20.2h0m.1-30.2h0m.1 8h0m0 10.7h0m0 5.3h0m.1-3h0m0 2.8h0m0 12.4h0m0 12.8h0m.1-43.8h0m0 6.9h0m.1 11.7h0m0 11.2h0m.1-4.7h0m.2-12.1h0m0 5.3h0m0 7.3h0m.2-1.8h0m0 1.2h0m0 2.8h0m.4 3.9h0m.1-13.5h0m0 .7h0m0 17.6h0m.1-31.9h0m.1 24h0m.6-17.7h0m.1 2.9h0m.3-4.4h0m.1-6.4h0m0 16.6h0m.1 5.4h0m.1 7.1h0m.6-2h0m.6-3.9h0m.1-18.2h0m.3 .9h0m.1 16.7h0m.6-12h0m.5-13.1h0m.2 19.9h0m3.1-33.2h0m.1 28.6h0m.2 4.5h0m.8-17.6h0m2.9 12.7h0m1.8 3.2h0m.3-1.2h0" stroke="#1f93b0" stroke-width="1.00" opacity="0.65"/><ellipse cx="175.5" cy="498.5" rx="14.0" ry="24.0" transform="rotate(10 175.5 498.5)" fill="url(#gC)" filter="url(#grain)"/><path d="M168.6 479.5h0m.1 41.5h0m.3-.3h0m.2-3.3h0m.3-30.5h0m0 33.3h0m.3-44.4h0m.1 43.4h0m.2 4.9h0m.3-9.2h0m.2-36.3h0m.5 3.7h0m.1 34.5h0m.2-38.5h0m.5 42h0m.6-2h0m.2 .4h0m.1-41.1h0m.2-3.1h0m.3 45.1h0m.3-41.8h0m.1 1.9h0m.3 35.8h0m.8-34h0m0 39.5h0m.2-46.3h0m0 5.9h0m.1-1.7h0m.3-4h0m.5 3.1h0m.5-3.8h0m0 .9h0m.3 42h0m0 3.6h0m.1-46.3h0m.7 6.5h0m.2-.9h0m0 43.7h0m.2-51.2h0m.2 7.6h0m.1 43.3h0m.2-44.2h0m0 .1h0m.3-2.3h0m0 38.7h0m0 1.7h0m.1-2h0m0 7.4h0m.4-44.2h0m.2-3.6h0m0 47.8h0m.2-.8h0m.5-9.1h0m.2-39h0m.6 43.6h0m.1 3.3h0m.2-47.6h0m.1 40.5h0m.1 .4h0m.2-39.8h0m0 37.3h0m0 5.1h0m.3-41.8h0m.1 36.9h0m.2 2.1h0m.3-41.2h0m.4 36.4h0m.3 9.8h0m.2-37h0m0 27.6h0m.1 .3h0m0 .6h0m.1-34.3h0m0 33.2h0m.1 8h0m.1-40h0m0 1.9h0m0 1.3h0m.2-3.8h0m.1 .9h0m.2-.4h0m0 29h0m.1-30.8h0m0 38.3h0m0 1h0m.2-6.8h0m.5-31.2h0m0 32.3h0m.1-7.3h0m.1-18.7h0m.1-.5h0m.1 24h0m0 4h0m.2-9.5h0m0 2.3h0m.1-20.6h0m.2 6.4h0m.1 14.4h0m.2-9.9h0m.1 10.3h0m.1-15.5h0m0 21.4h0m.2-13h0m0 14.5h0m.2-28.9h0m0 7h0m.1-.3h0m0 8.9h0m.1 6.9h0m.1 1.4h0m.1-26.7h0m0 12.8h0m0 2h0m0 4.8h0m0 1.5h0m0 5.1h0m.1-28.9h0m.3 10.6h0m0 11.8h0m.1-20.2h0m.1 5h0m0 4.2h0m.1-1h0m0 18.3h0m.1-22.3h0m.1 14.9h0m.3 10.2h0m.2-12.4h0m.1-8.1h0m.1 2.3h0m.2-6.8h0m.2 3.2h0m.1 3.7h0m0 10.5h0m.1-3.1h0m.1-15.2h0m0 9.3h0m0 12.8h0m.3-19.6h0m.1 4.7h0m.2 9.2h0m.1-13.5h0m.2 16.7h0m.1-8.3h0m.3-7.2h0m.2 3.9h0m.4-.1h0" stroke="#17809c" stroke-width="1.00" opacity="0.50"/><path d="M168.4 544.8h0m.1-26.7h0m0 9.1h0m.1 27.8h0m0 6.4h0m.1-47h0m0 34.7h0m0 .6h0m0 3.2h0m.1-27.2h0m0 36.5h0m.1-27.8h0m0 23.7h0m0 2.1h0m0 2.7h0m.1-5h0m.1-25.1h0m0 33.6h0m.1-15.6h0m0 12h0m.1-35.6h0m0 1.6h0m0 33.2h0m.1-14.5h0m0 3.7h0m.1-25.2h0m0 24.4h0m0 6.2h0m0 8.4h0m.1-41.2h0m0 25.4h0m0 23.2h0m.1-48.8h0m0 2.1h0m0 9.5h0m0 4.1h0m0 19.6h0m0 10.5h0m.1-12.9h0m0 1.2h0m0 .8h0m0 9.7h0m.1-40h0m0 15.3h0m0 2.8h0m0 6h0m.1-13.8h0m.1-7.2h0m0 14.9h0m0 5.4h0m0 9.3h0m0 .4h0m0 13.8h0m.1-38.9h0m.1 9h0m0 11.1h0m0 6.2h0m0 4.5h0m.1-52.3h0m0 3.8h0m0 3.3h0m0 23.9h0m0 22.7h0m.1-39.3h0m0 18.8h0m0 13.6h0m0 .7h0m.1-55.9h0m0 39.5h0m0 .9h0m0 4.2h0m0 11.1h0m0 8h0m.1-42.8h0m0 5.6h0m0 1.1h0m.1-1.6h0m0 12.3h0m0 6.9h0m0 16.8h0m.1-35.5h0m0 15.1h0m0 3.3h0m.1-40.6h0m0 20.9h0m0 11.2h0m.1 15.9h0m.1-15.2h0m0 9.6h0m0 2.3h0m.1-43.1h0m0 21.1h0m0 1.4h0m0 17.2h0m0 4.9h0m0 9.1h0m.1-39.7h0m0 13.2h0m0 4.4h0m0 6.8h0m0 16.3h0m0 1.2h0m0 3.7h0m.1-11.4h0m.1-42.2h0m0 17.2h0m0 2.3h0m0 8.9h0m0 10.2h0m.1-37.1h0m.1 39.7h0m0 6.6h0m0 3.4h0m.1-20.6h0m0 6.4h0m0 4h0m0 .1h0m.1-24.1h0m0 1.9h0m0 9.6h0m0 4.5h0m.1-27.8h0m0 15.8h0m0 13.7h0m0 5.3h0m.1-47h0m0 16.7h0m0 10.4h0m0 7h0m.1 6.4h0m0 1.8h0m.1-19.2h0m0 16.9h0m0 8.2h0m0 .9h0m0 15.7h0m.1-24.9h0m0 5.2h0m.1-40.9h0m0 6.1h0m0 21.5h0m0 5.9h0m0 2.7h0m0 4.6h0m0 9.3h0m.1-44.9h0m0 38.9h0m.1-35.3h0m0 14.8h0m0 1.1h0m0 6.4h0m0 13.1h0m0 .8h0m.1-28.5h0m0 1.2h0m0 2.1h0m0 6.8h0m0 6.4h0m.1-21.5h0m0 1.5h0m0 11.4h0m0 6h0m0 11.2h0m0 13h0m.1-35.6h0m0 20.3h0m0 1.7h0m0 3.3h0m0 10.5h0m.1-35.8h0m0 12.8h0m0 13.5h0m0 1.3h0m.1-28.2h0m0 4.5h0m0 .2h0m0 4.5h0m.1-20.6h0m0 6.2h0m0 45.5h0m.1-16.8h0m0 11.3h0m0 3.7h0m.1-39.4h0m0 29.7h0m.1-36.5h0m0 3.5h0m0 13.8h0m0 3.3h0m0 7.9h0m.1-26.9h0m0 17.1h0m0 1.4h0m0 4.1h0m0 6.8h0m.1-19.8h0m0 21.6h0m0 15h0m.1-52.7h0m0 20.1h0m0 11.5h0m0 1.3h0m0 4.8h0m0 .1h0m.1-31.5h0m0 10.1h0m0 3.6h0m0 1h0m0 1.4h0m0 4.7h0m0 27.6h0m.1-53.1h0m0 23h0m0 5.2h0m0 8h0m0 8.2h0m.1-52.5h0m0 3.5h0m0 17.3h0m0 .2h0m0 6.7h0m0 6.9h0m0 1.6h0m0 3.3h0m.1 6.7h0m0 1.4h0m.1-10.7h0m.1-13.4h0m0 8.8h0m0 2.5h0m0 4.9h0m0 14.1h0m.1-43.1h0m0 3h0m0 5.3h0m0 11.7h0m0 6.7h0m0 1.6h0m.1-15.7h0m0 3.3h0m0 4.3h0m0 1.9h0m0 20.2h0m.1-40.1h0m0 13.2h0m0 19.2h0m.1-31h0m0 9.7h0m0 .9h0m0 .8h0m0 1.6h0m0 12.1h0m0 5.3h0m0 1h0m.1-49.8h0m0 22.1h0m0 10.4h0m0 3.2h0m0 1.8h0m0 2.1h0m0 3h0m0 1.5h0m0 1.4h0m0 .5h0m0 .3h0m0 8h0m0 1.9h0m0 1.8h0m.1-33.3h0m0 10.9h0m0 5.7h0m0 6.5h0m0 .3h0m0 7.2h0m0 1.8h0m0 6.5h0m.1-41.2h0m0 6.2h0m0 7.6h0m0 12.7h0m0 .9h0m.1-33.6h0m0 26.5h0m0 17.8h0m.1-42.6h0m0 1.6h0m0 1.9h0m0 9.9h0m0 .3h0m0 .5h0m0 12.7h0m0 4.9h0m0 4.5h0m0 8.5h0m.1-41.1h0m0 10.6h0m0 9.2h0m0 14.9h0m0 8.7h0m.1-53.6h0m0 17.9h0m0 15h0m0 14.6h0m.1-50.3h0m0 1.2h0m0 16.4h0m0 3h0m0 4.7h0m0 22.1h0m.1-53h0m0 12.3h0m0 3.4h0m0 .7h0m0 22.6h0m0 1.8h0m0 5.8h0m0 10.5h0m.1-34.4h0m0 14.8h0m0 7.2h0m0 3.4h0m0 13.4h0m.1-53.3h0m0 11.4h0m0 20.1h0m0 10.2h0m.1-35.3h0m0 .7h0m0 12.8h0m0 3.4h0m.1-8.2h0m0 8.1h0m0 1.6h0m0 .8h0m0 1.9h0m0 11.3h0m0 .1h0m0 14.4h0m.1-48.8h0m0 23.1h0m0 4.7h0m.1-15.3h0m0 9.8h0m0 26h0m.1-47.7h0m0 1h0m0 15.3h0m0 5.5h0m0 10.7h0m0 5.1h0m0 6.4h0m0 2.3h0m.1-31.8h0m0 .9h0m0 7.4h0m0 1h0m0 18.8h0m.1-36.1h0m.1 5.1h0m0 2.2h0m0 4.7h0m0 15.9h0m.1-28.7h0m0 1.1h0m0 3.2h0m0 6.2h0m0 1.7h0m0 29.8h0m.1-46.7h0m0 11.3h0m0 1.1h0m0 1.5h0m0 18.9h0m0 2.5h0m0 .5h0m0 10.9h0m.1-21.3h0m0 2.8h0m.1-25.7h0m0 11.9h0m0 1.8h0m0 7.6h0m0 .5h0m0 8.5h0m0 14.3h0m.1-56.4h0m0 14h0m0 2.3h0m0 6.7h0m0 10h0m0 .2h0m0 1.7h0m.1-35.3h0m0 3.5h0m0 17.1h0m0 2.1h0m0 16h0m0 1h0m0 .2h0m.1-29.8h0m0 1.7h0m0 21.7h0m0 13.5h0m.1-49.3h0m0 2.1h0m0 26.9h0m0 18.4h0m0 3.3h0m.1-64.5h0m0 5.7h0m0 24.6h0m0 5h0m0 6.9h0m0 2.9h0m0 5.9h0m0 .8h0m0 16.4h0m0 .4h0m.1-71.2h0m0 15.6h0m0 20.4h0m0 13.2h0m0 6.5h0m0 .2h0m0 .7h0m0 1.3h0m0 18.1h0m.1-30.2h0m0 4.3h0m0 4.1h0m0 .5h0m0 1.2h0m0 10.4h0m0 2.9h0m.1-43.1h0m0 5.8h0m0 3.2h0m0 13.7h0m0 4.4h0m0 6.7h0m.1-24.1h0m0 10.8h0m0 .8h0m0 11.4h0m.1-43.8h0m0 21.1h0m0 12.5h0m0 3.3h0m0 8.6h0m0 1.6h0m0 .6h0m0 1.8h0m0 1h0m0 1h0m.1-44.3h0m0 11.3h0m0 24.6h0m0 3.5h0m0 2.4h0m0 .1h0m0 6.1h0m0 1.5h0m.1-20.3h0m0 12.1h0m.1-47.1h0m0 8.1h0m0 5.8h0m0 5h0m0 2.3h0m0 13.2h0m0 .2h0m0 5.9h0m.1-62.9h0m0 31.4h0m0 1.5h0m0 19h0m0 7h0m0 7.5h0m.1-34.1h0m0 2h0m0 4.8h0m0 6.4h0m0 4.8h0m0 7.3h0m0 11h0m.1-30.2h0m0 1.8h0m0 19.5h0m0 4.3h0m0 8.7h0m.1-48.2h0m0 15.7h0m0 7.1h0m0 16.1h0m0 14.8h0m.1-32.4h0m0 12.7h0m0 4.8h0m0 6.5h0m.1-41.3h0m0 27.8h0m0 12.5h0m.1-28.6h0m.1-28.1h0m0 17.9h0m0 2.1h0m0 4.3h0m0 20.9h0m0 2.4h0m0 8.2h0m0 1h0m.1-52.8h0m0 30.1h0m0 3.2h0m0 .4h0m0 10.8h0m0 8.8h0m.1-27.7h0m0 31.3h0m.1-37.2h0m0 17.4h0m0 1.8h0m0 9.9h0m0 5.2h0m0 .9h0m.1-38.9h0m0 8.8h0m0 3.1h0m0 7.4h0m0 3.1h0m0 7.4h0m.1-48.1h0m0 30.3h0m0 3.9h0m0 9.3h0m0 .1h0m0 9.5h0m0 11.8h0m.1-44.3h0m0 5.8h0m0 3.1h0m0 5.7h0m0 .5h0m0 1h0m0 .2h0m0 2.1h0m0 5.2h0m.1-3.4h0m0 8.2h0m0 .8h0m0 3h0m0 6.4h0m.1-38.2h0m0 7.2h0m0 8.1h0m0 4.6h0m0 .9h0m0 3.9h0m0 14.5h0m.1-44.1h0m0 .5h0m0 2.5h0m0 9h0m0 3.5h0m0 19.9h0m.1-46.5h0m0 9.7h0m0 5.8h0m0 3.5h0m0 15.4h0m0 3.4h0m0 22.6h0m.1-23.4h0m0 2.3h0m0 10.1h0m0 8.5h0m.1-40.6h0m0 33.9h0m.1-24.5h0m0 8h0m0 1h0m0 13.5h0m0 9.1h0m.1-57.9h0m0 9.9h0m0 .2h0m0 8.6h0m0 8.1h0m0 4.9h0m0 21.7h0m0 1.4h0m.1-42.9h0m0 4.2h0m0 9.2h0m0 1.6h0m0 2h0m0 11.6h0m0 6.5h0m0 13.3h0m.1-41.9h0m0 3h0m0 .4h0m0 11.6h0m0 7.8h0m.1-26.9h0m0 11.9h0m0 3.3h0m0 1.4h0m0 4h0m0 2.5h0m0 1.8h0m0 7.2h0m0 10.9h0m.1-68.2h0m0 4.3h0m0 10.2h0m0 7.1h0m0 16.3h0m0 3.1h0m0 6.2h0m0 .2h0m0 3.8h0m0 6.2h0m0 .5h0m0 2.6h0m0 2.9h0m0 .5h0m0 7.6h0m.1-44.2h0m0 .4h0m0 3h0m0 .3h0m0 21.2h0m0 1.7h0m0 9h0m0 2.4h0m.1-62.1h0m0 20.6h0m0 5.1h0m0 .6h0m0 8.8h0m0 1.8h0m0 3.6h0m0 2h0m0 .6h0m0 .3h0m.1-19.9h0m0 9.2h0m0 .7h0m0 16.6h0m.1-23.4h0m0 10.8h0m0 .2h0m0 12.2h0m0 7.5h0m.1-35.8h0m0 1h0m0 8.4h0m0 8.1h0m0 5.3h0m0 7h0m0 4.4h0m.1-37.7h0m0 9.1h0m0 .1h0m0 17.1h0m0 8.5h0m.1-43.7h0m0 22.7h0m0 3h0m0 1.2h0m.1 3.5h0m0 .4h0m0 1.3h0m.1-11.2h0m0 11.2h0m0 12.3h0m0 .7h0m0 2.2h0m0 1.2h0m0 3.1h0m.1-30.6h0m0 12.9h0m0 .8h0m0 15.8h0m.1-29.3h0m0 .7h0m0 19.3h0m0 1h0m0 2.4h0m0 7.6h0m.1-46.2h0m0 21.2h0m.1-20.6h0m0 7.5h0m0 16.6h0m0 3.2h0m0 7h0m0 .1h0m.1-1.1h0m0 14.4h0m0 2.5h0m.1-61.4h0m0 4.3h0m0 23.7h0m0 .9h0m0 13.9h0m0 3.8h0m0 4.1h0m0 7h0m.1-59.2h0m0 13.7h0m0 10.2h0m0 2.6h0m0 2.8h0m0 18.7h0m0 7.1h0m0 11.3h0m.1-69.2h0m0 13.7h0m0 12.2h0m0 .5h0m0 7.8h0m0 5.8h0m0 1.9h0m0 .8h0m0 3.8h0m0 .3h0m0 0h0m0 4.6h0m0 3.2h0m0 11h0m.1-48.6h0m0 13.8h0m0 4.8h0m0 1.1h0m0 3.9h0m0 2.7h0m0 3h0m0 1.3h0m0 1.5h0m0 6.7h0m0 .1h0m0 2.9h0m.1-54.4h0m0 19.4h0m0 12.6h0m0 3.8h0m0 5.5h0m.1-21.7h0m0 5.5h0m0 6.5h0m0 6.9h0m0 2.1h0m0 8.1h0m.1-35.2h0m0 7.3h0m0 6.8h0m0 18h0m0 1.9h0m0 6.8h0m.1-32.4h0m0 4.6h0m0 25.9h0m.1-47.2h0m0 14.2h0m0 .3h0m0 23.8h0m0 8.4h0m0 .7h0m.1-29.9h0m0 4.7h0m0 4.9h0m0 29h0m0 3.1h0m.1-62h0m0 29h0m0 8.4h0m0 6.2h0m0 4h0m0 3.9h0m.1-34.2h0m0 .2h0m0 9.7h0m0 .7h0m0 8.1h0m0 1.4h0m0 2.3h0m0 .4h0m.1-42.2h0m0 27.5h0m0 12.2h0m0 12.7h0m0 .2h0m0 12.4h0m.1-42.3h0m0 5h0m0 .3h0m0 .4h0m0 9h0m0 14.3h0m0 4.5h0m.1-45.9h0m0 18.9h0m0 15.1h0m0 3.7h0m0 .9h0m.1-52.4h0m0 16.2h0m0 14.4h0m0 4.6h0m0 2.8h0m0 1.3h0m.1-23.1h0m0 9.8h0m0 21h0m0 5.6h0m0 14.4h0m.1-66.9h0m0 10.3h0m0 1.4h0m0 9.9h0m0 1h0m0 22.4h0m0 11.4h0m0 3.5h0m.1-42.7h0m0 11.1h0m0 1.8h0m0 4.6h0m0 .8h0m0 3h0m0 13.3h0m0 9.4h0m0 2.7h0m0 1.3h0m.1-23.4h0m0 6.8h0m0 .3h0m0 12.3h0m.1-35.2h0m0 4.8h0m0 3.7h0m0 11.2h0m0 16.6h0m.1-44.1h0m0 1.2h0m0 29.4h0m0 6.5h0m0 .1h0m0 6.4h0m0 3.9h0m.1-55.1h0m0 33.4h0m0 1.9h0m0 2.7h0m0 0h0m.1-29.7h0m0 25.4h0m0 4.3h0m0 .5h0m0 .7h0m0 18.5h0m.1-40.1h0m0 3.2h0m0 6.6h0m0 7.5h0m0 19.2h0m0 5h0m.1-44.3h0m0 8.9h0m0 10.6h0m0 .5h0m0 18.6h0m0 4.8h0m.1-54.1h0m0 15h0m0 5.3h0m0 7.6h0m0 8.3h0m.1-21.8h0m0 5.8h0m0 9.3h0m0 4.3h0m0 11.1h0m0 1.9h0m.1-60.4h0m0 24.9h0m0 3.9h0m0 11.6h0m0 9.8h0m.1-53.8h0m0 9.2h0m0 4.3h0m0 8.3h0m0 4h0m0 18.6h0m0 3.6h0m0 2.2h0m0 2.7h0m0 1.7h0m0 .5h0m0 4.1h0m0 9.5h0m.1-86.3h0m0 33.9h0m0 13.3h0m0 9.1h0m0 2.2h0m0 10.6h0m0 5.9h0m0 7.8h0m.1-32.6h0m0 .8h0m0 4.1h0m0 .8h0m0 7.7h0m0 14.4h0m.1-40.1h0m0 5.9h0m0 1.3h0m0 18.4h0m0 2h0m0 1h0m0 6.9h0m0 2.3h0m0 7.8h0m0 1.6h0m.1-25.5h0m0 17.7h0m.1-13.4h0m0 3.2h0m0 1.7h0m0 16.8h0m0 0h0m.1-43.1h0m0 .2h0m0 4.9h0m0 .3h0m0 8.3h0m0 3.6h0m0 .5h0m0 13.1h0m0 10.7h0m.1-48.5h0m0 27.5h0m0 6.1h0m0 2.8h0m0 1.8h0m0 1.3h0m0 .1h0m.1-48.8h0m0 25.4h0m0 3.1h0m0 1.1h0m0 .7h0m0 4.2h0m0 5.2h0m0 3h0m0 3.4h0m.1-5.7h0m.1-31.7h0m0 6.5h0m0 12.5h0m0 2h0m0 .6h0m0 7.4h0m0 .8h0m.1-24.8h0m0 4.1h0m0 13.6h0m0 9.3h0m0 15.2h0m0 4.3h0m.1-34h0m0 .8h0m0 5.6h0m0 4h0m0 .3h0m0 2.7h0m0 .8h0m0 9.3h0m0 2.5h0m.1-57.4h0m0 33.5h0m0 26.9h0m.1-24h0m0 .9h0m0 2.7h0m0 13.7h0m.1-30.9h0m0 5.8h0m0 12.4h0m0 11.7h0m.1-42.8h0m0 15.4h0m0 15h0m0 7h0m0 6.5h0m0 1.7h0m0 6.1h0m.1-44.3h0m0 .3h0m0 7.2h0m0 3.5h0m0 7.3h0m.1-29.9h0m0 17.1h0m0 3.5h0m0 .6h0m0 7h0m0 9.5h0m0 3.5h0m.1-32.4h0m0 29.3h0m0 10.2h0m0 11h0m0 3.7h0m.1-24.9h0m0 14.3h0m.1-42h0m0 5.8h0m0 6.2h0m0 14.8h0m0 1.1h0m0 13.4h0m0 .1h0m.1-46.6h0m0 24.5h0m0 10.3h0m.1-28.1h0m0 5.4h0m0 .2h0m.1 9.4h0m0 7.4h0m0 11.5h0m0 16.1h0m.1-45.4h0m0 6.1h0m0 .6h0m0 .6h0m.1-16.6h0m0 2.8h0m0 8.2h0m0 9.3h0m0 13.2h0m0 4h0m.1-21.5h0m0 12.9h0m.1-11.2h0m0 .8h0m0 15.3h0m0 1.6h0m.1-31.1h0m0 18.1h0m0 5.4h0m0 5.9h0m.1-14.8h0m0 3.8h0m0 7.7h0m.1-25.8h0m0 6.9h0m0 4.7h0m0 1.3h0m0 4.9h0m0 11.2h0m0 1h0m0 12.4h0m0 4.8h0m.1-66h0m0 38.4h0m0 .1h0m0 .2h0m0 7.7h0m0 18.8h0m0 2.8h0m.1-56.6h0m0 30h0m0 .5h0m0 3.1h0m0 2.4h0m0 .2h0m0 12.1h0m.1-59.8h0m0 29.9h0m0 8.6h0m0 21.8h0m.1-45.8h0m0 11.4h0m0 6.4h0m0 2.6h0m0 .1h0m0 9.6h0m.1-.3h0m0 2.8h0m0 11.3h0m.1-49.9h0m0 .3h0m0 5.2h0m0 7.6h0m0 8.8h0m0 4.1h0m0 2.6h0m0 3.2h0m0 3.9h0m0 .5h0m0 3.5h0m0 6.5h0m.1-24h0m0 4.7h0m0 13.8h0m0 2.5h0m0 7.1h0m0 4.9h0m.1-39.3h0m0 18.1h0m.1-36.2h0m0 1.7h0m0 23h0m0 11.6h0m0 16.5h0m0 .5h0m.1-57.4h0m0 28.2h0m0 1.8h0m0 7.1h0m0 7.3h0m0 18.5h0m.1-35.8h0m0 18h0m0 4.6h0m0 5.4h0m.1-31.1h0m0 5.4h0m0 3.9h0m0 .5h0m0 0h0m0 8.9h0m0 7.8h0m.1-13.9h0m.1-28h0m0 21.9h0m0 11.5h0m.2-22.8h0m0 15.5h0m0 2.4h0m0 .3h0m.1 2.3h0m0 17h0m.1-54.7h0m0 2.1h0m0 5h0m0 30.8h0m.1-26.2h0m0 11.1h0m0 10.1h0m0 10.8h0m0 .5h0m0 6.7h0m.1-46.9h0m0 14.7h0m0 11.3h0m0 1.6h0m0 7.4h0m.1-24.6h0m0 15.2h0m0 6.6h0m0 9.2h0m0 5.3h0m.1-24.6h0m0 8.7h0m0 8.3h0m0 7.4h0m0 10.7h0m.1-14.3h0m.1-34.6h0m0 5.8h0m0 13.8h0m0 3.5h0m0 .1h0m0 16.2h0m0 10.7h0m0 2.8h0m.1-37.6h0m0 2.1h0m0 6.2h0m0 7.8h0m0 .7h0m0 6.9h0m0 7.1h0m.1-25.3h0m0 8h0m0 19.8h0m.1-48.3h0m0 1.1h0m0 5h0m0 11.1h0m0 18.1h0m.1-20h0m0 3.3h0m0 .8h0m0 11.8h0m.1-25.3h0m0 7.4h0m0 6.4h0m0 13h0m.1-11.7h0m.1-11.3h0m0 4.4h0m0 15.2h0m0 4h0m.1-18.9h0m0 6.9h0m0 7.9h0m.1 5.4h0m0 6.6h0m.2-67.8h0m0 45.4h0m0 19.9h0m.1-31.2h0m0 3.4h0m0 11.9h0m0 .3h0m0 21.2h0m0 .2h0m.1-27.2h0m0 19.7h0m0 2h0m0 12.2h0m.2-28.1h0m0 3.3h0m0 1.6h0m0 1.2h0m0 14.8h0m0 1.2h0m.1-31.8h0m0 4h0m0 6.9h0m0 11.7h0m0 5.5h0m.1-41.4h0m0 13.3h0m0 6.5h0m0 5.2h0m.1-32.6h0m0 34.4h0m0 1.2h0m.1 .3h0m.1-21h0m.1 0h0m0 9.9h0m0 27.1h0m.1-43.8h0m0 17.2h0m0 11.2h0m0 1.8h0m0 2.9h0m.1-1h0m.1-18.4h0m0 14.1h0m0 2.9h0m0 8.9h0m.1-31.3h0m0 8.3h0m0 2.8h0m0 .5h0m0 6.4h0m.1-3.3h0m0 8.2h0m.1 1.6h0m.1-13.3h0m0 2h0m.1-7.1h0m0 2.3h0m0 17.9h0m0 17.3h0m.1-43.9h0m0 16h0m0 15h0m.1-16.2h0m0 18.3h0m.1-28.1h0m0 12.6h0m0 7.3h0m0 9.6h0m0 .9h0m0 8.1h0m.1-54.9h0m0 14.8h0m0 8h0m0 3.1h0m.1-2.8h0m0 2.8h0m0 .6h0m0 8h0m0 3h0m0 7.7h0m.1-41.7h0m0 35.6h0m0 1.5h0m.1-18.5h0m0 1.8h0m.1-23.1h0m0 11.6h0m0 2.8h0m0 1.1h0m0 29h0m.2-30.2h0m0 .8h0m0 1h0m0 9.8h0m.1 12h0m.1-30.2h0m0 9.1h0m0 8.2h0m0 5.7h0m0 1h0m0 1.1h0m0 3.5h0m0 4.5h0m.2-14.5h0m0 3.2h0m0 13.4h0m.1-37.3h0m0 26.7h0m0 22.1h0m.1-43.3h0m0 9.4h0m.1-15.6h0m0 18.5h0m0 7h0m.1-14.8h0m.1 6.4h0m0 9.9h0m0 4.8h0m.1-22h0m0 3.7h0m0 8.1h0m0 12h0m.1-21.6h0m0 3.6h0m.2-8.2h0m0 6.1h0m0 6.9h0m.1-14.4h0m0 22.4h0m.1-32.3h0m0 8.1h0m.1-23h0m0 27.8h0m0 .1h0m0 14.4h0m0 5h0m0 3h0m0 8.2h0m.2-48.9h0m0 23.8h0m0 1.2h0m.1-18.1h0m0 25.6h0m0 19.8h0m0 1.8h0m.1-41h0m0 18.8h0m.1-32.2h0m0 31.7h0m0 14.1h0m0 1.1h0m0 .1h0m.1-10.9h0m0 4.1h0m0 0h0m0 1.6h0m0 3.1h0m.2-16.5h0m0 11.4h0m.1-23.2h0m0 7h0m0 21.3h0m.1-5.1h0m0 12.8h0m.1-46.9h0m.1 6.3h0m.2-.2h0m0 13.6h0m0 13.6h0m0 3.1h0m.3-1.3h0m.1-5.8h0m.1 23h0m.1-26h0m.1-9.3h0m0 3.6h0m0 15.9h0m.1-13.8h0m0 2.7h0m0 10h0m.1-38.6h0m0 56.4h0m.1-21.3h0m0 9.4h0m.1-22.8h0m0 7.6h0m0 24.2h0m.4-58.1h0m0 43.2h0m.1-12.2h0m0 18.4h0m.1-32.5h0m0 15.8h0m0 24.7h0m0 1.6h0m.3-52.2h0m0 38.3h0m0 16.1h0m.1-25.5h0m.1-2.4h0m.1 5.1h0m0 4.5h0m.1-18.3h0m0 23.9h0m.1-22.8h0m.2-15.1h0m.1-17.6h0m0 32.7h0m0 8.1h0m0 9.8h0m.2-16.8h0m0 14.2h0m.3-11.7h0m.2 9.8h0m.2-9.3h0m0 1.6h0m.1-13h0m0 6.5h0m0 8.5h0m.1-12.7h0m0 11.5h0m.2 7.7h0m.1-10.2h0m0 8.9h0m.2 23.2h0m.2-28.1h0m.3-1.4h0m.6-28.1h0m.1 19h0m.4 .7h0m.1 15.8h0m.1-3.2h0m0 3.9h0m.1-28.1h0m0 19.4h0m.3 15.6h0m.2-26.9h0m.3 31.5h0m.1-54.1h0m0 35.4h0m.1-1.2h0m0 6.6h0m0 6.5h0m.1-.1h0m.1-27.6h0m.3 10h0m.2 .6h0m.1 13.8h0m.1 17.7h0m.5-.3h0m.6-14.3h0m.8-5.1h0m.1-26.8h0m.3 6.3h0m1 24.6h0m2.7-6.4h0m2.2-1.9h0m.9-2h0m1.8-3.1h0" stroke="#1f8a2f" stroke-width="1.00" opacity="0.70"/><ellipse cx="180.0" cy="553.0" rx="16.0" ry="27.0" transform="rotate(0 180.0 553.0)" fill="url(#gD)" filter="url(#grain)"/><path d="M168.4 556.8h0m0 1.6h0m.2-11.6h0m.2-11.4h0m0 3.4h0m.1-2.8h0m0 24h0m.2-29.7h0m0 27.5h0m0 5.5h0m.1-13.8h0m.2 6.1h0m0 8.7h0m0 2.1h0m.2-42.2h0m0 51.7h0m.2-39.1h0m0 25.3h0m.1 4.1h0m.1-30.1h0m.1 17.6h0m0 19.7h0m.1-48.2h0m0 .7h0m0 13.8h0m.1-.5h0m0 33.4h0m.1-44.7h0m0 30.4h0m.3-20.8h0m.2-8.9h0m.1 1.5h0m.2 9.5h0m0 17h0m.1-12.9h0m.2-16.6h0m0 .1h0m.1 14h0m.1-18.8h0m0 13.3h0m0 27.2h0m0 1.2h0m0 3.1h0m.1-28.9h0m0 6.2h0m.1-13.1h0m.1 42.6h0m.2-38.5h0m.1-13.6h0m.1 40.5h0m.1 3.4h0m0 8.8h0m.2-36.6h0m.3 25.4h0m0 9.1h0m.1-50.5h0m.3-.8h0m0 15h0m0 27.1h0m0 3.4h0m0 8.8h0m.1-36.9h0m.4-15.2h0m.1-2.6h0m.1 54.9h0m0 .2h0m.1-5.9h0m.2-46.8h0m0 9.9h0m0 41.6h0m.1-45h0m.1 1.7h0m0 32.8h0m.1-43.1h0m0 3.7h0m.1 1.2h0m.2 41.6h0m.3-37.9h0m0 3.1h0m.3-9.4h0m.2 42.9h0m.2-39.8h0m0 41.2h0m0 8.3h0m.1-48.5h0m0 43h0m.1-44.8h0m0 9.8h0m.1-12.6h0m0 8.1h0m0 3.5h0m.1 34.8h0m.2 2.1h0m.2-2.8h0m.1-33.7h0m.1-11.3h0m.4-2.4h0m.5 49h0m.3-36.1h0m.1 36.2h0m.4-35.1h0m.1-9.4h0m0 6.2h0m.2-8.4h0m0 47.4h0m.1-44.6h0m.1 3h0m0 43.2h0m.2-46.8h0m0 7.5h0m0 35h0m0 5.5h0m.1-54.9h0m0 50.6h0m0 .8h0m.1-51.2h0m0 10.4h0m.2-5.4h0m.3 10.7h0m.1-5.6h0m.1-9.5h0m.1 9.3h0m0 5.8h0m.1-7.5h0m0 39.9h0m.2-34h0m0 41.9h0m.4-53.4h0m0 .1h0m0 2.8h0m.1 6.5h0m0 39.9h0m.1-3.4h0m0 6.6h0m.3-45.7h0m.1-4.1h0m0 49.7h0m.2-55.1h0m.1 5.2h0m0 6h0m.1 39h0m.3-42.3h0m.1 47.2h0m.2-46.2h0m0 47.2h0m.1-44.5h0m0 5h0m.2-3h0m.1 1.1h0m.1 1.2h0m0 35.9h0m.1-36.1h0m.3-6.7h0m.1-5.4h0m.2 4.9h0m.1-4.4h0m.2 8.6h0m.2-8.6h0m0 1.9h0m.1 40.2h0m0 2.1h0m0 6h0m.3-43.8h0m.6 4.8h0m.1-10.6h0m.1-1.3h0m.1 .1h0m.1 3.6h0m.1 39.8h0m0 2.9h0m0 4.8h0m.2-48.7h0m0 11.8h0m.3-2.3h0m.3 2.7h0m.1 35.3h0m.2-40.6h0m0 30.3h0m.1 13.4h0m.1-38.1h0m0 29.8h0m.2-41.6h0m.1-2.9h0m0 41.7h0m.1-22.3h0m.1-20.5h0m0 21h0m.1-17h0m0 .5h0m0 50.1h0m.1-37h0m0 22.3h0m.1 13.7h0m.1-7.9h0m.1-7h0m.3-29h0m.2-4.4h0m0 4h0m.1 33.2h0m.1-31.9h0m.2 28.1h0m.1-15.6h0m0 8.8h0m0 .1h0m.1-3.5h0m.3-17.6h0m0 .1h0m.1-5.6h0m0 5.7h0m.1-5.2h0m.2 9h0m.1-.7h0m.1 31.9h0m.1-8.4h0m0 15.4h0m.1-10.1h0m0 4h0m.1-33.9h0m0 10.1h0m0 9.3h0m0 20.4h0m.1-30.7h0m0 4.6h0m.1-5.7h0m.1 6.3h0m0 5.1h0m0 5.4h0m0 5.3h0m.3-9.6h0m.1-28.6h0m0 45h0m.1-.8h0m.1-25h0m.1-16.1h0m0 12h0m0 18.6h0m.1-.1h0m.1 10.7h0m.1-39.2h0m0 2h0m.1 24.9h0m.1 15.8h0m.1-47.8h0m.1 34.6h0m.1-32.8h0m0 19.8h0m.1-15.8h0m.1 16.8h0m.2-21.5h0m.1 10.9h0m0 3h0m0 32h0m.1-40.2h0m.1 14.5h0m.2-15.6h0m0 31.5h0m.1-28.5h0m.1 16.1h0m.1-12.1h0m.1-8.2h0m.1-.7h0m0 15.5h0m.3-13.1h0m.1 5.5h0m0 1.5h0m.1 9.2h0m0 15.7h0m.1 1h0m.1-34.4h0m0 12h0m.1 7.7h0m.2 4.9h0m.1 13.4h0m.2-33.3h0m.1-2.2h0m0 2h0m0 6h0m0 26.1h0m.2-23.9h0m0 9.4h0m.2-4.8h0m0 1.6h0m.4-9.8h0m0 24.2h0m.2-24.1h0m0 24.6h0m.1-2.2h0m.1-9h0m0 8.2h0m0 4.8h0m.1-11.8h0m.1 0h0m.1-14.9h0m.1 19.6h0m.3-11h0m0 9.3h0m.3-18.5h0m.1 9.9h0m.5 10.5h0m.3-5.6h0m.1-6.8h0m.2 2.7h0m.1 4.1h0" stroke="#1c7a2a" stroke-width="1.00" opacity="0.50"/><path d="M195.1 524.4h0m3.4 6h0m4.2 5.1h0m.8 6.8h0m1.1 4.6h0m.4-14.9h0m.1 .1h0m1-17.9h0m.5 24h0m.5-2.8h0m1.1 17.9h0m.7-22.8h0m.3 5.9h0m.5 17.6h0m.1-3.5h0m.2-7.2h0m.4-4.1h0m0 8.1h0m.5 5.8h0m.7-22.4h0m.1-4.9h0m.2 7.4h0m0 29.2h0m.1-9.7h0m.3-1.4h0m.4-10.1h0m.2-2.2h0m.3-.7h0m0 8.4h0m.1-13.4h0m.3 4.3h0m.1-4.1h0m.1 4.9h0m.3 .7h0m.1 9.2h0m.1-7.3h0m0 4h0m.1-.3h0m.2-11.8h0m.1-13.1h0m.2 26.8h0m0 10.4h0m.3-14.3h0m.2-19.6h0m0 11.1h0m.4 18.3h0m0 .8h0m.2-24.6h0m.1-12.5h0m0 25.8h0m0 1.2h0m0 .7h0m0 9.2h0m.2-2.7h0m0 7.8h0m.1-23.8h0m.2-.5h0m.1 4h0m.4-2.8h0m.3-11.5h0m0 3.5h0m0 11.8h0m.1-1.5h0m0 .6h0m.2-1.5h0m.5-10.4h0m.2 13.6h0m0 3.3h0m0 10.8h0m.1-32.8h0m0 11.4h0m.1-.9h0m.1-6.2h0m0 22.3h0m0 17.1h0m.1-26.2h0m0 9.7h0m.3-7.1h0m.1-13.8h0m.2 21.7h0m.1-22.7h0m.1 10.8h0m0 2.1h0m0 10.6h0m0 0h0m.1-19.1h0m0 4.7h0m0 23.5h0m.3-25.4h0m.1-7.1h0m0 2.7h0m0 8.5h0m.2 5.8h0m0 3.6h0m0 2.4h0m.1 .7h0m.1-20.1h0m.1 19.6h0m.1-26.5h0m0 5.8h0m0 23.1h0m.2-13.9h0m.1-12.4h0m0 22h0m.1-15h0m.3 20.5h0m.1-16.2h0m0 1.8h0m.1-5.3h0m.1 13.7h0m.1 2.1h0m.1 1h0m.1-18h0m0 4.4h0m0 3.3h0m.1-10.3h0m.1 17.4h0m.1 3.1h0m0 2h0m.1-25.7h0m0 8.6h0m0 1.8h0m.1 10.5h0m.3-21.1h0m0 29.3h0m.1-13.6h0m0 3.7h0m.1-15.2h0m0 5.1h0m.2-3.7h0m0 11.5h0m.1-5.7h0m0 18h0m.1-16h0m0 23.5h0m.1-38.3h0m.1 20h0m.4-10.3h0m0 6.1h0m.1 17.2h0m.2-5.3h0m.1-22.7h0m0 12.3h0m.3-5.9h0m0 30.7h0m.1-27.3h0m0 .6h0m0 11.2h0m0 .7h0m0 6.9h0m.2-25.3h0m.2 10.1h0m.1-7.8h0m0 11.4h0m.1-19.9h0m.3 2.6h0m0 4.9h0m0 7.6h0m.1-10.5h0m.3 22.3h0m.3-21.8h0m0 .6h0m.1 28.4h0m.1-46.4h0m0 39.1h0m0 .7h0m.2-21.6h0m.1 18.3h0m.3 2h0m.1-6.2h0m.3-27.7h0m.5 11.1h0m0 9.9h0m0 .8h0m0 13.7h0m.2-28.9h0m0 19.7h0m.1 9.4h0m.1-14.9h0m.4-14.3h0m.1 8.4h0m0 7h0m0 .6h0m.2-13.1h0m.3 6.2h0m0 23.7h0m.2-23.1h0m.1 .2h0m.1 14.2h0m.1-7.3h0m.5-19.4h0m0 27.9h0m.1-6.1h0m0 13.9h0m.1-22.2h0m0 10.5h0m.1-19.4h0m.2 13.1h0m.4 .4h0m.2-33.7h0m0 18.9h0m.3 14.2h0m0 7.2h0m.2-12h0m.3 22.8h0m.1-16.1h0m.2 20.2h0m.2-43.5h0m0 20.5h0m0 .8h0m.1 11h0m.3-28.1h0m0 15.9h0m.1-10.2h0m0 13.7h0m.1-6.8h0m.3 8.1h0m.1-19.1h0m0 30.9h0m.1-31.5h0m.3 5.2h0m0 18.9h0m.1-27.4h0m.1 20.1h0m.2-.7h0m.5 14.5h0m.1-10.6h0m.1-12.6h0m.1-4.4h0m.1 .7h0m.1-1.1h0m.2 24.5h0m.1-13.6h0m.1-29.1h0m.1 25.6h0m.5-5.8h0m0 3.2h0m0 2.6h0m.1-14.8h0m.2 25.9h0m.1-3.8h0m.1-12.8h0m0 12.7h0m.1 1.5h0m.1-41.5h0m.1 32.9h0m0 8.2h0m.1 14.5h0m.1-45h0m.2 42.3h0m.3-6.7h0m.1 7.5h0m.1-10.5h0m.1 3.5h0m.1 4.7h0m.1 .1h0m.3-22.8h0m0 28.9h0m.1-16.4h0m0 1h0m.5-13.9h0m.2 2.8h0m0 6.4h0m.1-5h0m.1 6.7h0m.5-.7h0m.2 .6h0m.1-11.6h0m.1-5.1h0m0 13.8h0m0 15.8h0m0 9.6h0m.2-29.9h0m.1-19.3h0m.5 37.6h0m.2 4.9h0m.4-34.6h0m.3 18h0m.8-8.7h0m.1-5.1h0m.4-10.1h0m.1 21.3h0m.5 36.9h0m.1-45.8h0m.1 4.1h0m.5 28.8h0m.5-13.3h0m.4 10h0m.2-10.8h0m.2-8.2h0m.2-20.6h0m.2 19.7h0m1 3.7h0m.5 7.8h0m.3-20.6h0m2.3 21.1h0m1-16.9h0m1 11.2h0m2.4 6.7h0m1-4.8h0" stroke="#860e28" stroke-width="1.25" opacity="0.95"/><path d="M179.8 491.8h0m5.6 8.6h0m5.2 18.1h0m4 .9h0m.7-10.9h0m.8 16.6h0m1.4-35.9h0m4.9 6.8h0m1.4-1.8h0m.6 32.5h0m.4-49.9h0m1.5 17.8h0m1.5 32.1h0m.3-26.1h0m0 2.7h0m3.2 9.5h0m.3-12.1h0m.1-7.6h0m1.2 22.2h0m0 7.9h0m.5-23h0m.2-5.5h0m.4-1.1h0m.1 17.9h0m.7-29.6h0m.2 21.9h0m0 35.8h0m.8-46.4h0m.8 37.9h0m1.2-15.7h0m.4-13.6h0m.2 .4h0m.1 23.1h0m.4-24.2h0m1.5 2.5h0m.1-3.2h0m.2 11.8h0m1 3.1h0m1.2-17.5h0m.4 22.2h0m.6-34.5h0m.8 25.2h0m1.7 1.9h0m1.6 13h0m.2-49h0m0 37.7h0m.4-8.8h0m1.2 13.6h0m.2-23.6h0m.5-5.3h0m0 13.8h0m1.7-7.3h0m3.6 14.1h0m.2-3.1h0m.3 1h0m1-11.5h0m.9-8.8h0m2.4 32.2h0m3.8 6.6h0m3.3-19.8h0" stroke="#860e28" stroke-width="1.10" opacity="0.80"/></g></g>
<path d="M167.40 454.70V575.80M167.80 575.30h-6.20M167.80 566.26h-3.20M167.80 560.97h-3.20M167.80 557.22h-3.20M167.80 554.31h-3.20M167.80 551.94h-3.20M167.80 549.93h-3.20M167.80 548.18h-3.20M167.80 546.65h-3.20M167.80 545.27h-6.20M167.80 536.24h-3.20M167.80 530.95h-3.20M167.80 527.20h-3.20M167.80 524.29h-3.20M167.80 521.91h-3.20M167.80 519.90h-3.20M167.80 518.16h-3.20M167.80 516.62h-3.20M167.80 515.25h-6.20M167.80 506.21h-3.20M167.80 500.92h-3.20M167.80 497.17h-3.20M167.80 494.26h-3.20M167.80 491.89h-3.20M167.80 489.88h-3.20M167.80 488.13h-3.20M167.80 486.60h-3.20M167.80 485.22h-6.20M167.80 476.19h-3.20M167.80 470.90h-3.20M167.80 467.15h-3.20M167.80 464.24h-3.20M167.80 461.86h-3.20M167.80 459.85h-3.20M167.80 458.11h-3.20M167.80 456.57h-3.20M167.80 455.20h-6.20M168.80 576.80H289.90M169.30 576.40v5.20M178.34 576.40v2.80M183.63 576.40v2.80M187.38 576.40v2.80M190.29 576.40v2.80M192.66 576.40v2.80M194.67 576.40v2.80M196.42 576.40v2.80M197.95 576.40v2.80M199.32 576.40v5.20M208.36 576.40v2.80M213.65 576.40v2.80M217.40 576.40v2.80M220.31 576.40v2.80M222.69 576.40v2.80M224.70 576.40v2.80M226.44 576.40v2.80M227.98 576.40v2.80M229.35 576.40v5.20M238.39 576.40v2.80M243.68 576.40v2.80M247.43 576.40v2.80M250.34 576.40v2.80M252.71 576.40v2.80M254.72 576.40v2.80M256.47 576.40v2.80M258.00 576.40v2.80M259.38 576.40v5.20M268.41 576.40v2.80M273.70 576.40v2.80M277.45 576.40v2.80M280.36 576.40v2.80M282.74 576.40v2.80M284.75 576.40v2.80M286.49 576.40v2.80M288.03 576.40v2.80M289.40 576.40v5.20" stroke="#111" stroke-width="0.95" fill="none"/>
<g class="fl">
<text y="163.0" font-size="11"><tspan x="62.0" textLength="33.8" lengthAdjust="spacingAndGlyphs">FSC-A</tspan></text>
<text y="163.0" font-size="11"><tspan x="212.0" textLength="33.2" lengthAdjust="spacingAndGlyphs">SSC-H</tspan></text>
<text y="308.0" font-size="11"><tspan x="62.0" textLength="33.2" lengthAdjust="spacingAndGlyphs">SSC-H</tspan></text>
<text y="308.0" font-size="11"><tspan x="168.7" textLength="21.7" lengthAdjust="spacingAndGlyphs">CD5</tspan> <tspan x="199.6" textLength="48.4" lengthAdjust="spacingAndGlyphs">PE-Texas</tspan> <tspan x="256.7" textLength="31.2" lengthAdjust="spacingAndGlyphs">Red-A</tspan></text>
<text y="450.0" font-size="11"><tspan x="43.3" textLength="28.8" lengthAdjust="spacingAndGlyphs">CD64</tspan> <tspan x="80.8" textLength="34.6" lengthAdjust="spacingAndGlyphs">FITC-A</tspan></text>
<text y="450.0" font-size="11"><tspan x="172.5" textLength="28.8" lengthAdjust="spacingAndGlyphs">CD95</tspan> <tspan x="209.1" textLength="34.6" lengthAdjust="spacingAndGlyphs">Pacific</tspan> <tspan x="251.5" textLength="34.6" lengthAdjust="spacingAndGlyphs">Blue-A</tspan></text>
<text y="594.5" font-size="11"><tspan x="20.2" textLength="21.6" lengthAdjust="spacingAndGlyphs">CD5</tspan> <tspan x="51.3" textLength="47.3" lengthAdjust="spacingAndGlyphs">PE-Texas</tspan> <tspan x="109.0" textLength="30.9" lengthAdjust="spacingAndGlyphs">Red-A</tspan></text>
<text y="594.5" font-size="11"><tspan x="197.6" textLength="30.3" lengthAdjust="spacingAndGlyphs">CD30</tspan> <tspan x="235.1" textLength="23.9" lengthAdjust="spacingAndGlyphs">PE-A</tspan></text>
<text x="9.8" y="99.1" font-size="11" transform="rotate(-90 9.8 99.1)" textLength="31.7" lengthAdjust="spacingAndGlyphs">FSC-H</text>
<text x="159.8" y="99.9" font-size="11" transform="rotate(-90 159.8 99.9)" textLength="32.3" lengthAdjust="spacingAndGlyphs">FSC-A</text>
<text x="9.8" y="267.6" font-size="11" transform="rotate(-90 9.8 267.6)" textLength="84.5" lengthAdjust="spacingAndGlyphs">CD45 AmCyan-A</text>
<text x="159.8" y="270.7" font-size="11" transform="rotate(-90 159.8 270.7)" textLength="85.0" lengthAdjust="spacingAndGlyphs">CD20 PE-Cy7-A</text>
<text x="9.8" y="399.6" font-size="11" transform="rotate(-90 9.8 399.6)" textLength="59.0" lengthAdjust="spacingAndGlyphs">CD30 PE-A</text>
<text x="159.8" y="428.8" font-size="11" transform="rotate(-90 159.8 428.8)" textLength="117.8" lengthAdjust="spacingAndGlyphs">CD40 PerCP-Cy5-5-A</text>
<text x="9.8" y="549.2" font-size="11" transform="rotate(-90 9.8 549.2)" textLength="69.0" lengthAdjust="spacingAndGlyphs">CD15 APC-A</text>
<text x="159.8" y="557.7" font-size="11" transform="rotate(-90 159.8 557.7)" textLength="85.0" lengthAdjust="spacingAndGlyphs">CD20 PE-Cy7-A</text>
</g>
<g class="an" font-size="7.5" fill="#262626">
<text x="58.7" y="30.8" textLength="80.7" lengthAdjust="spacingAndGlyphs">Specimen_001_C10.fcs</text>
<text x="261.9" y="30.6" textLength="25.4" lengthAdjust="spacingAndGlyphs">singlets</text>
<text x="118.1" y="175.4" textLength="19.6" lengthAdjust="spacingAndGlyphs">viable</text>
<text x="245.8" y="175.2" textLength="42.2" lengthAdjust="spacingAndGlyphs">lymphocytes</text>
<text x="118.8" y="317.3" textLength="19.7" lengthAdjust="spacingAndGlyphs">viable</text>
<text x="266.0" y="317.5" textLength="21.9" lengthAdjust="spacingAndGlyphs">64/30</text>
<text x="119.7" y="461.8" textLength="19.5" lengthAdjust="spacingAndGlyphs">viable</text>
<text x="268.3" y="461.8" textLength="19.6" lengthAdjust="spacingAndGlyphs">viable</text>
</g>
<g class="pl" font-size="18" font-weight="bold">
<text x="1.0" y="13.8" textLength="12.8" lengthAdjust="spacingAndGlyphs">A</text>
<text x="309.6" y="13.8" textLength="12.3" lengthAdjust="spacingAndGlyphs">B</text>
<text x="310.5" y="117.9" textLength="11.6" lengthAdjust="spacingAndGlyphs">C</text>
<text x="309.7" y="333.9" textLength="12.2" lengthAdjust="spacingAndGlyphs">D</text>
</g>
<g filter="url(#mot)"><g filter="url(#b1)"><circle cx="360" cy="7.2" r="5.4" fill="#e4e8f5"/><circle cx="354.6" cy="36.8" r="4.6" fill="#dde3f3"/><circle cx="402.3" cy="12.6" r="3.6" fill="#e0e5f4"/><circle cx="353.6" cy="58.6" r="4.4" fill="#c6d3ee"/><circle cx="416.6" cy="86.4" r="6" fill="#dcdff3"/><circle cx="459" cy="86.5" r="4.4" fill="#e9e9f6"/><circle cx="465.4" cy="99" r="4.6" fill="#e6e6f5"/><path d="M358.0 14.0C361.3 8.8 360.0 11.0 366.0 8.5C372.0 6.0 368.7 6.8 376.0 6.5C383.3 6.2 381.0 6.3 388.0 7.5C395.0 8.7 392.0 7.5 397.0 10.0C402.0 12.5 400.2 10.3 403.0 15.0C405.8 19.7 404.8 17.7 405.5 24.0C406.2 30.3 406.5 28.3 405.0 34.0C403.5 39.7 405.3 37.7 401.0 41.0C396.7 44.3 399.0 42.8 392.0 44.0C385.0 45.2 388.0 44.5 380.0 44.5C372.0 44.5 374.7 45.2 368.0 44.0C361.3 42.8 363.7 44.3 360.0 41.0C356.3 37.7 358.3 39.7 357.0 34.0C355.7 28.3 355.7 30.7 356.0 24.0C356.3 17.3 354.7 19.2 358.0 14.0Z" fill="#d0d9f0"/><path d="M356.0 52.0C358.3 47.7 356.7 49.2 362.0 47.0C367.3 44.8 364.7 46.0 372.0 45.5C379.3 45.0 376.0 44.8 384.0 45.5C392.0 46.2 389.7 45.3 396.0 47.5C402.3 49.7 399.7 47.8 403.0 52.0C406.3 56.2 405.2 54.7 406.0 60.0C406.8 65.3 406.8 63.0 405.5 68.0C404.2 73.0 405.8 71.3 402.0 75.0C398.2 78.7 400.7 77.3 394.0 79.0C387.3 80.7 390.0 80.0 382.0 80.0C374.0 80.0 377.0 80.7 370.0 79.0C363.0 77.3 365.7 78.7 361.0 75.0C356.3 71.3 358.0 73.0 356.0 68.0C354.0 63.0 355.0 65.3 355.0 60.0C355.0 54.7 353.7 56.3 356.0 52.0Z" fill="#adc0e8"/><path d="M422.0 84.0C425.0 79.3 423.3 82.3 430.0 81.0C436.7 79.7 434.7 79.8 442.0 80.0C449.3 80.2 446.0 80.2 452.0 81.5C458.0 82.8 455.7 81.2 460.0 84.0C464.3 86.8 462.0 85.3 465.0 90.0C468.0 94.7 468.3 92.7 469.0 98.0C469.7 103.3 469.7 102.0 467.0 106.0C464.3 110.0 464.7 106.7 461.0 110.0C457.3 113.3 461.0 113.0 456.0 116.0C451.0 119.0 452.7 118.3 446.0 119.0C439.3 119.7 442.0 120.0 436.0 118.0C430.0 116.0 432.3 117.3 428.0 113.0C423.7 108.7 425.3 111.0 423.0 105.0C420.7 99.0 421.3 102.0 421.0 95.0C420.7 88.0 419.0 88.7 422.0 84.0Z" fill="#ededf8"/></g><g filter="url(#b3)"><ellipse cx="396" cy="30" rx="7" ry="10" fill="#a9bbe4"/><ellipse cx="390" cy="41" rx="11" ry="3" fill="#8ea6dc"/><ellipse cx="378" cy="10.5" rx="12" ry="3.5" fill="#e8ebf7"/><ellipse cx="397" cy="62" rx="8" ry="12" fill="#6f8ed6"/><ellipse cx="386" cy="77" rx="12" ry="2.5" fill="#8db2e4"/><ellipse cx="392" cy="49" rx="9" ry="2.5" fill="#90a8dc"/></g><g filter="url(#b2)"><path d="M386 44.8 Q397 45.2 405 43.4" stroke="#7d9ad6" stroke-width="1.3" fill="none" opacity="0.8"/><circle cx="404.6" cy="56.5" r="1.5" fill="#5f7fc6"/><circle cx="405.8" cy="66.8" r="1.6" fill="#5577c0"/><circle cx="402.2" cy="76" r="1.5" fill="#5f86c8"/><circle cx="403.6" cy="62" r="1.3" fill="#6a88cc"/><path d="M357.2 28.5C357.2 23.5 356.6 24.6 359.0 20.5C361.4 16.4 360.3 17.9 364.5 16.2C368.7 14.5 366.7 15.1 371.5 15.4C376.3 15.7 374.7 14.8 379.0 17.0C383.3 19.2 382.0 18.2 384.5 22.0C387.0 25.8 386.4 24.0 386.4 28.5C386.4 33.0 387.0 31.5 384.5 35.5C382.0 39.5 383.3 38.3 379.0 40.5C374.7 42.7 376.5 42.0 371.5 42.0C366.5 42.0 368.2 42.7 364.0 40.5C359.8 38.3 361.3 39.5 359.0 35.5C356.7 31.5 357.2 33.5 357.2 28.5Z" fill="#4a35b0"/><path d="M357.8 61.0C357.8 55.8 357.1 57.6 359.5 53.5C361.9 49.4 360.8 50.9 365.0 48.8C369.2 46.7 367.2 47.3 372.0 47.2C376.8 47.1 375.3 46.8 379.5 48.6C383.7 50.4 382.3 49.6 384.5 52.5C386.7 55.4 384.9 53.7 386.0 57.2C387.1 60.7 387.6 58.9 387.8 63.0C388.0 67.1 388.6 65.7 386.5 69.5C384.4 73.3 386.0 72.2 381.5 74.5C377.0 76.8 378.7 76.4 373.0 76.4C367.3 76.4 369.0 77.0 364.5 74.5C360.0 72.0 361.7 73.5 359.5 69.0C357.3 64.5 357.8 66.2 357.8 61.0Z" fill="#4431aa"/><path d="M425.4 94.0C425.9 89.7 424.8 90.1 427.5 86.0C430.2 81.9 429.2 83.3 433.5 81.6C437.8 79.9 436.2 80.2 440.5 81.0C444.8 81.8 443.5 81.0 446.5 84.0C449.5 87.0 448.0 86.2 449.5 90.0C451.0 93.8 449.2 91.8 451.0 95.5C452.8 99.2 453.5 97.2 455.0 101.0C456.5 104.8 456.6 103.1 455.6 107.0C454.6 110.9 455.2 109.7 452.0 112.6C448.8 115.5 450.2 114.9 446.0 115.6C441.8 116.3 443.5 116.5 439.5 114.6C435.5 112.7 437.5 113.5 434.0 110.0C430.5 106.5 431.7 107.7 429.0 104.0C426.3 100.3 427.2 102.3 426.0 99.0C424.8 95.7 424.9 98.3 425.4 94.0Z" fill="#6a44c2"/></g><g filter="url(#b3)"><ellipse cx="370" cy="25" rx="6" ry="5" fill="#5d48c6" opacity="0.85"/><ellipse cx="378" cy="33" rx="4" ry="4" fill="#3c279c" opacity="0.7"/><ellipse cx="364" cy="34" rx="3.5" ry="3.5" fill="#3c279c" opacity="0.6"/><ellipse cx="369" cy="58" rx="6" ry="5" fill="#5a45c4" opacity="0.85"/><ellipse cx="379" cy="67" rx="4.5" ry="4" fill="#3a2598" opacity="0.7"/><ellipse cx="365" cy="68" rx="3.5" ry="3.5" fill="#3a2598" opacity="0.5"/><ellipse cx="436" cy="92" rx="6" ry="6.5" fill="#5636be" opacity="0.9"/><ellipse cx="446.5" cy="107.5" rx="6.5" ry="5.5" fill="#9a5fcc" opacity="0.9"/><ellipse cx="440" cy="101" rx="4" ry="4" fill="#5a3cbe" opacity="0.6"/></g><g filter="url(#b2)"><circle cx="401.6" cy="59.6" r="1.2" fill="#fff"/><circle cx="402.6" cy="65" r="0.9" fill="#eef"/></g></g>
<path d="M350.6 132.10V262.10M350.6 262.10h-3.8M350.6 236.10h-3.8M350.6 210.10h-3.8M350.6 184.10h-3.8M350.6 158.10h-3.8M350.6 132.10h-3.8M356.10 268.1H515.00M356.10 268.1v3.2M394.30 268.1v3.2M432.50 268.1v3.2M470.70 268.1v3.2M508.90 268.1v3.2" stroke="#8c8c8c" stroke-width="1.2" fill="none"/><text x="344.30" y="266.40" font-size="12" text-anchor="end" fill="#1a1a1a">0.0</text><text x="344.30" y="240.40" font-size="12" text-anchor="end" fill="#1a1a1a">0.2</text><text x="344.30" y="214.40" font-size="12" text-anchor="end" fill="#1a1a1a">0.4</text><text x="344.30" y="188.40" font-size="12" text-anchor="end" fill="#1a1a1a">0.6</text><text x="344.30" y="162.40" font-size="12" text-anchor="end" fill="#1a1a1a">0.8</text><text x="344.30" y="136.40" font-size="12" text-anchor="end" fill="#1a1a1a">1.0</text><text x="356.10" y="282.60" font-size="12" text-anchor="middle" fill="#1a1a1a">0</text><text x="394.30" y="282.60" font-size="12" text-anchor="middle" fill="#1a1a1a">50</text><text x="432.50" y="282.60" font-size="12" text-anchor="middle" fill="#1a1a1a">100</text><text x="470.70" y="282.60" font-size="12" text-anchor="middle" fill="#1a1a1a">150</text><text x="508.90" y="282.60" font-size="12" text-anchor="middle" fill="#1a1a1a">200</text><text x="434.80" y="296.20" font-size="14" text-anchor="middle" font-weight="bold">Read Depth</text><text x="321.60" y="198.50" font-size="14" text-anchor="middle" font-weight="bold" transform="rotate(-90 321.60 198.50)">Proportion &gt; X</text><path d="M350.5 197.10H516" stroke="#2a2a2a" stroke-width="1.05" stroke-dasharray="3.1 1.8" fill="none"/><path d="M369.85 197.10V268" stroke="#d06a6a" stroke-width="0.8" stroke-dasharray="1.2 1.2" fill="none"/><path d="M392.01 197.10V268" stroke="#7a86b8" stroke-width="0.8" stroke-dasharray="1.2 1.2" fill="none"/><path d="M396.59 197.10V268" stroke="#6fa08a" stroke-width="0.8" stroke-dasharray="1.2 1.2" fill="none"/><path d="M356.1 132.1 L356.4 134.6 L356.7 136.4 L356.9 136.7 L357.7 137.8 L358.5 138.4 L359.2 138.9 L360.0 139.6 L360.8 140.8 L361.6 142.4 L362.4 144.4 L363.2 146.9 L364.0 149.7 L364.8 152.9 L365.6 157.2 L366.4 163.0 L367.2 169.7 L368.0 176.8 L368.8 185.6 L369.6 194.5 L370.4 201.4 L371.2 207.1 L372.0 212.3 L372.8 217.4 L373.6 222.9 L374.3 228.7 L375.1 234.5 L375.9 239.7 L376.7 243.9 L377.5 247.8 L378.3 251.2 L379.1 253.8 L379.9 255.5 L380.7 256.9 L381.5 258.1 L382.3 259.1 L383.1 259.8 L383.9 260.1 L384.7 260.4 L385.5 260.7 L386.3 260.9 L387.1 261.1 L387.9 261.2 L388.7 261.4 L389.4 261.5 L390.2 261.5 L391.0 261.6 L391.8 261.6 L392.6 261.6 L393.4 261.7 L394.2 261.7 L395.0 261.7 L395.8 261.7 L396.6 261.7 L397.4 261.8 L398.2 261.8 L399.0 261.8 L399.8 261.8 L400.6 261.8 L401.4 261.8 L402.2 261.8 L403.0 261.9 L403.8 261.9 L404.5 261.9 L405.3 261.9 L406.1 261.9 L406.9 261.9 L407.7 261.9 L408.5 261.9 L409.3 261.9 L410.1 261.9 L410.9 261.9 L411.7 261.9 L412.5 262.0 L413.3 262.0 L414.1 262.0 L414.9 262.0 L415.7 262.0 L416.5 262.0 L417.3 262.0 L418.1 262.0 L418.9 262.0 L419.6 262.0 L420.4 262.0 L421.2 262.0 L422.0 262.0 L422.8 262.0 L423.6 262.0 L424.4 262.0 L425.2 262.0 L426.0 262.0 L426.8 262.0 L427.6 262.0 L428.4 262.0 L429.2 262.0 L430.0 262.0 L430.8 262.0 L431.6 262.0 L432.4 262.0 L433.2 262.0 L434.0 262.0 L434.7 262.0 L435.5 262.0 L436.3 262.0 L437.1 262.0 L437.9 262.0 L438.7 262.0 L439.5 262.0 L440.3 262.0 L441.1 262.0 L441.9 262.0 L442.7 262.0 L443.5 262.0 L444.3 262.0 L445.1 262.0 L445.9 262.0 L446.7 262.0 L447.5 262.0 L448.3 262.0 L449.1 262.0 L449.8 262.0 L450.6 262.0 L451.4 262.0 L452.2 262.0 L453.0 262.0 L453.8 262.0 L454.6 262.0 L455.4 262.0 L456.2 262.0 L457.0 262.0 L457.8 262.0 L458.6 262.0 L459.4 262.0 L460.2 262.0 L461.0 262.0 L461.8 262.1 L462.6 262.1 L463.4 262.1 L464.2 262.1 L464.9 262.1 L465.7 262.1 L466.5 262.1 L467.3 262.1 L468.1 262.1 L468.9 262.1 L469.7 262.1 L470.5 262.1 L471.3 262.1 L472.1 262.1 L472.9 262.1 L473.7 262.1 L474.5 262.1 L475.3 262.1 L476.1 262.1 L476.9 262.1 L477.7 262.1 L478.5 262.1 L479.2 262.1 L480.0 262.1 L480.8 262.1 L481.6 262.1 L482.4 262.1 L483.2 262.1 L484.0 262.1 L484.8 262.1 L485.6 262.1 L486.4 262.1 L487.2 262.1 L488.0 262.1 L488.8 262.1 L489.6 262.1 L490.4 262.1 L491.2 262.1 L492.0 262.1 L492.8 262.1 L493.6 262.1 L494.3 262.1 L495.1 262.1 L495.9 262.1 L496.7 262.1 L497.5 262.1 L498.3 262.1 L499.1 262.1 L499.9 262.1 L500.7 262.1 L501.5 262.1 L502.3 262.1 L503.1 262.1 L503.9 262.1 L504.7 262.1 L505.5 262.1 L506.3 262.1 L507.1 262.1 L507.9 262.1 L508.7 262.1 L509.4 262.1 L510.2 262.1 L511.0 262.1 L511.8 262.1 L512.6 262.1 L513.4 262.1 L514.2 262.1 L515.0 262.1" stroke="#d3173f" stroke-width="1.8" fill="none" stroke-linejoin="round"/><path d="M356.1 132.1 L356.4 134.7 L356.7 136.4 L356.9 136.6 L357.7 137.3 L358.5 137.8 L359.2 138.2 L360.0 138.4 L360.8 138.6 L361.6 138.8 L362.4 139.0 L363.2 139.4 L364.0 139.9 L364.8 140.4 L365.6 140.9 L366.4 141.5 L367.2 142.2 L368.0 142.8 L368.8 143.6 L369.6 144.3 L370.4 145.2 L371.2 146.0 L372.0 147.0 L372.8 148.0 L373.6 149.3 L374.3 150.6 L375.1 152.1 L375.9 153.7 L376.7 155.3 L377.5 157.0 L378.3 158.8 L379.1 160.6 L379.9 162.6 L380.7 164.7 L381.5 166.9 L382.3 169.1 L383.1 171.4 L383.9 173.6 L384.7 175.9 L385.5 178.1 L386.3 180.4 L387.1 182.7 L387.9 185.0 L388.7 187.3 L389.4 189.7 L390.2 192.0 L391.0 194.3 L391.8 196.6 L392.6 198.9 L393.4 201.3 L394.2 203.7 L395.0 206.1 L395.8 208.4 L396.6 210.5 L397.4 212.4 L398.2 214.1 L399.0 215.8 L399.8 217.5 L400.6 219.1 L401.4 220.6 L402.2 222.1 L403.0 223.5 L403.8 224.9 L404.5 226.2 L405.3 227.5 L406.1 228.8 L406.9 230.1 L407.7 231.3 L408.5 232.5 L409.3 233.6 L410.1 234.7 L410.9 235.9 L411.7 237.0 L412.5 238.0 L413.3 239.1 L414.1 240.1 L414.9 241.1 L415.7 242.1 L416.5 243.0 L417.3 243.9 L418.1 244.8 L418.9 245.6 L419.6 246.4 L420.4 247.2 L421.2 247.9 L422.0 248.5 L422.8 249.2 L423.6 249.8 L424.4 250.5 L425.2 251.1 L426.0 251.6 L426.8 252.2 L427.6 252.7 L428.4 253.2 L429.2 253.7 L430.0 254.1 L430.8 254.5 L431.6 254.9 L432.4 255.3 L433.2 255.6 L434.0 256.0 L434.7 256.3 L435.5 256.6 L436.3 256.9 L437.1 257.2 L437.9 257.5 L438.7 257.7 L439.5 258.0 L440.3 258.2 L441.1 258.3 L441.9 258.5 L442.7 258.7 L443.5 258.8 L444.3 258.9 L445.1 259.1 L445.9 259.2 L446.7 259.3 L447.5 259.5 L448.3 259.6 L449.1 259.7 L449.8 259.8 L450.6 259.9 L451.4 260.0 L452.2 260.1 L453.0 260.2 L453.8 260.3 L454.6 260.4 L455.4 260.5 L456.2 260.6 L457.0 260.6 L457.8 260.7 L458.6 260.8 L459.4 260.8 L460.2 260.9 L461.0 261.0 L461.8 261.0 L462.6 261.0 L463.4 261.1 L464.2 261.1 L464.9 261.2 L465.7 261.2 L466.5 261.2 L467.3 261.3 L468.1 261.3 L468.9 261.3 L469.7 261.4 L470.5 261.4 L471.3 261.4 L472.1 261.4 L472.9 261.5 L473.7 261.5 L474.5 261.5 L475.3 261.5 L476.1 261.6 L476.9 261.6 L477.7 261.6 L478.5 261.6 L479.2 261.6 L480.0 261.6 L480.8 261.7 L481.6 261.7 L482.4 261.7 L483.2 261.7 L484.0 261.7 L484.8 261.7 L485.6 261.7 L486.4 261.7 L487.2 261.8 L488.0 261.8 L488.8 261.8 L489.6 261.8 L490.4 261.8 L491.2 261.8 L492.0 261.8 L492.8 261.8 L493.6 261.8 L494.3 261.8 L495.1 261.8 L495.9 261.8 L496.7 261.8 L497.5 261.8 L498.3 261.9 L499.1 261.9 L499.9 261.9 L500.7 261.9 L501.5 261.9 L502.3 261.9 L503.1 261.9 L503.9 261.9 L504.7 261.9 L505.5 261.9 L506.3 261.9 L507.1 261.9 L507.9 261.9 L508.7 261.9 L509.4 261.9 L510.2 261.9 L511.0 261.9 L511.8 261.9 L512.6 262.0 L513.4 262.0 L514.2 262.0 L515.0 262.0" stroke="#2b3990" stroke-width="1.8" fill="none" stroke-linejoin="round"/><path d="M356.1 132.1 L356.4 134.7 L356.7 136.4 L356.9 136.5 L357.7 137.2 L358.5 137.7 L359.2 138.0 L360.0 138.2 L360.8 138.4 L361.6 138.6 L362.4 138.8 L363.2 139.1 L364.0 139.6 L364.8 140.1 L365.6 140.6 L366.4 141.1 L367.2 141.7 L368.0 142.3 L368.8 143.0 L369.6 143.6 L370.4 144.4 L371.2 145.1 L372.0 145.9 L372.8 146.8 L373.6 147.7 L374.3 148.6 L375.1 149.7 L375.9 150.9 L376.7 152.2 L377.5 153.5 L378.3 154.9 L379.1 156.3 L379.9 157.7 L380.7 159.2 L381.5 160.8 L382.3 162.5 L383.1 164.3 L383.9 166.2 L384.7 168.1 L385.5 170.0 L386.3 171.9 L387.1 173.9 L387.9 175.8 L388.7 177.7 L389.4 179.7 L390.2 181.7 L391.0 183.7 L391.8 185.7 L392.6 187.7 L393.4 189.7 L394.2 191.7 L395.0 193.6 L395.8 195.4 L396.6 197.1 L397.4 198.8 L398.2 200.4 L399.0 202.0 L399.8 203.5 L400.6 205.0 L401.4 206.5 L402.2 207.9 L403.0 209.3 L403.8 210.8 L404.5 212.2 L405.3 213.6 L406.1 215.1 L406.9 216.5 L407.7 218.0 L408.5 219.4 L409.3 220.7 L410.1 222.0 L410.9 223.3 L411.7 224.5 L412.5 225.7 L413.3 226.9 L414.1 228.1 L414.9 229.3 L415.7 230.4 L416.5 231.5 L417.3 232.5 L418.1 233.6 L418.9 234.6 L419.6 235.5 L420.4 236.5 L421.2 237.4 L422.0 238.2 L422.8 239.1 L423.6 239.9 L424.4 240.8 L425.2 241.5 L426.0 242.3 L426.8 243.1 L427.6 243.8 L428.4 244.5 L429.2 245.1 L430.0 245.8 L430.8 246.4 L431.6 246.9 L432.4 247.5 L433.2 248.0 L434.0 248.6 L434.7 249.1 L435.5 249.5 L436.3 250.0 L437.1 250.5 L437.9 250.9 L438.7 251.3 L439.5 251.7 L440.3 252.0 L441.1 252.4 L441.9 252.7 L442.7 253.0 L443.5 253.3 L444.3 253.6 L445.1 253.8 L445.9 254.1 L446.7 254.3 L447.5 254.5 L448.3 254.8 L449.1 255.0 L449.8 255.2 L450.6 255.4 L451.4 255.5 L452.2 255.7 L453.0 255.9 L453.8 256.0 L454.6 256.2 L455.4 256.3 L456.2 256.5 L457.0 256.6 L457.8 256.8 L458.6 256.9 L459.4 257.0 L460.2 257.1 L461.0 257.3 L461.8 257.4 L462.6 257.5 L463.4 257.6 L464.2 257.7 L464.9 257.9 L465.7 258.0 L466.5 258.1 L467.3 258.2 L468.1 258.3 L468.9 258.4 L469.7 258.5 L470.5 258.5 L471.3 258.6 L472.1 258.7 L472.9 258.8 L473.7 258.9 L474.5 259.0 L475.3 259.0 L476.1 259.1 L476.9 259.2 L477.7 259.3 L478.5 259.3 L479.2 259.4 L480.0 259.5 L480.8 259.5 L481.6 259.6 L482.4 259.7 L483.2 259.7 L484.0 259.8 L484.8 259.8 L485.6 259.9 L486.4 260.0 L487.2 260.0 L488.0 260.1 L488.8 260.1 L489.6 260.2 L490.4 260.2 L491.2 260.3 L492.0 260.3 L492.8 260.3 L493.6 260.4 L494.3 260.4 L495.1 260.4 L495.9 260.5 L496.7 260.5 L497.5 260.5 L498.3 260.6 L499.1 260.6 L499.9 260.6 L500.7 260.6 L501.5 260.7 L502.3 260.7 L503.1 260.7 L503.9 260.7 L504.7 260.8 L505.5 260.8 L506.3 260.8 L507.1 260.8 L507.9 260.9 L508.7 260.9 L509.4 260.9 L510.2 260.9 L511.0 260.9 L511.8 261.0 L512.6 261.0 L513.4 261.0 L514.2 261.0 L515.0 261.1" stroke="#0f7d4f" stroke-width="1.8" fill="none" stroke-linejoin="round"/><path d="M421 141.9H431.8" stroke="#d4636a" stroke-width="1.1"/><text x="434.70" y="146.60" font-size="14" font-weight="bold" textLength="27.0" lengthAdjust="spacingAndGlyphs">1 ng</text><path d="M421 161.3H431.8" stroke="#5d68ad" stroke-width="1.1"/><text x="434.70" y="166.00" font-size="14" font-weight="bold" textLength="35.4" lengthAdjust="spacingAndGlyphs">10 ng</text><path d="M421 179.3H431.8" stroke="#5c9a7e" stroke-width="1.1"/><text x="434.70" y="184.00" font-size="14" font-weight="bold" textLength="43.6" lengthAdjust="spacingAndGlyphs">100 ng</text>
<g fill="#000"><rect x="362.0" y="378.27" width="139.0" height="15.59"/></g><g stroke-linecap="square"><path d="M362.6 374.7h0m0 2.5h0m0 16.3h0m0 10.7h0m.4-10.6h0m.1 1.1h0m0 10.2h0m.1-10.9h0m0 .6h0m.1 5.7h0m.1-27.1h0m0 1.1h0m.1 2.4h0m0 .8h0m.1-5.5h0m0 24.3h0m.1-31.9h0m0 32.3h0m0 2.6h0m.1-24.4h0m0 2.2h0m0 .4h0m0 .2h0m.1-2.3h0m0 1h0m0 .8h0m0 19.7h0m0 1.2h0m.1-26.7h0m.1 25.7h0m.2 2.3h0m.1-20.8h0m0 .2h0m.1-3.7h0m0 22.3h0m.1-19.2h0m0 18.5h0m.1-21.3h0m.1 22h0m.1-19.2h0m0 15.9h0m.1-20.8h0m.1-2.9h0m0 24.8h0m.1-18.4h0m0 2h0m0 14.8h0m0 5.7h0m.1-22.1h0m.1-.7h0m.1-4.3h0m0 5.1h0m0 .6h0m.2-15.6h0m0 31.3h0m0 .8h0m0 .7h0m.1-22.5h0m0 1.2h0m0 3.7h0m0 17.4h0m0 2.1h0m.1-3h0m.2-15.6h0m.1-1.3h0m0 18.8h0m.1-2.6h0m0 2.7h0m.1 4.3h0m.1-6.1h0m.1-19.5h0m0 18.8h0m.1-14.8h0m0 14.9h0m0 5.9h0m.1-6h0m0 8.8h0m.1-6.7h0m.1-21.2h0m0 1h0m.1 18.6h0m0 1.5h0m0 3.4h0m.1-20.4h0m0 .3h0m0 15.1h0m0 1.2h0m.2-19.1h0m0 22.4h0m0 9.2h0m.1-33.9h0m0 .7h0m0 2.3h0m0 19.6h0m0 .1h0m0 9.8h0m.1-38.3h0m0 4.9h0m.1 4.6h0m0 1.2h0m.1 14.7h0m0 1.1h0m.1 5.6h0m.1-5.3h0m0 1h0m.1-1.5h0m.1-.9h0m0 .6h0m.1-18.6h0m0 2.3h0m0 15.9h0m0 1.2h0m.3-31.6h0m0 8.9h0m0 23.3h0m.1-17.9h0m.1 .1h0m0 20.4h0m.1 1h0m0 8.5h0m.1-32.9h0m0 19.1h0m0 4.3h0m.2-20.8h0m0 21.1h0m.1-2.6h0m.1-18.6h0m0 1.3h0m0 19.8h0m.1-4.3h0m0 0h0m.1-18.8h0m0 20.3h0m.1-25.4h0m0 6.3h0m0 1.9h0m0 .7h0m0 14.5h0m0 1.2h0m0 1.8h0m.2-21.4h0m0 1.1h0m0 1.3h0m0 21.4h0m0 1.1h0m.1-23.4h0m.1 .2h0m0 17.6h0m0 3.9h0m.1-4.2h0m.1-17.1h0m0 1.4h0m0 16.5h0m0 7.6h0m.1-24.3h0m0 17.6h0m.1-28h0m0 26.4h0m.1-20.7h0m.2 .9h0m0 3.9h0m0 .4h0m0 0h0m.1-.7h0m0 16.3h0m0 .8h0m.1-19.3h0m0 18.9h0m.1 0h0m.2-17.4h0m0 16.9h0m.1-20.2h0m0 2.9h0m0 24.3h0m.1-25.8h0m.1-5h0m0 5.6h0m.1 24.1h0m.3-23.1h0m0 22.2h0m.1-23h0m.1-3.8h0m0 3.7h0m0 2h0m0 17.1h0m0 1.4h0m.1-1.2h0m.1-21.1h0m.1 4.4h0m.1-.2h0m0 .5h0m0 14.9h0m0 3.7h0m.1-31.3h0m0 30.8h0m.1-19.7h0m0 20h0m0 .7h0m0 .1h0m.1-20.5h0m0 16.9h0m.2-.3h0m0 .3h0m0 5.1h0m0 1.4h0m.1-24.2h0m0 18.7h0m.1-16.8h0m.2-3.5h0m0 .7h0m0 17.7h0m0 .7h0m0 3.6h0m.1-20.5h0m0 16h0m.1-14.5h0m0 14.5h0m0 .8h0m.1 2.1h0m.1 4.8h0m.1-25.7h0m0 1.8h0m0 18.9h0m0 10.2h0m.2-31.4h0m0 19.7h0m0 .8h0m0 .2h0m0 10.4h0m.2-27.2h0m0 20.7h0m.1-4.6h0m.1-24.1h0m0 .7h0m0 6.6h0m0 .5h0m.1 15.8h0m0 2.5h0m.1-22.8h0m0 2.7h0m0 19.1h0m.1-2.4h0m0 6.2h0m.1-4.2h0m.1 4.2h0m.1-23.4h0m.1-6.8h0m0 31.1h0m.1-29.2h0m0 24.2h0m.3 7.3h0m.1-29.1h0m0 19.9h0m.1-15.2h0m0 16.8h0m.1-16.8h0m.1-6.9h0m.1-12.5h0m0 19.2h0m0 16.8h0m.2-18.9h0m0 19.2h0m.1 2.6h0m0 1.2h0m.1-23.5h0m.1 2.7h0m0 18h0m.1-3h0m0 6.2h0m.1-26.6h0m0 23.4h0m0 6.4h0m.1-8.8h0m0 .1h0m0 1.5h0m0 1.1h0m0 .1h0m.1-1.3h0m.1-16.9h0m.1-2h0m0 18.9h0m.1-.9h0m.1-15.7h0m0 14.7h0m.1-15.7h0m0 20.4h0m.1-30.3h0m0 34.4h0m.1-26.7h0m.1 3.3h0m0 15.2h0m.2 0h0m.1 .5h0m0 1.2h0m.1-25.2h0m.1 5.4h0m0 18.8h0m.1-21.2h0m0 21.9h0m.1 4h0m.1 2.2h0m.2-26.6h0m0 18.8h0m0 2.2h0m0 1.4h0m.1-3.3h0m.1-17.9h0m0 .5h0m0 21.1h0m.1 1.4h0m.1-22.3h0m.1-1.5h0m.1 18h0m.2 1.5h0m.1 2.1h0m0 6.3h0m.1-26.4h0m.1 1.7h0m0 15.5h0m0 1.1h0m.2-19.4h0m0 1h0m0 18.4h0m0 2.4h0m.1-3.7h0m0 2.6h0m.1-23.3h0m0 3.3h0m0 1.4h0m0 23.5h0m.1-7.3h0m.1-.3h0m.1 .9h0m0 4.2h0m.1-23.6h0m0 24h0m.1-21.1h0m0 15.1h0m0 7.3h0m0 2.4h0m.1-29.2h0m.1 .5h0m0 20.8h0m.1-17.3h0m0 16.1h0m.1-18.5h0m0 1.6h0m0 .9h0m0 16.7h0m0 4.2h0m.1-22.5h0m0 19.1h0m.1 2.4h0m.1-20.1h0m0 19.2h0m.1-19.4h0m0 17.6h0m.1-17.1h0m.1 .2h0m.1-3.2h0m.1-2.2h0m0 .1h0m0 .5h0m0 22.5h0m.1-18.5h0m0 18.1h0m.1-21.8h0m0 1.2h0m0 20.3h0m.1-16.7h0m0 0h0m.3-4.3h0m0 3.6h0m0 16.6h0m.2 1.2h0m0 4.7h0m.1-28.6h0m0 4.1h0m.1 1.8h0m0 .7h0m.1-1.2h0m0 1.1h0m.1 0h0m0 15.6h0m0 1.1h0m0 .3h0m0 .8h0m0 .1h0m.1-26.7h0m.1 2.4h0m.1 5.4h0m.1-1.9h0m.1 .4h0m.1 2.7h0m0 15.2h0m.1-.1h0m.1-16.6h0m.2 18h0m0 2.1h0m.1-19.9h0m0 .8h0m0 16.5h0m0 .2h0m.1-17.6h0m0 1.5h0m0 15h0m0 .4h0m0 .1h0m0 7.6h0m.1-8.3h0m0 1.5h0m0 2.2h0m.2-3.2h0m0 2.9h0m.1-19.4h0m0 1.1h0m.1 15.6h0m.2-16.4h0m.1 15.7h0m.1-15.7h0m0 .2h0m0 16.3h0m0 8.6h0m.1-4.6h0m.1-3.2h0m.1-.8h0m.1-27.5h0m0 28.9h0m.1-1.9h0m0 3h0m.1-21.1h0m0 19.2h0m.1-18.6h0m0 2h0m.2 15.5h0m0 1.4h0m.1-26h0m0 24.4h0m.1 1.1h0m0 .2h0m0 12.2h0m.1-29h0m0 17.4h0m0 4.1h0m.1-5.5h0m.1-22.8h0m.1 7.6h0m0 17.2h0m.1-26.8h0m0 9.1h0m0 15.7h0m.1-16.6h0m.2-.4h0m0 17.2h0m0 4.5h0m.1-20.9h0m0 17.6h0m.1-.1h0m.1-2h0m.1-20h0m.1 4.1h0m0 .6h0m0 15.7h0m0 1.6h0m.1 3.7h0m.1-2.8h0m.1-23h0m0 .7h0m0 4.4h0m0 15.3h0m.1 2.3h0m.1-21.4h0m.1-5.6h0m0 3.9h0m0 2.9h0m0 2.7h0m0 17.7h0m.1 7.3h0m.1-10.1h0m0 5.1h0m.1-2.7h0m.1 3.7h0m.1-30h0m0 5.6h0m0 .6h0m0 30.8h0m.1-12.5h0m0 1.7h0m.1-19.5h0m.1 2.2h0m0 29.4h0m.1-34.2h0m0 5.2h0m0 20.2h0m0 .9h0m.1-21.7h0m0 16h0m0 1.6h0m.1 1.8h0m.1-22.9h0m0 1.4h0m0 24.2h0m.1-5.2h0m.1-20.1h0m.2 3.4h0m.1-13.6h0m0 12.9h0m0 .8h0m.1-1.4h0m0 1.8h0m.1-.6h0m0 21.8h0m.1-26h0m.1 1.3h0m.2 19h0m.1-17.9h0m0 17.8h0m0 2h0m0 1.7h0m.1-2.7h0m.1-16.6h0m0 15.6h0m0 .7h0m.1-1.4h0m.1-15.8h0m.1-.1h0m.1 17.7h0m0 5.3h0m.1-24.1h0m0 1.7h0m0 .6h0m0 14.8h0m0 2.6h0m.1-.7h0m.1-19.1h0m0 18.4h0m0 3.1h0m.1-2.5h0m.1-17.2h0m0 .7h0m.1-6.5h0m0 22.7h0m.1-.5h0m.2-1.3h0m.1-15h0m.1-4.1h0m0 1.1h0m0 1h0m0 2.3h0m.1-3.6h0m0 20.9h0m.1-23h0m0 2.6h0m0 18.7h0m.1-20.6h0m0 1.5h0m0 2.3h0m.1-2.9h0m.1 18.9h0m.1-17.8h0m0 19.2h0m.1-17.9h0m0 1.6h0m0 16.8h0m0 .2h0m0 2.6h0m.1-3.9h0m0 2.1h0m.1-.6h0m0 0h0m0 3.9h0m.1-5.2h0m0 4h0m.1 .1h0m.1-5.1h0m0 3h0m.1-1.7h0m0 .8h0m.2-18.2h0m.1-.3h0m0 17.9h0m0 6.9h0m.1-23.5h0m0 16.5h0m.2-22h0m0 20.8h0m0 .3h0m.1-19.8h0m0 20.5h0m.1-25h0m0 25.1h0m0 .8h0m.1-20.6h0m0 .8h0m0 23.1h0m.1-20.1h0m0 .1h0m.1-.6h0m.1-2.8h0m0 40.4h0m.1-22h0m.3 1.7h0m.2 .5h0m.1-23.6h0m0 5.5h0m0 22.1h0m.1-27.9h0m0 6.7h0m0 18.7h0m.1-21.2h0m.1 .6h0m0 1.4h0m0 16h0m.1 2.3h0m.1-26.3h0m0 7.7h0m.1-3.9h0m0 3.3h0m0 16.7h0m0 .6h0m.1-18.7h0m0 2.5h0m0 15.3h0m0 3.7h0m.1-19.1h0m.1-5.6h0m0 25.9h0m.1-28.8h0m0 26.3h0m.1-19.1h0m0 22.5h0m.1-22.2h0m0 17.8h0m.1-1.6h0m0 3.3h0m0 1.9h0m.1-3.2h0m0 7.4h0m.1-26.9h0m0 2h0m.1-1.8h0m.1 18.4h0m.1 5.4h0m.2-6.4h0m0 .5h0m.1-.3h0m.2 .6h0m0 1.8h0m.1-22.8h0m0 .4h0m0 4.4h0m0 16.2h0m.1-17.2h0m0 17h0m.1-17h0m0 0h0m0 1.5h0m.1-2.4h0m0 19.7h0m.3-19.5h0m0 .5h0m0 20h0m.1-19.7h0m0 .5h0m0 15.9h0m0 .3h0m0 0h0m.1-21.1h0m0 1.1h0m0 .5h0m0 20.4h0m.1-.8h0m0 1.5h0m0 1.2h0m.1-23.2h0m0 3.3h0m0 18h0m0 1.9h0m.1-29.6h0m.1 10h0m.1 17.4h0m.1-.2h0m.2-17.1h0m0 22.3h0m0 2.4h0m.1-27.4h0m0 2.8h0m0 17.2h0m0 2.4h0m.1-25.4h0m0 1.5h0m0 2.5h0m0 2.2h0m.1-4h0m.1 4.9h0m0 15.3h0m.1-21.4h0m.1 4.5h0m0 1.2h0m.1-7.9h0m0 26h0m.2-18.6h0m0 16.2h0m0 1.2h0m0 2.8h0m.1-22.9h0m0 .3h0m0 3.1h0m.1 0h0m0 15.9h0m.1-16.9h0m0 17.3h0m0 2.5h0m.1-31h0m0 10.7h0m.1 26h0m.1 2.3h0m.1-30.8h0m0 1.6h0m0 .1h0m.1 28.2h0m.2-26.3h0m0 18.4h0m.1-20.9h0m0 2.9h0m0 15.8h0m0 1h0m.1-17.8h0m0 18.6h0m0 .4h0m.1-22.1h0m.1-3.7h0m0 1.1h0m0 6.4h0m0 15.2h0m.1-15.4h0m.1 15.6h0m.1-16.8h0m0 .3h0m.2-3.5h0m0 22.9h0m0 12.2h0m.1-15.1h0m.1-20h0m0 1.4h0m0 19.8h0m0 .5h0m.1-1.5h0m0 2.2h0m.1 7.6h0m.1-6.7h0m.1-31.6h0m0 8.7h0m0 19.3h0m.1 .8h0m0 3.8h0m.1-4.6h0m0 .3h0m.1 4h0m.1-19.5h0m0 17.4h0m.1-17.4h0m.1-6.7h0m0 5.9h0m0 .3h0m0 17.1h0m.1-16.8h0m0 0h0m0 .3h0m0 16.3h0m.1-20.7h0m0 19.7h0m0 3.4h0m.1-19h0m0 15.9h0m0 2.4h0m.1-24.7h0m0 23h0m0 1.6h0m.1-19.8h0m.1 20.9h0m.1-32.6h0m0 10.7h0m0 19h0m0 .8h0m0 .8h0m.2-23.2h0m0 4h0m0 .2h0m0 18.4h0m0 4.2h0m.1-22.9h0m0 1.1h0m0 15.6h0m0 .7h0m0 .6h0m0 2.4h0m.1-3.3h0m.1-23.1h0m0 25.3h0m.1-28.8h0m0 10h0m0 16.2h0m0 2h0m.2-25.1h0m0 1.5h0m.1 4.1h0m0 .1h0m.1-3.2h0m0 22.7h0m.1-.4h0m.1-19.7h0m0 1.9h0m0 22.1h0m.1-24h0m0 22h0m0 6.4h0m.1-25.7h0m.1-6.1h0m0 22h0m.1-21.2h0m0 .4h0m0 4.8h0m0 15.3h0m0 .9h0m0 .4h0m.1-17.5h0m0 19.1h0m0 2.9h0m.1-4.3h0m0 .3h0m0 2.7h0m.1-24.6h0m0 4.7h0m0 20.4h0m.1-5h0m.2-14.5h0m0 15.2h0m0 4h0m.1-22.5h0m0 20.7h0m.1 4.6h0m.1-28.7h0m0 6.4h0m0 19.9h0m0 9.3h0m.1-13.7h0m0 .5h0m0 4.8h0m.1-21.8h0m0 16.7h0m.1-.9h0m0 8.8h0m0 1.3h0m0 5.5h0m.1-41.6h0m0 11.4h0m.1-3h0m.1 .7h0m0 27.2h0m.1-29.1h0m0 18.8h0m.1 .3h0m.1 .8h0m.1-19.8h0m0 .2h0m.1 18.5h0m0 .8h0m0 1.2h0m.1 2.6h0m.1-24.7h0m0 3.4h0m0 16.9h0m0 1h0m0 .3h0m.1 .4h0m0 2.1h0m.1-20.1h0m0 .9h0m0 18.1h0m0 .5h0m.1-19.9h0m0 1.7h0m0 14.8h0m.1-29.5h0m0 12.4h0m0 2.6h0m0 16.8h0m.1-.9h0m0 .8h0m0 .3h0m.1-20.5h0m0 .4h0m0 1.3h0m.1-.9h0m0 1.2h0m0 .8h0m.1 17.2h0m.1-21.7h0m0 1.5h0m.1-1.4h0m0 4.7h0m.2-.9h0m0 .1h0m.2 .4h0m0 15.8h0m0 1.3h0m.1-17.6h0m.1-3h0m0 21.4h0m0 .3h0m0 2.8h0m.1-27h0m0 6.8h0m.1 17.5h0m0 .1h0m.1-18.5h0m0 .7h0m.1-.7h0m0 .9h0m.2 25.1h0m.1-25.9h0m0 18.2h0m0 4.3h0m.1-6.9h0m.1 .6h0m.1 .3h0m.2-15.8h0m.3-3.6h0m0 20.1h0m0 7h0m.1-31.1h0m.1 6.3h0m.1-.9h0m0 1.9h0m0 16.4h0m0 .7h0m.1-19.9h0m0 3h0m0 21.4h0m.1-21.3h0m.1-5.6h0m0 26.1h0m.1-21.7h0m0 16h0m.1-18.8h0m0 2.5h0m0 .8h0m0 16.1h0m.1-20h0m0 20.5h0m.1-19.6h0m0 .3h0m.1 18.8h0m0 1h0m.1 3.7h0m.1-23.2h0m0 .2h0m0 1.7h0m0 .5h0m0 .4h0m0 15.2h0m.1-21.7h0m0 22.9h0m0 2.6h0m.2-26.4h0m0 5h0m0 1h0m0 18.2h0m.1-18h0m0 25.4h0m.1-24.8h0m0 15.6h0m0 .4h0m.1 .9h0m.1-20.9h0m0 19.8h0m0 .3h0m0 7.6h0m.1-32.9h0m0 4.4h0m0 28.1h0m.1-24.4h0m0 1.4h0m0 15.6h0m.2-19h0m0 21.4h0m0 1.6h0m.2-25.2h0m0 .1h0m0 5.9h0m0 15.2h0m.1-19h0m.1 3.8h0m0 15h0m0 3.6h0m0 .8h0m.1-23.6h0m0 .7h0m0 2.8h0m.2-10h0m.1 30h0m.1-19.4h0m0 16h0m0 2.3h0m.1-2.2h0m0 4.1h0m.1-5.3h0m.2-18.7h0m0 2.8h0m0 1.3h0m.2-2h0m.2-1h0m0 2.2h0m.2-2.6h0m0 1.1h0m0 17.4h0m0 6.8h0m0 .7h0m.1-7.8h0m0 3.3h0m.1-3.5h0m.1 1.6h0m0 2.1h0m.1-18.9h0m.1-7.2h0m0 1.9h0m.1 3.5h0m0 2.2h0m.1-2.3h0m0 2h0m0 15.2h0m0 1.4h0m.1-16.1h0m0 17.4h0m0 0h0m.1-22.5h0m.1 3.5h0m.1 1.6h0m0 14.7h0m.1-22.1h0m0 4.4h0m0 1.8h0m.4 .8h0m.2 15.2h0m0 .5h0m0 3.5h0m0 .7h0m.1-21.1h0m0 16.8h0m.1-15.7h0m0 16.8h0m.1-19.4h0m0 2.6h0m0 16.5h0m0 5.2h0m.1-24.6h0m0 18.2h0m0 .3h0m.1-35.6h0m0 20h0m.1 19.5h0m.1-19.1h0m0 .1h0m.1 16.6h0m0 1.4h0m.1-22.2h0m0 1.4h0m0 2.4h0m.1-12.3h0m0 6.8h0m.1 4.6h0m0 .5h0m0 15.4h0m0 .8h0m0 1.2h0m0 .2h0m.1-17.7h0m.1-.5h0m0 16.9h0m.1-15.9h0m.1 .5h0m0 14.7h0m0 6.3h0m0 .1h0m.1-23.3h0m0 2h0m0 15h0m.2-18.1h0m0 1.6h0m0 18.7h0m.1-2.1h0m0 0h0m0 .8h0m.1-19.5h0m.1 3h0m0 23.1h0m.1-23h0m.1-4.4h0m0 2.3h0m.1-.9h0m0 2.2h0m.1-2.5h0m0 2.3h0m.1-.9h0m0 1.1h0m0 16.5h0m0 .9h0m0 .1h0m0 8.6h0m.1-30.9h0m0 5.3h0m0 15.6h0m0 .9h0m.1-17.1h0m0 20.6h0m.1-22.8h0m0 2.6h0m.1 16.2h0m0 3.6h0m.2-19.1h0m0 .1h0m0 16.7h0m0 .3h0m0 5.9h0m.1-27.4h0m0 .9h0m0 18.6h0m.1 .6h0m0 9.5h0m.3-27.8h0m.1 .5h0m0 2.2h0m.1-8.9h0m0 6.2h0m.2 17.7h0m0 .5h0m0 1.5h0m.1-19.8h0m0 1.2h0m0 19.4h0m0 1h0m0 .1h0m0 .9h0m.1-24.6h0m.1 22.6h0m0 3.2h0m.1-5.1h0m.1-19.3h0m0 23.1h0m.1-21.6h0m.1 1h0m0 .6h0m.2-3.1h0m0 18.7h0m.2-19.5h0m0 21.8h0m.1 .1h0m0 1.7h0m.2-1.3h0m.1-18.3h0m0 16.1h0m0 3.7h0m.1-25.1h0m0 20.5h0m0 1.3h0m.2-18.6h0m0 17.9h0m0 8.7h0m.2-24.3h0m0 16.6h0m.1-30.1h0m0 11.9h0m0 20.7h0m.1-19.1h0m0 15.4h0m0 5.4h0m.1-22.7h0m0 17.3h0m.1-16.3h0m0 .7h0m0 18.4h0m.1-.9h0m.1-1.8h0m.1-23.9h0m0 3.1h0m0 3.2h0m0 1h0m0 1.5h0m0 21.9h0m.2-26.3h0m.1 23.8h0m0 2.3h0m.1-24.7h0m0 17.6h0m.1-16.7h0m0 17.1h0m0 3.7h0m.1-.6h0m.1-31.5h0m0 11.4h0m0 20.1h0m0 4.2h0m.1-25.4h0m0 17.9h0m0 1.8h0m.1-18.8h0m0 .8h0m0 17.3h0m.1-16.3h0m0 20.8h0m.2-4.8h0m0 .9h0m.1-18.6h0m.1-6.4h0m0 4.5h0m0 18.9h0m.1-.1h0m0 .6h0m.1-.3h0m0 4h0m.2-30.7h0m0 2.5h0m0 27.2h0m.1-20.7h0m0 19.1h0m.1-17.8h0m0 16.8h0m.1-24.2h0m0 6.3h0m.1-1.7h0m0 3.6h0m.2-3.8h0m0 19h0m0 .7h0m0 3.3h0m.1-20.3h0m0 16.5h0m0 2.5h0m.1-19.6h0m0 18.4h0m0 .2h0m0 1h0m.1-25.2h0m0 27h0m0 10.4h0m.1-30.2h0m.1-.7h0m0 .3h0m0 16.3h0m.1-15.9h0m0 .5h0m0 14.8h0m.1-21.8h0m0 2.5h0m0 4.7h0m0 15.1h0m0 8.6h0m.1-28.1h0m.1 4.2h0m0 15.5h0m.2-17.2h0m0 16.4h0m0 2.4h0m.1-18.9h0m0 20.9h0m.2-3h0m0 2.7h0m0 0h0m.1-24.5h0m0 5.3h0m0 17.5h0m.1-20.5h0m0 3.1h0m0 16.6h0m.1-19.9h0m0 3.4h0m0 18.3h0m0 .5h0m.1-27h0m0 8.5h0m0 14.5h0m.1 1.8h0m0 .4h0m.1-26.1h0m0 7.5h0m.2-4.1h0m.1 .9h0m0 4.7h0m.3-.8h0m0 16h0m0 9.4h0m.1-34.3h0m.1 9h0m0 .9h0m0 14.8h0m.1-15.5h0m0 18.3h0m.1-17.9h0m0 17.7h0m.1-18.1h0m0 18.4h0m.2-2h0m.1-15.8h0m0 15.9h0m0 1.7h0m0 1.2h0m0 1.5h0m.1-24h0m0 3.7h0m.1 14.8h0m0 .8h0m0 3.2h0m.1-3.6h0m0 .3h0m0 .3h0m0 1.1h0m.1 12h0m.1-11.6h0m.1-1.4h0m0 .9h0m.1-18.9h0m0 17.1h0m.1-16h0m0 18.7h0m0 4.9h0m.1-22.9h0m0 17h0m0 10.9h0m.1-27.5h0m.1-6.4h0m0 4.8h0m.1-1.1h0m0 1.7h0m.1-7h0m0 4h0m.1 2.5h0m0 28.9h0m.1-12.2h0m0 3.3h0m.1-28.7h0m0 7.6h0m0 .2h0m0 .6h0m0 1.9h0m0 16.4h0m.1-.8h0m.2 2.5h0m.2-3.5h0m0 2.1h0m.1-20h0m.1 21.5h0m.2-18.9h0m0 17.1h0m0 .1h0m.2-23.1h0m0 3.8h0m.1-2.4h0m0 21.1h0m0 .9h0m.1-21.2h0m0 21.9h0m.1-20.5h0m0 2h0m.2-1.5h0m.3 22.6h0m.1-20.3h0m.1 0h0m0 .3h0m0 14.6h0m0 2h0m0 .9h0m.1-19.3h0m0 16.9h0m0 4.8h0m.1-25.1h0m.1 3.5h0m0 .3h0m.1-7.3h0m0 7h0m0 21.7h0m.1-2.8h0m.1-22.1h0m0 20.5h0m.1-19.6h0m0 0h0m0 3.5h0m0 15.8h0m0 1.3h0m.1-16.6h0m0 14.8h0m.1-15.9h0m0 .8h0m0 .3h0m0 16.6h0m.1 .5h0m0 5.2h0m.1-32.3h0m0 27.7h0m.1-20.7h0m0 18.1h0m0 8.5h0m.1-26.4h0m0 20.5h0m0 1.6h0m.1-4.8h0m0 1.3h0m.1 1.2h0m0 1.7h0m.1-18.7h0m.1-1.5h0m0 .4h0m.3-2.4h0m0 2.7h0m0 15.8h0m0 2.3h0m0 1.8h0m.1-24h0m.1 19.8h0m0 .8h0m.1-18.8h0m0 18.6h0m.1 0h0m0 2.1h0m.1-19.1h0m0 19.1h0m0 .4h0m.1-20.5h0m0 17h0m0 .5h0m0 4h0m.1-4.1h0m0 .3h0m.1-16.4h0m0 17.2h0m0 0h0m.1-21.3h0m0 .3h0m0 2h0m0 .9h0m.1 .3h0m0 16.8h0m.1-15.4h0m.1-3.9h0m0 3.7h0m0 .4h0m0 23.3h0m.1-31h0m.1 6.5h0m0 16.9h0m0 4.4h0m0 2.7h0m.1-23.5h0m0 19.9h0m0 5.8h0m.1-8.3h0m.1-1.2h0m0 2.5h0m0 2.3h0m.1-22.7h0m0 24.8h0m.1-24.6h0m.1-.1h0m0 1h0m0 .1h0m.1 16.2h0m.1-17.1h0m0 .8h0m0 16h0m0 2.1h0m0 3.3h0m.1-22h0m0 1.6h0m0 15.9h0m0 2.7h0m.2-18.5h0m.1-2.9h0m.1 20.4h0m0 7.2h0m.1-30.6h0m0 21.2h0m0 4.7h0m.1-4.4h0m.1-17.3h0m0 17.7h0m0 1.7h0m.1-21.5h0m0 1.1h0m.1 18.9h0m.1-16.7h0m0 16.2h0m.1-28h0m0 10.2h0m0 17.3h0m0 5.4h0m.1-29.6h0m0 6.9h0m0 21.6h0m0 4.2h0m.1-24.9h0m0 1.6h0m.1-8.5h0m0 26.5h0m.1-21.3h0m.1 17.9h0m0 1.1h0m0 8.3h0m.1-8.3h0m0 1.1h0m0 .5h0m0 5.1h0m0 .1h0m0 .6h0m.1-28.9h0m0 20.4h0m.1-16.5h0m0 .9h0m0 .1h0m0 15.6h0m0 1h0m0 1.8h0m0 3.6h0m.1-21.9h0m0 17.1h0m.1-18h0m0 24.8h0m.1-29.8h0m.1 6.4h0m.1-.8h0m0 .5h0m0 .2h0m0 15.1h0m0 .9h0m.1-22.5h0m0 1.9h0m0 19.5h0m.1-18.2h0m0 1.9h0m0 1.7h0m.1 15.1h0m0 7.2h0m.1-6.5h0m.1 5.3h0m0 3.4h0m.1-7.4h0m0 1.2h0m.1-3.5h0m0 1.2h0m.1 .5h0m0 3h0m.1-21.9h0m0 .3h0m.1 1.3h0m0 15.5h0m0 1.7h0m0 9.2h0m.1-25.8h0m0 .3h0m.1-2.7h0m0 1.8h0m0 .8h0m0 .1h0m.1-4.3h0m0 2.4h0m0 16.7h0m.1-17.5h0m.1-.6h0m0 2.7h0m.1-.9h0m.2-1.2h0m0 17.7h0m0 .1h0m0 2.9h0m.1-18.7h0m.1-4.4h0m0 24h0m.1-21h0m0 17.6h0m0 1.8h0m.1-20.4h0m0 18.9h0m.1-22h0m0 1.2h0m0 .9h0m0 3.2h0m0 18.2h0m0 5.2h0m.1-4.2h0m.1-18.7h0m0 14.9h0m.1-15.6h0m0 15.7h0m.1 2.1h0m0 6.3h0m.2-7.3h0m0 .9h0m0 2.5h0m.1-20.4h0m0 1.2h0m0 16.4h0m.1-22.8h0m0 27.5h0m.1-1.2h0m.1-29.6h0m0 26.4h0m.1-1.6h0m0 3.6h0m.1-21.7h0m0 3.1h0m0 15.7h0m0 .3h0m.1-24h0m0 8h0m0 15.1h0m.1-16.4h0m0 16.4h0m.1-19.2h0m0 20.5h0m0 1.9h0m.1-19.5h0m0 17h0m0 2.1h0m.2-21.5h0m0 3.2h0m.1 .3h0m0 .1h0m.1 15.1h0m0 8.8h0m.1-24.8h0m0 18.7h0m.1 .6h0m.1-21h0m0 .9h0m.1-11.8h0m.1 2.1h0m0 29h0m.1-1.2h0m0 .8h0m0 3.4h0m0 5.2h0m.1-34.9h0m0 27.1h0m0 1.6h0m.1-19.6h0m0 14.5h0m.1-16.5h0m0 17h0m0 .5h0m0 .9h0m.2-22.6h0m0 21.2h0m.1-21.4h0m0 24.6h0m0 3.4h0m.1-23.9h0m0 20.4h0m.1-18.6h0m0 15.7h0m.1-17.7h0m0 1.6h0m0 24.6h0m.1-9.2h0m0 3.3h0m.1-20.4h0m0 20.5h0m.1-3h0m.1-23.7h0m.1 7.5h0m0 .9h0m0 17.7h0m0 1.7h0m.1-22h0m0 2.1h0m.1 16.9h0m.1-16.2h0m0 14.9h0m0 1.3h0m.1-.4h0m.1-26.6h0m0 4.1h0m0 21.6h0m0 3.2h0m.1-25h0m.1 5.9h0m.2 20.8h0m.2-24h0m0 19.2h0m0 3.8h0m.1-3.1h0m.1-16.9h0m0 19.8h0m.1-20.5h0m0 .1h0m0 1.8h0m0 15.1h0m.1 .2h0m0 .2h0m0 .8h0m.1-21.8h0m0 20.3h0m.1-26.3h0m0 5.5h0m0 25h0m.1-19.5h0m0 15.8h0m.1 2.9h0m.1-3.2h0m.2-21.4h0m0 27.6h0m.1-4.7h0m0 .6h0m0 .9h0m.1-23.8h0m.1 5.4h0m0 16.8h0m.1-27.6h0m0 27.7h0m0 .1h0m.1-.5h0m0 3h0m.1-.6h0m.1-21.9h0m0 22.1h0m.1-18.9h0m0 15.4h0m0 .9h0m.1-21.8h0m0 27.1h0m.1-26.9h0m0 3.5h0m0 1.4h0m0 19.3h0m.1 2.8h0m.1-22.9h0m0 17.7h0m0 1.6h0m.1-3h0m.1-21.7h0m.1 6.6h0m0 .3h0m.1 15.4h0m0 1.1h0m0 2.3h0m.1-22.4h0m0 22.1h0m.3-2h0m0 1.1h0m.1-20.7h0m0 21.2h0m.1-18h0m0 15h0m0 .1h0m0 .2h0m0 3.7h0m0 1.5h0m.1-21h0m0 15.6h0m.1-17.2h0m.2 17.7h0m0 5.9h0m0 .3h0m.1-25.9h0m0 20.4h0m.2-17.9h0m0 .3h0m.1 17.2h0m0 2.4h0m0 3.7h0m.1-5.8h0m0 .6h0m.1-16.8h0m0 15.5h0m0 1.1h0m.1-19.4h0m.1 17.6h0m0 1.1h0m0 3.6h0m.1-31.3h0m.2 9.7h0m0 27.9h0m.1-27.3h0m.1-8.3h0m0 5.6h0m0 3.9h0m.1 17.2h0m.1-1.8h0m.1 5.2h0m.1-21.7h0m0 18.4h0m0 .3h0m0 2h0m.1-26.2h0m0 6.8h0m0 15.1h0m0 2.9h0m.1-2.9h0m0 2.7h0m.1-18.9h0m0 .9h0m0 15.3h0m0 1.2h0m.1-17.2h0m.1-6.8h0m0 25h0m.2-27.7h0m0 26.2h0m.1-23.3h0m0 27.6h0m.1-22.1h0m0 17.7h0m.1-15.7h0m0 16.4h0m.2-19.9h0m0 .6h0m0 19.4h0m.1 2.7h0m.1-21.1h0m.3-.2h0m.2 23.2h0m.1-27.1h0m0 21h0m.1-18.8h0m0 .4h0m0 18.1h0m0 1.3h0m.1 .5h0m.2-1h0m.1-16.8h0m0 17.2h0m.1-16.7h0m0 15.9h0m.3-15.7h0m0 16.6h0m0 1.1h0m.1-22.7h0m0 21.4h0m0 5.9h0m.1-6.7h0m0 5h0m.1-21.5h0m0 .8h0m0 16.1h0m.1 0h0m0 8.1h0m.1-25.9h0m0 .3h0m0 18.2h0m.1-1h0m.1 3.6h0m0 .8h0m.1-32.8h0m0 5.5h0m.1 31.3h0m.1-32.6h0m0 5.3h0m0 2h0m0 17.2h0m0 9.3h0m.1-26.5h0m0 18.3h0m.2-26.6h0m0 9h0m.1-.3h0m.1-.9h0m0 19.5h0m0 1.4h0m.1-4h0m.1-15.2h0m0 .2h0m0 .3h0m0 18.4h0m.1 9.4h0m.1-27.8h0m.1-2.8h0m.2 .4h0m0 18.5h0m.1-17.3h0m.1-12.4h0m0 11.2h0m.1 1.2h0m0 20h0m.1-22.1h0m0 18h0m.1-30.8h0m0 33.8h0m0 .9h0m.1-22.1h0m0 29.9h0m.1-28.2h0m0 17.5h0m0 2.4h0m.1-20.5h0m0 2.3h0m.1-.4h0m0 16.8h0m0 2h0m0 1.4h0m.1-21.9h0m0 2.1h0m.1 15.4h0m0 2.1h0m.1 1.6h0m.1-20h0m.1-3.5h0m0 4.4h0m0 20.5h0m.1-5.5h0m.1-.1h0m0 2.8h0m0 2h0m0 .3h0m0 4.2h0m.2-24h0m0 17.3h0m.1-21.4h0m0 2.7h0m0 16h0m.1-33h0m.1 9.2h0m0 27.1h0m.1-1.8h0m0 1.9h0m.1-19.5h0m0 .6h0m0 16h0m0 7.6h0m.1-23.3h0m0 24.8h0m.1-26.4h0m0 17.4h0m.1-19.6h0m0 3.3h0m0 15.7h0m0 7h0m.1-6.8h0m.1-24.6h0m0 6.4h0m0 19.6h0m0 2.9h0m0 1.8h0m.1-21h0m0 15.8h0m0 4.4h0m.2 .8h0m.2-25h0m0 4.1h0m0 26.1h0m.1-6.5h0m0 2h0m.1-22.3h0m0 15.5h0m0 .9h0m.1-.4h0m.2-20.2h0m0 3.7h0m0 16.8h0m0 2h0m.1-24.8h0m.1 23.6h0m0 .9h0m.1-17.6h0m0 17.1h0m0 6.1h0m.1-24h0m0 .2h0m.2 16.7h0m0 .6h0m.1-1.5h0m.1-19.6h0m0 22.1h0m0 6.9h0m.1-27.7h0m0 2.5h0m0 17.7h0m0 3.7h0m.1-24.2h0m0 2.4h0m0 .3h0m.1-3.8h0m0 3.2h0m.1 18h0m.1-23.4h0m0 5.7h0m.1-4.5h0m.1-.4h0m0 22.2h0m.1-18h0m.1 17.7h0m0 3.2h0m.3-26.7h0m0 22.5h0m0 4.5h0m.1-21h0m.1-1.1h0m0 1.4h0m0 .5h0m0 .3h0m0 18.1h0m.1-2h0m.1-16h0m0 16.8h0m.1-25.2h0m0 6.1h0m0 2.6h0m0 15.2h0m0 0h0m0 4.9h0m.1-4.1h0m.1 .3h0m0 .5h0m.1-1.2h0m.1-17.2h0m.1 22.8h0m.1-24.9h0m0 1.7h0m0 17.3h0m.1-15.5h0m0 16h0m.1-24.1h0m0 6.6h0m0 2.1h0m0 17.4h0m.1-23.8h0m0 3.5h0m.1 2.7h0m.1-8h0m0 7.4h0m0 15.4h0m0 .1h0m0 2.8h0m0 4h0m.1 .4h0m.1-22.3h0m0 15.4h0m0 1h0m.1-.6h0m0 2.4h0m.1-24.8h0m0 5.4h0m.1 16.5h0m0 2h0m.1-20.7h0m0 .9h0m0 23.3h0m.1-22.7h0m0 1.2h0m0 18.3h0m0 1.3h0m0 4.8h0m0 .8h0m.1-4.8h0m.1-2.6h0m0 5.9h0m.1-24.6h0m.1-1.1h0m0 1.4h0m0 1.8h0m.1-2h0m0 17.7h0m.1 1.4h0m.1 1.3h0m0 .1h0m.1-19.7h0m0 17.3h0m0 .5h0m.1-.1h0m0 4.5h0m0 .5h0m.2-22.1h0m.1-2h0m0 21.2h0m.1-25.7h0m0 23.4h0m0 3.1h0m.1-28.2h0m0 6.7h0m0 16.6h0m0 1.2h0m0 .5h0m.1-21h0m.1 2.9h0m0 1.6h0m.1-3.3h0m0 .9h0m0 17.4h0m.1 2.6h0m0 7h0m.1-28.5h0m.1 .2h0m.1 18.4h0m0 1.1h0m0 7.6h0m.1-32.2h0m0 2.4h0m0 6.2h0m0 15.8h0m.1-20h0m0 25.8h0m.1-5.7h0m.2-16.4h0m0 15.6h0m0 1.2h0m0 1h0m0 2.4h0m.1-21.1h0m0 1.4h0m0 16.7h0m.1-22.5h0m0 4.9h0m0 16h0m0 1.4h0m0 2.5h0m.1-28.3h0m.2 25.2h0m0 4.6h0m0 .2h0m0 4.4h0m.2-9.9h0m.1 .7h0m.1-1h0m0 10.8h0m.1-9.4h0m.1-17.1h0m0 .6h0m0 15.4h0m0 3.3h0m.1-3.6h0m0 .4h0m.1-17.1h0m.1 0h0m.1-6.8h0m.1 28.2h0m.2-23.3h0m0 2.6h0m0 17.2h0m.2-.2h0m.1-19.2h0m0 2.7h0m0 .2h0m0 17.2h0m.1-19.8h0m0 19.5h0m.2-.3h0m.3 3.1h0m.1-4h0m0 .5h0m0 2.7h0m0 1h0m.1-2.5h0m0 .2h0m0 3.9h0m0 3.3h0m.1-29.4h0m0 .9h0m.2-.8h0m0 3h0m.2 1.4h0m.2-1.9h0m0 17.9h0m0 9h0m.1-4.3h0m.1-32.1h0m0 5.7h0m0 .3h0m0 1.5h0m0 27.6h0m.1-3h0m.2-22.3h0m0 .3h0m.1-3.3h0m0 4.1h0m.1 16.3h0m.1 1.4h0m.1-1.2h0m.2 1.2h0m0 .6h0m0 1.5h0m.1-3.8h0m.1-14.8h0m0 .1h0m0 20.2h0m.1-21h0m0 17.6h0m0 1.6h0m0 0h0m.2-26.1h0m.2 6h0m0 16.4h0m0 4.8h0m.1-4.6h0m.1 3.1h0m.1-3h0m0 0h0m.1-25.5h0m0 7.2h0m0 .3h0m0 20.3h0m0 .7h0m.2-2.4h0m0 1.9h0m0 5.4h0m.1-22.9h0m0 15.1h0m0 .6h0m0 2h0m.1-19.3h0m0 17.4h0m0 .7h0m.1-28.8h0m0 10.2h0m.1 16.8h0m0 1.9h0m.1-19.1h0m0 0h0m0 19.2h0m.1-19.4h0m0 .8h0m0 1.5h0m0 16.2h0m0 1h0m0 1.2h0m.1-19.5h0m0 16.2h0m0 4.6h0m0 .5h0m.1-3.4h0m.1 0h0m0 .7h0m.1-2.1h0m.1-24.2h0m0 7.3h0m0 .1h0m0 1.9h0m0 14.8h0m.1-17.3h0m0 18.7h0m.1-17h0m0 .5h0m.1 19.1h0m.1-21.4h0m0 2.2h0m0 15.1h0m0 1.3h0m0 .1h0m0 .5h0m.1-24.3h0m0 4.6h0m.1-7.7h0m0 25.9h0m0 4h0m.1-21.7h0m0 .2h0m.1-1.9h0m0 4.3h0m.1-3.5h0m0 18.6h0m0 1.2h0m0 2.1h0m.1-1.4h0m.1-19.9h0m0 0h0m0 2.1h0m0 17.1h0m0 1.2h0m.1-18.3h0m0 16.2h0m.2-17.5h0m0 19.4h0m.1 2.6h0m.1-20.1h0m0 16.7h0m.2-17.1h0m0 .3h0m0 0h0m0 15.3h0m.2-16.1h0m.1 16.1h0m.2 .4h0m0 1.4h0m.1-18.6h0m0 18h0m0 4.5h0m.1-29.5h0m0 8.2h0m0 15.4h0m.2-19.3h0m0 4.5h0m.1-.1h0m0 21h0m.2-21.4h0m0 15.9h0m0 4h0m.1-23.6h0m.1 23.4h0m.1-20.2h0m0 17.9h0m.1-22.7h0m0 21.3h0m0 .5h0m0 7.5h0m.1-27.3h0m0 .9h0m.1 19.2h0m0 1.5h0m.1-19.5h0m0 1.4h0m0 15.1h0m.1 .7h0m0 1.5h0m.1-1.3h0m.1-21.2h0m0 20.5h0m0 3.1h0m.3-26.6h0m0 7.6h0m.1 15.4h0m.1-19.6h0m0 20.4h0m0 3.1h0m.1-2.5h0m.1-16h0m0 25.2h0m.1-30.6h0m0 3.3h0m0 1h0m0 20.9h0m.2-19.9h0m0 16.4h0m0 .4h0m.1-18.7h0m0 1.1h0m0 16.5h0m0 4.3h0m.1-28.5h0m0 7.2h0m.1-5h0m0 4.6h0m0 .2h0m0 1.1h0m0 .2h0m0 16.7h0m.2-1.8h0m.1-22.4h0m0 6.6h0m0 1h0m0 14.8h0m0 .6h0m0 2.5h0m.1-30.3h0m0 9.5h0m0 3.1h0m.1-3.1h0m0 .7h0m0 17.1h0m0 3.9h0m.1-22.7h0m0 2.6h0m0 .2h0m0 .8h0m0 15.9h0m0 .5h0m0 .1h0m.1-.5h0m0 3.1h0m.1-19.6h0m0 .4h0m.1-.3h0m.2-9.8h0m0 26.2h0m0 3.3h0m.3-19.4h0m.2 17.1h0m.1 .1h0m.1-20.2h0m0 18.4h0m.1-21.8h0m.1 2.2h0m0 4.3h0m.1-4.6h0m0 2.5h0m0 .7h0m0 1.6h0m0 16h0m0 5.2h0m.1-3.8h0m.2-21.3h0m0 18.9h0m0 1.7h0m.1-1.2h0m0 .5h0m0 6.7h0m.1-32.1h0m0 7.7h0m0 24.5h0m.1-25.5h0m0 1.3h0m.1-6h0m0 4.9h0m0 21.4h0m.1-24.2h0m0 4.2h0m0 17.7h0m.1-.4h0m0 1.2h0m0 1h0m.1-18.1h0m0 14.7h0m.1-19.8h0m0 3.2h0m0 .6h0m0 17.5h0m.1-23.7h0m.2 22.4h0m.1-19.5h0m0 19.7h0m.1-15.3h0m.1-2.8h0m0 21.2h0m.1-21h0m0 17.6h0m.1 14.9h0m.1-31.4h0m0 1.5h0m.1-5.9h0m.2 .4h0m0 3.3h0m0 1.1h0m0 25.2h0m.1-47.6h0m0 17.4h0m0 2h0m0 3.2h0m0 20.4h0m.1-23.7h0m0 1.8h0m0 1h0m0 20.6h0m.1-25.8h0m0 23.9h0m.1-18.4h0m0 17.5h0m.1-18.2h0m0 .8h0m.2 .7h0m0 16.9h0m0 2.9h0m.1-3.8h0m.1-22.3h0m0 4.8h0m0 17.7h0m0 1.5h0m.1-17.6h0m0 20h0m.2-20.3h0m0 18.1h0m.1-19h0m0 1.1h0m.2-2h0m0 18.3h0m0 3.4h0m.1-21.5h0m0 17.6h0m0 1.8h0m0 4.9h0m.1-27.5h0m0 4.9h0m.1 20.8h0m.3-21.6h0m0 18.6h0m0 1.2h0m.1-19.3h0m0 16.6h0m0 3.1h0m.1-21.7h0m0 .5h0m0 2.2h0m0 15.4h0m.2-16.7h0m.1 .6h0m.1-2h0m0 1.5h0m0 .9h0m0 0h0m.1-2.3h0m.2 20.8h0m.1-2h0m.1-26.8h0m0 8.6h0m0 .8h0m0 17.6h0m0 .4h0m0 0h0m0 4.4h0m0 2.6h0m.2-27h0m0 2.7h0m0 16.6h0m.2-29.7h0m0 5.1h0m0 5.3h0m.1 .2h0m0 1.2h0m0 1.5h0m0 18.1h0m.1-20.3h0m0 2.7h0m0 18.3h0m0 2.4h0m0 .9h0m.2-29.9h0m0 32.9h0m.1-9.1h0m0 1.8h0m.2-21.1h0m0 2.8h0m0 16.7h0m.1-17h0m0 18.2h0m0 5.4h0m.1-6.5h0m0 1h0m0 8h0m.1-29.7h0m0 26.6h0m.1-22.7h0m0 20.8h0m0 2.2h0m.2-36.3h0m0 10.5h0m.1 18.5h0m0 8.6h0m.1-25h0m0 .7h0m0 16.7h0m.1 2.1h0m.1-22.2h0m0 23.7h0m0 1.2h0m.1-27.5h0m.1-3.1h0m0 1.9h0m.3-.5h0m0 4.7h0m0 3.7h0m.1-1h0m0 18.7h0m0 4.2h0m.1 5.6h0m.1-32h0m.1 4.3h0m0 .5h0m.1-6.1h0m.1 6.2h0m0 16.1h0m0 .2h0m0 .4h0m0 2.2h0m.1-19.5h0m0 .4h0m0 15.8h0m0 .6h0m.2-24.4h0m0 5h0m0 2.8h0m.1-.7h0m0 19h0m.1-24.8h0m0 5.3h0m0 17.3h0m.1-25.7h0m0 .3h0m0 3.9h0m0 23.7h0m.1-19.2h0m.1 15.8h0m0 14h0m.1-29.6h0m0 .8h0m0 14.8h0m.1-17.1h0m.2-2.7h0m.1 2.9h0m0 .5h0m0 1.6h0m0 15.6h0m.1 0h0m.2-.7h0m.2-18.6h0m0 18.5h0m0 1.4h0m0 3.6h0m.2-21.2h0m0 20.2h0m.1-20.4h0m0 23.4h0m.1-28.4h0m0 1.2h0m0 5.5h0m0 16.2h0m.1-19h0m0 19.7h0m.1-2.1h0m0 4.3h0m.1-4.3h0m.1 .8h0m0 .1h0m0 .3h0m0 1.1h0m.1-1.7h0m0 .9h0m0 0h0m0 1h0m.1 5.5h0m.2-6h0m.1 1.2h0m.1-21.2h0m0 19h0m0 .9h0m0 2.4h0m0 .6h0m.2-26.8h0m0 28.9h0m.2-4.6h0m.1-19.5h0m.1-1.3h0m0 2.1h0m0 .6h0m0 15.7h0m0 .3h0m0 .1h0m0 .3h0m.1-.8h0m.1-16.3h0m0 18.4h0m.1-21.7h0m0 4.8h0m0 20.9h0m.1-24.9h0m.1-.2h0m0 2.6h0m0 .7h0m0 20.2h0m.1-.7h0m.1-18.7h0m0 .2h0m0 16.3h0m.1-22.7h0m0 2.3h0m.1 0h0m0 19.9h0m0 3.8h0m.1-2.8h0m0 1h0m.1-24.6h0m0 2.9h0m0 19.3h0m0 .9h0m.1-17h0m0 16.1h0m.1 .6h0m.1-22.3h0m0 21.4h0m.1-15h0m.1 19.2h0m.1-23.5h0m0 4.5h0m0 20.3h0m.1-22.1h0m0 16.4h0m0 .1h0m.1-17.2h0m.1-6.4h0m0 6.6h0m0 .4h0m0 1.6h0m0 19.9h0m0 1.4h0m.1-24.4h0m0 1.4h0m0 20h0m.1-19.3h0m0 .9h0m0 17.1h0m0 10.1h0m.1-27.7h0m0 18.9h0m.2-19.5h0m0 18.5h0m0 0h0m0 5.2h0m.3-22.7h0m.1-3.9h0m0 1.6h0m0 1.6h0m0 16.9h0m.1-22.4h0m0 23h0m0 6h0m.1-23.2h0m0 15.9h0m0 1.1h0m0 3.6h0m0 4.5h0m.2-29.9h0m0 5.6h0m.1-2.8h0m0 .2h0m0 .7h0m0 17.6h0m0 .9h0m0 .2h0m0 .6h0m.1-20.8h0m0 3.3h0m0 15.3h0m.1 1.1h0m0 5h0m.1-.8h0m.2-21.1h0m0 22.1h0m.1-22.5h0m.1 21.5h0m.1 6.6h0m.1-7.5h0m.1-27.5h0m0 23.5h0" stroke="#000" stroke-width="1.50"/></g><path d="M357.1 386.30H506.2" stroke="#b8b8b8" stroke-width="1.1"/><path d="M362.0 386.30H501.0" stroke="#d82a30" stroke-width="2.2"/><rect x="357.1" y="335.8" width="149.1" height="101.2" fill="none" stroke="#747474" stroke-width="1.3"/><path d="M357.1 339.50V433.10M362.40 437.0H490.80M357.1 339.50h-3.6M357.1 362.90h-3.6M357.1 386.30h-3.6M357.1 409.70h-3.6M357.1 433.10h-3.6M362.40 437.0v3.8M383.80 437.0v3.8M405.20 437.0v3.8M426.60 437.0v3.8M448.00 437.0v3.8M469.40 437.0v3.8M490.80 437.0v3.8" stroke="#4d4d4d" stroke-width="1.2" fill="none"/><text x="352.40" y="344.20" font-size="12" text-anchor="end" fill="#1a1a1a">2</text><text x="352.40" y="367.60" font-size="12" text-anchor="end" fill="#1a1a1a">1</text><text x="352.40" y="391.00" font-size="12" text-anchor="end" fill="#1a1a1a">0</text><text x="352.40" y="414.40" font-size="12" text-anchor="end" fill="#1a1a1a">-1</text><text x="352.40" y="437.80" font-size="12" text-anchor="end" fill="#1a1a1a">-2</text><g fill="#000"><rect x="364.5" y="490.50" width="26.5" height="17.45"/><rect x="391.0" y="498.10" width="38.5" height="16.29"/><rect x="428.5" y="519.38" width="23.5" height="16.58"/><rect x="451.0" y="502.07" width="10.5" height="12.80"/><rect x="461.3" y="523.28" width="41.2" height="18.33"/></g><g stroke-linecap="square"><path d="M365.1 507.5h0m.1-24h0m0 4.5h0m0 19.8h0m.1-25.3h0m0 26.8h0m.1 2.5h0m0 .4h0m.1-22.6h0m0 18.6h0m.1-17.4h0m.1-13.3h0m0 11.7h0m0 26.1h0m.1-27h0m0 22.6h0m0 .9h0m.1-1.6h0m0 2.8h0m.1-2.9h0m.2-19.3h0m0 16.8h0m.1-20.2h0m0 2.4h0m.1 .1h0m0 18.1h0m0 1.8h0m.1-19.7h0m.1 18.1h0m0 5.7h0m.1-24.3h0m.1-6h0m0 6.2h0m0 25.7h0m.1-36.7h0m0 29.1h0m.1-18.9h0m0 .4h0m.3-5.6h0m0 2.5h0m.1 3.8h0m0 20.3h0m0 .4h0m.1-21.7h0m0 20.6h0m.1-18.9h0m0 17.5h0m0 2h0m.1-24.3h0m0 21.6h0m.2-26.3h0m.1 5.1h0m0 23.6h0m.1-23.1h0m0 2.6h0m0 18.7h0m0 2.2h0m.1-3h0m.1 .2h0m0 1.3h0m0 6.2h0m.2-24.9h0m0 0h0m.2-5.1h0m0 23.7h0m.1-1.3h0m0 4.8h0m0 2.6h0m.1-24.4h0m0 20.5h0m.2-1.3h0m.1-20.6h0m0 18.4h0m.1-19.6h0m0 .3h0m.2 20.6h0m.1-18.9h0m0 25.9h0m.1-2.4h0m.1-22.6h0m.1-5.5h0m0 3.6h0m0 22.2h0m.1-2.3h0m0 1.4h0m0 1.1h0m.1-.4h0m.1-24.9h0m0 2.5h0m.1 .6h0m0 1.1h0m0 .3h0m0 18.1h0m0 5h0m.1-26.5h0m0 21.3h0m0 4.4h0m0 11.3h0m.1-16.6h0m0 2.9h0m0 1.4h0m.1-22.3h0m0 18.3h0m0 .8h0m0 1.9h0m0 1.8h0m0 1.1h0m0 .9h0m.1-23.7h0m0 20.4h0m0 4.4h0m.1-5.8h0m.1-20.8h0m0 2h0m0 17.7h0m.1-17.6h0m0 17.7h0m0 2.8h0m0 .9h0m.1-25.5h0m0 20.6h0m0 .2h0m.1-23.1h0m0 24.2h0m0 .8h0m.1-27.5h0m0 7h0m0 .8h0m0 20.5h0m0 12h0m.2-34.4h0m0 23h0m.1-25.3h0m.1 5.4h0m0 16.6h0m.1 4.1h0m.1-3.3h0m0 .7h0m.1-20.9h0m0 .6h0m0 1.9h0m0 17.2h0m0 0h0m.1 3.9h0m.1-4.3h0m0 3.1h0m0 3.8h0m.1-27.8h0m0 3.5h0m0 18.1h0m0 6.9h0m.1-41.7h0m0 14.8h0m0 1.1h0m0 .7h0m.1 21.3h0m.2-23.8h0m.1-10.6h0m0 33.5h0m.2-20.3h0m0 17.4h0m.1-19.5h0m0 .1h0m0 21.9h0m.1-.8h0m.2-20.5h0m0 .9h0m0 20.4h0m0 13.2h0m.1-41.7h0m0 35.5h0m.1-29.3h0m.1 2.8h0m.1-1.9h0m0 2.4h0m0 19.7h0m.1-22.1h0m.1 2.1h0m.1-2.4h0m0 2.5h0m0 18.2h0m0 .3h0m.1-20h0m0 25.5h0m.1-28.7h0m0 23.2h0m.2-26.2h0m0 7.7h0m0 21.1h0m.1-4.2h0m0 1.9h0m.1-18.8h0m0 18.3h0m.1-26.7h0m0 5.3h0m0 1h0m.1-15h0m0 12.2h0m0 3.1h0m0 18.5h0m0 .7h0m0 1.8h0m.1-22.1h0m0 1.6h0m0 19h0m0 .1h0m.1-20.6h0m0 20.2h0m.1-.1h0m.1-19.5h0m0 2.3h0m0 18.5h0m.2-20.1h0m0 .1h0m.1-6h0m0 5.2h0m.1-2.1h0m.1 4.1h0m0 17.6h0m.1-20.5h0m0 1.9h0m0 19.2h0m0 2.5h0m.1-21h0m0 19h0m.1-19h0m0 17.8h0m.1-19h0m0 20.9h0m.1-2.2h0m0 9.6h0m.1-28.2h0m0 19.6h0m.1-1h0m0 3.7h0m.1-21.7h0m0 35.5h0m.1-17.8h0m0 .7h0m0 1.3h0m.1-21.5h0m.1 1.4h0m.1-7.9h0m0 35.4h0m.1-30.8h0m0 23.8h0m.1-23.8h0m0 21.9h0m.1-19.4h0m.1 1.2h0m0 21.8h0m0 2.8h0m.1-29.9h0m0 6.1h0m0 .3h0m0 23.3h0m.1-5.8h0m.1 .3h0m.2 3.4h0m.1-24h0m0 24.3h0m.1-22.2h0m.1-9.2h0m.1 27.5h0m.1 .7h0m.1-19.4h0m0 22.5h0m.1-24.9h0m0 26.1h0m.1-2h0m.1-26.7h0m0 4.1h0m0 1.1h0m0 .5h0m.2-3.8h0m.1 1.7h0m0 1.7h0m0 18.1h0m0 .5h0m0 1.7h0m0 4h0m.1-37.2h0m0 7.1h0m0 23.9h0m.1-19.6h0m0 0h0m0 20.3h0m0 .1h0m0 10.4h0m.1-32.3h0m0 3.7h0m0 18.8h0m.1-27.9h0m0 26h0m0 .7h0m0 .4h0m0 3.4h0m.1-28.6h0m0 2.3h0m0 23.6h0m.1-22h0m0 3.1h0m0 21.2h0m.1-23.4h0m.1-4.6h0m0 4.1h0m0 2.3h0m0 .8h0m0 21h0m.2-23.3h0m0 21.6h0m.1-19.4h0m0 20.3h0m.1-20.7h0m.1 .4h0m.1 23.2h0m.1-4.5h0m0 2.7h0m.1-39.2h0m0 15.8h0m0 1.8h0m.2-5.6h0m0 2.4h0m0 2.8h0m0 20.2h0m.1-22.6h0m0 20.9h0m.1-25.3h0m0 4h0m0 20.2h0m.1 1.1h0m0 1.6h0m.2-23.7h0m.1-4.6h0m0 8.6h0m0 20.4h0m.1-2.7h0m.1-22.7h0m0 3.3h0m0 .2h0m.1-.8h0m.1 22h0m0 3.5h0m.2-32.7h0m.1 34.2h0m.1-24.9h0m0 18.5h0m.1-19h0m0 21.2h0m.1-20.7h0m0 17.1h0m0 .3h0m.1-19.6h0m0 .9h0m0 19.4h0m.1-20.6h0m0 3h0m0 18.2h0m.1-1.8h0m0 7.9h0m.1-37.8h0m0 4.6h0m0 30.2h0m.1-4h0m.2-21.3h0m0 20.4h0m.1-17.5h0m0 .5h0m0 27h0m.1-9.4h0m.1-26.4h0m0 3.2h0m.1 3.9h0m0 .4h0m0 1.4h0m.1-9.6h0m0 3h0m0 24.3h0m0 .1h0m0 5.5h0m.1-23.2h0m0 17.2h0m0 0h0m.1 1.1h0m.1-20.5h0m.1-.2h0m0 1.3h0m0 1.1h0m0 18.6h0m0 2.5h0m.1-4.1h0m0 2h0m.1-19.8h0m0 19.3h0m0 8.9h0m.1-30.5h0m0 20.6h0m0 1.1h0m.1 3.2h0m.1-4.4h0m0 .9h0m0 3.4h0m.1 2.4h0m.1-24.3h0m0 17.3h0m.1-19.8h0m0 20.6h0m.1-17.8h0m0 17.2h0m0 2h0m.1-19.6h0m0 17.8h0m.2-19h0m0 18.6h0m0 4.4h0m.1-22h0m.1-3.6h0m0 4.5h0m.4-2.9h0m0 19.5h0m0 .5h0m0 3.4h0m0 .8h0m.2-24.4h0m0 2h0m0 18.9h0m.1-.6h0m.1-21.4h0m0 1.6h0m.2 19.6h0m0 9.5h0m.1-9.8h0m.1 7h0m.1-33.8h0m0 27.5h0m0 .3h0m0 3.2h0m.2-27h0m0 25h0m0 .1h0m.1-22.4h0m0 .2h0m.1 24.1h0m.2-27h0m0 2h0m.1 3.4h0m0 .3h0m0 17.4h0m.1-16.9h0m0 16.5h0m0 3.8h0m.1 11.9h0m.1-14.6h0m.1-32.8h0m0 13.6h0m.2 .5h0m0 18h0m.1-17.8h0m0 19.2h0m.1-18.5h0m.1-6.1h0m0 31.4h0m.1-28.1h0m0 25.9h0m.1-23.6h0m0 18h0m0 1.2h0m.1-2.2h0m0 .3h0m.1-16.9h0m0 20.5h0m0 8.1h0m.1-29.7h0m0 20.3h0m.1-26.6h0m0 7.2h0m0 17.9h0m0 .6h0m0 14.3h0m.1-40h0m0 6.4h0m0 17.9h0m0 4.4h0m.1-25.4h0m0 2.2h0m0 2.2h0m.1 27h0m.1-28.4h0m0 1.2h0m0 20.9h0m0 .7h0m.1-29.1h0m0 5.6h0m0 .8h0m0 .6h0m.1 0h0m0 19.3h0m0 4.5h0m.1-26.4h0m.1-2.6h0m0 5.8h0m0 16.4h0m0 .7h0m0 .8h0m0 4.9h0m.1-6.2h0m0 4h0m0 2.7h0m.1-34.1h0m0 28h0m0 1.6h0m.1-20.1h0m0 18.3h0m0 .7h0m.1-1.1h0m.1-18.3h0m.1-10.6h0m0 36.4h0m1.3-19.5h0m0 1.2h0m0 .9h0m0 18.1h0m0 1.2h0m0 .2h0m.2 .5h0m0 .7h0m.1-4.4h0m0 1.6h0m.1-.4h0m.1-19.6h0m0 2.3h0m.1 17.6h0m.1-20.8h0m0 2.6h0m0 .3h0m0 .9h0m0 .1h0m.1 20h0m.1 .5h0m.1-24h0m0 20.1h0m0 1.5h0m0 1h0m.2-21h0m0 22.5h0m.1-26.4h0m0 5h0m.1-1.7h0m0 2.6h0m0 18.6h0m.1-26.1h0m0 2.1h0m0 4.6h0m.1-2.6h0m0 20.2h0m.1-29.3h0m0 3.1h0m0 6.9h0m0 19.3h0m0 1.6h0m0 2.7h0m.1-4.7h0m0 2.5h0m0 4.3h0m.1-30.6h0m0 3h0m0 1h0m.1 1.5h0m0 1.8h0m0 16.1h0m.2 .1h0m.2 3.5h0m.1-22.2h0m0 2.1h0m0 29.2h0m.1-13.1h0m0 .1h0m0 .2h0m.1-20.7h0m.1 4.4h0m0 23.7h0m.1-28.9h0m0 4.6h0m0 0h0m0 .6h0m0 16.5h0m.1 1.5h0m.1-27.1h0m0 6.1h0m0 19h0m.1 0h0m0 .5h0m.1-18.6h0m0 2.5h0m.1 16.2h0m.1-17.7h0m.1 18.2h0m.2 .3h0m0 1.6h0m.1-2.5h0m.1-21.5h0m.1 4.8h0m0 17.4h0m0 .7h0m.1-20h0m0 17.7h0m.1 1.3h0m0 1h0m.1-17.7h0m.1-3.9h0m0 3.7h0m0 23.6h0m.1-24.7h0m0 17.1h0m0 11.1h0m.2-38.6h0m0 8.3h0m0 3.2h0m0 17.1h0m0 .1h0m0 1.8h0m0 3.6h0m.1-25.9h0m0 0h0m0 19h0m.1-15.9h0m0 16.2h0m.1-19.4h0m0 2.4h0m0 16.6h0m0 .4h0m0 5.4h0m.1-27.8h0m0 1.6h0m0 5.1h0m0 22h0m.1-25.4h0m0 1.1h0m0 .3h0m.1 1h0m0 .2h0m0 16h0m.1 1.5h0m0 2.4h0m0 8.1h0m.1-32.5h0m0 5.2h0m0 15.9h0m.1-22.8h0m0 6.7h0m.1-.8h0m.1-2.9h0m.1-.8h0m0 4.2h0m0 17.6h0m.2-18.5h0m.1 .5h0m0 .6h0m0 22.8h0m.2-30.6h0m0 .5h0m0 24.1h0m.2 3.1h0m.1-20.5h0m.1-3.6h0m0 1.2h0m0 2.4h0m0 .8h0m0 17.5h0m0 1h0m.1-2.5h0m0 .2h0m0 1.9h0m.1-26.4h0m.1 6.4h0m0 24.7h0m0 1.2h0m.1-28.6h0m0 3.4h0m.1 1.3h0m.2 20.4h0m.1-21.7h0m.1-6.8h0m0 3.4h0m0 22.1h0m.1 1.1h0m.1-26.2h0m0 7h0m0 17.6h0m.1-17.9h0m0 .3h0m0 16.3h0m0 1.8h0m.1 11.3h0m.1-31.3h0m.1-3.5h0m0 2.7h0m0 3h0m0 16.4h0m.1-.7h0m0 1h0m.1-16.9h0m0 18.1h0m0 6.1h0m.2-25h0m0 .1h0m0 21.7h0m.1-26h0m0 20.9h0m0 .8h0m0 1.9h0m0 2.6h0m.1-20.9h0m0 16.8h0m0 1.8h0m0 .3h0m.1-.5h0m.1-27.6h0m.1 25.6h0m0 1.2h0m.1-21.3h0m0 3.4h0m0 28.1h0m.1-33.2h0m0 24.8h0m.1-1.4h0m0 6.6h0m0 5h0m.1-32.6h0m0 3.2h0m0 15.8h0m0 .5h0m0 12.9h0m.1-31.7h0m0 2.5h0m0 17.7h0m.1-22.8h0m0 2.5h0m.1 19h0m0 0h0m.1 .6h0m0 5.4h0m.1-6.8h0m0 .4h0m.1-23.1h0m0 4.3h0m0 3.1h0m.3-.1h0m.2-2.8h0m0 .1h0m0 .9h0m.1 1.7h0m0 15.9h0m0 2.4h0m.1-20.7h0m0 .9h0m0 18.9h0m.1-21.7h0m0 4.1h0m0 17.2h0m.1-1.3h0m.1-17.1h0m.1-5.5h0m0 2.1h0m0 20.2h0m0 3.5h0m0 1.9h0m.1-20.7h0m0 16.7h0m0 3.3h0m.2-20h0m.1-4.6h0m0 21.2h0m.1-22.5h0m0 1.9h0m0 19.4h0m0 3.2h0m.1-18.9h0m0 16.5h0m0 1.1h0m0 3.1h0m.1-20.6h0m0 15.7h0m0 5.3h0m.1-2.9h0m.1-26.5h0m0 25.6h0m.1-18.1h0m0 16.9h0m.1-17.8h0m0 .7h0m0 16.5h0m0 .4h0m0 4.3h0m.1-21.4h0m0 1.4h0m0 16h0m.1-.5h0m0 1.4h0m.1 3.9h0m.1-22.5h0m0 18h0m0 2.5h0m.1-23.5h0m0 22.5h0m.1-19.3h0m.1-3.8h0m0 20.7h0m0 0h0m0 1.1h0m0 1.3h0m0 0h0m.1-19.1h0m0 .6h0m0 17.8h0m0 4.5h0m0 3.3h0m.1-4.2h0m.1-23.1h0m0 1.2h0m.1 17.2h0m.1-21.7h0m0 4.2h0m0 17.7h0m0 .9h0m0 .2h0m.1-21.8h0m.1-.6h0m0 20.7h0m0 .1h0m.1-22.1h0m0 22.7h0m0 1.9h0m0 4.8h0m.1-24.2h0m.3-6.7h0m0 6.1h0m0 17.2h0m.3 .5h0m0 1.7h0m.1-19.1h0m0 17.2h0m.1-18.5h0m0 2.3h0m0 16.7h0m0 .6h0m.1-21.4h0m0 1.8h0m0 27.2h0m.1-34.3h0m0 6.1h0m0 2.4h0m0 17.6h0m0 0h0m0 8.8h0m.2-36.5h0m0 5.2h0m0 24.4h0m.1-19.2h0m0 19.3h0m0 2.7h0m.1-3.8h0m.2-22.2h0m0 2.8h0m0 17.8h0m0 .8h0m.1 6h0m0 1.6h0m.1-28.8h0m.2 22.7h0m0 5.8h0m.2-24.7h0m0 16.5h0m0 2h0m.1-29.9h0m.1 35.4h0m.1-5.1h0m.1-18.5h0m0 18.6h0m.1-19h0m.1-1.3h0m0 26h0m.1-25.3h0m.2 19.8h0m.1-23.9h0m0 25h0m.1-1.8h0m.2-25.8h0m.1 6.1h0m.1 28.3h0m.1-28.5h0m0 20.5h0m.1-2.7h0m0 5.1h0m.1-36.1h0m0 4.9h0m0 8.6h0m0 2.2h0m.2 0h0m.2-.3h0m0 16.3h0m0 4.3h0m.1-31.7h0m0 8.9h0m0 .9h0m0 19.1h0m.1-19.1h0m0 1.4h0m.1-.4h0m.2-6.4h0m0 5.3h0m0 .6h0m0 .1h0m0 17.4h0m0 3.1h0m0 3.5h0m.1-7.6h0m0 .3h0m.1 1.3h0m.1-21.1h0m0 2.7h0m0 1.3h0m0 16.6h0m.1-19.7h0m0 .7h0m.1 2.2h0m0 22.5h0m.1-25.6h0m0 1.6h0m0 18.7h0m.2-23.1h0m0 21.8h0m0 .9h0m0 2.4h0m.1-23.5h0m0 21.4h0m0 .5h0m.1-17.7h0m0 16.5h0m.1 7.8h0m.1-33.6h0m.1 9.5h0m.1 15.5h0m.1-18.5h0m.1 19.6h0m0 .8h0m.1-22.9h0m0 5.3h0m0 15.7h0m0 .6h0m.1-19.2h0m0 20.5h0m.1 4h0m0 .4h0m.1-31.8h0m.1 6.1h0m0 1.8h0m0 19.6h0m0 .2h0m.1-21.6h0m0 20.2h0m0 2.2h0m.1 .5h0m.2-20.7h0m0 17.9h0m.1-21h0m0 2.7h0m0 1.2h0m0 16.8h0m.1-16.9h0m0 26.4h0m.1-30.3h0m0 4.7h0m0 16.7h0m.1 1.1h0m0 4.5h0m0 1.2h0m.1-26.7h0m.1 2.2h0m0 16.7h0m0 2.1h0m.2-24.2h0m0 1.2h0m0 2h0m0 22.6h0m0 1.1h0m.1-22.3h0m0 18.3h0m0 12h0m.1-35.6h0m0 4.6h0m0 23h0m0 1.1h0m.1-4.4h0m0 3.3h0m.1-23.3h0m0 2.6h0m.1-2.2h0m0 22.9h0m.1-23.4h0m.1 2.1h0m0 24h0m.1-25.2h0m0 1.8h0m0 0h0m0 .5h0m0 19.3h0m.1-22.9h0m0 2.9h0m.1 .8h0m0 23.6h0m.1-23.5h0m0 18.9h0m0 8.6h0m.2-35.5h0m0 7.5h0m0 19.2h0m0 9.4h0m.1-30.4h0m0 2.3h0m.2-4.6h0m0 25.7h0m.1-25.9h0m0 23.6h0m.1-22.1h0m0 18.6h0m0 1.8h0m.1-18h0m0 16.9h0m.1-21.6h0m.1 4.5h0m.1-1.5h0m0 19.4h0m.1-24.4h0m.1 6.9h0m0 .5h0m.1-.7h0m0 16.4h0m.1-19.2h0m0 .7h0m0 2.5h0m.1-5.6h0m0 22.4h0m.1-25.4h0m0 3.2h0m0 23.2h0m.1-21.9h0m0 3.1h0m.1-4.5h0m0 24.6h0m0 2.5h0m.1-.1h0m.1-21.2h0m0 16h0m0 2.4h0m.1-23.8h0m.1 4.8h0m0 18.3h0m0 3h0m.1-21.1h0m.1-1.9h0m0 19h0m.2 .4h0m0 .2h0m.1 1.6h0m.1-19.8h0m0 17.9h0m.1-18.1h0m.1-2.4h0m.1 2.7h0m0 .4h0m.1-2.2h0m0 .7h0m0 .1h0m0 19.7h0m.1-18.2h0m.1-1.9h0m.1-6.5h0m.1 4.3h0m0 20.6h0m0 .8h0m0 3.4h0m.1-4.2h0m0 .2h0m0 .2h0m0 7.7h0m.1-38.2h0m0 4h0m0 29.3h0m.1-21h0m0 .5h0m0 18.3h0m0 4.4h0m.1-26.5h0m0 20.6h0m0 .6h0m.1 1.3h0m.1-20.4h0m0 .5h0m0 18.9h0m0 1.8h0m.1-21.7h0m.1 18.7h0m.1-21h0m0 23.9h0m0 3.9h0m.1-33.3h0m.1 27.9h0m0 .6h0m0 1.2h0m0 5.7h0m.2-7.8h0m.1 1.8h0m.2-26.3h0m0 23.7h0m.1-17.7h0m0 0h0m0 .1h0m.2-2.5h0m0 23h0m0 0h0m0 .4h0m.1 1h0m.1-4.3h0m.1-18h0m0 2.4h0m.1-.1h0m0 15.8h0m0 4.8h0m.1-21.5h0m0 21.3h0m.1-22.6h0m0 17.8h0m.1 .4h0m0 .7h0m.1 0h0m.1 .5h0m.1-21h0m0 3.2h0m.1-6.5h0m.1-1.2h0m0 24.1h0m0 .4h0m0 23.6h0m.1-46.2h0m.1 24.2h0m0 2.1h0m0 3h0m.1-28.1h0m0 5.3h0m.1-.5h0m0 16.7h0m.1-30.3h0m0 35.7h0m.1-28h0m0 4.6h0m0 17.6h0m.1-16.9h0m.2 23.5h0m.1-26.1h0m0 19.9h0m0 13.6h0m.1-42.2h0m0 9.7h0m.1 18.9h0m0 .2h0m0 6.4h0m.1-25h0m.1 1.1h0m0 20.1h0m.1-31.3h0m0 10.5h0m0 17.3h0m0 .3h0m0 1.1h0m.1-21.4h0m0 20h0m0 .4h0m0 1.6h0m0 1.2h0m.1-21.3h0m0 2.6h0m.3 15.5h0m0 1.9h0m.1 1h0m0 .1h0m.1-28.1h0m0 29.9h0m.1-4h0m0 7.2h0m.1-23.6h0m0 16.1h0m0 .5h0m0 .8h0m0 1.2h0m0 8.9h0m.1-28h0m0 16.8h0m0 1.2h0m.2-17.6h0m0 16.9h0m0 0h0m.1-18.8h0m0 27.5h0m.1-25.9h0m0 23.1h0m.1-31.4h0m.1 6.4h0m0 1.2h0m0 19.7h0m.1-19h0m0 .2h0m.1-5.9h0m0 22.9h0m.1-22.2h0m0 23.4h0m.1-1.3h0m0 .1h0m0 .7h0m.1-.9h0m.1-22.7h0m.1 22.5h0m0 1.9h0m0 10.8h0m.1-31.3h0m0 1.8h0m0 15.9h0m0 7.5h0m.1-27.5h0m0 26.5h0m.1-3h0m.1-19.4h0m.1-1.7h0m0 .2h0m0 1.8h0m0 .1h0m0 17h0m.1-18.8h0m0 1h0m0 .2h0m0 17.2h0m.3-21h0m0 1.9h0m0 .3h0m.1 18.7h0m0 2.5h0m.1-19h0m0 16.4h0m0 .6h0m.1-18.7h0m0 17.5h0m0 .9h0m0 .3h0m0 1.7h0m.1-21.3h0m0 2.4h0m.1 16.1h0m0 .3h0m0 0h0m0 2.5h0m.1-.1h0m0 5.7h0m.1-27.3h0m0 1.2h0m.1 17.3h0m0 .9h0m0 1.5h0m0 1.5h0m.1-21.1h0m0 20.2h0m.1-25.3h0m0 2.6h0m.1-.4h0m.1 1.5h0m.2 1.1h0m0 17.7h0m0 1.5h0m0 .2h0m.1-17.6h0m0 16.7h0m0 1.4h0m.1-21.5h0m.1 2.1h0m0 21h0m.1-4h0m0 6.7h0m.1-22.6h0m0 16.4h0m0 2h0m0 7.9h0m.1-30.8h0m.1-10.1h0m0 11.2h0m0 1.4h0m0 1.6h0m0 17.2h0m0 1.3h0m.1-19.6h0m0 19.7h0m0 1.4h0m.4 .3h0m.1-5h0m0 .2h0m0 29.2h0m.1-22.5h0m0 17.5h0m.1-1.7h0m.1 6.1h0m.1-24.2h0m0 1.2h0m0 1.2h0m0 22.3h0m.1-28.8h0m0 23.1h0m0 3.3h0m.1-22.3h0m0 1.8h0m.1 21.7h0m.1-23.6h0m.1 20.1h0m.2 .8h0m0 .3h0m.1-22.4h0m0 19.3h0m.1 .7h0m0 .2h0m.1 .3h0m0 .5h0m.1-19.6h0m0 1h0m0 17.4h0m.1-18.9h0m.1 .2h0m0 .5h0m0 1.9h0m.2 16.3h0m.1-16.5h0m0 17.1h0m0 7h0m.1-25.2h0m.1-1.9h0m0 .6h0m.2-7.2h0m0 9.2h0m0 16.7h0m0 2.2h0m.1-19.3h0m0 17.7h0m0 2.8h0m0 .4h0m0 2.1h0m.1-28.1h0m.1 1.7h0m.1 21h0m.1-20.9h0m.1 1.6h0m0 1.1h0m0 1.7h0m0 18.7h0m.1-30.7h0m0 4.6h0m0 6.3h0m0 20.9h0m0 4.8h0m.1-30.3h0m0 3.8h0m.1 .2h0m0 17.5h0m.1 4.5h0m.1-22.8h0m0 .8h0m0 23.5h0m0 1h0m.1-23.7h0m.1 18h0m0 7h0m0 3.4h0m.1-27.4h0m0 .1h0m.1-.6h0m0 .2h0m.1-5.6h0m0 2.5h0m0 2.1h0m0 .2h0m0 17.4h0m0 1.7h0m.1 4.8h0m.1-23.2h0m0 19.3h0m.4-21.5h0m0 1.7h0m0 .4h0m0 17h0m.1-19.8h0m0 .1h0m0 1.8h0m0 .4h0m0 .3h0m0 .4h0m0 21.6h0m.1-31.5h0m0 6.1h0m0 .1h0m.1 2.2h0m.1-5.6h0m0 23.2h0m0 .1h0m.1-23.3h0m0 23.6h0m0 4.7h0m.1-5.4h0m.1 3.4h0m.1 .6h0m0 2.2h0m0 2.5h0m.1-25.3h0m0 .1h0m.1 .3h0m0 .8h0m0 18.2h0m0 8.3h0m.1-32.2h0m0 2.6h0m0 1.1h0m0 1.2h0m0 .7h0m0 20.9h0m0 .4h0m.1-32.3h0m.1 11.1h0m.1-.3h0m0 18.4h0m.2-23.3h0m0 1.4h0m0 1.7h0m0 17.8h0m0 .9h0m0 3h0m0 .8h0m0 14.3h0m.1-40.9h0m0 5.6h0m0 16.8h0m0 3.3h0m.2-2.6h0m.1 3h0m0 15.1h0m.1-37.2h0m0 .4h0m0 .9h0m0 .2h0m0 .6h0m0 19.2h0m.1-21h0m0 19h0m0 .3h0m0 .6h0m.1-20.6h0m0 18.6h0m0 3.5h0m.1-22.9h0m0 1.3h0m0 18.4h0m0 4.2h0m.1-21.8h0m0 17.5h0m.1-22.1h0m.1 4.7h0m0 22.9h0m.1-27.9h0m.1 6h0m0 15.9h0m.1-26.3h0m0 10h0m0 23.5h0m.1-27.1h0m0 2.9h0m0 17.8h0m0 .4h0m0 5.5h0m.1-28.6h0m0 3h0m0 1.3h0m0 21.2h0m.1-20.2h0m0 18.4h0m.1-26.7h0m.1 6.5h0m0 18.2h0m.1 8.8h0m.1-4.8h0m.1-24.2h0m0 21.4h0m.1-26.7h0m0 26.4h0m0 4.1h0m0 1.2h0m.1-25h0m0 .7h0m.1-.4h0m0 2.8h0m0 22.5h0m0 14h0m.1-17.4h0m.1-2.7h0m0 .6h0m.1-17.7h0m0 .5h0m0 16.6h0m.1-19.8h0m0 23.1h0m.1-21.4h0m0 .1h0m0 1.1h0m0 .1h0m0 16.2h0m.2-23.7h0m0 24.1h0m0 .9h0m0 1.4h0m.1-21.3h0m0 1.3h0m0 17.1h0m0 .1h0m0 .6h0m0 1.3h0m0 .4h0m0 3.4h0m.1-29.5h0m0 8h0m.1-1.5h0m0 17.4h0m0 .7h0m0 .7h0m.1-20.3h0m0 1.8h0m0 18.4h0m0 .3h0m.1-23.2h0m.1 4.9h0m0 22h0m.1-26.1h0m.2 21.3h0m.1-20.2h0m0 1.6h0m.1 18.1h0m.1-25h0m.1 8.5h0m0 16.8h0m.1-18.1h0m0 .3h0m0 .2h0m0 17.6h0m0 5.9h0m.2-3.4h0m.1-21.4h0m0 1.4h0m0 18.5h0m.2-18.6h0m0 18.4h0m.1-21.2h0m0 3.2h0m.1 16.8h0m0 2h0m0 2.1h0m.1-3.9h0m0 .8h0m.1-17.1h0m.1-2.6h0m0 .3h0m0 18.4h0m0 .8h0m0 3.5h0m.1-.5h0m.1-20h0m0 19.3h0m.1-22h0m.1 3.2h0m.1-1.7h0m0 .4h0m0 21.9h0m.1-28h0m0 3.1h0m0 .9h0m.2 20.1h0m0 2.3h0m.1-22.7h0m0 2h0m0 18.2h0m0 1.7h0m.1-21.7h0m0 3.3h0m0 22.6h0m.1-23.9h0m0 28.7h0m.1-29h0m0 .8h0m0 1.1h0m0 26.2h0m.1-10h0m0 .6h0m0 1.2h0m.1-26.6h0m0 6.2h0m.1 1.6h0m0 .2h0m.1-2.6h0m0 2.7h0m0 21.7h0m0 1.1h0m.1-25.6h0m0 26h0m.1-27.5h0m.1 26.8h0m0 11.3h0m.1-15.1h0m0 .8h0m.1-2.2h0m0 1.8h0m0 4.7h0m.1-25.5h0m0 2.2h0m0 26.2h0m.1-26.3h0m0 .1h0m0 23.4h0m.1-5.5h0m0 .5h0m.1-22.4h0m0 21.2h0m0 6.6h0m.1-23.9h0m.1-3.7h0m0 1.6h0m0 19.1h0m0 2.4h0m.1-1.7h0m.1-19.4h0m0 .7h0m0 21.5h0m.1-25.2h0m0 2.4h0m0 19.6h0m.1-18.5h0m.1 25.5h0m.1-29.9h0m0 3h0m0 26.8h0m.1-4.5h0m.1-19.8h0m0 19.7h0m.2-31.1h0m0 27.9h0m.1-23.7h0m0 3.7h0m0 23.8h0m.1-26.2h0m0 23.8h0m0 1.5h0m.1-1.4h0m.1-19h0m0 16.8h0m0 3.5h0m.1-27.4h0m0 30.2h0m0 .6h0m.1-23.5h0m0 18.4h0m.2 1.4h0m0 4.9h0m.1-26.4h0m.1 2.6h0m.1 16.3h0m0 .8h0m0 11h0m0 6.1h0m.1-38.2h0m0 .6h0m0 1.4h0m0 2.1h0m0 26.4h0m.1-30.3h0m0 2.9h0m0 16.8h0m0 .2h0m0 .1h0m0 1.8h0m.2-23.8h0m.1-3.1h0m0 8.1h0m0 .2h0m0 .1h0m.1-4.1h0m0 4.6h0m0 .1h0m.1-.8h0m.1 22.7h0m.1 1.3h0m.1-27.7h0m0 4.4h0m.1-2h0m0 1.4h0m.1-3.7h0m.2 22.7h0m.1-23.5h0m0 21.2h0m0 .7h0m.1-16.9h0m0 .3h0m0 16.1h0m0 1.4h0m0 .2h0m0 11.1h0m.1-37h0m0 5.7h0m0 .6h0m.1-3.7h0m0 4.2h0m0 18.8h0m.2-1.7h0m.1-24.9h0m0 7.7h0m0 .5h0m0 18.1h0m0 .9h0m.1-22.5h0m.2 4.2h0m.2-10.3h0m0 9.5h0m.1 17.1h0m0 4.4h0m.1-24h0m.1 2.4h0m0 .2h0m0 0h0m0 .3h0m0 16.6h0m0 5.5h0m.1-25.6h0m.1 .8h0m0 .8h0m0 1.3h0m0 .7h0m.1-3h0m.2 2.9h0m0 17.9h0m0 9.2h0m.1-30.1h0m0 3.5h0m0 15.9h0m0 4.6h0m0 0h0m.1-4.5h0m.1-22.2h0m0 22h0m0 6.3h0m.1-30.6h0m0 5.8h0m0 2.1h0m.2 .4h0m0 20.9h0m.1-20.7h0m0 17.5h0m0 1.2h0m.1-21.8h0m.1 21.6h0m.1-21.1h0m0 18.3h0m0 1.5h0m.1-17.2h0m0 16.1h0m0 2.9h0m.2-19.8h0m0 .6h0m0 0h0m0 25h0m.1-27.8h0m0 2.8h0m.1 16.2h0m0 2.7h0m.1-19.4h0m0 17.9h0m0 6.6h0m.1-32.3h0m0 3.9h0m0 25.2h0m.1-23.1h0m0 2.4h0m0 17.1h0m0 3.8h0m.1-24.6h0m0 3h0m.1-2.5h0m.3-1.7h0m.2-.3h0m.1-15.1h0m.1-.5h0m0 3h0m0 12.4h0m.1-19.5h0m0 22.9h0m.1-16.4h0m0 13.4h0m0 .6h0m.1-14.8h0m0 16.7h0m.2-17.8h0m.1 1.8h0m.1 14h0m.1-13.5h0m0 12.8h0m.1-17.3h0m0 17.1h0m0 1.5h0m0 .8h0m.2-17.8h0m0 .2h0m0 .8h0m0 1.1h0m0 13.8h0m.1-17.4h0m0 5.2h0m.1-1.1h0m0 13.7h0m.1-15.9h0m0 2.3h0m0 14h0m0 .2h0m0 .7h0m.1-16.8h0m0 2.8h0m0 12.6h0m0 1.1h0m0 .6h0m.1-15.3h0m0 13.6h0m.1-16.4h0m0 3.2h0m0 13.5h0m.1-17.8h0m0 4.5h0m0 16.4h0m0 1.7h0m.1-22.1h0m0 3.2h0m0 15h0m.2-14.1h0m.1 12.7h0m.1-19.6h0m0 5.7h0m0 .2h0m0 14.2h0m.1-14.4h0m0 .3h0m.1 1.2h0m0 17.2h0m.1-20.6h0m0 16.1h0m.1-16.8h0m.1 2.8h0m0 0h0m0 .7h0m0 13.4h0m.1-15.2h0m0 14.4h0m.2-.1h0m.1 1.8h0m.1 1.1h0m0 3.5h0m.2-19.3h0m0 13.8h0m.1 2.2h0m.1-18.3h0m0 1.9h0m.1-1.5h0m0 2.5h0m0 14.4h0m.1-.5h0m.1-22.3h0m0 20.8h0m0 5.2h0m.1-22.1h0m0 3.1h0m0 14h0m0 .3h0m0 1.6h0m0 .9h0m.1-16.9h0m0 16.1h0m0 0h0m.1-15.5h0m0 18.8h0m.1-4.1h0m.1 1.3h0m.1-17.6h0m0 18h0m.1-22.5h0m0 5.5h0m0 1h0m0 13.7h0m0 4.4h0m.1-39.9h0m0 13.8h0m0 1.3h0m0 .2h0m0 20.5h0m.1-1h0m.1-15.5h0m0 .2h0m0 17.6h0m.1-18.2h0m0 16.4h0m.1-16.2h0m0 2.8h0m.1-5.8h0m.1 2.3h0m0 18.1h0m.1-15.1h0m0 13.3h0m0 1.2h0m0 2.2h0m.1-19.4h0m0 20h0m.1-22.7h0m0 3.8h0m0 1.1h0m0 .5h0m0 13.6h0m0 .3h0m0 1.6h0m0 .4h0m.1-21.2h0m0 19.6h0m.1-26.5h0m0 25.4h0m0 .7h0m.2-17.8h0m0 4.7h0m.1-10.1h0m0 8.2h0m0 15.6h0m0 1.6h0m.1-18h0m0 1.5h0m0 15.2h0m0 .1h0m.1-14.8h0m0 14.6h0m0 2.3h0m0 2.1h0m.1-19.9h0m0 1.4h0m0 .8h0m.1-2.9h0m0 3h0m0 14h0m0 .6h0m0 .8h0m.1-17.5h0m0 14.1h0m.1 .1h0m0 .5h0m.1-17.6h0m0 4.2h0m0 15.1h0m.1-15h0m0 .3h0m0 12.2h0m.1 .6h0m0 2.2h0m.1-1.1h0m0 1.6h0m.1-18.2h0m0 2.1h0m0 .2h0m0 13.1h0m0 .4h0m.1-16.7h0m0 4h0m.1 12.7h0m0 .2h0m.2-13.2h0m0 0h0m.1-4h0m.1-.1h0m0 17.1h0m.1-14.8h0m0 15.7h0m0 5.7h0m.1-21.6h0m0 1.5h0m.3-2.4h0m0 1.9h0m.1-1.2h0m.1-4.2h0m0 5h0m.1 13.8h0m0 .6h0m.1 0h0m0 1h0m0 .5h0m.1-14.2h0m0 12.5h0m0 .3h0m1 26.3h0m.1-20.5h0m0 23.5h0m0 9.2h0m.1-39.5h0m0 31.9h0m.2-22.9h0m.1 25.6h0m.1-33h0m0 4h0m.1 2.4h0m.2-6h0m0 4.8h0m.1 .6h0m.1-1.1h0m0 21.1h0m.1-21.8h0m0 21.2h0m0 .5h0m.1-26.6h0m0 26.1h0m0 1.7h0m0 7.9h0m.1-9.4h0m.1-21.4h0m0 1.2h0m0 20.7h0m.2-25.3h0m.1 25.4h0m0 13.6h0m.2-35.9h0m0 .7h0m0 2.8h0m0 0h0m.1 23.6h0m0 8.1h0m.2-10.8h0m.1-33.9h0m0 4.7h0m.1 27.9h0m.1-28.6h0m0 6.1h0m.1 1.2h0m0 .6h0m.1-.7h0m.1-.9h0m0 21.4h0m.1-21.2h0m0 20.3h0m0 .1h0m0 2.3h0m.2-.8h0m.1-1.1h0m.1-21.5h0m0 1.3h0m.1-4.3h0m0 5.7h0m0 20h0m.1 1.1h0m.1-21h0m.1-2.9h0m.1 2.6h0m0 25.4h0m.1-5.7h0m.1-1.2h0m.2-21.1h0m0 .2h0m0 1.1h0m.1 23.2h0m.1-1.6h0m.1-20.3h0m0 1.1h0m0 .1h0m.1 21.7h0m.1-3.1h0m.1-23.9h0m0 3.1h0m0 1.3h0m0 18.8h0m0 5.7h0m.1-24h0m0 17.9h0m.4-18.5h0m.1 19.3h0m.1-19.6h0m0 24.6h0m.1-25.5h0m0 20.4h0m.1-25.1h0m.1 1h0m0 4.6h0m0 19.8h0m.1-20h0m0 0h0m0 20.4h0m0 .4h0m0 3.8h0m.1-33.2h0m0 33.8h0m.1-4.8h0m0 13.4h0m.1-34.4h0m0 21.7h0m0 3.9h0m.2-34.3h0m0 10.5h0m0 20.8h0m.4-23.4h0m0 24.2h0m0 2.2h0m.1-25h0m.1-8.6h0m0 4.1h0m0 5.7h0m0 19.2h0m0 3.7h0m.1-4.9h0m.1 3.5h0m.1 .7h0m.1-24.1h0m0 .5h0m0 1.1h0m.1-1.5h0m.1-1.4h0m0 3.6h0m0 24.1h0m.1-24.4h0m0 .1h0m0 21.5h0m.3-26.9h0m.2 23.8h0m0 3.5h0m.1-22.4h0m0 18.6h0m0 2.3h0m.1-24.4h0m0 .4h0m.1-4h0m0 4.2h0m.1 .3h0m0 2.2h0m0 18.6h0m0 1.3h0m0 .4h0m.1-21.1h0m.2 .5h0m0 .1h0m0 .2h0m0 1h0m0 17.4h0m.1-25.7h0m0 2.5h0m.1 2.2h0m0 .6h0m.1-.1h0m0 2.3h0m0 .7h0m0 17.7h0m0 4.9h0m.2-34.3h0m0 37h0m.1-6.8h0m0 5.4h0m.1-29.9h0m0 24.8h0m0 .8h0m0 8.3h0m.2-10h0m0 3h0m0 10.3h0m.1-13.7h0m0 .5h0m0 1h0m0 5h0m.1-28.9h0m0 4h0m0 18.9h0m0 2.1h0m.1-20h0m.1-5.2h0m0 .2h0m0 4.3h0m0 18.3h0m0 .7h0m0 1.1h0m.1-22h0m0 20h0m0 1.1h0m0 1h0m.1-19.8h0m.1 19.6h0m0 1.4h0m0 6.5h0m.1-6.2h0m.1-24.5h0m0 22h0m.1-19.5h0m0 21.8h0m.1-26.5h0m0 33.2h0m.1-34.1h0m0 25.2h0m.1 3.2h0m.2-23.6h0m.1 23.2h0m0 .2h0m.1-.8h0m0 9.3h0m.1-31.3h0m0 1.4h0m.1-5.2h0m0 4.4h0m0 18.9h0m0 4.2h0m.2-28.1h0m0 2.8h0m.1 1.3h0m0 23.9h0m.1-24.4h0m0 1.6h0m0 18.3h0m.1-20.7h0m0 1.4h0m0 18.8h0m0 .5h0m0 2.4h0m.1-21.5h0m0 29.9h0m.1-10.4h0m.1-27.4h0m0 4.3h0m0 24.6h0m.1-19.8h0m0 18.2h0m0 5.9h0m.1-27.5h0m0 3.5h0m0 20h0m0 11.6h0m.1-13.5h0m0 11.5h0m.1-33.3h0m0 2.1h0m0 1.3h0m0 21.5h0m.1-2.4h0m0 .6h0m.1-22h0m.1-1h0m0 3.5h0m0 21.9h0m0 2.7h0m0 .8h0m.1-30h0m.1 23.9h0m.1-26.2h0m0 3h0m.1 0h0m0 .7h0m0 .3h0m0 21.1h0m0 1.4h0m0 .3h0m.1-21.3h0m0 .3h0m0 .2h0m0 19.4h0m0 14.8h0m.1-10.9h0m0 3.1h0m.2-29.9h0m0 22h0m0 .3h0m0 2.4h0m.1-2.8h0m.1-18.7h0m.1 20.2h0m0 1.6h0m.1-29.9h0m0 26.9h0m.2-.1h0m0 .2h0m0 8.5h0m.1-30.5h0m0 22h0m.1-20.6h0m0 24h0m.1-24h0m0 2.4h0m0 18.9h0m0 2.2h0m0 1.4h0m0 1.1h0m.1-31.3h0m0 .7h0m0 25.6h0m0 .5h0m0 .9h0m.1 1.9h0m.1-1.8h0m0 2.2h0m.1-21.7h0m0 0h0m0 19.5h0m0 6.4h0m0 5.3h0m.1-39h0m0 6.7h0m0 .6h0m0 .5h0m0 19.7h0m.1-27.1h0m0 2.6h0m0 1.4h0m.1-6.3h0m.1 8.3h0m.2 20.3h0m0 2h0m0 2.4h0m.1-2.6h0m0 0h0m0 .3h0m.1-24.5h0m.1 36.1h0m.1-38h0m0 24.7h0m.1-19.5h0m0 20.5h0m.1-21.6h0m0 .4h0m.1-7.9h0m0 4.5h0m0 3.2h0m0 21.4h0m.1-25.1h0m0 3h0m.1-1.7h0m0 .3h0m0 3.1h0m.1-9.3h0m0 7.5h0m.1 .2h0m0 .1h0m0 19.8h0m0 3.5h0m.1-24.3h0m0 2.3h0m0 29.4h0m.1-6.2h0m.1-25.3h0m0 .5h0m0 .7h0m0 22.3h0m.1-27.3h0m0 26.2h0m.1-21.1h0m0 .3h0m0 .5h0m0 21.6h0m0 9.3h0m.2-30.8h0m.1-4.6h0m0 23.5h0m.1-24.6h0m0 .6h0m0 .3h0m0 42.1h0m.1-18h0m0 .3h0m.1-21.2h0m0 .5h0m0 21.2h0m0 15.4h0m.1-35.3h0m0 22.2h0m.1-4h0m0 5.7h0m.2-5.2h0m0 1.4h0m0 13.8h0m.3-41.4h0m0 3.8h0m.1 3.5h0m.1-.7h0m.1-.7h0m0 19.7h0m0 .9h0m.1-26.1h0m0 2.7h0m.1 4.1h0m0 28.5h0m0 8h0m.1-18.6h0m.1 .5h0m.1 .2h0m.1-25.6h0m0 37.3h0m.1-31.4h0m0 19.8h0m.1 .5h0m0 2h0m.1-24.6h0m0 22.1h0m0 3h0m0 2.5h0m.1-27.1h0m0 .3h0m.2 20.8h0m.1 1.6h0m.1-1.3h0m0 6.3h0m0 4h0m.1-30.5h0m0 20.4h0m0 4.5h0m.2-2.5h0m0 1.4h0m.1-22.9h0m.1-3.6h0m0 1.7h0m0 22.7h0m.2-26.2h0m0 29.9h0m.1-31.6h0m.1 7.1h0m0 19.8h0m.1-27.9h0m0 3.8h0m0 24.2h0m.1-19h0m0 18.9h0m.1-19.2h0m.2-12.3h0m.1 6h0m0 6h0m0 .1h0m0 19.3h0m.1-19.3h0m0 .5h0m0 26.9h0m.1-26.7h0m0 20.3h0m0 .5h0m0 4.6h0m.1-29.8h0m0 3.5h0m0 22.4h0m.1-28.8h0m0 34.5h0m.1-34.1h0m0 1.2h0m0 4.4h0m0 19.4h0m.1-32.1h0m0 31.9h0m0 3.6h0m.2-21.6h0m0 17.5h0m0 10.6h0m.1-41.3h0m0 37.1h0m.1-25.3h0m0 1.2h0m.2 22.7h0m.1-4.9h0m.2-21.5h0m0 .7h0m0 20.6h0m.1-18.9h0m0 30.5h0m.1-29.5h0m.1-3.8h0m0 24.6h0m0 6.3h0m.1-30.3h0m0 21.5h0m0 1.9h0m.2-24.5h0m.1 1.5h0m0 3.5h0m.2-7.9h0m0 32.9h0m.1-27.3h0m0 20.3h0m0 4.9h0m.3-25.5h0m.2 20.1h0m.1-18h0m.1-2.4h0m0 .1h0m0 25.3h0m.1-22.8h0m0 18.9h0m0 2.1h0m0 2.8h0m.3-25h0m.1 0h0m0 18.8h0m0 2.1h0m0 2.9h0m.1-30.2h0m.1 26h0m.1 2.9h0m.1-23.7h0m.1 19.8h0m.1-22.3h0m0 28h0m.1-.3h0m0 6.3h0m.1-11.6h0m.1-33.6h0m0 36.6h0m.1-21.4h0m0 28.5h0m.1-10.1h0m0 .9h0m0 1.1h0m.1-22.7h0m.1 2.5h0m0 .8h0m0 18.9h0m.1-24h0m.2 5h0m0 19.5h0m0 2.1h0m.1-21.7h0m0 22.1h0m0 10h0m.1-40h0m0 6.1h0m0 20.2h0m0 5.3h0m.1-24.2h0m0 23.1h0m.1-25.2h0m0 22.6h0m0 1.6h0m.3-30.3h0m0 5.8h0m0 .4h0m0 20.4h0m0 1h0m.1-21.3h0m0 20.4h0m0 5.3h0m.1-4.1h0m.1-21.3h0m0 20.9h0m0 .2h0m.1-1.3h0m0 .6h0m.1-20.6h0m.1 0h0m0 1.8h0m0 .2h0m0 19.9h0m.1-1.6h0m0 .6h0m.1-.7h0m.1-18.5h0m.1-3.8h0m0 3.2h0m0 .4h0m0 21.3h0m.1-26.4h0m0 4.7h0m0 0h0m0 .2h0m.1 20.4h0m0 3.1h0m0 2.5h0m.1-6.4h0m.1-20.4h0m.2-.1h0m.1-5.1h0m0 24.9h0m.1-21h0m0 1.5h0m0 22.6h0m0 4.6h0m0 8h0m.1-37.6h0m0 22.8h0m.1-.9h0m.1-22.8h0m0 1.6h0m0 .4h0m0 23.2h0m0 7.2h0m.1-8.7h0m.1-19.6h0m.1 .4h0m0 21.6h0m0 4.3h0m.1-26.3h0m0 24h0m0 0h0m.1 .7h0m.1-25.2h0m0 .2h0m.2 28.8h0m.1-29.5h0m.1-.2h0m0 23.9h0m.1-23.1h0m0 .3h0m0 1h0m.1-6.7h0m.1 6.5h0m0 19.9h0m.1-33.4h0m.2 13.5h0m0 22.7h0m.1-27h0m0 1.2h0m0 2.5h0m0 20.1h0m.1-22.9h0m0 2.5h0m0 1.1h0m0 18h0m.1 2.8h0m.1-1.7h0m.1-20.4h0m0 1.3h0m0 18.6h0m.1-28.3h0m0 27.8h0m0 5h0m.1-23.8h0m0 .7h0m0 24.7h0m.1-36.9h0m0 12.3h0m0 18h0m.1 .2h0m0 4.4h0m.1-26h0m0 25.5h0m.1-26h0m0 21.5h0m.1-18.1h0m.1-4.6h0m0 2h0m.1-5.5h0m0 5.8h0m0 .6h0m0 20.1h0m.1-33h0m.1 7.8h0m0 4.1h0m0 .5h0m.1 20h0m0 3.9h0m0 .2h0m.1-40h0m0 18.8h0m0 17.8h0m.1-20.9h0m0 .8h0m0 .6h0m0 26.2h0m.1-25.3h0m0 18.7h0m.1-21.9h0m0 2.2h0m0 21.5h0m.1 14.3h0m.1-39.4h0m.1 2h0m0 2.1h0m0 21.4h0m0 .3h0m.2-31h0m0 29.4h0m0 .4h0m0 1.7h0m.1-24h0m0 .7h0m0 19.7h0m0 3.4h0m.1-21.6h0m0 23.3h0m.1-34.3h0m0 2.5h0m0 8.2h0m0 19.4h0m0 1.9h0m0 3.9h0m0 1.8h0m.1-26.3h0m0 22.1h0m.2-26.9h0m0 2.3h0m0 1.7h0m0 .7h0m0 18.1h0m0 3.1h0m.1-31.9h0m.1 2.9h0m0 5.4h0m0 .7h0m0 .5h0m0 1.5h0m.1-4.1h0m0 23h0m.1-18.7h0m0 .1h0m0 17.4h0m0 0h0m.1-29.5h0m0 29.3h0m.1 1.3h0m.1-20.1h0m0 19.6h0m0 3.5h0m.1-22.4h0m0 18h0m0 1.2h0m0 3.9h0m.1-4.1h0m.1-19h0m0 18.2h0m.1-19h0m0 .5h0m0 19.1h0m.2-19.4h0m0 21.1h0m.1-28.4h0m0 31.2h0m.1-23.7h0m0 .6h0m.1-7.5h0m0 7.7h0m0 22.5h0m0 10.7h0m.1-13.5h0m0 1.8h0m.1-3.8h0m.1-24.7h0m0 5.1h0m0 1h0m0 18.5h0m0 1.2h0m.1-22.3h0m0 .6h0m0 22.6h0m.1-.6h0m.2-.1h0m0 14.4h0m.1-35.1h0m0 22.5h0m.1-21.6h0m0 19.1h0m0 8.1h0m.1-5.9h0m.1-37.1h0m0 14.1h0m0 2.1h0m.2-.4h0m0 20h0m.2-19.6h0m0 24.8h0m0 4.1h0m.1-29.3h0m.1-5.1h0m0 .3h0m0 23.3h0m.1-24.9h0m.1-8.6h0m0 36.8h0m0 4.3h0m.1-24.8h0m.1-3.4h0m0 2.6h0m0 20.9h0m0 2.1h0m.1-2.1h0m.1 1.3h0m.1-23.4h0m0 .5h0m0 .3h0m0 20.9h0m.1-21.5h0m0 .9h0m0 19h0m0 1.2h0m.1-19.9h0m.1 29.7h0m.1-11.2h0m.1-25.6h0m0 3.3h0m.1 2.5h0m.3-1.9h0m0 21.2h0m0 4.8h0" stroke="#000" stroke-width="1.50"/></g><path d="M359.9 515.40H507.6" stroke="#b8b8b8" stroke-width="1.1"/><path d="M364.5 500.24H391.0" stroke="#d82a30" stroke-width="2.2"/><path d="M391.0 506.60H429.5" stroke="#d82a30" stroke-width="2.2"/><path d="M428.5 526.16H452.0" stroke="#d82a30" stroke-width="2.2"/><path d="M451.0 510.51H461.5" stroke="#d82a30" stroke-width="2.2"/><path d="M461.3 532.03H502.5" stroke="#d82a30" stroke-width="2.2"/><rect x="359.9" y="462.7" width="147.7" height="105.2" fill="none" stroke="#747474" stroke-width="1.3"/><path d="M359.9 466.50V564.30M365.20 567.9H496.30M359.9 466.50h-3.6M359.9 490.95h-3.6M359.9 515.40h-3.6M359.9 539.85h-3.6M359.9 564.30h-3.6M365.20 567.9v3.8M387.05 567.9v3.8M408.90 567.9v3.8M430.75 567.9v3.8M452.60 567.9v3.8M474.45 567.9v3.8M496.30 567.9v3.8" stroke="#4d4d4d" stroke-width="1.2" fill="none"/><text x="353.50" y="471.20" font-size="12" text-anchor="end" fill="#1a1a1a">2</text><text x="353.50" y="495.65" font-size="12" text-anchor="end" fill="#1a1a1a">1</text><text x="353.50" y="520.10" font-size="12" text-anchor="end" fill="#1a1a1a">0</text><text x="353.50" y="544.55" font-size="12" text-anchor="end" fill="#1a1a1a">-1</text><text x="353.50" y="569.00" font-size="12" text-anchor="end" fill="#1a1a1a">-2</text><text x="436.20" y="331.80" font-size="14" text-anchor="middle" font-weight="bold">Chromosome 6</text><text x="437.30" y="588.20" font-size="14" text-anchor="middle" font-weight="bold">Exome intervals</text><text transform="rotate(-90 329.1 508.4)" x="329.1" y="508.4" font-size="14" font-weight="bold">log<tspan dy="9.4" font-size="12.4">2</tspan><tspan dy="-9.4">(fold change)</tspan></text>
</svg>
</body></html>
